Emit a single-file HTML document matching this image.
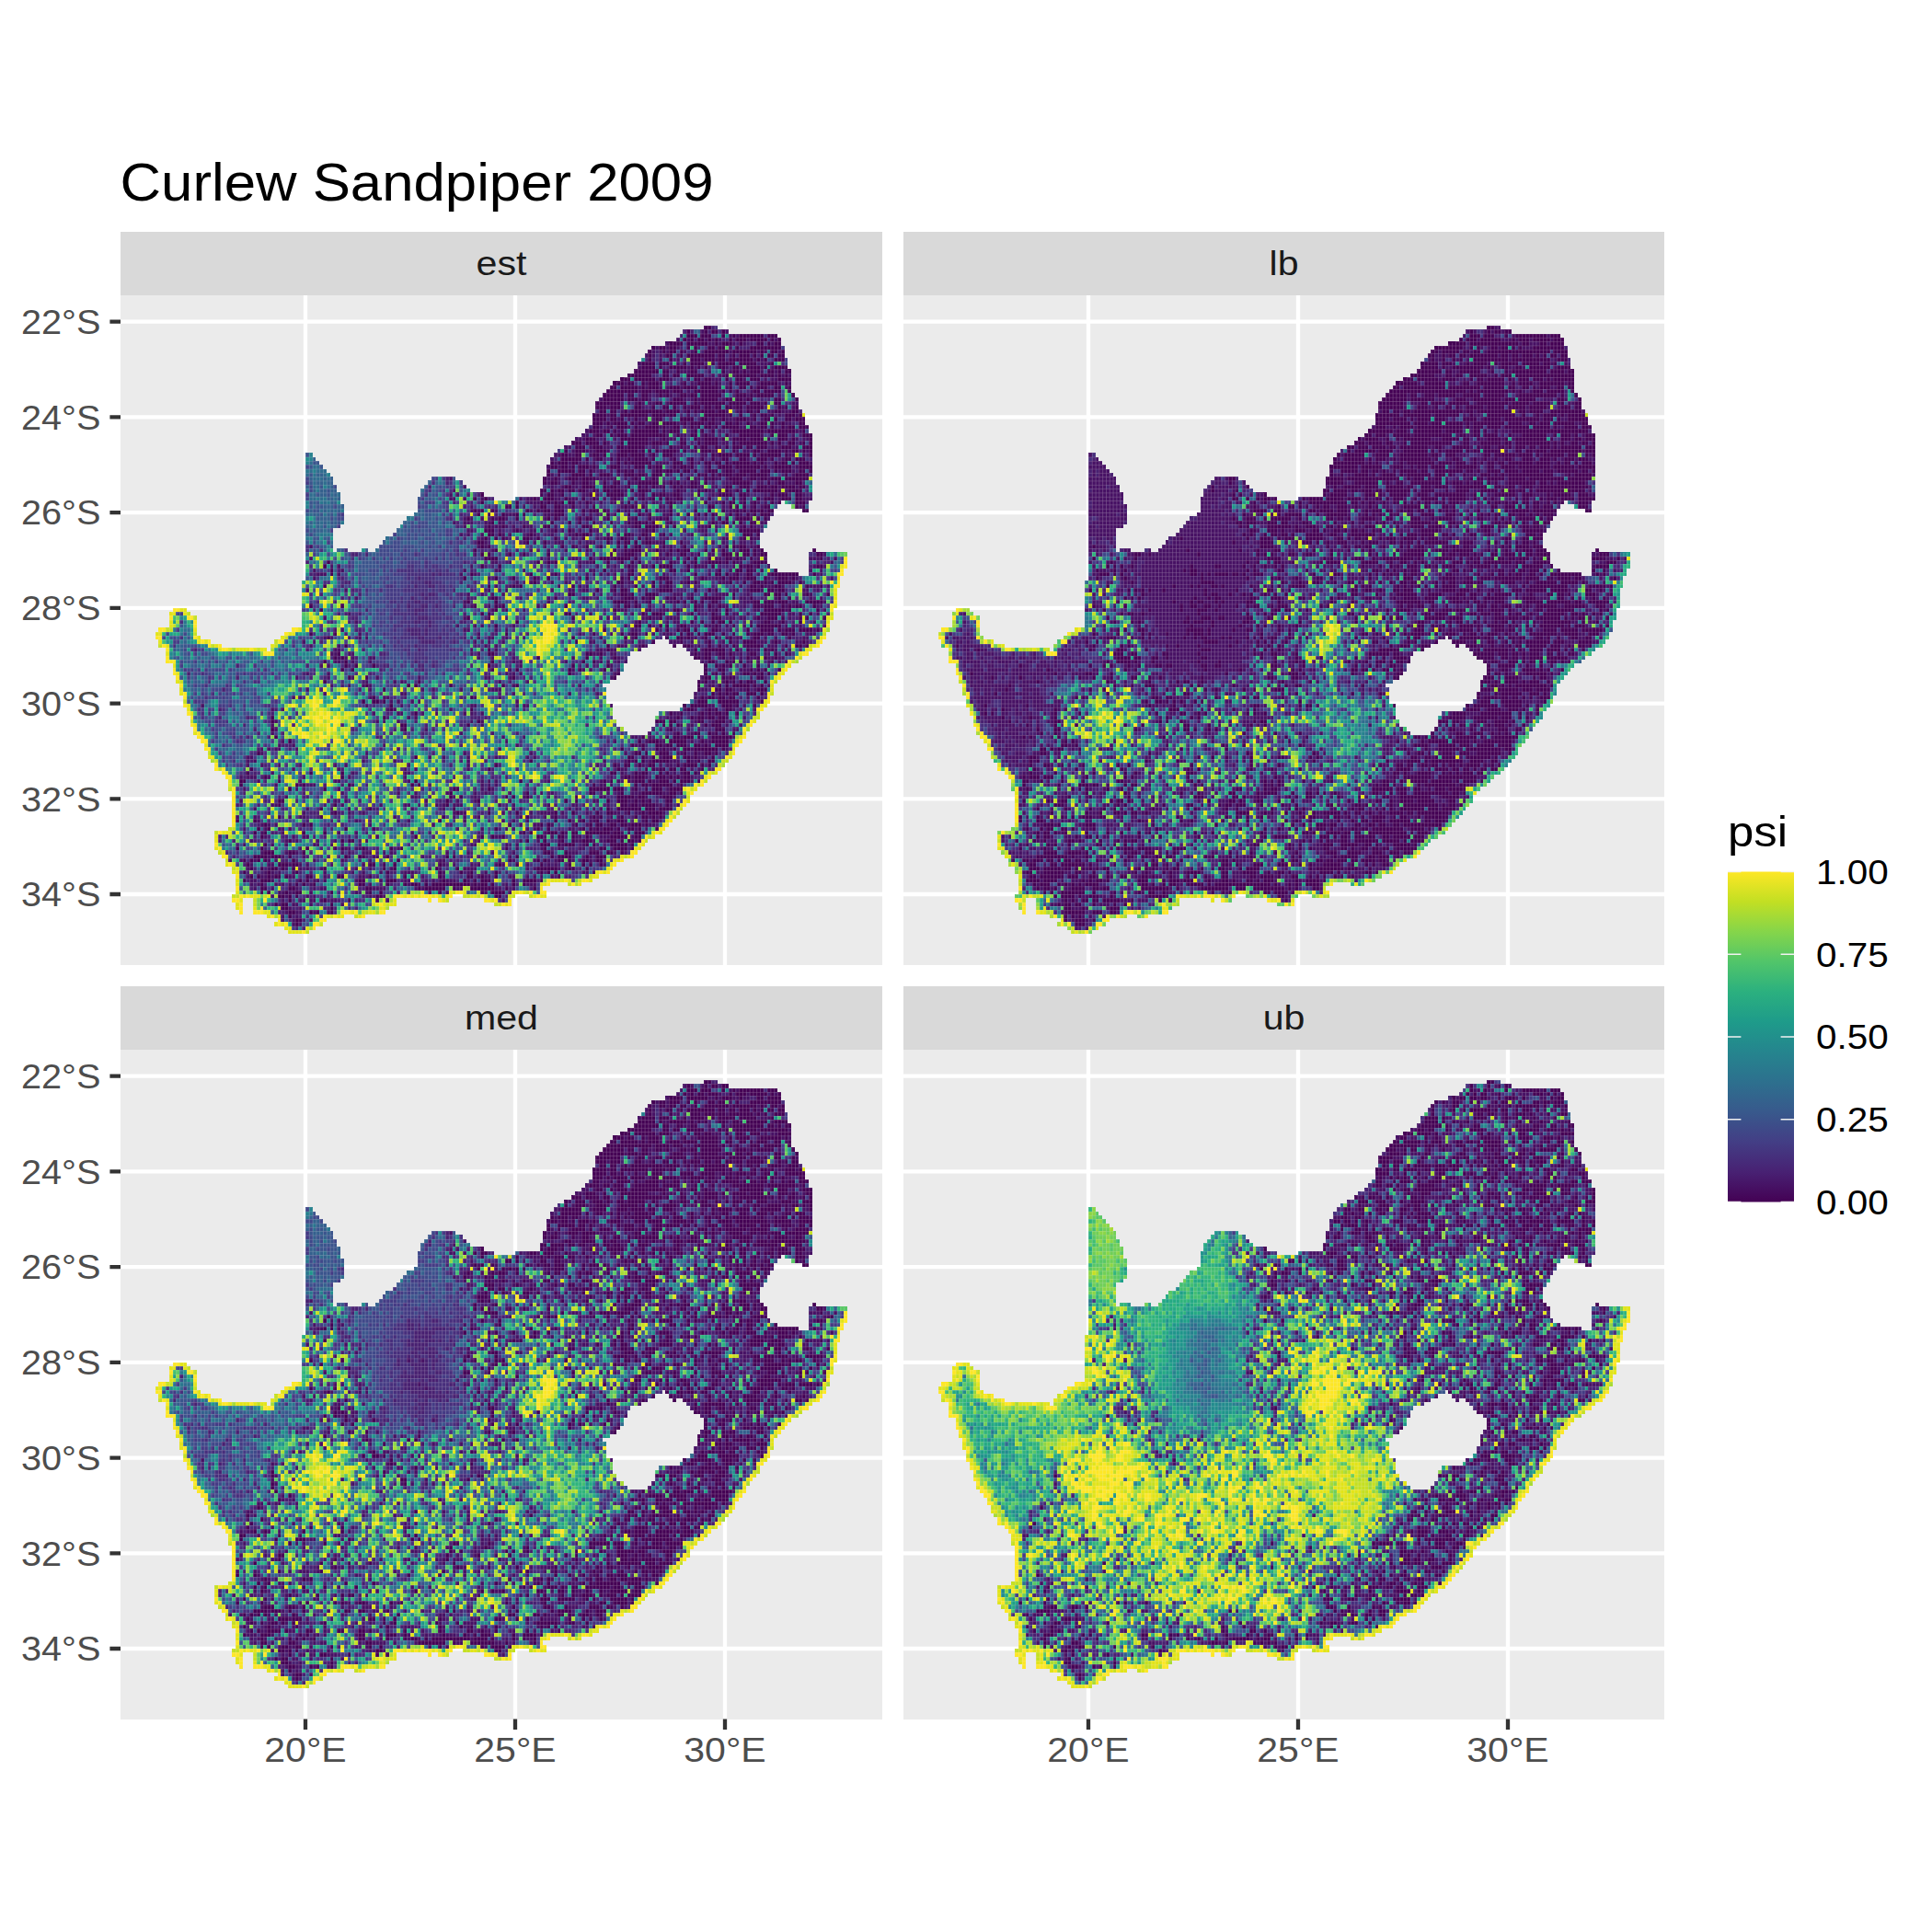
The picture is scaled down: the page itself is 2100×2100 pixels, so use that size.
<!DOCTYPE html>
<html><head><meta charset="utf-8"><style>
html,body{margin:0;padding:0;background:#fff;}
svg{display:block;}
text{font-family:"Liberation Sans", sans-serif;}
</style></head><body>
<svg width="2100" height="2100" viewBox="0 0 2100 2100">
<rect width="2100" height="2100" fill="#fff"/>

<text x="130.5" y="218.3" font-size="57" fill="#000" textLength="645" lengthAdjust="spacingAndGlyphs">Curlew Sandpiper 2009</text>
<rect x="131" y="252" width="828" height="69" fill="#D9D9D9"/>
<text x="545.0" y="298.7" font-size="37" fill="#1A1A1A" text-anchor="middle" textLength="55" lengthAdjust="spacingAndGlyphs">est</text>
<rect x="131" y="321" width="828" height="728" fill="#EBEBEB"/>
<path d="M131 349.6H959M131 453.3H959M131 557.1H959M131 660.8H959M131 764.6H959M131 868.3H959M131 972.0H959M332.0 321V1049M560.0 321V1049M788.0 321V1049" stroke="#fff" stroke-width="4.3" fill="none"/>
<g transform="translate(149.60,351.761) scale(3.8000,4.3225)" fill="none" stroke-width="1" shape-rendering="crispEdges">
<path stroke="#440154" d="M162 1h2M157 2h1m4 0h1m1 0h2m1 0h1M157 3h3m1 0h3m3 0h1m2 0h1m1 0h7m1 0h3M156 4h1m1 0h1m1 0h2m1 0h1m1 0h1m3 0h1m1 0h3m1 0h5m1 0h1m1 0h1M152 5h4m1 0h6m2 0h1m1 0h3m2 0h1m4 0h2m1 0h1m1 0h2M147 6h1m1 0h2m1 0h2m3 0h1m1 0h1m3 0h2m1 0h2m3 0h1m3 0h9M146 7h1m3 0h1m1 0h2m1 0h1m3 0h1m2 0h7m1 0h7m1 0h1m2 0h2m1 0h1M146 8h1m4 0h2m2 0h1m1 0h8m1 0h2m2 0h1m1 0h3m1 0h1m1 0h1m1 0h2m1 0h2M146 9h1m5 0h1m5 0h3m1 0h3m1 0h2m1 0h7m1 0h1m1 0h1m2 0h3M144 10h4m1 0h3m4 0h1m1 0h4m2 0h1m1 0h5m1 0h5m4 0h1M144 11h4m1 0h1m2 0h5m1 0h1m1 0h1m1 0h1m3 0h2m2 0h2m2 0h4m1 0h1m2 0h4M142 12h7m1 0h2m2 0h1m3 0h2m7 0h1m2 0h2m1 0h1m1 0h3m2 0h2m1 0h1m1 0h2M140 13h7m3 0h2m1 0h2m2 0h5m6 0h1m2 0h6m1 0h4m1 0h1m1 0h1M138 14h3m1 0h6m1 0h3m7 0h2m1 0h2m4 0h1m2 0h2m2 0h3m5 0h4M136 15h3m1 0h2m2 0h1m1 0h3m7 0h1m3 0h4m1 0h1m3 0h1m1 0h4m3 0h5m2 0h1M135 16h2m1 0h5m1 0h1m1 0h3m3 0h3m1 0h4m1 0h5m3 0h1m2 0h2m1 0h1m1 0h3m2 0h2m2 0h1M134 17h9m1 0h3m1 0h4m1 0h3m3 0h7m1 0h1m1 0h1m1 0h1m4 0h2m1 0h5m2 0h1M133 18h6m1 0h2m2 0h2m3 0h1m1 0h1m3 0h2m1 0h2m1 0h6m4 0h3m1 0h1m1 0h5m5 0h1M133 19h6m1 0h3m1 0h2m7 0h3m3 0h1m1 0h5m2 0h2m1 0h2m1 0h2m6 0h2m4 0h1M131 20h7m5 0h1m4 0h2m2 0h5m2 0h1m1 0h7m1 0h5m1 0h3m1 0h1m2 0h2M131 21h3m1 0h3m4 0h2m3 0h1m2 0h2m1 0h1m2 0h1m1 0h3m1 0h2m1 0h2m1 0h2m1 0h2m1 0h5m4 0h1m1 0h1m2 0h1M132 22h2m1 0h2m2 0h1m1 0h9m1 0h4m2 0h1m1 0h1m1 0h4m1 0h2m4 0h1m1 0h2m1 0h1m4 0h2m3 0h2M130 23h4m1 0h2m1 0h8m1 0h4m1 0h2m8 0h6m1 0h1m2 0h1m3 0h1m1 0h2m1 0h1m3 0h3m1 0h1M130 24h4m1 0h2m1 0h1m3 0h1m2 0h1m2 0h2m5 0h4m2 0h2m1 0h1m2 0h1m3 0h3m2 0h1m2 0h2m1 0h1m2 0h2m1 0h3M130 25h3m1 0h1m1 0h4m1 0h1m1 0h2m2 0h2m1 0h4m2 0h1m1 0h4m1 0h2m3 0h2m1 0h1m2 0h1m3 0h2m1 0h1m2 0h1m4 0h2M130 26h2m3 0h1m1 0h3m2 0h1m2 0h4m1 0h1m2 0h2m3 0h1m1 0h1m1 0h2m1 0h1m1 0h5m3 0h2m1 0h2m1 0h1m2 0h1m1 0h2m1 0h3M129 27h3m1 0h2m1 0h1m1 0h1m3 0h7m1 0h1m1 0h3m4 0h1m1 0h1m2 0h1m5 0h9m1 0h8m2 0h1M131 28h2m2 0h1m1 0h3m1 0h10m3 0h1m3 0h2m2 0h1m5 0h1m3 0h6m3 0h1m1 0h3m4 0h3M128 29h3m7 0h8m4 0h1m4 0h1m3 0h1m2 0h4m1 0h1m2 0h4m1 0h4m1 0h1m2 0h3m1 0h1m4 0h1M124 30h3m1 0h4m1 0h1m4 0h1m1 0h6m1 0h3m1 0h1m3 0h2m3 0h1m1 0h4m4 0h1m1 0h8m1 0h1m1 0h1m2 0h2m2 0h1m1 0h1M125 31h3m2 0h3m4 0h2m1 0h5m7 0h1m2 0h1m3 0h1m1 0h2m2 0h1m2 0h1m1 0h3m1 0h2m1 0h3m4 0h3m3 0h3M122 32h1m2 0h3m3 0h3m4 0h5m1 0h1m1 0h1m1 0h1m1 0h4m2 0h1m4 0h3m6 0h1m5 0h2m2 0h4m1 0h1m1 0h2m1 0h1m1 0h1M121 33h2m2 0h2m3 0h2m1 0h1m3 0h3m1 0h4m2 0h1m2 0h3m11 0h1m1 0h4m1 0h4m1 0h1m1 0h6m1 0h1m6 0h1M121 34h6m1 0h1m2 0h2m2 0h1m1 0h1m2 0h1m1 0h4m1 0h1m5 0h1m4 0h1m2 0h1m2 0h1m2 0h2m3 0h2m3 0h3m1 0h1m3 0h2m1 0h3M118 35h1m1 0h3m1 0h2m11 0h1m1 0h1m1 0h6m6 0h3m2 0h1m3 0h2m1 0h2m1 0h1m1 0h5m1 0h1m1 0h1m3 0h1m1 0h2m1 0h1m1 0h3M118 36h2m1 0h2m1 0h1m1 0h3m1 0h1m4 0h3m4 0h3m1 0h1m1 0h2m3 0h1m1 0h2m1 0h1m4 0h1m2 0h4m1 0h7m1 0h1m2 0h5m2 0h4M117 37h1m2 0h5m1 0h2m1 0h1m7 0h1m1 0h1m1 0h1m6 0h2m1 0h2m1 0h1m1 0h2m1 0h1m3 0h3m2 0h2m2 0h5m1 0h3m1 0h1m1 0h3m2 0h2m1 0h1M117 38h1m2 0h1m3 0h4m1 0h1m2 0h3m4 0h3m1 0h2m2 0h3m5 0h1m4 0h1m1 0h1m1 0h1m1 0h1m1 0h2m1 0h3m1 0h5m5 0h1m2 0h4M116 39h1m2 0h1m3 0h3m1 0h4m11 0h1m4 0h1m9 0h1m4 0h1m1 0h1m4 0h4m2 0h2m1 0h2m1 0h3m1 0h7M116 40h1m1 0h2m4 0h1m2 0h2m4 0h1m2 0h2m2 0h1m2 0h6m3 0h1m1 0h1m3 0h2m2 0h1m7 0h5m5 0h1m2 0h2m3 0h2M122 41h2m3 0h4m2 0h1m1 0h2m3 0h1m2 0h1m1 0h1m1 0h1m2 0h1m2 0h1m1 0h1m2 0h2m8 0h2m2 0h3m2 0h3m1 0h2m1 0h4m1 0h2M115 42h2m1 0h1m1 0h2m1 0h2m1 0h2m2 0h1m2 0h2m1 0h2m3 0h1m1 0h3m8 0h1m5 0h1m1 0h1m3 0h1m1 0h1m2 0h1m2 0h1m1 0h7m3 0h4M98 43h1m16 0h1m1 0h2m2 0h1m7 0h1m4 0h5m5 0h1m2 0h1m1 0h2m2 0h2m5 0h1m5 0h4m2 0h2m7 0h1m1 0h3m2 0h2M96 44h1m2 0h1m13 0h1m2 0h3m3 0h1m4 0h1m2 0h1m5 0h1m4 0h1m2 0h1m2 0h1m1 0h1m1 0h1m2 0h2m7 0h1m6 0h1m2 0h1m3 0h1m1 0h3m2 0h3m1 0h2M98 45h1m9 0h1m6 0h1m1 0h1m1 0h1m1 0h1m1 0h2m3 0h1m11 0h1m11 0h1m9 0h1m4 0h1m1 0h2m2 0h1m2 0h1m4 0h1m1 0h1m4 0h3M105 46h2m1 0h1m6 0h2m2 0h2m3 0h1m5 0h1m8 0h1m1 0h1m2 0h1m7 0h1m10 0h2m4 0h1m1 0h1m1 0h1m2 0h1m2 0h2m7 0h1m1 0h1M96 47h1m1 0h1m2 0h1m9 0h1m2 0h1m1 0h2m1 0h3m5 0h1m1 0h3m1 0h1m3 0h1m7 0h1m6 0h1m6 0h1m3 0h1m3 0h1m3 0h1m1 0h1m1 0h2m1 0h1m1 0h2m8 0h2M97 48h1m6 0h1m3 0h1m1 0h1m8 0h3m12 0h1m5 0h1m2 0h1m2 0h1m5 0h1m4 0h1m2 0h1m1 0h1m1 0h1m4 0h1m1 0h1m2 0h1m1 0h1m1 0h3M94 49h1m6 0h1m1 0h2m3 0h1m8 0h1m1 0h1m6 0h1m1 0h2m4 0h1m7 0h1m3 0h1m2 0h1m1 0h1m14 0h1m1 0h1m2 0h4m2 0h1m1 0h1M101 50h1m16 0h1m4 0h1m2 0h1m3 0h1m4 0h1m4 0h1m1 0h2m1 0h1m1 0h1m4 0h1m11 0h1m2 0h2m1 0h1m1 0h1m2 0h2M100 51h1m3 0h1m5 0h1m5 0h2m9 0h2m13 0h2m1 0h4m4 0h1m9 0h1m9 0h1m1 0h1M99 52h3m6 0h1m10 0h1m3 0h1m5 0h1m15 0h1m1 0h1m24 0h6M100 53h2m1 0h1m8 0h1m12 0h1m1 0h2m10 0h2m3 0h2m4 0h1m22 0h3m1 0h1M99 54h1m2 0h1m1 0h1m5 0h2m2 0h1m4 0h1m7 0h1m6 0h2m2 0h2m3 0h1m1 0h1m27 0h1m1 0h1M97 55h2m12 0h1m4 0h1m17 0h1m2 0h1m1 0h2m1 0h1m2 0h2m3 0h1m4 0h1M98 56h1m1 0h1m20 0h1m2 0h1m3 0h1m3 0h1m6 0h1m2 0h2m6 0h1m5 0h1m11 0h1m1 0h1m1 0h2m3 0h1M96 57h1m5 0h1m33 0h1m2 0h1m1 0h3m4 0h1m3 0h1m1 0h1m1 0h2m4 0h1m1 0h1m2 0h1m4 0h3m1 0h1m1 0h1m14 0h1M98 58h1m1 0h1m5 0h1m3 0h1m6 0h1m17 0h1m3 0h3m9 0h1m3 0h2m3 0h1m6 0h3m1 0h1m1 0h2m1 0h1m1 0h2m14 0h2M99 59h4m26 0h1m2 0h3m1 0h5m1 0h1m14 0h1m1 0h1m3 0h1m4 0h2m1 0h1m3 0h1m19 0h1M54 60h1m59 0h1m2 0h1m1 0h1m10 0h1m3 0h1m3 0h1m2 0h1m1 0h1m8 0h1m3 0h1m2 0h1m3 0h4m1 0h1m1 0h1m5 0h4M53 61h1m44 0h1m4 0h1m36 0h1m6 0h1m1 0h4m4 0h1m1 0h1m4 0h1m7 0h1m1 0h2m1 0h1m16 0h2M55 62h1m77 0h1m7 0h1m10 0h2m3 0h1m8 0h1m4 0h2m1 0h2m6 0h1M55 63h1m39 0h1m16 0h1m6 0h1m20 0h2m17 0h1m5 0h2m1 0h1m2 0h1m2 0h2m5 0h8m4 0h1M93 64h1m8 0h1m4 0h1m5 0h1m3 0h1m10 0h1m9 0h1m1 0h1m8 0h3m9 0h1m5 0h1m1 0h3m2 0h3m2 0h1m3 0h3m1 0h1M113 65h1m23 0h2m8 0h1m3 0h2m4 0h1m1 0h1m9 0h1m3 0h1m2 0h2m1 0h1m1 0h1m1 0h4m2 0h1M53 66h1m46 0h1m6 0h1m1 0h1m14 0h1m11 0h1m5 0h1m4 0h1m3 0h1m23 0h2m1 0h1m3 0h2m7 0h1m3 0h1M131 67h1m4 0h1m1 0h2m9 0h4m6 0h1m3 0h1m1 0h1m9 0h3m2 0h2m1 0h2M123 68h2m13 0h2m1 0h1m3 0h3m22 0h1m8 0h2m1 0h2m1 0h1m5 0h1m5 0h1M101 69h2m16 0h1m19 0h3m2 0h1m1 0h2m3 0h1m1 0h1m4 0h1m3 0h5m3 0h1m4 0h1m7 0h1m2 0h1M94 70h1m7 0h1m33 0h4m2 0h1m3 0h1m7 0h1m1 0h1m2 0h1m1 0h1m2 0h2m10 0h2m1 0h3m1 0h3m5 0h5M49 71h1m8 0h1m37 0h1m5 0h1m1 0h1m17 0h1m16 0h2m1 0h1m16 0h1m3 0h1m2 0h1m9 0h2m1 0h3m2 0h1m1 0h1m1 0h2m3 0h1M52 72h1m49 0h1m33 0h1m9 0h1m6 0h2m4 0h1m5 0h1m2 0h1m10 0h6m1 0h1m7 0h1M98 73h1m1 0h1m21 0h2m20 0h1m2 0h3m8 0h1m5 0h1m3 0h1m9 0h6m5 0h1m2 0h1M94 74h1m5 0h1m23 0h1m21 0h1m2 0h1m14 0h3m10 0h1m2 0h3m1 0h1m4 0h1m1 0h1m4 0h1M108 75h1m34 0h1m14 0h1m2 0h1m2 0h1m1 0h2m1 0h1m9 0h2m3 0h1m4 0h1M102 76h1m39 0h2m2 0h1m2 0h1m1 0h1m3 0h2m8 0h1m4 0h1m4 0h1m1 0h7M133 77h1m14 0h1m2 0h1m2 0h1m1 0h2m1 0h1m4 0h2m8 0h1m3 0h4m1 0h1m1 0h3m1 0h4m1 0h1M49 78h1m6 0h1m48 0h1m24 0h1m7 0h1m2 0h2m2 0h1m9 0h1m1 0h1m2 0h1m1 0h3m2 0h1m2 0h1m3 0h1m1 0h3m1 0h2m2 0h2m1 0h1M54 79h1m69 0h1m14 0h1m2 0h1m8 0h1m2 0h2m1 0h1m4 0h1m2 0h1m3 0h1m6 0h2m8 0h1M125 80h1m21 0h1m7 0h1m7 0h1m5 0h1m3 0h4m5 0h1m7 0h1M59 81h1m74 0h1m9 0h1m8 0h1m2 0h2m5 0h1m2 0h1m3 0h1m3 0h4m7 0h1m2 0h2m1 0h1M100 82h1m33 0h1m24 0h1m2 0h6m3 0h1m2 0h1m4 0h1m1 0h1M57 83h1m42 0h2m26 0h2m2 0h1m26 0h1m2 0h2m2 0h2m1 0h1m5 0h2m5 0h1m2 0h1M56 84h1m1 0h1m55 0h1m13 0h1m7 0h1m22 0h2m1 0h2m3 0h1m2 0h1m3 0h1m2 0h1m1 0h1m2 0h1M53 85h1m5 0h1m41 0h1m25 0h1m2 0h1m32 0h2m3 0h1m1 0h1m1 0h1m8 0h1M59 86h1m2 0h1m4 0h1m32 0h1m23 0h1m9 0h1m27 0h1m2 0h1m1 0h1m1 0h1m3 0h1m3 0h1M58 87h1m2 0h1m39 0h1m6 0h1m14 0h1m2 0h1m6 0h1m28 0h1m3 0h2m7 0h1m1 0h1m1 0h1m3 0h1M123 88h1m13 0h1m24 0h1m2 0h1m1 0h1m5 0h2m1 0h1m1 0h1m1 0h1M60 89h1m4 0h1m41 0h1m28 0h1m25 0h2m3 0h1m1 0h2m6 0h2M53 90h1m26 0h1m79 0h1m1 0h1m5 0h1m1 0h1m1 0h1m1 0h2m3 0h1M65 91h1m11 0h1m1 0h1m9 0h1m14 0h1m3 0h1m51 0h1m5 0h1m1 0h1m1 0h5m1 0h1m1 0h1M70 92h1m89 0h1m4 0h2m1 0h2m4 0h1m2 0h3M164 93h1m1 0h1m1 0h1m1 0h2m2 0h3m1 0h1M67 94h1m27 0h1m65 0h1m1 0h2m1 0h2m1 0h2m6 0h1M64 95h1m2 0h2m1 0h1m89 0h3m3 0h6m6 0h1M72 96h1m83 0h1m1 0h5m4 0h3m1 0h1m4 0h1M72 97h1m22 0h1m61 0h2m4 0h1m1 0h1m2 0h2M79 98h1m72 0h1m2 0h1m5 0h1m1 0h1m1 0h2m1 0h1m2 0h1M38 99h1m31 0h1m83 0h1m3 0h1m1 0h2m1 0h2m1 0h2M38 100h1m58 0h1m50 0h3m1 0h2m6 0h2m3 0h3M75 101h2m17 0h1m55 0h1m1 0h1m1 0h1m7 0h1m1 0h3M38 102h1m37 0h1m75 0h1m12 0h3M154 103h1m4 0h2m2 0h1m1 0h1m1 0h1m2 0h1M39 104h1m104 0h1m6 0h1m1 0h2m1 0h3m1 0h1m3 0h6M43 105h1m99 0h1m2 0h3m3 0h5m4 0h1m2 0h5M141 106h1m2 0h1m3 0h2m1 0h2m1 0h3m2 0h2m1 0h1m2 0h4M138 107h1m5 0h1m3 0h1m1 0h1m2 0h1m2 0h2m1 0h7m1 0h1M34 108h1m107 0h2m1 0h1m3 0h3m4 0h1m2 0h1m2 0h2m1 0h1M79 109h1m60 0h2m2 0h1m2 0h1m2 0h3m3 0h2m1 0h1m4 0h1M112 110h1m27 0h1m1 0h1m1 0h1m2 0h5m5 0h1m2 0h1m2 0h2M102 111h1m33 0h1m2 0h2m2 0h1m2 0h2m6 0h1m1 0h4m1 0h1m1 0h1M32 112h1m67 0h1m36 0h1m7 0h1m1 0h1m1 0h2m1 0h2m1 0h2m4 0h1M31 113h1m17 0h1m8 0h1m76 0h2m5 0h1m1 0h2m3 0h1m1 0h1m4 0h2m1 0h1M36 114h1m21 0h1m80 0h2m1 0h3m3 0h3m1 0h1m1 0h1m1 0h2M29 115h2m9 0h1m38 0h1m29 0h1m23 0h1m1 0h1m6 0h3m1 0h1m2 0h3m1 0h1m1 0h3m2 0h1M29 116h1m15 0h1m1 0h1m12 0h1m17 0h1m1 0h1m49 0h1m11 0h1m1 0h2m1 0h6m2 0h1M43 117h1m9 0h1m36 0h2m8 0h1m28 0h6m1 0h3m3 0h1m2 0h1m1 0h3m2 0h4M89 118h1m21 0h1m17 0h2m7 0h1m5 0h6m2 0h2m1 0h1M89 119h1m2 0h1m12 0h1m1 0h1m3 0h1m13 0h1m11 0h5m1 0h2m5 0h3M40 120h2m46 0h1m8 0h1m24 0h1m2 0h1m8 0h1m2 0h3m2 0h1m1 0h1m1 0h1m4 0h2M40 121h1m15 0h1m31 0h1m49 0h2m1 0h2m1 0h4m3 0h1M52 122h1m7 0h1m5 0h1m23 0h1m43 0h1m2 0h7m1 0h3m1 0h4M56 123h1m34 0h1m8 0h1m7 0h1m10 0h1m4 0h1m6 0h1m2 0h2m4 0h1m3 0h1m1 0h4M40 124h1m11 0h1m34 0h1m23 0h1m7 0h1m10 0h1m1 0h1m5 0h1m3 0h1m1 0h2m1 0h1m1 0h1M28 125h1m4 0h1m52 0h1m32 0h1m3 0h1m3 0h1m3 0h1m2 0h1m2 0h2m6 0h1m1 0h2M36 126h1m10 0h1m1 0h1m56 0h1m8 0h1m1 0h1m7 0h1m3 0h1m1 0h2m2 0h2m1 0h2m1 0h3m1 0h1M34 127h1m2 0h1m21 0h1m7 0h1m34 0h1m11 0h1m2 0h1m9 0h1m1 0h1m1 0h1m1 0h3m1 0h1m2 0h2m1 0h1m4 0h1M33 128h1m2 0h1m10 0h1m5 0h1m56 0h1m1 0h1m4 0h3m1 0h1m2 0h2m2 0h7m1 0h2m4 0h3M35 129h1m43 0h1m18 0h1m2 0h1m2 0h1m9 0h2m4 0h2m2 0h1m3 0h1m6 0h5m2 0h2M43 130h1m14 0h1m1 0h2m49 0h1m4 0h1m4 0h1m2 0h1m2 0h3m4 0h3m1 0h1m1 0h2m1 0h1M36 131h1m78 0h3m2 0h1m1 0h3m3 0h1m1 0h1m4 0h5m1 0h1M28 132h1m6 0h1m12 0h1m7 0h1m1 0h1m5 0h1m7 0h1m2 0h1m29 0h1m10 0h1m15 0h2m2 0h4m1 0h1M36 133h3m4 0h2m2 0h1m68 0h2m4 0h1m6 0h3m2 0h2m2 0h1M33 134h4m1 0h3m2 0h1m15 0h1m3 0h2m6 0h1m16 0h1m1 0h1m17 0h1m9 0h1m1 0h4m4 0h1m2 0h3M30 135h1m1 0h1m1 0h1m1 0h1m7 0h1m29 0h1m31 0h1m7 0h1m1 0h1m3 0h2m1 0h1m3 0h2m2 0h2M31 136h1m8 0h3m1 0h2m20 0h2m2 0h1m2 0h1m12 0h1m16 0h1m4 0h1m6 0h1m7 0h1m3 0h1m1 0h1m2 0h1M32 137h1m2 0h1m2 0h2m1 0h1m2 0h1m8 0h1m16 0h1m2 0h1m11 0h1m5 0h1m22 0h6m3 0h2m3 0h1M30 138h1m6 0h1m7 0h1m25 0h1m14 0h1m5 0h1m2 0h1m6 0h1m12 0h1m1 0h1m1 0h1m10 0h1M32 139h1m1 0h1m2 0h1m1 0h2m1 0h1m5 0h2m7 0h2m7 0h1m9 0h1m9 0h1m7 0h2m2 0h1m3 0h1m17 0h1M30 140h1m4 0h3m8 0h1m1 0h1m14 0h2m6 0h3m13 0h1m5 0h1m2 0h1m1 0h3m6 0h1m2 0h4m1 0h1M35 141h1m9 0h1m1 0h1m2 0h1m12 0h2m6 0h1m4 0h1m1 0h2m2 0h1m1 0h11m1 0h1m1 0h2m1 0h1m5 0h1m2 0h1M35 142h2m6 0h2m20 0h2m13 0h1m1 0h6m2 0h1m4 0h7m3 0h1m7 0h1M35 143h1m1 0h1m4 0h1m2 0h2m8 0h1m10 0h1m2 0h1m16 0h1m11 0h1m2 0h4M40 144h2m1 0h1m1 0h1m22 0h2m32 0h2M43 145h1m9 0h1m6 0h1m7 0h1M39 146h1m1 0h2m12 0h1M41 147h2m12 0h1M43 148h2m4 0h1m1 0h1m3 0h1M43 149h1M45 150h2M45 151h1"/>
<path stroke="#471164" d="M161 2h1m6 0h1M169 3h1m1 0h1M154 4h1m2 0h1m4 0h1m1 0h1m1 0h1m7 0h1m7 0h1M151 5h1m11 0h2m1 0h1m3 0h1m2 0h1m7 0h1M148 6h1m2 0h1m2 0h1m14 0h1M147 7h1m1 0h1m1 0h1m4 0h1m1 0h1m10 0h1m7 0h1m1 0h1m3 0h1M145 8h1m1 0h1m1 0h1m4 0h1m14 0h1M149 9h1m4 0h1m6 0h1m3 0h1m10 0h1m1 0h1M143 10h1m10 0h1m23 0h3M143 11h1m13 0h1m1 0h1m8 0h1m3 0h1m5 0h1m2 0h1M155 12h3m5 0h1m5 0h1m2 0h1m1 0h1m3 0h1m3 0h1M164 13h1m1 0h2m2 0h1m6 0h1m4 0h1m1 0h1m1 0h1M152 14h1m4 0h1m6 0h3m6 0h1m5 0h1m1 0h2M139 15h1m5 0h1m3 0h1m5 0h1m2 0h2m4 0h1m1 0h1m10 0h1m5 0h1m2 0h1M143 16h1m1 0h1m3 0h1m1 0h1m3 0h1m10 0h1m1 0h1m16 0h1M143 17h1m3 0h1m4 0h1m4 0h1m8 0h1m8 0h1M146 18h1m1 0h1m1 0h1m1 0h1m1 0h1m2 0h1m16 0h1m1 0h1m6 0h1M132 19h1m10 0h1m2 0h1m9 0h1m1 0h1m1 0h1m6 0h1m5 0h1M142 20h1m1 0h1m1 0h2m3 0h1m8 0h1m17 0h1m8 0h2M134 21h1m9 0h1m12 0h1m6 0h1m5 0h1m13 0h1m2 0h1M138 22h1m11 0h1m5 0h1m3 0h1m4 0h1m2 0h1m2 0h1m4 0h1m3 0h2m2 0h3M134 23h1m16 0h1m5 0h1m10 0h1m6 0h1m4 0h1m2 0h1m4 0h1M137 24h1m2 0h1m2 0h2m2 0h1m15 0h1m1 0h2m1 0h3m3 0h2m2 0h1m8 0h1M133 25h1m1 0h1m6 0h1m3 0h1m7 0h2m6 0h1m2 0h2m3 0h1m1 0h1m2 0h1m1 0h1m4 0h2m1 0h2M132 26h1m1 0h1m5 0h1m2 0h2m4 0h1m1 0h2m3 0h1m2 0h1m4 0h1m7 0h2m3 0h1m7 0h1M128 27h1m3 0h1m4 0h1m3 0h1m9 0h1m6 0h1m7 0h1m2 0h1m9 0h1m8 0h2M127 28h2m1 0h1m5 0h1m14 0h1m3 0h2m4 0h1m1 0h2m13 0h1m8 0h1M125 29h3m3 0h1m1 0h1m2 0h1m9 0h2m1 0h1m1 0h3m2 0h1m3 0h2m12 0h1m13 0h1m1 0h2M134 30h1m11 0h1m3 0h1m10 0h1m5 0h2m2 0h1m17 0h1M122 31h2m5 0h1m3 0h3m3 0h1m7 0h2m4 0h2m1 0h2m8 0h1m14 0h1m1 0h1m3 0h2M124 32h1m3 0h3m3 0h1m2 0h1m5 0h1m10 0h1m3 0h2m4 0h2m5 0h1m1 0h2m3 0h1m5 0h1m1 0h1m4 0h1M119 33h2m2 0h2m4 0h1m2 0h1m7 0h1m5 0h1m6 0h1m7 0h2m2 0h1m20 0h2m2 0h1M118 34h1m11 0h1m7 0h2m1 0h1m10 0h1m4 0h1m16 0h1m9 0h1M119 35h1m3 0h1m2 0h1m1 0h1m1 0h1m9 0h1m7 0h4m8 0h1m8 0h1m5 0h1m1 0h1m1 0h1m3 0h1m8 0h1M117 36h1m2 0h1m2 0h1m5 0h1m1 0h1m8 0h1m6 0h1m6 0h1m2 0h1m4 0h1m15 0h1m2 0h1m6 0h1M130 37h1m1 0h1m2 0h1m2 0h1m1 0h1m2 0h2m2 0h1m2 0h1m2 0h1m8 0h1m4 0h1m2 0h1m12 0h1m3 0h1M118 38h1m16 0h1m1 0h1m4 0h1m2 0h1m5 0h1m9 0h1m5 0h1m2 0h1m3 0h1m5 0h1m6 0h1M89 39h1m27 0h2m1 0h1m1 0h1m3 0h1m4 0h6m2 0h1m1 0h1m1 0h1m1 0h1m2 0h1m10 0h2m2 0h1m1 0h2m1 0h1m5 0h1m2 0h1m2 0h1M117 40h1m2 0h1m4 0h2m2 0h2m10 0h2m7 0h1m2 0h1m2 0h1m3 0h1m3 0h1m3 0h2m5 0h1m1 0h2m3 0h1m2 0h3M93 41h1m24 0h1m2 0h1m2 0h2m8 0h1m2 0h1m1 0h1m4 0h1m3 0h2m4 0h1m1 0h2m2 0h2m2 0h2m14 0h1m2 0h1m4 0h1M90 42h1m28 0h1m8 0h1m2 0h1m3 0h1m2 0h2m6 0h1m3 0h1m2 0h1m1 0h2m4 0h1m1 0h2m4 0h1m2 0h1m10 0h1m1 0h1M89 43h1m1 0h1m27 0h2m6 0h2m2 0h1m10 0h2m4 0h1m2 0h2m2 0h1m8 0h1m9 0h1m4 0h1m2 0h1m7 0h1M89 44h2m2 0h1m4 0h1m10 0h1m1 0h2m1 0h1m4 0h2m2 0h3m5 0h1m1 0h1m1 0h1m1 0h1m5 0h1m2 0h1m5 0h2m18 0h1m10 0h1m6 0h3M111 45h4m1 0h1m1 0h1m1 0h1m5 0h1m2 0h1m2 0h1m2 0h2m1 0h1m3 0h1m2 0h1m1 0h1m3 0h1m1 0h1m1 0h1m9 0h1m6 0h1m2 0h1m1 0h1m1 0h1M95 46h1m14 0h1m2 0h1m7 0h1m6 0h1m9 0h1m1 0h1m1 0h1m6 0h2m16 0h1m7 0h1m2 0h1m10 0h1M95 47h1m1 0h1m4 0h1m9 0h1m2 0h1m18 0h1m4 0h2m1 0h2m4 0h1m1 0h1m18 0h2m1 0h1m4 0h1m1 0h1M100 48h1m4 0h3m8 0h3m8 0h1m1 0h1m1 0h1m4 0h1m7 0h1m5 0h2m2 0h1m10 0h1m6 0h1M93 49h1m1 0h1m2 0h1m3 0h1m2 0h1m10 0h1m3 0h1m12 0h1m6 0h2m6 0h1m1 0h1m8 0h1m4 0h1m10 0h1m4 0h1M90 50h1m2 0h3m3 0h2m2 0h2m36 0h1m2 0h1m6 0h1m13 0h1m12 0h2M93 51h1m5 0h1m1 0h3m1 0h1m1 0h1m3 0h2m6 0h1m9 0h1m11 0h1m9 0h1m8 0h3m2 0h1m6 0h1m3 0h1M94 52h2m7 0h1m3 0h1m1 0h1m2 0h2m1 0h1m2 0h1m2 0h1m2 0h1m1 0h1m4 0h1m12 0h1m1 0h1m9 0h1m4 0h2m2 0h1M92 53h1m1 0h1m3 0h1m5 0h1m1 0h1m4 0h1m1 0h1m4 0h1m4 0h2m1 0h1m2 0h1m4 0h1m2 0h1m3 0h1m7 0h1m2 0h1m5 0h1m3 0h1M98 54h1m6 0h1m6 0h1m9 0h1m1 0h1m6 0h1m1 0h1m6 0h1m5 0h1m4 0h1m15 0h2m3 0h1m3 0h2M99 55h1m10 0h1m2 0h1m5 0h3m4 0h1m1 0h3m13 0h1m2 0h3m12 0h1m1 0h1m2 0h1m2 0h1m1 0h2m1 0h1M49 56h1m47 0h1m1 0h1m16 0h1m8 0h1m11 0h1m14 0h1m13 0h1m4 0h1m3 0h2M101 57h1m10 0h1m4 0h1m4 0h1m3 0h1m1 0h1m11 0h1m8 0h2m4 0h1m14 0h1m6 0h1M96 58h1m33 0h1m7 0h1m3 0h1m6 0h1m2 0h1m5 0h1m4 0h2m12 0h1m18 0h1M49 59h1m65 0h1m1 0h1m3 0h1m2 0h2m9 0h1m12 0h3m3 0h1m10 0h2m5 0h2m3 0h1m1 0h1m12 0h3m4 0h1M101 60h2m3 0h1m11 0h1m7 0h1m1 0h2m23 0h1m4 0h1m3 0h1m4 0h1m3 0h2m2 0h1m22 0h1M55 61h1m1 0h1m37 0h1m30 0h1m4 0h1m2 0h1m1 0h1m4 0h1m2 0h2m14 0h3m7 0h1m2 0h1m2 0h1m3 0h1m12 0h1m2 0h1M50 62h1m7 0h1m34 0h1m8 0h2m6 0h1m18 0h2m7 0h1m1 0h1m28 0h1m6 0h1m1 0h1m13 0h1m2 0h1M51 63h3m3 0h1m34 0h1m3 0h1m21 0h1m9 0h1m1 0h1m1 0h1m1 0h1m1 0h1m13 0h1m12 0h1m6 0h1m6 0h1m2 0h1m14 0h1M50 64h1m49 0h1m13 0h1m11 0h1m30 0h1m4 0h1m2 0h2m6 0h1m6 0h1m1 0h1m3 0h1m1 0h1m9 0h1M108 65h1m3 0h1m5 0h1m3 0h1m17 0h2m7 0h1m5 0h2m9 0h3m9 0h1m1 0h1m6 0h1M102 66h1m3 0h1m1 0h1m11 0h1m5 0h1m1 0h1m9 0h1m5 0h1m4 0h2m1 0h1m19 0h1m4 0h1m1 0h3m2 0h1m7 0h3m2 0h1M48 67h1m10 0h1m40 0h1m4 0h1m12 0h1m4 0h2m2 0h2m6 0h1m9 0h1m24 0h2m2 0h1m3 0h1m3 0h1m7 0h2m2 0h1M94 68h1m3 0h1m2 0h1m2 0h1m25 0h1m5 0h1m3 0h1m7 0h1m4 0h3m2 0h1m3 0h1m2 0h4m5 0h1m15 0h1m1 0h1M62 69h1m31 0h1m14 0h1m7 0h1m9 0h2m2 0h1m3 0h1m2 0h1m6 0h1m6 0h1m2 0h1m1 0h1m3 0h1m10 0h2m8 0h1m9 0h1m2 0h1M93 70h1m23 0h1m22 0h1m4 0h1m6 0h2m4 0h1m14 0h3m6 0h1m4 0h2m7 0h1M93 71h1m1 0h1m4 0h1m2 0h1m10 0h1m1 0h1m20 0h1m5 0h1m2 0h1m3 0h1m9 0h2m2 0h1m2 0h2m1 0h1m2 0h1m4 0h1m6 0h1m1 0h1m6 0h2M101 72h1m3 0h1m4 0h1m26 0h3m5 0h1m3 0h3m3 0h1m7 0h2m11 0h2m7 0h1m10 0h1M60 73h1m68 0h1m11 0h1m3 0h1m4 0h1m3 0h1m5 0h1m4 0h1m4 0h2m2 0h1m11 0h2m6 0h1M53 74h1m39 0h1m40 0h1m9 0h2m1 0h2m2 0h4m4 0h1m9 0h2m1 0h2m2 0h1m1 0h2m6 0h1M62 75h1m79 0h1m8 0h1m1 0h2m20 0h1m2 0h1m2 0h1m1 0h1m9 0h1M91 76h1m4 0h1m1 0h1m8 0h1m31 0h1m14 0h1m7 0h3m1 0h1m1 0h1m4 0h1m11 0h1m1 0h1m1 0h1m6 0h1M56 77h1m1 0h1m34 0h2m7 0h1m2 0h1m35 0h2m23 0h1m2 0h1m14 0h1m8 0h1M63 78h1m33 0h1m28 0h1m8 0h1m4 0h1m6 0h1m2 0h3m5 0h1m16 0h1m3 0h1m6 0h1m4 0h3M53 79h1m1 0h1m4 0h1m2 0h1m1 0h1m31 0h1m2 0h2m3 0h1m4 0h1m21 0h1m8 0h1m14 0h1m1 0h2m1 0h1m6 0h1m2 0h2m6 0h1m2 0h1m7 0h2M47 80h1m2 0h1m45 0h1m3 0h1m3 0h1m24 0h2m2 0h1m5 0h1m1 0h1m10 0h3m3 0h1m3 0h1m4 0h1m3 0h1m5 0h3m1 0h1m1 0h1m4 0h2m1 0h1M49 81h1m7 0h1m41 0h1m2 0h1m34 0h3m3 0h1m1 0h1m12 0h1m1 0h1m7 0h1m2 0h1m1 0h1m4 0h1m1 0h3M56 82h2m37 0h1m6 0h1m28 0h2m2 0h2m6 0h1m17 0h1m7 0h1m5 0h3m2 0h1m1 0h1m1 0h1m1 0h1M55 83h2m3 0h2m33 0h1m1 0h1m32 0h2m3 0h2m21 0h1m1 0h2m3 0h1m4 0h1m1 0h1m1 0h1m4 0h2m5 0h1M57 84h1m1 0h1m1 0h1m4 0h2m29 0h1m3 0h1m5 0h1m16 0h1m7 0h1m4 0h1m23 0h1m4 0h1m2 0h1m2 0h1m2 0h2m3 0h2m1 0h2M56 85h2m3 0h1m4 0h1m40 0h1m1 0h1m12 0h1m9 0h1m1 0h1m2 0h1m1 0h1m21 0h1m7 0h1m4 0h2m1 0h1m2 0h1m2 0h1m1 0h1M52 86h1m1 0h1m54 0h1m18 0h1m6 0h1m30 0h1m1 0h1m11 0h1M106 87h1m17 0h1m2 0h1m1 0h1m5 0h1m1 0h1m34 0h3M48 88h1m5 0h1m50 0h1m1 0h1m1 0h1m26 0h1m27 0h1m10 0h1m1 0h1M45 89h1m8 0h1m6 0h1m6 0h1m11 0h1m18 0h2m5 0h1m28 0h1m25 0h1m6 0h1m6 0h1M65 90h1m7 0h1m1 0h1m27 0h1m7 0h1m49 0h1m2 0h1m2 0h1m1 0h1m6 0h1M55 91h1m4 0h1m3 0h1m1 0h1m40 0h1m18 0h1m36 0h2m15 0h1M48 92h1m17 0h1m14 0h1m2 0h1m7 0h1m2 0h1m5 0h3m57 0h2m7 0h1m1 0h2m2 0h1M53 93h1m21 0h2m30 0h1m15 0h1m7 0h1m27 0h1m7 0h1m1 0h1M44 94h1m1 0h1m19 0h1m3 0h2m24 0h1m6 0h1m55 0h1m2 0h1m11 0h1M72 95h1m1 0h1m3 0h1m1 0h1m27 0h1M18 96h1m46 0h1m9 0h1m19 0h2m11 0h1m1 0h2m23 0h1m27 0h2m5 0h1m2 0h1M38 97h1m2 0h1m29 0h1m1 0h1m15 0h1m66 0h1m2 0h1m2 0h1m1 0h1m5 0h1m1 0h1m3 0h1M67 98h1m6 0h2m5 0h1m3 0h1m7 0h1m1 0h1m2 0h1m54 0h2m5 0h1m1 0h1m1 0h1m2 0h1M77 99h1m1 0h1m71 0h3m1 0h1m3 0h1m2 0h1m5 0h1m4 0h1M39 100h1m28 0h1m1 0h1m3 0h1m20 0h1m2 0h1m60 0h1m4 0h1m4 0h1M38 101h1m59 0h1m56 0h1m2 0h1m9 0h1m3 0h1M39 102h1m35 0h1m6 0h1m68 0h1m5 0h1m2 0h1m9 0h2M38 103h1m53 0h1m8 0h1m44 0h1m6 0h1m4 0h1m5 0h1M104 104h1m5 0h1m30 0h2m3 0h1m8 0h1m14 0h1M41 105h1m63 0h1m30 0h1m8 0h1m3 0h2m7 0h1m3 0h2M40 106h1m3 0h1m25 0h1m37 0h1m33 0h2m6 0h1m10 0h1m1 0h1M35 107h1m1 0h1m1 0h2m4 0h1m28 0h1m12 0h1m15 0h1m45 0h1m1 0h2m5 0h1m9 0h1M35 108h1m29 0h1m27 0h1m18 0h1m26 0h1m14 0h2m4 0h2m2 0h1M31 109h2m50 0h1m3 0h1m6 0h1m7 0h1m8 0h1m1 0h1m31 0h1m3 0h1m8 0h1m1 0h3M31 110h1m1 0h1m30 0h1m8 0h1m20 0h1m38 0h1m5 0h1m1 0h1m4 0h1m5 0h3m3 0h2M31 111h1m3 0h1m4 0h1m5 0h1m9 0h1m2 0h1m17 0h1m16 0h1m36 0h1m5 0h1m6 0h1m4 0h1m1 0h2M44 112h1m12 0h1m18 0h1m2 0h1m14 0h1m43 0h2m8 0h1m9 0h1m1 0h1M38 113h1m22 0h1m14 0h2m60 0h1m4 0h1m9 0h1m1 0h1m4 0h1M29 114h1m1 0h3m3 0h1m2 0h1m6 0h1m12 0h1m15 0h1m58 0h1m2 0h1m2 0h1m3 0h1m5 0h1m1 0h1m1 0h1m2 0h1M34 115h1m11 0h1m9 0h2m19 0h1m20 0h1m1 0h1m1 0h1m9 0h1m4 0h1m14 0h1m4 0h1m2 0h2m5 0h2m9 0h1M39 116h1m6 0h1m2 0h2m10 0h1m36 0h1m1 0h1m1 0h1m29 0h2m1 0h1m10 0h1m7 0h1M30 117h1m14 0h1m11 0h1m40 0h1m2 0h1m39 0h1m9 0h1M58 118h1m15 0h1m4 0h1m8 0h1m7 0h1m2 0h1m6 0h1m8 0h1m2 0h1m15 0h1m2 0h1m3 0h3m6 0h2M42 119h1m35 0h2m10 0h1m5 0h1m13 0h1m21 0h2m8 0h1m2 0h1m3 0h1m3 0h1M29 120h1m26 0h1m2 0h1m22 0h1m8 0h1m4 0h1m9 0h1m23 0h2m8 0h2m1 0h1m1 0h1M38 121h2m18 0h1m10 0h1m6 0h2m7 0h1m1 0h1m2 0h3m10 0h1m3 0h1m9 0h1m6 0h2m8 0h1m5 0h1m2 0h1m4 0h2m2 0h1m1 0h1M33 122h1m14 0h1m6 0h1m22 0h1m8 0h1m12 0h1m4 0h1m1 0h1m1 0h1m13 0h1m1 0h1m4 0h1m1 0h1M47 123h1m7 0h1m4 0h1m3 0h1m25 0h1m1 0h2m10 0h1m7 0h1m2 0h4m2 0h1m6 0h1m7 0h2m1 0h1m2 0h2m1 0h1m4 0h1M28 124h1m4 0h1m9 0h1m2 0h2m25 0h1m16 0h1m2 0h1m3 0h1m11 0h1m6 0h1m1 0h1m7 0h1m2 0h1m1 0h1m3 0h1m1 0h1m8 0h1m1 0h1m1 0h1M34 125h1m27 0h1m11 0h1m2 0h1m15 0h1m10 0h1m2 0h1m3 0h1m14 0h1m2 0h2m4 0h2m2 0h1m4 0h1M35 126h1m1 0h1m1 0h1m26 0h1m17 0h1m24 0h1m3 0h2m3 0h1m5 0h1m3 0h1m5 0h1m5 0h1m3 0h1m1 0h2M30 127h1m5 0h1m3 0h2m1 0h1m47 0h1m6 0h1m6 0h1m1 0h1m3 0h1m1 0h1m9 0h2m1 0h1m3 0h1m1 0h1m3 0h1m5 0h1m2 0h1M35 128h1m5 0h1m15 0h1m4 0h1m15 0h1m30 0h1m6 0h1m5 0h1m12 0h1m2 0h1m1 0h1M36 129h1m7 0h1m2 0h2m19 0h1m33 0h2m12 0h1m1 0h1m6 0h2m2 0h1m2 0h3m6 0h1M32 130h1m9 0h1m2 0h1m5 0h1m4 0h1m8 0h1m31 0h1m11 0h1m4 0h1m5 0h1m4 0h2m3 0h1m1 0h2m8 0h1M30 131h1m7 0h1m3 0h1m7 0h2m3 0h1m39 0h2m8 0h1m2 0h1m12 0h1m5 0h1M46 132h1m12 0h2m1 0h2m1 0h1m8 0h1m33 0h1m6 0h1m4 0h2m4 0h2m1 0h2M35 133h1m6 0h1m2 0h1m12 0h1m1 0h1m3 0h3m3 0h1m1 0h1m15 0h1m5 0h1m6 0h1m5 0h1m10 0h1m4 0h3m10 0h1m2 0h1M37 134h1m3 0h1m5 0h1m12 0h1m6 0h2m12 0h1m24 0h1m22 0h1M26 135h1m2 0h1m3 0h1m3 0h1m1 0h1m10 0h1m7 0h1m7 0h1m19 0h2m19 0h1m5 0h1m3 0h1m1 0h1m4 0h1m4 0h1M32 136h1m4 0h2m4 0h1m2 0h1m1 0h1m6 0h1m8 0h1m22 0h1m2 0h1m4 0h1m1 0h1m4 0h1m1 0h1m6 0h1m5 0h1m1 0h1m13 0h1M31 137h1m5 0h1m4 0h1m3 0h1m1 0h1m3 0h1m9 0h1m3 0h1m5 0h1m13 0h1m6 0h4m14 0h1m1 0h1m6 0h1m1 0h1M36 138h1m1 0h1m1 0h1m3 0h1m8 0h1m7 0h1m2 0h1m4 0h1m6 0h3m8 0h1m6 0h1m4 0h1m14 0h1m12 0h2M31 139h1m3 0h2m1 0h1m4 0h2m8 0h1m9 0h2m6 0h1m6 0h1m2 0h1m5 0h1m9 0h1m1 0h2m5 0h2m3 0h1m1 0h1m1 0h1m2 0h1M32 140h2m4 0h1m11 0h2m1 0h1m8 0h1m6 0h1m6 0h2m4 0h1m1 0h1m1 0h1m1 0h3m3 0h1M32 141h1m1 0h1m4 0h1m1 0h1m1 0h1m5 0h1m16 0h1m10 0h1m2 0h1m14 0h1m1 0h1m7 0h1m5 0h3M33 142h1m4 0h1m6 0h1m4 0h1m1 0h2m13 0h4m8 0h1m1 0h1m9 0h2m9 0h2m3 0h1M40 143h2m1 0h2m4 0h1m12 0h1m2 0h1m17 0h1m4 0h1m10 0h1m6 0h1M38 144h1m3 0h1m5 0h1m1 0h1m15 0h1m3 0h1M41 145h1m4 0h2m1 0h2m1 0h1m2 0h2m14 0h1m32 0h1M44 146h2m3 0h1m8 0h1M43 147h1m2 0h1M42 148h1m2 0h2m3 0h1m3 0h1M41 149h1m3 0h1M41 150h1m2 0h1m4 0h1M44 151h1m1 0h1"/>
<path stroke="#482071" d="M164 1h1M156 2h1m1 0h1m4 0h1M155 3h1M159 4h1m7 0h1m2 0h1M171 5h1m2 0h2M155 6h1m4 0h1m4 0h1m6 0h3M148 7h1m12 0h1M150 8h1m14 0h1m5 0h1m3 0h1m1 0h1M145 9h1m1 0h1m5 0h1m2 0h1m11 0h1M152 10h1m9 0h1m14 0h1M150 11h2m9 0h1m1 0h1m5 0h1M152 12h2m14 0h1M147 13h1m15 0h1M148 14h1m6 0h1m5 0h1M152 15h1m15 0h1m15 0h1M176 16h1m3 0h1M158 17h1m11 0h1m1 0h1m1 0h1M143 18h1m3 0h1m5 0h1m16 0h1M139 19h1m12 0h1m4 0h1m8 0h1m11 0h1m1 0h1M140 20h1m17 0h1M138 21h1m6 0h2m7 0h1m6 0h1m11 0h1m5 0h1M140 22h1m17 0h1m14 0h1m15 0h1M146 23h1m8 0h1m3 0h1m22 0h1m1 0h1M134 24h1m6 0h1m10 0h1m7 0h1M145 25h1m11 0h1m15 0h1m2 0h1m10 0h1M133 26h1m23 0h1m24 0h2M149 27h1m13 0h1m3 0h1M133 28h1m19 0h1m12 0h1m2 0h2m18 0h1M132 29h1m15 0h1m17 0h1m2 0h1m16 0h1M127 30h1m9 0h1m20 0h1m7 0h1m13 0h1m1 0h1m1 0h1m3 0h1M145 31h1m17 0h2m15 0h1m1 0h1M149 32h1m17 0h1m7 0h1m3 0h1m9 0h1M135 33h2m17 0h2m21 0h1m13 0h1M119 34h1m13 0h1m2 0h1m9 0h1m15 0h1m2 0h2m13 0h1m2 0h1m8 0h1M127 35h1m5 0h1m1 0h2m1 0h1m18 0h1m1 0h1m4 0h1m15 0h2M134 36h1m3 0h2m12 0h1m17 0h1m9 0h1m6 0h1M131 37h1m1 0h1m37 0h1m16 0h1M123 38h1m4 0h1m23 0h1m5 0h1m6 0h1m18 0h1M88 39h1m57 0h1m6 0h1m19 0h1M88 40h1m34 0h1m10 0h1m16 0h1m3 0h1m1 0h1m9 0h1m13 0h1m8 0h1M83 41h1m33 0h1m1 0h1m6 0h1m11 0h1m7 0h1m5 0h1m14 0h1m7 0h1m15 0h1M122 42h1m6 0h1m28 0h1m11 0h1m20 0h1M94 43h1m2 0h1m18 0h1m22 0h1m18 0h1m4 0h1m1 0h1m4 0h1m5 0h1m1 0h1m1 0h1m5 0h1m4 0h2M100 44h2m27 0h1m8 0h1m6 0h1m12 0h1m2 0h1m6 0h1m9 0h1m3 0h1M90 45h1m4 0h1m31 0h1m2 0h1m13 0h1m3 0h2m14 0h1m1 0h1m15 0h1m8 0h1M93 46h1m6 0h1m1 0h1m11 0h1m7 0h2m2 0h1m18 0h1m13 0h1m8 0h1M113 47h1m4 0h1m5 0h1m3 0h1m20 0h1m1 0h1m16 0h1m5 0h1M92 48h1m9 0h1m10 0h1m18 0h1m12 0h1m13 0h1m8 0h1m6 0h1m5 0h1M89 49h1m10 0h1m21 0h1m2 0h1m1 0h1m19 0h1m8 0h1m3 0h1m1 0h1M91 50h1m14 0h1m2 0h3m16 0h1m3 0h1m6 0h1m6 0h1m6 0h1m9 0h1m9 0h1M91 51h1m44 0h1m2 0h2m8 0h1m27 0h2M104 52h1m5 0h1m6 0h1m12 0h1m8 0h1m3 0h1m16 0h1M110 53h1m3 0h1m1 0h2m13 0h1m11 0h1m2 0h1m10 0h1m10 0h1M93 54h1m3 0h1m2 0h1m5 0h1m6 0h1m6 0h1m4 0h1m6 0h1m4 0h1m3 0h1m5 0h1m1 0h2m5 0h1M96 55h1m3 0h1m8 0h1m7 0h1m17 0h1m20 0h2m10 0h1m7 0h1M127 56h1m3 0h1m14 0h1m2 0h1m1 0h1m3 0h1m2 0h1m3 0h1m11 0h1M98 57h1m6 0h1m2 0h1m5 0h1m14 0h1m8 0h1m7 0h2m3 0h1m1 0h1m14 0h1M61 58h2m2 0h1m39 0h1m3 0h1m1 0h1m16 0h1m8 0h1m5 0h1m1 0h1m8 0h1m4 0h1M123 59h1m2 0h1m3 0h1m16 0h1m3 0h2m3 0h1m10 0h1m2 0h1m5 0h1m20 0h1M48 60h1m44 0h1m2 0h1m8 0h1m7 0h1m2 0h1m10 0h1m9 0h1m10 0h1m5 0h1m6 0h1m32 0h1m1 0h2M99 61h1m1 0h1m13 0h1m1 0h1m21 0h1m2 0h1m23 0h1m1 0h1m23 0h1M57 62h1m37 0h1m39 0h2m18 0h2m6 0h1m1 0h1M49 63h2m33 0h1m1 0h1m10 0h1m13 0h1m8 0h1m17 0h1m4 0h1m7 0h1m1 0h1m15 0h1m2 0h2m20 0h1M58 64h1m21 0h1m20 0h1m4 0h1m15 0h1m13 0h1m2 0h1m2 0h1m5 0h1m3 0h1m3 0h1m2 0h2m2 0h2m3 0h1m3 0h1m8 0h1m7 0h1M59 65h2m21 0h2m8 0h1m3 0h1m6 0h1m6 0h1m3 0h1m8 0h1m7 0h1m2 0h1m4 0h1m18 0h1m1 0h1m10 0h1m3 0h1m14 0h1M58 66h1m20 0h1m3 0h2m9 0h1m10 0h1m34 0h1m18 0h2m3 0h1m5 0h1m3 0h1M61 67h1m28 0h1m4 0h1m3 0h1m3 0h1m22 0h1m13 0h1m2 0h1m4 0h1m5 0h3m7 0h1m4 0h1m3 0h1m11 0h1m1 0h1m5 0h1M52 68h1m10 0h1m17 0h1m1 0h2m7 0h1m18 0h1m20 0h1m4 0h1m19 0h1m6 0h1m8 0h1m1 0h1M58 69h1m1 0h1m17 0h1m3 0h1m12 0h2m3 0h1m7 0h1m20 0h1m4 0h1m7 0h1m24 0h1m6 0h1m1 0h1m1 0h2m13 0h1M51 70h1m4 0h1m22 0h2m42 0h2m16 0h1m2 0h1m6 0h1m11 0h1m2 0h1m5 0h1m13 0h1M77 71h1m3 0h2m2 0h1m4 0h1m8 0h1m53 0h1m2 0h1m8 0h1m5 0h2m10 0h1m6 0h1M50 72h1m14 0h1m13 0h3m22 0h1m23 0h1m4 0h1m26 0h2m4 0h1m2 0h1m2 0h1m17 0h1M57 73h1m1 0h1m3 0h1m15 0h1m13 0h1m7 0h1m16 0h1m6 0h1m10 0h1m2 0h1m17 0h1m3 0h2m3 0h1m17 0h1m12 0h1M61 74h2m17 0h3m16 0h1m5 0h1m4 0h1m21 0h1m3 0h2m30 0h1m18 0h2M55 75h1m4 0h1m18 0h2m2 0h1m8 0h2m30 0h1m20 0h1m27 0h1m3 0h1m4 0h1m2 0h1m1 0h1M83 76h1m63 0h1m9 0h1m1 0h2m27 0h1M52 77h1m9 0h2m13 0h4m1 0h1m40 0h1m5 0h1m13 0h1m5 0h1m5 0h1m12 0h1m8 0h1m17 0h1M59 78h1m5 0h1m12 0h3m1 0h1m18 0h2m8 0h1m15 0h1m15 0h1m9 0h1M62 79h1m17 0h2m4 0h1m6 0h1m1 0h1m8 0h1m24 0h1m36 0h1m3 0h1m4 0h1m11 0h3M52 80h1m28 0h4m5 0h1m7 0h1m44 0h2m11 0h1m9 0h1m3 0h1m21 0h1M70 81h1m8 0h1m16 0h1m3 0h1m30 0h1m27 0h1m4 0h1m2 0h1m16 0h1m5 0h1M16 82h1m31 0h1m15 0h1m15 0h1m17 0h1m34 0h1m23 0h2m13 0h1m16 0h1M69 83h2m31 0h1m3 0h2m25 0h1m30 0h1m3 0h1m2 0h1m5 0h1m5 0h1M62 84h1m72 0h1m2 0h1m29 0h1M58 85h1m20 0h1m28 0h1m22 0h1m4 0h1m25 0h1m2 0h1M28 86h1m19 0h1m11 0h1m7 0h1m1 0h2m8 0h2m2 0h1m10 0h1m5 0h2m5 0h1m17 0h1m3 0h2m42 0h2M69 87h1m11 0h1m50 0h1m43 0h1m1 0h1M14 88h1m32 0h1m18 0h1m27 0h1m4 0h1m6 0h1m17 0h1m44 0h1m2 0h1M28 89h1m20 0h1m3 0h1m56 0h1m1 0h1m66 0h1M64 90h1m11 0h1m29 0h1m25 0h1m30 0h1m9 0h1M58 91h1m40 0h1m31 0h1m30 0h1m12 0h1m1 0h1M24 92h1m27 0h1m10 0h1m36 0h1m29 0h1m32 0h1m3 0h1m3 0h1m3 0h1M103 93h1m6 0h1m50 0h2m2 0h1m13 0h1M76 94h1m7 0h1m7 0h1m67 0h1m4 0h1m2 0h1m3 0h1m5 0h2M69 95h1m89 0h1m14 0h1m1 0h2M23 97h1m15 0h1m45 0h1m24 0h1m50 0h1m5 0h1M38 98h1m6 0h1m25 0h1m6 0h1m17 0h1m60 0h1m1 0h1m16 0h1M23 99h1m7 0h1m39 0h1m23 0h3m1 0h1m49 0h1m7 0h1m7 0h1m5 0h1M79 100h1m8 0h1m69 0h1m4 0h1m4 0h1M30 101h1m13 0h1m13 0h1m4 0h1m18 0h1m2 0h1m6 0h1m35 0h1m28 0h1m3 0h1m1 0h1M33 102h1m27 0h1m11 0h1m4 0h1m5 0h1m62 0h1m5 0h1m7 0h1m1 0h1M34 103h1m6 0h1m30 0h1m3 0h1m4 0h1m26 0h1m46 0h1m1 0h1m10 0h1M31 104h1m5 0h1m30 0h2m62 0h1m10 0h1m3 0h1m15 0h1M134 105h1m22 0h1m2 0h1M41 106h3m37 0h1m4 0h1m5 0h1m52 0h1m11 0h1M34 107h1m8 0h1m25 0h1m62 0h1m3 0h1m32 0h1M84 108h1m48 0h1m7 0h1m6 0h1m8 0h2m9 0h1M65 109h1m32 0h1m4 0h1m20 0h1m7 0h1m21 0h1M32 110h1m42 0h1m11 0h1m4 0h1m6 0h1m45 0h1M36 111h1m52 0h1m13 0h1m29 0h1m8 0h1m2 0h1m7 0h1m1 0h1m6 0h1m2 0h1M37 112h1m20 0h1m42 0h1m6 0h1m25 0h1m1 0h1m26 0h2M33 113h1m28 0h1m22 0h1m53 0h1m1 0h1m10 0h1M30 114h1m4 0h1m54 0h1m7 0h1m2 0h1m3 0h1m10 0h1m11 0h1m5 0h1m11 0h1m12 0h2M36 115h1m39 0h1m12 0h1m26 0h1m7 0h1m4 0h1m4 0h1m3 0h1M48 116h1m4 0h1m4 0h1m6 0h1m4 0h1m12 0h1m27 0h1M47 117h1m12 0h1m13 0h1m6 0h1m7 0h1m6 0h1m7 0h1m8 0h1m29 0h1M30 118h1m16 0h1m50 0h1m1 0h2m8 0h1m2 0h1m3 0h1m14 0h1m3 0h1m17 0h1M36 119h1m3 0h1m6 0h2m10 0h1m20 0h1m2 0h1m11 0h1m1 0h1m14 0h1m4 0h1m1 0h1m28 0h1M36 120h1m8 0h1m8 0h1m2 0h1m5 0h1m22 0h1m2 0h1m12 0h1m6 0h1m38 0h1M28 121h2m4 0h1m18 0h1m26 0h1m1 0h1m3 0h1m10 0h1m7 0h1m10 0h1m2 0h1m7 0h1m5 0h1M41 122h1m23 0h1m1 0h2m17 0h1m30 0h2m7 0h1m1 0h1m6 0h1m12 0h1M37 123h1m11 0h3m5 0h2m2 0h1m1 0h1m34 0h1m7 0h1m7 0h1m10 0h1m3 0h1m2 0h1M34 124h1m13 0h1m2 0h1m8 0h1m17 0h1m17 0h1m11 0h1m3 0h1m8 0h2m11 0h1m6 0h1M48 125h1m6 0h1m7 0h1m2 0h1m33 0h1m23 0h1m16 0h1m7 0h1M34 126h1m13 0h1m5 0h1m3 0h1m30 0h1m43 0h1m3 0h1m10 0h1M46 127h1m2 0h1m3 0h1m1 0h1m8 0h1m3 0h1m34 0h1m11 0h1m4 0h1m18 0h1M30 128h1m7 0h2m25 0h1m17 0h1m13 0h2M23 129h1m1 0h1m7 0h1m3 0h1m3 0h2m7 0h1m2 0h1m6 0h1m1 0h1m21 0h1m12 0h1m24 0h1M23 130h1m3 0h1m5 0h1m1 0h1m8 0h1m18 0h1m29 0h1m2 0h1M28 131h1m29 0h1m4 0h1m42 0h1m19 0h1m4 0h1m1 0h1m6 0h1M36 132h1m15 0h1m15 0h1m4 0h1m37 0h3m4 0h1m4 0h2m10 0h1m4 0h1M25 133h1m23 0h1m11 0h1m6 0h1m4 0h1m16 0h1m4 0h1m36 0h1M27 134h1m20 0h1m5 0h1m10 0h1m4 0h1m5 0h1m6 0h1m8 0h1m1 0h2m1 0h1m16 0h1m9 0h1m2 0h1m8 0h1M41 135h2m2 0h1m13 0h1m29 0h1m1 0h1m11 0h1m22 0h1m3 0h1M30 136h1m57 0h1m7 0h1m19 0h1m1 0h1m1 0h1m1 0h1M33 137h1m2 0h1m10 0h1m1 0h2m8 0h1m4 0h1m15 0h1m2 0h1m42 0h1M31 138h1m3 0h1m3 0h1m6 0h1m2 0h1m22 0h2m1 0h1m3 0h1m13 0h1m9 0h1m1 0h1m10 0h1m4 0h1m3 0h1M54 139h1m10 0h1m2 0h1m50 0h1m2 0h2M31 140h1m13 0h1m29 0h1m5 0h1m9 0h1m22 0h1M33 141h1m2 0h1m3 0h1m7 0h1m20 0h1m2 0h1m31 0h1m3 0h1M32 142h1m13 0h1m2 0h1m13 0h2m8 0h1m32 0h1m5 0h1M63 143h1m10 0h1M49 144h1m4 0h1m9 0h2m1 0h1m37 0h1M54 145h1m2 0h1m4 0h1M40 146h1M44 147h2m7 0h2m1 0h1m3 0h1m1 0h1M40 148h2M44 149h1m1 0h1M47 150h1M45 152h1m1 0h1"/>
<path stroke="#472E7C" d="M165 1h1M166 2h1M179 3h1M168 4h1m11 0h1M176 5h1m2 0h1M162 6h1M157 7h1M148 8h1m19 0h1M148 9h1m32 0h1M155 10h1m28 0h1M165 11h1M162 12h1m21 0h1M148 13h1m3 0h1m9 0h1M153 14h1m15 0h1m8 0h1M142 15h1m8 0h1m2 0h1m21 0h1M181 16h1M156 17h1m11 0h1M139 18h1m27 0h1M148 19h1m30 0h1m4 0h1M138 20h1m2 0h1m26 0h1m5 0h1m10 0h2M182 21h1M131 22h1m5 0h1m17 0h1M177 23h1M150 24h1m32 0h2M188 25h1M129 26h1m6 0h1m4 0h1M135 27h1m3 0h1m17 0h1m10 0h1M140 28h1m16 0h1m13 0h1m14 0h1M137 29h1m51 0h1M132 30h1m3 0h1m17 0h1m4 0h1m25 0h1M146 31h1m2 0h1m10 0h1m6 0h1M136 32h1m20 0h1M148 33h1m21 0h1M134 34h1m15 0h1m3 0h1m4 0h2m2 0h1m5 0h1m5 0h1m15 0h1M129 35h1m1 0h1m20 0h1M141 36h1m17 0h1M128 37h1m13 0h1m15 0h1m18 0h1m3 0h1M119 38h1m2 0h1m8 0h1m6 0h1m18 0h1m5 0h1m22 0h1m5 0h1M121 39h1m18 0h1m9 0h1m4 0h2M84 40h1m4 0h1m31 0h1m10 0h1m30 0h1m15 0h1M116 41h1m3 0h1m50 0h1m4 0h1M83 42h1m5 0h1m35 0h1M82 43h1m5 0h1m34 0h1m8 0h1m12 0h1m10 0h2m17 0h1m1 0h1M110 44h1m10 0h1m6 0h1m27 0h1m18 0h1M88 45h1m5 0h1m2 0h1m35 0h1m20 0h1m8 0h1m4 0h1m9 0h1M99 46h1m17 0h2m6 0h1m1 0h1m4 0h1m4 0h1m19 0h1m19 0h1M88 47h1m5 0h1m10 0h1m32 0h1M89 48h1m3 0h2m1 0h1m28 0h1m4 0h1m4 0h1m34 0h1m2 0h1M88 49h1m3 0h1m17 0h1m7 0h1m11 0h1m14 0h1m6 0h1m8 0h1M97 50h1m9 0h2m12 0h1m3 0h1m5 0h1m5 0h1m19 0h1m2 0h1m5 0h1M92 51h1m2 0h1m10 0h1m2 0h1m13 0h1m1 0h1m12 0h1m27 0h1m2 0h1m1 0h1m2 0h1M96 52h1m5 0h1m3 0h1m4 0h1m8 0h1m6 0h1m8 0h1m41 0h1M93 53h1m8 0h1m16 0h1m12 0h1m9 0h1m12 0h1m5 0h1m14 0h1M91 54h1m16 0h1m17 0h1m17 0h1M89 55h1m2 0h1m25 0h1m4 0h2m2 0h1m4 0h1m5 0h1m35 0h1M48 56h1m63 0h1m5 0h1m7 0h1m14 0h1m3 0h1m7 0h1m13 0h1M48 57h1m3 0h1m6 0h1m31 0h1m7 0h2m36 0h1m6 0h1m21 0h1M79 58h1m11 0h1m1 0h1m7 0h1m5 0h1m42 0h1m2 0h1m3 0h1m34 0h2M61 59h1m23 0h1m30 0h1m26 0h1m52 0h1M82 60h1m11 0h1m4 0h1m3 0h2m7 0h1m20 0h1m8 0h1m3 0h1m2 0h1m19 0h1M49 61h1m10 0h1m16 0h2m3 0h1m1 0h2m3 0h1m2 0h1m20 0h1m21 0h1m1 0h1m8 0h1m9 0h1m1 0h1m8 0h1m1 0h1M74 62h5m1 0h1m2 0h1m1 0h2m1 0h1m7 0h1m18 0h1m21 0h1m21 0h1M77 63h7m1 0h1m1 0h4m13 0h1m17 0h2m1 0h1m13 0h1m8 0h1m9 0h1m33 0h1M51 64h1m5 0h1m19 0h1m1 0h1m1 0h4m7 0h1m2 0h1m16 0h1m7 0h1m2 0h2m28 0h1m40 0h1M53 65h2m3 0h1m19 0h4m2 0h3m13 0h1m3 0h1m2 0h1m8 0h1m8 0h1m2 0h2m5 0h1m28 0h1m30 0h1M71 66h2m4 0h1m2 0h3m3 0h2m1 0h1m8 0h1m28 0h1m7 0h1m1 0h1m1 0h1m1 0h1m11 0h1m3 0h1M56 67h1m5 0h2m1 0h1m3 0h1m6 0h7m1 0h1m1 0h2m8 0h1m17 0h1m17 0h1m14 0h1m5 0h1m41 0h1m1 0h1M49 68h1m11 0h1m17 0h2m1 0h1m2 0h1m2 0h1m2 0h1m1 0h1m5 0h1m12 0h1m6 0h2m31 0h1m19 0h1m11 0h1M75 69h1m3 0h1m1 0h1m1 0h3m3 0h1m2 0h1m10 0h1m17 0h1m1 0h1m2 0h1m3 0h1m5 0h2m16 0h1m22 0h1m10 0h1m1 0h1M72 70h2m1 0h1m1 0h2m2 0h4m1 0h1m3 0h1m4 0h1m22 0h1m30 0h1m5 0h1M63 71h1m10 0h1m3 0h3m3 0h1m1 0h1m7 0h1m31 0h1m9 0h1m4 0h1m5 0h1m9 0h1m16 0h1m7 0h1m14 0h1M73 72h2m2 0h2m3 0h1m1 0h1m1 0h1m21 0h1m38 0h2m24 0h1M61 73h2m10 0h6m1 0h3m1 0h2m1 0h1m8 0h1m36 0h1m9 0h1m19 0h1m12 0h1M60 74h1m11 0h1m3 0h1m1 0h2m3 0h4m1 0h2m18 0h1m54 0h1m3 0h1M12 75h1m41 0h1m8 0h1m11 0h4m2 0h2m1 0h1m5 0h1m4 0h1m5 0h1m42 0h1m2 0h1m11 0h1m5 0h1m5 0h1m20 0h1M52 76h1m9 0h1m10 0h3m1 0h1m1 0h1m1 0h2m1 0h2m2 0h1m5 0h1m5 0h1m5 0h1m3 0h1m22 0h1m24 0h1m10 0h1m14 0h1m5 0h1M49 77h1m4 0h1m9 0h1m1 0h1m6 0h1m2 0h1m4 0h1m1 0h3m1 0h1m1 0h2m16 0h1m18 0h1m26 0h1m9 0h1m3 0h1m3 0h1m1 0h1m2 0h1M50 78h1m19 0h1m5 0h2m3 0h1m1 0h6m2 0h1m1 0h1m35 0h1m1 0h1m17 0h1m18 0h1m13 0h2m4 0h2M12 79h1m38 0h2m20 0h1m1 0h5m2 0h4m2 0h1m1 0h1m1 0h1m15 0h1m39 0h2m13 0h1m21 0h1M63 80h1m1 0h1m8 0h1m5 0h1m4 0h3m1 0h1m1 0h1m2 0h1m8 0h1m4 0h1m12 0h1m18 0h1m16 0h1m2 0h1m3 0h1m20 0h1M10 81h1m33 0h1m3 0h1m17 0h1m6 0h1m1 0h1m1 0h1m2 0h3m1 0h3m1 0h1m8 0h1m31 0h1m12 0h1m18 0h2M58 82h1m17 0h2m3 0h2m6 0h2m1 0h1m12 0h1m1 0h1m14 0h1m6 0h1m38 0h1M71 83h1m5 0h1m1 0h3m11 0h1m2 0h1m42 0h1m47 0h1M55 84h1m14 0h1m8 0h4m7 0h1m17 0h1m30 0h1m33 0h1M62 85h1m17 0h1m1 0h1m1 0h2m19 0h2m5 0h1m8 0h1m2 0h2m53 0h1M33 86h1m24 0h1m2 0h1m4 0h1m2 0h1m5 0h1m2 0h1m6 0h1m20 0h1m30 0h1m33 0h1M36 87h1m13 0h1m19 0h1m1 0h1m6 0h2m10 0h1m2 0h1m2 0h1m2 0h1m10 0h1m51 0h1m4 0h1M18 88h1m11 0h1m7 0h1m10 0h2m11 0h1m4 0h1m9 0h1m4 0h1m2 0h1m1 0h1m12 0h1m2 0h1m67 0h1m7 0h1m2 0h1M20 89h1m26 0h1m33 0h1m26 0h1m19 0h1m36 0h1m5 0h1M20 90h1m9 0h1m2 0h2m23 0h1m20 0h1m20 0h1m1 0h1m10 0h1m8 0h1m42 0h1m5 0h1M19 91h1m5 0h1m47 0h1m6 0h1m43 0h1m40 0h1m3 0h1M46 92h1m38 0h1m42 0h1M21 93h1m40 0h1m3 0h1m2 0h1m14 0h1m2 0h1m17 0h1m7 0h1m6 0h1m11 0h1m27 0h1M19 94h1m27 0h1m24 0h2m1 0h1m5 0h1m11 0h1m7 0h1m29 0h1m44 0h1M16 95h1m22 0h1m47 0h1m85 0h1M26 96h1m3 0h1m5 0h2m29 0h1m9 0h1m4 0h1m15 0h1m4 0h1M17 97h1m6 0h1m41 0h1m104 0h1M18 98h1m1 0h1m14 0h1m1 0h1m27 0h1m6 0h1m78 0h1m4 0h1m1 0h1M18 99h1m13 0h2m9 0h1m54 0h1m1 0h1m29 0h1m19 0h1M22 100h1m2 0h1m10 0h2m29 0h1m24 0h2m60 0h2M88 101h1m4 0h1m12 0h1m41 0h1m18 0h1M62 102h1m24 0h1m5 0h1m43 0h1m11 0h1m4 0h2m2 0h1m3 0h1m1 0h1M70 103h1m11 0h1m52 0h1m2 0h1m12 0h2m13 0h1M27 104h1m1 0h1m51 0h1m1 0h1m77 0h1M28 105h2m14 0h1m64 0h1m34 0h1m14 0h1m9 0h1M24 106h1m11 0h1m17 0h1m54 0h1m23 0h2m3 0h1M38 107h1m43 0h1m28 0h1m21 0h1m6 0h1m4 0h1m8 0h1m11 0h1M32 108h2m2 0h1m8 0h1m44 0h1m3 0h1m18 0h1m38 0h1m13 0h1M36 109h1m27 0h1m27 0h1m7 0h1m3 0h1m37 0h1m3 0h1m16 0h1M27 110h1m10 0h1m26 0h1m8 0h1m35 0h1m6 0h1m18 0h1m1 0h1m22 0h1M29 111h1m7 0h1m4 0h1m2 0h1m52 0h1m15 0h1m14 0h1m2 0h1M49 112h1m25 0h1m22 0h2m30 0h1m1 0h1m10 0h1M29 113h2m1 0h1m1 0h1m30 0h2m11 0h1m22 0h1m2 0h1m13 0h1m27 0h1m3 0h1M61 114h1m31 0h1m8 0h2m13 0h1m18 0h1M33 115h1m25 0h1m28 0h1m8 0h1m17 0h1m15 0h1m20 0h1M99 116h1m14 0h1m13 0h1m2 0h1m11 0h1m9 0h1m2 0h1M39 117h1m19 0h1m3 0h1m14 0h1m4 0h1m15 0h1m11 0h1m13 0h1m18 0h1m5 0h1M38 118h1m2 0h1m7 0h1m27 0h1m6 0h1m12 0h1m21 0h1M51 119h1m3 0h1m10 0h1m1 0h1m5 0h1m27 0h1m1 0h1m9 0h1m12 0h1m6 0h3M37 120h1m1 0h1m20 0h1m11 0h1m6 0h1m5 0h1m1 0h1m7 0h1m14 0h2m16 0h1m6 0h1m14 0h1M41 121h1m13 0h1m11 0h1m36 0h1m7 0h1m18 0h1m3 0h2m13 0h1m2 0h1M37 122h1m4 0h1m8 0h1m10 0h1m7 0h1m5 0h1m19 0h1m23 0h1m1 0h1M48 123h1m16 0h1m2 0h1m8 0h1m7 0h1m11 0h1m11 0h1m12 0h1m15 0h1M30 124h1m10 0h1m7 0h2m5 0h2m8 0h1m7 0h1m38 0h2m5 0h1m3 0h1m3 0h1m10 0h2M37 125h1m19 0h1m2 0h1m29 0h1m41 0h1m13 0h1M30 126h1m2 0h1m11 0h2m6 0h1m2 0h1m7 0h1m5 0h1m4 0h2m11 0h1M72 127h1m48 0h1m3 0h1M70 128h1m9 0h1m30 0h1M45 129h1m12 0h1m7 0h1m11 0h1m32 0h1m15 0h1M34 130h1m2 0h2m2 0h1m13 0h1m22 0h1m3 0h1m25 0h1m9 0h2M77 131h1m16 0h1m18 0h2M39 132h1m27 0h1m10 0h1m7 0h1m17 0h1m1 0h1m7 0h1m4 0h1m5 0h1m5 0h1M28 133h1m17 0h1m59 0h1m19 0h1m13 0h1M31 134h1m13 0h1m5 0h2m4 0h1m8 0h1m5 0h1m9 0h1m2 0h1m1 0h1m31 0h1m10 0h1m6 0h1M31 135h1m19 0h1m1 0h1m9 0h1m8 0h1m12 0h1m4 0h1m1 0h1m25 0h1m14 0h1m1 0h1M58 136h1m10 0h1m42 0h1m18 0h1M40 137h1m20 0h1m5 0h1m9 0h1m10 0h1m15 0h1m20 0h1m4 0h1M29 138h1m3 0h1m25 0h2m2 0h1m16 0h1m10 0h1m6 0h1m13 0h1m11 0h1M46 139h1m20 0h1m4 0h1m9 0h1m7 0h3m3 0h1m27 0h1m3 0h1M34 140h1m5 0h1m2 0h1m3 0h1m1 0h1m24 0h1m8 0h1m1 0h1m9 0h1m5 0h1m6 0h1M44 141h1m1 0h1m15 0h1m10 0h2m8 0h1M41 142h2m8 0h1m7 0h1m44 0h1M54 143h1m2 0h1m3 0h1M47 144h1m4 0h1M40 145h1m1 0h1m1 0h1m13 0h1m4 0h2m38 0h1M38 146h1m12 0h1M47 147h1M56 148h1M48 149h1M43 150h1"/>
<path stroke="#443B84" d="M184 6h1M156 8h1M185 9h1M157 10h1m7 0h1M160 12h1M154 14h1m25 0h1M157 15h1m9 0h1m7 0h1M173 17h1m4 0h1M147 19h1m29 0h1M149 21h1M158 23h1m1 0h1M139 24h1m19 0h1m17 0h1M166 26h1M162 27h1M179 28h2M157 29h1M135 30h1M136 31h1m32 0h1m3 0h1M120 32h1m2 0h1M145 33h1m13 0h1M129 34h1m21 0h1m30 0h1m4 0h1M161 35h1M151 36h1m9 0h1m3 0h1M136 37h1m18 0h1m5 0h1M121 38h1m34 0h1m26 0h1M85 39h1m1 0h1m50 0h1m13 0h1M48 40h1m43 0h1m42 0h1m2 0h1m26 0h1m10 0h1M88 41h3m75 0h1M82 42h1m4 0h1m60 0h2m2 0h1m6 0h1M48 43h1m47 0h1m29 0h1m35 0h1M81 44h1m58 0h1m23 0h1M82 45h3m2 0h1m3 0h1m33 0h1m5 0h1m27 0h1M80 46h1m7 0h1m5 0h1m1 0h1m4 0h1m10 0h1m16 0h1m3 0h1m17 0h1m22 0h1M106 47h1m15 0h1m3 0h1m9 0h1m9 0h1M58 48h1m28 0h1m34 0h1m3 0h1m1 0h1m10 0h1m21 0h1m15 0h1M79 49h1m27 0h1m13 0h1m9 0h1m5 0h1m6 0h1m25 0h1M96 50h1m1 0h1m16 0h1m11 0h1m8 0h1M57 51h1m22 0h1m27 0h1m4 0h1m18 0h1m1 0h1M55 52h1m32 0h2m15 0h1m10 0h1m20 0h1m3 0h2m5 0h1m10 0h1M73 53h1m14 0h2m5 0h1m26 0h1m40 0h1M74 54h1m20 0h1m19 0h1m2 0h1m34 0h1m4 0h1m7 0h1M54 55h1m36 0h1m3 0h1m19 0h1m38 0h1M51 56h1m34 0h1m4 0h1m9 0h1m20 0h1m34 0h1m6 0h1M76 57h1m4 0h1m6 0h1m1 0h1m6 0h1m21 0h2m40 0h1m9 0h1M50 58h1m12 0h1m11 0h1m4 0h1m6 0h1m1 0h1m2 0h1m10 0h1m17 0h1m44 0h1m8 0h1M63 59h1m3 0h1m2 0h1m1 0h1m3 0h1m5 0h1m4 0h1m1 0h1m2 0h1m3 0h1m1 0h1m20 0h1m11 0h1m9 0h1m20 0h1m38 0h1M55 60h1m4 0h1m14 0h1m1 0h4m2 0h1m6 0h3m64 0h1m16 0h1m17 0h1m2 0h1m5 0h1M61 61h1m8 0h1m8 0h2m2 0h1m2 0h2m2 0h2m5 0h1m2 0h1m18 0h1m7 0h2M51 62h2m1 0h1m5 0h1m9 0h1m1 0h1m6 0h1m1 0h2m1 0h1m2 0h1m4 0h1m21 0h1m2 0h1m8 0h2m14 0h1m25 0h1m4 0h1m25 0h1M59 63h1m13 0h4m17 0h1m38 0h1m1 0h1m16 0h1m2 0h1m6 0h1m13 0h1M59 64h1m1 0h1m9 0h1m4 0h1m1 0h1m6 0h7m11 0h1m4 0h1m21 0h1m2 0h1m20 0h1m42 0h1M63 65h1m6 0h1m2 0h1m1 0h3m9 0h1m1 0h2m26 0h1m25 0h1m9 0h1m18 0h1m15 0h1M60 66h1m3 0h1m8 0h1m1 0h2m1 0h1m6 0h1m2 0h1m1 0h1m4 0h2m59 0h1m8 0h1m2 0h1m17 0h1m9 0h1M57 67h1m13 0h5m7 0h1m1 0h1m2 0h2m70 0h1m1 0h1m23 0h1M56 68h1m2 0h1m5 0h1m5 0h4m1 0h3m8 0h1m1 0h1m7 0h1m28 0h1m7 0h1m8 0h1m5 0h1m9 0h2m35 0h1M63 69h1m7 0h4m1 0h2m2 0h1m5 0h1m4 0h1m19 0h1m6 0h1m1 0h1m29 0h1m5 0h1m27 0h1m6 0h1m4 0h1M49 70h1m12 0h1m5 0h1m1 0h1m3 0h1m1 0h1m8 0h1m1 0h1m3 0h1m11 0h1m24 0h1m14 0h1m18 0h1m35 0h1M50 71h2m3 0h1m5 0h2m3 0h1m4 0h2m2 0h2m6 0h1m3 0h2m42 0h1M47 72h1m7 0h1m12 0h1m1 0h1m1 0h1m2 0h2m6 0h1m1 0h1m1 0h1m4 0h1m4 0h1m2 0h1m29 0h1m9 0h1m11 0h1m9 0h1m12 0h1m15 0h1m3 0h1M12 73h1m53 0h1m2 0h2m1 0h1m10 0h1m2 0h1m4 0h1m64 0h1m12 0h1m5 0h1m12 0h1m4 0h1M65 74h1m7 0h3m1 0h1m9 0h1m39 0h1m33 0h1m9 0h1m21 0h1M61 75h1m7 0h2m1 0h1m1 0h1m10 0h2m2 0h1m4 0h1m16 0h1m7 0h1m14 0h1m6 0h1m8 0h1m12 0h1m12 0h1m9 0h1m9 0h1M67 76h1m1 0h1m1 0h1m4 0h1m1 0h1m1 0h1m5 0h2m1 0h1m15 0h1m2 0h1m31 0h1m7 0h1m45 0h1M11 77h1m60 0h1m1 0h2m10 0h1m1 0h1m7 0h2m5 0h1m32 0h1m1 0h1m7 0h1m5 0h1M71 78h5m13 0h2m5 0h1m12 0h1m34 0h1m11 0h1m8 0h1M46 79h1m2 0h1m22 0h1m1 0h1m12 0h1m1 0h1m1 0h1m7 0h1m6 0h1m53 0h1m17 0h1m15 0h1M10 80h2m32 0h1m14 0h1m9 0h1m2 0h2m1 0h5m8 0h1m4 0h1m29 0h1m21 0h1m38 0h1m1 0h1m6 0h1M47 81h1m12 0h1m13 0h1m1 0h1m1 0h1m4 0h1m3 0h1m15 0h1m32 0h1m28 0h1m20 0h1M15 82h1m2 0h1m23 0h1m2 0h1m7 0h1m19 0h3m3 0h1m3 0h6m2 0h1M16 83h1m42 0h1m15 0h1m2 0h1m3 0h7m2 0h1m45 0h1m35 0h1M69 84h1m1 0h1m3 0h1m1 0h2m4 0h2m1 0h3m4 0h1m11 0h1m24 0h1m33 0h1M16 85h1m5 0h1m12 0h1m16 0h1m14 0h4m2 0h1m2 0h1m1 0h1m2 0h1m5 0h1m15 0h1m22 0h1m11 0h1m45 0h1M12 86h1m52 0h1m7 0h1m2 0h1m6 0h1m2 0h1m3 0h2m13 0h1m8 0h1m21 0h1M13 87h1m1 0h1m1 0h1m1 0h1m6 0h1m7 0h1m14 0h1m9 0h1m22 0h1m2 0h1m2 0h3m21 0h1m8 0h1m14 0h1m28 0h1M16 88h1m2 0h1m8 0h1m3 0h2m1 0h1m4 0h1m2 0h1m25 0h1m6 0h1m18 0h1m29 0h1m7 0h1m1 0h1m30 0h1m1 0h1M14 89h1m6 0h1m1 0h1m8 0h1m1 0h1m4 0h1m6 0h1m5 0h1m13 0h1m2 0h1m2 0h1m4 0h2m3 0h1m6 0h1m19 0h1m5 0h1m17 0h1m46 0h1M54 90h2m15 0h1m9 0h1m12 0h1m32 0h1M16 91h1m9 0h1m1 0h1m42 0h2m1 0h1m11 0h1m3 0h1m2 0h1m8 0h1m2 0h1m61 0h1m11 0h1M25 92h2m28 0h1m20 0h1m6 0h1m42 0h1M16 93h1m1 0h1m4 0h1m1 0h1m1 0h1m1 0h1m3 0h1m3 0h1m26 0h1m23 0h1m37 0h1M21 94h1m2 0h1m9 0h1m33 0h1m16 0h1m16 0h1m1 0h1M17 95h2m7 0h1m7 0h1m3 0h1m36 0h1m96 0h1M23 96h2m13 0h1m25 0h1m1 0h1m2 0h1m1 0h1m7 0h1m7 0h1m4 0h1m1 0h1m18 0h1m18 0h1m33 0h1M18 97h1m1 0h1m6 0h1m2 0h1m49 0h1m1 0h1m10 0h1m2 0h1m11 0h1m21 0h1m35 0h1M24 98h1m72 0h1m6 0h2m67 0h2M22 99h1m14 0h1m30 0h1m66 0h1M20 100h1m2 0h2m8 0h1m41 0h2m8 0h1m8 0h1m67 0h1m10 0h1M20 101h1m2 0h2m71 0h1m62 0h1M21 102h1m5 0h1m53 0h1m86 0h1M22 103h1m3 0h2m2 0h1m8 0h1m28 0h1m8 0h1m36 0h1m33 0h1M22 104h1m9 0h1m44 0h1m15 0h1m2 0h1m36 0h2m14 0h1M21 105h1m8 0h1m7 0h1m1 0h1m14 0h1m14 0h1m12 0h1m8 0h1m6 0h1M34 106h1m25 0h1m26 0h1m17 0h1M22 107h1m28 0h1m2 0h1m21 0h1m4 0h1m32 0h1m31 0h2M23 108h1m3 0h1m10 0h2m27 0h2m46 0h1M24 109h1m1 0h1m3 0h1m2 0h1m5 0h1m38 0h1m33 0h1m1 0h1m51 0h2M24 110h1m26 0h1m26 0h1m11 0h1m20 0h1m23 0h1m1 0h1M25 111h1m2 0h1m10 0h1M30 112h1m2 0h1m2 0h1m17 0h1m22 0h1m7 0h1m7 0h1m22 0h1m42 0h1M46 113h1m45 0h1m4 0h1m19 0h1m14 0h2m20 0h1M28 114h1m17 0h1m21 0h1m25 0h1m38 0h1m27 0h1M58 115h1m26 0h1m17 0h1M36 116h1m66 0h1m25 0h1m7 0h1M28 117h2m1 0h1m20 0h1m3 0h1m18 0h1m9 0h1m16 0h1m21 0h1M29 118h1m22 0h1m6 0h1m2 0h1m9 0h2m6 0h1M41 119h1m20 0h1m35 0h1m21 0h1m34 0h1M47 120h1m18 0h1m25 0h1m43 0h1m10 0h1m7 0h1M63 121h1m62 0h1m2 0h1M79 122h1m14 0h1m29 0h1m11 0h1M29 123h1m4 0h1m1 0h1m49 0h2m11 0h1m27 0h1m5 0h1m7 0h1m9 0h1M36 124h1m8 0h1m15 0h1m26 0h1m2 0h1m7 0h1m6 0h1m8 0h1m27 0h1M35 125h1m4 0h1m1 0h1m4 0h1m16 0h1m6 0h1m4 0h1m20 0h1m8 0h1m1 0h1m34 0h1M32 126h1m5 0h1m20 0h1m17 0h1m15 0h1m9 0h1m12 0h1m3 0h1m6 0h1M47 127h2m16 0h1m34 0h1m18 0h1m2 0h1m15 0h1M32 128h1m7 0h1m40 0h1m18 0h1m19 0h1m24 0h1M31 129h1m20 0h1m4 0h1m1 0h1m45 0h1m4 0h1M46 130h1m12 0h1m20 0h1m41 0h1m14 0h1M71 131h1m19 0h1m33 0h1m8 0h1M31 132h1m5 0h1m16 0h1m2 0h1m8 0h1m27 0h2M26 133h1m32 0h1m2 0h1m20 0h2m28 0h1m1 0h1m11 0h2M28 134h1m1 0h1m11 0h1m1 0h1m48 0h1m21 0h1m1 0h1M47 135h1m21 0h1m24 0h1m20 0h1M28 136h1m62 0h1m14 0h1m7 0h1M69 137h1m42 0h1m8 0h1m9 0h2M34 138h1m6 0h2m46 0h2m5 0h1m4 0h1m9 0h1m10 0h1m3 0h1M50 139h1m11 0h1m38 0h1m2 0h1m20 0h1M104 140h2m18 0h1M42 141h1m59 0h1m3 0h1m7 0h1M37 142h1m33 0h1m42 0h1M70 143h1M46 144h1m4 0h1m3 0h1m48 0h1M37 146h1m14 0h1M52 149h1M44 152h1"/>
<path stroke="#3F4889" d="M164 3h2M156 5h1M156 6h1M154 7h1M182 8h1M180 9h1M148 10h1m36 0h1M179 12h1M149 13h1M170 15h1M137 16h1m32 0h2M182 18h1m1 0h1M151 19h1M141 21h1m13 0h1M170 22h1M137 23h1m18 0h1m14 0h1M155 26h1M191 27h1M129 28h1M169 30h1m21 0h1M124 31h1m51 0h1M169 32h1M156 33h1m3 0h1m2 0h1m20 0h1M127 34h1m43 0h1M147 35h1m19 0h1M48 36h1m76 0h1m38 0h1M125 37h1m8 0h1m25 0h1M48 39h1m35 0h1m76 0h1m5 0h1M122 40h1M49 41h1m6 0h1m29 0h1M49 42h1m36 0h1m64 0h1m23 0h1M85 43h1m1 0h1m34 0h1m18 0h1M48 44h1m37 0h1m10 0h1m28 0h1m30 0h1m4 0h1m11 0h1M80 45h1m28 0h2m23 0h1m8 0h1m2 0h1m40 0h1M56 46h1m24 0h2m4 0h1m94 0h1M48 47h1m33 0h5m20 0h1m33 0h1m14 0h1M57 48h1m45 0h1m10 0h2m37 0h1m9 0h1M55 49h1m1 0h2m21 0h1m4 0h1m20 0h1m48 0h1m1 0h1m5 0h1m14 0h1M78 50h1m1 0h3m4 0h1m4 0h1m20 0h1m5 0h2m33 0h1M76 51h1m1 0h2m1 0h2m14 0h2m21 0h1M48 52h1m29 0h1m1 0h1m2 0h1m41 0h1m24 0h1M49 53h1m27 0h1m1 0h1m1 0h1m2 0h1m1 0h1m33 0h1m35 0h1m7 0h1M75 54h1m1 0h1m1 0h1m2 0h2m19 0h1m51 0h1m1 0h1M50 55h1m22 0h2m6 0h1m2 0h1m3 0h1m1 0h1m2 0h1m10 0h1m2 0h1m23 0h1M69 56h6m1 0h3m4 0h1m4 0h3m3 0h1m70 0h1M50 57h1m18 0h3m1 0h2m2 0h1m1 0h1m4 0h1m2 0h1m5 0h1m1 0h1m10 0h1m3 0h1m10 0h1m53 0h1M54 58h1m5 0h1m8 0h4m3 0h3m2 0h1m1 0h4m3 0h1m6 0h1m14 0h1m6 0h1m2 0h1m9 0h1M56 59h1m1 0h1m5 0h1m9 0h1m2 0h2m1 0h2m1 0h2m5 0h2m1 0h3m1 0h1m5 0h1m5 0h1m48 0h1m2 0h1M53 60h1m7 0h1m6 0h1m2 0h2m3 0h1m7 0h5m6 0h1m43 0h1m4 0h1M59 61h1m9 0h1m1 0h2m1 0h3m4 0h1m6 0h1m13 0h1m26 0h1m23 0h1M49 62h1m11 0h1m4 0h3m4 0h1m15 0h3m26 0h1m12 0h1m7 0h1m11 0h1m8 0h1m1 0h1m1 0h1m33 0h1M58 63h1m3 0h3m2 0h1m2 0h3m18 0h1m37 0h1m12 0h1m18 0h1m34 0h1M63 64h1m5 0h2m1 0h4m53 0h1m25 0h1m43 0h1M67 65h2m3 0h1m1 0h1m13 0h1m8 0h1m8 0h1m2 0h1m16 0h1m18 0h2m3 0h1m3 0h1m19 0h1M57 66h1m1 0h1m6 0h1m3 0h1m3 0h1m16 0h1m11 0h1m65 0h1m3 0h1m13 0h1M50 67h1m15 0h3m1 0h1m58 0h2m6 0h1m19 0h1M68 68h1m1 0h1m4 0h1m10 0h1m34 0h1m3 0h1m5 0h1m19 0h1m11 0h1m29 0h1M49 69h1m3 0h1m12 0h1m2 0h2m16 0h2m1 0h1m2 0h1m49 0h1m27 0h1m26 0h1M50 70h1m18 0h1m1 0h1m20 0h1m12 0h2m8 0h1m16 0h1m56 0h1M64 71h1m8 0h1m15 0h1m25 0h1m33 0h1m5 0h1m19 0h1m16 0h1M48 72h1m9 0h1m4 0h1m5 0h1m1 0h1m16 0h2m6 0h1m14 0h1m19 0h1m2 0h1m43 0h1M11 73h1m52 0h1m3 0h1m19 0h3m18 0h3m61 0h1m16 0h1M63 74h1m4 0h4m26 0h1m10 0h1m30 0h1m33 0h1M56 75h1m10 0h1m5 0h1m13 0h2m44 0h1m22 0h1m5 0h1m28 0h1M68 76h1m1 0h1m1 0h1m30 0h1m67 0h1M68 77h4m20 0h1M8 78h1m4 0h1m39 0h2m13 0h2m52 0h1m2 0h1m13 0h1m21 0h1m4 0h1M7 79h1m2 0h1m36 0h1m8 0h1m10 0h1m2 0h2m54 0h1m1 0h1m2 0h1M42 80h1m10 0h1m10 0h1m1 0h3m69 0h1m22 0h1m10 0h1M16 81h1m33 0h1m7 0h1m2 0h1m6 0h1m2 0h2m16 0h1m2 0h1m5 0h1m8 0h1m33 0h1m27 0h1M13 82h1m3 0h1m31 0h1m21 0h2m5 0h1m22 0h1m1 0h1m37 0h1M14 83h1m3 0h2m25 0h1m6 0h1m14 0h1m5 0h2m1 0h1m12 0h2m8 0h1m3 0h2m22 0h1m6 0h1m3 0h1m1 0h1M21 84h1m4 0h1m1 0h1m11 0h1m23 0h1m7 0h2m2 0h1m8 0h1m3 0h1m2 0h1m5 0h1m1 0h1m5 0h1m6 0h1m20 0h1m36 0h1M12 85h1m5 0h1m1 0h1m4 0h1m12 0h1m5 0h4m1 0h1m1 0h1m2 0h1m5 0h1m4 0h1m17 0h1m2 0h1M20 86h1m3 0h1m4 0h2m7 0h1m25 0h1m17 0h1m4 0h1m5 0h1m9 0h1m11 0h1M14 87h1m7 0h3m20 0h1m7 0h1m6 0h1m22 0h1m8 0h1m14 0h1m56 0h1m17 0h1M17 88h1m2 0h1m8 0h1m1 0h1m2 0h1m1 0h1m7 0h1m1 0h1m12 0h1m11 0h4m5 0h1m10 0h1m16 0h1M16 89h1m9 0h1m9 0h1m3 0h1m2 0h1m12 0h1m22 0h1m21 0h1m18 0h1m55 0h1M26 90h1m36 0h1m19 0h1m20 0h1m14 0h1m1 0h1m3 0h1M18 91h1m10 0h1m26 0h1m25 0h1m9 0h1m26 0h1M18 92h1m2 0h3m5 0h3m1 0h1m26 0h1m11 0h1m5 0h1m26 0h1m13 0h1M19 93h1m6 0h1m40 0h1m4 0h1m8 0h1m7 0h1M15 94h1m1 0h1m2 0h1m1 0h2m1 0h2m3 0h1m2 0h1m45 0h1m20 0h1m25 0h1M19 95h1m4 0h1m5 0h1m1 0h2m29 0h1m18 0h1m5 0h1m22 0h1M25 96h1m6 0h1m2 0h1m3 0h1m22 0h2m4 0h1m5 0h1m13 0h1m13 0h1M21 97h1m3 0h1m18 0h1m45 0h1m11 0h1m4 0h1m3 0h1m61 0h1M17 98h1m5 0h1m6 0h2m48 0h1m6 0h2m3 0h1M19 99h1m58 0h1m13 0h2m34 0h1m27 0h1M19 100h1m154 0h1M22 101h1m2 0h1m2 0h1m39 0h1m21 0h1m6 0h1m17 0h1m20 0h1m32 0h1M22 102h1m2 0h2m3 0h1m37 0h2m2 0h1m58 0h1m37 0h1M24 103h2m35 0h1m21 0h1m23 0h1m23 0h1M41 104h1m49 0h1m43 0h1M25 105h1m1 0h1m4 0h1m57 0h1m12 0h1m34 0h1m1 0h1m1 0h1M25 106h2m2 0h1m2 0h1m4 0h1m73 0h1m15 0h1m7 0h1m4 0h1M42 107h1m1 0h1m8 0h1m13 0h1m2 0h1m63 0h1m2 0h1m1 0h1m3 0h1M29 108h1m43 0h1m9 0h1m18 0h1m29 0h1m7 0h1M27 109h1m13 0h1m12 0h1m12 0h1m20 0h1m12 0h1m3 0h1m32 0h1M26 110h1m98 0h1m29 0h2m5 0h1M27 111h1m25 0h1m10 0h1m8 0h1m22 0h1m38 0h1m2 0h1m11 0h1M41 112h1m11 0h1m41 0h1m55 0h1m5 0h1M100 113h1m33 0h1m5 0h1m6 0h1M62 114h1M32 115h1m28 0h1m7 0h1m29 0h1m27 0h1m2 0h1m14 0h1M35 116h1m2 0h1m40 0h1m21 0h1M48 117h1m16 0h1m5 0h1m1 0h1m2 0h1m17 0h1m44 0h1m6 0h1M34 118h1m4 0h1m6 0h1m4 0h1m41 0h1m26 0h1m5 0h1m1 0h1m2 0h1M28 119h1m1 0h1m27 0h1m35 0h1m52 0h1m6 0h1m1 0h1M68 120h1m47 0h1m2 0h1m29 0h1M36 121h1m15 0h1m4 0h1m6 0h1m31 0h1m26 0h1M49 122h1m7 0h1m31 0h1m3 0h1m7 0h1m8 0h1M41 123h1m25 0h1m33 0h1m5 0h1m5 0h1m12 0h1m3 0h1M100 124h1m32 0h1M30 125h1m10 0h1m1 0h1m9 0h1m7 0h1m39 0h1m13 0h3m10 0h1m4 0h1m16 0h1M52 126h1m2 0h1m18 0h1m21 0h1m11 0h1m21 0h1M29 127h1m14 0h1m24 0h1m10 0h1m47 0h1M64 128h1m20 0h1m10 0h1m5 0h1M76 129h1m10 0h1m7 0h1m35 0h1M36 130h1m57 0h1m12 0h1m5 0h1m3 0h1M37 131h1m22 0h1m32 0h1m10 0h1M32 132h1m1 0h1m7 0h1m48 0h1m30 0h1m5 0h1M30 133h1m10 0h1m66 0h1m10 0h1M32 134h1m13 0h1m3 0h1m35 0h1m4 0h1m15 0h1m27 0h1M61 135h1m26 0h1m19 0h1M35 136h1m14 0h1m32 0h2m28 0h1m14 0h1M51 137h1m13 0h1m13 0h1m7 0h1m15 0h1m25 0h1M47 138h1m10 0h1m6 0h1m41 0h1M47 139h1m13 0h1m27 0h1m3 0h1M44 140h1m7 0h1m44 0h1m8 0h1M52 141h1m7 0h1m4 0h1m34 0h1M34 142h1m73 0h1M59 143h1m11 0h2m4 0h1m9 0h1M44 144h1M59 145h1m45 0h1M53 146h1m6 0h1m4 0h2M47 148h1M48 151h1"/>
<path stroke="#3A548C" d="M161 6h1m8 0h1M148 11h1M161 12h1M156 14h1M143 15h1M160 16h1M184 17h1M142 18h1m26 0h1M149 19h1m37 0h1M180 20h1M148 21h1M178 22h2M173 23h1M180 26h1M165 27h1M182 29h1M153 30h1m3 0h1M128 31h1m21 0h2M172 32h1M48 33h1m109 0h1M120 34h1M50 35h2m104 0h1m31 0h1M49 36h1m2 0h1M118 37h2m26 0h1m44 0h1M49 38h1m109 0h1m21 0h1M90 39h1m60 0h1M49 40h1M52 41h1m32 0h1m1 0h1m4 0h1m58 0h1M54 42h1m30 0h1m6 0h1m64 0h1M51 43h1m2 0h1m26 0h1m2 0h1m86 0h1M80 44h1m2 0h1m3 0h1m46 0h1m24 0h1m5 0h1m1 0h1M49 45h1m1 0h1m89 0h1m18 0h1m19 0h1M49 46h1m1 0h2m31 0h1m1 0h1m22 0h1m24 0h1m1 0h1m24 0h1m4 0h1M50 47h2m28 0h1m22 0h1m4 0h1m44 0h1m4 0h1M52 48h1m2 0h1m26 0h2M51 49h1m30 0h2m3 0h1m2 0h1m52 0h1M55 50h1m1 0h1m26 0h2m19 0h1m10 0h1m5 0h1m10 0h1M53 51h1m29 0h3m1 0h1m26 0h1m3 0h1m5 0h1m1 0h1M50 52h1m25 0h2m1 0h1m1 0h2m2 0h3m3 0h1m1 0h1m34 0h1m22 0h1M78 53h1m1 0h1m1 0h2m3 0h1m27 0h1m35 0h1M50 54h2m2 0h1m17 0h1m3 0h1m1 0h1m5 0h1m1 0h1m1 0h2m26 0h1m13 0h1m5 0h1m15 0h1m18 0h1M48 55h1m21 0h1m1 0h1m2 0h1m1 0h1m2 0h1m2 0h1m3 0h1m37 0h1m10 0h1m34 0h1M50 56h1m1 0h1m2 0h1m19 0h1m3 0h4m1 0h2m10 0h1m5 0h1m8 0h1m8 0h1m12 0h1m4 0h1m5 0h1M58 57h1m6 0h1m6 0h1m2 0h1m2 0h1m3 0h2m1 0h2m2 0h1m37 0h1m4 0h1m27 0h1M59 58h1m4 0h1m1 0h1m1 0h1m4 0h2m7 0h1m5 0h1m40 0h1M65 59h1m2 0h1m4 0h1m1 0h1m3 0h1m6 0h1m1 0h1m15 0h1m2 0h1M64 60h4m1 0h2m3 0h1m6 0h1m7 0h1m45 0h2m10 0h1M58 61h1m4 0h6m4 0h1m20 0h1m21 0h1m13 0h1m24 0h1m7 0h1m14 0h2m19 0h1M53 62h1m9 0h2m6 0h1m62 0h1m14 0h1m50 0h1M61 63h1m3 0h2m1 0h1m31 0h1m1 0h1m13 0h1m9 0h2m26 0h1M48 64h1m17 0h2m57 0h1m8 0h1m9 0h1m32 0h1M57 65h1m3 0h1m2 0h3m2 0h1m1 0h1m19 0h1m3 0h1m69 0h1M48 66h1m12 0h1m7 0h1m115 0h1m4 0h1M52 67h1m69 0h1m21 0h1m16 0h1M57 68h1m8 0h1m39 0h1m37 0h1m5 0h1m20 0h1m4 0h3M59 69h1m5 0h1m1 0h2m35 0h1m17 0h1M60 70h1m4 0h3m20 0h1m38 0h1m7 0h1m24 0h1m6 0h1M65 71h1m2 0h3m30 0h1m60 0h1m33 0h1M61 72h1m4 0h1m62 0h1m2 0h1m8 0h1m1 0h1m26 0h1M56 73h1m1 0h1m12 0h1m55 0h1m31 0h1M67 74h1m22 0h3m69 0h1m22 0h1m8 0h1M68 75h1m2 0h1m25 0h1m28 0h1m25 0h1m17 0h1M12 76h1m51 0h1m27 0h1m8 0h1m7 0h1m43 0h1m13 0h1M55 77h1m35 0h1m8 0h1m5 0h1m33 0h1m41 0h1m5 0h1M64 78h1m1 0h1m25 0h1m6 0h1m37 0h1m31 0h1M9 79h1m4 0h1m33 0h1m12 0h1m68 0h1m52 0h1M45 80h1m55 0h1m44 0h1M13 81h3m25 0h1m22 0h1m25 0h1m2 0h2m33 0h1m6 0h1m47 0h1M10 82h1m29 0h1m29 0h1m22 0h1M13 83h1m18 0h1m32 0h1m6 0h1m21 0h1m3 0h1M11 84h1m5 0h1m7 0h1m48 0h1m16 0h1m35 0h1m57 0h3M14 85h1m15 0h2m9 0h1m8 0h1m13 0h1m6 0h1m2 0h1m2 0h1m10 0h2m1 0h1m4 0h1m69 0h2m5 0h1m8 0h1M16 86h1m19 0h1m18 0h1m16 0h1m6 0h1m43 0h1m48 0h1M16 87h1m3 0h2m5 0h1m9 0h1m4 0h1m9 0h1m20 0h3m10 0h2m21 0h1m20 0h1M21 88h1m2 0h1m1 0h1m10 0h1m7 0h1m7 0h1m14 0h1m15 0h1m8 0h1m10 0h1m7 0h1m13 0h1m54 0h1M12 89h1m6 0h1m28 0h1m18 0h1m5 0h1m1 0h1m7 0h2m10 0h1M14 90h1m1 0h1m2 0h1m11 0h1m5 0h1m31 0h1m4 0h1m11 0h2m19 0h1m12 0h1m3 0h1m55 0h1M17 91h1m2 0h1m9 0h1m4 0h1m23 0h1m7 0h1m1 0h1m18 0h1M16 92h1m2 0h1m12 0h1m29 0h1m25 0h1m17 0h1m3 0h1m14 0h1m5 0h1M24 93h1m7 0h1m15 0h1m45 0h1m35 0h1m46 0h1M18 94h1m10 0h1m1 0h1m6 0h1m4 0h1m30 0h1m40 0h1m6 0h1m48 0h1m1 0h1M14 95h1m8 0h1m1 0h1m1 0h3m10 0h1m2 0h1m60 0h1m27 0h1M17 96h1m9 0h1m5 0h2m26 0h1m14 0h1m20 0h1m7 0h1m51 0h1m14 0h1m4 0h1M29 97h1m3 0h1m3 0h1m38 0h2m6 0h1m2 0h1m72 0h1M28 98h1m41 0h1m19 0h1m10 0h1m5 0h1M16 99h1m12 0h2m42 0h1m20 0h1m39 0h1m39 0h1M27 100h1m1 0h1m1 0h1m8 0h1m25 0h1m29 0h1M26 101h1m4 0h1m1 0h2m2 0h1m2 0h1m37 0h1M23 102h1m5 0h1m1 0h1m53 0h1M33 103h1m50 0h1m26 0h1m27 0h1m22 0h1m9 0h1M26 104h1m1 0h1m5 0h1m36 0h1m27 0h1m2 0h1m6 0h1m21 0h1M22 105h1m24 0h1m21 0h1m26 0h1M28 106h1m83 0h1m19 0h1M52 107h1m15 0h1m3 0h1m26 0h2m9 0h1m20 0h1M24 108h1m53 0h1m55 0h1M25 109h1m2 0h1m26 0h1m16 0h1m1 0h1m41 0h2m7 0h1m17 0h1M29 110h2m12 0h2m21 0h1m16 0h1m32 0h1M30 111h1m26 0h1m7 0h1m3 0h1m17 0h2M40 112h1m5 0h1m16 0h1m26 0h1m49 0h1M28 113h1m14 0h1m11 0h1m28 0h1m42 0h1M49 114h1m2 0h1m2 0h1m9 0h1m6 0h1m24 0h1m8 0h1M31 115h1m33 0h1m29 0h1M42 116h1m21 0h1m30 0h1M49 117h2m13 0h1m28 0h1m18 0h1M40 118h1m2 0h1m25 0h1m11 0h1m43 0h1M37 119h1m1 0h1m5 0h1m4 0h1m36 0h1m5 0h1m52 0h1M114 120h1m8 0h1m5 0h1m23 0h1M33 121h1m31 0h1m55 0h1M32 122h1m17 0h1m8 0h1m4 0h1m39 0h1m3 0h1m22 0h1m21 0h1M35 123h1m4 0h1m2 0h1m18 0h1m3 0h1M38 124h1m44 0h1M44 125h1m30 0h1m2 0h1m43 0h1M60 126h1m8 0h1m41 0h1m11 0h1m2 0h1M31 127h1m39 0h1m9 0h1m12 0h1m23 0h1m25 0h1M27 128h1m3 0h1m23 0h1m11 0h1m27 0h1m8 0h1M34 129h1m65 0h1m8 0h1M49 130h1M24 131h1m4 0h1m10 0h1m12 0h1m8 0h1m11 0h1m37 0h1M89 132h1M27 133h1m25 0h1m51 0h1m8 0h1m22 0h1M26 134h1m2 0h1m31 0h1m13 0h1m22 0h1m17 0h1M43 135h1m16 0h1m6 0h1m14 0h2m9 0h1m6 0h1M47 136h1m1 0h1m4 0h1m39 0h1m4 0h1m7 0h1m22 0h1M71 137h1m4 0h1M66 138h1m39 0h1M30 139h1m2 0h1m39 0h1m9 0h1m21 0h1m4 0h1m1 0h1m13 0h1M59 140h1m49 0h1M30 141h1m37 0h1m12 0h1M29 142h1m47 0h1M67 143h1m26 0h1m19 0h1M43 146h1m2 0h1M61 147h1M48 148h1M42 150h1M47 151h1"/>
<path stroke="#34608D" d="M159 2h2M150 9h2M164 11h1M165 13h1M153 15h1M174 16h1M176 19h1m4 0h1M157 20h1M181 21h1M170 23h1M151 24h1M140 25h1M155 27h1M165 28h1m22 0h1M181 29h1M135 32h1M50 34h1m119 0h1m5 0h1M132 35h1M51 38h2m77 0h1m5 0h1m16 0h1M49 39h1m3 0h1m1 0h1M51 40h2m1 0h2m27 0h1m1 0h1m1 0h1m2 0h1m48 0h1m26 0h1m25 0h1M48 41h1m6 0h1m26 0h1m58 0h1M50 42h1m1 0h2m1 0h2m27 0h1m47 0h1m9 0h1m22 0h1m24 0h1M52 43h2m2 0h1m26 0h1M54 44h2m1 0h1m24 0h1m1 0h1m57 0h1m7 0h1m20 0h1m15 0h1M50 45h1m4 0h2m24 0h1m17 0h1m7 0h1m31 0h1M53 46h3m1 0h2m101 0h1m30 0h1M49 47h1m3 0h1m1 0h1m1 0h1m23 0h1m8 0h1m1 0h1m17 0h1M48 48h1m1 0h2m2 0h1m25 0h2m2 0h2M52 49h3m1 0h1m27 0h1m1 0h1m37 0h1m42 0h1M49 50h1m1 0h1m1 0h1m2 0h1m19 0h2m5 0h1m4 0h2m24 0h1m14 0h1M48 51h1m2 0h1m3 0h2m20 0h1m8 0h1m3 0h1m61 0h1m14 0h1M49 52h1m1 0h2m1 0h1m19 0h2m14 0h1m31 0h1m15 0h1m24 0h1M48 53h1m1 0h1m23 0h3m8 0h1m5 0h1m5 0h1m32 0h1M53 54h1m26 0h2m3 0h1m4 0h1m1 0h1m1 0h1m28 0h1m5 0h1m12 0h1m11 0h1M76 55h1m1 0h2m2 0h1m2 0h2m19 0h1m15 0h1m10 0h1m24 0h1m6 0h1M53 56h1m41 0h1m9 0h1m1 0h1m6 0h1m2 0h1m36 0h1M49 57h1m1 0h1m1 0h1m3 0h1m22 0h1m11 0h1m25 0h1m44 0h1M48 58h1m2 0h1m15 0h1m26 0h1M59 59h2m8 0h1m1 0h1m42 0h1m59 0h1m23 0h1M50 60h1m22 0h1m37 0h1m39 0h1m21 0h1m25 0h1M93 61h1m2 0h1m7 0h1m2 0h1m1 0h1m12 0h1m2 0h1m6 0h1m21 0h1M56 62h1m2 0h1m5 0h1m3 0h1m28 0h1m2 0h1m30 0h1m13 0h2m19 0h1m28 0h1M69 63h1m38 0h1m38 0h1m8 0h1m10 0h1M64 64h2m2 0h1m36 0h1m9 0h1m2 0h1m13 0h1M93 65h2m26 0h1m48 0h1M63 66h1m1 0h1m1 0h1m93 0h1M93 67h1m15 0h2m1 0h1m33 0h1m11 0h1m7 0h1m5 0h1m19 0h1M55 68h1m8 0h1m2 0h1m1 0h1m39 0h1m5 0h1m19 0h1M51 69h1M64 70h1m24 0h1m10 0h1m3 0h1m11 0h1M67 71h1m23 0h1m46 0h1m15 0h1M57 72h1m9 0h1m23 0h1m1 0h1m15 0h1m13 0h1m18 0h1m14 0h1M65 73h1m1 0h1m85 0h1m1 0h1M103 74h1m19 0h1m26 0h1m24 0h1M98 75h1m5 0h1m5 0h1m3 0h1m8 0h1m7 0h1m63 0h1M61 76h1m28 0h1m2 0h1m10 0h1m71 0h1M101 77h1m23 0h1m24 0h1m9 0h1M61 78h1m5 0h1m38 0h1m27 0h1m59 0h1M11 79h1m45 0h1m116 0h1m6 0h1M13 80h1m32 0h1m23 0h2m20 0h1m38 0h2m54 0h1M12 81h1m50 0h1m1 0h1m25 0h1m35 0h1m4 0h1M12 82h1m28 0h1m4 0h1m21 0h1m35 0h1m23 0h1m1 0h1M20 83h1m20 0h1m142 0h1M10 84h1m2 0h2m7 0h1m6 0h1m2 0h1m9 0h1m2 0h2m4 0h1m16 0h1m52 0h1M13 85h1m1 0h1m7 0h2m2 0h1m6 0h1m8 0h1m28 0h1m17 0h1m9 0h1M15 86h1m3 0h1m14 0h2m6 0h1m31 0h1m14 0h1m2 0h1m40 0h1M28 87h3m2 0h1m5 0h1m6 0h1m17 0h1m11 0h1m7 0h1m34 0h1M15 88h1m11 0h1m13 0h1m19 0h1m16 0h1m4 0h1m2 0h1m3 0h1m20 0h1m22 0h1M15 89h1m2 0h1m10 0h1m29 0h1m11 0h1m15 0h1m10 0h1m22 0h1m7 0h1m42 0h1M17 90h1m7 0h1m3 0h1m2 0h1m33 0h1m21 0h1m2 0h2m3 0h1m8 0h1m4 0h1m15 0h1m3 0h1m46 0h1M14 91h2m5 0h4m36 0h2m43 0h1m3 0h1m5 0h1m5 0h1m9 0h1M15 92h1m51 0h1m23 0h1m1 0h1m4 0h1M28 93h1m1 0h1m46 0h1m18 0h1m1 0h2m6 0h1m65 0h2M16 94h1m15 0h1m2 0h1M71 95h1m1 0h1m3 0h1m5 0h1m9 0h1m81 0h1M29 96h1m40 0h1m2 0h1m33 0h1M16 97h1m17 0h1m62 0h1m22 0h1M25 98h1m1 0h1m5 0h1m13 0h1m29 0h1M17 99h1m2 0h2m3 0h1m18 0h1m68 0h1m61 0h1M18 100h1m2 0h1m8 0h1m52 0h1m7 0h1m8 0h1m29 0h1M73 101h1m7 0h1m23 0h1M19 102h1m8 0h1m65 0h1m2 0h1m12 0h2m44 0h1M21 103h1m10 0h1m3 0h1m41 0h1m1 0h1m28 0h1m2 0h1m17 0h1m6 0h1M24 104h1m5 0h1m43 0h1m61 0h1M23 105h1m7 0h1m13 0h1m27 0h1m26 0h1m1 0h1m7 0h1m21 0h2m1 0h1M31 106h1m40 0h1m64 0h1m8 0h1m6 0h1M24 107h2m2 0h2m32 0h1m20 0h1M28 108h1m1 0h1m30 0h1m14 0h1m10 0h1m1 0h1m54 0h1m22 0h1M53 109h1m9 0h1m29 0h1m37 0h1M25 110h1m10 0h1m23 0h1m27 0h1m12 0h1m11 0h1M26 111h1m45 0h1m38 0h1m36 0h1m11 0h1m3 0h1M34 112h1m7 0h1m19 0h1m19 0h1m4 0h1m1 0h1m23 0h2m27 0h1m1 0h1M48 113h1m14 0h1m5 0h1m19 0h1m3 0h1m43 0h1M63 114h1m23 0h1m11 0h1m10 0h1m19 0h1M66 115h1m19 0h1m6 0h1m7 0h1M88 116h1m8 0h1m24 0h1m13 0h1m4 0h1m15 0h1M51 117h1m18 0h1m39 0h1M33 118h1m61 0h1m16 0h1m8 0h1M29 119h1m2 0h1m2 0h1m45 0h1m19 0h1m19 0h1m8 0h1M51 120h1m26 0h1m11 0h1m10 0h1M44 121h1m5 0h1m17 0h1m20 0h1m9 0h1M47 122h1m6 0h1m30 0h1m2 0h1m9 0h1m12 0h1M96 123h1M83 125h1m34 0h1m2 0h1M44 126h1m53 0h1m23 0h1M35 127h1m22 0h1m14 0h1m27 0h1m2 0h1m7 0h1m3 0h1M34 128h1m15 0h1m25 0h1m26 0h1M43 129h1m17 0h1m10 0h2m7 0h1m1 0h1m22 0h1M30 130h1m31 0h1m7 0h1m32 0h1m2 0h1m3 0h1M26 131h1m22 0h1m82 0h1M44 132h1m47 0h1m16 0h1m7 0h1M29 133h1m3 0h1m52 0h1m46 0h1M100 134h2m2 0h1M52 135h1m31 0h1M62 136h1m16 0h1M34 137h1m33 0h1m58 0h1M56 138h2m12 0h1m33 0h1m3 0h1m4 0h1m15 0h1M29 139h1m30 0h1m9 0h1M51 141h1m3 0h1M48 142h1m8 0h1m16 0h2m2 0h1m9 0h1m22 0h1M30 143h1m8 0h1m28 0h1M36 147h1m22 0h1M48 150h1"/>
<path stroke="#2F6C8E" d="M155 4h1M180 7h1M153 8h1M165 12h1M155 13h1M158 14h1m8 0h1m6 0h1M152 21h1m33 0h1M134 22h1M174 23h1M153 24h1M167 25h1M188 26h1M167 28h1M134 29h1M147 32h1m20 0h1M175 33h1M156 34h1M49 35h1M50 36h2m93 0h1M49 37h1m1 0h3m91 0h1m20 0h1M48 38h1m4 0h1m92 0h1m7 0h1M50 39h3m1 0h1M50 40h1m2 0h1M50 41h2m2 0h1m115 0h1M81 42h1m65 0h1M49 43h2m4 0h1m1 0h1m34 0h1m53 0h1m40 0h1M49 44h2m1 0h1m3 0h1m51 0h1M53 45h1m42 0h1m60 0h1m16 0h1M50 46h1m46 0h1m56 0h1m7 0h1M52 47h1m1 0h1m1 0h1m30 0h1M49 48h1m29 0h1m8 0h1m1 0h1M81 49h1m83 0h1M52 50h1m1 0h1m24 0h1m44 0h1M49 51h1m2 0h1m36 0h1M53 52h1m30 0h1m7 0h1m40 0h1m15 0h1M51 53h1m38 0h1M71 54h1m1 0h1m13 0h1m60 0h1m15 0h1m5 0h1M51 55h2m2 0h1m38 0h1m17 0h1m30 0h1m15 0h1M87 56h1m5 0h1m29 0h1m36 0h1M68 57h1m25 0h1m21 0h1m14 0h1M102 58h1m10 0h1m2 0h1m6 0h1m75 0h1M66 59h1m39 0h1m11 0h1m9 0h1M56 60h1m5 0h2m136 0h1M62 61h1M94 62h1M93 63h1m4 0h1m4 0h1m20 0h1m35 0h1m17 0h1M49 64h1m2 0h2m6 0h1m33 0h1m9 0h1m14 0h1m70 0h1M51 65h1m68 0h1m27 0h1m33 0h1M51 66h1m16 0h1m23 0h1m6 0h1M58 67h1m5 0h1m27 0h1m15 0h1m2 0h1M90 68h1m95 0h1M110 69h1m74 0h1M101 70h1m7 0h1m47 0h1M129 71h1m2 0h1m2 0h1m9 0h1m6 0h1M54 72h1m5 0h1m1 0h1m1 0h1m25 0h1m4 0h1m22 0h2m54 0h1M97 73h1m26 0h1m1 0h1m13 0h1m50 0h1M55 74h1m8 0h1M91 75h1m46 0h1m1 0h1M191 76h1M13 77h2m52 0h1m56 0h1m9 0h1m10 0h1M52 78h1m71 0h1m34 0h1M43 79h2m23 0h1m29 0h1m34 0h1m58 0h1M55 80h1m41 0h1m7 0h1m74 0h1M9 81h1m1 0h1m5 0h1m27 0h1m23 0h1m36 0h1m1 0h1m21 0h1m48 0h1M11 82h1m43 0h1m9 0h1m117 0h1m1 0h1M12 83h1m8 0h1m4 0h1m17 0h1M16 84h1m1 0h3m9 0h1m2 0h1m2 0h1m1 0h1m2 0h1m1 0h1m55 0h1M17 85h1m1 0h1m1 0h1m7 0h1m2 0h1m4 0h1m1 0h1m2 0h1m32 0h1m18 0h1m3 0h2m14 0h1m1 0h1M17 86h1m32 0h1m6 0h1m19 0h1m10 0h1m23 0h1m9 0h1m4 0h1m36 0h1m13 0h2M12 87h1m27 0h1m2 0h1m4 0h1m5 0h1m16 0h1m5 0h1m32 0h1m11 0h1m8 0h1m37 0h1m11 0h1M13 88h1m8 0h2m36 0h1M25 89h1m1 0h1m2 0h2m1 0h1m51 0h1m7 0h1m2 0h1m25 0h1m50 0h2M24 90h1m3 0h1m9 0h1m9 0h1m8 0h1m14 0h1m4 0h1m15 0h1m1 0h1M31 91h1m4 0h1m31 0h1m22 0h1M17 92h1m53 0h1m2 0h1m15 0h1m3 0h1m18 0h1m13 0h1m1 0h1M20 93h1m10 0h1m12 0h1m16 0h1m31 0h1m34 0h1M40 94h1m24 0h1m39 0h1m2 0h1m4 0h2m60 0h1M20 95h1m44 0h1m46 0h1M16 96h1m2 0h2m10 0h1m61 0h1m80 0h1M35 97h2m31 0h1m22 0h1m13 0h1m15 0h1m10 0h1M29 98h1m2 0h1m89 0h1M24 99h1m9 0h1m27 0h1m4 0h1M17 100h1m47 0h1m12 0h1m54 0h1M80 101h1m14 0h1m14 0h1m59 0h1m2 0h1M20 102h1m3 0h1m9 0h1m48 0h1m15 0h1m6 0h1M20 103h1m7 0h1m2 0h1m30 0h1m30 0h1m4 0h2m10 0h1m21 0h1m17 0h1m10 0h1M35 104h1m39 0h1m3 0h1m2 0h1m11 0h1m57 0h1M24 105h1m11 0h1m34 0h1m17 0h1m7 0h1m17 0h1M20 106h1m6 0h1m2 0h1m30 0h1m14 0h1m33 0h1m36 0h1M23 107h1m39 0h1m38 0h1m23 0h1M26 108h1m39 0h1m21 0h1M29 109h1m106 0h1M23 110h1m91 0h1m13 0h1m4 0h1M32 111h1m33 0h1m61 0h1M61 112h1m4 0h1m44 0h2m6 0h1m34 0h1M40 113h1m12 0h1m6 0h1m58 0h1M34 114h1M41 115h1m39 0h1m23 0h1M30 116h1m6 0h1m13 0h1m17 0h1m43 0h1m1 0h1m42 0h1M69 117h1m27 0h1m9 0h1M44 118h1m5 0h1m24 0h1m6 0h1m56 0h2M70 119h1m4 0h1m30 0h1M80 120h1M30 121h1m91 0h1M103 122h1M78 123h1m41 0h1M55 124h1m7 0h2m2 0h1m1 0h1m31 0h1m1 0h1m3 0h1M38 125h2m14 0h1m55 0h1M29 126h1m20 0h1m10 0h1m1 0h1m9 0h1m7 0h1m19 0h2m46 0h1M54 127h1m28 0h1M49 128h1m4 0h1m18 0h1m67 0h1M30 129h1m24 0h1m21 0h1M24 130h1m28 0h1m3 0h1m25 0h1M76 131h1m34 0h1M26 132h2m33 0h1m45 0h1M46 135h1m52 0h1M33 136h1m37 0h1m53 0h2m7 0h1M90 137h1m9 0h1m32 0h1M43 138h1m79 0h1M75 139h1M39 140h1m52 0h1M103 141h1M58 142h1m1 0h1M96 143h1m8 0h1M39 145h1M50 146h1m3 0h1m1 0h1m5 0h1M63 147h1M38 148h1M42 149h1"/>
<path stroke="#2A768E" d="M160 3h1M155 9h1M171 10h1M160 18h1M150 20h1M167 21h1M154 23h1M161 26h1M128 33h1m28 0h1M149 34h1M160 36h1M48 37h1M50 38h1m131 0h1M86 40h1M84 41h1M48 42h1m2 0h1m41 0h1m23 0h1M133 43h1M51 44h1m1 0h1m31 0h1m83 0h1M52 45h1m1 0h1m30 0h1m15 0h1m3 0h1m80 0h1M83 46h1m1 0h1m25 0h1m43 0h2m1 0h1M58 47h1m45 0h1m30 0h1m19 0h1m5 0h1M53 48h1m2 0h1m54 0h1m30 0h1m6 0h1M77 49h2M48 50h1m1 0h1m7 0h1m27 0h1m82 0h1m4 0h1M54 51h1m33 0h1m66 0h1M157 52h1m13 0h1M52 53h4m49 0h1m30 0h1m23 0h1m11 0h1M48 54h1m111 0h1m4 0h1M71 55h1m69 0h1m35 0h1M92 56h1m20 0h1m47 0h1m1 0h1M104 57h1m2 0h1m3 0h1M104 58h1M146 59h1m53 0h1M49 60h1m90 0h1M56 61h1m54 0h1m6 0h1m79 0h1M181 62h1M54 63h1M54 64h1m42 0h1m11 0h1m36 0h1M132 65h1M93 66h1m16 0h1m8 0h1m28 0h1M91 67h1m5 0h1m3 0h1m2 0h1m8 0h1m2 0h1M54 68h1m55 0h1m45 0h1m37 0h1M61 69h1m2 0h1m94 0h2M110 70h1m20 0h1m2 0h1M92 71h1m12 0h1M51 72h1m74 0h1m40 0h1m24 0h1M99 73h1m30 0h1m4 0h1m49 0h1M121 74h2m18 0h1m41 0h1M13 75h1m52 0h1m35 0h1m33 0h2m34 0h1M13 76h1m37 0h1m14 0h1m30 0h1m13 0h1M10 77h1m50 0h1m96 0h1M12 78h1m1 0h1m33 0h1m46 0h1m19 0h1m12 0h1m61 0h1M13 79h1m44 0h1m5 0h1m1 0h1m29 0h1m37 0h1m8 0h1m36 0h1M12 80h1m82 0h1m41 0h1M19 81h1m23 0h1m8 0h1m14 0h1m53 0h1M20 82h1m38 0h1m34 0h1m13 0h1m17 0h1m61 0h1M10 83h1m6 0h1m13 0h1m8 0h1M31 84h1m2 0h1m13 0h3m12 0h1m1 0h1m99 0h1M36 85h1m26 0h1m29 0h1m29 0h1m4 0h1m4 0h1M14 86h1m3 0h1m3 0h2m3 0h1m3 0h1m5 0h1m1 0h1m4 0h1m118 0h1M41 87h1m36 0h1m34 0h1m11 0h1m12 0h1m32 0h1M25 88h1m13 0h1m15 0h1m14 0h1m8 0h1m1 0h1m33 0h1m47 0h1M86 89h1m26 0h1m5 0h1m5 0h2M15 90h1m2 0h1m3 0h2m17 0h1m1 0h1m2 0h2m11 0h2m7 0h1m60 0h1M32 91h1m4 0h2m11 0h2m1 0h1M13 92h1m6 0h1m13 0h1m26 0h1m47 0h1m12 0h1m9 0h1m47 0h1M15 93h1m19 0h1m32 0h1m14 0h1m28 0h1m4 0h1m45 0h1M14 94h1m21 0h1m96 0h1M35 95h1m89 0h1m32 0h1m5 0h1M15 96h1m12 0h1m12 0h1m4 0h1m36 0h1m7 0h1m14 0h1M26 97h1m1 0h1m11 0h1m28 0h1m29 0h1M26 98h1m9 0h1m7 0h1m21 0h1m67 0h1m14 0h1M27 99h2m12 0h1m4 0h1m55 0h1m66 0h1M34 100h1m27 0h1m23 0h1M17 101h1m59 0h1m21 0h1m3 0h1m3 0h2m44 0h1M17 102h1m71 0h1m60 0h1M19 103h1m9 0h1m33 0h1m1 0h1m3 0h1m17 0h1m14 0h2M21 104h1m1 0h1m1 0h1m10 0h1m8 0h1m16 0h1m10 0h1m4 0h1m8 0h1M20 105h1m12 0h1m3 0h1m23 0h1m14 0h1m7 0h1M68 106h2m27 0h1m8 0h1m11 0h1m10 0h1M27 107h1m2 0h1m47 0h1m10 0h1m25 0h1M42 108h1m31 0h1m7 0h1m17 0h1M34 109h1m74 0h1m29 0h1M28 110h1m6 0h1m49 0h1m3 0h1m36 0h1m38 0h1M23 111h1m66 0h1m10 0h1m19 0h1m2 0h1M25 112h2m1 0h2m30 0h1m20 0h1m20 0h2m21 0h1m9 0h1M36 113h1m42 0h1m8 0h1m14 0h1m20 0h1m23 0h1m9 0h1M44 114h1m6 0h1m7 0h1m21 0h1m6 0h1m11 0h1m22 0h1m23 0h1M51 115h1m8 0h1m19 0h1m29 0h2M77 116h1m15 0h1M82 117h1m20 0h1M63 118h1m38 0h1m19 0h1M49 119h1m2 0h1m23 0h1m26 0h1M34 120h1m15 0h1m4 0h1m13 0h1m37 0h1m13 0h1m4 0h1M70 121h1m43 0h1M28 122h1m11 0h1m2 0h1m38 0h1m8 0h2m36 0h1M53 123h1m19 0h1m10 0h1m17 0h1m20 0h1M82 124h1m40 0h1M52 125h1M90 126h1m16 0h1m11 0h1M70 127h1m11 0h1m6 0h1m56 0h1M59 128h1m14 0h1m18 0h1M24 129h1m38 0h1m18 0h1m36 0h1m10 0h1m13 0h1M101 130h1M25 131h1m5 0h1m2 0h1m13 0h1m32 0h1m25 0h1m11 0h1M24 132h1m16 0h1m3 0h1m35 0h1M31 133h1m31 0h1m7 0h1m10 0h1m6 0h1m19 0h1M77 134h1m47 0h1M65 135h1m39 0h1M59 136h1m3 0h1m28 0h1M43 137h1m31 0h1M54 138h1m45 0h1m9 0h1m7 0h1M52 139h1m50 0h1m10 0h1M56 140h1m9 0h1m3 0h1M31 141h1m5 0h1M47 142h1m62 0h1M82 143h1M53 144h1m3 0h1m1 0h1m3 0h1m36 0h1M66 145h1M49 149h1M46 152h1"/>
<path stroke="#26818E" d="M166 3h1M179 8h1M164 12h1M170 14h1M140 21h1M134 28h1M49 33h1m99 0h1m39 0h1M49 34h1M48 35h1m137 0h1M50 37h1M54 38h1M191 40h1M53 41h1M88 42h1m5 0h1m78 0h1M86 43h1m38 0h1M48 45h1m55 0h1m45 0h1M48 46h1m54 0h1m3 0h1m27 0h1m29 0h1M144 47h1m12 0h1M86 48h1m54 0h1M48 49h1m1 0h1m45 0h1m12 0h1m25 0h1m17 0h1m4 0h1M134 50h1M137 51h1m18 0h1m22 0h1M153 52h2M107 53h1m57 0h1M49 54h1m67 0h1m44 0h1M49 55h1M54 56h1m51 0h1m8 0h1M124 57h1M55 58h1M54 59h1m7 0h1m81 0h2m9 0h1M58 60h1m134 0h1M51 61h1M62 62h1m41 0h1m4 0h1m1 0h1m42 0h1m6 0h1M56 63h1m42 0h1m15 0h1m15 0h1M96 64h1m44 0h1m53 0h1M62 65h1m81 0h1m47 0h1M56 66h1m65 0h1m2 0h1m45 0h1m16 0h1M47 67h1M62 68h1M56 69h1m57 0h1m34 0h1m47 0h1M63 70h1m50 0h1M47 71h1m72 0h2m2 0h1m19 0h1m3 0h1m2 0h1m39 0h1M114 72h1m56 0h1m16 0h1M51 73h1m42 0h1m51 0h1M12 74h1m53 0h1M49 75h1m15 0h1m37 0h1m25 0h1m30 0h1M50 76h1m14 0h1m72 0h1m22 0h1m24 0h1M12 77h1m91 0h1m4 0h1m65 0h1M45 78h1m16 0h1m37 0h1m53 0h1m16 0h1M15 79h1m34 0h1m18 0h1m24 0h1m32 0h1m56 0h1M14 80h1m33 0h1M109 81h1m15 0h1m7 0h1M43 82h2m16 0h1m5 0h1m31 0h1m73 0h1m4 0h1M22 83h1m6 0h1m9 0h1m3 0h1m3 0h1m18 0h1m25 0h1m18 0h1m12 0h1m56 0h1M9 84h1m2 0h1m10 0h2m14 0h1m54 0h1m9 0h1m14 0h2m12 0h1M26 85h1m65 0h1m9 0h1M21 86h1m3 0h2m13 0h2m7 0h1m69 0h1M11 87h1m20 0h1m5 0h1m8 0h1m45 0h1m9 0h1m10 0h1M42 88h1m9 0h1m22 0h1m12 0h1m7 0h1m17 0h1M17 89h1m19 0h1m38 0h1m13 0h1m1 0h1M13 90h1m13 0h1m7 0h1m3 0h2m41 0h1m7 0h1m17 0h1M34 91h1m22 0h1m25 0h1m11 0h1m13 0h1m11 0h1m8 0h1M14 92h1m20 0h1m11 0h1m34 0h1m24 0h1m15 0h1m9 0h1M34 93h1m21 0h2m5 0h1m21 0h1m15 0h1m9 0h1m2 0h1m7 0h1m6 0h1M62 94h1m14 0h1m13 0h1m31 0h1M31 95h1m10 0h1m48 0h1m4 0h1m4 0h1m24 0h1M118 96h1M31 97h2m53 0h1m1 0h1m9 0h1m15 0h1m11 0h2m27 0h1M21 98h1m20 0h1m30 0h1m28 0h2m71 0h1M28 100h1m94 0h1M69 101h1m9 0h1m3 0h1m30 0h1M32 102h1m9 0h1m20 0h1m15 0h1m52 0h1m2 0h1m23 0h1m12 0h1M23 103h1m99 0h1m47 0h1M61 104h1m30 0h1m15 0h1m8 0h2m10 0h1m9 0h1M26 105h1m8 0h1m6 0h1m50 0h1m24 0h1m18 0h1m32 0h1M22 106h2m21 0h1m93 0h1m24 0h1M26 107h1m4 0h1m33 0h1m28 0h1m12 0h1m33 0h1M31 108h1m23 0h1m2 0h1m4 0h1m46 0h1m27 0h1m14 0h1M38 109h1m6 0h2m22 0h1m20 0h1m19 0h1m8 0h1m1 0h1m33 0h1m9 0h1M118 110h1M33 111h1m24 0h1m1 0h1m32 0h1m10 0h1m4 0h1m7 0h1M88 112h1m29 0h1m4 0h2M26 113h1m10 0h1m6 0h1m80 0h1M27 114h1m13 0h1m90 0h1M39 115h1m78 0h1m35 0h1M31 116h1m94 0h1M41 117h1m2 0h1m32 0h1m6 0h1m35 0h1M42 118h1m18 0h1m6 0h1m22 0h1m24 0h1M28 120h1m65 0h1m38 0h1M35 121h1m10 0h1m1 0h1m12 0h1m21 0h1m22 0h1m4 0h1M69 122h1m27 0h1m29 0h1M54 123h1m4 0h1M84 124h2m8 0h1m30 0h1m1 0h1M62 126h1M50 127h1m5 0h1m6 0h1m2 0h1m21 0h1M107 128h1M38 129h1m7 0h1m47 0h1m17 0h1M102 130h1m9 0h1m10 0h1M47 131h1m31 0h1M33 132h1m17 0h1m32 0h1m11 0h1m37 0h1M34 133h1m22 0h1m33 0h1M58 134h1M96 135h1m13 0h1M36 136h1m37 0h1m18 0h1m16 0h1M102 137h1M50 138h1m11 0h1m11 0h1M41 139h1m27 0h1m47 0h1M61 140h1m17 0h1M39 142h1m36 0h1M52 143h1m42 0h1m4 0h1M61 144h1M45 145h1M35 146h1m12 0h1m8 0h1M52 148h2"/>
<path stroke="#228B8D" d="M156 3h1m11 0h1M144 9h1M180 11h1M149 12h1M141 14h1M154 24h1M154 29h1m3 0h1M139 30h1M158 31h1m30 0h1M155 32h1M48 34h1M134 35h1M132 36h1M131 41h1M90 43h1m2 0h1M132 44h1M57 45h1m28 0h1m13 0h1M98 46h1M112 48h1m43 0h1M102 50h1M50 51h1m24 0h1M170 52h1M109 53h1m43 0h1m17 0h1M52 54h1m68 0h1M151 55h1m9 0h1M130 56h1m4 0h1M54 57h1m54 0h1m49 0h1m9 0h1M133 58h1m63 0h1M48 59h1m104 0h1M51 60h1m108 0h1M54 61h1m50 0h2m16 0h1M107 62h1m8 0h1m60 0h1M48 63h1m97 0h1m2 0h1m14 0h1M56 64h1m5 0h1m84 0h1m43 0h1M52 65h1m66 0h1m71 0h1M113 66h1m18 0h2M107 67h1m7 0h1m25 0h1m26 0h1M102 68h1m11 0h1m1 0h1m10 0h1m14 0h1m45 0h1M52 69h1m62 0h1m9 0h1m6 0h2m34 0h2M122 70h1M52 71h1m74 0h2m40 0h1M121 72h1m71 0h1m3 0h1M103 73h1m73 0h1m17 0h1M116 74h1m22 0h1m52 0h1M15 75h1m96 0h1m33 0h1m1 0h1M99 76h1m44 0h1M99 77h1m10 0h1m9 0h1m10 0h1M103 78h1m69 0h1M102 79h1m19 0h1m24 0h1m4 0h1m11 0h1M99 80h1m10 0h1m54 0h1m2 0h1M18 81h1m27 0h1m58 0h1M19 82h1m2 0h1m73 0h1m93 0h1M9 83h1m17 0h2m4 0h1m8 0h1m5 0h3m2 0h1m14 0h1m109 0h1M27 84h1m19 0h1m4 0h1m73 0h1M33 85h1m6 0h1m63 0h1m13 0h1m10 0h1M13 86h1m33 0h1m50 0h1m8 0h1M18 87h1m12 0h1m3 0h1m21 0h1M89 88h1m2 0h1M13 89h1m8 0h1m1 0h1m10 0h1m6 0h1m20 0h1m6 0h1m3 0h1M21 90h1m14 0h1m41 0h1m22 0h1m76 0h1M27 91h1m17 0h1m65 0h1m8 0h1m6 0h1M38 92h1m30 0h1m16 0h1m2 0h1m25 0h1M17 93h1m4 0h1m13 0h1m9 0h1m33 0h1m38 0h1m1 0h1m5 0h1M27 94h2m8 0h1m15 0h1m2 0h1m55 0h1m16 0h2M21 95h1m24 0h1M21 96h2m37 0h1m17 0h1m25 0h1m21 0h1m38 0h1M55 97h1m3 0h3m13 0h1m2 0h1m13 0h1m11 0h1m12 0h1m1 0h1m9 0h1M19 98h1m19 0h1m59 0h1m6 0h1m5 0h1m6 0h1m10 0h1m38 0h2M26 99h1m49 0h1m3 0h1m1 0h1m25 0h1M35 100h1m65 0h1M18 101h1m10 0h1m2 0h1m2 0h1m113 0h1M35 102h1m67 0h1m3 0h1m1 0h1m2 0h2m4 0h1m11 0h1M37 103h1m2 0h1m2 0h1m22 0h1m37 0h1m12 0h1m18 0h1m10 0h1m8 0h1M98 104h1m1 0h1m2 0h1m26 0h1m6 0h1M59 105h1m12 0h1m12 0h1m1 0h1m53 0h1M80 106h1m13 0h1m5 0h3m22 0h1M21 107h1m58 0h1M25 108h1m55 0h1m3 0h1m15 0h1m23 0h1m3 0h1m5 0h1M51 109h2m9 0h1m23 0h1m35 0h1m7 0h1M34 110h1m5 0h1m67 0h1m5 0h1m7 0h1m1 0h1M52 111h1m30 0h2m14 0h1M43 112h1m1 0h1m6 0h1m62 0h1m1 0h1m23 0h1M68 113h1m4 0h1m24 0h1m6 0h1m56 0h1M71 114h1m35 0h2M53 115h1m9 0h1m19 0h1m10 0h1m13 0h1m50 0h1M40 116h1m21 0h1m22 0h1M86 117h1m18 0h1m17 0h1M65 118h1m26 0h1M64 119h1m34 0h1M46 120h1m52 0h1m27 0h1M59 121h1m15 0h1m2 0h1m30 0h1m10 0h1M72 122h1m8 0h1m2 0h1m48 0h1M30 123h1m79 0h1M70 124h1m65 0h1M31 125h1m47 0h1m9 0h1m22 0h1m7 0h1M51 126h1m26 0h1m12 0h1m7 0h1M33 127h1m8 0h1m14 0h1m4 0h1m12 0h1M37 128h1m34 0h1m9 0h1m31 0h1m24 0h1m6 0h1M86 129h1m3 0h1M40 130h1m11 0h1m36 0h1m2 0h1m22 0h1M41 131h1m1 0h1m21 0h1m63 0h1m12 0h1M29 132h1m39 0h1M79 133h1m23 0h1m8 0h1M74 134h1m30 0h1M38 135h1m17 0h1m21 0h1M39 136h1m11 0h1m9 0h1m18 0h1M89 137h1m7 0h2m6 0h1m3 0h1M48 138h1m19 0h1m40 0h1m10 0h1M116 139h1M53 141h1m13 0h1M109 142h1M34 143h1m18 0h1M60 144h1m40 0h1M38 145h1m22 0h1"/>
<path stroke="#1F958B" d="M182 10h1M166 12h1M186 19h1M139 20h1m5 0h1m38 0h1M140 27h1m19 0h1M135 29h1M152 30h1M145 32h1M148 34h1M133 36h1M86 39h1M91 40h1M132 41h1m9 0h1m49 0h1M140 42h1m51 0h1M124 43h1m36 0h1M88 44h1m59 0h1M89 45h1M181 46h1M99 47h1M91 48h1m32 0h1M114 49h1m8 0h1M138 50h1M96 51h1m25 0h1M140 52h1m11 0h1m5 0h1M96 53h1m57 0h1M55 54h1m45 0h1M53 55h1m106 0h1m8 0h1M140 56h1m6 0h1M64 57h1m50 0h1m14 0h1M52 58h1M57 60h1m74 0h1M200 61h1M97 62h1m2 0h1m21 0h1M145 63h1M98 64h1m28 0h1m50 0h1M194 65h1M50 66h1m50 0h1m2 0h1m10 0h1m2 0h1m26 0h1M94 67h1m30 0h1M96 68h1m31 0h1m32 0h1M134 71h1M53 72h1m2 0h1m101 0h1M105 73h1m7 0h1m20 0h1M160 74h1M109 75h1m12 0h1m12 0h1m3 0h1m28 0h1M59 76h1M15 77h1m49 0h1m32 0h1m63 0h1M51 78h1m46 0h1m22 0h1M45 79h1m65 0h1m55 0h1m5 0h1M8 80h2m5 0h1M42 81h1m8 0h1M14 82h1m24 0h1m10 0h2m88 0h1m19 0h1M24 83h1m9 0h1m11 0h1m71 0h1m3 0h1m65 0h1M44 84h1m86 0h1M11 85h1m16 0h1M11 86h1m39 0h1m4 0h1m54 0h1m17 0h1m8 0h1m42 0h1M25 87h1m37 0h1m31 0h2M41 89h1m13 0h1m78 0h1M42 90h1m2 0h1m5 0h1m71 0h1m9 0h1M39 91h1m2 0h1m6 0h1m20 0h1m10 0h1m15 0h1m17 0h1m9 0h1m2 0h2M50 92h1m13 0h1m59 0h1M43 93h1m38 0h1m17 0h1m15 0h1M64 94h1m59 0h2m1 0h1M15 95h1m37 0h1m40 0h2m1 0h1m30 0h2m35 0h1M89 96h1m35 0h1M19 97h1m89 0h1m5 0h1m59 0h1M113 98h1m19 0h1M91 99h1m9 0h1M26 100h1m42 0h1m7 0h1m50 0h1m42 0h1M19 101h1m1 0h1m5 0h1m81 0h1m23 0h1M36 102h1m11 0h1m15 0h3m24 0h1m16 0h1m8 0h1M75 103h1m18 0h1m18 0h1m14 0h1m20 0h1M67 104h1m91 0h1M82 105h1m28 0h1m19 0h1M33 106h1m4 0h1m8 0h1m15 0h1m39 0h1m12 0h2m10 0h1m7 0h1m21 0h1m10 0h1M41 107h1m42 0h1m8 0h1m18 0h1m17 0h1M43 108h1m20 0h1m14 0h1m12 0h1m3 0h1m1 0h1m12 0h1m34 0h1M22 109h1m12 0h1m8 0h1m30 0h1m59 0h1M41 110h1m40 0h1m17 0h1m42 0h1M34 111h1m36 0h1m51 0h1m17 0h1M78 112h1m27 0h1m2 0h1m16 0h1m6 0h1M42 113h1m52 0h1m16 0h1m2 0h1M45 114h1m4 0h1m27 0h1m52 0h1m5 0h1M35 115h1m16 0h1m15 0h1m9 0h1M67 116h2m6 0h1m33 0h1M46 117h1m8 0h1m59 0h1m12 0h1m6 0h1M55 118h1m8 0h1m11 0h1m30 0h1m19 0h1M69 119h1m38 0h1m4 0h1m2 0h1m6 0h1M32 121h1m9 0h1m50 0h1m14 0h1M30 122h1m49 0h1m14 0h1m48 0h1M32 124h1m29 0h1m2 0h1M70 125h1m28 0h1M28 126h1m42 0h1m20 0h1m28 0h1M87 127h1m11 0h1M48 128h1m30 0h1m19 0h1M47 130h1m39 0h1M45 131h2m39 0h1m12 0h1m9 0h1m8 0h1M40 132h1m42 0h1M32 133h1m41 0h1m10 0h1M89 134h1m9 0h1m12 0h1m13 0h1M62 135h1m35 0h1m3 0h1m22 0h1M34 136h1m17 0h1m19 0h1m28 0h1m19 0h1M99 137h1m10 0h1M81 138h1M80 139h1m7 0h1M54 140h2M38 141h1m20 0h1M84 143h1M64 147h1"/>
<path stroke="#1FA088" d="M160 7h1M168 18h1m17 0h1M150 19h1M155 34h1M154 39h1m29 0h1M91 44h1M122 45h1m48 0h1M125 47h1m34 0h1M109 48h1m13 0h1m13 0h1m10 0h1M49 49h1m104 0h1M159 50h1m2 0h1M144 51h1m14 0h1M114 52h1m49 0h1m1 0h1M148 53h1m18 0h1M96 54h1m62 0h1M136 56h1M56 58h1m51 0h1m52 0h1M113 59h1m46 0h1M59 60h1m61 0h1M108 61h1M99 62h1m19 0h1m59 0h1m13 0h1M109 63h1m3 0h1m43 0h1m40 0h1M110 64h1m81 0h1M56 65h1m48 0h1M52 66h1m9 0h1m66 0h1m32 0h2m3 0h1M50 68h1m2 0h1m49 0h1m14 0h1M57 69h1m40 0h1m25 0h1M98 70h2m47 0h1m42 0h1M107 71h1m11 0h1m5 0h1m7 0h1m24 0h1M49 72h1m56 0h1M104 73h1M13 74h1m82 0h2m13 0h1m7 0h1M10 75h1m144 0h1m1 0h1M14 76h1m130 0h1m6 0h1m21 0h1M51 77h1m7 0h1m54 0h1m46 0h1M9 78h1m36 0h2m10 0h1m35 0h1m13 0h1m4 0h1m81 0h1M8 79h1m94 0h1m33 0h1m15 0h1M16 80h1m95 0h1m9 0h1m1 0h1M21 82h1m41 0h1m2 0h1m2 0h1m36 0h1m63 0h1M15 83h1m9 0h1m37 0h2m56 0h1M15 84h1M45 86h1m79 0h1M44 87h1m10 0h1m6 0h1m3 0h1m37 0h1M12 88h1m84 0h1m12 0h1m11 0h1M38 89h1m49 0h1m16 0h1m18 0h1m5 0h1m33 0h1m16 0h1M67 90h1m17 0h1m28 0h1m1 0h1m17 0h1M13 91h1m19 0h1m78 0h1M28 92h1m7 0h1m3 0h2m45 0h1m23 0h1m9 0h1M14 93h1m109 0h1M42 94h1m26 0h1m10 0h1M22 95h1m22 0h1m8 0h1m6 0h1m14 0h1m28 0h2M40 96h1m49 0h1m31 0h1m52 0h1M22 97h1m34 0h1m7 0h1m65 0h1m2 0h1M76 98h1m5 0h2m5 0h1m24 0h1m16 0h1m40 0h1M63 99h2m7 0h1m11 0h1m33 0h1m2 0h1m7 0h1m40 0h1M16 100h1m15 0h1m39 0h1m40 0h2m3 0h1m8 0h1m3 0h1m24 0h2m12 0h1M36 101h1m22 0h1m6 0h1m34 0h1m2 0h1m16 0h1m3 0h1m45 0h1M37 102h1m62 0h1m27 0h1m19 0h1M79 103h1M40 104h1m39 0h1m24 0h1m5 0h1m36 0h1m13 0h1M74 105h1m11 0h1m21 0h1m4 0h1M35 106h1m41 0h1m41 0h1M71 107h1m7 0h1m36 0h2m11 0h1M21 108h2m91 0h1m2 0h1M76 109h1m5 0h1m6 0h1m25 0h1m17 0h1m3 0h1M42 110h1m13 0h1m22 0h2m28 0h1m9 0h1M24 111h1m19 0h1m33 0h1m2 0h1m10 0h1m12 0h1m7 0h1M55 112h1m17 0h1m22 0h1m8 0h1m40 0h1M50 113h1m6 0h1m1 0h1m21 0h1m9 0h1m24 0h1m4 0h1m7 0h1M75 114h1m6 0h1m21 0h1m19 0h1M47 115h1m1 0h1m34 0h1m19 0h1m2 0h1M57 116h1m52 0h1M54 117h1m64 0h1m1 0h1m18 0h1M28 118h1m16 0h1m63 0h1M61 119h1m1 0h1m22 0h1m41 0h1m2 0h1M65 120h1m9 0h1m32 0h1m4 0h1m18 0h1M51 121h1m2 0h1M34 122h1m23 0h1M38 123h1m31 0h1M35 124h1m32 0h1M29 125h1m6 0h1m13 0h1m8 0h1m8 0h1m26 0h1m9 0h1M97 126h1M28 127h1m3 0h1m19 0h1m21 0h1m22 0h1m11 0h1M43 128h2m18 0h1m37 0h1m13 0h1m10 0h1M39 129h1m11 0h1m4 0h1m7 0h2M26 130h1m2 0h1M25 132h1m64 0h1M40 133h1m15 0h1m12 0h1m6 0h1m1 0h1m14 0h1m4 0h1m21 0h2M53 134h1M28 135h1m6 0h1m21 0h1m15 0h1M68 136h1m31 0h1M55 137h1m25 0h1M51 138h1m30 0h1M45 139h1m10 0h1m20 0h1M41 140h1M54 141h1M50 143h1m34 0h1M62 144h1M51 145h1M39 147h1m25 0h1M43 151h1m5 0h1"/>
<path stroke="#24AA83" d="M156 13h1M167 16h1m16 0h1M181 24h1M160 28h1M121 32h1M134 33h1M144 39h1M140 43h1M94 44h1m20 0h1m23 0h1m36 0h1M147 46h1m24 0h1M89 47h1m1 0h1m1 0h1m53 0h1m14 0h1m3 0h1M97 49h1M150 50h1M97 52h1M108 53h1M119 56h1M53 58h1m41 0h1m30 0h1m71 0h1M110 59h1m1 0h1m7 0h1m1 0h1m4 0h1M125 60h1m5 0h1m23 0h1M148 61h1m16 0h1M120 62h1M60 63h1m45 0h1m14 0h1m57 0h1M135 64h1M47 65h1m7 0h1m107 0h1M130 66h1m3 0h1m63 0h1M55 67h1m64 0h1m58 0h1M58 68h1m128 0h1M48 69h1m145 0h1M61 70h1m106 0h1M54 71h1m5 0h1m49 0h1m7 0h1M94 72h1m3 0h1m14 0h1m1 0h1m9 0h1m61 0h1M53 73h3m95 0h1m15 0h1m4 0h1M52 74h1m1 0h1m3 0h1m96 0h1m1 0h2M48 75h1m4 0h1m59 0h1m6 0h1m73 0h1M125 76h1m24 0h1m42 0h1M95 77h1m43 0h1m4 0h1M10 78h2m3 0h1m132 0h1M125 79h1m18 0h1M43 80h1m13 0h1m4 0h1m39 0h1m17 0h1m21 0h1M40 81h1m85 0h1M47 82h1m73 0h1m17 0h1M11 83h1m11 0h1m99 0h1M35 84h1m1 0h1m15 0h1m41 0h1M55 85h1M32 86h1m13 0h1m85 0h1M51 87h1m13 0h1m1 0h2M120 88h1M97 89h1m13 0h1m15 0h1M62 90h1m21 0h1m14 0h1m15 0h1M43 91h1m32 0h1m26 0h1m19 0h1M37 92h1m7 0h1m3 0h1M38 93h1m6 0h1m13 0h2m4 0h1m52 0h1M49 94h1m11 0h1m16 0h1m3 0h1M79 95h1m30 0h1m9 0h1m42 0h1M117 96h1M15 97h1m27 0h1m74 0h1m9 0h1M108 98h1m17 0h1M74 99h1m29 0h1m12 0h1m8 0h1m4 0h1M105 100h1m9 0h1m10 0h1m24 0h1M62 101h1m28 0h1m19 0h1M18 102h1m21 0h1m49 0h1m31 0h1M18 103h1m16 0h1M85 104h2m3 0h1m31 0h1M75 105h1m15 0h1m27 0h1M21 106h1m24 0h1m57 0h1m2 0h1m12 0h1M36 107h1m54 0h2m13 0h1M48 108h1m20 0h1m56 0h1M23 109h1m23 0h1m72 0h1m8 0h1M61 110h1m31 0h1m10 0h1m25 0h1m35 0h1M38 111h1m73 0h1m13 0h1M59 112h1m11 0h1m25 0h1m23 0h1m6 0h1m33 0h1M39 113h1m40 0h1m29 0h1m9 0h1m10 0h1M53 114h1m15 0h1m25 0h1m19 0h1M55 115h1m36 0h1M33 116h1m7 0h1m17 0h1m21 0h1m8 0h1m5 0h1m15 0h1m4 0h1m9 0h1M40 117h1m17 0h1m59 0h1M35 118h1m20 0h1m3 0h1m17 0h1m7 0h1m16 0h1m31 0h1M60 119h1m21 0h1M48 120h1m9 0h1m12 0h1m5 0h1m39 0h2M79 121h1m30 0h1M29 122h1m6 0h1m2 0h1m13 0h1m19 0h1m1 0h1m39 0h2m4 0h1M33 123h1m45 0h1M29 124h1m49 0h1m25 0h1m45 0h1M45 125h1m5 0h1m28 0h1M67 126h1m18 0h1M39 127h1m50 0h1M28 129h1m20 0h1m58 0h1M67 130h1m6 0h1m10 0h1M39 131h1m14 0h1m2 0h1m10 0h1m3 0h1M77 132h1M39 133h1M109 134h1M64 135h1m11 0h1M57 136h1m19 0h1M58 137h1m15 0h1M52 138h1M80 140h1M29 141h1m45 0h1M54 142h2m16 0h1M56 143h1m16 0h1M87 144h1M35 145h1m29 0h1M47 146h1m15 0h1M47 149h1m2 0h1"/>
<path stroke="#2FB47C" d="M158 6h1M153 10h1M150 16h1M161 23h1M174 26h1M91 41h1m71 0h1M156 45h1m28 0h1M91 46h1m39 0h1m16 0h1M112 49h1m56 0h1M135 51h1m34 0h1M98 52h1m70 0h1M99 53h1m33 0h1m4 0h1M109 54h1M104 56h1M55 57h1m67 0h1m34 0h1M58 58h1m56 0h1m30 0h1M50 59h1m1 0h1M100 60h1M48 62h1m57 0h1m5 0h1m15 0h1m29 0h1m11 0h1m23 0h1M105 63h1m1 0h1M193 64h1M161 65h2m36 0h1M143 66h1m10 0h1M60 67h1m58 0h1m14 0h1m61 0h1M95 68h1m4 0h1m32 0h1m35 0h1m25 0h1M48 70h1m63 0h1m20 0h1m44 0h1M189 72h1M92 73h1m35 0h1m9 0h1m3 0h1m53 0h1M133 74h1m8 0h1M14 75h1m32 0h1m9 0h1m6 0h1m41 0h1m81 0h1M15 76h1m31 0h1m8 0h1m3 0h1m34 0h1m17 0h1m7 0h1m9 0h1m5 0h1M47 77h1m122 0h1M7 78h1m52 0h1m71 0h1M120 79h1m17 0h1M49 80h1m57 0h1m20 0h1M113 81h1m5 0h1M9 82h1m42 0h1m65 0h1m8 0h1m10 0h1M30 83h1m77 0h1M117 84h1m11 0h1M48 85h1m48 0h1M43 86h1m66 0h1m10 0h1m61 0h1M118 87h1m1 0h1m59 0h1M57 88h1m6 0h1m53 0h1m2 0h1m9 0h1M44 89h1m69 0h1m1 0h1m6 0h1m8 0h1M97 90h1m11 0h1m8 0h1m9 0h1m2 0h1M63 91h1m20 0h1m28 0h1m4 0h1M27 92h1m40 0h1m51 0h1M78 93h1m12 0h1m10 0h1m12 0h1M89 94h1m17 0h1m1 0h1m9 0h2M36 95h1m18 0h1m10 0h1m50 0h1m3 0h1M53 96h1m27 0h1m4 0h1m22 0h1m2 0h1m11 0h1m2 0h1m5 0h1M56 97h1m7 0h1m2 0h1m26 0h1m38 0h1M22 98h1m45 0h1m54 0h1M36 99h1m2 0h1m26 0h1m2 0h1m16 0h1m38 0h1m6 0h1m39 0h1M45 100h1m2 0h1m22 0h1m8 0h1m48 0h1m4 0h1M71 101h1m58 0h1m20 0h1M41 102h1m38 0h1m48 0h1M74 103h1m40 0h1m11 0h1m1 0h1m39 0h1M19 104h2m37 0h1m6 0h1m6 0h1M46 105h1m30 0h2m25 0h1m1 0h1m17 0h1m1 0h2m2 0h1M32 107h2m14 0h1m9 0h1m29 0h1m1 0h1m13 0h1m14 0h1m7 0h1m27 0h1M54 108h1m25 0h1m35 0h1M57 109h1m10 0h1m8 0h1m45 0h1m2 0h3M46 110h1m1 0h1m13 0h1m39 0h1m25 0h1M47 111h1m22 0h1m15 0h1m33 0h1M35 112h1m12 0h1m31 0h1M54 113h1m39 0h1m27 0h1M38 114h1m9 0h1m15 0h1m12 0h1m11 0h1m35 0h1M38 115h1m11 0h1m11 0h1m56 0h1m5 0h1m10 0h1M124 116h1M32 117h1m34 0h1m41 0h1m4 0h1M66 118h1m23 0h1m3 0h1m19 0h1M31 119h1m11 0h2m1 0h1m9 0h1m65 0h1M64 120h1m19 0h1m15 0h1m3 0h1M71 121h2m57 0h1M61 122h1M32 123h1m12 0h1m29 0h2m12 0h1m15 0h1M59 124h1m16 0h2M56 125h1m30 0h1m52 0h1M79 126h2m4 0h1M51 127h1m9 0h1m15 0h1M29 128h1m22 0h1m7 0h2m4 0h1m27 0h1m28 0h1M69 129h1m21 0h1m31 0h1M54 130h1m11 0h1m1 0h2m7 0h1m20 0h1M52 131h1m6 0h1m4 0h1m4 0h1m22 0h1M53 132h1m28 0h1m27 0h1M111 133h1M111 134h1m1 0h1M109 135h1M75 136h1M54 137h1m1 0h1m35 0h1M55 138h1m29 0h1M42 140h1m15 0h1m1 0h1M56 141h1M32 143h1m3 0h1m23 0h1M37 145h1M64 146h1M37 147h1m12 0h1m6 0h1M39 148h1"/>
<path stroke="#42BE71" d="M150 15h1M180 25h1M152 28h1m29 0h1M150 36h1M150 38h1M137 39h1M161 40h1M95 44h1m64 0h1M90 46h1m62 0h1M154 47h1m9 0h1M98 48h1M91 49h1M117 50h1m53 0h1M134 52h1m32 0h1M121 53h1M163 54h1M101 55h1m12 0h1m51 0h1M133 57h2M120 58h1m79 0h1M53 59h1m57 0h1M97 60h1m24 0h1M133 61h1m4 0h1m32 0h1M105 62h1m91 0h1M137 63h1m59 0h1M116 64h1M101 65h1m34 0h1M111 66h1m5 0h1M167 67h1M117 68h1M47 69h1m2 0h1m3 0h1m126 0h1m5 0h1M108 70h1m16 0h2M108 71h1M59 72h1m43 0h1M107 73h1m24 0h1M10 74h1m36 0h1m59 0h1M115 75h1m16 0h1M55 76h1m7 0h1m64 0h1m66 0h1M111 77h1m60 0h1M55 78h1m56 0h1M121 79h1M7 80h1m43 0h1M55 81h1m39 0h1m5 0h1m20 0h1m49 0h1M109 82h2m8 0h1m4 0h1M58 83h1m3 0h1m42 0h1M123 84h1M135 85h1M94 86h1m18 0h1m2 0h1m53 0h1m5 0h1M98 87h1M113 88h1m5 0h1M51 89h1m50 0h2m14 0h1m47 0h1M50 90h1m19 0h1M41 91h1m33 0h1m9 0h1m1 0h1m12 0h1m60 0h1M39 92h1m2 0h1M39 93h3m8 0h1m4 0h1m15 0h1m53 0h1M54 94h1m8 0h1m24 0h1m9 0h1m18 0h1m10 0h1M37 95h1m9 0h1m10 0h2m42 0h1m11 0h1m3 0h1m5 0h1m2 0h1m3 0h1M59 96h1m20 0h1m4 0h1m33 0h1m3 0h1m4 0h1M45 97h1m1 0h1m31 0h1m42 0h1M16 98h1m17 0h1m28 0h1m46 0h1m10 0h1M119 99h1m2 0h1m4 0h1m5 0h1M117 100h1m7 0h1M46 101h1m8 0h1m70 0h2m1 0h1M47 102h1m23 0h1m5 0h1m8 0h1m14 0h1m12 0h1m9 0h4m6 0h1M116 103h1m8 0h2M33 104h1m26 0h1m23 0h1m10 0h1m30 0h2M39 105h1m8 0h1m49 0h1m8 0h1m8 0h2m10 0h1m22 0h1M39 106h1m10 0h1m22 0h1m4 0h1m47 0h1M85 107h1m37 0h1m11 0h1M37 108h1m6 0h1m1 0h2m8 0h1m14 0h1m19 0h1m13 0h1m22 0h1m1 0h1M66 109h1m30 0h1M55 110h1m13 0h1m6 0h2m25 0h1m19 0h1m8 0h1M85 111h1m11 0h1m24 0h1M27 112h1m58 0h1m33 0h1m1 0h1M27 113h1m68 0h1m12 0h1M70 114h1m58 0h1M27 115h1m9 0h1m82 0h1m2 0h1M32 116h1m40 0h1m47 0h1m1 0h1m10 0h1m3 0h1M61 117h1m65 0h1M37 118h1M100 119h1M62 120h1m35 0h1M73 121h1m58 0h1M31 122h1m3 0h1m9 0h2m30 0h1m24 0h1m10 0h1M71 123h1M92 124h1M58 125h1m37 0h1m12 0h1M31 126h1m62 0h1m5 0h1M45 127h1m38 0h1m11 0h1m11 0h1M69 128h1M32 129h1m37 0h1m46 0h1M25 130h1m47 0h1m7 0h1m18 0h1m30 0h1m7 0h1M27 131h1m33 0h1m4 0h1m35 0h1m7 0h1M43 132h1m6 0h1m20 0h1M48 133h1m1 0h1m26 0h1m2 0h1M48 135h1m32 0h1M29 136h1m48 0h1M29 137h1m27 0h1m20 0h1m3 0h1m24 0h2M121 139h1M29 140h1M48 143h1m2 0h1m23 0h1m37 0h1M56 144h1m15 0h1M38 147h1m10 0h1m1 0h1m15 0h1M50 150h1"/>
<path stroke="#58C765" d="M168 6h1M183 10h1M173 11h1M185 17h1M170 19h1M139 21h1M146 24h1M179 29h1M149 39h1m8 0h1M149 40h1M95 43h1M103 45h1m54 0h1M104 46h1m41 0h1M109 47h1M147 48h1m19 0h1M113 49h1M94 51h1m59 0h1M159 53h1M103 56h1m65 0h1M131 58h1m30 0h1m9 0h1m28 0h1M55 59h1m1 0h1M98 60h1m9 0h1m15 0h1M48 61h1m94 0h1M114 63h1m84 0h1M121 64h1m9 0h1m26 0h1M49 65h1m65 0h1m81 0h1M49 66h1m64 0h1M133 67h1M60 68h1m120 0h1M97 69h1m1 0h1m13 0h1M119 70h1m77 0h1M56 71h1m55 0h1M117 72h1M47 73h1m47 0h1m6 0h1m9 0h1m6 0h1M48 74h1m10 0h1m60 0h1m74 0h1M125 75h1m2 0h1M11 76h1m36 0h1m71 0h1M53 77h1m54 0h1M104 78h1m67 0h1M135 79h1M109 80h1m24 0h2M54 82h1m42 0h1M112 83h2M95 85h1m82 0h1M96 86h1m7 0h1m79 0h1M128 87h1m5 0h1m35 0h1M130 88h1M50 89h1m6 0h1m33 0h1m39 0h1M49 90h1M40 91h1m6 0h1m4 0h1m25 0h1m35 0h1M54 92h1m1 0h1m57 0h1m1 0h1M42 93h1m9 0h1m26 0h1m6 0h1m8 0h1M60 94h1m33 0h1m16 0h1m4 0h1m4 0h1M41 95h1m42 0h2m29 0h1M116 96h1m13 0h1M62 97h1m7 0h1m3 0h1m6 0h1m30 0h1m11 0h1M43 98h1m25 0h1m41 0h1m3 0h1m2 0h1m1 0h1m11 0h1M75 99h1m29 0h1m5 0h1m8 0h1m27 0h1M107 100h1m14 0h1M65 101h1m56 0h3m6 0h1m24 0h1M57 102h1m16 0h1m17 0h1m11 0h1m10 0h2m19 0h1M64 103h1m20 0h1m3 0h1m16 0h1m27 0h1M44 104h1m19 0h1m47 0h1m15 0h1m21 0h1M34 105h1m31 0h3m60 0h1m9 0h1M51 106h1m5 0h1m8 0h1m15 0h2m30 0h1M46 107h1m2 0h1m10 0h1m48 0h1m3 0h1m10 0h1m3 0h1M52 108h1m24 0h1m31 0h1m11 0h1m2 0h1M60 109h1m23 0h1m23 0h1M91 110h1m39 0h1M41 111h1m1 0h1m17 0h1m29 0h1m8 0h1m26 0h1m6 0h1M47 112h1m24 0h1m19 0h1m14 0h1m19 0h1M35 113h1m34 0h1m11 0h1m19 0h1m4 0h1m6 0h1M39 114h1m27 0h1m6 0h1m21 0h1m30 0h1M122 115h1M28 116h1m14 0h1m12 0h1m14 0h2m14 0h1m28 0h1M34 117h1m1 0h1m29 0h1m25 0h1M32 118h1m20 0h1m16 0h1m34 0h1m2 0h1m47 0h1M38 119h1m15 0h1m16 0h1m16 0h1m26 0h1m2 0h1M42 120h1m72 0h1M62 121h1m39 0h1M80 123h1m1 0h1m12 0h1M44 124h1m44 0h1m14 0h1M32 125h1m13 0h1m2 0h1m17 0h1m26 0h1m3 0h1m14 0h1m11 0h1M68 126h1M60 127h1m15 0h1m16 0h1m53 0h1M77 128h1M40 129h1m48 0h1m3 0h1M48 130h1m30 0h1m11 0h1M23 131h1m54 0h1m4 0h1m3 0h1m2 0h1M30 132h1m7 0h1m37 0h1m3 0h1m7 0h1M96 133h1m3 0h1m3 0h1M49 134h1m60 0h1m23 0h1M27 135h1m42 0h1m6 0h1m1 0h1m21 0h1m10 0h1M30 137h1m53 0h1M88 138h1M127 139h1M67 140h1M70 141h1M29 143h1M48 145h1M36 146h1m24 0h1M63 148h1M51 150h1"/>
<path stroke="#70CF57" d="M169 13h1M185 18h1M185 19h1M181 20h1M149 25h1M168 29h1M160 32h1M127 33h1M131 40h1M91 42h1M89 46h1m80 0h1m16 0h1M132 47h1M133 48h1m32 0h1M132 49h1m3 0h1M158 50h1M115 51h1m48 0h1M135 53h1M103 55h1m48 0h1M129 56h1m29 0h1M103 57h1m21 0h1M57 58h1m89 0h1m17 0h1m4 0h1m31 0h1M109 60h2m34 0h1M50 61h1m63 0h1M124 62h1M130 65h1m2 0h1M166 66h1M49 67h1m4 0h1m51 0h1M198 68h1M116 69h1m31 0h1m31 0h1m8 0h1M47 70h1m73 0h1M97 71h2m31 0h1M48 73h1m1 0h1m86 0h1M11 74h1m83 0h1m10 0h1m31 0h1m17 0h1M51 75h1M54 76h1m2 0h1m68 0h2m1 0h2m3 0h1m37 0h1M50 77h1m79 0h1M123 78h1M109 79h1m13 0h1m12 0h1M60 80h1m45 0h1M62 81h1m41 0h1m35 0h1M120 82h1m66 0h1M119 83h1M109 84h1m6 0h1M110 85h1m4 0h1m3 0h1m51 0h1m4 0h1M97 86h1M116 87h2M51 88h1m6 0h1m6 0h1m35 0h1M58 89h1m35 0h1M44 90h1m11 0h1M94 91h1M44 92h1m20 0h1m11 0h1m26 0h1m12 0h1M49 93h1m20 0h1m3 0h1m29 0h1m3 0h1M52 94h1m33 0h1m45 0h1M44 95h1m15 0h1m28 0h2m22 0h1m8 0h1m10 0h1M48 96h1m3 0h1m62 0h1m4 0h1M48 97h1m52 0h1m4 0h1m6 0h1m21 0h1M41 98h1m16 0h1m27 0h1m29 0h1m10 0h2m21 0h1M55 99h1m25 0h1m5 0h1m15 0h1m6 0h1m3 0h2M42 100h1m16 0h1m13 0h1m10 0h1m18 0h1m8 0h1m7 0h2m50 0h1M39 101h1m2 0h1m6 0h1m17 0h1m4 0h1m16 0h1m12 0h1m57 0h1M67 102h1m51 0h1m1 0h1M71 103h1m1 0h1m26 0h1m4 0h1m12 0h2m1 0h1m2 0h1M63 104h1m2 0h1m39 0h1m6 0h3m4 0h1m19 0h1m4 0h1M112 105h1M55 106h1m3 0h1m2 0h1m28 0h1m21 0h1m1 0h1m5 0h1m2 0h1M57 107h1m1 0h1m1 0h1m2 0h1m10 0h1m21 0h1m10 0h1m9 0h1m2 0h1m3 0h1m16 0h1M40 108h2m30 0h1m2 0h1m42 0h1m4 0h1M81 109h1m9 0h1m7 0h1m18 0h1m29 0h1M59 110h1m3 0h1m22 0h1m33 0h1M50 111h1m4 0h1m11 0h1m57 0h1M65 112h1m17 0h1m20 0h1m26 0h1M72 113h1m50 0h1M85 114h1m32 0h1M28 115h1m16 0h1m21 0h1m2 0h1m25 0h1m17 0h1M27 116h1m38 0h1m40 0h1M68 117h1m18 0h2m6 0h1m10 0h1m1 0h1m7 0h1m5 0h1M31 118h1m39 0h1m32 0h1m19 0h1m8 0h1M53 119h1M49 120h1m11 0h1m11 0h1m2 0h1m16 0h1m18 0h1m11 0h1M37 121h1m11 0h1m10 0h1m13 0h1m6 0h1m12 0h1M71 122h1m27 0h1M42 123h1m40 0h1m4 0h1M42 124h1m15 0h1m12 0h1m45 0h1M73 125h1m7 0h1m2 0h1m29 0h1M41 126h1m30 0h1M85 127h1m20 0h1M45 128h1m12 0h1m9 0h1m2 0h1m12 0h1m3 0h1m1 0h1M29 129h1m24 0h1m44 0h1m13 0h1M28 130h1m47 0h1M67 131h1m5 0h1m29 0h1M55 132h1m23 0h1M54 133h1M62 134h1m10 0h1m5 0h1M49 135h1m25 0h1m4 0h1m41 0h1M56 136h1m32 0h1m8 0h1M67 138h1m29 0h1M84 139h2m23 0h1M65 140h1m59 0h1M109 141h1M30 142h2m24 0h1M31 143h1m6 0h1m8 0h1m16 0h1M35 144h1M34 145h1M34 146h1M34 147h1m33 0h1M57 148h1"/>
<path stroke="#8BD646" d="M157 9h1M162 41h1M159 43h1M92 45h1m44 0h1m23 0h1M111 49h1m3 0h1m60 0h1M112 50h1m36 0h1m6 0h1M130 51h1m2 0h1M132 52h1M170 53h1M161 54h1m12 0h1M99 58h1m14 0h1m3 0h1M52 60h1m62 0h1m7 0h1m26 0h1M110 61h1m9 0h1m3 0h1M113 62h1m36 0h1M101 63h1M98 65h1m25 0h1m68 0h1M54 66h1m57 0h1m18 0h1m23 0h1M121 67h1m66 0h1m9 0h1M122 68h1m6 0h1m59 0h1M107 69h1M57 70h1m38 0h2m13 0h1m18 0h1m17 0h1m1 0h1M59 71h1m53 0h1M99 72h1m16 0h1m7 0h1M117 73h1m3 0h1M102 74h1m22 0h1M105 75h1m1 0h1m66 0h1M114 76h1M127 77h1M107 78h1m6 0h1m5 0h1M112 79h1m27 0h1m4 0h1m47 0h1M58 80h1M56 81h1m54 0h1M112 82h1M35 83h1m15 0h1m64 0h2m2 0h1m5 0h1M60 84h1M63 86h1m53 0h2m63 0h1M56 88h1m59 0h1m10 0h1m1 0h1m2 0h1M98 90h1m13 0h1m53 0h1M44 91h1m51 0h1m1 0h1m18 0h1M108 92h1M47 93h1m44 0h1m4 0h1M83 94h1m26 0h1M62 95h1m23 0h1m20 0h1M42 96h1m15 0h1m25 0h1m36 0h1m12 0h1M46 97h1m7 0h1m68 0h1m1 0h1M46 98h1m1 0h1m7 0h1m7 0h1m29 0h1m22 0h1m6 0h1m4 0h1m5 0h1M45 99h1m15 0h1m26 0h1M43 100h1m3 0h1m13 0h1m25 0h1m11 0h1m24 0h1M60 101h1m23 0h1m27 0h2m2 0h1M45 102h1m4 0h1m44 0h1m6 0h1m2 0h1m14 0h1m2 0h1M42 103h1m10 0h1m3 0h1m2 0h1m25 0h1m8 0h1m26 0h1M38 104h1m4 0h1m11 0h1m14 0h1m45 0h1m2 0h1m1 0h1M53 105h1m40 0h1m26 0h2m2 0h1M67 106h1m3 0h1m16 0h1m42 0h1M66 107h1m10 0h1m18 0h1M53 108h1m6 0h1m36 0h1m1 0h1m8 0h1m11 0h1m1 0h1m4 0h1m3 0h1m5 0h1M37 109h1m5 0h1m4 0h1m1 0h1m10 0h1m8 0h1m63 0h1M47 110h1m5 0h2m2 0h1m14 0h1m23 0h1m24 0h1M48 111h1m2 0h1m28 0h1m27 0h1m6 0h2m2 0h1m10 0h1M31 112h1m7 0h1m16 0h1m12 0h2m20 0h1M86 113h1m3 0h1m8 0h1m28 0h1m1 0h1M111 114h1m10 0h1m3 0h1M72 115h1m2 0h1M86 116h1m4 0h1m14 0h1m12 0h2M126 117h1M85 118h1m1 0h1m35 0h1M73 119h1m17 0h1m17 0h1m14 0h1m4 0h1M44 120h1m7 0h1m30 0h1m21 0h1m14 0h1M45 121h1m54 0h1m12 0h1m1 0h1M56 122h1m6 0h1m42 0h1m5 0h1m1 0h1m4 0h1M28 123h1m123 0h1M31 124h1m66 0h1M92 125h1M40 126h1m2 0h1m38 0h1m4 0h1m16 0h1m7 0h1M38 127h1m47 0h1m5 0h1M51 128h1m56 0h1M27 129h1m60 0h1M84 130h1m19 0h1M32 131h1m2 0h1m44 0h1m1 0h1m1 0h1M47 132h1m1 0h1m47 0h1M55 133h1m25 0h1m5 0h1m9 0h1m12 0h1M84 134h1m18 0h1M40 135h1m56 0h1m6 0h1M53 136h1m28 0h1m2 0h1M106 137h1M32 138h1m50 0h1M108 139h1M116 140h1M57 141h1m3 0h1M61 142h1m27 0h1M76 143h1m2 0h2M71 144h1M69 145h1M58 147h1m7 0h1"/>
<path stroke="#A8DB34" d="M163 10h1M156 27h1M92 44h1M93 45h1M143 46h1M100 47h1m22 0h1M155 48h1m2 0h1M138 49h1M161 50h1m15 0h1M150 51h1m6 0h1M155 52h1m12 0h1M166 53h1M134 56h1M113 57h1m31 0h1m19 0h1M49 58h1m84 0h1m1 0h1m7 0h1M52 61h1m144 0h1M108 62h1m34 0h1M110 63h1M99 64h1m37 0h1m7 0h1m50 0h1M48 65h1m53 0h1m93 0h1M47 66h1m7 0h1m41 0h1m18 0h1m4 0h1m24 0h1M142 67h1M105 68h1m2 0h1M52 70h1m1 0h1m74 0h1M111 71h1M135 72h1m20 0h1M108 73h1m7 0h1m3 0h1M51 74h1m4 0h1m57 0h1m28 0h1M11 75h1m46 0h1m37 0h1m3 0h1m16 0h1m3 0h1m27 0h1M53 76h1m68 0h1M57 77h1m2 0h1m51 0h1m22 0h1m61 0h1M110 78h1m25 0h1m9 0h1M107 79h1m6 0h1m4 0h1M56 80h1m54 0h1m7 0h1m16 0h1m22 0h1M54 81h1m55 0h1m6 0h1m2 0h1M27 82h1m10 0h1m21 0h1m50 0h1m1 0h1m23 0h1m4 0h1M109 83h1m15 0h1M54 84h1m41 0h1m25 0h1m2 0h1m52 0h1M188 85h1M53 86h1M63 88h1M62 89h1m1 0h1m39 0h1m12 0h1M52 90h1m8 0h1M46 91h1m1 0h1m5 0h1m46 0h1M43 92h1m13 0h1m15 0h1m6 0h1m16 0h1m14 0h1M58 93h1m14 0h1m16 0h1m18 0h1M41 94h1m55 0h1M81 95h1m21 0h1m5 0h1m6 0h1m6 0h1m6 0h1M99 96h1m14 0h1m16 0h1M49 97h1m124 0h1M40 98h1m68 0h1m15 0h1M35 99h1m47 0h1m23 0h1m4 0h1m11 0h1M49 100h1m3 0h1m4 0h1m22 0h1m27 0h1m1 0h1m7 0h1m16 0h1M64 101h1m5 0h1m3 0h1m42 0h1m14 0h1M51 102h1m36 0h1m44 0h1m4 0h1m35 0h1M49 103h1m8 0h1m37 0h1m23 0h1m12 0h1M42 104h1m8 0h1m5 0h1m18 0h1m46 0h2m46 0h1M63 105h2m16 0h1m19 0h1m12 0h1m5 0h1m2 0h1M75 106h1m3 0h1m10 0h1m5 0h1m1 0h1m23 0h2m6 0h1M86 107h1m35 0h1M57 108h1m28 0h1m32 0h1m16 0h1M40 109h1m44 0h1M21 110h1m15 0h1m7 0h1m21 0h1m3 0h1m9 0h1m2 0h1m10 0h1m9 0h1m21 0h1M82 111h1m12 0h1m14 0h1m7 0h1m48 0h1M74 112h1M41 113h1m10 0h1m11 0h1m46 0h1m14 0h1M42 114h1m23 0h1m12 0h1m6 0h1m5 0h1M48 115h1m5 0h1m27 0h1m4 0h1m25 0h1m12 0h1m1 0h1M63 116h1m12 0h1m7 0h1m4 0h1m4 0h1m13 0h1M37 117h1m34 0h1M36 118h1m11 0h1m5 0h1m28 0h1M33 119h1m33 0h1m9 0h1m7 0h1M30 120h1m2 0h1m36 0h1m3 0h1m28 0h1M31 121h1m66 0h1m38 0h1M83 122h1M31 123h1m14 0h1m5 0h1M72 124h1m2 0h1m4 0h2m4 0h1m15 0h1M69 125h1m2 0h1m18 0h1m10 0h1m39 0h1M65 126h1m17 0h1m21 0h1m4 0h1M78 127h2M56 128h1m32 0h1m2 0h1m12 0h1m21 0h1M71 129h1m2 0h1m10 0h1m54 0h1M39 130h1m10 0h1m21 0h1m2 0h1M97 131h1M70 132h1m22 0h1m5 0h1m2 0h2M56 134h1m12 0h1m10 0h1m15 0h1M111 135h1M60 136h1m4 0h1m58 0h1M55 139h1m18 0h1m4 0h1M57 140h1m45 0h1M125 141h1M94 142h1M33 143h1m44 0h1M39 144h1m59 0h1M72 145h1M71 147h1M68 148h1M39 149h1M49 152h1"/>
<path stroke="#C5E021" d="M188 33h1M192 39h1M167 42h1m16 0h1M166 44h1M106 45h1M92 46h1M138 48h1M99 49h1m39 0h1M131 51h1m26 0h1M107 54h1m61 0h1M105 55h1m57 0h1M109 56h1m38 0h1M135 57h1M124 58h2m1 0h1m20 0h1M51 59h1m56 0h1m55 0h1m13 0h1M112 61h1M123 62h1m20 0h1m3 0h1m31 0h1M111 64h1M127 65h1m14 0h1M189 66h1M102 67h1m14 0h1m71 0h1M107 68h1m5 0h1M55 69h1M55 70h1m2 0h2m47 0h1m63 0h1M57 71h1m48 0h1M107 72h1M14 73h1m99 0h2m15 0h1m20 0h1m45 0h1M16 74h1m32 0h1m7 0h1m70 0h3m59 0h1M59 75h1m67 0h1M10 76h1m101 0h1m11 0h1m7 0h1m2 0h1M8 77h2m103 0h1m8 0h1m14 0h1M16 78h1m40 0h1m138 0h1M42 79h1m72 0h1m30 0h1M39 80h1m14 0h1m71 0h1M6 81h1m14 0h1m17 0h1m13 0h1m64 0h1m4 0h2m67 0h1M34 82h1m27 0h1M102 84h2m85 0h1M113 85h1m73 0h1M56 87h1m42 0h1m2 0h1M98 88h1m3 0h1m67 0h1M12 90h1m76 0h1m27 0h1m64 0h1M51 92h1m44 0h1m2 0h1m18 0h1M51 93h1m129 0h1M39 94h1m5 0h1m2 0h1m2 0h1m3 0h1m43 0h1m6 0h1m11 0h1M13 95h1m78 0h1m5 0h2m19 0h1M45 96h1m1 0h1m6 0h2m1 0h1m71 0h1M42 97h1m8 0h1m1 0h1m4 0h1m24 0h1m32 0h1M50 98h1m4 0h1m6 0h1m21 0h1m6 0h1m8 0h1m76 0h1M40 99h1m1 0h1m15 0h1m1 0h1m4 0h1m24 0h1m25 0h1m6 0h1m52 0h2M15 100h1m44 0h1m21 0h1m21 0h1m3 0h1m26 0h1M50 101h1m35 0h2m30 0h2m14 0h1M43 102h1m5 0h1m2 0h2m4 0h3M55 103h2m33 0h1M49 104h1m47 0h1m3 0h1m5 0h1m17 0h1M49 105h1m4 0h1m3 0h1m21 0h1M48 106h1m16 0h1m8 0h1m10 0h1m9 0h1m3 0h1M55 107h2m16 0h1m27 0h1m3 0h1m14 0h1M20 108h1m28 0h1m12 0h1m7 0h1m32 0h1m2 0h2m39 0h1m21 0h1M73 109h1M22 110h1m16 0h1m10 0h1m17 0h1m28 0h1m8 0h1m60 0h2M49 111h1m13 0h1m4 0h1m5 0h3m29 0h1m59 0h1M23 112h1m26 0h2m12 0h1m45 0h1m18 0h1M47 113h1m19 0h1m15 0h1m3 0h1m73 0h1m2 0h1M43 114h1m10 0h1m1 0h2m26 0h1m6 0h1m20 0h1M44 115h1m19 0h1m6 0h1m2 0h1m16 0h1m14 0h1m55 0h1M44 116h1m7 0h1m2 0h1m26 0h1m21 0h2m34 0h1m19 0h1M26 117h1m6 0h1m1 0h1m2 0h1m3 0h1m19 0h1m16 0h1m78 0h1M34 119h1m22 0h1m7 0h1m6 0h1m11 0h1m72 0h1M32 120h1m34 0h1M66 121h1m17 0h1m10 0h1m22 0h1m9 0h1M38 122h1m116 0h1M39 123h1m4 0h1m24 0h1m4 0h1m79 0h1M39 124h1m13 0h1m99 0h1M88 125h1m14 0h1M42 126h1m14 0h1m37 0h1M26 127h2m67 0h1M22 128h1m52 0h1m11 0h1m18 0h1M26 129h1m40 0h1m7 0h1m4 0h1m15 0h1m49 0h1M31 130h1m32 0h1m6 0h1m33 0h1m39 0h1M33 131h1m10 0h1m11 0h1m32 0h1m8 0h1M85 132h1m12 0h1M23 133h1m27 0h2m22 0h1m23 0h1M139 134h1M25 135h1m28 0h1m79 0h1M81 136h1M27 137h1m35 0h1M51 139h1m7 0h1m69 0h1M68 140h1m57 0h1M123 141h1M40 142h1m21 0h1m30 0h1M90 143h1m6 0h1m13 0h1M27 144h2m7 0h1m49 0h1m6 0h2m2 0h1m8 0h2m4 0h1M33 145h1m54 0h1M33 146h1m33 0h1m3 0h1m30 0h2M40 147h1m7 0h1m3 0h1M64 148h2M51 149h1m3 0h1m6 0h1M52 151h1M48 153h1"/>
<path stroke="#E2E418" d="M180 21h1M190 23h1M130 43h1M165 47h1M95 48h1M148 50h1m6 0h1M121 51h1m46 0h1M135 52h1M147 53h1m21 0h1M128 54h1M102 55h1m50 0h1M105 59h1M107 60h1m12 0h1M121 61h1m79 0h1M121 62h1m3 0h1m19 0h1M117 63h1m26 0h1M55 64h1m87 0h1m56 0h1M50 65h1m48 0h1m11 0h1M123 66h1m34 0h1M51 67h1m1 0h1m44 0h1m100 0h1M47 68h2m150 0h1M105 69h2m5 0h1m86 0h1M113 70h1m6 0h1m48 0h2M48 71h1m4 0h1m55 0h1m7 0h1m5 0h1m75 0h1M12 72h2m98 0h1m9 0h1m4 0h1m16 0h1M9 73h2m2 0h1m35 0h1m2 0h1m53 0h1M50 74h1m50 0h1m10 0h2m1 0h1m2 0h1m7 0h1m4 0h1m3 0h1m61 0h2M9 75h1m40 0h1m1 0h1m65 0h1m11 0h1m59 0h1m6 0h1M9 76h1m39 0h1m65 0h1m7 0h1m12 0h1m4 0h1m50 0h1M16 77h1m29 0h1m1 0h1m67 0h1m2 0h1m1 0h1m6 0h1m3 0h1m63 0h1M5 78h2m36 0h2m73 0h1M17 79h1m23 0h1m17 0h1m53 0h1m81 0h1M6 80h1m10 0h1m1 0h1m41 0h1m51 0h1m1 0h1m2 0h1m8 0h1m66 0h1M8 81h1m13 0h1m15 0h1m73 0h1m2 0h2m70 0h1m5 0h1M23 82h1m2 0h1m1 0h4m1 0h1m1 0h2m78 0h3m5 0h1m67 0h2M8 83h1m101 0h1m4 0h1m73 0h1M111 84h2m2 0h1m2 0h1M120 85h1M10 86h1m88 0h1m20 0h1m65 0h1M105 87h1m9 0h1m68 0h1M11 88h1m171 0h2M182 89h1M11 90h1M181 91h1M12 92h1m45 0h1m16 0h1m3 0h1m84 0h1m16 0h1M12 93h1m41 0h1M57 94h1m1 0h1m30 0h1M48 95h2m1 0h1m48 0h1m78 0h1M14 96h1m28 0h1m5 0h1m50 0h2m76 0h2M14 97h1m37 0h1m47 0h1M15 98h1m33 0h1m1 0h1m1 0h1m3 0h1m1 0h3M47 99h1m1 0h1m2 0h1m4 0h1m1 0h1m25 0h1m3 0h1m19 0h1M41 100h1m2 0h1m1 0h1m3 0h1m3 0h1m8 0h1m26 0h1m11 0h1m3 0h1m3 0h1m5 0h1m15 0h1m43 0h1M16 101h1m26 0h1m1 0h1m1 0h2m3 0h2m3 0h1m42 0h1m19 0h1m14 0h1m38 0h1M44 102h1m10 0h1m14 0h1m25 0h1m1 0h1M16 103h1m28 0h2m1 0h1m1 0h2m15 0h1m20 0h1m2 0h1m5 0h1m75 0h1M46 104h1m3 0h1m3 0h1m1 0h1m2 0h1m28 0h1m49 0h1m33 0h1M50 105h3m7 0h1m1 0h1m2 0h1m13 0h1m8 0h1m82 0h1M19 106h1m29 0h1m2 0h1m3 0h1m1 0h1m5 0h1m19 0h1m4 0h1m3 0h1m76 0h1M47 107h1m2 0h1m44 0h1m2 0h1m71 0h1M50 108h2m7 0h1m35 0h1m8 0h1M20 109h2m20 0h1m13 0h1m1 0h1m21 0h1m14 0h2m9 0h2m45 0h1m15 0h1M49 110h1m2 0h1m17 0h1m27 0h1m8 0h1M62 111h1M38 112h1m28 0h1m16 0h1M25 113h1m19 0h1m25 0h1m2 0h2m30 0h1m1 0h1m4 0h1m49 0h1m1 0h1M80 114h1m2 0h1m25 0h1m4 0h1m4 0h2m41 0h1M26 115h1m15 0h2m29 0h1m16 0h1m48 0h1M26 116h1m7 0h1m19 0h1m37 0h1m25 0h1m6 0h1m13 0h1M80 117h1m36 0h1m38 0h1m2 0h1M57 118h1m9 0h1m89 0h1M31 120h1m6 0h1m4 0h1m9 0h1m27 0h1m72 0h1m2 0h1M43 121h1m3 0h1m53 0h1m53 0h1M44 122h1M72 123h1m21 0h1m8 0h1m7 0h1M37 124h1m16 0h1m40 0h1m14 0h1M82 125h1m2 0h1m65 0h1M150 126h1M110 127h1M24 128h3m1 0h1m13 0h1m3 0h1m39 0h1m26 0h1m33 0h1m1 0h1M22 129h1m69 0h1m14 0h1m39 0h1M22 130h1m63 0h1m1 0h1m6 0h1m3 0h1M70 131h1m4 0h1m9 0h1m2 0h1m11 0h2m42 0h1M22 132h1m78 0h1m40 0h2M24 133h1m42 0h1m24 0h1m9 0h1M55 134h1m46 0h1m35 0h1m1 0h1M55 135h1m12 0h1m2 0h1m23 0h1m40 0h2M25 136h1m1 0h1m48 0h1m28 0h1m3 0h1m25 0h1M28 137h1m16 0h1m55 0h1m32 0h1M27 138h2m55 0h1m46 0h1m1 0h1M130 139h2M28 140h1m73 0h1m15 0h4m1 0h1m5 0h1M28 141h1m29 0h1m56 0h2m9 0h1M28 143h1m29 0h1m22 0h1m7 0h1m3 0h1m13 0h2m1 0h1M30 144h1m1 0h3m2 0h1m38 0h1m1 0h1m1 0h1m3 0h1m3 0h1m6 0h2m16 0h1m1 0h2M29 145h1m37 0h1m2 0h1m2 0h1m13 0h1m13 0h1M28 146h1m39 0h1m1 0h1m1 0h2m31 0h1M28 147h1m4 0h1m35 0h2M36 148h2m23 0h1m4 0h2M37 149h1m2 0h1m13 0h1m2 0h2m4 0h1M39 151h1m1 0h1M42 152h2m4 0h1M43 153h4"/>
<path stroke="#FDE725" d="M169 22h1M166 32h1M102 45h1M99 48h1m1 0h1M108 55h1M108 56h1m1 0h1M202 59h1M202 60h1M202 61h1M201 62h1M200 63h2M198 65h1m1 0h1M199 66h2M51 68h1M53 70h1m145 0h1M198 71h1M10 72h2m108 0h1m77 0h1M9 74h1m4 0h2m88 0h1m12 0h1M16 75h1m82 0h1m16 0h1M16 76h1m41 0h1m57 0h4m77 0h1M6 77h2m36 0h2m69 0h1m1 0h2m28 0h1M42 78h1m73 0h2m1 0h1m13 0h1M5 79h2m9 0h1m99 0h3m77 0h1M18 80h1m1 0h1m19 0h2m72 0h1m1 0h2m77 0h1M7 81h1m12 0h1m2 0h1m90 0h1m79 0h1M8 82h1m15 0h2m6 0h1m81 0h1m10 0h1M36 83h3m15 0h1m59 0h1m75 0h2M8 84h1m101 0h1m77 0h1M8 85h3m100 0h1m5 0h1m68 0h1M185 86h1M10 87h1m174 0h1M10 88h1m106 0h1m10 0h1M11 89h1m171 0h1M181 90h1M12 91h1M53 92h1m5 0h1M13 93h1m119 0h1m46 0h1M13 94h1m36 0h1m7 0h1m28 0h1m92 0h1M50 95h1m1 0h1m3 0h2m122 0h1M13 96h1m30 0h1m5 0h2m4 0h1M50 97h1m12 0h1m39 0h1m73 0h2M14 98h1m37 0h1m1 0h1M15 99h1m32 0h1m1 0h2m1 0h2m1 0h1m49 0h1M51 100h2m2 0h3m6 0h1m24 0h1m85 0h1M15 101h1m25 0h1m9 0h1m2 0h1m1 0h1m4 0h1m113 0h1M16 102h1m29 0h1m7 0h1m1 0h1m116 0h1M17 103h1m26 0h1m2 0h1m4 0h1m1 0h1m4 0h1M17 104h2m28 0h2m3 0h2m35 0h1m83 0h1M18 105h2m36 0h2m37 0h1m76 0h1M53 106h1m117 0h1M19 107h2M170 108h1M49 109h1m9 0h1m11 0h1m96 0h1M58 110h1M22 111h1m31 0h1m24 0h1m27 0h1M22 112h1m1 0h1m43 0h1m96 0h2M24 113h1m26 0h1m4 0h1M25 114h2m46 0h1m39 0h1m7 0h1m41 0h1M121 115h1m39 0h1M74 116h1m84 0h1m1 0h1M27 117h1m129 0h1M27 118h1m130 0h1M27 119h1m98 0h1M27 120h1m7 0h1m120 0h1M27 121h1m128 0h1M27 122h1m46 0h1m79 0h1M27 123h1m53 0h1m71 0h1M27 124h1m124 0h1M27 125h1m37 0h1m86 0h1M27 126h1m123 0h1M149 127h2M23 128h1m67 0h1m56 0h1M145 129h1M90 130h1m53 0h1M22 131h1m120 0h1M23 132h1m63 0h1m12 0h1M141 133h2M24 134h2m52 0h1m62 0h1M138 135h1M26 136h1m109 0h1M60 137h1m74 0h1M132 138h1m1 0h1M28 139h1M78 140h1m38 0h1m4 0h1m4 0h2M117 141h1m6 0h1M28 142h1m86 0h1M91 143h2m16 0h1m2 0h1m2 0h2M29 144h1m1 0h1m26 0h1m14 0h3m1 0h1m1 0h1m1 0h3m1 0h1m3 0h1m8 0h1m15 0h1M27 145h2m7 0h1m46 0h1m2 0h1m12 0h2m1 0h1m3 0h1M29 146h1m29 0h1m9 0h1m34 0h1m1 0h1M29 147h1m5 0h1M29 148h1m3 0h3m22 0h3m1 0h1m6 0h2M38 149h1m14 0h1m2 0h1m7 0h1M40 150h1m11 0h2M40 151h1m1 0h1m7 0h2M50 152h1M47 153h1"/>
</g>
<rect x="149.60" y="349.60" width="775.2" height="674.3" fill="url(#cg00)" clip-path="url(#mclip00)"/>
<rect x="982" y="252" width="827" height="69" fill="#D9D9D9"/>
<text x="1395.5" y="298.7" font-size="37" fill="#1A1A1A" text-anchor="middle" textLength="32" lengthAdjust="spacingAndGlyphs">lb</text>
<rect x="982" y="321" width="827" height="728" fill="#EBEBEB"/>
<path d="M982 349.6H1809M982 453.3H1809M982 557.1H1809M982 660.8H1809M982 764.6H1809M982 868.3H1809M982 972.0H1809M1183.0 321V1049M1411.0 321V1049M1639.0 321V1049" stroke="#fff" stroke-width="4.3" fill="none"/>
<g transform="translate(1000.60,351.761) scale(3.8000,4.3225)" fill="none" stroke-width="1" shape-rendering="crispEdges">
<path stroke="#440154" d="M162 1h2M157 2h1m4 0h1m1 0h2m1 0h2M157 3h3m1 0h3m3 0h1m2 0h9m1 0h3M154 4h1m1 0h3m1 0h6m3 0h1m1 0h3m1 0h5m1 0h3M151 5h5m1 0h14m1 0h2m3 0h2m1 0h4M147 6h8m2 0h1m1 0h1m3 0h2m1 0h2m1 0h1m1 0h1m3 0h9M146 7h2m1 0h5m1 0h2m1 0h2m2 0h18m1 0h4M145 8h2m2 0h1m1 0h2m1 0h2m1 0h8m1 0h2m1 0h2m1 0h3m1 0h1m1 0h1m1 0h2m1 0h2M146 9h1m2 0h1m2 0h1m1 0h1m3 0h10m1 0h11m2 0h3M143 10h5m1 0h3m4 0h1m1 0h4m2 0h1m1 0h5m1 0h5m1 0h2m1 0h1M143 11h5m1 0h1m2 0h9m1 0h1m3 0h2m2 0h2m2 0h6m2 0h4M142 12h7m1 0h2m2 0h6m3 0h1m3 0h1m1 0h10m1 0h4m1 0h2M140 13h7m3 0h2m1 0h2m2 0h5m2 0h1m1 0h3m1 0h17M138 14h3m1 0h6m1 0h4m4 0h1m1 0h2m1 0h5m1 0h1m2 0h3m1 0h3m1 0h1m1 0h6M136 15h6m2 0h6m5 0h2m2 0h8m2 0h1m1 0h4m2 0h7m1 0h2M135 16h2m1 0h12m1 0h9m1 0h6m1 0h2m2 0h2m1 0h1m1 0h3m2 0h2m1 0h2M134 17h22m1 0h1m1 0h9m1 0h1m1 0h1m3 0h3m1 0h5m2 0h1M133 18h6m1 0h2m2 0h3m1 0h5m2 0h5m1 0h6m4 0h11m1 0h1m3 0h1M132 19h7m1 0h7m6 0h3m2 0h8m1 0h3m1 0h5m6 0h2m4 0h1M131 20h7m5 0h2m1 0h4m1 0h6m2 0h9m1 0h5m1 0h5m2 0h2m3 0h2M131 21h7m4 0h3m2 0h1m2 0h2m1 0h1m2 0h5m1 0h5m1 0h5m1 0h5m4 0h3m1 0h2M132 22h2m1 0h2m1 0h2m1 0h14m1 0h2m1 0h10m2 0h2m1 0h4m2 0h9M130 23h7m1 0h8m1 0h7m3 0h1m4 0h8m2 0h1m3 0h1m1 0h4m1 0h1m1 0h5M130 24h4m1 0h4m1 0h1m1 0h4m1 0h3m5 0h4m2 0h5m1 0h10m1 0h3m1 0h1m2 0h6M130 25h10m1 0h4m1 0h3m1 0h5m1 0h1m1 0h9m1 0h4m2 0h2m1 0h3m1 0h6m2 0h2M130 26h3m2 0h1m1 0h4m1 0h13m1 0h1m1 0h3m1 0h4m1 0h7m1 0h5m1 0h1m2 0h4m1 0h3M128 27h7m1 0h3m2 0h8m1 0h5m3 0h2m1 0h1m2 0h1m4 0h22M127 28h2m1 0h3m2 0h5m1 0h11m2 0h2m2 0h2m1 0h4m3 0h1m3 0h7m2 0h1m1 0h3m1 0h1m2 0h3M125 29h1m1 0h4m2 0h1m2 0h1m1 0h8m3 0h5m1 0h2m2 0h1m2 0h4m1 0h1m2 0h9m1 0h1m2 0h3m1 0h2m1 0h3M124 30h3m1 0h4m1 0h2m3 0h1m1 0h12m3 0h2m3 0h6m1 0h2m1 0h10m1 0h1m1 0h1m2 0h2m1 0h2m1 0h1M122 31h2m1 0h3m1 0h4m1 0h2m1 0h8m2 0h2m3 0h5m2 0h1m1 0h2m2 0h2m1 0h1m1 0h3m1 0h2m1 0h3m1 0h1m1 0h6m1 0h3M122 32h1m1 0h6m1 0h4m3 0h7m1 0h1m1 0h1m1 0h5m1 0h1m1 0h2m1 0h5m4 0h2m1 0h2m1 0h3m1 0h9m1 0h3M119 33h1m1 0h6m3 0h4m3 0h8m1 0h2m2 0h3m8 0h2m1 0h6m1 0h4m1 0h1m1 0h6m1 0h3m2 0h1m1 0h1M118 34h1m2 0h6m1 0h1m1 0h3m2 0h1m1 0h9m1 0h1m4 0h2m4 0h1m2 0h1m2 0h1m2 0h2m3 0h3m2 0h3m1 0h1m2 0h3m1 0h3M118 35h9m1 0h1m1 0h1m6 0h1m1 0h8m1 0h4m1 0h3m2 0h1m1 0h1m1 0h2m1 0h2m1 0h7m1 0h4m2 0h1m1 0h2m1 0h1m1 0h3M117 36h8m1 0h6m3 0h3m2 0h1m1 0h3m1 0h4m3 0h6m3 0h2m2 0h4m1 0h9m1 0h6m1 0h5M117 37h1m2 0h5m1 0h2m1 0h2m1 0h1m2 0h1m1 0h5m1 0h2m2 0h8m1 0h2m1 0h1m2 0h4m1 0h4m1 0h5m1 0h3m1 0h6m1 0h2m1 0h1M117 38h1m2 0h1m3 0h4m1 0h1m2 0h4m1 0h1m1 0h7m1 0h3m1 0h1m3 0h1m4 0h3m1 0h1m1 0h1m1 0h13m4 0h1m1 0h5M88 39h2m26 0h5m1 0h15m2 0h1m1 0h3m1 0h1m1 0h2m8 0h1m1 0h2m1 0h5m1 0h5m1 0h10m1 0h7M88 40h1m27 0h5m3 0h7m2 0h1m2 0h2m2 0h9m1 0h1m1 0h3m1 0h1m1 0h3m1 0h1m1 0h1m3 0h8m1 0h2m1 0h1m1 0h8M83 41h1m9 0h1m24 0h1m2 0h5m1 0h4m2 0h5m1 0h2m2 0h3m1 0h4m2 0h9m2 0h2m2 0h2m2 0h3m2 0h14M83 42h1m6 0h1m24 0h2m1 0h4m1 0h2m1 0h3m1 0h2m1 0h7m1 0h1m1 0h4m3 0h1m2 0h4m3 0h5m1 0h1m1 0h2m1 0h2m1 0h1m1 0h8m1 0h5M89 43h1m1 0h1m6 0h1m16 0h1m1 0h5m5 0h3m1 0h1m2 0h5m3 0h3m2 0h9m2 0h1m1 0h1m3 0h6m2 0h3m4 0h1m1 0h5m2 0h3M89 44h2m2 0h1m2 0h1m1 0h2m1 0h1m7 0h1m1 0h4m1 0h5m1 0h4m1 0h1m2 0h2m1 0h1m1 0h3m3 0h1m1 0h5m1 0h1m1 0h5m2 0h1m2 0h1m1 0h1m6 0h1m1 0h2m3 0h1m1 0h3m1 0h4m1 0h5M95 45h1m2 0h1m9 0h1m2 0h11m1 0h2m1 0h1m1 0h2m2 0h1m2 0h2m1 0h1m1 0h1m1 0h1m1 0h2m1 0h1m1 0h1m1 0h3m1 0h1m6 0h1m1 0h2m1 0h1m1 0h2m1 0h2m1 0h2m2 0h1m1 0h1m1 0h1m4 0h3M95 46h1m6 0h1m2 0h2m1 0h1m1 0h1m2 0h1m1 0h2m2 0h3m2 0h1m3 0h1m1 0h1m7 0h5m1 0h1m4 0h2m1 0h1m10 0h2m2 0h3m1 0h1m1 0h1m1 0h2m1 0h3m7 0h3M95 47h4m2 0h2m8 0h2m1 0h4m1 0h3m5 0h1m1 0h3m1 0h2m2 0h1m1 0h2m1 0h2m1 0h1m2 0h1m1 0h1m1 0h1m6 0h1m3 0h1m3 0h1m1 0h5m1 0h7m8 0h2M92 48h1m4 0h1m2 0h1m1 0h1m1 0h5m1 0h1m2 0h1m2 0h6m5 0h1m1 0h1m1 0h1m2 0h1m1 0h1m3 0h1m2 0h4m3 0h3m1 0h1m2 0h1m2 0h1m1 0h1m1 0h2m2 0h2m1 0h2m1 0h1m1 0h1m1 0h3M89 49h1m3 0h3m2 0h1m1 0h6m2 0h1m7 0h2m1 0h2m1 0h1m3 0h4m3 0h2m5 0h3m3 0h1m1 0h4m4 0h1m2 0h2m3 0h1m1 0h1m1 0h1m2 0h5m1 0h1m1 0h2M90 50h2m1 0h3m3 0h3m1 0h2m4 0h2m7 0h1m4 0h1m2 0h1m3 0h1m1 0h1m2 0h1m4 0h6m1 0h1m3 0h2m11 0h2m1 0h2m1 0h1m1 0h1m2 0h2m1 0h2M91 51h1m1 0h1m5 0h7m1 0h1m2 0h3m3 0h2m1 0h1m7 0h3m6 0h1m3 0h4m1 0h4m2 0h1m1 0h1m6 0h4m1 0h1m6 0h2m1 0h2M94 52h2m3 0h3m1 0h1m3 0h3m2 0h2m1 0h1m2 0h2m1 0h1m1 0h2m1 0h1m2 0h1m1 0h1m11 0h5m8 0h1m4 0h2m2 0h1m6 0h6M92 53h1m1 0h1m3 0h1m1 0h2m1 0h2m1 0h1m3 0h5m2 0h2m4 0h7m4 0h1m2 0h1m1 0h3m1 0h4m2 0h2m1 0h1m4 0h2m3 0h1m10 0h3m1 0h1M74 54h1m18 0h1m3 0h3m2 0h1m1 0h3m3 0h5m4 0h2m1 0h1m1 0h2m1 0h1m3 0h1m1 0h3m2 0h4m1 0h1m1 0h3m3 0h1m15 0h2m3 0h2m1 0h3M89 55h1m7 0h4m8 0h3m1 0h1m2 0h1m2 0h3m4 0h1m1 0h3m3 0h2m1 0h1m1 0h2m1 0h1m1 0h7m4 0h3m4 0h1m1 0h1m2 0h1m2 0h1m1 0h2m1 0h1M49 56h1m47 0h4m15 0h1m4 0h1m2 0h2m1 0h2m3 0h1m4 0h1m1 0h1m2 0h2m6 0h1m1 0h1m2 0h2m9 0h1m1 0h1m1 0h4m1 0h3M76 57h1m14 0h1m4 0h1m4 0h2m9 0h1m4 0h1m4 0h1m3 0h1m1 0h1m7 0h1m2 0h5m3 0h4m1 0h6m4 0h1m1 0h1m2 0h1m2 0h1m1 0h3m1 0h3m14 0h1M61 58h2m2 0h1m13 0h1m16 0h1m1 0h1m1 0h1m4 0h2m3 0h2m5 0h1m10 0h1m1 0h1m4 0h1m2 0h6m5 0h1m1 0h2m1 0h3m1 0h1m1 0h1m2 0h2m2 0h3m1 0h1m1 0h2m1 0h4m14 0h3M49 59h1m11 0h1m37 0h4m12 0h1m1 0h1m3 0h1m2 0h3m2 0h1m2 0h9m1 0h1m4 0h5m2 0h1m2 0h1m1 0h1m3 0h1m1 0h2m1 0h2m1 0h3m1 0h1m1 0h1m1 0h1m12 0h4m3 0h1M54 60h1m38 0h1m2 0h1m4 0h2m3 0h1m7 0h1m1 0h4m6 0h5m3 0h1m2 0h2m2 0h1m1 0h1m8 0h3m1 0h1m1 0h2m1 0h8m1 0h3m2 0h5m16 0h3M53 61h1m1 0h1m1 0h1m2 0h1m16 0h1m6 0h2m6 0h1m2 0h1m2 0h1m2 0h1m1 0h1m22 0h1m4 0h1m2 0h1m1 0h1m2 0h3m2 0h2m1 0h1m1 0h4m4 0h1m1 0h4m1 0h1m5 0h1m1 0h6m2 0h1m12 0h4M50 62h1m4 0h1m2 0h1m16 0h1m1 0h2m14 0h1m1 0h1m6 0h2m6 0h1m18 0h2m2 0h1m1 0h1m2 0h1m1 0h2m10 0h2m1 0h1m1 0h1m7 0h2m2 0h1m1 0h2m1 0h3m1 0h1m3 0h1m9 0h1m2 0h1M51 63h3m1 0h1m1 0h1m19 0h2m1 0h1m1 0h1m1 0h4m1 0h2m1 0h1m2 0h3m14 0h1m5 0h2m8 0h1m1 0h1m1 0h1m1 0h1m1 0h1m1 0h1m1 0h2m8 0h2m7 0h1m3 0h1m1 0h2m1 0h1m1 0h2m2 0h2m1 0h1m2 0h9m4 0h1m1 0h1M50 64h1m7 0h1m21 0h1m12 0h1m6 0h1m1 0h1m4 0h1m5 0h2m2 0h1m8 0h1m1 0h1m9 0h3m8 0h4m3 0h2m2 0h3m1 0h8m1 0h4m2 0h2m1 0h4m1 0h2m9 0h1M60 65h1m19 0h4m19 0h1m4 0h1m3 0h2m4 0h1m3 0h2m7 0h1m2 0h1m2 0h2m1 0h2m5 0h1m1 0h1m1 0h2m2 0h3m1 0h2m5 0h4m3 0h1m2 0h6m1 0h5m1 0h1M53 66h1m18 0h1m4 0h1m1 0h1m3 0h2m1 0h1m7 0h1m5 0h1m1 0h1m3 0h4m10 0h1m3 0h1m1 0h1m1 0h1m7 0h1m1 0h1m1 0h1m1 0h1m1 0h1m2 0h1m1 0h4m19 0h1m1 0h11m6 0h5m1 0h1M48 67h1m10 0h1m1 0h1m1 0h1m1 0h1m3 0h1m11 0h1m8 0h1m4 0h1m3 0h2m4 0h1m12 0h1m4 0h2m2 0h2m2 0h1m3 0h2m1 0h3m4 0h1m3 0h4m1 0h3m2 0h1m3 0h1m1 0h1m3 0h3m1 0h6m1 0h5m5 0h2m2 0h1M63 68h1m17 0h1m1 0h2m3 0h1m3 0h1m1 0h1m3 0h1m2 0h1m2 0h1m18 0h2m5 0h1m5 0h6m3 0h4m4 0h3m1 0h2m3 0h1m1 0h5m1 0h1m3 0h1m4 0h2m1 0h2m1 0h1m4 0h3m4 0h1M58 69h1m1 0h1m1 0h1m15 0h1m3 0h1m1 0h2m8 0h2m4 0h3m5 0h2m7 0h1m1 0h1m7 0h2m2 0h1m3 0h1m2 0h4m2 0h4m3 0h3m1 0h1m1 0h2m2 0h6m3 0h1m1 0h4m6 0h2m2 0h1m5 0h1m2 0h1M56 70h1m15 0h1m4 0h1m1 0h2m3 0h1m1 0h1m6 0h2m7 0h1m14 0h1m5 0h1m12 0h7m2 0h2m5 0h3m1 0h1m1 0h2m1 0h1m2 0h3m6 0h5m1 0h7m1 0h2m2 0h6M49 71h1m8 0h1m15 0h1m2 0h2m2 0h2m2 0h1m4 0h1m2 0h1m1 0h2m3 0h1m1 0h3m9 0h1m1 0h1m5 0h1m14 0h1m1 0h2m1 0h2m2 0h1m3 0h1m8 0h3m1 0h2m1 0h3m1 0h2m1 0h1m2 0h6m2 0h6m3 0h3M52 72h1m12 0h1m8 0h1m4 0h3m2 0h1m16 0h2m1 0h2m4 0h1m22 0h1m2 0h4m5 0h2m2 0h3m1 0h3m3 0h2m2 0h4m1 0h1m3 0h1m3 0h2m1 0h8m7 0h1m1 0h1M57 73h1m1 0h2m2 0h1m15 0h1m13 0h1m4 0h1m1 0h1m17 0h1m3 0h2m5 0h1m11 0h1m2 0h2m1 0h4m3 0h1m2 0h2m1 0h3m1 0h2m2 0h1m1 0h2m2 0h1m3 0h6m2 0h2m1 0h1m2 0h1m1 0h1M53 74h1m22 0h1m3 0h3m2 0h2m6 0h2m4 0h2m4 0h1m18 0h1m7 0h1m1 0h1m1 0h2m6 0h6m1 0h4m4 0h1m4 0h3m1 0h3m1 0h2m2 0h7m1 0h1m1 0h1m1 0h2m1 0h1m4 0h1M55 75h1m4 0h1m1 0h1m12 0h2m1 0h3m2 0h1m8 0h2m14 0h1m15 0h1m17 0h2m7 0h1m1 0h2m3 0h1m2 0h1m2 0h1m1 0h2m1 0h1m5 0h1m2 0h8m3 0h1m3 0h1M77 76h1m5 0h1m7 0h1m4 0h1m1 0h1m3 0h1m4 0h1m31 0h1m2 0h2m2 0h1m2 0h1m1 0h1m2 0h4m1 0h1m2 0h5m1 0h1m1 0h1m2 0h1m1 0h1m1 0h7m1 0h1m1 0h3m6 0h1M56 77h1m1 0h1m3 0h2m12 0h5m1 0h1m6 0h1m3 0h2m7 0h1m2 0h1m23 0h1m3 0h1m7 0h3m4 0h1m2 0h1m2 0h4m1 0h1m4 0h3m1 0h2m4 0h1m3 0h4m1 0h5m1 0h6M49 78h1m6 0h1m6 0h1m1 0h1m4 0h1m5 0h1m1 0h3m1 0h1m14 0h1m7 0h1m20 0h2m2 0h1m4 0h1m2 0h1m1 0h4m1 0h1m1 0h1m2 0h3m2 0h1m1 0h2m1 0h1m1 0h3m2 0h1m2 0h1m3 0h8m2 0h4m3 0h3M53 79h3m4 0h1m2 0h1m1 0h1m9 0h1m2 0h1m1 0h2m4 0h1m1 0h1m4 0h1m1 0h1m1 0h1m2 0h2m3 0h1m4 0h1m13 0h1m7 0h1m6 0h1m1 0h2m8 0h1m2 0h6m1 0h2m2 0h1m2 0h2m1 0h2m3 0h2m1 0h1m2 0h1m3 0h2m2 0h2M47 80h1m2 0h1m30 0h4m5 0h1m5 0h1m1 0h1m1 0h1m3 0h1m20 0h1m3 0h2m2 0h1m5 0h1m1 0h1m5 0h1m4 0h4m2 0h1m3 0h2m3 0h1m1 0h1m1 0h1m1 0h7m1 0h3m4 0h4M10 81h1m38 0h1m7 0h1m1 0h1m10 0h1m2 0h1m5 0h1m8 0h1m7 0h1m2 0h1m2 0h1m31 0h1m2 0h3m3 0h3m7 0h1m2 0h3m1 0h1m2 0h1m2 0h1m1 0h1m1 0h2m1 0h6m1 0h3m2 0h1m2 0h2m1 0h1M16 82h1m31 0h1m7 0h2m6 0h1m15 0h3m12 0h1m2 0h1m1 0h1m1 0h1m28 0h6m6 0h1m15 0h1m1 0h7m1 0h1m1 0h1m2 0h4m1 0h4m1 0h1m1 0h1m2 0h1M55 83h3m2 0h2m7 0h2m8 0h1m15 0h1m1 0h1m2 0h2m5 0h1m20 0h6m1 0h2m21 0h6m1 0h3m1 0h2m1 0h1m1 0h3m2 0h2m1 0h1m2 0h2M56 84h4m1 0h2m3 0h2m2 0h1m9 0h2m15 0h1m3 0h1m5 0h1m6 0h1m9 0h1m3 0h1m3 0h1m2 0h4m20 0h5m2 0h2m1 0h2m1 0h1m1 0h4m1 0h6M53 85h1m2 0h4m1 0h1m4 0h1m12 0h1m5 0h1m15 0h1m5 0h1m1 0h1m12 0h1m4 0h1m2 0h3m1 0h1m1 0h2m1 0h1m21 0h1m1 0h2m3 0h3m1 0h1m1 0h2m1 0h1m2 0h2m1 0h1m1 0h1M28 86h1m19 0h1m3 0h1m1 0h1m4 0h1m2 0h1m4 0h2m1 0h2m8 0h2m2 0h2m14 0h2m7 0h1m14 0h1m3 0h1m1 0h1m3 0h2m26 0h1m2 0h5m3 0h1m3 0h1m2 0h1M36 87h1m21 0h1m2 0h1m19 0h1m9 0h1m9 0h1m4 0h1m1 0h1m14 0h2m1 0h2m1 0h1m2 0h2m1 0h1m1 0h1m24 0h1m3 0h2m4 0h4m1 0h1m1 0h1m3 0h1M14 88h1m23 0h1m8 0h2m5 0h1m32 0h1m17 0h3m1 0h1m13 0h1m12 0h2m24 0h1m1 0h2m1 0h1m5 0h6m1 0h1M20 89h1m7 0h1m16 0h1m3 0h1m4 0h1m5 0h2m3 0h1m2 0h1m11 0h1m18 0h2m5 0h2m27 0h2m24 0h3m3 0h4m4 0h1m1 0h2M33 90h1m19 0h1m11 0h1m7 0h1m1 0h2m3 0h1m22 0h1m7 0h1m48 0h3m1 0h1m2 0h4m1 0h1m1 0h3m2 0h1M25 91h1m29 0h1m4 0h1m3 0h3m10 0h1m1 0h1m9 0h1m14 0h1m2 0h2m17 0h1m33 0h1m2 0h2m1 0h1m1 0h1m1 0h9m1 0h1M24 92h1m23 0h1m3 0h1m13 0h1m3 0h1m10 0h1m2 0h1m7 0h1m2 0h1m5 0h3m56 0h3m2 0h6m1 0h3m1 0h4M21 93h1m31 0h1m21 0h2m30 0h1m15 0h1m7 0h1m27 0h1m4 0h1m1 0h6m2 0h3m1 0h1M44 94h1m1 0h1m19 0h2m2 0h2m12 0h1m7 0h1m2 0h2m6 0h1m55 0h1m1 0h4m1 0h2m1 0h2m1 0h1m1 0h1m2 0h3M64 95h1m2 0h2m1 0h1m1 0h1m1 0h1m3 0h1m1 0h1m27 0h1m51 0h3m3 0h6m6 0h1M18 96h1m11 0h1m34 0h1m6 0h1m2 0h1m19 0h2m11 0h1m1 0h2m23 0h1m20 0h1m1 0h7m2 0h5m1 0h1m2 0h1M23 97h1m14 0h1m2 0h1m29 0h3m15 0h1m5 0h1m60 0h4m2 0h4m2 0h3m1 0h1m3 0h1M18 98h1m1 0h1m17 0h1m6 0h1m21 0h1m6 0h2m3 0h1m1 0h1m3 0h1m7 0h1m1 0h1m2 0h1m53 0h4m4 0h9m2 0h1m4 0h1M23 99h1m7 0h1m6 0h1m31 0h1m6 0h1m1 0h1m71 0h5m2 0h7m1 0h3m2 0h1m1 0h1M25 100h1m12 0h2m28 0h1m1 0h1m3 0h1m20 0h1m1 0h2m49 0h3m1 0h2m5 0h3m2 0h4m1 0h1M30 101h1m7 0h1m5 0h1m13 0h1m4 0h1m11 0h2m5 0h1m11 0h1m3 0h1m51 0h1m1 0h1m1 0h2m2 0h1m3 0h1m1 0h3m1 0h1m3 0h1M33 102h1m4 0h2m21 0h1m13 0h2m1 0h1m3 0h1m1 0h1m62 0h1m3 0h2m4 0h1m2 0h1m4 0h3m2 0h2M34 103h1m3 0h1m53 0h1m8 0h1m6 0h1m37 0h1m6 0h2m3 0h3m2 0h1m1 0h1m1 0h1m2 0h1M29 104h1m1 0h1m7 0h1m29 0h1m34 0h1m5 0h1m30 0h2m1 0h1m1 0h1m4 0h1m1 0h6m1 0h1m3 0h7M41 105h1m1 0h1m61 0h1m30 0h1m6 0h1m1 0h6m1 0h5m1 0h1m2 0h8M40 106h2m2 0h1m25 0h1m15 0h1m5 0h1m15 0h1m32 0h4m3 0h5m1 0h3m2 0h5m1 0h4M34 107h2m1 0h1m1 0h2m4 0h1m28 0h1m12 0h1m15 0h1m32 0h1m1 0h1m5 0h1m3 0h6m2 0h10m1 0h2M34 108h2m29 0h1m27 0h1m18 0h1m26 0h1m2 0h2m1 0h1m3 0h3m2 0h3m2 0h7m2 0h1M31 109h2m46 0h1m3 0h1m3 0h1m6 0h1m7 0h2m7 0h1m1 0h1m18 0h1m7 0h2m2 0h2m1 0h1m1 0h4m3 0h7m1 0h1M31 110h1m1 0h1m30 0h1m8 0h1m20 0h1m17 0h1m20 0h1m5 0h4m1 0h1m1 0h9m2 0h4m2 0h2M31 111h1m3 0h2m3 0h1m5 0h1m9 0h1m2 0h1m17 0h1m16 0h1m7 0h1m28 0h1m4 0h2m1 0h2m2 0h2m1 0h2m1 0h1m1 0h2m1 0h1m1 0h4m1 0h1m1 0h1m1 0h1M32 112h1m11 0h1m12 0h1m18 0h1m2 0h1m14 0h1m5 0h1m7 0h1m27 0h4m5 0h1m1 0h4m1 0h2m1 0h2m1 0h1m1 0h2m1 0h2M31 113h1m6 0h1m10 0h1m8 0h1m2 0h1m14 0h2m7 0h1m49 0h2m1 0h1m3 0h4m3 0h1m1 0h1m1 0h1m1 0h3m1 0h2M29 114h1m1 0h3m1 0h3m2 0h1m6 0h1m10 0h1m1 0h1m15 0h1m24 0h1m33 0h1m2 0h8m2 0h11M29 115h2m3 0h1m5 0h1m5 0h1m9 0h2m19 0h1m1 0h1m18 0h1m1 0h1m1 0h1m6 0h1m2 0h1m4 0h1m14 0h2m1 0h1m1 0h1m2 0h5m1 0h6m1 0h1m1 0h4m1 0h1M29 116h1m9 0h1m5 0h3m1 0h2m7 0h1m1 0h2m8 0h1m7 0h1m1 0h1m17 0h1m1 0h1m1 0h1m27 0h1m1 0h2m1 0h1m6 0h1m1 0h9m1 0h2M30 117h1m12 0h1m1 0h1m1 0h1m5 0h1m3 0h1m32 0h2m6 0h1m1 0h2m27 0h6m1 0h3m2 0h2m2 0h1m1 0h3m1 0h5M47 118h1m10 0h1m15 0h1m4 0h1m8 0h2m6 0h1m1 0h4m4 0h1m3 0h2m1 0h1m1 0h1m2 0h1m10 0h2m3 0h1m2 0h2m2 0h10m1 0h2m1 0h1M42 119h1m5 0h1m10 0h1m18 0h3m8 0h2m1 0h1m3 0h1m8 0h1m1 0h1m2 0h2m7 0h1m5 0h1m6 0h2m3 0h9m3 0h5M29 120h1m6 0h1m3 0h2m12 0h1m1 0h2m1 0h1m22 0h1m5 0h2m1 0h1m4 0h2m4 0h1m3 0h1m15 0h1m2 0h1m4 0h2m2 0h1m2 0h4m1 0h5m4 0h2M38 121h3m15 0h1m1 0h1m10 0h1m6 0h2m7 0h1m1 0h2m1 0h3m4 0h1m5 0h1m3 0h1m8 0h2m6 0h2m1 0h1m6 0h1m3 0h10m1 0h1m1 0h2m1 0h1M33 122h1m7 0h1m6 0h1m3 0h1m2 0h1m4 0h1m5 0h1m11 0h1m8 0h1m2 0h1m9 0h1m4 0h1m1 0h1m1 0h1m13 0h1m1 0h2m3 0h1m1 0h1m1 0h1m2 0h7m1 0h3m1 0h4M37 123h1m9 0h1m3 0h1m3 0h2m1 0h1m1 0h2m2 0h1m25 0h4m4 0h1m1 0h1m3 0h1m3 0h1m3 0h1m2 0h5m1 0h1m2 0h2m2 0h1m2 0h1m2 0h4m1 0h2m1 0h9M28 124h1m4 0h1m6 0h1m2 0h1m2 0h3m2 0h2m20 0h1m13 0h1m2 0h1m2 0h1m3 0h1m11 0h1m1 0h2m3 0h1m1 0h2m2 0h1m3 0h1m2 0h4m2 0h1m1 0h2m3 0h1m1 0h7M28 125h1m4 0h2m27 0h1m11 0h1m2 0h1m8 0h1m6 0h1m10 0h1m2 0h1m3 0h1m7 0h1m3 0h1m2 0h2m1 0h3m2 0h6m4 0h2m1 0h3M35 126h3m1 0h1m7 0h3m16 0h1m17 0h1m21 0h1m2 0h1m3 0h3m1 0h2m5 0h2m2 0h2m1 0h2m2 0h2m1 0h11M30 127h1m3 0h1m1 0h2m2 0h2m1 0h1m5 0h1m9 0h1m7 0h1m23 0h1m6 0h1m3 0h1m2 0h1m1 0h1m3 0h1m1 0h3m1 0h1m2 0h1m2 0h2m1 0h2m1 0h9m2 0h4m1 0h1m2 0h1M33 128h1m1 0h2m1 0h1m2 0h1m5 0h1m5 0h1m3 0h1m4 0h1m2 0h1m12 0h1m4 0h1m13 0h1m11 0h2m1 0h1m3 0h4m1 0h2m1 0h2m2 0h11m1 0h1m1 0h3M33 129h1m1 0h2m7 0h1m2 0h2m1 0h1m11 0h1m5 0h1m10 0h1m18 0h1m2 0h4m9 0h3m1 0h1m1 0h2m2 0h3m1 0h2m2 0h2m1 0h5m1 0h3M27 130h1m4 0h1m2 0h1m6 0h2m1 0h1m5 0h1m4 0h1m1 0h1m1 0h2m3 0h1m31 0h1m11 0h1m1 0h1m2 0h1m1 0h1m3 0h2m2 0h7m1 0h5m1 0h1m1 0h4M30 131h1m5 0h1m1 0h1m3 0h1m7 0h2m3 0h1m2 0h1m36 0h2m8 0h1m2 0h1m6 0h3m2 0h5m2 0h2m1 0h1m4 0h5m1 0h1M28 132h1m6 0h1m10 0h1m1 0h1m7 0h1m1 0h3m1 0h4m6 0h4m29 0h1m2 0h1m2 0h1m3 0h2m3 0h2m1 0h1m2 0h2m1 0h2m1 0h2m2 0h6M35 133h4m3 0h4m1 0h1m10 0h1m1 0h2m2 0h3m3 0h1m1 0h1m15 0h1m5 0h1m6 0h1m5 0h1m8 0h3m3 0h4m3 0h3m2 0h3m1 0h2M33 134h9m1 0h1m3 0h1m6 0h1m4 0h2m2 0h2m2 0h2m1 0h2m4 0h1m4 0h1m1 0h1m4 0h1m1 0h1m3 0h1m11 0h1m1 0h1m9 0h1m1 0h5m3 0h2m1 0h3m2 0h1M26 135h1m2 0h2m1 0h3m1 0h2m1 0h1m1 0h2m1 0h2m4 0h1m7 0h1m7 0h1m7 0h1m11 0h2m1 0h1m13 0h1m2 0h2m5 0h2m1 0h2m1 0h3m1 0h2m1 0h4m1 0h2M31 136h2m4 0h2m1 0h7m1 0h1m6 0h1m8 0h1m1 0h2m2 0h1m2 0h1m12 0h2m2 0h1m4 0h3m4 0h3m3 0h1m2 0h1m3 0h5m3 0h1m3 0h1m1 0h1m2 0h2M31 137h3m1 0h5m1 0h2m1 0h1m1 0h1m1 0h1m1 0h1m1 0h2m8 0h1m1 0h1m1 0h1m3 0h1m1 0h2m6 0h1m4 0h2m4 0h1m1 0h4m14 0h1m1 0h8m1 0h3m3 0h1M30 138h2m3 0h6m3 0h2m3 0h1m3 0h1m7 0h1m2 0h1m4 0h1m1 0h1m4 0h4m6 0h2m4 0h4m3 0h1m2 0h2m1 0h1m8 0h4m1 0h1m7 0h2m1 0h1M31 139h2m1 0h7m1 0h3m3 0h2m3 0h1m3 0h2m4 0h2m1 0h1m4 0h1m4 0h1m1 0h1m2 0h1m4 0h2m6 0h2m1 0h4m1 0h1m3 0h2m3 0h1m1 0h1m1 0h1m2 0h1m1 0h1m2 0h1M30 140h4m1 0h4m7 0h1m1 0h1m1 0h2m1 0h1m8 0h3m4 0h1m1 0h3m1 0h3m4 0h1m3 0h2m1 0h1m3 0h2m1 0h1m1 0h3m6 0h1m2 0h4m1 0h1M32 141h1m1 0h3m2 0h1m1 0h1m1 0h1m1 0h1m1 0h4m12 0h2m1 0h1m2 0h1m1 0h2m3 0h5m1 0h1m1 0h16m1 0h1m3 0h1m1 0h1m2 0h4M33 142h1m1 0h2m1 0h1m4 0h4m2 0h2m1 0h2m9 0h8m2 0h1m6 0h8m2 0h3m2 0h9m1 0h1m1 0h1m4 0h2M35 143h1m1 0h1m2 0h7m2 0h1m5 0h1m6 0h1m2 0h2m2 0h1m13 0h1m2 0h1m1 0h1m9 0h2m1 0h4m1 0h1M38 144h1m1 0h4m1 0h1m2 0h3m3 0h1m10 0h6m31 0h2M41 145h1m1 0h1m2 0h2m1 0h2m1 0h5m3 0h1m7 0h1m2 0h1m32 0h1M39 146h1m1 0h2m1 0h2m3 0h1m5 0h1m2 0h1M41 147h2m3 0h1m7 0h3M41 148h6m2 0h3m2 0h2M41 149h1m1 0h1m1 0h1M41 150h1m2 0h3m2 0h1M44 151h3"/>
<path stroke="#471164" d="M164 1h2M156 2h1m1 0h1m2 0h1m1 0h1m2 0h1M155 3h1m13 0h1m9 0h1M159 4h1m6 0h3m1 0h1m3 0h1m5 0h1M171 5h1m2 0h3m2 0h1M155 6h1m4 0h1m1 0h1m2 0h1m6 0h3M148 7h1m8 0h1m3 0h1M147 8h2m1 0h1m5 0h1m8 0h1m2 0h1m2 0h1m3 0h1m1 0h1M145 9h1m1 0h2m4 0h1m2 0h1m11 0h1m12 0h1M152 10h1m1 0h2m1 0h1m4 0h1m2 0h1m11 0h1m2 0h1m3 0h1M150 11h2m9 0h1m1 0h1m1 0h1m2 0h2m2 0h1m8 0h1M152 12h2m8 0h1m5 0h1m15 0h1M147 13h2m3 0h1m9 0h2M148 14h1m4 0h1m1 0h1m5 0h1m7 0h1m8 0h1m1 0h1M142 15h1m8 0h2m1 0h1m3 0h1m9 0h1m6 0h2m7 0h1M176 16h1m3 0h2M156 17h1m1 0h1m9 0h1m1 0h1m1 0h1m1 0h1M139 18h1m3 0h1m3 0h1m5 0h2m12 0h1m2 0h1M139 19h1m8 0h1m3 0h1m3 0h2m8 0h1m11 0h3m3 0h1M138 20h1m1 0h3m15 0h1m9 0h1m5 0h1m10 0h2M138 21h1m6 0h2m7 0h1m6 0h1m11 0h1m5 0h1m2 0h1M131 22h1m5 0h1m2 0h1m14 0h1m2 0h1m14 0h1m15 0h1M146 23h1m8 0h1m2 0h2m15 0h1m1 0h1m4 0h1m1 0h1M134 24h1m6 0h1m8 0h1m1 0h1m7 0h1m5 0h1m10 0h1m5 0h2M145 25h1m9 0h1m1 0h1m14 0h2m2 0h1m10 0h2M129 26h1m3 0h2m1 0h1m4 0h1m15 0h1m24 0h2M135 27h1m3 0h1m9 0h1m7 0h1m5 0h1m2 0h3M133 28h1m6 0h1m12 0h1m2 0h2m8 0h1m2 0h3m14 0h1m2 0h1M126 29h1m4 0h2m4 0h1m8 0h3m11 0h2m4 0h1m2 0h1m16 0h1m2 0h1M127 30h1m4 0h1m3 0h2m16 0h1m3 0h2m6 0h1m13 0h1m1 0h1m1 0h2m2 0h1M133 31h1m11 0h2m2 0h1m7 0h1m2 0h1m2 0h2m2 0h1m12 0h1m1 0h1M130 32h1m5 0h2m11 0h1m7 0h1m9 0h1m7 0h1m3 0h1m9 0h1M48 33h1m71 0h1m8 0h1m5 0h2m8 0h1m2 0h1m4 0h3m14 0h1m6 0h1m13 0h1M50 34h1m68 0h1m13 0h2m1 0h1m9 0h1m3 0h2m2 0h1m2 0h1m1 0h2m1 0h2m1 0h2m2 0h1m5 0h1m4 0h1m2 0h1m3 0h1m3 0h2M49 35h3m75 0h1m1 0h1m1 0h1m1 0h1m1 0h2m1 0h1m13 0h1m4 0h1m1 0h1m4 0h1m10 0h1m4 0h2m1 0h1m8 0h1M48 36h5m81 0h1m3 0h2m1 0h1m9 0h2m6 0h1m10 0h1m9 0h1m6 0h1M49 37h1m1 0h3m74 0h1m2 0h1m1 0h1m8 0h1m15 0h1m12 0h1m5 0h1m3 0h1m6 0h1M49 38h1m1 0h3m64 0h2m2 0h2m4 0h1m2 0h1m6 0h1m13 0h1m3 0h3m4 0h1m1 0h1m1 0h1m16 0h1m1 0h1m5 0h1M48 39h8m28 0h2m1 0h1m33 0h1m18 0h1m5 0h1m3 0h1m2 0h1m1 0h2m16 0h1M48 40h8m28 0h2m3 0h1m2 0h1m28 0h1m1 0h1m8 0h1m1 0h1m16 0h1m3 0h1m1 0h1m5 0h1m3 0h1m11 0h1m1 0h1m8 0h1M48 41h5m1 0h3m28 0h6m25 0h2m1 0h2m5 0h1m11 0h1m7 0h1m5 0h1m13 0h2m3 0h1m3 0h2m14 0h1M49 42h8m25 0h1m1 0h4m1 0h1m32 0h1m2 0h1m3 0h1m28 0h2m10 0h1m20 0h1M48 43h10m23 0h5m1 0h2m5 0h1m1 0h2m18 0h1m6 0h1m8 0h1m6 0h1m5 0h1m10 0h2m4 0h2m6 0h1m4 0h4m1 0h1m5 0h1m4 0h2M48 44h10m22 0h5m1 0h2m9 0h1m2 0h1m9 0h1m10 0h1m6 0h2m8 0h1m17 0h1m7 0h1m3 0h1m6 0h1m2 0h1m3 0h1M49 45h8m23 0h5m2 0h2m1 0h2m2 0h1m2 0h1m29 0h1m2 0h2m1 0h1m14 0h1m5 0h1m4 0h1m3 0h1m2 0h1m1 0h1m8 0h2m3 0h1m8 0h1M49 46h10m21 0h3m1 0h1m1 0h3m4 0h2m1 0h1m2 0h3m10 0h1m1 0h1m2 0h2m3 0h2m1 0h3m1 0h1m2 0h2m3 0h1m7 0h1m5 0h1m5 0h1m1 0h1m17 0h1M48 47h10m22 0h7m1 0h1m5 0h1m10 0h2m6 0h1m4 0h1m3 0h1m1 0h1m1 0h1m1 0h1m7 0h1m1 0h1m7 0h1m2 0h1m1 0h1m4 0h1m11 0h1m5 0h1M48 48h8m1 0h2m20 0h7m1 0h1m1 0h1m3 0h2m1 0h1m18 0h1m6 0h1m2 0h2m3 0h1m1 0h1m2 0h1m3 0h1m19 0h1m1 0h1m8 0h1m2 0h1m1 0h1m1 0h1m3 0h1M51 49h8m20 0h10m1 0h1m1 0h1m14 0h1m2 0h1m7 0h1m2 0h1m3 0h1m4 0h2m5 0h1m6 0h2m1 0h1m4 0h1m8 0h2m7 0h1M49 50h9m18 0h10m1 0h3m2 0h1m3 0h3m7 0h3m2 0h1m3 0h1m4 0h2m3 0h1m2 0h1m2 0h1m4 0h2m1 0h1m6 0h1m6 0h2m2 0h1m2 0h1m2 0h1m2 0h1m6 0h1M48 51h2m1 0h7m18 0h12m4 0h1m2 0h1m10 0h1m1 0h2m3 0h1m6 0h1m2 0h1m1 0h1m6 0h1m1 0h1m3 0h2m9 0h1m16 0h1m2 0h1m1 0h1m2 0h1m2 0h2M48 52h8m18 0h17m2 0h1m2 0h1m5 0h1m1 0h3m3 0h2m4 0h2m2 0h1m4 0h1m1 0h1m2 0h1m5 0h2m1 0h1m1 0h2m5 0h1m10 0h2m17 0h1M48 53h8m17 0h17m3 0h1m1 0h1m6 0h1m13 0h1m2 0h2m1 0h1m8 0h2m9 0h1m12 0h1m5 0h1m1 0h1m4 0h1m7 0h1M50 54h2m1 0h2m17 0h2m1 0h17m3 0h1m4 0h1m2 0h1m4 0h1m6 0h1m2 0h1m7 0h1m5 0h1m4 0h1m6 0h1m4 0h2m2 0h1m1 0h2m1 0h1m7 0h1M48 55h1m1 0h1m3 0h1m15 0h1m1 0h17m1 0h4m1 0h2m7 0h1m2 0h1m7 0h1m1 0h2m4 0h2m2 0h1m4 0h1m5 0h1m15 0h1m13 0h1m5 0h1m1 0h1M48 56h1m1 0h3m2 0h1m13 0h23m2 0h1m6 0h1m10 0h1m5 0h1m3 0h1m3 0h1m4 0h1m9 0h1m3 0h2m2 0h1m1 0h1m1 0h1m3 0h2m3 0h1m1 0h1m2 0h1m6 0h1M48 57h1m1 0h1m1 0h1m5 0h2m5 0h1m2 0h8m1 0h14m2 0h1m1 0h1m1 0h4m4 0h2m1 0h1m1 0h1m3 0h1m4 0h2m8 0h1m7 0h2m5 0h1m1 0h1m4 0h1m9 0h1m4 0h1m1 0h1m2 0h1M50 58h1m3 0h1m4 0h2m2 0h2m1 0h13m1 0h14m3 0h1m3 0h1m1 0h1m3 0h1m1 0h1m2 0h1m6 0h1m1 0h1m10 0h1m4 0h1m7 0h1m4 0h1m2 0h1m3 0h1m1 0h1m6 0h1m8 0h1m16 0h2M56 59h1m1 0h1m4 0h34m1 0h1m17 0h1m2 0h1m3 0h1m6 0h2m9 0h1m1 0h1m8 0h1m3 0h1m1 0h1m2 0h2m4 0h1m2 0h1m5 0h1m19 0h2m3 0h1M48 60h1m4 0h1m1 0h1m4 0h2m2 0h29m1 0h2m3 0h1m3 0h3m6 0h2m19 0h1m5 0h1m2 0h1m1 0h1m1 0h1m1 0h2m7 0h1m11 0h1m24 0h2M49 61h1m9 0h1m1 0h1m1 0h14m1 0h6m2 0h6m2 0h1m2 0h1m1 0h2m12 0h1m1 0h1m1 0h1m1 0h1m7 0h3m5 0h1m1 0h1m4 0h1m3 0h1m9 0h1m1 0h1m7 0h4m22 0h1M51 62h2m1 0h1m2 0h1m2 0h2m1 0h12m1 0h1m2 0h14m3 0h1m17 0h2m1 0h2m7 0h2m3 0h1m4 0h2m1 0h1m2 0h1m13 0h1m2 0h2m1 0h3m3 0h1m4 0h1m24 0h1M49 63h2m8 0h1m1 0h16m2 0h1m1 0h1m1 0h1m4 0h1m2 0h1m2 0h1m9 0h1m6 0h1m8 0h1m1 0h2m1 0h1m7 0h1m1 0h1m3 0h1m2 0h2m4 0h1m3 0h2m1 0h1m2 0h1m2 0h2m6 0h1m2 0h2m18 0h1m1 0h1M51 64h1m5 0h1m1 0h1m1 0h1m1 0h17m1 0h12m2 0h1m5 0h1m1 0h1m2 0h1m1 0h1m3 0h1m7 0h1m1 0h3m5 0h1m2 0h1m2 0h1m5 0h1m5 0h1m4 0h3m3 0h1m3 0h1m8 0h1m8 0h1m4 0h1m2 0h1m4 0h1m2 0h1M53 65h2m3 0h2m1 0h1m1 0h17m4 0h9m3 0h1m3 0h1m3 0h1m1 0h2m1 0h2m3 0h1m1 0h2m7 0h1m2 0h2m5 0h1m3 0h1m3 0h1m2 0h1m6 0h2m3 0h1m5 0h1m6 0h2m2 0h1m14 0h1m4 0h1M58 66h1m1 0h1m2 0h9m1 0h4m1 0h1m1 0h3m2 0h1m1 0h5m3 0h2m1 0h1m6 0h1m21 0h1m7 0h1m1 0h1m1 0h1m1 0h1m11 0h1m2 0h2m1 0h2m3 0h2m2 0h3m15 0h1m9 0h1M56 67h2m4 0h1m3 0h3m1 0h11m1 0h8m6 0h1m6 0h1m10 0h1m11 0h1m3 0h1m1 0h1m4 0h1m5 0h1m3 0h2m4 0h1m3 0h1m2 0h1m1 0h1m1 0h1m20 0h1m1 0h1m5 0h1m1 0h1m1 0h1M49 68h1m2 0h1m3 0h1m2 0h1m1 0h1m2 0h17m1 0h1m2 0h3m1 0h1m1 0h1m1 0h1m3 0h1m1 0h1m11 0h2m6 0h2m5 0h1m5 0h1m1 0h1m8 0h1m5 0h1m1 0h2m6 0h2m11 0h2m1 0h1m8 0h1m8 0h1m2 0h1M63 69h1m1 0h13m1 0h3m1 0h1m2 0h8m2 0h1m6 0h1m7 0h1m8 0h2m1 0h1m2 0h1m2 0h2m3 0h1m1 0h2m4 0h1m7 0h1m3 0h1m1 0h1m10 0h1m8 0h4m8 0h1m1 0h2m1 0h1m2 0h1M49 70h1m1 0h1m10 0h1m2 0h7m1 0h4m1 0h1m2 0h3m1 0h1m1 0h6m2 0h1m7 0h1m14 0h1m5 0h1m3 0h1m14 0h2m4 0h1m1 0h1m3 0h1m6 0h2m8 0h1m13 0h1M50 71h2m3 0h1m5 0h13m1 0h2m2 0h2m2 0h2m1 0h4m4 0h1m4 0h1m26 0h1m4 0h1m4 0h1m4 0h1m5 0h1m5 0h1m2 0h2m7 0h1m6 0h1m1 0h1m7 0h2m6 0h1m6 0h1M47 72h1m2 0h1m4 0h1m7 0h1m2 0h8m1 0h4m3 0h2m1 0h5m2 0h1m4 0h1m2 0h1m7 0h1m19 0h1m1 0h1m9 0h1m6 0h2m3 0h1m8 0h2m6 0h1m3 0h1m1 0h1m14 0h2m3 0h1M12 73h1m48 0h2m1 0h15m1 0h12m4 0h1m4 0h1m23 0h1m7 0h1m2 0h1m2 0h1m3 0h1m12 0h1m6 0h1m2 0h1m2 0h1m3 0h1m1 0h2m7 0h1m3 0h1m1 0h1m2 0h1m3 0h1M60 74h4m1 0h1m1 0h9m1 0h3m3 0h2m2 0h6m15 0h1m1 0h1m16 0h1m33 0h1m1 0h1m3 0h1m3 0h1m2 0h1m12 0h1m5 0h1M12 75h1m41 0h1m6 0h1m1 0h1m3 0h8m2 0h1m3 0h2m1 0h7m3 0h2m5 0h1m9 0h1m7 0h1m14 0h1m6 0h1m2 0h2m1 0h1m2 0h1m5 0h1m2 0h1m3 0h1m1 0h1m5 0h1m1 0h1m2 0h2m8 0h2m3 0h2M52 76h1m9 0h1m1 0h1m2 0h10m1 0h5m1 0h7m1 0h1m1 0h1m5 0h1m2 0h1m1 0h2m1 0h1m1 0h1m22 0h1m6 0h1m6 0h2m9 0h1m1 0h1m8 0h1m14 0h1m5 0h1m3 0h1M11 77h1m37 0h1m2 0h1m1 0h1m9 0h1m1 0h1m1 0h8m5 0h1m1 0h6m1 0h3m3 0h2m5 0h1m3 0h1m15 0h1m2 0h1m9 0h1m1 0h1m7 0h1m2 0h1m2 0h2m9 0h1m3 0h1m3 0h1m1 0h1m2 0h2m17 0h1M8 78h1m4 0h1m36 0h1m8 0h1m6 0h1m1 0h2m1 0h5m1 0h1m3 0h1m1 0h11m2 0h1m4 0h2m6 0h1m1 0h1m17 0h1m1 0h1m7 0h1m4 0h1m4 0h1m3 0h1m2 0h1m8 0h1m2 0h1m13 0h2m4 0h2M7 79h1m1 0h2m1 0h1m1 0h1m31 0h2m1 0h1m1 0h2m9 0h1m4 0h1m2 0h5m1 0h2m1 0h1m2 0h4m1 0h1m1 0h4m6 0h1m4 0h1m1 0h1m1 0h1m20 0h1m18 0h2m10 0h1m2 0h1m2 0h1m3 0h1m4 0h1m2 0h1m6 0h1m2 0h2m4 0h1M10 80h2m1 0h1m28 0h1m1 0h2m6 0h1m6 0h1m3 0h18m4 0h5m1 0h1m1 0h2m8 0h1m4 0h1m12 0h1m1 0h1m14 0h1m1 0h1m2 0h3m10 0h2m2 0h1m3 0h1m1 0h1m3 0h1m13 0h3m5 0h2M12 81h5m24 0h1m2 0h1m2 0h2m11 0h1m5 0h1m1 0h1m2 0h2m1 0h5m1 0h8m1 0h2m1 0h2m3 0h1m2 0h1m2 0h1m3 0h1m21 0h1m1 0h1m4 0h1m5 0h1m16 0h1m1 0h2m1 0h2m1 0h1m16 0h1m1 0h1m3 0h1M10 82h1m1 0h2m1 0h1m1 0h2m21 0h1m1 0h1m2 0h1m3 0h1m3 0h1m4 0h1m11 0h10m3 0h11m9 0h1m1 0h1m1 0h1m14 0h1m6 0h1m27 0h2m9 0h1m3 0h1M13 83h2m1 0h1m1 0h3m5 0h1m5 0h1m8 0h1m3 0h1m6 0h1m6 0h1m7 0h1m3 0h8m1 0h12m1 0h1m2 0h1m5 0h2m2 0h1m30 0h1m1 0h2m23 0h1m3 0h1m2 0h1m1 0h1m3 0h1m5 0h1m3 0h1M10 84h2m1 0h2m2 0h1m3 0h2m2 0h2m1 0h2m2 0h1m5 0h1m1 0h1m1 0h1m12 0h1m13 0h1m1 0h9m2 0h12m11 0h1m2 0h1m21 0h1m8 0h1m28 0h1m4 0h1M12 85h5m1 0h1m1 0h1m1 0h4m1 0h1m2 0h2m2 0h2m2 0h1m2 0h1m1 0h5m4 0h1m7 0h1m1 0h1m4 0h8m1 0h3m1 0h5m1 0h6m11 0h1m1 0h2m1 0h1m3 0h1m8 0h1m2 0h3m11 0h1m23 0h1m2 0h1m13 0h1m4 0h1M12 86h1m2 0h2m2 0h2m3 0h1m4 0h2m2 0h4m1 0h1m3 0h1m15 0h1m1 0h2m2 0h3m2 0h1m2 0h5m1 0h2m2 0h2m2 0h2m1 0h5m1 0h1m6 0h1m2 0h2m1 0h1m5 0h1m11 0h1m4 0h1m4 0h2m33 0h1m2 0h2M13 87h5m1 0h6m1 0h5m2 0h2m2 0h1m1 0h1m2 0h1m2 0h1m3 0h2m8 0h1m9 0h2m1 0h5m2 0h2m1 0h9m1 0h1m1 0h1m2 0h1m2 0h1m10 0h2m8 0h1m14 0h1m26 0h1m1 0h1m2 0h1m7 0h1m1 0h1M15 88h7m2 0h1m1 0h12m2 0h2m1 0h4m2 0h2m11 0h1m3 0h2m1 0h1m1 0h4m1 0h2m2 0h1m1 0h4m5 0h1m2 0h2m3 0h2m2 0h1m20 0h1m8 0h1m1 0h1m32 0h2m1 0h2m6 0h1m2 0h1M12 89h1m1 0h3m1 0h2m1 0h1m1 0h1m2 0h1m2 0h1m2 0h1m1 0h1m1 0h1m2 0h2m2 0h1m2 0h2m4 0h2m12 0h1m2 0h1m2 0h1m2 0h1m1 0h3m1 0h3m5 0h1m11 0h1m6 0h1m1 0h1m1 0h1m2 0h1m12 0h1m4 0h1m31 0h1m5 0h1m7 0h2M14 90h1m1 0h2m1 0h2m4 0h2m2 0h4m1 0h1m2 0h1m16 0h2m2 0h1m5 0h1m6 0h1m7 0h1m1 0h1m1 0h1m10 0h1m5 0h1m1 0h1m3 0h1m6 0h1m8 0h1m4 0h1m4 0h1m30 0h1m1 0h1m5 0h1m1 0h1M14 91h11m1 0h1m1 0h3m4 0h1m22 0h1m12 0h4m5 0h1m5 0h1m3 0h1m2 0h1m5 0h1m2 0h1m21 0h1m6 0h1m30 0h1m2 0h1m1 0h1m1 0h1m9 0h1M15 92h2m1 0h2m1 0h3m1 0h2m2 0h5m12 0h1m8 0h1m7 0h1m8 0h1m3 0h1m1 0h1m4 0h1m1 0h1m14 0h1m25 0h1m1 0h1m1 0h1m32 0h1m7 0h1m3 0h1M16 93h1m1 0h2m3 0h8m1 0h2m3 0h1m24 0h1m1 0h1m1 0h1m2 0h1m2 0h1m11 0h1m2 0h3m13 0h1m1 0h1m4 0h1m2 0h1m6 0h1m5 0h1m5 0h1m27 0h3m2 0h1m13 0h1M15 94h12m2 0h6m12 0h1m20 0h1m3 0h2m1 0h2m2 0h1m1 0h1m3 0h1m7 0h1m7 0h2m28 0h1m28 0h1m4 0h1m2 0h1m7 0h1M14 95h1m1 0h4m3 0h8m1 0h3m3 0h2m23 0h1m5 0h1m5 0h1m11 0h2m70 0h1m12 0h3m1 0h2M17 96h1m5 0h5m1 0h1m2 0h8m24 0h1m1 0h2m1 0h1m1 0h1m5 0h1m1 0h1m2 0h1m11 0h1m3 0h1m4 0h1m9 0h1m18 0h1m33 0h1M16 97h3m1 0h2m2 0h2m1 0h1m1 0h2m2 0h2m4 0h1m4 0h1m21 0h1m13 0h1m1 0h1m2 0h1m7 0h1m14 0h1m1 0h1m19 0h1m30 0h1m4 0h2m3 0h1M17 98h1m5 0h2m2 0h2m1 0h2m3 0h1m1 0h1m27 0h1m5 0h2m5 0h1m17 0h2m6 0h2m45 0h1m4 0h4m13 0h2M16 99h1m1 0h5m2 0h1m3 0h2m1 0h2m3 0h1m5 0h1m24 0h1m2 0h1m23 0h6m29 0h1m4 0h1m13 0h2m6 0h1m7 0h1M19 100h6m2 0h1m1 0h1m1 0h1m1 0h1m2 0h2m29 0h1m7 0h1m3 0h1m5 0h1m2 0h1m3 0h2m60 0h2m2 0h1m4 0h1m4 0h1m4 0h1M20 101h1m1 0h5m1 0h1m2 0h1m1 0h1m51 0h1m2 0h1m3 0h2m2 0h1m9 0h1m21 0h1m19 0h1m8 0h1m3 0h1m1 0h1m3 0h1M21 102h3m1 0h7m30 0h1m10 0h1m7 0h1m5 0h1m5 0h1m43 0h1m11 0h1m3 0h3m2 0h1m2 0h4M22 103h1m1 0h4m2 0h1m2 0h1m5 0h1m1 0h1m28 0h1m1 0h1m3 0h1m4 0h2m31 0h1m20 0h1m2 0h1m12 0h2m2 0h1m1 0h1m6 0h1m1 0h1m1 0h1M22 104h1m1 0h1m1 0h3m3 0h1m4 0h1m30 0h1m8 0h1m3 0h1m1 0h1m9 0h1m2 0h1m35 0h3m8 0h1m3 0h1m1 0h1m11 0h1m1 0h1M21 105h3m1 0h1m1 0h4m1 0h1m5 0h1m1 0h1m3 0h1m10 0h1m14 0h1m12 0h1m8 0h1m6 0h1m9 0h1m24 0h1m9 0h1m12 0h1m1 0h2m8 0h1M24 106h3m1 0h2m2 0h1m1 0h1m1 0h1m5 0h2m10 0h1m5 0h1m20 0h1m5 0h1m21 0h1m23 0h2m3 0h1m6 0h1m11 0h1M22 107h1m1 0h2m12 0h1m4 0h1m7 0h1m1 0h2m14 0h1m11 0h2m28 0h1m2 0h1m17 0h2m3 0h1m1 0h2m4 0h1m1 0h1m6 0h1m11 0h1m2 0h1M23 108h2m2 0h3m2 0h2m2 0h1m1 0h2m5 0h1m21 0h1m16 0h1m5 0h1m3 0h1m18 0h1m1 0h1m17 0h1m7 0h1m6 0h1m3 0h1m4 0h2m7 0h1M24 109h5m1 0h1m2 0h1m2 0h1m2 0h1m14 0h1m9 0h2m26 0h1m5 0h1m1 0h1m3 0h1m9 0h1m9 0h1m17 0h1m3 0h1m7 0h1m8 0h1m2 0h2M24 110h1m1 0h2m1 0h1m2 0h1m5 0h1m12 0h1m13 0h1m8 0h2m11 0h1m2 0h1m1 0h1m6 0h1m10 0h1m6 0h1m17 0h4m6 0h1m15 0h1M25 111h1m1 0h4m6 0h1m1 0h1m2 0h1m2 0h1m43 0h1m8 0h1m4 0h1m10 0h1m14 0h1m2 0h2m8 0h1m2 0h1m7 0h1m1 0h1m6 0h1M30 112h1m2 0h1m2 0h2m11 0h1m4 0h1m3 0h1m16 0h1m1 0h1m15 0h1m4 0h2m1 0h1m28 0h1m1 0h1m1 0h1m8 0h1M29 113h2m1 0h3m11 0h1m15 0h1m2 0h2m11 0h1m13 0h1m4 0h1m3 0h1m2 0h1m13 0h1m13 0h2m5 0h1m1 0h1m4 0h1m3 0h1m1 0h1m1 0h1M28 114h1m1 0h1m15 0h1m14 0h1m6 0h1m21 0h1m2 0h2m3 0h1m3 0h2m1 0h1m10 0h2m10 0h1m4 0h2m1 0h1m9 0h1m12 0h3M32 115h2m2 0h1m21 0h2m16 0h1m8 0h1m2 0h2m7 0h1m5 0h1m11 0h2m7 0h1m4 0h1m1 0h1m2 0h1m3 0h1m13 0h1M36 116h1m11 0h1m4 0h1m11 0h1m17 0h1m15 0h1m3 0h1m7 0h1m2 0h1m13 0h2m1 0h1m5 0h1m5 0h1m9 0h1m2 0h1M28 117h2m1 0h1m7 0h1m8 0h1m3 0h1m3 0h1m2 0h2m2 0h1m10 0h2m2 0h1m2 0h1m1 0h1m1 0h1m3 0h1m6 0h1m2 0h1m2 0h1m1 0h1m6 0h1m1 0h1m10 0h2m17 0h2m5 0h1M29 118h2m7 0h1m2 0h1m7 0h1m1 0h2m6 0h1m2 0h1m9 0h1m4 0h1m2 0h1m3 0h1m12 0h1m19 0h1m1 0h1m6 0h1m4 0h2m3 0h1m14 0h1m2 0h1M36 119h1m3 0h2m5 0h1m3 0h1m3 0h1m6 0h1m3 0h1m1 0h1m5 0h1m8 0h1m10 0h2m1 0h2m3 0h1m1 0h1m7 0h1m1 0h1m2 0h1m2 0h1m6 0h1m6 0h3m11 0h1m6 0h2M37 120h1m1 0h1m5 0h1m1 0h1m12 0h1m2 0h1m2 0h1m5 0h1m6 0h1m5 0h3m4 0h1m2 0h1m13 0h3m4 0h1m11 0h1m6 0h2m4 0h1m6 0h1m1 0h1m4 0h1M28 121h2m4 0h1m6 0h1m10 0h2m1 0h1m7 0h1m3 0h1m12 0h1m1 0h1m3 0h1m17 0h2m6 0h1m6 0h1m3 0h1m2 0h1m2 0h1m1 0h1m1 0h1m1 0h2m11 0h1m1 0h1m2 0h1M37 122h1m4 0h1m8 0h1m5 0h1m4 0h1m2 0h1m1 0h2m1 0h1m5 0h1m2 0h1m6 0h1m6 0h2m1 0h1m20 0h2m1 0h1m1 0h1m1 0h1m3 0h1m6 0h1m12 0h1M29 123h1m4 0h1m1 0h1m11 0h3m6 0h1m5 0h1m1 0h1m2 0h1m8 0h1m7 0h3m9 0h1m1 0h1m6 0h2m1 0h1m3 0h2m7 0h1m4 0h1m1 0h1m2 0h2m4 0h1m12 0h1M30 124h1m3 0h1m1 0h1m4 0h1m3 0h1m3 0h2m5 0h2m2 0h2m4 0h1m7 0h1m3 0h1m12 0h1m4 0h1m2 0h1m6 0h1m1 0h1m4 0h3m4 0h2m2 0h1m3 0h1m5 0h1m4 0h3M35 125h1m1 0h1m2 0h1m1 0h1m4 0h2m6 0h1m1 0h1m2 0h1m2 0h2m1 0h1m9 0h1m13 0h1m6 0h1m2 0h1m5 0h1m1 0h1m6 0h1m1 0h1m6 0h1m7 0h1m8 0h1m4 0h1m3 0h1M30 126h1m1 0h3m3 0h1m6 0h2m6 0h2m1 0h1m1 0h2m4 0h1m5 0h1m4 0h2m11 0h2m3 0h1m9 0h1m12 0h1m3 0h1m6 0h1m5 0h2m2 0h1M29 127h1m16 0h3m4 0h1m1 0h1m8 0h2m2 0h1m3 0h1m30 0h1m15 0h1m1 0h2m2 0h1m13 0h1M30 128h1m1 0h1m6 0h2m23 0h1m5 0h1m9 0h2m16 0h1m12 0h1m8 0h1m24 0h1M23 129h1m1 0h1m5 0h1m5 0h1m3 0h2m2 0h1m6 0h2m3 0h4m5 0h1m11 0h1m5 0h1m12 0h1m12 0h2m10 0h1m4 0h1m6 0h1M23 130h1m9 0h2m2 0h2m2 0h1m2 0h1m1 0h1m8 0h1m3 0h1m3 0h1m14 0h1m3 0h1m10 0h1m2 0h1m11 0h1m8 0h3m2 0h1M28 131h1m8 0h1m25 0h1m7 0h1m5 0h1m13 0h1m2 0h1m11 0h1m6 0h2m10 0h2m4 0h1m1 0h1m6 0h1M31 132h2m1 0h1m1 0h2m1 0h1m2 0h1m9 0h1m1 0h1m2 0h1m8 0h3m9 0h1m7 0h1m7 0h2m8 0h1m1 0h1m5 0h3m3 0h2m4 0h2m5 0h1m3 0h1M25 133h2m1 0h1m1 0h1m10 0h1m4 0h1m2 0h1m9 0h1m2 0h1m5 0h1m4 0h1m9 0h2m5 0h1m4 0h1m10 0h1m6 0h1m1 0h1m10 0h2m4 0h1m7 0h1M27 134h2m1 0h2m10 0h1m1 0h3m1 0h1m2 0h2m4 0h1m7 0h2m5 0h1m9 0h1m2 0h3m4 0h2m1 0h1m1 0h1m16 0h2m1 0h1m1 0h1m7 0h1m2 0h1m4 0h1m1 0h1M31 135h1m15 0h1m3 0h1m1 0h1m5 0h1m3 0h1m5 0h1m2 0h1m12 0h1m4 0h3m1 0h1m20 0h1m2 0h1m11 0h1m2 0h1m1 0h1M28 136h1m1 0h1m4 0h1m14 0h1m7 0h1m10 0h1m18 0h1m2 0h1m14 0h1m5 0h3m5 0h1m1 0h1m8 0h1M40 137h1m6 0h1m1 0h1m9 0h1m1 0h1m3 0h1m1 0h1m1 0h1m7 0h1m5 0h1m3 0h2m15 0h1m7 0h1m8 0h1m3 0h2m3 0h3M29 138h1m3 0h2m6 0h2m3 0h1m12 0h2m2 0h1m1 0h1m6 0h2m1 0h1m4 0h1m8 0h3m4 0h1m1 0h1m2 0h1m9 0h2m8 0h2m1 0h3M46 139h1m3 0h1m3 0h1m6 0h2m2 0h1m1 0h2m3 0h1m9 0h1m6 0h5m2 0h1m4 0h1m2 0h1m14 0h1m2 0h1m1 0h2m2 0h1M34 140h1m5 0h1m2 0h3m1 0h1m1 0h1m2 0h1m21 0h1m6 0h1m1 0h3m2 0h1m1 0h2m3 0h1m5 0h1m2 0h3m1 0h1m5 0h1m9 0h1M33 141h1m6 0h1m1 0h1m1 0h1m1 0h1m15 0h1m10 0h2m27 0h1m1 0h1m1 0h1m1 0h1m5 0h1M32 142h1m1 0h1m2 0h1m3 0h2m8 0h1m7 0h1m11 0h1m7 0h1m24 0h1m1 0h1m7 0h1M54 143h1m2 0h1m3 0h1m1 0h1m6 0h2m2 0h1m12 0h1M46 144h2m3 0h2m2 0h1m8 0h1m39 0h2M40 145h1m1 0h1m1 0h1m12 0h3m2 0h3m38 0h1M37 146h2m1 0h1m10 0h3M43 147h3m1 0h1m5 0h1m6 0h1m1 0h1M40 148h1m15 0h1M44 149h1m1 0h1m1 0h1m3 0h1M43 150h1m3 0h1M44 152h2m1 0h1"/>
<path stroke="#482071" d="M164 3h2M156 5h1M156 6h1m27 0h1M154 7h1M182 8h1M180 9h1m4 0h1M148 10h1m36 0h1M148 11h1M160 12h1m18 0h1M149 13h1M154 14h1m1 0h1M157 15h1m9 0h1m2 0h1M137 16h1m32 0h2M173 17h1m4 0h1m5 0h1M182 18h1m1 0h1M147 19h1m1 0h1m1 0h1m25 0h1M141 21h1m7 0h1m5 0h1M170 22h1m7 0h2M137 23h1m18 0h1m3 0h1m10 0h1M139 24h1m19 0h1M155 26h1m10 0h1M162 27h1m2 0h1m25 0h1M129 28h1m49 0h2M157 29h1M135 30h1m21 0h1m11 0h1m21 0h1M124 31h1m11 0h1m32 0h1m3 0h1m2 0h1M120 32h1m2 0h1m45 0h1M156 33h1m2 0h2m2 0h1m20 0h1M49 34h1m77 0h1m1 0h1m41 0h1m10 0h1M48 35h1m98 0h1m13 0h1m5 0h1M125 36h1m35 0h1m2 0h2M48 37h1m1 0h1m74 0h1m8 0h1m1 0h1m18 0h1m4 0h2m29 0h1M48 38h1m1 0h1m3 0h1m66 0h1m37 0h1m23 0h1M90 39h1m47 0h1m13 0h1m8 0h1m5 0h1M83 40h1m2 0h2m2 0h1m31 0h1m12 0h1m2 0h1m26 0h1m10 0h1M53 41h1m28 0h1m1 0h1m7 0h1M48 42h1m32 0h1m10 0h1m55 0h2m1 0h2m4 0h1m17 0h1M86 43h1m35 0h1m3 0h1m14 0h1M85 44h1m40 0h1m7 0h1m5 0h1m16 0h1m1 0h1m2 0h1m2 0h1m1 0h1m6 0h1M48 45h1m8 0h1m27 0h1m13 0h1m9 0h2m14 0h1m8 0h1m6 0h1m1 0h1m2 0h1m13 0h1m26 0h1M48 46h1m34 0h1m1 0h1m23 0h1m24 0h1m1 0h1m23 0h2m4 0h1m7 0h1m7 0h1M58 47h1m28 0h1m2 0h1m1 0h1m10 0h1m3 0h2m32 0h1m11 0h1m4 0h1M56 48h1m29 0h1m1 0h1m14 0h1m10 0h1m13 0h1m24 0h1m9 0h1M48 49h1m1 0h1m26 0h2m27 0h1m36 0h1m11 0h1m1 0h1m5 0h1m3 0h1m10 0h1M48 50h1m9 0h1m27 0h1m18 0h1m7 0h1m2 0h1m2 0h1m2 0h1m4 0h1m5 0h1M50 51h1m24 0h1m12 0h3m6 0h2m15 0h1m3 0h1m5 0h1m1 0h1m25 0h1m14 0h1M91 52h2m29 0h1m5 0h1m9 0h1m11 0h2m11 0h1M90 53h2m5 0h1m17 0h1m35 0h1m4 0h1m7 0h1M48 54h2m2 0h1m18 0h1m20 0h1m1 0h1m21 0h1m6 0h1m5 0h2m5 0h1m5 0h1m9 0h1m4 0h1m13 0h1M51 55h2m2 0h1m15 0h1m22 0h1m11 0h1m15 0h1m2 0h1m5 0h1m1 0h1m2 0h1m21 0h1m6 0h1m5 0h1M53 56h1m38 0h2m1 0h2m5 0h1m2 0h1m1 0h1m3 0h1m2 0h1m2 0h1m2 0h1m12 0h1m4 0h1m5 0h1m9 0h1m10 0h1M49 57h1m1 0h1m1 0h1m3 0h1m34 0h1m1 0h1m23 0h1m2 0h1m5 0h1m4 0h1m27 0h1m2 0h1m11 0h1M48 58h1m2 0h1m42 0h1m27 0h1m6 0h1M59 59h2m1 0h1m34 0h1m5 0h2m2 0h1m1 0h1m4 0h1m83 0h1M62 60h2m47 0h1m23 0h2m10 0h1m26 0h1m17 0h1m6 0h1m1 0h1M58 61h1m3 0h1m30 0h1m2 0h1m5 0h1m1 0h1m2 0h1m1 0h1m6 0h1m5 0h1m2 0h1m4 0h1m1 0h1m20 0h3m7 0h1m15 0h1m19 0h1M49 62h1m3 0h1m5 0h1m2 0h1m31 0h1m3 0h1m2 0h1m30 0h1m1 0h1m11 0h2m1 0h1m1 0h1m15 0h1m28 0h1m2 0h2M58 63h1m34 0h1m6 0h1m1 0h1m5 0h1m7 0h1m9 0h2m1 0h1m17 0h1m6 0h1m1 0h1m10 0h1m8 0h1m19 0h1M48 64h1m11 0h1m33 0h1m10 0h1m12 0h1m6 0h1m3 0h1m2 0h1m1 0h1m9 0h1m54 0h1M57 65h1m35 0h3m1 0h1m23 0h1m4 0h1m18 0h1m4 0h1m14 0h1m4 0h1m3 0h1m13 0h1M57 66h1m1 0h1m1 0h1m30 0h1m10 0h1m57 0h1m11 0h1m13 0h1m2 0h1M50 67h1m1 0h1m11 0h1m26 0h3m16 0h1m11 0h1m6 0h1m14 0h1m1 0h1m11 0h1m2 0h1m4 0h1m5 0h1m13 0h1m5 0h1M55 68h1m1 0h1m32 0h1m15 0h1m2 0h1m11 0h1m3 0h1m5 0h1m3 0h1m8 0h1m5 0h1m12 0h1m7 0h1m4 0h3M49 69h1m3 0h1m5 0h1m4 0h1m39 0h1m13 0h1m3 0h1m20 0h1m27 0h1m12 0h1m13 0h1M50 70h1m9 0h1m3 0h1m35 0h1m3 0h3m8 0h2m10 0h1m4 0h1m2 0h1m24 0h1m6 0h1m21 0h1m8 0h1M91 71h1m9 0h1m13 0h1m22 0h1m10 0h1m4 0h2m6 0h1m12 0h1m16 0h1m3 0h1M48 72h1m9 0h1m2 0h1m2 0h1m25 0h2m1 0h1m2 0h1m14 0h1m17 0h1m1 0h2m1 0h1m6 0h3m13 0h1m12 0h1m7 0h1M11 73h1m44 0h1m1 0h1m50 0h3m15 0h1m25 0h1m1 0h1m3 0h1M64 74h1m1 0h1m31 0h1m4 0h1m5 0h1m30 0h1m9 0h1m11 0h1m22 0h1m8 0h1M56 75h1m9 0h1m24 0h1m5 0h2m15 0h1m11 0h1m6 0h1m6 0h1m11 0h1m9 0h1m7 0h1m24 0h2M12 76h1m48 0h1m4 0h1m26 0h1m7 0h1m2 0h1m4 0h1m43 0h1m13 0h1m3 0h1M13 77h2m40 0h1m11 0h1m32 0h1m5 0h1m33 0h1m9 0h1m9 0h1m27 0h1M12 78h1m1 0h1m38 0h2m6 0h1m2 0h1m2 0h1m31 0h1m6 0h1m8 0h1m6 0h1m2 0h1m8 0h1m2 0h1m23 0h1m4 0h1m2 0h1M11 79h1m1 0h1m1 0h1m27 0h2m3 0h1m7 0h1m4 0h1m6 0h2m56 0h1m1 0h1m1 0h2m51 0h1M12 80h1m1 0h1m31 0h1m6 0h1m38 0h1m4 0h1m3 0h1m30 0h1m13 0h1m14 0h1m10 0h1m14 0h1M9 81h1m1 0h1m5 0h1m1 0h1m23 0h1m1 0h1m4 0h1m7 0h1m2 0h1m1 0h3m1 0h1m1 0h1m21 0h1m2 0h1m3 0h1m29 0h1m6 0h1m5 0h1m27 0h1m13 0h1M11 82h1m8 0h1m20 0h1m1 0h1m2 0h1m21 0h1m32 0h1m2 0h1m36 0h1M10 83h1m1 0h1m4 0h1m3 0h2m6 0h1m1 0h1m7 0h2m2 0h2m20 0h1m28 0h1m3 0h2m4 0h1m22 0h1m6 0h1m3 0h1M12 84h1m3 0h1m1 0h3m2 0h2m5 0h2m1 0h2m1 0h1m2 0h1m1 0h1m1 0h1m1 0h2m4 0h1m12 0h1m3 0h1m29 0h1m1 0h1m5 0h1m6 0h1m13 0h1m6 0h1m29 0h1m6 0h1m13 0h3M17 85h1m1 0h1m1 0h1m4 0h1m2 0h1m2 0h1m3 0h2m1 0h2m1 0h1m6 0h3m2 0h1m9 0h2m9 0h1m20 0h1m3 0h1m65 0h1m6 0h1m8 0h1M14 86h1m2 0h2m2 0h3m1 0h3m3 0h1m5 0h1m1 0h2m3 0h1m10 0h1m21 0h1m10 0h1m14 0h1m11 0h1m7 0h1m9 0h1M12 87h1m18 0h2m5 0h1m1 0h2m1 0h1m2 0h1m5 0h2m6 0h1m3 0h1m6 0h1m5 0h2m28 0h1m1 0h1m20 0h1m33 0h1m17 0h1M13 88h1m8 0h2m1 0h1m13 0h1m13 0h1m5 0h1m1 0h1m6 0h1m9 0h2m1 0h1m4 0h1m3 0h1m2 0h1m10 0h1m3 0h1m3 0h1m12 0h2m7 0h1m31 0h1m14 0h1M17 89h1m7 0h1m1 0h1m2 0h2m1 0h1m3 0h1m10 0h1m7 0h1m10 0h1m3 0h1m1 0h1m10 0h2m1 0h1m7 0h1m2 0h1m10 0h1m10 0h1m55 0h1M13 90h1m1 0h1m2 0h1m3 0h3m2 0h2m6 0h1m2 0h1m24 0h1m5 0h1m4 0h1m11 0h3m2 0h2m3 0h1m7 0h1m2 0h1m11 0h1m1 0h1m2 0h2m51 0h1m2 0h1M31 91h2m1 0h1m1 0h3m17 0h1m5 0h1m4 0h1m1 0h1m12 0h1m5 0h1m3 0h1m12 0h2m12 0h1M13 92h1m3 0h1m2 0h1m13 0h2m24 0h1m1 0h1m4 0h1m20 0h1m4 0h1m4 0h1m6 0h1m4 0h1m8 0h1m5 0h1m5 0h1M15 93h1m4 0h1m10 0h1m2 0h2m12 0h1m18 0h1m9 0h1m3 0h1m12 0h1m1 0h1m75 0h2m3 0h1M14 94h1m20 0h2m1 0h1m4 0h1m30 0h1m25 0h1m3 0h1m17 0h1m3 0h1m44 0h1m1 0h1M20 95h1m10 0h1m3 0h1m4 0h1m2 0h1m29 0h1m3 0h1m4 0h1m21 0h1m6 0h1m20 0h1m42 0h1M15 96h2m2 0h2m7 0h1m2 0h1m14 0h1m14 0h3m4 0h1m1 0h1m3 0h1m1 0h1m10 0h2m3 0h1m4 0h1m4 0h1m2 0h1m51 0h1m14 0h1m4 0h1M26 97h1m1 0h1m3 0h1m2 0h3m38 0h2m6 0h1m2 0h1m2 0h1m5 0h1m5 0h1m4 0h1m3 0h1m61 0h1M21 98h1m3 0h2m2 0h1m2 0h2m13 0h1m22 0h1m9 0h1m6 0h2m1 0h1m1 0h1m14 0h1M17 99h1m6 0h1m2 0h2m5 0h1m9 0h1m1 0h1m26 0h1m4 0h1m13 0h3m33 0h1m5 0h1m21 0h1m17 0h1M17 100h2m11 0h1m9 0h1m25 0h1m9 0h1m17 0h1m1 0h1m65 0h1m11 0h1M34 101h1m2 0h1m2 0h1m27 0h1m9 0h1m11 0h1m6 0h1m17 0h1m20 0h1m22 0h1m9 0h1M19 102h2m3 0h1m9 0h1m33 0h2m2 0h1m12 0h1m45 0h1m36 0h2M19 103h3m1 0h1m4 0h2m1 0h2m3 0h1m24 0h1m6 0h1m8 0h1m5 0h2m22 0h1m3 0h1m19 0h1m7 0h1m8 0h1m13 0h1m9 0h1M21 104h1m1 0h1m1 0h1m4 0h1m3 0h1m6 0h1m29 0h1m19 0h1m7 0h1m2 0h1m6 0h1m21 0h1m3 0h2M20 105h1m3 0h1m1 0h1m4 0h1m15 0h1m21 0h1m20 0h1m5 0h1m3 0h1m2 0h1m31 0h1m2 0h1m1 0h1m1 0h1M20 106h1m1 0h1m4 0h1m2 0h2m5 0h1m67 0h1m5 0h2m14 0h1m4 0h1m2 0h1m1 0h1m2 0h1M23 107h1m2 0h4m12 0h1m1 0h1m7 0h1m14 0h2m1 0h1m5 0h1m22 0h2m9 0h1m23 0h1m8 0h1m2 0h1M26 108h1m3 0h1m37 0h1m4 0h1m9 0h1m3 0h1m14 0h1m29 0h1m1 0h1m5 0h1m26 0h1M29 109h1m11 0h1m11 0h1m1 0h1m11 0h1m6 0h1m3 0h1m9 0h1m12 0h1m3 0h1m6 0h1m25 0h1m4 0h1M23 110h1m1 0h1m4 0h1m5 0h1m6 0h2m33 0h1m4 0h1m27 0h1m4 0h1m8 0h1m29 0h2m5 0h1M26 111h1m5 0h1m20 0h1m10 0h1m4 0h1m3 0h1m13 0h2m7 0h1m38 0h1m2 0h1m11 0h1m13 0h1M40 112h2m4 0h1m6 0h1m9 0h1m21 0h1m4 0h1m4 0h1m18 0h1m1 0h1m23 0h1m10 0h1m5 0h1m1 0h1M28 113h1m14 0h1m40 0h1m15 0h1m16 0h1m9 0h1m6 0h1m2 0h1m2 0h1m6 0h1M49 114h1m5 0h1m6 0h1m2 0h1m6 0h1m24 0h1m8 0h1M31 115h1m29 0h1m3 0h1m3 0h1m25 0h1m3 0h1m27 0h1m2 0h1m14 0h1M35 116h1m2 0h1m3 0h1m21 0h1m14 0h1m15 0h1m5 0h1m20 0h1m13 0h1m20 0h1M49 117h2m13 0h2m5 0h1m1 0h1m2 0h1m16 0h2m15 0h1m1 0h1m26 0h1m6 0h1M34 118h1m4 0h2m2 0h1m2 0h1m22 0h1m3 0h1m7 0h1m11 0h1m18 0h1m7 0h1m4 0h1m2 0h1M28 119h1m1 0h1m4 0h1m1 0h1m1 0h1m5 0h1m4 0h1m7 0h1m22 0h1m5 0h1m5 0h1m36 0h1m16 0h1m6 0h1M51 120h1m16 0h1m45 0h1m4 0h1m3 0h1m5 0h1m17 0h1m1 0h1M33 121h1m2 0h1m7 0h1m12 0h1m6 0h2m23 0h1m6 0h1m24 0h1M32 122h1m16 0h2m3 0h1m4 0h1m4 0h1m24 0h1m11 0h1m2 0h1m3 0h1m1 0h2m19 0h1m4 0h1m16 0h1M35 123h1m4 0h2m1 0h1m18 0h1m3 0h2m28 0h1m4 0h1m24 0h1m3 0h1m10 0h1M38 124h1m44 0h1m4 0h1m11 0h1m32 0h1m9 0h1M30 125h1m10 0h1m1 0h2m8 0h1m7 0h1m9 0h1m3 0h1m2 0h1m22 0h1m14 0h1m1 0h1m2 0h2m5 0h1m4 0h1m9 0h1M44 126h1m7 0h1m2 0h1m4 0h1m8 0h1m4 0h1m2 0h1m18 0h1m11 0h1m2 0h1m10 0h2m2 0h1m3 0h1M31 127h1m3 0h1m8 0h1m24 0h1m1 0h1m8 0h2m12 0h1m5 0h1m15 0h1m1 0h1m9 0h1m9 0h1m5 0h1M27 128h1m3 0h1m2 0h1m20 0h1m11 0h1m17 0h1m9 0h2m3 0h1m1 0h1m1 0h1M34 129h1m8 0h1m17 0h1m14 0h1m10 0h1m7 0h1m4 0h1m4 0h1m3 0h1m21 0h1M30 130h1m5 0h1m12 0h1m30 0h1m13 0h1m12 0h1m5 0h1m23 0h1M24 131h1m1 0h1m2 0h1m10 0h1m12 0h1m6 0h1m1 0h1m11 0h1m18 0h1m10 0h1m7 0h1m21 0h1M89 132h1m1 0h1m25 0h1m4 0h1m5 0h1M27 133h1m1 0h1m3 0h1m19 0h1m51 0h1m2 0h1m5 0h1m4 0h1m8 0h1m8 0h1M26 134h1m2 0h1m2 0h1m17 0h1m10 0h1m13 0h1m15 0h1m6 0h1m8 0h1m8 0h1M43 135h1m8 0h1m7 0h2m5 0h1m14 0h3m3 0h1m4 0h1m6 0h1m7 0h1M47 136h1m1 0h1m4 0h1m24 0h1m3 0h2m9 0h1m4 0h1m7 0h1m20 0h1m1 0h1M34 137h1m16 0h1m16 0h1m2 0h1m4 0h1m2 0h1m23 0h1m25 0h1M47 138h1m8 0h1m1 0h1m7 0h1m3 0h1m33 0h1m1 0h3m4 0h1m15 0h1M30 139h1m2 0h1m13 0h1m12 0h1m9 0h1m2 0h1m9 0h1m21 0h1m4 0h1m1 0h1m13 0h1M59 140h1m37 0h1m11 0h1M30 141h1m20 0h2m7 0h1m4 0h1m2 0h1m14 0h1m16 0h1M29 142h1m18 0h1m25 0h1m2 0h1m10 0h1m19 0h1M30 143h1m8 0h1m19 0h1m7 0h2m3 0h1m4 0h1m16 0h1m19 0h1M44 144h1M105 145h1M43 146h1m6 0h1m9 0h1m4 0h2M36 147h1M47 148h2M42 150h1m5 0h1M47 151h2"/>
<path stroke="#472E7C" d="M159 2h2M161 6h1m8 0h1M150 9h2M164 11h1M161 12h1M165 13h1M143 15h1m9 0h1M160 16h1m13 0h1M142 18h1m26 0h1M176 19h1m4 0h1m5 0h1M157 20h1m22 0h1M148 21h1m32 0h1m4 0h1M170 23h1m2 0h1M151 24h1M140 25h1M180 26h1m7 0h1M155 27h1M165 28h1m22 0h1M181 29h2M153 30h1M128 31h1m21 0h2M135 32h1m11 0h1m24 0h1M49 33h1m108 0h1M48 34h1m71 0h1m49 0h1m5 0h1M132 35h1m23 0h1m31 0h1M145 36h1M118 37h2m26 0h1M130 38h1m5 0h1m16 0h2m26 0h1M151 39h1M139 40h1m26 0h1m25 0h1M141 41h1m9 0h1M88 42h1m4 0h1m38 0h1m9 0h1m4 0h1m17 0h1m24 0h1M92 43h1m53 0h1m24 0h1M108 44h1m33 0h1m7 0h1m20 0h1m15 0h1M86 45h1m9 0h1m10 0h1m31 0h1m17 0h1m16 0h1m5 0h1M97 46h1m56 0h1m1 0h1m1 0h1m3 0h1m2 0h1m25 0h1M110 47h1m44 0h1m5 0h1M90 48h1m20 0h1m30 0h1m6 0h1M49 49h1m74 0h1m28 0h1m4 0h1m6 0h1M114 50h1m9 0h1m4 0h1m39 0h1M155 51h1M133 52h1m15 0h1m7 0h1m13 0h1M105 53h1m24 0h1m29 0h1m4 0h1M55 54h1m92 0h1m5 0h1m5 0h1m3 0h2m4 0h1M49 55h1m3 0h1m58 0h1m28 0h1m1 0h1m15 0h1M54 56h1m58 0h1m9 0h1m36 0h2m1 0h1M64 57h1m39 0h1m2 0h1m8 0h1m7 0h1m6 0h1M55 58h1m46 0h1m1 0h1m8 0h1m2 0h1m6 0h1m75 0h1M106 59h1m11 0h1m9 0h1m17 0h1m27 0h1m25 0h1M50 60h1m5 0h1m1 0h1m81 0h1m10 0h1m21 0h1m26 0h1M111 61h1m66 0h1m19 0h1M56 62h1m104 0h1M98 63h1m4 0h1m20 0h1m35 0h1M49 64h1m2 0h2m8 0h1m34 0h1m6 0h1m4 0h1m5 0h1m3 0h1m26 0h1m30 0h1m17 0h1M51 65h1m10 0h1m57 0h1m11 0h1m15 0h1M48 66h1m2 0h1m41 0h1m5 0h1m10 0h1m8 0h1m28 0h1m36 0h1M58 67h1m38 0h1m3 0h1m2 0h1m3 0h2m1 0h2M62 68h1m52 0h1m40 0h1m29 0h1m7 0h1M51 69h1m9 0h1m48 0h1m48 0h2M63 70h1m37 0h1m7 0h1m21 0h1m2 0h1m22 0h1M92 71h1m12 0h1m23 0h1m2 0h1m2 0h1m9 0h1m6 0h1M54 72h1m2 0h1m2 0h1m1 0h1m32 0h1m13 0h1m8 0h2m3 0h1m2 0h1m47 0h1m17 0h1M97 73h1m1 0h1m26 0h1m8 0h1m4 0h1m50 0h1M55 74h1m60 0h1m4 0h3m17 0h1m33 0h1M13 75h1m51 0h1m36 0h1m1 0h1m5 0h1m12 0h1m7 0h1m4 0h3M13 76h1m51 0h1m31 0h1m78 0h1m14 0h1M10 77h1m1 0h1m48 0h1m39 0h1m18 0h1m4 0h1m8 0h1m10 0h1m12 0h1m23 0h1M48 78h1m3 0h1m42 0h1m28 0h1m34 0h1m30 0h1m3 0h1M57 79h1m6 0h1m1 0h1m29 0h1m1 0h1m34 0h2m39 0h1m6 0h1m10 0h1M8 80h2m5 0h1m32 0h1m6 0h1m39 0h1m9 0h1m25 0h1m5 0h1M18 81h1m23 0h1m9 0h1m53 0h1m1 0h1m12 0h1m5 0h1m2 0h1m1 0h1m46 0h1M14 82h1m4 0h1m2 0h1m16 0h1m4 0h1m10 0h1m9 0h1m1 0h1m26 0h1m33 0h1m1 0h1m52 0h1m1 0h1m2 0h1M9 83h1m14 0h2m1 0h2m4 0h2m7 0h1m4 0h1m18 0h1m1 0h1m23 0h1m91 0h1M9 84h1m17 0h1m16 0h1m2 0h4m12 0h1m1 0h1m28 0h1m4 0h1m21 0h1M11 85h1m16 0h1m4 0h1m58 0h3m3 0h2m14 0h1m1 0h1m11 0h1m4 0h1m33 0h1M11 86h1m1 0h1m27 0h1m8 0h1m6 0h1m54 0h1m14 0h1m44 0h1m5 0h2M11 87h1m6 0h1m6 0h1m9 0h1m11 0h2m5 0h1m38 0h1m16 0h1m8 0h1m11 0h1m6 0h1m42 0h1M42 88h1m17 0h1m9 0h1m4 0h1m12 0h2m21 0h1M13 89h1m8 0h1m1 0h1m10 0h1m23 0h1m16 0h1m9 0h1m3 0h1m1 0h2m2 0h1m24 0h2m6 0h1m42 0h3M21 90h1m14 0h1m2 0h3m1 0h1m2 0h1m1 0h1m11 0h1m5 0h1m1 0h1m3 0h1m4 0h1m4 0h1m10 0h1m1 0h1m9 0h1m4 0h1m9 0h1m5 0h1m3 0h1M27 91h1m22 0h2m7 0h1m1 0h1m6 0h1m22 0h1m18 0h1m5 0h1m5 0h1m9 0h1M14 92h1m13 0h1m42 0h1m2 0h1m15 0h2m2 0h1m11 0h1m6 0h1m15 0h1M17 93h1m4 0h1m21 0h1m11 0h1m4 0h1m6 0h1m24 0h1m4 0h2m6 0h1m21 0h1m1 0h1M27 94h2m11 0h1m12 0h1m11 0h1m42 0h1m6 0h1m59 0h1M15 95h1m5 0h2m23 0h1m18 0h1m5 0h1m11 0h1m9 0h1M21 96h2m50 0h1m19 0h1m13 0h1m66 0h1M19 97h1m11 0h1m23 0h1m12 0h1m22 0h1m5 0h1m7 0h1m14 0h2m38 0h1M19 98h1m16 0h1m7 0h1m32 0h1m23 0h1M26 99h1m35 0h1m4 0h1m45 0h1m61 0h1M26 100h1m1 0h1m5 0h1m48 0h1m7 0h1m8 0h1m29 0h1M17 101h3m1 0h1m5 0h1m1 0h1m43 0h1m6 0h2m23 0h1m4 0h1m59 0h1m2 0h1M17 102h1m14 0h1m50 0h1m10 0h1m2 0h1m1 0h1m6 0h1m3 0h2m44 0h1M62 103h1m15 0h1m1 0h1m12 0h1m4 0h2m9 0h2m1 0h1m17 0h1m6 0h1M35 104h2m8 0h1m28 0h2m6 0h1m11 0h1m57 0h1M33 105h1m2 0h2m7 0h1m15 0h1m9 0h1m1 0h1m15 0h1m7 0h1m4 0h1m7 0h1m4 0h1m16 0h2M23 106h1m37 0h1m10 0h1m3 0h1m33 0h1m35 0h2m5 0h1M21 107h1m8 0h2m30 0h2m8 0h1m10 0h1m18 0h1m28 0h1M25 108h1m5 0h1m29 0h1m4 0h1m9 0h1m1 0h1m9 0h2m54 0h1M34 109h1m28 0h1m8 0h1m20 0h1m22 0h2m7 0h1m5 0h1m4 0h1m2 0h1M28 110h1m6 0h1m24 0h1m5 0h1m21 0h1m12 0h1m11 0h1m20 0h1m30 0h1M23 111h1m33 0h1m7 0h2m5 0h1m38 0h1m36 0h1m11 0h1M25 112h2m1 0h2m4 0h1m7 0h1m19 0h1m19 0h1m4 0h1m1 0h1m21 0h3m21 0h1m6 0h1m1 0h1m9 0h1M26 113h1m9 0h1m3 0h1m7 0h1m4 0h1m1 0h1m4 0h1m2 0h1m5 0h1m19 0h1m3 0h1m25 0h1M34 114h1m9 0h1m7 0h1m10 0h1m23 0h1m11 0h1m10 0h1m19 0h1M41 115h1m24 0h1m14 0h1m4 0h1m6 0h1m7 0h1m3 0h1M30 116h1m6 0h1m13 0h1m17 0h1m18 0h1m8 0h1m15 0h1m1 0h1m25 0h1m16 0h1M51 117h1m17 0h2m26 0h1m9 0h1M33 118h1m10 0h1m5 0h1m24 0h1m6 0h1m12 0h1m6 0h1m18 0h2M29 119h1m2 0h1m42 0h1m25 0h1m4 0h1m14 0h1m24 0h1M55 120h1m22 0h1m1 0h1m9 0h1m10 0h1m24 0h1m26 0h1M30 121h1m19 0h1m17 0h1m30 0h1m22 0h1M47 122h1m37 0h1m2 0h1m2 0h1m6 0h1m4 0h1m25 0h1M78 123h1m41 0h1m2 0h1M55 124h1m7 0h2m2 0h1m1 0h1m31 0h1m1 0h1m3 0h1m15 0h1M38 125h2m12 0h1m1 0h1m28 0h1m26 0h1M29 126h1m20 0h1m10 0h1m1 0h1m34 0h1m20 0h1m29 0h1M54 127h1m3 0h1m14 0h1m9 0h1m17 0h1m2 0h1m7 0h1m33 0h1M49 128h2m3 0h1m21 0h1m26 0h1M30 129h1m24 0h1m16 0h2m3 0h1m3 0h1m1 0h1m22 0h1m12 0h1m24 0h1M24 130h1m28 0h1m3 0h1m4 0h1m7 0h1m12 0h1m19 0h1m2 0h1m3 0h1M31 131h1m2 0h1m14 0h1m26 0h1m34 0h1m7 0h1m12 0h1M26 132h2m5 0h1m7 0h1m2 0h2m15 0h1m30 0h1m14 0h1m1 0h1M31 133h1m54 0h1m46 0h1M77 134h1m22 0h2m2 0h1M46 135h1m52 0h1m5 0h1M33 136h1m28 0h1m8 0h1m53 0h2m7 0h1M43 137h1m46 0h1m9 0h1m26 0h1m5 0h1M43 138h1m10 0h1m2 0h1m42 0h1m9 0h1m7 0h1m4 0h1M29 139h1m45 0h1m27 0h1m10 0h1M39 140h1m16 0h1m9 0h1m3 0h1M31 141h1m23 0h1m25 0h1M47 142h1m9 0h2m1 0h1m14 0h1m2 0h1m31 0h2M82 143h1m13 0h1m8 0h1M53 144h1m9 0h1m36 0h1M39 145h1M46 146h1m7 0h1m1 0h1m5 0h1M59 147h1m1 0h1M38 148h1M42 149h1m6 0h1"/>
<path stroke="#443B84" d="M160 3h1M155 4h1M180 7h1M153 8h1M155 9h1M171 10h1M165 12h1M155 13h1M158 14h1m8 0h1m6 0h1M152 21h1m14 0h1M134 22h1M174 23h1M153 24h1M167 25h1M161 26h1M167 28h1M134 29h1M168 32h1M128 33h1m28 0h1m17 0h1M149 34h1m6 0h1M145 37h1m20 0h1M146 38h1m35 0h1M86 39h1M170 41h1M94 42h1m22 0h1M90 43h1m2 0h1m39 0h1m53 0h1M88 44h1m80 0h1M101 45h1m2 0h2m44 0h1m35 0h1M103 46h1m7 0h1m23 0h1m19 0h1M104 47h1m30 0h1m8 0h1m12 0h1M112 48h1m28 0h1m14 0h1M96 49h1m12 0h1m25 0h1M134 50h1m39 0h1M137 51h1m18 0h1M153 52h2m15 0h1M107 53h1m1 0h1m26 0h1m35 0h1M117 54h1m3 0h1m40 0h1M161 55h1m15 0h1M106 56h1m8 0h1M54 57h1m56 0h1m47 0h1M133 58h1m63 0h1M54 59h1m89 0h2m7 0h1m1 0h1M49 60h1m110 0h1m32 0h1M51 61h1m4 0h1m49 0h1m11 0h1M104 62h1m2 0h1m1 0h1m1 0h1m42 0h1m26 0h1M54 63h1m1 0h1m42 0h1m15 0h1m15 0h1m14 0h1m2 0h1m28 0h1M54 64h1m1 0h1m39 0h1m44 0h1m48 0h1M144 65h1m37 0h1m9 0h1M56 66h1m5 0h1m59 0h1m2 0h1m6 0h2m37 0h1M47 67h1m65 0h1m2 0h1m24 0h1m26 0h1M54 68h1m55 0h1m31 0h1M56 69h1m92 0h1m18 0h2m15 0h1m11 0h1M110 70h1M121 71h1m2 0h1m19 0h1m3 0h1m2 0h1m17 0h1m21 0h1M51 72h1m62 0h1m52 0h1m3 0h1m16 0h1m4 0h1M94 73h1m8 0h1m20 0h1m5 0h1m15 0h1m38 0h1M12 74h1m126 0h1m43 0h1M15 75h1m33 0h1m53 0h1m25 0h1m18 0h1m11 0h1m11 0h1M50 76h2m59 0h1m26 0h1m22 0h1m24 0h1M15 77h1m49 0h1m38 0h1m9 0h1m9 0h1m50 0h1M9 78h1m35 0h1m16 0h1m37 0h1m20 0h1m6 0h1m25 0h1m16 0h1M50 79h1m7 0h1m35 0h1m7 0h1m19 0h1m20 0h1m36 0h1m3 0h1M16 80h1m82 0h1m80 0h1M46 81h1m86 0h1M21 82h1m37 0h1m1 0h1m7 0h1m26 0h1m2 0h1m8 0h1m17 0h1m51 0h1M11 83h1m3 0h1m7 0h1m22 0h1m1 0h1m1 0h1m67 0h1m62 0h1M15 84h1m19 0h1m68 0h1m14 0h2m12 0h1m31 0h1M63 85h1m38 0h1m20 0h1M32 86h1m14 0h1m1 0h1m72 0h1m40 0h2M44 87h1m58 0h1m9 0h1m8 0h1m2 0h1m43 0h1m1 0h1M12 88h1m39 0h1m2 0h1m36 0h1m3 0h1m18 0h1m47 0h1M38 89h1m2 0h2m27 0h1m3 0h1m38 0h1m5 0h1m5 0h2M47 90h1m9 0h1m1 0h1m18 0h1m11 0h1m38 0h1m48 0h1M13 91h1m19 0h1m5 0h1m13 0h1m3 0h1m25 0h1m11 0h1m13 0h1M36 92h1m1 0h1m8 0h1m2 0h1m10 0h1m7 0h1m12 0h1m26 0h1m12 0h1m4 0h1m4 0h2m46 0h1M14 93h1m21 0h1m20 0h1m5 0h1m19 0h1m1 0h1m15 0h1m10 0h1m4 0h1m45 0h1M37 94h1m18 0h1m5 0h1m14 0h1m27 0h1m7 0h2m18 0h1M42 95h1m10 0h1m58 0h1m45 0h1m5 0h1M41 96h1m41 0h1m7 0h1m14 0h1M22 97h1m17 0h1m16 0h1m11 0h1m29 0h1m32 0h1M66 98h1m6 0h1m48 0h1m11 0h1m14 0h1m25 0h1M41 99h1m60 0h1m66 0h1M32 100h1m2 0h1m26 0h1m2 0h1m12 0h1m7 0h1m36 0h1m9 0h1M32 101h1m2 0h1m41 0h1m17 0h1m3 0h1m3 0h1m3 0h2m44 0h1M35 102h1m12 0h1m14 0h1m25 0h1m45 0h1m14 0h1m21 0h1M63 103h1m1 0h1m3 0h1m17 0h1m14 0h2m19 0h1m8 0h1m17 0h1m10 0h1m9 0h1M62 104h1m10 0h1m4 0h2m7 0h1m20 0h1m8 0h2m20 0h1M35 105h1m40 0h1m7 0h1m8 0h1m24 0h1m18 0h1m3 0h1m28 0h1M68 106h2m27 0h1m8 0h1m11 0h1m10 0h1m9 0h1M78 107h1m10 0h1m4 0h1m20 0h1m10 0h1m14 0h1M22 108h1m19 0h1m12 0h1m2 0h1m15 0h1m7 0h1m17 0h1m37 0h1M22 109h1m15 0h1m12 0h1m38 0h1m18 0h1M34 110h1m50 0h1m3 0h1m25 0h1m10 0h1m2 0h1M33 111h1m56 0h1m2 0h1m7 0h1m19 0h1m2 0h1m3 0h1M60 112h2m4 0h1m14 0h1m20 0h2m15 0h1m5 0h1M37 113h1m6 0h1m34 0h1m8 0h1m14 0h1m20 0h1m23 0h1m9 0h1M27 114h1m13 0h1m9 0h1m7 0h1m21 0h1m6 0h1m11 0h1m22 0h1m8 0h1m14 0h1M39 115h1m11 0h1m8 0h1m19 0h1m29 0h2m47 0h1M31 116h1m45 0h1m15 0h1m32 0h1M41 117h1m2 0h1m32 0h1m4 0h1m20 0h1m16 0h1M42 118h1m20 0h1m27 0h1m24 0h1m22 0h2M49 119h1m2 0h1m17 0h1m5 0h1m26 0h1M34 120h1m15 0h1m18 0h1m24 0h1m12 0h1m13 0h1m5 0h1M35 121h1m12 0h1m12 0h1m8 0h1m12 0h1m22 0h1m4 0h1m2 0h1m5 0h1M28 122h1m11 0h1m2 0h1m38 0h1m9 0h1m4 0h1m29 0h1M53 123h2m18 0h1m10 0h1m17 0h1M82 124h1m1 0h2m8 0h1m30 0h1m1 0h1M62 126h1m10 0h1m7 0h1m8 0h1m10 0h2m4 0h1M50 127h1m5 0h1m6 0h1m2 0h1m3 0h1m11 0h1m5 0h2M59 128h1m13 0h2m18 0h1m13 0h1m6 0h1m26 0h1M24 129h1m13 0h1m7 0h1m16 0h1m18 0h1m11 0h1m17 0h1M101 130h1m10 0h1m2 0h1m7 0h1M25 131h1m15 0h1m5 0h2m32 0h1m25 0h1M24 132h1m26 0h1m29 0h1m2 0h1M34 133h1m22 0h1m5 0h1m7 0h1m10 0h1m6 0h1m19 0h1M58 134h1m66 0h1M38 135h1m26 0h1m30 0h1m13 0h1M36 136h1m2 0h1m11 0h1m7 0h1m1 0h1m1 0h1m10 0h1m17 0h2m16 0h1M75 137h1m13 0h1m12 0h1M48 138h1m1 0h1m11 0h1m11 0h1m34 0h1m10 0h1M41 139h1m10 0h1m16 0h1m47 0h1M61 140h1m17 0h1m12 0h1M37 141h1m65 0h1M39 142h1M52 143h1m42 0h1m4 0h1M57 144h1m1 0h1m1 0h1M66 145h1M35 146h1m12 0h1m8 0h1M63 147h1M53 148h1M46 152h1"/>
<path stroke="#3F4889" d="M166 3h1m1 0h1M179 8h1M144 9h1M149 12h1m14 0h1M170 14h1M160 18h1M150 20h1M140 21h1M154 23h1M134 28h1M149 33h1m39 0h1M186 35h1M160 36h1M91 40h1m99 0h1M173 42h1M125 43h1M89 45h1m10 0h1M98 46h1m8 0h1M99 47h1m60 0h1M91 48h1M114 49h1m39 0h1M96 51h1m25 0h1m21 0h1m14 0h1m19 0h1M114 52h1m25 0h1m11 0h1m5 0h1m7 0h1M96 53h1m56 0h1m17 0h1M96 54h1m4 0h1M151 55h1m8 0h1m8 0h1M130 56h1m4 0h1m11 0h1M109 57h1m5 0h1m53 0h1M52 58h1m3 0h1M48 59h1M51 60h1m5 0h1m1 0h1m72 0h1M54 61h1m50 0h1m17 0h1M97 62h1m18 0h1m5 0h1M145 63h1m18 0h1M98 64h1m28 0h1m19 0h1m43 0h1M52 65h1m66 0h1m71 0h1m2 0h1M101 66h1m11 0h1m31 0h1m42 0h1M94 67h1m12 0h1m7 0h1M96 68h1m5 0h1m11 0h1m1 0h1m10 0h2m32 0h1M52 69h1m45 0h1m15 0h2m9 0h1m6 0h2M114 70h1m7 0h1M47 71h1m4 0h1m67 0h1m6 0h2m5 0h1M121 72h1m36 0h1M51 73h1m143 0h1M119 74h1m40 0h1m31 0h1M112 75h1m7 0h1m14 0h1m3 0h1m6 0h1M14 76h1m44 0h1m39 0h1m44 0h1M98 77h2m9 0h2m20 0h1M10 78h2m82 0h1m3 0h1m4 0h1m9 0h1m59 0h1M8 79h1m36 0h1m81 0h1m9 0h1m9 0h1m4 0h1M43 80h1m66 0h1m9 0h1m44 0h1M40 81h1m10 0h1m53 0h1m3 0h1m15 0h1M9 82h1m40 0h2m14 0h1m73 0h1m32 0h1m16 0h1M30 83h1m18 0h1m3 0h1m57 0h1m12 0h1m53 0h1m9 0h1M37 84h1m14 0h1m73 0h1m4 0h1M104 85h1m13 0h1m10 0h1M43 86h1m1 0h2m4 0h1m4 0h1m41 0h1m8 0h1m11 0h1m9 0h1m8 0h1m42 0h1M57 87h1m5 0h1m31 0h1m18 0h1M114 88h1M63 89h1m24 0h1m45 0h1M42 90h1m42 0h1m15 0h1m6 0h1M42 91h1m2 0h1m3 0h1m31 0h1m29 0h1m9 0h1m5 0h1m2 0h1M27 92h1m9 0h1m48 0h1m2 0h1m17 0h1m15 0h1M46 93h1m33 0h1m1 0h1m28 0h1m2 0h1m7 0h1m6 0h1M49 94h1m41 0h1m20 0h1m10 0h1m6 0h1M45 95h1m8 0h1m36 0h1m4 0h1m4 0h1m23 0h2M60 96h1m17 0h1m25 0h1m13 0h1M59 97h3m13 0h1m2 0h1m7 0h1m1 0h1m3 0h1m5 0h1m15 0h1m12 0h1m27 0h1m19 0h1M22 98h1m16 0h1m2 0h1m56 0h1m2 0h2m2 0h1m12 0h1M76 99h1m3 0h1m27 0h1M16 100h1m84 0h1M69 101h1m9 0h1m3 0h1m30 0h1M18 102h1m17 0h1m5 0h1m36 0h1m23 0h1m3 0h1m1 0h1m3 0h1m4 0h1m13 0h1m26 0h1M18 103h1m18 0h1m2 0h1m25 0h1m37 0h1m12 0h1m18 0h1M61 104h1m30 0h1m5 0h1m1 0h1m2 0h1m25 0h1m7 0h1M42 105h1m16 0h1m25 0h1m1 0h1M21 106h1m11 0h1m4 0h1m6 0h1m1 0h1m32 0h1m13 0h1m5 0h2m23 0h1m38 0h1M65 107h1m14 0h1m26 0h1M21 108h1m41 0h1m21 0h1m15 0h1m8 0h1m24 0h1m17 0h1M23 109h1m11 0h1m9 0h2m5 0h1m9 0h1m6 0h1m16 0h1m23 0h1m8 0h1m1 0h2m12 0h1m19 0h1m9 0h1M40 110h1m67 0h1m5 0h1m3 0h1m3 0h1M24 111h1m9 0h1m17 0h1m5 0h1m1 0h1m23 0h1m19 0h1m4 0h1m7 0h1M43 112h1m1 0h1m6 0h1m35 0h1m29 0h1m4 0h2M42 113h1m30 0h1m24 0h1m6 0h1m19 0h1m36 0h1M107 114h2m28 0h1M53 115h1m29 0h1m24 0h1m9 0h1m35 0h1M40 116h1m21 0h1m22 0h1M84 117h1m1 0h1m18 0h1m9 0h1m7 0h1m4 0h1m6 0h1M61 118h1m6 0h1m58 0h1M99 119h1M28 120h1m17 0h1m52 0h1m33 0h1M46 121h1m12 0h1m15 0h1m2 0h1m30 0h1M30 122h1m38 0h1m2 0h1m8 0h1m2 0h1m48 0h1M30 123h1m28 0h1m50 0h1M32 124h1M31 125h1m47 0h1m9 0h1m22 0h1m7 0h1M51 126h1m26 0h1m12 0h1m7 0h1m21 0h1M33 127h1m8 0h1m14 0h1m4 0h1M37 128h1m34 0h1m9 0h1m56 0h1m6 0h1M86 129h1m3 0h1m39 0h1M40 130h1m11 0h1m36 0h1m2 0h1m9 0h1M43 131h1m1 0h2m18 0h1m13 0h1m38 0h1m23 0h1M29 132h1m10 0h1m28 0h1m26 0h1m37 0h1M32 133h1m7 0h1m38 0h1m11 0h1m11 0h1m8 0h1M74 134h1m37 0h1M56 135h1m5 0h1m15 0h1M34 136h1m17 0h1m27 0h1m40 0h1M97 137h2m6 0h1m3 0h2M68 138h1m12 0h1M80 139h1m7 0h1m27 0h1M41 140h1m12 0h1M53 141h1m5 0h1m7 0h1M76 142h1m32 0h1M34 143h1m18 0h1m30 0h2M60 144h1m40 0h1M38 145h1m6 0h1m15 0h1M52 148h1"/>
<path stroke="#3A548C" d="M156 3h1M182 10h1M180 11h1M166 12h1M141 14h1M186 19h1M139 20h1m5 0h1m38 0h1M154 24h1M135 29h1m18 0h1m3 0h1M139 30h1m12 0h1M158 31h1m30 0h1M145 32h1m9 0h1M148 34h1M134 35h1M132 36h2M131 41h2M140 42h1m51 0h1M161 43h1M91 44h1m40 0h1m15 0h1M89 47h1m1 0h1m70 0h1M109 48h1m14 0h1m12 0h1m10 0h1M123 49h1M102 50h1m35 0h1m11 0h1m8 0h1m2 0h1M97 52h1m66 0h1M108 53h1m39 0h1m5 0h1m12 0h1M159 54h1M136 56h1m3 0h1M130 57h1M53 58h1m41 0h1m12 0h1m17 0h1m34 0h1M113 59h1m13 0h1m32 0h1M121 60h1M108 61h1m91 0h1M99 62h2m76 0h1m15 0h1M48 63h1m11 0h1m48 0h1m47 0h1m40 0h1M110 64h1m24 0h1m42 0h1m13 0h1M105 65h1M50 66h1m53 0h1m10 0h1m2 0h1m10 0h2m3 0h1m27 0h2m3 0h1M125 67h1M103 68h1m84 0h1M57 69h1M61 70h1m36 0h2m47 0h1m20 0h1m21 0h1M107 71h1m25 0h1m24 0h1M53 72h1m2 0h1m37 0h1m11 0h1m90 0h1M104 73h2m7 0h1m20 0h1m42 0h1M13 74h1m82 0h2m57 0h1m1 0h1M10 75h1m98 0h1m12 0h1m32 0h1m1 0h1m10 0h1M145 76h1m6 0h1M162 77h1m34 0h1M7 78h1m7 0h1m30 0h2m3 0h1m6 0h1M103 79h1m7 0h1m8 0h1m43 0h1m2 0h1m5 0h1M112 80h1m9 0h1m45 0h1M119 81h1M47 82h1m15 0h1m42 0h1m11 0h1m41 0h1M63 83h2m56 0h2M111 86h1M62 87h1m3 0h3m27 0h1m7 0h1M130 89h1m50 0h1M45 90h1m5 0h1m15 0h1m16 0h1m38 0h1m9 0h1M70 91h1m5 0h1m20 0h1m22 0h1m4 0h1m2 0h2M40 92h2m7 0h1m14 0h1m50 0h1m8 0h1M43 93h1m56 0h1m18 0h1m1 0h1m5 0h1M42 94h1m21 0h1m4 0h1m10 0h1m48 0h1M36 95h1m18 0h1m38 0h2m1 0h1m67 0h1M53 96h1m35 0h1m36 0h1m38 0h1m9 0h1M15 97h1m40 0h1m47 0h1m4 0h1m7 0h1m1 0h1m6 0h1m2 0h1M112 98h2m16 0h1m2 0h1m35 0h2M82 99h1m8 0h1M45 100h1m2 0h1m28 0h1m93 0h1M36 101h1m22 0h1m49 0h1m39 0h1M37 102h1m26 0h2m25 0h1m16 0h1m3 0h1m4 0h1m12 0h1m43 0h1M43 103h1m31 0h1m18 0h1m18 0h1m33 0h1m8 0h1M20 104h1m19 0h1m26 0h1m62 0h1m28 0h1M72 105h1m9 0h1m28 0h1M35 106h1m27 0h1m38 0h2m12 0h2m18 0h1m21 0h1m10 0h1M41 107h1m42 0h1m8 0h1m18 0h1M43 108h1m20 0h1m16 0h1m10 0h1m3 0h1m1 0h1m26 0h1m3 0h1m16 0h1M44 109h1m85 0h1m6 0h1M41 110h1m40 0h1m17 0h1m23 0h1m18 0h1M71 111h1m11 0h1m15 0h1m41 0h1M27 112h1m50 0h1m27 0h1m2 0h1m5 0h1m1 0h1m8 0h1m6 0h1m7 0h1M68 113h1m43 0h1m2 0h1M45 114h1m25 0h1m6 0h1m52 0h1M35 115h1m16 0h1m10 0h1m4 0h1m9 0h1m15 0h1M67 116h2m6 0h1m33 0h2M46 117h1m8 0h1m63 0h1M55 118h1m9 0h1m10 0h1m15 0h1m14 0h1M64 119h1m4 0h1m38 0h1m4 0h1m2 0h1m6 0h1m4 0h1m2 0h1M113 120h1m18 0h1M32 121h1m9 0h1m50 0h1m14 0h1M34 122h1m45 0h1m14 0h1M38 123h1M35 124h1m26 0h1m2 0h1m4 0h1m65 0h1M36 125h1m13 0h1m8 0h1m10 0h1m28 0h1M71 126h1m20 0h1M32 127h1m42 0h1m11 0h1m21 0h1M43 128h2m3 0h1m50 0h1m15 0h1M39 129h1m11 0h1m4 0h1m7 0h1M26 130h1m2 0h1m17 0h1m39 0h1M39 131h1m46 0h1m12 0h1m9 0h1m19 0h1M83 132h1M39 133h1m16 0h1m12 0h1m4 0h1m10 0h1m34 0h2M53 134h1m35 0h1m9 0h1m5 0h1m20 0h1M35 135h1m21 0h1m15 0h1m24 0h1m3 0h1m22 0h1M68 136h1m3 0h1m28 0h1M55 137h1m25 0h1m17 0h1M51 138h1m30 0h1M45 139h1m10 0h1m20 0h1M55 140h1M38 141h1M50 143h1M62 144h1M35 145h1m15 0h1M39 147h1m24 0h1M43 151h1"/>
<path stroke="#34608D" d="M160 7h1M168 18h1M150 19h1M140 27h1m19 0h1M155 34h1M154 39h1M91 41h1m50 0h1m49 0h1M124 43h1M94 44h1M171 45h1M147 46h1m33 0h1M93 47h1m31 0h1m21 0h1m18 0h1M123 48h1M97 49h1M169 52h1M99 53h1M109 54h1M119 56h1M55 57h1m67 0h1M58 58h1m139 0h1M110 59h1m1 0h1m7 0h1m1 0h1M125 60h1m5 0h1m23 0h1M148 61h1m16 0h1M112 62h1m6 0h2m7 0h1m50 0h1M105 63h2m6 0h1m7 0h1M56 65h1m105 0h2M52 66h1m90 0h1m10 0h1M134 67h1M50 68h1m2 0h1m4 0h1m36 0h1m22 0h1m14 0h1M124 69h1m69 0h1M60 71h1m58 0h1m5 0h1M49 72h1m48 0h1m88 0h1M53 73h1m38 0h1m58 0h1m15 0h1m4 0h1M52 74h1m58 0h1m30 0h1m15 0h1M14 75h1m33 0h1m15 0h1m48 0h1m1 0h1m78 0h1M95 76h1m17 0h1m7 0h1m15 0h1m12 0h1m23 0h1m18 0h1M51 77h1m7 0h1m35 0h1m43 0h1m4 0h1m16 0h1M108 78h1m39 0h1m46 0h1M121 79h1m16 0h1m5 0h1m8 0h1M7 80h1m49 0h1m4 0h1m39 0h1m21 0h1M113 81h1M119 82h1m1 0h1m16 0h2m30 0h1M53 84h1m41 0h1m21 0h1M48 85h1m139 0h1M125 86h1m6 0h1M55 87h1m9 0h1M97 88h1m12 0h1M44 89h1m10 0h1m41 0h1m7 0h1m18 0h1m39 0h1M62 90h1m51 0h1m1 0h1m17 0h1M112 91h1m2 0h1M45 92h1m41 0h1m23 0h1M38 93h1m6 0h1m4 0h1m14 0h1m50 0h1M78 94h1m3 0h1m41 0h2m1 0h1M47 95h1m13 0h1m14 0h1m28 0h2m21 0h2M40 96h1m49 0h1m31 0h1m2 0h1M43 97h1m1 0h1m1 0h1m17 0h1m49 0h1m15 0h1m2 0h1M34 98h1m41 0h1m5 0h2m5 0h1m24 0h1m57 0h1M36 99h1m26 0h1m8 0h1m28 0h1m16 0h1m2 0h1m48 0h1M69 100h1m2 0h1m40 0h2m3 0h1m9 0h1m28 0h1m12 0h1M55 101h1m10 0h1m34 0h1m2 0h1m16 0h1m3 0h1m7 0h1m37 0h1M47 102h1m18 0h1m61 0h1m19 0h1M35 103h1m43 0h1m48 0h1m20 0h1M19 104h1m13 0h1m24 0h1m21 0h1m24 0h1m5 0h1m10 0h1m25 0h1M48 105h1m37 0h1m21 0h1m4 0h1m5 0h1m11 0h1M50 106h1m68 0h2m7 0h1M32 107h1m3 0h1m34 0h1m7 0h1m37 0h1m12 0h1M79 108h1m31 0h1m2 0h1m2 0h1M75 109h2m5 0h1m6 0h1m25 0h1m17 0h1M42 110h1m13 0h1m22 0h1m29 0h1m56 0h1M38 111h1m5 0h1m33 0h1m2 0h1m10 0h1m12 0h1m7 0h1m9 0h1M55 112h1m17 0h1m31 0h1m56 0h1M39 113h1m10 0h1m6 0h1m1 0h1m21 0h1m9 0h1m3 0h1m25 0h1m7 0h1m1 0h1M50 114h1m31 0h1m21 0h1m19 0h1M47 115h1m1 0h1m34 0h1m19 0h1m2 0h1M33 116h1m7 0h1m15 0h1M54 117h1m66 0h1M28 118h1m6 0h1m9 0h1m18 0h1m13 0h1m7 0h1m22 0h1m25 0h1M61 119h1m1 0h1m22 0h1M48 120h1m16 0h1m9 0h1m32 0h1m8 0h2M51 121h1m2 0h1m55 0h1m19 0h1M29 122h1m6 0h1m21 0h1m56 0h2m4 0h1m22 0h1M33 123h1m36 0h1M29 124h1m38 0h1m82 0h1M29 125h1m15 0h1m22 0h1m11 0h1m14 0h1m9 0h1M28 126h1m38 0h1m29 0h1M28 127h1m10 0h1m12 0h1m21 0h1m22 0h1m1 0h1M63 128h1m15 0h1m21 0h1m24 0h1M49 129h1m15 0h1m42 0h1M54 131h1m2 0h1m10 0h1M25 132h1m64 0h1M76 133h1m1 0h1m14 0h1m4 0h1M109 134h1M28 135h1m35 0h1M57 136h1m42 0h1M74 137h1M52 138h1M42 140h1M29 141h1m24 0h1m20 0h1M54 142h2m16 0h1M36 143h1m19 0h1M87 144h1M65 145h1M63 146h1M50 147h1m14 0h1M50 149h1M49 151h1"/>
<path stroke="#2F6C8E" d="M156 13h1M167 16h1m16 0h1M186 18h1M181 24h1M160 28h1M121 32h1M134 33h1M144 39h1m39 0h1M140 43h1M95 44h1m19 0h1m23 0h1M122 45h1m33 0h1M90 46h2m56 0h1m23 0h1M164 47h1M112 49h1m56 0h1M135 51h1m34 0h1M98 52h1M133 53h1m4 0h1M101 55h1m64 0h1M104 56h1M158 57h1M115 58h1m30 0h1M50 59h1m1 0h1m58 0h1M100 60h1M133 61h1m4 0h1M106 62h1m51 0h1m35 0h1m2 0h1M107 63h1m71 0h1M193 64h1M47 65h1m7 0h1m80 0h1m24 0h1M198 66h1M55 67h1m4 0h1m59 0h1m58 0h1m16 0h1M100 68h1m68 0h1m17 0h1m7 0h1M48 69h1M48 70h1m84 0h1M54 71h1m55 0h1m7 0h1M113 72h1m1 0h1m9 0h1m63 0h1M54 73h2m72 0h1m9 0h1m3 0h1M54 74h1m3 0h1m74 0h1M53 75h1m52 0h1m81 0h1M15 76h1m44 0h1m2 0h1m56 0h1m4 0h1m5 0h1M170 77h1M60 78h1m51 0h1m19 0h1M49 80h1m57 0h1m20 0h1m13 0h1M95 81h1m30 0h1M52 82h1m74 0h1M123 83h1M129 84h1m59 0h1M55 85h1m41 0h1M183 86h1M51 87h1m128 0h1M64 88h1m57 0h1m8 0h1M111 89h1m15 0h1m4 0h1M99 90h1M43 91h1m19 0h1m20 0h1m18 0h1m19 0h1M39 92h1m28 0h1m52 0h1M39 93h1m12 0h1m2 0h1m3 0h2m17 0h1m45 0h1M54 94h1m6 0h1M37 95h1m41 0h1m30 0h1m9 0h1M117 96h1M16 98h1m114 0h1M39 99h1m24 0h1m9 0h1m9 0h1m19 0h1m24 0h1M115 100h1m10 0h2m3 0h1m2 0h1m16 0h1m4 0h1M46 101h1m15 0h1m28 0h1m19 0h1M40 102h1m16 0h1m32 0h1m9 0h1m21 0h1M115 103h1M85 104h2m3 0h1m71 0h1M46 105h1m27 0h1m16 0h1M46 106h1m4 0h1m25 0h1m26 0h1m2 0h1M33 107h1m14 0h1m9 0h1m32 0h2m13 0h1m9 0h1m12 0h1M48 108h1m5 0h1m14 0h1M57 109h1m62 0h1M61 110h1m18 0h1m12 0h1m10 0h1m14 0h1m10 0h1M112 111h1M35 112h1m23 0h1m11 0h1m24 0h2m30 0h1m17 0h1M110 113h1m5 0h1M38 114h1m14 0h1m15 0h1m5 0h1m19 0h1m19 0h1M38 115h1m16 0h1m69 0h1m10 0h1M59 116h1m21 0h1m8 0h1m5 0h1m15 0h1m4 0h1m6 0h1m2 0h1M32 117h1m7 0h1m17 0h1m50 0h1m4 0h1m3 0h1m21 0h1M56 118h1m3 0h1m42 0h1m10 0h1M60 119h1m21 0h1M58 120h1m12 0h1m5 0h1M79 121h1M39 122h1m13 0h1m19 0h1m1 0h1M32 123h1m46 0h1M79 124h1m25 0h1M51 125h1m4 0h1M86 126h1M51 127h1m9 0h1m28 0h1M29 128h1m22 0h1m7 0h1m62 0h1M28 129h1m88 0h1m5 0h1M54 130h1m12 0h1m6 0h1m10 0h1M52 131h1m6 0h1m4 0h1m7 0h1M53 132h1m23 0h1m32 0h1M111 133h1M111 134h1m1 0h1M76 135h1m32 0h1M29 136h1m45 0h1m1 0h1M54 137h1m1 0h1m1 0h1m33 0h1M55 138h1m29 0h1M80 140h1M51 143h1m8 0h1m12 0h1M37 145h1M47 146h1m16 0h1M49 147h1m1 0h1M39 148h1M47 149h1"/>
<path stroke="#2A768E" d="M153 10h1M150 16h1M174 26h1M163 41h1M95 43h1M160 44h1m15 0h1M185 45h1M131 46h1m21 0h1M154 47h1M91 49h1M117 50h1m53 0h1M94 51h1M134 52h1m32 0h1M121 53h1m37 0h1M163 54h1M114 55h1M133 57h2M120 58h1m41 0h1m37 0h1M97 60h1m10 0h1m13 0h1m1 0h1M143 61h1M48 62h1m56 0h1m64 0h1M137 63h1m59 0h1M116 64h1M101 65h1M119 67h1m13 0h1m33 0h1M108 70h1m3 0h1M108 71h1M107 73h1m24 0h1m63 0h1M47 74h1m59 0h1m12 0h1M47 75h1m9 0h1M11 76h1m35 0h1m8 0h1m71 0h1M47 77h1M55 78h1M125 79h1M55 81h1m45 0h1m90 0h1M58 83h1m3 0h1m42 0h1m2 0h1M135 85h1M94 86h1m15 0h1m5 0h1M118 87h1m1 0h1M57 88h1m60 0h1m1 0h2M114 89h1m1 0h1M70 90h1m26 0h1m11 0h1m5 0h1m12 0h1m2 0h1M40 91h2m33 0h1m9 0h1m1 0h1m25 0h1M120 92h1M40 93h2m49 0h1m10 0h1m15 0h1M52 94h1m36 0h1m17 0h1m1 0h1M58 95h1m7 0h1m96 0h1M48 96h1m32 0h1m4 0h1m22 0h1m2 0h1m20 0h1M64 97h1m2 0h1m26 0h1m23 0h1m9 0h1m4 0h1M68 98h1m39 0h1m14 0h1m2 0h1M66 99h1m2 0h1m47 0h1m7 0h2m4 0h1m40 0h1M71 100h1m8 0h1m24 0h1M71 101h1m79 0h1M41 102h1M74 103h1m52 0h1M65 104h1M39 105h1m35 0h1m1 0h2m25 0h1m1 0h1m10 0h1m6 0h1m1 0h1M57 106h1M49 107h1m38 0h1m1 0h1m13 0h1m14 0h1m7 0h1m27 0h1M37 108h1m14 0h1m73 0h1M47 109h1m20 0h1m8 0h1m45 0h1m4 0h2M48 110h1m13 0h1m39 0h1M47 111h1m22 0h1m15 0h1m39 0h1M80 112h1m40 0h1M27 113h1m26 0h1m25 0h1m13 0h1m25 0h1M48 114h1m28 0h1m47 0h1M27 115h1m9 0h1m12 0h1m11 0h1m29 0h1m26 0h1M32 116h1m88 0h1m12 0h1m3 0h1M67 117h1M37 118h1m28 0h1m23 0h1m3 0h1M31 119h1m11 0h2m1 0h1m9 0h1m65 0h1M64 120h1m19 0h1m15 0h1m3 0h1M71 121h2M31 122h1m3 0h1m25 0h1M45 123h1m29 0h2m12 0h1m15 0h1M59 124h1m16 0h2M87 125h1m21 0h1m30 0h1M31 126h1m47 0h2m4 0h1M61 128h1m4 0h1m27 0h1M32 129h1m36 0h1m21 0h1M25 130h1m40 0h1m1 0h2m7 0h1m20 0h1M27 131h1m33 0h1m4 0h1m2 0h1m22 0h1m17 0h1M43 132h1m38 0h1M48 133h1m1 0h1M48 135h1m32 0h1M78 136h1M29 137h1m27 0h1m20 0h1m3 0h1m24 0h2M88 138h1M58 140h1m1 0h1M56 141h1m13 0h1M32 143h1m15 0h1m26 0h1m37 0h1M56 144h1M36 146h1M37 147h1m19 0h1"/>
<path stroke="#26818E" d="M158 6h1M150 15h1M161 23h1M180 25h1M152 28h1m29 0h1M150 36h1M150 38h1M161 40h1M91 42h1M146 46h1M109 47h1M98 48h1m48 0h1m19 0h1M113 49h1M154 51h1M169 56h1M125 57h1M131 58h1m40 0h1M53 59h1m1 0h1m1 0h1M98 60h1m10 0h2M171 61h1M131 64h1m26 0h1M115 65h1m83 0h1M111 66h1m5 0h1M60 68h1m56 0h1M47 69h1m2 0h1m3 0h1m42 0h1m1 0h1m81 0h1M125 70h2m51 0h1M59 72h1m43 0h1m13 0h1M95 73h1m23 0h1M10 74h1M132 75h1M55 76h1M111 77h1m60 0h1M104 78h1m91 0h1M135 79h1M51 80h1m82 0h2M122 81h1m49 0h1M54 82h1m42 0h1M113 83h1m5 0h1M95 85h1m91 0h1M121 86h1m48 0h1m5 0h1m7 0h1M98 87h1M113 88h1m16 0h1M51 89h1m39 0h1m10 0h2m14 0h1m4 0h1m42 0h1M50 90h1m67 0h1M78 91h1m21 0h1m17 0h1m42 0h1M42 92h1m11 0h1m1 0h1M49 93h1m21 0h1m7 0h1m35 0h1m65 0h1M63 94h1m24 0h1m9 0h1m20 0h2M59 95h1m42 0h1m11 0h1m2 0h1m3 0h1M52 96h1m6 0h1m20 0h1m4 0h1m38 0h1m2 0h1M48 97h1m30 0h1M58 98h1m4 0h1M55 99h1m30 0h1m40 0h1m4 0h2M125 100h1m3 0h1M49 101h1m77 0h1m2 0h1M77 102h1m2 0h1m5 0h1m14 0h1m22 0h3m2 0h1m4 0h1M116 103h1m8 0h2m2 0h1m39 0h1M60 104h1m11 0h1m22 0h1m30 0h2M34 105h1m63 0h1m8 0h1m8 0h1m10 0h2m1 0h1m8 0h1M39 106h1m86 0h1M123 107h1m11 0h1M44 108h1m1 0h2m8 0h1m23 0h1m10 0h1m24 0h1M66 109h1m59 0h2M46 110h1m29 0h2m25 0h1m19 0h1m4 0h1m3 0h1m35 0h1M43 111h1m53 0h1m22 0h1m46 0h1M48 112h1m37 0h1M109 113h1m12 0h1M64 114h1m5 0h1m18 0h1m39 0h1M123 115h1M43 116h1m29 0h1m49 0h1M127 117h1M38 119h1m61 0h1m17 0h1M62 120h1m35 0h1m16 0h1M73 121h1m58 0h1M45 122h2m30 0h1m24 0h1m10 0h1M71 123h1M92 124h1M32 125h1m25 0h1m37 0h1m16 0h1m11 0h1M94 126h1m5 0h1M45 127h1m14 0h1m16 0h1m6 0h1m23 0h1m38 0h1M69 128h1M40 129h1m29 0h1M73 130h1m26 0h1m30 0h1m7 0h1M102 131h1M30 132h1m7 0h1m11 0h1M77 133h1M110 134h1M112 135h1M30 137h1M121 139h1m5 0h1M29 140h1m37 0h1M30 142h2M72 144h1M48 145h1M38 147h1m28 0h1M50 150h1"/>
<path stroke="#228B8D" d="M173 11h1M137 39h1m11 0h1M149 40h1M103 45h1m54 0h1M166 48h1M136 49h1M158 50h1M115 51h1m48 0h1M135 53h1M103 55h1M103 56h1m55 0h1M103 57h1M57 58h1m89 0h1m17 0h1m4 0h1m30 0h1M145 60h1M114 61h1M124 62h1M114 63h1m84 0h1M121 64h1m78 0h1M49 65h1m80 0h1m2 0h1m63 0h1M49 66h1m64 0h1M187 69h1M97 71h2m13 0h1M47 73h1m54 0h1m95 0h1M48 74h1m10 0h1m35 0h1m42 0h1m56 0h1M125 75h1M48 76h1m146 0h1M53 77h1M114 78h1m5 0h1m51 0h1M136 79h1M106 80h1m2 0h1M104 81h1m12 0h1M109 82h2m9 0h1m3 0h1m62 0h1m4 0h1M116 83h1M116 84h1m6 0h1M178 85h1M96 86h1m7 0h1m8 0h1M134 87h1M119 88h1M57 89h1m73 0h1M44 90h1m4 0h1m132 0h1M47 91h1m4 0h1M42 93h1m52 0h1m29 0h1M60 94h1m33 0h1m16 0h1m5 0h1m10 0h1M84 95h2m32 0h1m5 0h1m2 0h1m3 0h1M119 96h1m3 0h1m4 0h1M81 97h1m40 0h1M43 98h1m2 0h1m9 0h1m12 0h1m40 0h1m4 0h1m4 0h2m55 0h1M119 99h1m2 0h1m53 0h2M47 100h1m11 0h1m57 0h1M122 101h3m1 0h1m2 0h1M71 102h1m20 0h1m21 0h1m12 0h1m8 0h1M53 103h1m35 0h1m44 0h1M44 104h1m39 0h1m27 0h1m27 0h1M67 105h1m83 0h1M55 106h1m17 0h1m4 0h1m3 0h2m30 0h1M46 107h1m13 0h1m24 0h1m27 0h1m10 0h1M71 108h1m5 0h1m27 0h1m15 0h1m6 0h1m1 0h1M97 109h1M55 110h1m13 0h1m21 0h1m39 0h1M41 111h1m43 0h1m5 0h1m30 0h1m11 0h1M47 112h1m24 0h1m34 0h1m12 0h1m1 0h1m4 0h1M35 113h1m34 0h1m11 0h1m13 0h1m5 0h1M39 114h1m27 0h1m6 0h1M28 115h1m91 0h1M28 116h1m27 0h1m30 0h1m28 0h1m43 0h1M34 117h1m1 0h1m24 0h1m30 0h1M32 118h1m72 0h1m2 0h1m24 0h1m22 0h1M54 119h1m33 0h1M42 120h1M102 121h1M82 123h1m12 0h1M104 124h1m12 0h1M46 125h1m2 0h1m17 0h1m26 0h1M68 126h1M96 127h1M45 128h1m31 0h1M54 129h1M48 130h1m32 0h1M78 131h1m4 0h1m3 0h1M71 132h1m16 0h1M80 133h1m15 0h1m3 0h1M49 134h1m84 0h1M70 135h1m4 0h1m1 0h1m1 0h1m21 0h1m20 0h1M84 137h1M85 139h1M125 140h1M29 143h1m8 0h1m25 0h1M35 144h1M61 146h1"/>
<path stroke="#1F958B" d="M168 6h1M183 10h1M185 17h1M170 19h1M139 21h1M146 24h1M179 29h1M158 39h1M92 45h1m68 0h1M89 46h1m14 0h1m65 0h1M132 47h1M149 50h1M170 53h1M152 55h1M129 56h1M48 61h1m1 0h1m59 0h1m13 0h1M193 65h1M166 66h1M106 67h1M181 68h1m17 0h1M113 69h1m34 0h1m40 0h1M47 70h1m71 0h1m77 0h1M56 71h1m73 0h1M116 72h1M48 73h1m63 0h1m4 0h1m19 0h1M11 74h1m144 0h1M128 75h1M114 76h1m14 0h2m3 0h1m37 0h1M50 77h1m57 0h1M123 78h1M195 79h1M60 80h1M62 81h1m77 0h1m52 0h1M35 83h1m76 0h1m4 0h1M128 87h1m41 0h1M65 88h1m35 0h1m81 0h2M50 89h1m131 0h1M114 91h1m66 0h1M44 92h1m20 0h1m11 0h1m36 0h1m1 0h1m64 0h1M47 93h1m22 0h1m3 0h1m11 0h1M121 94h1m10 0h1M41 95h1m2 0h1m70 0h1m17 0h1M179 96h1M46 97h1m7 0h1m7 0h1m7 0h1m3 0h1m37 0h1M48 98h1m62 0h1m6 0h1M45 99h1m29 0h1m29 0h1m5 0h1m8 0h1m27 0h1M73 100h1m33 0h1m12 0h3m49 0h1M39 101h1m25 0h1m90 0h1m17 0h1M50 102h1m23 0h1m29 0h1m10 0h2M57 103h1m6 0h1m20 0h1m20 0h1m17 0h1M55 104h1m8 0h1m50 0h1m4 0h1m7 0h1m21 0h1M53 105h1m12 0h1m1 0h1m43 0h1m16 0h1M66 106h1m54 0h1M57 107h1m3 0h1m47 0h1m18 0h1m13 0h1M41 108h1m67 0h1m14 0h1m44 0h1M60 109h1m23 0h1m23 0h1M86 110h1m80 0h1M61 111h1m38 0h1m26 0h1M92 112h1m38 0h1M107 113h1m6 0h1M96 114h1m30 0h1M45 115h1m50 0h1m25 0h1M71 116h2M66 117h1m21 0h1m17 0h1m9 0h1m5 0h1M31 118h1m21 0h1m16 0h1m53 0h1M71 119h1m43 0h1m13 0h1M49 120h1m11 0h1m14 0h1m16 0h1m18 0h1m11 0h1M37 121h1m22 0h1m1 0h1M42 123h1m37 0h1m2 0h1M42 124h1m1 0h1m13 0h1m30 0h1m63 0h1M98 125h1m15 0h1M76 127h1m29 0h1M58 128h1m25 0h1m3 0h1m1 0h1M29 129h1m59 0h1m3 0h1m19 0h1M28 130h1m50 0h1m11 0h1M23 131h1m8 0h1m57 0h1M55 132h1m20 0h1m3 0h1M104 133h1M62 134h1m16 0h1M27 135h1m52 0h1M56 136h1M67 138h1m29 0h1M84 139h1m24 0h1M65 140h1M125 141h1M47 143h1M34 147h1M63 148h1M51 150h1"/>
<path stroke="#1FA088" d="M169 13h1M185 18h1M181 20h1M168 29h1M160 32h1M127 33h1M131 40h1M187 46h1M133 48h1M111 49h1m20 0h1M112 50h1m43 0h1M133 51h1M161 54h1M114 58h1m87 0h1M123 60h1m26 0h1M120 61h1M113 62h1m36 0h1M101 63h1M98 65h1m25 0h1M131 66h1m23 0h1M49 67h1m149 0h1M198 68h1M180 69h1m18 0h1M130 70h1m17 0h1M199 71h1M99 72h1M116 73h1m4 0h1M102 74h1m3 0h1m90 0h2M51 75h1m55 0h1m9 0h1m56 0h1m22 0h1M54 76h1m2 0h1m68 0h2M130 77h1m65 0h1M109 79h1m2 0h1m1 0h1m8 0h1m16 0h1M194 80h1M56 81h1m63 0h1M191 82h1M189 83h1M60 84h1m48 0h1M110 85h1m4 0h1m3 0h1m51 0h1M63 86h1m33 0h1m84 0h1M116 87h2m66 0h1M51 88h1m6 0h1m70 0h1M58 89h1m35 0h1M94 91h1M104 92h1m12 0h1M104 93h1m3 0h1M86 94h1m29 0h1M89 95h2m88 0h1M58 96h1m56 0h2m3 0h1m9 0h1M49 97h1m51 0h1m4 0h1m17 0h1m10 0h1M86 98h1m29 0h1m11 0h1m3 0h1m17 0h1M87 99h1m15 0h1m10 0h2M42 100h2m40 0h1m18 0h1m8 0h1m63 0h1M67 101h1m4 0h1m16 0h1m12 0h1m28 0h1m28 0h1M45 102h1m5 0h1m67 0h1m1 0h1M71 103h1m1 0h1m26 0h1m4 0h1m12 0h2m1 0h1M57 104h1m8 0h1m39 0h1m6 0h2m6 0h1m23 0h1M171 105h1M59 106h1m2 0h1m28 0h1m21 0h1m1 0h1m8 0h1M59 107h1m15 0h1m21 0h1m20 0h1m6 0h1M40 108h1m12 0h1m18 0h1m2 0h1m47 0h1m13 0h1M91 109h1m26 0h1M59 110h1M50 111h1m4 0h1m110 0h1M39 112h1m25 0h1m38 0h1M72 113h1m57 0h1m33 0h1M85 114h1m32 0h1M114 115h1m47 0h1M27 116h1m38 0h1m40 0h1M87 117h1m20 0h1m49 0h1M104 118h1M53 119h1m70 0h1m32 0h1M73 120h1m46 0h1M74 121h1m6 0h1m12 0h1M71 122h1m47 0h1m35 0h1M88 123h1m65 0h1M71 124h1M73 125h1m10 0h1M40 126h2m30 0h1M85 127h1m7 0h1M51 128h1m16 0h1m39 0h1M99 129h1M76 130h1M35 131h1m31 0h1m5 0h1m29 0h1M47 132h1m1 0h1m29 0h1M54 133h1M73 134h1m65 0h1M40 135h1m8 0h1M53 136h1m28 0h1m6 0h1m8 0h1M83 138h1M108 139h1M109 141h1M56 142h1m4 0h1m27 0h1M31 143h1M99 144h1M34 145h1m34 0h1M34 146h1M57 148h1"/>
<path stroke="#24AA83" d="M157 9h1M185 19h1M149 25h1M159 43h1M92 44h1M137 45h1M155 48h1m2 0h1M115 49h1m60 0h1M161 50h1M132 52h1M166 53h1M134 56h1M99 58h1m18 0h1m15 0h1M52 60h1m62 0h1m86 0h1M197 61h1m3 0h1M108 62h1m92 0h1M200 63h2M99 64h1m96 0h1M112 66h1m33 0h1m52 0h1M54 67h1m66 0h1m20 0h1M122 68h1m6 0h1M107 69h1m8 0h1M96 70h2m23 0h1m28 0h1M59 71h1M198 72h1M50 73h1M143 74h1M11 75h1m84 0h1m8 0h1m15 0h1m27 0h1M197 76h1M107 78h1m28 0h1M119 79h1m25 0h1m47 0h1M58 80h1m60 0h1m16 0h1m58 0h1M111 81h1M27 82h1m85 0h1M51 83h1m68 0h1m5 0h1M188 84h1M176 85h1M117 86h1m68 0h1M56 88h1m75 0h1M183 89h1M56 90h1m41 0h1M44 91h1m53 0h1M97 93h1M83 94h1m96 0h1M60 95h1m1 0h1m23 0h1m26 0h1m8 0h1M42 96h1m91 0h1m43 0h1M113 97h1M41 98h1m85 0h1m7 0h1M81 99h1m28 0h1M49 100h1m3 0h1m7 0h1m37 0h1M42 101h1m17 0h1m52 0h1M67 102h1m52 0h1m2 0h1M49 103h1m10 0h1m61 0h1M38 104h1m4 0h1m7 0h1m11 0h1m52 0h1m2 0h1M121 105h2m2 0h1M64 107h1m12 0h1m30 0h1m12 0h1M60 108h1m57 0h1M37 109h1m12 0h1m30 0h1m17 0h1m34 0h1m13 0h1M54 110h1m2 0h1m5 0h1m8 0h1m47 0h2M67 111h1m57 0h1M31 112h1m38 0h1m12 0h1M99 113h1m23 0h1m4 0h1m34 0h1M162 114h1M67 115h1m2 0h1m4 0h1M119 116h2M68 117h1m26 0h1m30 0h1M71 118h1m13 0h1m37 0h1M91 119h1m17 0h1M44 120h1m7 0h1m30 0h1m21 0h1M49 121h1m63 0h1m1 0h1M56 122h1m42 0h1m6 0h1m5 0h1m1 0h1M152 123h1M31 124h1M81 125h1m10 0h1M43 126h1m43 0h1m24 0h1M38 127h1M71 128h1M88 129h1m57 0h1M104 130h1M80 131h1m1 0h1M55 133h1m31 0h1m9 0h1m12 0h1M85 136h1M106 137h1M32 138h1M79 139h1m49 0h1M116 140h1M57 141h1m3 0h1m61 0h1M94 142h1M76 143h1m2 0h2M71 144h1M66 147h1m1 0h1M68 148h1"/>
<path stroke="#2FB47C" d="M162 41h1M93 45h1M138 49h1M130 51h1m19 0h1M155 52h1M174 54h1M113 57h1m31 0h1m19 0h1M49 58h1m86 0h1m7 0h1M202 61h1M143 62h1M137 64h1m7 0h1M196 65h1M54 66h1m66 0h1m78 0h1M198 67h1M105 68h1m83 0h1M57 70h1m53 0h1m87 0h1M113 71h1M124 72h1m10 0h1m20 0h1M108 73h1M114 74h1m10 0h1M100 75h1M122 76h1M127 77h1M146 78h1M118 81h1M38 82h1m73 0h1m24 0h1m4 0h1M191 83h1M54 84h1m41 0h1M118 86h1m66 0h1M116 88h1m10 0h1M62 89h1m1 0h1M112 90h1m53 0h1M48 91h1m5 0h1m41 0h1m20 0h1M43 92h1m13 0h1m15 0h1m6 0h1m27 0h1M58 93h1m14 0h1m18 0h1m87 0h1M97 94h1m12 0h1M107 95h1M47 96h1m36 0h1m36 0h1M51 97h1m71 0h1m50 0h1m3 0h1M50 98h1m4 0h1m8 0h1m29 0h1m22 0h1m6 0h1m4 0h1M35 99h1m25 0h1m26 0h1M58 100h1m28 0h1M84 101h1m27 0h1m3 0h1M53 102h1m51 0h1M42 103h1m12 0h2m1 0h1m36 0h1m24 0h1m52 0h1M70 104h1m100 0h2M49 105h1m44 0h1m28 0h1M67 106h1m3 0h1m16 0h1m33 0h1m47 0h1M66 107h1m29 0h1m73 0h1M57 108h1m41 0h1m8 0h1m13 0h1m4 0h1m3 0h1m4 0h1m33 0h1M43 109h1m4 0h1m12 0h1m8 0h1m98 0h1M21 110h1m15 0h1m9 0h1m5 0h1m42 0h1M48 111h1m2 0h1m56 0h1m6 0h2m2 0h1m10 0h1M56 112h1m12 0h1m21 0h1M41 113h1m44 0h1m3 0h1m74 0h1M111 114h1m10 0h1m3 0h1M72 115h1m9 0h1M86 116h1m4 0h1m14 0h1M37 117h1M87 118h1m69 0h1M73 119h1M33 120h1m123 0h1M31 121h1m13 0h1m54 0h1M63 122h1M28 123h1m2 0h1M98 124h1M151 125h1M82 126h1m21 0h1m5 0h1m39 0h1M86 127h1m5 0h1M147 128h1M27 129h1M39 130h1m44 0h1m60 0h1M84 131h1m59 0h1M97 132h1M81 133h1M56 134h1m27 0h1m18 0h1M97 135h1m6 0h1m6 0h1M60 136h1m4 0h1M74 139h1M57 140h1m45 0h1m22 0h1M33 143h1M39 144h1M58 147h1m12 0h1M39 149h1M49 152h1"/>
<path stroke="#42BE71" d="M163 10h1M156 27h1M143 46h1M100 47h1m22 0h1M177 50h1M157 51h1M168 52h1M105 55h1M52 61h1M110 63h1M48 65h1m53 0h1m97 0h1M55 66h1m41 0h1m18 0h1M188 67h1M108 68h1M52 70h1m1 0h1m74 0h1M198 71h1M115 73h1m4 0h1M51 74h1m4 0h1M58 75h1M53 76h1M57 77h1m2 0h1m51 0h2m21 0h1m1 0h1M115 79h2m79 0h1M39 80h1m16 0h1m102 0h1M6 81h1m32 0h1m14 0h1m139 0h1M34 82h1m25 0h1M109 83h1M178 84h1M186 85h1M53 86h1M185 87h1M63 88h1M104 89h1M46 91h1M97 92h1M109 93h1M41 94h1m6 0h1M81 95h1M54 96h2m58 0h1m16 0h1M58 97h1m66 0h1M109 98h1m15 0h1M58 99h1m24 0h1M81 100h1m27 0h1m14 0h1m11 0h1M70 101h1m3 0h1m42 0h1m14 0h1M60 102h1m34 0h1m6 0h1m35 0h1M86 103h1m46 0h1M49 104h1m74 0h1M58 105h1m4 0h1m108 0h1M48 106h1m82 0h1M55 107h1m66 0h1M86 108h1m10 0h1m22 0h1M40 109h1m127 0h1M22 110h1m48 0h1m9 0h1M80 111h1m37 0h1M23 112h1m50 0h1m91 0h1M111 113h1M42 114h1m36 0h1m6 0h1M87 115h1m25 0h1m12 0h1m1 0h1M76 116h1m7 0h1m4 0h1m4 0h1m13 0h1M72 117h1m86 0h1M36 118h1m11 0h1m5 0h1M77 119h1M30 120h1m39 0h1m3 0h1M128 121h1m8 0h1m17 0h1M72 124h1m8 0h1m4 0h1m15 0h1M102 125h1M65 126h1M79 127h1M56 128h1m32 0h1m59 0h1M71 129h1m68 0h1M50 130h1M70 132h1m22 0h1m5 0h1m3 0h1m38 0h2M69 134h1m26 0h1M137 135h1M124 136h1M55 139h1M78 143h1M28 144h1m78 0h1M72 145h1"/>
<path stroke="#58C765" d="M166 44h1M92 46h1M99 49h1m39 0h1M158 51h1M163 55h1M109 56h1m38 0h1M124 58h2m1 0h1m20 0h1M51 59h1m56 0h1m55 0h1M112 61h1M144 62h1M111 64h1M47 66h1M171 70h1M111 71h1M152 73h1M190 74h1M59 75h1M9 77h1M110 78h1M42 79h1m64 0h1M111 80h1M53 81h1m56 0h1M111 82h1M125 83h1M102 84h2m18 0h1m2 0h1M99 87h1M117 89h1M52 90h1m8 0h1m27 0h1M101 91h1M112 92h1M51 93h1m38 0h1M39 94h1m5 0h1m5 0h1m3 0h1M13 95h1m89 0h1m5 0h1m6 0h1m13 0h1M45 96h1m3 0h1m7 0h1m41 0h1M53 97h1M49 98h1M60 99h1m46 0h1m4 0h1m11 0h1M111 100h1m7 0h1M50 101h1m13 0h1m110 0h1M49 102h1m2 0h1m5 0h2m28 0h1m44 0h1M42 104h1m33 0h1m46 0h1m1 0h1m47 0h1M54 105h1m9 0h1m16 0h1m19 0h1m12 0h1m5 0h1M75 106h1m3 0h1m10 0h1m5 0h1m1 0h1m24 0h1M86 107h1M45 110h1m21 0h1m27 0h1m9 0h1M76 111h1m5 0h1M52 113h1m11 0h1m61 0h1m34 0h1M66 114h1m25 0h1m70 0h1M48 115h1m5 0h1m106 0h1M44 116h1m10 0h1m7 0h1M26 117h1m8 0h1M33 119h2m32 0h1m17 0h1M103 120h1m52 0h1M98 121h1m19 0h1M83 122h1M46 123h1m5 0h1M75 124h1m4 0h1M69 125h1m2 0h1m69 0h1M42 126h1m14 0h1m25 0h1m21 0h1m45 0h1M78 127h1M92 128h1m12 0h1m21 0h1M74 129h1m10 0h1m61 0h1M64 130h1m7 0h1m2 0h1M33 131h1m10 0h1m11 0h1m40 0h1M102 132h1M80 134h1m57 0h1m1 0h1M25 135h1m108 0h1M63 137h1m70 0h1M133 138h1M51 139h1M126 141h1M40 142h1m52 0h1M90 143h1m20 0h1M27 144h1m65 0h1M33 145h1m54 0h1M102 146h2M40 147h1m7 0h1m3 0h1M64 148h1M62 149h1"/>
<path stroke="#70CF57" d="M131 51h1M107 54h1m61 0h1M135 57h1M178 59h1M123 62h1m24 0h1m31 0h1M143 64h1M142 65h1M189 66h1M102 67h1m14 0h1M107 68h1M58 70h2M57 71h1M107 72h1M14 73h1m116 0h1M16 74h1m32 0h1m7 0h1M118 75h1m71 0h1M10 76h1m121 0h1m2 0h1M16 78h1m40 0h1M146 79h1M21 81h1M62 82h1M102 87h1M98 88h1M12 90h1m168 0h1M51 92h1m47 0h1m18 0h1M106 94h1M92 95h1m26 0h1m3 0h1M42 97h1m9 0h1m124 0h1M40 98h1m21 0h1M90 99h1M50 100h1m3 0h1m27 0h1m21 0h1m30 0h1M52 101h2m3 0h1m60 0h2m14 0h1M43 102h1M51 103h1m44 0h1M54 104h1m1 0h1m50 0h1M51 105h1m28 0h1M130 106h1m40 0h1M56 107h1m16 0h1m31 0h1m14 0h1M49 108h1m57 0h1m11 0h1M85 109h1M39 110h1m10 0h1m17 0h1m15 0h1m42 0h1M63 111h1m10 0h2m19 0h1m10 0h1m3 0h1M50 112h2m58 0h1m54 0h1M47 113h1m19 0h1m15 0h1m3 0h1M54 114h1m1 0h1m55 0h1M44 115h1m19 0h1m6 0h1m19 0h1m14 0h1M104 116h2m34 0h1m20 0h1M33 117h1m4 0h1M83 118h1M57 119h1m14 0h1m11 0h1M32 120h1M38 122h1m115 0h1M39 123h1m4 0h1m108 0h1M39 124h1m112 0h1M91 125h1m60 0h1M26 127h2M22 128h1m52 0h1m11 0h1M67 129h1m12 0h1m15 0h1M31 130h1M89 131h1m53 0h1M51 133h2m46 0h1M54 135h1M81 136h1m53 0h1M27 137h1M131 138h1M59 139h1m70 0h2M119 140h2m2 0h1m5 0h1M62 142h1M97 143h1M36 144h1m49 0h1m7 0h1m2 0h1m8 0h1m5 0h1M67 146h1M65 148h1M55 149h1M52 151h1M48 153h1"/>
<path stroke="#8BD646" d="M188 33h1M192 39h1M167 42h1m16 0h1M106 45h1M95 48h1m42 0h1M148 50h1M135 52h1M147 53h1M105 59h1M145 62h1M127 65h1M123 66h1m34 0h1M189 67h1M113 68h1M55 69h1M107 70h1m62 0h1M106 71h1M144 72h1M9 73h1m3 0h1m100 0h1M101 74h1m13 0h1m2 0h1m9 0h3m4 0h1M127 75h1M49 76h1m62 0h1m11 0h1m11 0h1m55 0h1M8 77h1m37 0h1m74 0h2M6 78h1M17 79h1m23 0h1m17 0h1M54 80h1m6 0h1m53 0h1m10 0h1M8 81h1m29 0h1m76 0h2m6 0h2m62 0h1M23 82h1m93 0h1M8 83h1m106 0h1m74 0h1M115 84h1m2 0h1M113 85h1M10 86h1M102 88h1m67 0h1M117 90h1M79 92h1m16 0h1M99 94h1m18 0h1M49 95h1m48 0h2m80 0h1M129 96h1M83 97h1m32 0h1M15 98h1m35 0h1m32 0h1m6 0h1m8 0h1M40 99h1m1 0h1m22 0h1m50 0h1m6 0h1M15 100h1m28 0h1m1 0h1m13 0h1m47 0h1M45 101h1m1 0h1m38 0h2M55 102h1m117 0h1M90 103h1M97 104h1M52 105h1M49 106h1m2 0h1m12 0h1m8 0h1m10 0h1m9 0h1M50 107h1m50 0h1M20 108h1m29 0h1m11 0h1m7 0h1m32 0h1m2 0h1m40 0h1M73 109h1M106 110h1M49 111h1m18 0h1M64 112h1m64 0h1M43 114h1m13 0h1m26 0h1m6 0h1M74 115h1M26 116h1m7 0h1m17 0h1m29 0h1m76 0h1M42 117h1m19 0h1m16 0h1M65 119h1M67 120h1m86 0h1M66 121h1m17 0h1m10 0h1m60 0h1M69 123h1m4 0h1M53 124h1M88 125h1m14 0h1M95 126h1M95 127h1M25 128h1m80 0h1m41 0h1M75 129h1m69 0h1M71 130h1m33 0h1m38 0h1M98 131h1M85 132h1m12 0h1M23 133h1m51 0h1m65 0h1M71 135h1m64 0h1M76 136h1M45 137h1M27 138h1m56 0h1M68 140h1m33 0h1M58 141h1m56 0h1M58 143h1m30 0h1M37 144h1m42 0h1M33 146h1m37 0h1m33 0h1M28 147h1M51 149h1m2 0h1m8 0h1M41 151h1M42 152h1"/>
<path stroke="#A8DB34" d="M130 43h1M155 50h1M168 51h1M102 55h1M107 60h1M144 63h1M55 64h1M51 67h1m46 0h1M47 68h1M55 70h1m57 0h1m6 0h1m48 0h1M53 71h1m55 0h1M12 72h2m108 0h1M52 73h1M50 74h1m62 0h1M9 75h1m120 0h1M9 76h1m105 0h1m7 0h1m17 0h1M16 77h1m31 0h1m67 0h1m15 0h1M43 78h1m74 0h1M113 79h1M17 80h1m1 0h1m93 0h1m4 0h1M29 82h1m85 0h2M99 86h1M56 87h1m48 0h1M11 88h1M75 92h1m88 0h1M12 93h1m41 0h1M90 94h1M48 95h1m2 0h1M14 96h1m28 0h1M14 97h1M53 98h1m6 0h2M47 99h1m1 0h1m2 0h1m4 0h1m31 0h1M63 100h1m52 0h1m15 0h1M48 101h1m51 0h1m19 0h1m14 0h1M44 102h1m25 0h1M16 103h1m29 0h1M50 104h1m37 0h1m12 0h1M50 105h1m9 0h1m4 0h1M58 106h1m5 0h1m19 0h1m14 0h1M51 108h1m7 0h1m35 0h1M21 109h1m85 0h1M49 110h1m20 0h1m26 0h2M62 111h1M67 112h1M25 113h1m19 0h1m25 0h1m3 0h1m30 0h1m1 0h1M80 114h1m28 0h1M42 115h1m96 0h1M118 116h1m6 0h1M117 117h1M67 118h1M43 120h1m9 0h1M47 121h1m53 0h1M44 122h1M72 123h1m30 0h1m7 0h1M95 124h1M149 127h1M24 128h1m1 0h1m1 0h1m13 0h1m70 0h1M26 129h1M86 130h1m8 0h1M70 131h1m4 0h1m12 0h1m11 0h1M102 133h1M55 134h1m46 0h1M55 135h1m39 0h1M25 136h1m1 0h1M28 137h1M118 140h1m2 0h1M116 141h1M28 143h1m64 0h1M30 144h1m57 0h1m6 0h1m17 0h1m1 0h2M67 145h1m2 0h1M28 146h1m41 0h1m2 0h1M33 147h1M36 148h1m30 0h1M37 149h1m2 0h1m17 0h1M39 151h1M45 153h1"/>
<path stroke="#C5E021" d="M180 21h1M190 23h1M165 47h1M121 51h1M169 53h1M128 54h1M153 55h1M120 60h1M121 61h1M121 62h1m3 0h1M117 63h1M50 65h1m48 0h1m11 0h1M48 68h1M106 69h1m5 0h1M48 71h1m68 0h1M112 72h1m14 0h1M49 73h1m56 0h1M112 74h1m13 0h1m4 0h1M50 75h1m1 0h1m63 0h1M118 76h1M115 77h1m3 0h1m8 0h1M5 78h1m38 0h1M118 79h1M116 80h1M22 81h1m89 0h1M26 82h1m1 0h1m1 0h2m1 0h1m1 0h2m86 0h1M110 83h1M111 84h2M120 85h1M11 90h1M12 92h1m45 0h1M50 94h1m6 0h1m1 0h1M100 95h1M56 96h1m43 0h2M50 97h1m49 0h1M57 98h1m1 0h1M50 99h1m8 0h1m25 0h1M41 100h1m9 0h1m38 0h1m11 0h1m3 0h1m3 0h1m64 0h1M43 101h1m7 0h1M54 102h1m41 0h1m1 0h1M45 103h1m2 0h1m1 0h1M46 104h1m1 0h1m3 0h2m5 0h1m78 0h1M56 105h1m5 0h1m25 0h1M19 106h1m36 0h1m32 0h1M47 107h1m47 0h1m2 0h1M20 109h1m21 0h1m13 0h1m23 0h1m14 0h2m9 0h1M52 110h1m54 0h1M38 112h1m45 0h1M74 113h1m38 0h1M83 114h1m35 0h2M26 115h1m16 0h1m29 0h1m16 0h1M54 116h1m37 0h1m46 0h1M80 117h1m75 0h1M57 118h1M31 120h1m6 0h1m42 0h1M94 123h1M37 124h1m16 0h1m55 0h1M82 125h1m2 0h1M110 127h1m39 0h1M86 128h1M92 129h1m14 0h1M22 130h1m65 0h1m10 0h1M85 131h1m15 0h1M101 132h1M24 133h1m42 0h1m24 0h1M68 135h1M105 136h1m3 0h1m26 0h1M101 137h1m33 0h1M28 138h1M28 140h1m88 0h1m4 0h1m5 0h1M28 141h1M115 142h1M81 143h1m25 0h2m1 0h1M32 144h2m42 0h1m1 0h1m5 0h1m11 0h1M29 145h1m43 0h1m13 0h1M68 146h1m3 0h1M37 148h1m23 0h1m4 0h1M57 149h1M43 152h1m4 0h1M43 153h1m2 0h1"/>
<path stroke="#E2E418" d="M169 22h1M102 45h1M99 48h1m1 0h1M108 55h1M108 56h1m1 0h1M202 59h1M198 65h1M53 67h1M51 68h1M105 69h1M53 70h1M123 71h1M11 72h1m108 0h1M10 73h1M14 74h1m89 0h1M99 75h1M58 76h1m57 0h1m2 0h1M44 77h1m73 0h1m28 0h1M117 78h1M6 80h1m13 0h1m96 0h1m9 0h1M23 81h1M8 82h1m23 0h1m81 0h1m10 0h1M54 83h1m59 0h1M110 84h1M111 85h1m5 0h1M120 86h1M115 87h1M117 88h1m10 0h1M133 93h1M58 94h1M50 95h1m1 0h1m3 0h2M13 96h1m36 0h2M63 97h1m39 0h1M54 98h1M15 99h1m37 0h2m51 0h1m2 0h1M52 100h1m4 0h1M16 101h1m24 0h1m12 0h1m1 0h1M46 102h1m9 0h1M44 103h1m7 0h1m6 0h1m7 0h1m20 0h1m2 0h1m5 0h1M47 104h1m41 0h1M18 105h1m38 0h1m21 0h1M53 106h1m39 0h1M104 108h1M49 109h1m8 0h2m93 0h1M22 111h1m31 0h1m24 0h1m27 0h1M68 112h1M51 113h1M73 114h1m39 0h2m6 0h1M121 115h1M74 116h1M157 117h1M27 118h1m130 0h1M126 119h1M27 120h1m7 0h1M43 121h1M74 122h1M81 123h1M65 125h1M27 126h1M46 128h1M22 129h1M90 130h1M22 132h2m63 0h1M24 134h2M138 135h1M26 136h1M60 137h1M132 138h1M28 139h1M78 140h1M124 141h1M92 143h1m22 0h1M29 144h1m4 0h1m23 0h1m15 0h2m1 0h1m20 0h1m15 0h1M36 145h1m46 0h1m16 0h2m4 0h1M59 146h1M35 147h1m33 0h2M34 148h2m22 0h1M40 150h1M50 152h1M44 153h1"/>
<path stroke="#FDE725" d="M166 32h1M10 72h1M9 74h1m5 0h1m101 0h1M16 75h1M16 76h1m100 0h1M6 77h2m37 0h1m71 0h1M42 78h1m73 0h1m2 0h1m13 0h1M5 79h2m9 0h1m100 0h1M18 80h1m21 0h2m72 0h1M7 81h1m12 0h1m93 0h1M24 82h2M36 83h3M8 84h1M8 85h3M10 87h1M10 88h1M11 89h1M12 91h1M53 92h1m5 0h1M13 93h1M13 94h1m73 0h1M44 96h1M14 98h1m37 0h1M48 99h1m2 0h1m4 0h1M55 100h2m7 0h1m24 0h1M15 101h1m45 0h1M16 102h1M17 103h1m29 0h1m6 0h1M17 104h2M19 105h1m75 0h1M19 107h2M71 109h1M58 110h1M22 112h1m1 0h1M24 113h1m31 0h1M25 114h2M27 117h1M27 119h1M27 121h1M27 122h1M27 123h1M27 124h1M27 125h1M23 128h1m67 0h1M22 131h1M100 132h1M142 133h1M78 134h1m62 0h1M134 138h1M127 140h1M117 141h1M28 142h1M91 143h1m17 0h1m2 0h1m3 0h1M31 144h1m41 0h1m5 0h1m1 0h3m1 0h1m3 0h1M27 145h2m57 0h1m12 0h1m2 0h1M29 146h1m39 0h1m34 0h1m1 0h1M29 147h1M29 148h1m3 0h1m25 0h2m1 0h1m6 0h2M38 149h1m14 0h1m2 0h1m7 0h1M52 150h2M40 151h1m1 0h1m7 0h2M47 153h1"/>
</g>
<rect x="1000.60" y="349.60" width="775.2" height="674.3" fill="url(#cg10)" clip-path="url(#mclip10)"/>
<rect x="131" y="1072" width="828" height="69" fill="#D9D9D9"/>
<text x="545.0" y="1118.7" font-size="37" fill="#1A1A1A" text-anchor="middle" textLength="80" lengthAdjust="spacingAndGlyphs">med</text>
<rect x="131" y="1141" width="828" height="728" fill="#EBEBEB"/>
<path d="M131 1169.6H959M131 1273.3H959M131 1377.1H959M131 1480.8H959M131 1584.6H959M131 1688.3H959M131 1792.0H959M332.0 1141V1869M560.0 1141V1869M788.0 1141V1869" stroke="#fff" stroke-width="4.3" fill="none"/>
<g transform="translate(149.60,1171.761) scale(3.8000,4.3225)" fill="none" stroke-width="1" shape-rendering="crispEdges">
<path stroke="#440154" d="M162 1h2M157 2h1m4 0h1m1 0h2m1 0h2M157 3h3m1 0h3m3 0h1m2 0h1m1 0h7m1 0h3M156 4h1m1 0h1m1 0h2m1 0h3m3 0h1m1 0h3m1 0h5m1 0h1m1 0h1M152 5h4m1 0h6m2 0h1m1 0h3m2 0h1m4 0h2m1 0h4M147 6h1m1 0h2m1 0h3m2 0h1m1 0h1m3 0h2m1 0h2m3 0h1m3 0h9M146 7h1m2 0h2m1 0h2m1 0h2m2 0h1m2 0h7m1 0h7m1 0h1m2 0h2m1 0h1M146 8h1m4 0h2m2 0h1m1 0h8m1 0h2m1 0h2m1 0h3m1 0h1m1 0h1m1 0h2m1 0h2M146 9h1m5 0h1m5 0h3m1 0h3m1 0h2m1 0h7m1 0h1m1 0h1m2 0h3M144 10h4m1 0h3m4 0h1m1 0h4m2 0h1m1 0h5m1 0h5m4 0h1M143 11h5m1 0h1m2 0h5m1 0h1m1 0h1m1 0h1m3 0h2m2 0h2m2 0h6m2 0h4M142 12h7m1 0h2m2 0h2m2 0h2m7 0h1m2 0h9m1 0h2m1 0h1m1 0h2M140 13h7m3 0h2m1 0h2m2 0h5m4 0h1m1 0h1m2 0h6m1 0h8M138 14h3m1 0h6m1 0h3m7 0h2m1 0h2m4 0h1m2 0h2m2 0h3m5 0h4M136 15h3m1 0h2m2 0h1m1 0h3m7 0h1m3 0h6m3 0h1m1 0h4m3 0h6m1 0h1M135 16h2m1 0h5m1 0h1m1 0h3m3 0h3m1 0h4m1 0h5m2 0h2m2 0h2m1 0h1m1 0h3m2 0h2m2 0h1M134 17h13m1 0h4m1 0h3m3 0h7m1 0h1m1 0h1m1 0h1m3 0h3m1 0h5m2 0h1M133 18h6m1 0h2m2 0h2m2 0h2m1 0h1m3 0h2m1 0h2m1 0h6m4 0h3m1 0h1m1 0h5m5 0h1M132 19h7m1 0h3m1 0h2m7 0h3m3 0h1m1 0h5m2 0h2m1 0h2m1 0h2m6 0h2m4 0h1M131 20h7m5 0h2m3 0h2m2 0h5m2 0h1m1 0h7m1 0h5m1 0h3m1 0h1m2 0h2m3 0h1M131 21h3m1 0h3m4 0h2m3 0h1m2 0h2m1 0h1m2 0h1m1 0h3m1 0h2m1 0h2m1 0h2m1 0h2m1 0h5m4 0h1m1 0h1m1 0h2M132 22h2m1 0h2m2 0h1m1 0h9m1 0h4m2 0h1m1 0h1m1 0h7m4 0h1m1 0h2m1 0h1m3 0h3m2 0h3M130 23h4m1 0h2m1 0h8m1 0h4m1 0h2m8 0h6m1 0h1m2 0h1m3 0h1m1 0h2m1 0h1m3 0h3m1 0h1M130 24h4m1 0h2m1 0h1m3 0h1m2 0h1m1 0h3m5 0h4m2 0h4m2 0h1m1 0h1m1 0h3m1 0h2m2 0h2m1 0h1m2 0h6M130 25h3m1 0h1m1 0h4m1 0h4m2 0h2m1 0h4m2 0h1m1 0h4m1 0h2m3 0h2m1 0h1m2 0h1m3 0h2m1 0h1m2 0h1m4 0h2M130 26h2m3 0h1m1 0h4m1 0h1m2 0h4m1 0h1m2 0h2m3 0h1m1 0h1m1 0h2m1 0h1m1 0h5m1 0h1m1 0h2m1 0h2m1 0h1m2 0h1m1 0h2m1 0h3M129 27h3m1 0h2m1 0h3m3 0h7m1 0h5m4 0h1m1 0h1m2 0h1m5 0h9m1 0h8m2 0h1M131 28h2m2 0h1m1 0h3m1 0h10m3 0h1m3 0h2m2 0h1m5 0h1m3 0h7m2 0h1m1 0h3m4 0h3M128 29h3m2 0h1m4 0h8m4 0h1m4 0h1m3 0h1m2 0h4m1 0h1m2 0h4m1 0h4m1 0h1m2 0h3m1 0h1m3 0h2M124 30h3m1 0h4m1 0h2m3 0h1m1 0h10m1 0h1m3 0h2m3 0h1m1 0h4m4 0h1m1 0h8m1 0h1m1 0h1m2 0h2m2 0h1m1 0h1M122 31h1m2 0h3m2 0h3m1 0h1m2 0h2m1 0h5m2 0h1m4 0h1m2 0h2m2 0h1m1 0h2m2 0h1m2 0h1m1 0h3m1 0h2m1 0h3m4 0h3m3 0h3M122 32h1m2 0h3m3 0h3m4 0h5m1 0h1m1 0h1m1 0h1m1 0h4m2 0h1m4 0h3m6 0h1m5 0h2m2 0h4m1 0h1m1 0h2m1 0h1m1 0h1M121 33h6m3 0h4m3 0h3m1 0h4m1 0h2m2 0h3m11 0h1m1 0h4m1 0h4m1 0h1m1 0h6m1 0h1m6 0h1M121 34h6m1 0h1m2 0h2m2 0h1m1 0h1m2 0h1m1 0h4m1 0h1m5 0h1m4 0h1m2 0h1m2 0h1m2 0h2m3 0h2m3 0h3m1 0h1m3 0h2m1 0h3M118 35h1m1 0h3m1 0h2m11 0h1m1 0h1m1 0h6m2 0h1m1 0h1m1 0h3m2 0h1m3 0h2m1 0h2m1 0h1m1 0h5m1 0h1m1 0h1m3 0h1m1 0h2m1 0h1m1 0h3M118 36h2m1 0h2m1 0h1m1 0h3m1 0h1m4 0h3m4 0h3m1 0h4m3 0h4m1 0h1m4 0h1m2 0h4m1 0h9m2 0h5m2 0h4M117 37h1m2 0h5m1 0h2m1 0h1m7 0h1m1 0h3m2 0h1m3 0h2m1 0h4m1 0h2m1 0h1m3 0h3m2 0h2m2 0h5m1 0h3m1 0h1m1 0h3m2 0h2m1 0h1M117 38h1m2 0h1m3 0h4m1 0h1m2 0h3m4 0h3m1 0h3m1 0h3m5 0h1m4 0h3m1 0h1m1 0h1m1 0h6m1 0h5m5 0h1m2 0h4M116 39h1m2 0h1m3 0h3m1 0h4m11 0h2m3 0h1m9 0h1m4 0h1m1 0h1m4 0h4m2 0h2m1 0h2m1 0h3m1 0h7M116 40h1m1 0h2m4 0h1m2 0h2m4 0h1m2 0h2m2 0h1m1 0h7m1 0h1m1 0h1m1 0h1m3 0h2m2 0h1m1 0h1m5 0h6m4 0h1m1 0h4m2 0h2M122 41h2m3 0h4m2 0h1m1 0h2m3 0h1m2 0h1m1 0h1m1 0h1m2 0h1m2 0h3m1 0h3m4 0h1m3 0h2m2 0h3m2 0h3m1 0h10M115 42h2m1 0h4m1 0h2m1 0h2m2 0h1m2 0h2m1 0h2m3 0h1m1 0h3m8 0h1m5 0h1m1 0h1m3 0h1m1 0h1m2 0h1m2 0h1m1 0h7m3 0h4M98 43h1m16 0h1m1 0h3m1 0h1m7 0h1m4 0h5m5 0h1m2 0h1m1 0h2m2 0h2m5 0h1m5 0h4m2 0h2m7 0h1m1 0h3m2 0h3M96 44h1m1 0h2m12 0h2m2 0h3m3 0h1m4 0h1m2 0h1m5 0h1m4 0h1m2 0h1m2 0h1m1 0h1m1 0h1m2 0h2m7 0h1m6 0h1m1 0h2m3 0h1m1 0h3m1 0h4m1 0h2M98 45h1m9 0h1m6 0h1m1 0h1m1 0h3m1 0h2m3 0h1m9 0h1m1 0h1m1 0h1m9 0h1m9 0h1m4 0h1m1 0h2m2 0h1m2 0h1m4 0h1m1 0h1m4 0h3M105 46h2m1 0h1m6 0h2m2 0h2m3 0h1m5 0h1m8 0h1m1 0h1m2 0h1m4 0h1m2 0h1m10 0h2m4 0h1m1 0h1m1 0h1m2 0h1m2 0h2m7 0h1m1 0h1M96 47h1m1 0h1m2 0h1m9 0h1m2 0h1m1 0h2m1 0h3m5 0h1m1 0h3m1 0h1m3 0h1m7 0h1m6 0h1m6 0h1m3 0h1m3 0h1m3 0h1m1 0h1m1 0h2m1 0h1m1 0h2m8 0h2M97 48h1m6 0h1m1 0h1m1 0h1m1 0h1m8 0h3m5 0h1m6 0h1m5 0h1m2 0h1m2 0h1m4 0h2m4 0h1m2 0h1m1 0h1m1 0h1m4 0h1m1 0h1m2 0h1m1 0h1m1 0h3M94 49h1m6 0h1m1 0h2m3 0h1m8 0h1m1 0h2m5 0h1m1 0h2m4 0h1m7 0h1m3 0h1m2 0h3m14 0h1m1 0h1m2 0h4m2 0h1m1 0h1M93 50h1m5 0h1m1 0h1m16 0h1m4 0h1m2 0h1m3 0h1m4 0h1m4 0h1m1 0h2m1 0h1m1 0h1m4 0h1m11 0h1m2 0h2m1 0h1m1 0h1m2 0h2M100 51h1m3 0h1m5 0h1m5 0h2m9 0h2m13 0h2m1 0h4m4 0h1m9 0h1m9 0h1m1 0h1M99 52h3m6 0h1m10 0h1m3 0h2m4 0h1m15 0h1m1 0h1m24 0h6M100 53h2m1 0h2m7 0h1m12 0h1m1 0h3m9 0h2m3 0h2m4 0h1m22 0h3m1 0h1M99 54h1m2 0h1m1 0h1m5 0h2m2 0h1m4 0h1m7 0h1m6 0h2m2 0h2m3 0h1m1 0h2m4 0h1m21 0h1m1 0h1M97 55h3m11 0h1m4 0h1m12 0h1m4 0h1m2 0h1m1 0h2m1 0h1m2 0h2m3 0h1m4 0h1M98 56h1m1 0h1m20 0h1m2 0h1m3 0h1m3 0h1m4 0h1m1 0h1m2 0h2m6 0h1m5 0h1m11 0h1m1 0h1m1 0h2m3 0h1M96 57h1m5 0h1m33 0h1m2 0h1m1 0h3m4 0h1m3 0h1m1 0h1m1 0h2m4 0h1m1 0h1m2 0h1m4 0h3m1 0h1m1 0h1m14 0h1M96 58h1m1 0h1m1 0h1m5 0h1m3 0h1m6 0h1m17 0h1m3 0h3m9 0h1m3 0h2m3 0h1m6 0h3m1 0h1m1 0h2m1 0h1m1 0h2m14 0h2M99 59h4m18 0h1m7 0h1m2 0h3m1 0h5m1 0h1m14 0h1m1 0h1m3 0h1m4 0h2m1 0h1m3 0h1m19 0h1M54 60h1m59 0h1m2 0h1m1 0h1m10 0h1m3 0h1m3 0h1m2 0h1m1 0h1m8 0h1m3 0h1m2 0h1m3 0h4m1 0h1m1 0h1m5 0h4m18 0h1M53 61h1m44 0h1m4 0h1m36 0h1m6 0h1m1 0h4m4 0h1m1 0h1m4 0h1m7 0h1m1 0h2m1 0h1m16 0h2M55 62h1m47 0h1m29 0h1m7 0h1m10 0h2m3 0h1m8 0h1m4 0h2m1 0h2m6 0h1M53 63h1m1 0h1m39 0h1m16 0h1m6 0h1m16 0h1m3 0h2m17 0h1m5 0h2m1 0h1m2 0h1m2 0h2m5 0h8m4 0h1M93 64h1m6 0h1m1 0h1m4 0h1m5 0h1m3 0h1m10 0h1m9 0h1m1 0h1m8 0h3m9 0h1m5 0h1m1 0h3m2 0h3m2 0h1m3 0h3m1 0h1M113 65h1m23 0h2m8 0h1m3 0h2m2 0h1m1 0h1m1 0h1m9 0h1m3 0h1m2 0h2m1 0h1m1 0h1m1 0h4m2 0h1M53 66h1m46 0h1m1 0h1m4 0h1m1 0h1m14 0h1m11 0h1m1 0h1m3 0h1m4 0h1m3 0h1m23 0h4m2 0h3m7 0h1m3 0h1M131 67h1m4 0h1m1 0h2m9 0h4m6 0h1m3 0h1m1 0h1m9 0h3m2 0h2m1 0h2M123 68h2m13 0h2m1 0h1m3 0h3m22 0h1m8 0h2m1 0h2m1 0h1m5 0h1m5 0h1M101 69h2m16 0h1m19 0h3m2 0h1m1 0h2m3 0h1m1 0h1m4 0h1m3 0h5m3 0h1m4 0h1m7 0h1m2 0h1M94 70h1m7 0h1m33 0h4m2 0h1m2 0h2m5 0h1m1 0h1m1 0h1m2 0h1m1 0h1m2 0h2m10 0h2m1 0h3m1 0h3m5 0h5M49 71h1m8 0h1m34 0h1m2 0h1m5 0h1m1 0h1m17 0h1m16 0h2m1 0h1m16 0h1m3 0h1m2 0h1m9 0h2m1 0h3m2 0h1m1 0h1m1 0h2m3 0h1M52 72h1m49 0h1m33 0h1m8 0h2m6 0h2m4 0h1m5 0h1m2 0h1m7 0h1m2 0h6m1 0h1m7 0h1M60 73h1m37 0h1m1 0h1m21 0h2m20 0h1m2 0h3m8 0h1m5 0h1m3 0h1m9 0h6m5 0h1m2 0h1M93 74h2m5 0h1m23 0h1m20 0h2m2 0h1m3 0h1m5 0h1m4 0h3m10 0h1m2 0h3m1 0h1m4 0h1m1 0h1m4 0h1M108 75h1m34 0h1m9 0h1m4 0h1m2 0h1m2 0h1m1 0h2m1 0h1m9 0h2m3 0h1m4 0h1M102 76h1m39 0h2m2 0h1m2 0h1m1 0h1m3 0h2m8 0h1m4 0h1m4 0h1m1 0h7M133 77h1m14 0h1m2 0h1m2 0h1m1 0h2m1 0h1m4 0h2m8 0h1m3 0h4m1 0h1m1 0h3m1 0h4m1 0h1M49 78h1m6 0h1m48 0h1m24 0h1m7 0h1m2 0h2m2 0h1m6 0h1m2 0h1m1 0h1m2 0h1m1 0h3m2 0h1m2 0h1m3 0h5m1 0h2m2 0h2m1 0h1M54 79h1m42 0h1m26 0h1m14 0h1m2 0h1m8 0h1m2 0h2m1 0h2m2 0h2m2 0h1m3 0h1m6 0h2m4 0h1m3 0h1M125 80h1m21 0h1m4 0h1m2 0h1m7 0h1m5 0h1m3 0h4m5 0h1m7 0h1M59 81h1m74 0h1m9 0h1m8 0h1m2 0h2m5 0h1m2 0h1m3 0h1m3 0h4m2 0h1m4 0h1m2 0h2m1 0h1M100 82h1m33 0h1m24 0h1m2 0h6m3 0h1m2 0h1m4 0h1m1 0h1M57 83h1m42 0h2m26 0h2m2 0h1m26 0h1m2 0h2m2 0h2m1 0h1m5 0h2m5 0h1m2 0h1M56 84h1m1 0h1m42 0h1m12 0h1m13 0h1m7 0h1m22 0h2m1 0h2m3 0h1m2 0h1m3 0h1m2 0h1m1 0h1m2 0h1m1 0h1M53 85h1m2 0h1m2 0h1m41 0h1m25 0h1m2 0h1m32 0h2m3 0h1m1 0h1m1 0h1m8 0h1M59 86h1m2 0h1m4 0h1m32 0h1m23 0h1m9 0h1m27 0h1m2 0h1m1 0h1m1 0h1m3 0h1m3 0h1M58 87h1m2 0h1m39 0h1m6 0h1m14 0h1m2 0h1m6 0h1m28 0h1m3 0h2m7 0h1m1 0h1m1 0h1m3 0h1M123 88h1m13 0h1m24 0h1m2 0h1m1 0h1m5 0h2m1 0h1m1 0h1m1 0h1M60 89h1m4 0h1m34 0h1m6 0h1m28 0h1m25 0h2m3 0h1m1 0h2m6 0h2M53 90h1m26 0h1m79 0h1m1 0h1m4 0h2m1 0h1m1 0h1m1 0h2m3 0h1M65 91h1m11 0h1m1 0h1m9 0h1m14 0h1m3 0h1m51 0h1m5 0h1m1 0h1m1 0h5m1 0h1m1 0h1M70 92h1m89 0h1m4 0h2m1 0h2m4 0h1m2 0h3M164 93h1m1 0h1m1 0h1m1 0h2m2 0h3m1 0h1M67 94h1m27 0h1m65 0h1m1 0h2m1 0h2m1 0h2m6 0h1M64 95h1m2 0h2m1 0h1m89 0h3m3 0h6m6 0h1M72 96h1m83 0h1m1 0h6m3 0h3m1 0h1m1 0h1m2 0h1M72 97h1m22 0h1m61 0h2m4 0h1m1 0h1m2 0h2M79 98h1m72 0h1m2 0h1m5 0h3m1 0h2m1 0h1m2 0h1M38 99h1m31 0h1m83 0h1m3 0h1m1 0h2m1 0h2m1 0h2M38 100h1m58 0h1m50 0h3m1 0h2m5 0h3m3 0h3M75 101h2m17 0h1m55 0h1m1 0h1m1 0h1m7 0h1m1 0h3M38 102h1m37 0h1m75 0h1m4 0h1m2 0h1m4 0h3M38 103h1m115 0h1m4 0h2m2 0h1m1 0h1m1 0h1m2 0h1M39 104h1m104 0h1m6 0h1m1 0h2m1 0h3m1 0h1m3 0h6M43 105h1m99 0h1m2 0h4m2 0h5m4 0h1m2 0h5M40 106h1m100 0h1m2 0h1m3 0h2m1 0h2m1 0h3m2 0h2m1 0h2m1 0h4M138 107h1m5 0h1m3 0h1m1 0h1m2 0h1m2 0h2m1 0h7m1 0h1M34 108h1m107 0h2m1 0h1m3 0h3m4 0h1m2 0h1m2 0h2m1 0h1M79 109h1m60 0h2m2 0h1m2 0h1m2 0h3m3 0h2m1 0h1m1 0h1m2 0h1M31 110h1m80 0h1m27 0h1m1 0h1m1 0h1m2 0h5m2 0h1m2 0h1m2 0h1m2 0h2M35 111h1m66 0h1m33 0h1m2 0h2m2 0h1m2 0h2m4 0h1m1 0h1m1 0h4m1 0h1m1 0h1M32 112h1m67 0h1m36 0h1m7 0h1m1 0h1m1 0h2m1 0h2m1 0h2m4 0h1M31 113h1m17 0h1m8 0h1m76 0h2m5 0h4m3 0h1m1 0h1m4 0h2m1 0h2M33 114h1m2 0h1m10 0h1m10 0h1m80 0h2m1 0h4m2 0h5m1 0h1m1 0h3M29 115h2m9 0h1m38 0h1m29 0h1m23 0h1m1 0h1m6 0h3m1 0h1m1 0h4m1 0h1m1 0h3m2 0h1M29 116h1m9 0h1m5 0h3m12 0h1m17 0h1m1 0h1m49 0h1m11 0h1m1 0h9m2 0h1M43 117h1m9 0h1m36 0h2m8 0h1m28 0h6m1 0h3m3 0h1m2 0h1m1 0h3m1 0h5M89 118h1m9 0h1m11 0h1m17 0h2m6 0h2m5 0h6m2 0h2m1 0h1M89 119h1m2 0h1m12 0h1m1 0h1m3 0h1m13 0h1m6 0h1m4 0h5m1 0h2m5 0h3M40 120h2m46 0h1m8 0h1m8 0h1m15 0h1m2 0h1m8 0h1m2 0h3m2 0h1m1 0h1m1 0h1m4 0h2M40 121h1m15 0h1m31 0h1m36 0h1m12 0h2m1 0h2m1 0h4m1 0h1m1 0h1M33 122h1m18 0h1m7 0h1m5 0h1m23 0h1m43 0h1m2 0h7m1 0h3m1 0h4M56 123h1m34 0h1m8 0h1m7 0h1m10 0h1m4 0h1m6 0h1m2 0h2m4 0h1m3 0h1m1 0h4M40 124h1m11 0h1m34 0h1m23 0h1m7 0h1m10 0h1m1 0h1m5 0h1m3 0h1m1 0h2m1 0h1m1 0h1M28 125h1m4 0h1m43 0h1m8 0h1m32 0h1m3 0h1m3 0h1m3 0h1m2 0h2m1 0h3m5 0h1m1 0h2M36 126h1m10 0h1m1 0h1m56 0h1m8 0h1m1 0h1m7 0h1m3 0h1m1 0h2m2 0h2m1 0h2m1 0h3m1 0h1M34 127h1m2 0h1m21 0h1m7 0h1m34 0h1m11 0h1m2 0h1m9 0h1m1 0h1m1 0h7m2 0h4m4 0h1M33 128h1m2 0h1m10 0h1m5 0h1m8 0h1m47 0h1m1 0h1m4 0h3m1 0h1m2 0h2m2 0h7m1 0h2m4 0h3M35 129h1m43 0h1m18 0h1m2 0h1m2 0h1m9 0h2m4 0h2m2 0h1m3 0h1m3 0h1m2 0h5m2 0h2M43 130h1m7 0h1m6 0h1m1 0h2m49 0h1m4 0h1m4 0h1m2 0h1m2 0h3m2 0h1m1 0h3m1 0h1m1 0h4M30 131h1m5 0h1m78 0h3m2 0h5m3 0h1m1 0h1m4 0h5m1 0h1M28 132h1m6 0h1m12 0h1m7 0h1m1 0h1m4 0h2m7 0h1m2 0h1m29 0h1m10 0h1m15 0h2m2 0h4m1 0h1M36 133h3m4 0h2m2 0h1m59 0h1m8 0h2m4 0h1m6 0h3m2 0h2m2 0h1M33 134h4m1 0h3m2 0h1m3 0h1m11 0h2m2 0h2m6 0h1m16 0h1m1 0h1m17 0h1m9 0h1m1 0h4m4 0h1m2 0h3M30 135h1m1 0h1m1 0h1m1 0h1m7 0h1m29 0h1m31 0h2m5 0h2m1 0h1m3 0h2m1 0h1m3 0h2m2 0h2M31 136h1m8 0h3m1 0h3m19 0h2m2 0h1m2 0h1m12 0h1m15 0h2m4 0h1m2 0h1m3 0h1m7 0h1m3 0h1m1 0h1m2 0h1M32 137h1m2 0h1m2 0h2m1 0h1m2 0h1m8 0h1m16 0h1m2 0h1m11 0h1m5 0h1m22 0h6m3 0h2m3 0h1M30 138h1m6 0h1m7 0h1m25 0h1m14 0h1m5 0h1m2 0h1m6 0h1m12 0h1m1 0h1m1 0h1m10 0h1M32 139h1m1 0h1m2 0h4m1 0h1m5 0h2m7 0h2m4 0h2m1 0h1m9 0h1m9 0h1m7 0h2m2 0h1m3 0h1m8 0h1m8 0h1M30 140h1m4 0h3m8 0h1m1 0h1m14 0h2m6 0h3m2 0h1m10 0h1m5 0h1m2 0h1m1 0h3m6 0h1m2 0h4m1 0h1M35 141h1m7 0h1m1 0h1m1 0h1m2 0h1m12 0h2m6 0h1m4 0h1m1 0h2m2 0h1m1 0h11m1 0h4m1 0h1m5 0h1m2 0h1m2 0h1M35 142h2m6 0h2m20 0h2m13 0h8m2 0h1m4 0h7m3 0h1m7 0h1M35 143h1m1 0h1m3 0h2m2 0h2m8 0h1m10 0h1m2 0h1m16 0h1m11 0h1m2 0h4m1 0h1M40 144h2m1 0h1m1 0h1m22 0h2m32 0h2M43 145h1m8 0h2m6 0h1m7 0h1m2 0h1M39 146h1m1 0h2m12 0h1M41 147h2m12 0h1M43 148h2m4 0h1m1 0h1m3 0h1M43 149h1M45 150h2M45 151h1"/>
<path stroke="#471164" d="M156 2h1m1 0h1m2 0h1M155 3h1m13 0h1m1 0h1M154 4h1m2 0h1m4 0h1m3 0h1m7 0h1m7 0h1M151 5h1m11 0h2m1 0h1m3 0h2m1 0h2M148 6h1m2 0h1m17 0h1M147 7h1m3 0h1m6 0h1m10 0h1m7 0h1m1 0h1m3 0h1M145 8h1m1 0h1m1 0h1m4 0h1m22 0h1M145 9h1m1 0h1m1 0h1m4 0h1m6 0h1m3 0h1m2 0h1m7 0h1m1 0h1M143 10h1m10 0h1m7 0h1m15 0h3M150 11h2m5 0h1m1 0h1m1 0h1m6 0h1m3 0h1m8 0h1M156 12h2m5 0h1m5 0h1m12 0h1M163 13h2m2 0h1m2 0h1m6 0h1m8 0h1M152 14h1m2 0h1m1 0h1m3 0h1m2 0h3m6 0h1m5 0h1m1 0h2M139 15h1m5 0h1m3 0h1m2 0h1m2 0h1m2 0h2m6 0h1m10 0h1m6 0h1m1 0h1M143 16h1m1 0h1m3 0h1m1 0h1m3 0h1m10 0h1m18 0h1M147 17h1m4 0h1m4 0h1m8 0h1M146 18h2m2 0h1m1 0h1m1 0h1m2 0h1m16 0h1m1 0h1m6 0h1M139 19h1m3 0h1m2 0h1m5 0h1m3 0h1m1 0h1m1 0h1m5 0h2m5 0h1M140 20h1m1 0h1m3 0h2m3 0h1m8 0h1m17 0h1m9 0h1M134 21h1m9 0h1m1 0h1m10 0h1m6 0h1m5 0h1m13 0h1M138 22h1m11 0h1m5 0h1m3 0h1m7 0h1m2 0h1m4 0h1m3 0h1m3 0h2M134 23h1m16 0h1m5 0h1m1 0h1m8 0h1m6 0h1m4 0h1m2 0h2m3 0h1M137 24h1m2 0h1m2 0h2m20 0h2m1 0h1m1 0h1m3 0h1m3 0h1M133 25h1m1 0h1m10 0h1m7 0h2m1 0h1m4 0h1m2 0h2m3 0h1m1 0h1m2 0h1m1 0h1m4 0h2m1 0h2M132 26h3m8 0h2m4 0h1m1 0h2m3 0h1m2 0h1m4 0h1m7 0h1m4 0h1m7 0h1M128 27h1m3 0h1m8 0h1m16 0h1m4 0h1m2 0h1m2 0h1m9 0h1m8 0h2M127 28h2m1 0h1m5 0h1m14 0h1m3 0h2m4 0h1m1 0h2m22 0h1m1 0h1M125 29h3m3 0h1m4 0h1m9 0h2m1 0h1m1 0h3m2 0h1m3 0h2m12 0h1m11 0h1m1 0h1m1 0h1M150 30h1m7 0h1m2 0h1m5 0h2m2 0h1m8 0h1m3 0h1m3 0h2M123 31h1m5 0h1m3 0h1m1 0h1m3 0h1m8 0h1m4 0h2m2 0h1m8 0h1m14 0h3m3 0h2M124 32h1m3 0h3m3 0h1m2 0h1m5 0h1m10 0h1m3 0h2m4 0h2m5 0h1m1 0h2m3 0h2m4 0h1m1 0h1m4 0h1M119 33h2m8 0h1m10 0h1m12 0h1m7 0h2m2 0h1m20 0h2m2 0h2M118 34h1m11 0h1m2 0h1m4 0h2m1 0h1m4 0h1m5 0h1m4 0h1m7 0h2m7 0h1m9 0h1M119 35h1m3 0h1m2 0h1m1 0h1m1 0h1m9 0h1m7 0h1m1 0h1m8 0h2m3 0h1m4 0h1m5 0h1m1 0h1m1 0h1m3 0h1m8 0h1M117 36h1m2 0h1m2 0h1m5 0h1m1 0h1m2 0h1m3 0h1m1 0h1m11 0h1m4 0h1m4 0h1m17 0h2m6 0h1M130 37h1m1 0h1m2 0h1m2 0h1m4 0h1m3 0h1m2 0h1m11 0h1m4 0h1m2 0h1m12 0h1m3 0h1M118 38h1m4 0h1m11 0h1m1 0h1m4 0h1m8 0h1m15 0h1m6 0h1m5 0h1m3 0h1m2 0h1M89 39h1m27 0h2m1 0h1m1 0h1m3 0h1m4 0h6m2 0h1m1 0h1m3 0h1m2 0h1m10 0h2m2 0h1m1 0h2m1 0h1m5 0h1m2 0h1m2 0h1M117 40h1m2 0h1m4 0h2m2 0h2m10 0h1m11 0h1m2 0h1m3 0h1m7 0h2m7 0h2m7 0h2m2 0h1M93 41h1m23 0h2m2 0h1m2 0h3m7 0h1m2 0h3m4 0h1m1 0h1m1 0h2m6 0h1m3 0h2m3 0h1m9 0h1m4 0h1m10 0h1M90 42h1m37 0h2m1 0h1m3 0h1m2 0h2m6 0h1m3 0h1m2 0h1m1 0h2m4 0h1m1 0h2m4 0h1m2 0h1m10 0h1m1 0h1M89 43h1m1 0h1m24 0h1m3 0h1m6 0h2m2 0h1m10 0h2m4 0h1m2 0h2m2 0h1m2 0h1m5 0h1m9 0h1m4 0h2m1 0h1M89 44h2m2 0h1m15 0h1m1 0h1m2 0h1m4 0h2m2 0h3m5 0h1m1 0h1m1 0h1m1 0h1m5 0h1m2 0h1m5 0h2m4 0h1m31 0h3M111 45h4m1 0h1m1 0h1m7 0h1m2 0h1m2 0h1m2 0h2m8 0h1m1 0h1m3 0h1m1 0h1m1 0h1m9 0h1m6 0h1m2 0h1m1 0h1m1 0h1M95 46h1m14 0h1m2 0h1m7 0h2m5 0h1m9 0h1m1 0h1m1 0h1m7 0h1m16 0h1m7 0h1m2 0h1m10 0h1M95 47h1m1 0h1m4 0h1m9 0h1m2 0h1m18 0h1m4 0h2m1 0h2m4 0h1m1 0h1m18 0h2m1 0h1m4 0h1m1 0h1M100 48h1m1 0h1m2 0h1m1 0h1m8 0h3m10 0h1m1 0h1m4 0h1m7 0h2m4 0h1m3 0h1m10 0h1m2 0h1m3 0h1M93 49h1m1 0h1m2 0h1m1 0h1m1 0h1m2 0h1m10 0h1m5 0h1m4 0h1m5 0h1m6 0h2m6 0h1m7 0h1m2 0h2m3 0h1m10 0h1m4 0h1M90 50h1m3 0h2m4 0h1m2 0h2m27 0h1m8 0h1m2 0h1m6 0h1m13 0h1m7 0h1m4 0h2M93 51h1m5 0h1m1 0h3m1 0h1m1 0h1m3 0h2m6 0h1m9 0h1m11 0h1m9 0h1m8 0h3m2 0h1m6 0h1m3 0h1m1 0h1M94 52h2m7 0h1m3 0h1m1 0h1m2 0h2m1 0h1m2 0h1m2 0h1m4 0h1m4 0h1m11 0h2m1 0h1m9 0h1m4 0h2m2 0h1M92 53h1m1 0h1m3 0h1m7 0h1m4 0h1m1 0h1m3 0h2m4 0h2m1 0h1m7 0h1m2 0h1m3 0h1m1 0h1m2 0h1m2 0h1m2 0h1m4 0h2m3 0h1M98 54h1m6 0h1m6 0h1m9 0h1m1 0h2m5 0h1m1 0h1m6 0h1m26 0h2m3 0h1m3 0h2M100 55h1m9 0h1m2 0h1m5 0h3m4 0h1m1 0h1m1 0h1m4 0h1m8 0h1m2 0h3m6 0h2m4 0h1m1 0h1m2 0h1m2 0h1m1 0h2m1 0h2M49 56h1m47 0h1m1 0h1m16 0h1m8 0h1m1 0h1m24 0h1m13 0h1m4 0h1m3 0h2M101 57h1m10 0h1m4 0h1m4 0h1m3 0h1m1 0h1m11 0h1m8 0h2m2 0h1m1 0h1m14 0h1m6 0h1M105 58h1m5 0h1m18 0h1m7 0h1m3 0h1m6 0h1m2 0h1m5 0h1m4 0h2m12 0h1m18 0h1M49 59h1m65 0h1m1 0h1m6 0h2m9 0h1m12 0h3m3 0h1m10 0h2m5 0h2m3 0h1m1 0h1m12 0h3m4 0h1M101 60h2m3 0h1m11 0h1m7 0h1m1 0h2m7 0h1m15 0h2m3 0h1m3 0h1m4 0h1m3 0h2m2 0h1m20 0h2M55 61h1m1 0h1m37 0h1m30 0h1m4 0h1m2 0h1m1 0h1m4 0h1m2 0h2m14 0h3m7 0h1m2 0h1m2 0h1m3 0h1m12 0h1m2 0h1M50 62h1m7 0h1m34 0h1m1 0h1m6 0h1m7 0h1m18 0h2m7 0h1m1 0h1m14 0h1m13 0h1m6 0h1m1 0h1m13 0h1m2 0h1M51 63h2m4 0h1m34 0h1m3 0h1m21 0h1m9 0h1m1 0h1m1 0h1m1 0h1m15 0h1m12 0h1m6 0h1m6 0h1m2 0h1m14 0h1M50 64h1m63 0h1m11 0h1m25 0h1m3 0h2m4 0h1m2 0h2m6 0h1m6 0h3m3 0h1m1 0h1m9 0h1M103 65h1m4 0h1m3 0h1m5 0h1m3 0h1m8 0h1m8 0h2m7 0h1m6 0h1m9 0h3m9 0h1m1 0h1m6 0h1M106 66h1m1 0h1m11 0h1m5 0h1m1 0h1m15 0h1m4 0h2m1 0h1m19 0h1m1 0h1m4 0h2m3 0h1m7 0h3m2 0h1M48 67h1m10 0h1m40 0h1m4 0h1m12 0h1m4 0h2m2 0h2m6 0h1m9 0h1m8 0h1m1 0h1m13 0h2m1 0h2m3 0h1m3 0h1m7 0h2m2 0h1M63 68h1m30 0h1m3 0h1m2 0h1m2 0h1m25 0h1m5 0h1m3 0h1m7 0h1m4 0h3m1 0h2m3 0h1m1 0h5m5 0h1m15 0h1m1 0h1M62 69h1m31 0h2m4 0h1m7 0h2m7 0h1m9 0h2m2 0h1m3 0h1m2 0h1m6 0h1m6 0h1m2 0h1m1 0h1m3 0h1m10 0h2m5 0h1m2 0h1m9 0h1m2 0h1M56 70h1m36 0h1m23 0h1m5 0h1m16 0h2m11 0h1m4 0h1m14 0h3m6 0h1m4 0h2m7 0h1M77 71h1m3 0h1m13 0h1m4 0h1m2 0h1m10 0h1m1 0h1m20 0h1m5 0h1m2 0h1m3 0h1m9 0h2m2 0h1m2 0h2m1 0h1m2 0h1m4 0h1m6 0h1m1 0h1m6 0h2M101 72h1m2 0h2m4 0h1m26 0h3m9 0h3m3 0h1m7 0h2m7 0h1m4 0h1m7 0h1m10 0h1M57 73h1m1 0h1m69 0h1m11 0h1m3 0h1m4 0h1m3 0h1m5 0h1m4 0h1m4 0h2m2 0h1m11 0h2m6 0h1M53 74h1m78 0h1m1 0h1m1 0h1m7 0h1m2 0h2m2 0h2m1 0h1m14 0h2m1 0h2m2 0h1m1 0h2m6 0h1m1 0h1M60 75h1m1 0h1m30 0h1m30 0h1m17 0h1m8 0h1m2 0h1m20 0h1m2 0h1m2 0h3m1 0h1m7 0h1M91 76h1m4 0h1m1 0h1m8 0h1m31 0h1m14 0h1m2 0h1m4 0h3m1 0h1m1 0h1m4 0h1m11 0h1m1 0h1m1 0h1m6 0h1M56 77h1m1 0h1m4 0h1m16 0h1m12 0h2m7 0h1m2 0h1m23 0h1m11 0h2m23 0h1m2 0h1m7 0h1m6 0h1m8 0h1M63 78h1m1 0h1m16 0h1m14 0h1m28 0h1m8 0h1m4 0h1m6 0h1m2 0h2m6 0h1m20 0h1m6 0h1m4 0h3M53 79h1m1 0h1m4 0h1m2 0h1m1 0h1m34 0h2m3 0h1m4 0h1m21 0h1m8 0h1m14 0h1m2 0h1m8 0h1m2 0h2m6 0h1m10 0h2M47 80h1m2 0h1m45 0h1m3 0h1m3 0h1m24 0h2m2 0h1m5 0h1m1 0h1m11 0h2m3 0h1m3 0h1m4 0h1m3 0h1m5 0h3m1 0h1m1 0h1m4 0h2m1 0h1M49 81h1m7 0h1m41 0h1m2 0h1m34 0h3m3 0h1m1 0h1m12 0h3m7 0h1m2 0h1m1 0h1m4 0h1m2 0h2M56 82h2m6 0h1m30 0h1m2 0h1m3 0h1m28 0h2m2 0h2m6 0h1m17 0h1m7 0h1m5 0h3m2 0h1m1 0h1m1 0h1m1 0h1M55 83h2m3 0h2m33 0h1m1 0h1m9 0h1m22 0h2m3 0h2m21 0h1m1 0h2m3 0h1m4 0h1m1 0h1m1 0h1m4 0h2m5 0h1M57 84h1m1 0h1m1 0h2m3 0h2m29 0h1m9 0h1m16 0h1m7 0h1m4 0h1m23 0h1m4 0h1m1 0h2m2 0h1m2 0h2m3 0h2m1 0h1M57 85h1m3 0h1m4 0h1m40 0h1m1 0h1m12 0h1m9 0h1m1 0h1m2 0h1m1 0h1m21 0h1m3 0h1m3 0h1m4 0h2m1 0h1m2 0h1m2 0h1m1 0h1M52 86h1m1 0h1m29 0h1m24 0h1m18 0h1m6 0h1m30 0h1m1 0h1m11 0h1M106 87h1m17 0h1m2 0h1m1 0h1m5 0h1m1 0h1m34 0h3M47 88h2m5 0h1m50 0h3m1 0h1m26 0h1m27 0h1m10 0h1m1 0h1M45 89h1m8 0h1m6 0h1m6 0h1m11 0h1m18 0h1m6 0h1m28 0h1m25 0h1m6 0h1m6 0h1M65 90h1m7 0h1m1 0h1m27 0h1m7 0h1m49 0h1m2 0h1m4 0h1m6 0h1M55 91h1m4 0h1m3 0h1m1 0h1m40 0h1m18 0h1m35 0h3m10 0h1m4 0h1M48 92h1m3 0h1m13 0h1m14 0h1m2 0h1m7 0h1m2 0h1m5 0h3m57 0h2m4 0h1m2 0h1m1 0h2m2 0h1M53 93h1m21 0h2m30 0h1m15 0h1m7 0h1m27 0h1m7 0h1m1 0h1M44 94h1m1 0h1m19 0h1m3 0h2m20 0h1m3 0h1m6 0h1m55 0h1m2 0h1m2 0h1m6 0h1m1 0h1m3 0h1M72 95h1m1 0h1m3 0h1m1 0h1m27 0h1M18 96h1m46 0h1m9 0h1m19 0h2m11 0h1m1 0h2m23 0h1m28 0h1m5 0h1M38 97h1m2 0h1m29 0h1m1 0h1m15 0h1m20 0h1m45 0h1m2 0h1m2 0h1m1 0h1m2 0h1m2 0h1m1 0h1m3 0h1M45 98h1m21 0h1m6 0h2m5 0h1m3 0h1m7 0h1m1 0h1m2 0h1m54 0h2m5 0h1m3 0h1m2 0h1M77 99h1m1 0h1m71 0h3m1 0h1m3 0h1m2 0h1m5 0h1m2 0h1m1 0h1M39 100h1m28 0h1m1 0h1m3 0h1m20 0h1m2 0h1m65 0h1m3 0h2M38 101h1m19 0h1m4 0h1m18 0h1m15 0h1m56 0h1m2 0h1m2 0h1m6 0h1m3 0h1M39 102h1m21 0h1m13 0h1m2 0h1m3 0h1m1 0h1m62 0h1m3 0h1m1 0h1m7 0h1m8 0h2M92 103h1m8 0h1m44 0h1m6 0h1m4 0h1m5 0h1M69 104h1m34 0h1m5 0h1m30 0h2m3 0h1m8 0h1m14 0h1M41 105h1m63 0h1m30 0h1m8 0h1m4 0h1m7 0h1m1 0h1m1 0h2M41 106h1m2 0h1m25 0h1m15 0h1m5 0h1m15 0h1m33 0h2m6 0h1m10 0h1M34 107h2m1 0h1m1 0h2m4 0h1m23 0h1m4 0h1m12 0h1m15 0h1m45 0h1m1 0h2m5 0h1m9 0h1M35 108h1m29 0h1m27 0h1m18 0h1m26 0h1m14 0h2m4 0h2m2 0h1M31 109h2m50 0h1m3 0h1m6 0h1m7 0h2m7 0h1m1 0h1m10 0h1m7 0h1m12 0h1m3 0h1m8 0h1m1 0h1m1 0h1M33 110h1m30 0h1m8 0h1m1 0h1m18 0h1m38 0h1m5 0h1m1 0h1m4 0h1m5 0h2m4 0h2M31 111h1m8 0h1m5 0h1m9 0h1m2 0h1m17 0h1m16 0h1m36 0h1m5 0h1m6 0h1m4 0h1m1 0h1m1 0h1m1 0h1m6 0h1m2 0h1M44 112h1m12 0h1m18 0h1m2 0h1m14 0h1m13 0h1m29 0h2m8 0h1m9 0h1m1 0h1M38 113h1m22 0h1m14 0h2m7 0h1m52 0h1m14 0h1m1 0h1M29 114h1m1 0h2m4 0h1m2 0h1m19 0h1m15 0h1m58 0h1m2 0h1m2 0h1m11 0h1m1 0h1M34 115h1m11 0h1m9 0h2m19 0h1m20 0h1m1 0h1m1 0h1m9 0h1m4 0h1m14 0h1m4 0h1m2 0h2m5 0h1m10 0h1M49 116h2m7 0h1m2 0h1m8 0h1m27 0h1m1 0h1m1 0h1m29 0h2m1 0h1m18 0h1M30 117h1m14 0h1m1 0h1m9 0h1m40 0h1m2 0h1m39 0h1M47 118h1m10 0h1m15 0h1m4 0h1m8 0h1m7 0h1m1 0h1m1 0h1m5 0h1m3 0h1m4 0h1m2 0h1m15 0h1m6 0h3m6 0h2M42 119h1m35 0h2m10 0h1m5 0h1m13 0h1m8 0h1m13 0h1m8 0h1m2 0h1m3 0h1m3 0h1M29 120h1m6 0h1m19 0h1m2 0h1m22 0h1m8 0h1m4 0h1m5 0h1m27 0h2m8 0h2m1 0h1m1 0h1M28 121h1m9 0h2m18 0h1m10 0h1m6 0h2m7 0h1m1 0h1m2 0h3m10 0h1m3 0h1m9 0h1m6 0h1m9 0h1m5 0h1m2 0h1m4 0h1m3 0h1m1 0h1M41 122h1m6 0h1m6 0h1m22 0h1m8 0h1m12 0h1m4 0h1m1 0h1m1 0h1m13 0h1m1 0h1m4 0h1m1 0h1M47 123h1m3 0h1m3 0h1m2 0h1m1 0h1m3 0h1m25 0h1m1 0h2m4 0h1m5 0h1m7 0h1m2 0h4m2 0h1m6 0h1m3 0h1m3 0h2m1 0h1m2 0h2m1 0h1m4 0h1M28 124h1m4 0h1m9 0h1m2 0h3m2 0h1m21 0h1m16 0h1m2 0h1m3 0h1m11 0h1m6 0h1m1 0h1m3 0h1m3 0h1m2 0h1m1 0h1m3 0h1m1 0h1m8 0h1m1 0h1m1 0h1M34 125h1m27 0h1m11 0h1m18 0h1m10 0h1m2 0h1m3 0h1m14 0h1m2 0h2m5 0h1m7 0h1m4 0h1M35 126h1m1 0h1m1 0h1m8 0h1m17 0h1m17 0h1m24 0h1m3 0h2m3 0h1m5 0h1m3 0h1m5 0h1m5 0h1m3 0h1m1 0h3M30 127h1m5 0h1m3 0h2m1 0h1m47 0h1m6 0h1m6 0h1m1 0h1m3 0h1m1 0h1m1 0h1m4 0h1m2 0h2m1 0h1m3 0h1m14 0h1M35 128h1m5 0h1m15 0h1m20 0h1m4 0h1m13 0h1m11 0h1m6 0h1m5 0h1m12 0h1m2 0h1m1 0h1M33 129h1m2 0h1m7 0h1m2 0h2m19 0h1m33 0h2m12 0h1m1 0h1m6 0h2m2 0h1m3 0h2m6 0h1M27 130h1m4 0h1m2 0h1m6 0h1m2 0h1m10 0h1m8 0h1m31 0h1m11 0h1m4 0h1m5 0h1m4 0h2m3 0h1m2 0h1M38 131h1m3 0h1m7 0h2m3 0h1m2 0h1m36 0h2m8 0h1m2 0h1m18 0h1M46 132h1m12 0h2m1 0h1m2 0h1m8 0h1m33 0h1m6 0h1m4 0h2m4 0h2m1 0h2M35 133h1m6 0h1m2 0h1m12 0h1m1 0h1m3 0h3m3 0h1m1 0h1m15 0h1m5 0h1m6 0h1m16 0h1m4 0h3m6 0h1m3 0h1m2 0h1M37 134h1m3 0h1m12 0h1m12 0h2m1 0h1m5 0h1m4 0h1m12 0h1m11 0h1m22 0h1M26 135h1m2 0h1m3 0h1m3 0h1m1 0h1m5 0h1m4 0h1m7 0h1m7 0h1m19 0h2m1 0h1m27 0h1m1 0h1m4 0h1m1 0h1m2 0h1M32 136h1m4 0h2m4 0h1m4 0h1m6 0h1m8 0h1m22 0h1m2 0h1m4 0h3m6 0h1m11 0h4m13 0h1M31 137h1m1 0h1m3 0h1m4 0h1m3 0h1m1 0h1m3 0h1m9 0h1m3 0h1m5 0h1m13 0h1m6 0h4m14 0h1m1 0h1m6 0h1m1 0h1M36 138h1m1 0h1m1 0h1m3 0h1m8 0h1m7 0h1m2 0h1m4 0h1m6 0h3m8 0h1m6 0h1m4 0h1m14 0h1m1 0h1m10 0h2M31 139h1m3 0h2m6 0h2m8 0h1m17 0h1m6 0h1m2 0h1m5 0h1m9 0h1m1 0h2m5 0h2m5 0h1m1 0h1m2 0h1M31 140h3m4 0h1m11 0h2m1 0h1m8 0h1m6 0h1m7 0h1m4 0h1m1 0h1m1 0h1m1 0h3m3 0h1M32 141h1m1 0h1m1 0h1m2 0h1m1 0h1m7 0h1m16 0h1m2 0h1m7 0h1m2 0h1m14 0h1m9 0h1m5 0h2M33 142h1m4 0h1m6 0h1m4 0h1m1 0h2m9 0h1m3 0h4m2 0h1m5 0h1m11 0h2m9 0h2m3 0h1m4 0h1M40 143h1m2 0h2m4 0h1m12 0h1m2 0h1m17 0h1m4 0h1m10 0h1M38 144h1m3 0h1m5 0h1m1 0h1m3 0h1m11 0h1m3 0h1M41 145h1m4 0h2m1 0h2m3 0h3m47 0h1M44 146h2m3 0h1m8 0h1M43 147h1m2 0h1M42 148h1m2 0h2m3 0h1m3 0h1M41 149h1m3 0h1M41 150h1m2 0h1m4 0h1M44 151h1m1 0h1"/>
<path stroke="#482071" d="M164 1h2M163 2h1m2 0h1M159 4h1m7 0h2m1 0h1m9 0h1M175 5h2m2 0h1M155 6h1m4 0h1m4 0h1m6 0h3M148 7h1m12 0h1M150 8h1m14 0h1m2 0h1m2 0h1m3 0h1M153 9h1m2 0h1m24 0h1M152 10h1m2 0h1m21 0h1M163 11h1m1 0h1m3 0h1M152 12h2m14 0h1m15 0h1M147 13h1M148 14h1m29 0h1M168 15h1M176 16h1m3 0h1M156 17h1m1 0h1m11 0h1m1 0h1m1 0h1M139 18h1m3 0h1m9 0h1m13 0h1m2 0h1M148 19h1m8 0h1m20 0h1m1 0h1M158 20h1M138 21h1m6 0h1m8 0h1m6 0h1m11 0h1m5 0h1m2 0h1M140 22h1m17 0h1m14 0h1m15 0h1M146 23h1m8 0h1m26 0h1M134 24h1m6 0h1m10 0h1m7 0h1m22 0h1M145 25h1m27 0h1m2 0h1m10 0h1M157 26h1m24 0h2M135 27h1m13 0h1m7 0h1m9 0h2M133 28h1m19 0h1m3 0h1m8 0h1m2 0h2m15 0h1M132 29h1m15 0h1m17 0h1m2 0h1M127 30h1m4 0h1m4 0h1m16 0h1m11 0h1m15 0h1M145 31h1m14 0h1m2 0h2m15 0h1M149 32h1m7 0h1m9 0h1m7 0h1m13 0h1M135 33h2m17 0h2m21 0h1M119 34h1m14 0h1m1 0h1m13 0h1m8 0h1m2 0h2m5 0h1m10 0h1m2 0h1m8 0h1M127 35h1m5 0h1m1 0h2m1 0h1m18 0h1m22 0h2M139 36h1m19 0h1m10 0h1m16 0h1M128 37h1m2 0h1m1 0h1m8 0h1m28 0h1m16 0h1M128 38h1m9 0h1m13 0h1m5 0h1m6 0h1m20 0h1M88 39h1m32 0h1m18 0h1m5 0h1m6 0h1m1 0h1m17 0h1M88 40h1m34 0h1m10 0h1m16 0h1m3 0h1m1 0h1m9 0h1m11 0h1m1 0h1M83 41h1m32 0h1m2 0h2m31 0h1m14 0h1m8 0h1M83 42h1m38 0h1m35 0h1m11 0h1m20 0h1M88 43h1m5 0h1m2 0h1m25 0h1m8 0h1m6 0h1m17 0h1m5 0h1m1 0h1m4 0h1m4 0h4m7 0h1m4 0h2M100 44h2m8 0h1m18 0h1m8 0h1m6 0h1m10 0h1m4 0h1m6 0h1m9 0h1m3 0h1M90 45h1m4 0h1m31 0h1m2 0h1m13 0h1m3 0h2m14 0h1m1 0h1m15 0h1m8 0h1M93 46h1m6 0h1m1 0h1m11 0h1m3 0h1m4 0h1m2 0h2m9 0h1m7 0h1m13 0h1m8 0h1m8 0h1M88 47h1m24 0h1m4 0h1m5 0h1m3 0h1m9 0h1m10 0h1m1 0h1m16 0h1m5 0h1M92 48h1m1 0h1m18 0h1m16 0h1m1 0h1m2 0h1m23 0h1m15 0h1m5 0h1M89 49h1m2 0h1m32 0h1m21 0h1m13 0h2M91 50h1m5 0h1m8 0h1m2 0h3m16 0h1m2 0h1m7 0h1m6 0h1m6 0h1m6 0h1m2 0h1M91 51h1m3 0h1m13 0h1m15 0h1m10 0h1m2 0h2m8 0h1m24 0h1m2 0h1M102 52h1m1 0h1m5 0h1m6 0h1m2 0h1m6 0h1m2 0h1m8 0h1m20 0h1M110 53h1m3 0h1m1 0h1m14 0h1m36 0h1M93 54h1m3 0h1m2 0h1m5 0h1m6 0h1m6 0h1m11 0h1m4 0h1m3 0h1m2 0h1m2 0h1m1 0h2m5 0h1M96 55h1m12 0h1m7 0h1m6 0h1m43 0h1m5 0h1M48 56h1m82 0h1m14 0h1m2 0h1m1 0h1m3 0h1m2 0h1m3 0h1m11 0h1M98 57h2m5 0h1m2 0h1m5 0h1m14 0h1m8 0h1m7 0h2m3 0h1m16 0h1M61 58h2m2 0h1m43 0h1m18 0h1m8 0h1m5 0h1m1 0h1m8 0h1m4 0h1M61 59h1m61 0h1m2 0h1m3 0h1m16 0h1m3 0h2m3 0h1m10 0h1m2 0h1m5 0h1m20 0h1M48 60h1m44 0h1m2 0h1m7 0h2m7 0h1m2 0h1m10 0h1m20 0h2m11 0h1m7 0h1m24 0h1M60 61h1m16 0h1m6 0h2m6 0h1m6 0h1m1 0h1m13 0h1m1 0h1m19 0h1m1 0h1m2 0h1m23 0h1m1 0h1m23 0h1M57 62h1m19 0h2m1 0h1m15 0h1m38 0h2m19 0h1m6 0h1m1 0h1M49 63h2m26 0h2m1 0h1m1 0h1m1 0h4m1 0h2m6 0h1m6 0h1m6 0h1m8 0h1m4 0h1m12 0h1m4 0h1m7 0h1m1 0h1m15 0h1m2 0h2m18 0h1m1 0h1M58 64h1m20 0h6m7 0h1m2 0h1m5 0h1m4 0h1m15 0h1m1 0h1m11 0h1m2 0h1m2 0h1m5 0h1m10 0h2m2 0h2m3 0h1m3 0h1m16 0h1M59 65h2m18 0h5m8 0h1m3 0h1m3 0h1m3 0h1m5 0h1m3 0h1m8 0h1m10 0h1m4 0h1m18 0h1m1 0h1m10 0h1m3 0h1m14 0h1m4 0h1M58 66h1m18 0h1m1 0h2m1 0h3m1 0h1m2 0h1m4 0h1m10 0h1m34 0h1m12 0h1m3 0h1m1 0h2m3 0h1m5 0h1M61 67h1m1 0h1m1 0h1m11 0h6m7 0h1m4 0h2m2 0h1m3 0h1m22 0h1m5 0h1m7 0h1m2 0h1m4 0h1m6 0h1m8 0h1m4 0h1m15 0h1m1 0h1m5 0h1M49 68h1m2 0h1m26 0h3m1 0h2m3 0h1m3 0h1m18 0h1m20 0h1m4 0h1m35 0h1m1 0h1M58 69h1m1 0h1m17 0h2m1 0h5m6 0h1m3 0h1m32 0h1m4 0h1m7 0h1m24 0h1m6 0h1m1 0h1m1 0h1m14 0h1M51 70h1m25 0h1m1 0h2m2 0h2m1 0h1m37 0h1m19 0h1m6 0h1m11 0h1m2 0h1m5 0h1m13 0h1M63 71h1m10 0h1m3 0h1m1 0h1m1 0h1m1 0h2m4 0h1m8 0h1m53 0h1m2 0h2m7 0h1m5 0h2m1 0h1m7 0h2m6 0h1M50 72h1m14 0h1m8 0h1m3 0h5m1 0h1m43 0h1m4 0h1m26 0h2m4 0h1m2 0h1m20 0h1M63 73h1m15 0h4m1 0h1m8 0h1m2 0h1m4 0h1m16 0h1m6 0h1m10 0h1m2 0h1m17 0h1m3 0h3m2 0h1m17 0h1m12 0h1M60 74h3m13 0h1m2 0h4m2 0h2m12 0h1m5 0h1m2 0h1m1 0h1m26 0h1m25 0h1m3 0h2m18 0h1M12 75h1m42 0h1m7 0h1m11 0h10m7 0h1m52 0h1m27 0h1m3 0h1m9 0h1M62 76h1m14 0h1m3 0h1m1 0h3m61 0h1m11 0h2m8 0h1m18 0h1M52 77h1m1 0h1m7 0h1m1 0h1m11 0h4m1 0h2m6 0h2m32 0h1m2 0h1m16 0h1m5 0h1m5 0h1m12 0h1m2 0h1m1 0h1m2 0h1m18 0h1M59 78h1m16 0h6m1 0h2m6 0h1m1 0h1m7 0h2m8 0h1m15 0h1m3 0h1m11 0h1m9 0h1m29 0h1M62 79h1m12 0h1m2 0h4m1 0h2m1 0h1m1 0h1m4 0h1m1 0h1m8 0h1m24 0h1m36 0h1m3 0h1m4 0h1m11 0h3M52 80h1m12 0h1m14 0h8m2 0h2m6 0h1m22 0h1m21 0h2m11 0h1m7 0h1m1 0h1m3 0h1m21 0h1M10 81h1m37 0h1m21 0h1m2 0h1m5 0h1m2 0h1m3 0h1m1 0h1m7 0h1m3 0h1m30 0h1m10 0h1m21 0h1m2 0h1m16 0h1m5 0h1M16 82h1m31 0h1m9 0h1m21 0h3m50 0h1m23 0h2m13 0h1m16 0h1M69 83h2m8 0h1m1 0h1m20 0h1m3 0h1m26 0h1m30 0h1m3 0h1m2 0h1m5 0h1m5 0h1M70 84h1m9 0h2m53 0h1m2 0h1M58 85h1m20 0h1m5 0h1m22 0h1m3 0h1m18 0h1m4 0h1m25 0h1M28 86h1m19 0h1m11 0h1m7 0h1m1 0h2m8 0h2m3 0h1m9 0h1m5 0h2m3 0h1m1 0h1m17 0h1m3 0h2m39 0h1m2 0h2M36 87h1m32 0h1m11 0h1m9 0h1m19 0h1m20 0h1m30 0h1m12 0h1m1 0h1M14 88h1m47 0h1m3 0h1m10 0h1m9 0h1m6 0h1m4 0h1m3 0h1m20 0h1m44 0h1m2 0h1M20 89h1m7 0h1m18 0h1m1 0h1m3 0h1m56 0h1m1 0h1m52 0h1m13 0h1M33 90h1m30 0h1m11 0h1m29 0h1m25 0h1m30 0h1m7 0h1m1 0h1M25 91h1m32 0h1m40 0h1m31 0h1m33 0h1m11 0h1M24 92h1m38 0h1m21 0h1m14 0h1m27 0h1m1 0h1m32 0h1m7 0h1m3 0h1M103 93h1m6 0h1m49 0h3m2 0h1m13 0h1M76 94h1m4 0h1m2 0h1m75 0h1m7 0h1m10 0h1M69 95h1m17 0h1m71 0h1m14 0h1m1 0h2M30 96h1m6 0h1m39 0h1m4 0h1M23 97h1m15 0h1m26 0h1m18 0h1m75 0h1M18 98h1m1 0h1m17 0h1m32 0h2m5 0h1m17 0h1m60 0h3m16 0h1M23 99h1m7 0h1m11 0h1m27 0h1m23 0h3m1 0h2m48 0h1m7 0h1m7 0h1M25 100h1m10 0h1m42 0h1m8 0h1m65 0h2m2 0h1m4 0h1M30 101h1m13 0h1m40 0h1m6 0h2m34 0h1m28 0h1m5 0h1m3 0h1M33 102h1m39 0h1m13 0h1m61 0h1m8 0h1m3 0h2M34 103h1m6 0h1m28 0h1m1 0h1m3 0h1m4 0h1m26 0h1m46 0h1m1 0h1m10 0h1M31 104h1m5 0h1m30 0h1m14 0h1m48 0h1m10 0h1m3 0h1m13 0h1m1 0h1M44 105h1m89 0h1m22 0h1m1 0h1M42 106h2m37 0h1m27 0h1m35 0h1m11 0h1M43 107h1m38 0h1m49 0h1m3 0h1m8 0h1m8 0h1m14 0h1M33 108h1m11 0h1m38 0h1m48 0h1m7 0h1m6 0h1m8 0h2m7 0h1m1 0h1M36 109h1m27 0h2m32 0h1m1 0h1m3 0h1m49 0h1M32 110h1m5 0h1m48 0h1m4 0h1m6 0h1m17 0h1m27 0h1m15 0h1M36 111h1m5 0h1m46 0h1m13 0h1m29 0h1m8 0h1m2 0h1M37 112h1m20 0h1m39 0h1m2 0h1m28 0h1m3 0h1m1 0h1m6 0h1m19 0h2M33 113h1m28 0h1m2 0h1m73 0h1m1 0h1m10 0h1M30 114h1m4 0h1m54 0h1m7 0h1m2 0h1m3 0h1m10 0h1m11 0h1m5 0h1m11 0h1m12 0h2M36 115h1m39 0h1m12 0h1m26 0h1m7 0h1m4 0h1m1 0h1m2 0h1m3 0h1m13 0h1M48 116h1m4 0h1m11 0h1m17 0h1m15 0h1m11 0h1m41 0h1m2 0h1M59 117h2m13 0h1m6 0h1m1 0h1m5 0h1m6 0h1m2 0h1m4 0h1m6 0h1m1 0h1m11 0h1m17 0h2m5 0h1M30 118h1m7 0h1m45 0h1m12 0h1m3 0h1m11 0h1m3 0h1m14 0h1m3 0h1m17 0h1M36 119h1m3 0h1m6 0h2m10 0h1m20 0h1m2 0h1m11 0h1m1 0h1m14 0h1m4 0h1m30 0h1M45 120h1m8 0h1m2 0h1m5 0h1m22 0h1m2 0h1m19 0h1m18 0h1m6 0h1m12 0h1M29 121h1m4 0h1m18 0h1m1 0h1m11 0h1m12 0h1m1 0h1m3 0h1m10 0h1m6 0h2m10 0h1m2 0h1m7 0h1m5 0h1m1 0h1m17 0h1M62 122h1m2 0h1m1 0h2m17 0h1m30 0h2m3 0h1m3 0h1m1 0h1m6 0h1m12 0h1M37 123h1m11 0h2m6 0h1m3 0h1m1 0h1m21 0h1m20 0h1m7 0h1m10 0h1m3 0h1m8 0h1M30 124h1m3 0h1m15 0h1m9 0h1m17 0h1m17 0h1m11 0h1m3 0h1m8 0h1m6 0h1m5 0h1m5 0h2M48 125h1m6 0h1m7 0h1m2 0h1m33 0h1m23 0h1m7 0h1m8 0h1M34 126h1m11 0h1m7 0h1m3 0h1m17 0h1m12 0h1m43 0h1m3 0h1M46 127h1m2 0h1m3 0h1m1 0h1m8 0h1m3 0h1m34 0h1m21 0h1m13 0h1M30 128h1m7 0h2m25 0h1m14 0h1m17 0h1M23 129h1m1 0h1m11 0h1m3 0h2m7 0h1m2 0h1m6 0h1m1 0h1m3 0h1m11 0h1m5 0h1m12 0h1m13 0h1m10 0h1m4 0h1M23 130h1m9 0h1m4 0h1m5 0h1m18 0h1m29 0h1m2 0h1M28 131h1m34 0h1m42 0h1m19 0h1m4 0h1m1 0h1m6 0h1M36 132h1m15 0h1m15 0h1m4 0h1m32 0h1m4 0h3m4 0h1m4 0h3m9 0h1m4 0h1M25 133h1m23 0h1m11 0h1m6 0h1m4 0h1m16 0h1m4 0h1m44 0h1M27 134h1m20 0h1m3 0h1m12 0h1m17 0h1m8 0h1m2 0h1m1 0h1m16 0h1m4 0h1m4 0h1m2 0h1m2 0h1m5 0h1M41 135h2m10 0h1m5 0h1m31 0h1m11 0h1m14 0h1m11 0h1M30 136h1m27 0h1m29 0h1m31 0h1m1 0h1m8 0h1M36 137h1m10 0h1m1 0h2m8 0h1m4 0h1m2 0h1m12 0h1m2 0h1m42 0h1M31 138h1m3 0h1m3 0h1m6 0h1m2 0h1m22 0h2m1 0h1m3 0h2m12 0h1m9 0h1m1 0h1m15 0h1m2 0h2M46 139h1m7 0h1m10 0h1m2 0h1m27 0h1m22 0h1m2 0h2M45 140h1m1 0h1m27 0h1m5 0h1m1 0h1m1 0h1m5 0h1m9 0h1m12 0h1M33 141h1m6 0h1m5 0h1m1 0h1m23 0h1m31 0h1m3 0h1M32 142h1m13 0h1m2 0h1m14 0h1m39 0h1m1 0h1M57 143h1m5 0h1m10 0h1M49 144h1m14 0h2m1 0h1m37 0h1M42 145h1m14 0h1m4 0h1m40 0h1M40 146h1M44 147h2m7 0h2m1 0h1m3 0h1m1 0h1M40 148h2M44 149h1m1 0h1M47 150h1M45 152h1m1 0h1"/>
<path stroke="#472E7C" d="M179 3h1M162 6h1m21 0h1M157 7h1M148 8h1m7 0h1M148 9h1M157 10h1m7 0h1m18 0h1M162 12h1M148 13h1m3 0h1m9 0h1M153 14h2m14 0h1m10 0h1M142 15h1m8 0h1m2 0h1m20 0h2M181 16h1M168 17h1M147 19h1m29 0h1m1 0h1m4 0h1M138 20h1m2 0h1m26 0h1m5 0h1m10 0h2M131 22h1m5 0h1m17 0h1M158 23h1m1 0h1m16 0h1M139 24h1m10 0h1m26 0h1m6 0h1M188 25h1M129 26h1m6 0h1m4 0h1M139 27h1M140 28h1m30 0h1m7 0h2M137 29h1m19 0h1m31 0h1M136 30h1m22 0h1m25 0h1M136 31h1m9 0h1m2 0h1m17 0h1m1 0h1M120 32h1m15 0h1M145 33h1m2 0h1m21 0h1M151 34h1m2 0h1m5 0h1m14 0h1m6 0h1m4 0h1m3 0h1M129 35h1m1 0h1m20 0h1M141 36h1m9 0h1M158 37h1m2 0h1m15 0h1m3 0h1M119 38h1m2 0h1m8 0h1m24 0h2m5 0h1m28 0h1M85 39h1m64 0h1m5 0h1M84 40h1m4 0h1m2 0h1m28 0h1m10 0h1m30 0h1m1 0h1m10 0h1M90 41h1m75 0h1m4 0h1M82 42h1m4 0h1m1 0h1m35 0h1m33 0h1M82 43h1m62 0h1m10 0h1M121 44h1m6 0h1m35 0h1m10 0h1M87 45h2m5 0h1m2 0h1m27 0h1m7 0h1m20 0h1m4 0h1m3 0h1m4 0h1m9 0h1M88 46h1m10 0h1m1 0h1m15 0h1m7 0h1m6 0h1m18 0h1m5 0h1m16 0h1M94 47h1m10 0h1m16 0h1m13 0h1M58 48h1m30 0h1m3 0h1m2 0h1m25 0h1m2 0h1m44 0h1m2 0h1m3 0h1M88 49h1m18 0h1m2 0h1m7 0h1m2 0h1m8 0h1m14 0h1m6 0h1M98 50h1m8 0h2m6 0h1m5 0h1m3 0h1m11 0h1m19 0h1m8 0h1M92 51h1m13 0h1m16 0h1m8 0h1m1 0h1m3 0h1m27 0h1m2 0h1m1 0h1M88 52h2m6 0h1m9 0h1m4 0h1m24 0h1m4 0h1m6 0h1m29 0h1M73 53h1m14 0h2m3 0h1m8 0h1m16 0h1m12 0h1m9 0h1m12 0h1m5 0h1m14 0h1M74 54h1m16 0h1m16 0h1m17 0h1M89 55h1m2 0h1m25 0h1m4 0h1m3 0h1m4 0h1m5 0h1m15 0h1M91 56h1m20 0h1m5 0h1m7 0h1m14 0h1m3 0h1m7 0h1m3 0h1m9 0h1M48 57h1m3 0h1m6 0h1m16 0h1m13 0h2m5 0h1m2 0h1m36 0h1m6 0h1m21 0h1m4 0h1M63 58h1m15 0h1m7 0h1m3 0h3m7 0h1m1 0h1m3 0h1m13 0h1m28 0h1m2 0h1m3 0h1m17 0h1m16 0h2M63 59h1m18 0h1m2 0h1m3 0h1m2 0h1m23 0h1m14 0h1m11 0h1m52 0h1M60 60h1m14 0h1m4 0h1m1 0h2m7 0h1m2 0h1m4 0h1m3 0h1m8 0h1m20 0h1m8 0h1m3 0h1M49 61h1m28 0h3m1 0h2m2 0h1m2 0h3m5 0h1m15 0h1m21 0h1m10 0h1m9 0h1m1 0h1m8 0h1m1 0h1M60 62h1m9 0h1m3 0h3m2 0h1m2 0h5m1 0h1m26 0h1m11 0h1m9 0h1m4 0h1m16 0h1m13 0h1M73 63h4m2 0h1m1 0h1m1 0h1m4 0h1m33 0h2m15 0h1m8 0h1m6 0h1m2 0h1M51 64h1m5 0h1m18 0h3m6 0h4m1 0h2m16 0h1m3 0h1m7 0h1m2 0h1m6 0h1m22 0h1m40 0h1m2 0h1M53 65h2m3 0h1m4 0h1m6 0h1m2 0h1m4 0h1m5 0h4m1 0h2m16 0h1m8 0h2m7 0h1m2 0h2m5 0h1m28 0h1m7 0h1m15 0h1M60 66h1m3 0h1m6 0h2m2 0h2m1 0h1m2 0h1m3 0h1m1 0h1m2 0h1m5 0h1m1 0h1m28 0h1m7 0h1m1 0h1m1 0h1m1 0h1m14 0h1m8 0h1m20 0h1M56 67h1m5 0h1m6 0h1m2 0h1m3 0h1m6 0h7m24 0h1m32 0h1m5 0h1m32 0h1m8 0h1m1 0h1M59 68h1m1 0h1m3 0h1m6 0h1m1 0h1m1 0h3m3 0h1m2 0h1m1 0h1m1 0h1m1 0h1m1 0h1m5 0h1m12 0h1m6 0h2m5 0h1m25 0h1m19 0h1m11 0h1M71 69h1m1 0h5m2 0h1m8 0h1m1 0h1m11 0h1m16 0h2m1 0h1m2 0h1m3 0h1m5 0h2m16 0h1m22 0h1m10 0h1m1 0h2m4 0h1M49 70h1m22 0h5m1 0h1m2 0h2m4 0h1m2 0h1m4 0h1m7 0h1m14 0h1m30 0h1m5 0h1M55 71h1m6 0h1m12 0h2m2 0h1m3 0h1m2 0h1m1 0h1m5 0h1m31 0h1m4 0h1m4 0h1m4 0h1m5 0h1m49 0h1M73 72h1m1 0h3m5 0h1m1 0h3m4 0h1m15 0h1m38 0h2m24 0h1m21 0h1M61 73h2m3 0h1m2 0h2m2 0h6m4 0h1m1 0h3m45 0h1m9 0h1m31 0h2m11 0h1m4 0h1M72 74h1m2 0h1m1 0h2m4 0h2m2 0h3m71 0h1M54 75h1m15 0h1m1 0h1m1 0h1m10 0h2m2 0h2m3 0h2m5 0h1m17 0h1m14 0h1m9 0h1m2 0h1m11 0h1m5 0h1m5 0h1m4 0h1m15 0h1M52 76h1m16 0h1m3 0h4m1 0h3m1 0h1m3 0h3m5 0h1m5 0h1m4 0h2m1 0h1m1 0h1m22 0h1m14 0h1m9 0h1m25 0h1m5 0h1M49 77h1m16 0h1m5 0h2m1 0h1m7 0h6m14 0h1m3 0h1m28 0h1m9 0h1m6 0h1m9 0h1m3 0h1M50 78h1m19 0h1m1 0h4m9 0h4m1 0h1m5 0h1m32 0h1m19 0h1m15 0h1m2 0h1m13 0h1m5 0h2M12 79h1m33 0h1m2 0h1m1 0h2m20 0h2m1 0h2m4 0h1m2 0h1m1 0h1m1 0h2m1 0h1m6 0h1m8 0h1m39 0h2m13 0h1m14 0h1m6 0h1M11 80h1m51 0h1m5 0h1m2 0h1m1 0h2m1 0h3m8 0h2m4 0h1m8 0h1m4 0h1m14 0h1m16 0h1m4 0h1m11 0h1m2 0h1m24 0h1M44 81h1m2 0h1m12 0h1m5 0h1m7 0h5m1 0h2m2 0h2m1 0h1m9 0h1m31 0h1m6 0h1m24 0h2m2 0h1m20 0h1M42 82h1m30 0h5m1 0h1m3 0h1m1 0h1m1 0h1m1 0h4m12 0h1m1 0h1m14 0h1m6 0h1m38 0h1M71 83h1m3 0h1m1 0h2m1 0h1m1 0h2m1 0h1m1 0h1m5 0h1m2 0h1m42 0h1m33 0h1m13 0h1M55 84h1m13 0h1m1 0h1m3 0h1m1 0h3m2 0h2m6 0h1m17 0h1m30 0h1m33 0h1M16 85h1m45 0h1m6 0h2m5 0h1m1 0h1m1 0h3m1 0h1m2 0h1m17 0h2m14 0h1m2 0h2m53 0h1M33 86h1m24 0h1m2 0h1m4 0h1m2 0h1m3 0h1m1 0h1m2 0h1m12 0h1m22 0h1m22 0h1M13 87h1m1 0h1m1 0h1m8 0h1m23 0h1m8 0h1m10 0h1m1 0h1m6 0h2m4 0h1m4 0h1m3 0h1m2 0h1m2 0h1m64 0h1m2 0h1M18 88h2m10 0h1m2 0h1m4 0h1m4 0h1m5 0h2m16 0h1m8 0h1m5 0h1m2 0h1m9 0h1m4 0h1m70 0h1m7 0h1m2 0h1M14 89h1m6 0h1m24 0h1m31 0h1m2 0h1m7 0h1m18 0h1m19 0h1m42 0h1m8 0h1M20 90h1m9 0h1m3 0h1m23 0h1m20 0h1m20 0h1m1 0h1m10 0h1m8 0h1m42 0h1M19 91h1m6 0h1m44 0h4m5 0h1m21 0h1m21 0h1m42 0h1m1 0h1M26 92h1m19 0h1m8 0h1m70 0h1M21 93h1m1 0h1m3 0h1m9 0h1m24 0h1m3 0h1m2 0h1m14 0h1m2 0h1m17 0h1m7 0h1m6 0h1m5 0h1m5 0h1M19 94h1m1 0h1m2 0h1m22 0h1m24 0h2m1 0h1m9 0h1m7 0h1m7 0h2m28 0h1m44 0h1M16 95h1m9 0h1m12 0h1m132 0h2M24 96h1m1 0h1m9 0h1m29 0h2m1 0h1m9 0h1m18 0h1m4 0h1m62 0h1M17 97h2m1 0h1m3 0h1m2 0h1m2 0h1m99 0h1m35 0h1m4 0h1M35 98h1m1 0h1m27 0h1m31 0h1m6 0h2m45 0h1m4 0h1m17 0h1M18 99h1m3 0h1m9 0h2m3 0h1m30 0h1m29 0h1m31 0h1m19 0h1M22 100h3m12 0h1m29 0h1m17 0h1m6 0h2m79 0h1M20 101h1m2 0h2m63 0h1m17 0h1m41 0h1M27 102h1m34 0h1m18 0h1m11 0h1m43 0h1m16 0h2m8 0h1M26 103h1m55 0h1m52 0h1m2 0h1m12 0h2m13 0h1M27 104h1m1 0h1m2 0h1m44 0h1m3 0h1m11 0h1m2 0h1m36 0h2M28 105h2m10 0h1m14 0h1m14 0h1m28 0h1m9 0h1m34 0h1m24 0h1M24 106h1m11 0h1m17 0h1m5 0h1m26 0h1m45 0h2m3 0h1M22 107h1m15 0h1m15 0h1m26 0h1m29 0h1m2 0h1m18 0h1m6 0h1m6 0h1m18 0h1M23 108h1m8 0h1m3 0h1m2 0h1m27 0h1m22 0h1m3 0h1m18 0h1m38 0h1M24 109h1m1 0h1m3 0h1m61 0h1m49 0h1m3 0h1m16 0h1m3 0h1M24 110h1m2 0h1m37 0h1m8 0h1m15 0h1m19 0h1m25 0h3M25 111h1m2 0h2m7 0h1m7 0h1m52 0h1m15 0h1m14 0h1m2 0h1M30 112h1m18 0h1m4 0h1m20 0h1m1 0h1m21 0h1m32 0h1M29 113h2m1 0h1m1 0h1m31 0h1m11 0h1m13 0h1m4 0h1m3 0h1m2 0h1m13 0h1m27 0h1m3 0h1m3 0h1M28 114h1m32 0h1m6 0h1m24 0h1m8 0h2m13 0h1m18 0h1M33 115h1m24 0h2m28 0h1m8 0h1m5 0h1m11 0h1M103 116h1m10 0h1m13 0h1m2 0h1m11 0h1M28 117h2m9 0h1m23 0h1m14 0h1M29 118h1m11 0h1m7 0h1m2 0h1m6 0h1m2 0h1m9 0h1m4 0h1m41 0h1M51 119h1m3 0h1m10 0h1m1 0h1m5 0h1m27 0h1m1 0h1m9 0h1m12 0h1m6 0h3M37 120h1m1 0h1m7 0h1m12 0h1m11 0h1m6 0h1m5 0h1m1 0h1m7 0h1m14 0h2m24 0h1m10 0h1m2 0h1M41 121h1m21 0h1m48 0h1m13 0h1m2 0h1m1 0h1m4 0h1m13 0h1M37 122h1m4 0h1m8 0h1m18 0h1m5 0h1m2 0h1m16 0h1m23 0h1M48 123h1m16 0h1m2 0h1m8 0h1m19 0h1m11 0h1m12 0h1m4 0h1m5 0h1m17 0h1M41 124h1m7 0h1m6 0h2m8 0h1m7 0h1m24 0h1m13 0h3m4 0h1m3 0h1m14 0h1M37 125h1m19 0h1m2 0h1m29 0h1m6 0h1m8 0h1m1 0h1m37 0h1M30 126h1m2 0h1m4 0h1m6 0h1m7 0h1m2 0h1m7 0h1m5 0h1m4 0h1m12 0h1m4 0h1M72 127h1m48 0h1M40 128h1m29 0h1m10 0h1m29 0h1M45 129h1m6 0h1m5 0h1M34 130h1m2 0h1m3 0h1m13 0h1m22 0h1m3 0h1m25 0h1m9 0h2M77 131h1m13 0h1m2 0h1m18 0h2m19 0h1M31 132h1m7 0h1m17 0h1m9 0h1m10 0h1m7 0h1m17 0h1m9 0h1m4 0h1m11 0h1M28 133h1m17 0h1m36 0h1m22 0h1m19 0h2M30 134h2m10 0h1m2 0h1m5 0h1m5 0h1m8 0h1m5 0h1m9 0h1m2 0h1m1 0h1m29 0h1m19 0h1M31 135h1m15 0h1m3 0h1m11 0h1m5 0h1m2 0h1m12 0h1m4 0h1m1 0h1m1 0h1m20 0h1m17 0h1m1 0h1M69 136h1m42 0h1m1 0h1M40 137h1m20 0h1m15 0h1m10 0h1m15 0h1m20 0h1m4 0h1M29 138h1m3 0h1m7 0h2m16 0h2m2 0h1m26 0h2m6 0h1m13 0h1M50 139h1m11 0h1m4 0h1m4 0h1m9 0h1m7 0h3m31 0h1m3 0h1M34 140h1m5 0h1m2 0h1m5 0h1m24 0h1m20 0h1m8 0h2m2 0h1m15 0h1M44 141h1m17 0h1m10 0h2m8 0h1m18 0h1m3 0h1M41 142h2m8 0h1m7 0h1M54 143h1m6 0h1M47 144h1m4 0h1m2 0h1m48 0h1M40 145h1m3 0h1m13 0h1m4 0h2M37 146h2m12 0h2M47 147h1M56 148h1M48 149h1m3 0h1M43 150h1"/>
<path stroke="#443B84" d="M165 3h1M156 6h1M182 8h1M185 9h1M148 10h1m36 0h1M160 12h1M149 13h1M157 15h1m9 0h1M170 16h1M173 17h1m4 0h1M182 18h1m1 0h1M141 21h1m7 0h1m5 0h1M137 23h1m18 0h1M159 24h1M155 26h1m10 0h1M162 27h1M129 28h1M135 30h1m33 0h1m21 0h1M124 31h1m48 0h1M123 32h1m45 0h1M156 33h1m2 0h2m2 0h1m20 0h1M127 34h1m1 0h1M161 35h1M161 36h1m3 0h1M125 37h1m8 0h1m1 0h1m18 0h1m4 0h1M121 38h1m61 0h1M48 39h1m38 0h1m50 0h1m13 0h1m8 0h1M48 40h1m86 0h1m2 0h1M86 41h1m1 0h2M86 42h1m61 0h2m1 0h2M48 43h1m47 0h1m25 0h1m3 0h1m14 0h1m20 0h1M48 44h1m32 0h1m15 0h1m28 0h1m13 0h1M82 45h3m6 0h1m18 0h1m20 0h1m11 0h1m2 0h1M80 46h2m12 0h1m1 0h1m15 0h1m16 0h1m3 0h1M82 47h4m20 0h2m18 0h1m19 0h1M57 48h1m29 0h1m27 0h1m10 0h1m1 0h1m10 0h1m21 0h1M55 49h1m2 0h1m20 0h2m50 0h1m5 0h1m6 0h1m25 0h1M78 50h1m1 0h1m11 0h1m3 0h1m23 0h1m6 0h1m8 0h1M57 51h1m20 0h4m26 0h1m4 0h1m6 0h1M48 52h1m6 0h1m24 0h1m2 0h1m21 0h1m10 0h1m8 0h1m11 0h1m4 0h1m16 0h1M49 53h1m27 0h1m3 0h1m2 0h1m10 0h1m26 0h1m40 0h1M75 54h1m1 0h1m4 0h2m11 0h1m19 0h1m2 0h1m34 0h1m4 0h1m7 0h1M50 55h1m3 0h1m18 0h2m6 0h1m2 0h1m3 0h1m2 0h1m3 0h1m19 0h1M51 56h1m18 0h4m3 0h2m4 0h1m2 0h1m1 0h2m4 0h1m6 0h1m20 0h1m41 0h1M50 57h1m18 0h1m1 0h1m1 0h2m2 0h1m3 0h1m2 0h1m2 0h2m6 0h1m10 0h1m3 0h1m8 0h2m40 0h1m13 0h1M50 58h1m18 0h1m1 0h2m2 0h4m1 0h2m1 0h3m3 0h2m6 0h1m21 0h1m12 0h1m33 0h1M56 59h1m1 0h1m8 0h1m2 0h1m1 0h1m3 0h3m1 0h2m1 0h2m2 0h1m2 0h2m1 0h1m1 0h2m1 0h1m20 0h1m21 0h1m20 0h1m38 0h1M53 60h1m1 0h1m5 0h1m6 0h1m2 0h2m3 0h4m4 0h5m1 0h1m1 0h1m46 0h1m4 0h1m12 0h1m16 0h1m17 0h1m2 0h1m5 0h1M59 61h1m1 0h1m8 0h1m1 0h1m1 0h1m1 0h1m4 0h1m5 0h2m11 0h1m18 0h1m7 0h3M51 62h2m1 0h1m11 0h1m1 0h1m3 0h2m7 0h1m5 0h1m1 0h2m1 0h1m21 0h1m2 0h2m7 0h1m12 0h1m22 0h1m1 0h1m3 0h1m29 0h2M59 63h1m2 0h1m7 0h3m21 0h1m38 0h1m1 0h1m6 0h1m9 0h1m8 0h2m13 0h1M59 64h1m1 0h1m1 0h1m5 0h1m1 0h5m13 0h1m13 0h1m29 0h1m20 0h2m43 0h1M67 65h2m3 0h1m1 0h4m10 0h1m17 0h1m2 0h1m33 0h1m2 0h1m6 0h1M66 66h1m3 0h1m2 0h2m13 0h1m2 0h1m3 0h1m72 0h2m3 0h1m13 0h1m8 0h1M57 67h1m8 0h2m2 0h2m1 0h3m54 0h1m6 0h1m19 0h1m2 0h1m1 0h1M56 68h1m11 0h1m1 0h2m1 0h1m1 0h1m10 0h1m10 0h1m36 0h1m8 0h1m5 0h1m9 0h2m32 0h1m2 0h1M63 69h1m5 0h2m1 0h1m13 0h1m24 0h1m6 0h1m31 0h1m5 0h1m27 0h1M62 70h1m5 0h4m13 0h1m5 0h2m13 0h1m21 0h1m14 0h1m18 0h1m26 0h1m8 0h1M50 71h2m9 0h1m4 0h1m4 0h3m13 0h1m1 0h1M47 72h2m6 0h1m12 0h1m1 0h3m15 0h1m8 0h1m2 0h1m29 0h1m9 0h1m11 0h1m9 0h1m12 0h1m2 0h1m12 0h1M12 73h1m59 0h1m15 0h1m2 0h1m64 0h1m12 0h1m3 0h1M63 74h1m1 0h1m2 0h4m1 0h2m34 0h1m17 0h1m43 0h1m2 0h1m18 0h1M61 75h1m5 0h1m1 0h1m3 0h1m13 0h2m22 0h1m29 0h1m8 0h1m5 0h1m6 0h1m22 0h1m9 0h1M67 76h1m2 0h2m17 0h1m13 0h1m36 0h1m53 0h1M11 77h1m57 0h3m2 0h1m17 0h1m3 0h2m40 0h1m13 0h1M8 78h1m4 0h1m54 0h2m1 0h1m17 0h1m19 0h1m15 0h1m18 0h1m11 0h1M10 79h1m36 0h1m19 0h1m2 0h3m18 0h1m14 0h1m19 0h1m33 0h1m33 0h1M10 80h1m33 0h1m14 0h1m4 0h1m1 0h1m6 0h1m2 0h1m16 0h1m44 0h1m33 0h1m11 0h1m1 0h1m6 0h1M16 81h1m54 0h2m10 0h1m8 0h1m10 0h1m3 0h1m61 0h1M15 82h1m1 0h2m26 0h1m3 0h1m3 0h1m17 0h2m5 0h1m5 0h1m1 0h1m1 0h1m14 0h1M14 83h1m1 0h1m1 0h2m32 0h1m6 0h1m7 0h1m5 0h2m1 0h1m7 0h1m1 0h1m1 0h2m1 0h1m11 0h1m33 0h1m2 0h1M21 84h1m18 0h1m31 0h2m10 0h6m3 0h1m4 0h1m6 0h1m24 0h1m33 0h1m6 0h1M12 85h1m7 0h1m1 0h1m12 0h1m9 0h3m4 0h1m7 0h1m6 0h2m4 0h1m9 0h1m2 0h1m16 0h1m22 0h1m11 0h1m45 0h1M12 86h1m7 0h1m8 0h2m33 0h2m10 0h1m5 0h2m2 0h2m2 0h1m2 0h1m11 0h1m30 0h1M14 87h1m4 0h1m2 0h3m9 0h1m10 0h1m3 0h1m32 0h1m5 0h2m17 0h1m4 0h1m8 0h1m14 0h1M16 88h2m10 0h1m2 0h2m2 0h1m4 0h1m3 0h1m1 0h1m22 0h1m21 0h1m16 0h1m16 0h1m7 0h1m1 0h1m30 0h1m1 0h1M16 89h1m6 0h1m8 0h1m1 0h1m1 0h1m2 0h1m3 0h1m8 0h1m3 0h1m9 0h1m2 0h1m2 0h1m4 0h1m4 0h1m18 0h1m7 0h1m5 0h1m4 0h1m12 0h1m42 0h1M26 90h1m27 0h2m15 0h1m9 0h1m12 0h1m32 0h1M16 91h1m1 0h1m9 0h2m26 0h1m29 0h1m3 0h1m2 0h1m11 0h1m73 0h1M25 92h1m3 0h1m1 0h1m40 0h1m3 0h1m1 0h1m4 0h1m35 0h1M16 93h1m1 0h2m5 0h2m2 0h1m3 0h1m30 0h1m7 0h1m8 0h1m6 0h2M15 94h1m4 0h1m1 0h2m6 0h1m3 0h1m33 0h1m10 0h1m20 0h1m3 0h1m21 0h1M17 95h3m4 0h1m5 0h1m3 0h1m3 0h1m24 0h1m11 0h1m6 0h1m5 0h1M23 96h1m14 0h2m22 0h1m1 0h1m3 0h1m2 0h1m15 0h1m4 0h1m1 0h1m18 0h1m18 0h1M21 97h1m22 0h1m35 0h1m1 0h1m10 0h1m2 0h1m10 0h2m64 0h1M17 98h1m5 0h2m5 0h2m55 0h1m85 0h1M93 99h1m41 0h1M19 100h2m12 0h1m41 0h2m17 0h1m67 0h1m11 0h1M25 101h1m2 0h1m61 0h1m5 0h1m39 0h1m22 0h1m9 0h1M21 102h2m2 0h1m105 0h1m36 0h2M22 103h1m1 0h1m2 0h1m2 0h1m8 0h1m28 0h1m8 0h1m29 0h1m6 0h1m16 0h1m16 0h1M22 104h1m68 0h1m43 0h1m13 0h1M21 105h1m3 0h1m1 0h1m2 0h1m1 0h1m5 0h1m44 0h1m8 0h1m49 0h1M25 106h2m5 0h1m1 0h1m70 0h1m5 0h1m15 0h1m7 0h1m4 0h1M44 107h1m6 0h1m1 0h1m13 0h1m2 0h1m5 0h1m60 0h1m1 0h1m3 0h1m2 0h1M27 108h1m1 0h1m8 0h1m29 0h1m4 0h1m9 0h1m18 0h1m12 0h1m24 0h1M33 109h1m5 0h1m14 0h1m23 0h1m9 0h1m16 0h1m6 0h1m1 0h1m51 0h1M51 110h1m26 0h1m32 0h1m13 0h1m9 0h1m19 0h2m5 0h1M39 111h1m56 0h1m53 0h1M33 112h1m2 0h1m16 0h1m31 0h1m7 0h1m1 0h1m20 0h1m40 0h1m1 0h1M46 113h1m53 0h1m16 0h1m14 0h2m13 0h1M46 114h1m47 0h1m38 0h1m27 0h1M32 115h1m36 0h1m15 0h1m44 0h1m14 0h1M36 116h1m64 0h1m27 0h1m7 0h1M31 117h1m16 0h1m3 0h1m3 0h1m8 0h1m5 0h1m1 0h1m1 0h2m8 0h1m16 0h1m21 0h1m14 0h1M51 118h1m21 0h1m6 0h1m12 0h1m26 0h1m5 0h1m4 0h1M41 119h1m16 0h1m3 0h1m31 0h1m3 0h1m21 0h1m26 0h1m6 0h3M66 120h1m25 0h1m23 0h1m38 0h1M52 121h1m4 0h1M57 122h1m35 0h2m29 0h1m11 0h1M29 123h1m4 0h1m1 0h1m49 0h2m11 0h1m1 0h1m5 0h1m5 0h1m27 0h1M36 124h1m8 0h1m15 0h1m26 0h1m2 0h1m14 0h1m26 0h1m9 0h1M35 125h1m4 0h1m1 0h2m3 0h1m16 0h1m6 0h1m4 0h1m24 0h1m13 0h1m27 0h1M32 126h1m26 0h1m14 0h1m2 0h1m25 0h1m12 0h1m3 0h1m6 0h1m2 0h1M29 127h1m17 0h2m16 0h1m34 0h1m18 0h1m2 0h1m15 0h1M32 128h1m31 0h1m35 0h1m1 0h1m17 0h1m24 0h1M31 129h1m25 0h1m1 0h1m16 0h1m28 0h1m4 0h1M46 130h1m12 0h1m20 0h1m41 0h1m14 0h1M37 131h1m33 0h1m53 0h1M37 132h1m4 0h1m11 0h1m11 0h1m24 0h1m2 0h2M26 133h1m3 0h1m28 0h1m2 0h1m21 0h1m23 0h1m4 0h1m1 0h1m12 0h1M28 134h1m15 0h1m41 0h1m6 0h1m21 0h1m19 0h1M28 136h1m6 0h1m14 0h1m40 0h1m14 0h1m6 0h1m14 0h1M65 137h1m3 0h1m17 0h1m15 0h1m8 0h1m8 0h1m9 0h2M34 138h1m30 0h1m23 0h1m6 0h1m4 0h1m9 0h1m10 0h1m3 0h1M61 139h1m31 0h1m7 0h1m2 0h1m20 0h1M44 140h1m7 0h1m53 0h1M42 141h1m71 0h1M34 142h1m2 0h1m33 0h1m42 0h1M70 143h1M44 144h1m1 0h1m4 0h1M59 145h1M53 146h1m11 0h1M44 152h1"/>
<path stroke="#3F4889" d="M164 3h1M156 5h1M161 6h1M154 7h1M180 9h1M148 11h1M179 12h1M156 14h1M143 15h1m26 0h1M137 16h1m33 0h1M184 17h1M142 18h1m26 0h1M149 19h1m1 0h1M180 20h1M148 21h1M170 22h1m7 0h2M171 23h1M180 26h1M165 27h1m25 0h1M182 29h1M153 30h1m3 0h1M150 31h2m24 0h1M172 32h1M48 33h1m109 0h1M171 34h1M50 35h2m95 0h1m19 0h1m20 0h1M48 36h2m2 0h1m72 0h1m38 0h1M118 37h2m26 0h1m44 0h1M49 38h1m109 0h1M84 39h1m66 0h1m15 0h1M49 40h1m72 0h1M49 41h1m2 0h1m3 0h1m28 0h1m6 0h1M49 42h1m35 0h1m71 0h1m17 0h1M51 43h1m2 0h1m29 0h2m1 0h1m83 0h1M80 44h1m2 0h1m2 0h2m69 0h1m1 0h1m2 0h1m2 0h1m1 0h1m6 0h1M51 45h1m28 0h1m28 0h1m24 0h1m25 0h1m19 0h1m6 0h1M49 46h1m1 0h2m3 0h1m25 0h1m1 0h1m1 0h2m46 0h1m1 0h1m45 0h1M48 47h1m1 0h2m28 0h1m5 0h1m16 0h1m4 0h1m32 0h1m11 0h1m2 0h1M52 48h1m2 0h1m47 0h1m10 0h1m38 0h1m9 0h1M51 49h1m5 0h1m24 0h2m1 0h1m1 0h1m2 0h1m15 0h1m48 0h1m1 0h1m5 0h1m14 0h1M81 50h2m1 0h2m1 0h1m17 0h1m7 0h1m2 0h1m2 0h1m2 0h1m10 0h1m20 0h1M53 51h1m22 0h1m5 0h4m1 0h1m9 0h2m15 0h1M50 52h1m25 0h4m1 0h2m3 0h2m5 0h1m56 0h1M78 53h3m1 0h2m2 0h1m33 0h1m35 0h1m7 0h1M50 54h2m2 0h1m17 0h1m3 0h1m1 0h2m4 0h1m1 0h1m1 0h2m13 0h1m12 0h1m19 0h1m15 0h1m2 0h1m1 0h1m13 0h1M48 55h1m21 0h1m1 0h1m2 0h1m1 0h1m2 0h1m2 0h1m3 0h1m2 0h1m2 0h1m10 0h1m2 0h1m23 0h1M50 56h1m1 0h1m2 0h1m13 0h1m4 0h3m2 0h3m3 0h1m4 0h1m20 0h1m8 0h1m12 0h1m10 0h1m20 0h1M65 57h1m4 0h1m1 0h1m2 0h1m2 0h2m2 0h2m1 0h2m2 0h1m3 0h1m27 0h1m10 0h1M54 58h1m5 0h1m3 0h1m1 0h1m3 0h1m2 0h2m7 0h1m3 0h1m1 0h1m23 0h1m9 0h1m6 0h1M64 59h2m2 0h1m4 0h3m3 0h1m6 0h1m1 0h1m5 0h1m2 0h1m5 0h1m3 0h1m1 0h1m48 0h1m2 0h1M65 60h3m1 0h2m3 0h1m6 0h1m7 0h1m5 0h1M63 61h7m1 0h1m1 0h1m1 0h1m18 0h1m7 0h1m50 0h1m9 0h1m14 0h2m19 0h1M49 62h1m11 0h1m1 0h1m3 0h1m23 0h1m39 0h1m19 0h1m8 0h1m39 0h1M58 63h1m4 0h6m22 0h1m8 0h1m15 0h1m9 0h1m2 0h1m24 0h1m41 0h1M66 64h1m3 0h1m58 0h1m4 0h1M61 65h1m3 0h2m2 0h1m1 0h1m19 0h1m3 0h1m1 0h1m28 0h1m18 0h1m4 0h1m3 0h1m19 0h1M57 66h1m1 0h1m9 0h1m33 0h1m86 0h1M50 67h1m17 0h1m53 0h1m6 0h1m14 0h1M57 68h1m63 0h1m3 0h1m5 0h1m19 0h1m11 0h1m13 0h2M49 69h1m3 0h1m5 0h1m5 0h4m18 0h2m1 0h1m2 0h1m10 0h1m17 0h1m20 0h1m27 0h1m26 0h1M50 70h1m14 0h3m20 0h1m16 0h1m9 0h1m11 0h1m4 0h1m27 0h1M64 71h2m2 0h3m30 0h1m13 0h1m33 0h1m5 0h1m6 0h1m12 0h1m16 0h1m3 0h1M58 72h1m2 0h1m1 0h1m2 0h1m2 0h1m19 0h1m6 0h1m14 0h1m19 0h1m2 0h1m6 0h1m1 0h1M11 73h1m44 0h1m1 0h1m5 0h1m3 0h1m2 0h1m17 0h2m18 0h3m15 0h1m62 0h1M67 74h1m22 0h1m1 0h1m5 0h1m41 0h1m21 0h1m31 0h1M56 75h1m11 0h1m2 0h1m61 0h1m18 0h1m9 0h1m28 0h1M64 76h1m3 0h1m3 0h1m19 0h1m8 0h1m69 0h1M68 77h1m22 0h1M53 78h2m37 0h1m6 0h1m22 0h1m16 0h1m21 0h1m4 0h1m2 0h1M7 79h1m1 0h1m4 0h1m41 0h1m4 0h1m66 0h1m1 0h2m51 0h1M42 80h1m2 0h1m7 0h1m13 0h2m32 0h1m44 0h1m14 0h1M15 81h1m25 0h1m8 0h1m7 0h1m2 0h1m6 0h1m20 0h2m2 0h2m3 0h1m42 0h1m41 0h1M13 82h1m79 0h1m7 0h1m39 0h1M13 83h1m31 0h1m26 0h1m17 0h1m3 0h1m4 0h1m4 0h1m22 0h1m6 0h1m3 0h1M11 84h1m14 0h1m1 0h1m35 0h1m9 0h1m1 0h1m14 0h2m7 0h1m5 0h1m6 0h1m20 0h1m50 0h2M14 85h1m3 0h1m6 0h1m4 0h2m6 0h1m2 0h1m2 0h1m4 0h1m1 0h1m2 0h1m10 0h1m5 0h1m2 0h1m2 0h1m10 0h2m6 0h1m76 0h1M16 86h1m7 0h1m11 0h1m1 0h1m33 0h1m6 0h1m23 0h1m11 0h1m7 0h1M20 87h2m5 0h1m9 0h1m4 0h1m10 0h1m6 0h1m12 0h3m7 0h1m2 0h1m5 0h1m71 0h1m17 0h1M20 88h1m3 0h1m4 0h1m4 0h1m1 0h2m7 0h1m13 0h1m8 0h1m2 0h4m5 0h1m3 0h1m41 0h1m54 0h1M26 89h1m13 0h1m7 0h1m18 0h1m7 0h1m3 0h1m3 0h1m11 0h1M16 90h1m2 0h1m11 0h1m31 0h1m5 0h1m4 0h1m8 0h1m20 0h1m2 0h1m11 0h1m1 0h1m3 0h1m54 0h1M17 91h1m2 0h1m9 0h1m36 0h1m14 0h1m5 0h1m3 0h1m26 0h1M16 92h1m1 0h2m1 0h3m6 0h1m1 0h2m26 0h1m1 0h1m42 0h1m19 0h1M32 93h1m15 0h1m18 0h1m26 0h1M17 94h2m6 0h2m4 0h1m1 0h1m88 0h1M14 95h1m8 0h1m1 0h1m1 0h3m2 0h2m6 0h1m63 0h1m6 0h1M25 96h1m6 0h1m2 0h1m25 0h1m1 0h1m10 0h1m1 0h1m11 0h1m13 0h1m2 0h1m51 0h1m14 0h1M25 97h1m7 0h1m3 0h1m46 0h1m5 0h1m11 0h1m8 0h1M28 98h1m51 0h1m7 0h1m3 0h1m14 0h1M16 99h1m2 0h1m9 0h2m42 0h1m4 0h1m13 0h1m35 0h1m27 0h1M27 100h1m3 0h1m64 0h1M22 101h1m3 0h1m4 0h1m1 0h2m2 0h1m30 0h1m9 0h1m18 0h1m17 0h1M23 102h1m2 0h1m3 0h2m36 0h2m2 0h1M25 103h1m7 0h1m27 0h1m21 0h2m26 0h1m27 0h1m22 0h1M26 104h1m1 0h1m5 0h1m6 0h1m29 0h1m30 0h1m28 0h1M22 105h1m24 0h1m21 0h1m20 0h1m5 0h1m6 0h1m34 0h1m1 0h1M28 106h2m7 0h1m74 0h1M42 107h1m9 0h1m15 0h1m31 0h1m9 0h1m23 0h1M24 108h1m107 0h1M27 109h2m12 0h1m13 0h1m11 0h1m6 0h1m26 0h1m36 0h1M26 110h1m2 0h2m12 0h1m72 0h1M27 111h1m2 0h1m22 0h1m10 0h1m4 0h1m3 0h1m13 0h2m46 0h1m2 0h1M41 112h1m21 0h1m26 0h1m60 0h1M43 113h1m40 0h1m49 0h1m5 0h1M49 114h1m5 0h1m6 0h1m2 0h1M31 115h1m29 0h1m3 0h1m33 0h1m27 0h1M35 116h1m2 0h1m25 0h1m14 0h1M49 117h2m13 0h1m28 0h2m17 0h1m33 0h1M34 118h1m4 0h1m6 0h1m22 0h1m58 0h1M28 119h1m1 0h1m6 0h1m7 0h1m41 0h1m58 0h1M68 120h1m50 0h1m3 0h1m5 0h1m19 0h1m3 0h1M33 121h1m2 0h1m27 0h2m30 0h1m24 0h1m1 0h1M32 122h1m16 0h2m8 0h1m29 0h1m11 0h1m2 0h1m5 0h1m42 0h1M35 123h1m5 0h1m25 0h1m58 0h1m3 0h1M100 124h1M30 125h1m10 0h1m2 0h1m8 0h1m7 0h1m16 0h1m37 0h2m10 0h1m4 0h1m16 0h1M52 126h1m2 0h1m40 0h1m11 0h1m2 0h1M44 127h1m24 0h1m10 0h1m47 0h1m15 0h1M55 128h1m29 0h1m10 0h1M34 129h1m52 0h1m7 0h1m4 0h1m8 0h1m21 0h1M36 130h1m57 0h1m12 0h1m5 0h1m3 0h1M24 131h1m4 0h1m23 0h1m6 0h1m32 0h1m10 0h1M32 132h1m1 0h1m54 0h1m32 0h1m5 0h1M41 133h1m11 0h1m51 0h1m8 0h1m4 0h1m17 0h1M32 134h1m13 0h1m3 0h1m40 0h1m6 0h1m8 0h1M61 135h1m20 0h1m5 0h1m19 0h1M47 136h1m1 0h1m33 0h2m14 0h1m30 0h1M51 137h1m24 0h1m2 0h1m49 0h1M47 138h1m10 0h1m7 0h1m40 0h1M30 139h1m16 0h1m35 0h1m5 0h1m15 0h1M97 140h1M52 141h1m7 0h1m4 0h1m2 0h1m31 0h1M77 142h1m30 0h1M59 143h1m7 0h1m3 0h2m4 0h1m9 0h1m26 0h1M105 145h1M43 146h1m2 0h1m13 0h1m5 0h1M47 148h1M48 151h1"/>
<path stroke="#3A548C" d="M159 2h2M170 6h1M150 9h2M164 11h1M161 12h1M165 13h1M160 16h1m13 0h1M176 19h1m4 0h1m5 0h1M157 20h1M173 23h1M140 25h1M155 27h1M165 28h1m22 0h1M181 29h1M128 31h1M135 32h1M50 34h1m69 0h1m55 0h1M132 35h1m23 0h1M51 38h2m77 0h1m5 0h1m44 0h1M49 39h1m3 0h1m1 0h1m34 0h1M51 40h2m1 0h2m27 0h1m1 0h1m53 0h1m26 0h1m25 0h1M55 41h1m31 0h1m53 0h1m9 0h1M50 42h1m1 0h5m27 0h1m7 0h1m39 0h1m9 0h1m22 0h1m24 0h1M52 43h2m1 0h2m24 0h1m1 0h1M54 44h2m1 0h1m24 0h1m1 0h1m49 0h1m7 0h1m7 0h1m36 0h1M49 45h2m4 0h2m24 0h1m17 0h1m7 0h1m31 0h1m1 0h1M53 46h3m1 0h2m50 0h1m50 0h2m4 0h1m24 0h1M49 47h1m3 0h1m1 0h1m1 0h1m23 0h1m8 0h1m67 0h1M50 48h2m2 0h1m25 0h6M52 49h3m1 0h1m27 0h1m39 0h1m18 0h1M49 50h1m1 0h1m1 0h1m1 0h3m18 0h2m5 0h1m4 0h2M48 51h1m2 0h1m3 0h2m33 0h1m27 0h1m5 0h1m1 0h1M49 52h1m1 0h2m1 0h1m19 0h2m9 0h1m4 0h2m30 0h1m5 0h1m9 0h1m12 0h1M48 53h1m1 0h1m23 0h3m10 0h1m3 0h1m5 0h1m17 0h1m35 0h1M53 54h1m26 0h2m3 0h1m6 0h1m36 0h2m11 0h1M76 55h1m1 0h2m2 0h1m2 0h2m19 0h1m18 0h1m7 0h1m2 0h1m21 0h1m6 0h1m5 0h1M53 56h1m28 0h1m1 0h1m11 0h1m5 0h1m2 0h1m1 0h1m6 0h1m2 0h1m20 0h1M51 57h1m1 0h1m3 0h2m21 0h1m11 0h1m25 0h1m8 0h1m32 0h1m2 0h1M48 58h1m10 0h1m7 0h2m25 0h1M59 59h2m10 0h1m32 0h1m9 0h1m59 0h1M50 60h1m13 0h1m8 0h1m61 0h2m10 0h1m25 0h1M58 61h1m34 0h1m2 0h1m10 0h1m1 0h1m6 0h1m5 0h1m2 0h1m4 0h1m23 0h2M53 62h1m5 0h1m4 0h2m3 0h1m1 0h1m26 0h1m33 0h1m1 0h1m12 0h1m1 0h1m17 0h1M61 63h1m7 0h1m32 0h1m24 0h1m19 0h1m8 0h1m10 0h1M48 64h1m15 0h2m1 0h2m36 0h1m12 0h1m6 0h1m6 0h1m11 0h1m32 0h1M57 65h1m6 0h1m29 0h1m26 0h1m43 0h1m4 0h1M48 66h1m12 0h1m1 0h1m1 0h1m1 0h1m93 0h1m23 0h1M52 67h1m40 0h1m16 0h1m50 0h1m4 0h1m5 0h1m19 0h1M55 68h1m8 0h1m1 0h2m1 0h1m36 0h1m2 0h1m34 0h1m5 0h1m20 0h1m4 0h1M60 70h1m3 0h1m24 0h1m26 0h1m18 0h1m31 0h1M67 71h1m23 0h1m62 0h1M67 72h1m23 0h1m1 0h1m35 0h1m2 0h1m9 0h1m27 0h1M65 73h1m1 0h1m91 0h1M91 74h1m11 0h1m71 0h1m9 0h1M97 75h1m16 0h1m11 0h1m43 0h1m24 0h1M12 76h1m48 0h1m28 0h1m13 0h1m4 0h1m43 0h1m13 0h1M55 77h1m44 0h1m5 0h1m33 0h1m9 0h1m9 0h1m21 0h1m5 0h1M61 78h1m2 0h1m1 0h2m38 0h1m27 0h1m2 0h1M48 79h1m132 0h1M13 80h1m32 0h1m23 0h2m20 0h1M12 81h3m48 0h3m25 0h1m36 0h1m6 0h1M10 82h1m1 0h1m27 0h1m5 0h1m21 0h1m1 0h1m33 0h1M20 83h1m11 0h1m8 0h1m23 0h1m32 0h1M13 84h2m2 0h1m4 0h1m2 0h1m3 0h1m2 0h1m9 0h1m8 0h1m16 0h1m52 0h1m5 0h1m59 0h1M13 85h1m1 0h1m7 0h2m2 0h1m6 0h1m8 0h1m6 0h1m13 0h1m7 0h1m17 0h2m8 0h1m65 0h2m14 0h1M15 86h1m3 0h1m14 0h2m6 0h1m12 0h1m18 0h1m14 0h1m2 0h1m40 0h1m38 0h1M16 87h1m11 0h3m2 0h1m18 0h1m11 0h1m11 0h1m7 0h1m2 0h1m21 0h1m9 0h1m10 0h1M15 88h1m5 0h1m4 0h2m13 0h1m11 0h1m7 0h1m16 0h1m4 0h1m2 0h1m3 0h1m2 0h1m10 0h1m6 0h2m21 0h1M12 89h1m2 0h1m2 0h2m9 0h1m43 0h1m10 0h1m2 0h1m10 0h1M14 90h1m2 0h1m7 0h1m3 0h1m2 0h1m4 0h1m48 0h3m2 0h1m4 0h1m23 0h1m3 0h1m1 0h1m3 0h1m46 0h1M14 91h2m5 0h2m1 0h1m10 0h1m23 0h1m2 0h1m6 0h1m36 0h1m15 0h1M15 92h1m72 0h1m4 0h1m4 0h1m7 0h1m3 0h1m20 0h1M24 93h1m3 0h1m1 0h1m46 0h1m18 0h1m2 0h1m6 0h1m23 0h1m41 0h2m3 0h1M16 94h1m12 0h1m2 0h1m5 0h1m4 0h1m30 0h1m40 0h1m55 0h1m1 0h1M43 95h1m29 0h1m3 0h1m54 0h1m42 0h1M17 96h1m9 0h1m1 0h1m3 0h2m35 0h1m26 0h1m79 0h1M16 97h1m12 0h1m4 0h1m41 0h2m9 0h1m72 0h1M27 98h1m5 0h1m13 0h1m22 0h1m6 0h1m12 0h1m10 0h1M17 99h1m2 0h2m3 0h1m18 0h1m49 0h1m39 0h1m39 0h1M18 100h1m2 0h1m7 0h1m10 0h1m25 0h1m16 0h1m7 0h1M40 101h1m32 0h1m7 0h1m23 0h1M28 102h2m55 0h1m8 0h1m2 0h1m12 0h2M32 103h1m47 0h1m28 0h1m2 0h1m17 0h1m41 0h1M24 104h1m5 0h1m68 0h1m9 0h1m26 0h1M23 105h1m7 0h1m13 0h1m27 0h1m26 0h1m32 0h1m1 0h1M72 106h1m59 0h1m4 0h1m15 0h1M24 107h2m2 0h2m42 0h1m10 0h1m15 0h1m31 0h1M28 108h1m1 0h1m47 0h1m8 0h1m1 0h1m44 0h1m9 0h1m22 0h1M25 109h1m27 0h1m18 0h1m20 0h1m22 0h2m7 0h1m17 0h1M36 110h1m7 0h1m15 0h1m5 0h1m16 0h1m17 0h1m11 0h1M57 111h1m7 0h1m45 0h1m36 0h1m11 0h1m3 0h1M40 112h1m5 0h1m35 0h1m31 0h1m25 0h1m1 0h1m1 0h1M28 113h1m26 0h1m71 0h1M52 114h1m19 0h1m14 0h1m9 0h1m8 0h1m3 0h1M66 115h1m26 0h1m1 0h1M42 116h1m52 0h1m1 0h1m24 0h1m13 0h1m4 0h1m15 0h1M51 117h1m18 0h1M40 118h1m2 0h1m37 0h1m30 0h1m12 0h1M35 119h1m3 0h1m10 0h1m30 0h1m11 0h1m36 0h1M51 120h1m26 0h1m35 0h1M44 121h1m44 0h1M54 122h1m9 0h1m20 0h1m22 0h1m22 0h1M40 123h1m2 0h1m18 0h1m3 0h1m29 0h1M38 124h1m44 0h1M75 125h1m7 0h1m34 0h1m2 0h2M44 126h1m15 0h1m8 0h1m28 0h1m23 0h2m2 0h1M31 127h1m39 0h1m1 0h1m7 0h1m12 0h1m6 0h1m14 0h1m1 0h1M27 128h1m3 0h1m35 0h1m27 0h1m8 0h1M43 129h1m17 0h1m11 0h1m7 0h1m1 0h1M49 130h1M26 131h1m13 0h1m21 0h1m11 0h1m37 0h1m19 0h1M27 133h1m1 0h1m3 0h1m52 0h1m46 0h1M26 134h1m2 0h1m31 0h1m13 0h1m24 0h1m15 0h1M43 135h1m8 0h1m7 0h1m6 0h1m15 0h1m9 0h1m6 0h1M54 136h1m24 0h1m14 0h1m12 0h1M34 137h1m33 0h1m2 0h1M56 138h1m13 0h1m33 0h1m1 0h1m1 0h1m4 0h1M33 139h1m26 0h1m12 0h1m36 0h1m1 0h1m13 0h1M59 140h1m49 0h1M30 141h1m20 0h1m29 0h1M29 142h1m44 0h1m3 0h1M30 143h1m8 0h1m54 0h1M36 147h1m24 0h1M48 148h1M42 150h1M47 151h1"/>
<path stroke="#34608D" d="M155 4h1M180 7h1M153 8h1M155 13h1M158 14h1m8 0h1m6 0h1M153 15h1M152 21h1m28 0h1m4 0h1M134 22h1M170 23h1m3 0h1M151 24h1m1 0h1M188 26h1M167 28h1M134 29h1M147 32h1m20 0h1M175 33h1M156 34h1m13 0h1M49 35h1M50 36h2m93 0h1M49 37h1m1 0h3m91 0h1m20 0h1M48 38h1m4 0h1m99 0h2M50 39h3m1 0h1M50 40h1m2 0h1m33 0h1m2 0h1M48 41h1m1 0h2m2 0h1m27 0h1m87 0h1M81 42h1m65 0h1M49 43h2m6 0h1m88 0h1m40 0h1M49 44h2m1 0h1m3 0h1m51 0h1m62 0h1M53 45h1m103 0h1m16 0h1M50 46h1M52 47h1m1 0h1m1 0h1m30 0h1m4 0h1m17 0h1M48 48h2m29 0h1m8 0h1M81 49h1m4 0h1m80 0h1M52 50h1m1 0h1m24 0h1m34 0h1m14 0h1M49 51h1m2 0h1m24 0h1m8 0h1m2 0h1m62 0h1m14 0h1M53 52h1m30 0h1m7 0h1m70 0h1M51 53h1m33 0h1m44 0h1M71 54h1m1 0h1m13 0h1m2 0h1m3 0h1m28 0h1m30 0h1m15 0h1M51 55h2m2 0h1m38 0h1m17 0h1m9 0h1m36 0h1M87 56h1m5 0h1m1 0h1m58 0h1m5 0h1M49 57h1m18 0h1m25 0h1m21 0h1m14 0h1M51 58h1m50 0h1m10 0h1m85 0h1M66 59h1m2 0h1m36 0h1m91 0h1M56 60h1m5 0h2m47 0h1m39 0h1m47 0h1M62 61h1m41 0h1m27 0h1M56 62h1m37 0h1m6 0h1m44 0h1m49 0h1M103 63h1m4 0h1m51 0h1m17 0h1M53 64h1m6 0h1m33 0h1m20 0h1m74 0h1M93 65h1m88 0h1M51 66h1m16 0h1m23 0h1M109 67h1m2 0h1m33 0h1m11 0h1M90 68h1m24 0h1m19 0h1m50 0h1M51 69h1m58 0h1M100 70h1m3 0h1M129 71h1m2 0h1m5 0h1m13 0h1M57 72h1m2 0h1m3 0h1m25 0h1m4 0h1m13 0h1m8 0h1m4 0h1m33 0h1M97 73h1m55 0h1m1 0h1M55 74h1m67 0h1m26 0h1M91 75h1m6 0h1m5 0h1m5 0h1m12 0h1m7 0h1m8 0h1M93 76h1m82 0h1M67 77h1m33 0h1m23 0h1m8 0h1m10 0h1M124 78h1m34 0h1m34 0h1M11 79h1m31 0h2m12 0h1m10 0h1m29 0h1m34 0h1m40 0h1M55 80h1m41 0h1m7 0h1m25 0h2m54 0h1M9 81h1m1 0h1m5 0h1m27 0h1m23 0h1m36 0h1m1 0h1m18 0h1m2 0h1m1 0h1m46 0h1M11 82h1m29 0h1m13 0h1m9 0h1m62 0h1m1 0h1m54 0h1M21 83h1m4 0h1m17 0h1m139 0h1M10 84h1m5 0h1m1 0h3m9 0h1m2 0h1m4 0h1m2 0h1m1 0h1m1 0h2m52 0h1M17 85h1m1 0h1m1 0h1m7 0h1m2 0h1m4 0h1m1 0h1m2 0h1m32 0h1m22 0h2m14 0h1m1 0h1M17 86h1m32 0h1m6 0h1m19 0h1m10 0h1m89 0h2M39 87h2m5 0h1m30 0h1m32 0h1m20 0h1m37 0h1M13 88h1m8 0h2m36 0h1M25 89h1m1 0h1m2 0h2m1 0h1m25 0h1m11 0h1m49 0h2m6 0h1m42 0h3M24 90h1m3 0h1m9 0h1m9 0h1m17 0h1m5 0h1m19 0h1m2 0h1m9 0h1m4 0h1M23 91h1m7 0h1m4 0h1m24 0h1m48 0h1m5 0h1m15 0h1M17 92h1m49 0h1m3 0h1m2 0h1m16 0h1m37 0h1M20 93h1m23 0h1m16 0h1m31 0h1m4 0h1m29 0h1M35 94h1m29 0h1m48 0h1m60 0h1M20 95h1m50 0h1m11 0h1m9 0h1M16 96h1m2 0h2m10 0h1m41 0h1m33 0h1m66 0h1M35 97h2m31 0h1m28 0h1m7 0h1m14 0h2M25 98h1m3 0h1m2 0h1M24 99h1m9 0h1m27 0h1m4 0h1m45 0h1m61 0h1M30 100h1m69 0h1m29 0h1M80 101h1m29 0h1m59 0h1M19 102h2m3 0h1m9 0h1m48 0h1m15 0h1m6 0h1m49 0h1M20 103h2m6 0h1m2 0h1m4 0h1m25 0h1m15 0h1m14 0h1m4 0h2m10 0h1m26 0h1m12 0h1m10 0h1M74 104h2m18 0h1m57 0h1M24 105h1m11 0h1m34 0h1m25 0h1m4 0h1m7 0h1m4 0h1m16 0h1M20 106h1m6 0h1m2 0h2m29 0h1m14 0h1m33 0h1m35 0h2M23 107h1m38 0h2m38 0h1M26 108h1m34 0h1m4 0h1m9 0h1m11 0h1M29 109h1m33 0h1m67 0h1m4 0h1M23 110h1m1 0h1m62 0h1m40 0h1M26 111h1m5 0h1m33 0h1m5 0h1M34 112h1m7 0h1m19 0h1m24 0h1m1 0h1m21 0h1m1 0h1m40 0h1M40 113h1m7 0h1m4 0h1m6 0h1m2 0h1m5 0h1m19 0h1m3 0h1m43 0h1M63 114h1m35 0h1m30 0h1M86 115h1m14 0h1M69 116h1m18 0h1m24 0h1m1 0h1M69 117h1m27 0h1m12 0h1M33 118h1m10 0h1m5 0h1m24 0h1m19 0h1m25 0h1m18 0h1M29 119h1m2 0h1m42 0h1m25 0h1m19 0h1M90 120h1m10 0h1M30 121h1m19 0h1m17 0h1m30 0h1m22 0h1M47 122h1m40 0h1m9 0h1m4 0h1m7 0h1M78 123h1m41 0h1M55 124h1m7 0h1m3 0h1m1 0h1m31 0h1m1 0h1M38 125h2m14 0h1m55 0h1M29 126h1m119 0h1M35 127h1m18 0h1m3 0h1m24 0h1m20 0h1m7 0h1M34 128h1m14 0h2m3 0h1m21 0h1m26 0h1m37 0h1M72 129h1m4 0h1m28 0h1M30 130h1m22 0h1m3 0h1m4 0h1m7 0h1m12 0h1m19 0h1m2 0h1m3 0h1M49 131h1m26 0h1m34 0h1M44 132h1m47 0h1m16 0h1m7 0h1M101 134h1m2 0h1M46 135h1m37 0h1m14 0h1M62 136h1m62 0h2M90 137h1m9 0h1m26 0h1M57 138h1m71 0h1M29 139h1m40 0h1M55 141h1m47 0h1M48 142h1m8 0h2m1 0h1m14 0h1m12 0h1m22 0h1M68 143h1m27 0h1M50 146h1m5 0h1m5 0h1M59 147h1M38 148h1M42 149h1M48 150h1"/>
<path stroke="#2F6C8E" d="M160 3h1M155 9h1M171 10h1M165 12h1M167 21h1M167 25h1M161 26h1M128 33h1m28 0h1M149 34h1M48 37h1M50 38h1m95 0h1m35 0h1M86 40h1M84 41h1M48 42h1m2 0h1m41 0h1M92 43h1m40 0h1M51 44h1m1 0h1m31 0h1m83 0h1M52 45h1m1 0h1m30 0h1m10 0h1m8 0h1m80 0h1M83 46h1m1 0h1m11 0h1m56 0h1m1 0h1m1 0h1m3 0h1M58 47h1m76 0h1m19 0h1M53 48h1m2 0h1m33 0h1m20 0h1m30 0h1M50 49h1m26 0h2m86 0h1M48 50h1m1 0h1m7 0h1m27 0h1m37 0h1m44 0h1m4 0h1M54 51h1m33 0h1M133 52h1m15 0h1m7 0h1m13 0h1M52 53h4m34 0h1m69 0h1M48 54h1m99 0h1m15 0h2M71 55h1m69 0h1m1 0h1m33 0h1M92 56h1m30 0h1m39 0h1M104 57h1M104 58h1m11 0h1m6 0h1M118 59h1m9 0h1m17 0h1m53 0h1M49 60h1m90 0h1m59 0h1M198 61h1M181 62h1M93 63h1m4 0h1m25 0h1M49 64h1m2 0h1m1 0h1m42 0h1m6 0h1m4 0h1m9 0h1m26 0h1M51 65h1m68 0h1m11 0h1m15 0h1M93 66h1m5 0h1m10 0h1m8 0h1m28 0h1M58 67h1m5 0h1m26 0h2m4 0h1m6 0h1m3 0h1m2 0h1m4 0h1M110 68h1m45 0h1M61 69h1m2 0h1m95 0h1m24 0h1M101 70h1m7 0h2m20 0h1m2 0h1m22 0h1M92 71h1m12 0h1m29 0h1m9 0h1M51 72h1m2 0h1m7 0h1m56 0h1m6 0h1m47 0h1M99 73h1m24 0h1m1 0h1m13 0h1m44 0h1m5 0h1M64 74h1m56 0h2m60 0h1M13 75h1m52 0h1m35 0h1m35 0h1M51 76h1m14 0h1m30 0h1m93 0h1M13 77h2m46 0h1m62 0h1m33 0h1M12 78h1m1 0h1m33 0h1m3 0h1m42 0h1m19 0h1M13 79h1m50 0h1m31 0h1m37 0h1m45 0h1m11 0h1M12 80h1m167 0h1M19 81h1m23 0h1m8 0h1m14 0h1m53 0h1M20 82h1m73 0h1m13 0h1m74 0h1m4 0h1M10 83h1m1 0h1m4 0h1m13 0h1M31 84h1m2 0h1m1 0h1m11 0h2m13 0h1M36 85h1m56 0h2m33 0h1M18 86h1m3 0h2m3 0h1m3 0h1m5 0h1m1 0h1m4 0h1m67 0h1m9 0h1m4 0h1m35 0h2M12 87h1m28 0h1m1 0h1m4 0h1m5 0h1m16 0h1m6 0h1m43 0h1m2 0h1m12 0h1m32 0h1m9 0h1M25 88h1m13 0h1m15 0h1m14 0h1m8 0h1m1 0h1m33 0h1m47 0h1M85 89h2m6 0h1m2 0h1m16 0h1m5 0h1m6 0h1M15 90h1m2 0h1m3 0h2m17 0h1m1 0h1m2 0h1m10 0h1m1 0h2m7 0h1m8 0h1m15 0h1m35 0h1M32 91h1m4 0h2m11 0h2m1 0h1m14 0h1m22 0h1M13 92h1m6 0h1m13 0h1m55 0h1m3 0h1m14 0h1m3 0h1m8 0h1m4 0h1M31 93h1m3 0h1m32 0h1m43 0h1M14 94h1m21 0h1m3 0h1m64 0h1m2 0h1m4 0h1m19 0h1M35 95h1m29 0h1m46 0h1m12 0h1m32 0h1m5 0h1M15 96h1m12 0h1m17 0h1m46 0h1M28 97h1m11 0h1m28 0h1m21 0h1m7 0h1m32 0h1M26 98h1m9 0h1m7 0h1m21 0h1m55 0h1m11 0h1m14 0h1M27 99h2m17 0h1m122 0h1M17 100h1m44 0h1m2 0h1m12 0h1m54 0h1M17 101h1m77 0h1m3 0h1m3 0h1m4 0h1m44 0h1m19 0h1M89 102h1M19 103h1m9 0h1m33 0h1m1 0h1m3 0h1m17 0h1m15 0h1m28 0h1M21 104h1m1 0h1m1 0h1m9 0h2m8 0h1m16 0h1m10 0h1m4 0h2m2 0h1m4 0h1M33 105h1m3 0h1m23 0h1m27 0h1M68 106h2m27 0h1m20 0h1m10 0h1M27 107h1m2 0h1m47 0h1m10 0h1m25 0h1m10 0h1M74 108h1m7 0h1M139 109h1M85 110h1m3 0h1m25 0h1m10 0h1m7 0h1M23 111h1m97 0h1m2 0h1m3 0h1M25 112h1m35 0h1m4 0h1m35 0h2m8 0h1m6 0h1m5 0h1M36 113h1m51 0h1m14 0h1m15 0h1m4 0h1m23 0h1m9 0h1M34 114h1m9 0h1m14 0h1m63 0h1m23 0h1M41 115h1m9 0h1m29 0h1m23 0h1m5 0h1M30 116h1m6 0h1m13 0h1m25 0h1m80 0h1M107 117h1M63 118h1m18 0h1m19 0h1m19 0h1m16 0h1M49 119h1m20 0h1m5 0h1m29 0h1M50 120h1m4 0h1m13 0h1m10 0h1M70 121h1M91 122h2m36 0h1M53 123h1M64 124h1m17 0h1m24 0h1m15 0h1M52 125h1M50 126h1m10 0h1m1 0h1m9 0h1m7 0h1m8 0h1m10 0h2m4 0h1M70 127h1m11 0h1m6 0h1M73 128h1m19 0h1M24 129h1m5 0h1m24 0h1m26 0h1m47 0h1M24 130h1M31 131h1m49 0h1m37 0h1M24 132h1m1 0h2m33 0h1m45 0h1M82 133h1M77 134h1M105 135h1M33 136h1m37 0h1m20 0h1m41 0h1M43 137h1m89 0h1M43 138h1m10 0h1m45 0h1m9 0h1m12 0h1M75 139h1m27 0h1m10 0h1M39 140h1m16 0h1m9 0h1m25 0h1M31 141h1M47 142h1m62 0h1M82 143h1m22 0h1M63 144h1m36 0h1M39 145h1M54 146h1M63 147h1M49 149h1"/>
<path stroke="#2A768E" d="M166 3h1M164 12h1M170 14h1M160 18h1M150 20h1M140 21h1M154 23h1M134 28h1M149 33h1m39 0h1M49 34h1M48 35h1m137 0h1M160 36h1M50 37h1M54 38h1M191 40h1M53 41h1M88 42h1m5 0h1m22 0h1m55 0h1M86 43h1m38 0h1M48 45h1m52 0h1m2 0h1M48 46h1m54 0h1m7 0h1m23 0h1m19 0h1m9 0h1M104 47h1m39 0h1m16 0h1M86 48h1m54 0h1m7 0h1M48 49h1m47 0h1m12 0h1m25 0h1m17 0h1m4 0h1M155 51h1m23 0h1M154 52h1M105 53h1m1 0h1m28 0h1m28 0h1m6 0h1M49 54h1m110 0h1M49 55h1M54 56h1m51 0h1m6 0h1m47 0h1M107 57h1m3 0h1m12 0h1M55 58h1M54 59h1m7 0h1m81 0h2m9 0h1M58 60h1m134 0h1M51 61h1m4 0h1m54 0h1m6 0h1M62 62h1m98 0h1M54 63h1m1 0h1m42 0h1m15 0h1m15 0h1M195 64h1M62 65h1m129 0h1M125 66h1m45 0h1m16 0h1M47 67h1m53 0h1m11 0h1M54 68h1m7 0h1m131 0h1M159 69h1m37 0h1M63 70h1M120 71h2m2 0h1m19 0h1m3 0h1M114 72h1m52 0h1m20 0h1m3 0h1M94 73h1m35 0h1m4 0h1m10 0h1M12 74h1m53 0h1m74 0h1M49 75h1m79 0h1m6 0h2m22 0h1m11 0h1M13 76h1m97 0h1m49 0h1m24 0h1M10 77h1m1 0h1m91 0h1m70 0h1M45 78h1m54 0h1m27 0h1m42 0h1m18 0h1M15 79h1m34 0h1m7 0h1m7 0h1m2 0h1m73 0h1m40 0h1M14 80h1m33 0h1m46 0h1m41 0h1M43 82h2m14 0h1m1 0h1m37 0h1m26 0h1m51 0h1M22 83h1m6 0h1m9 0h2m2 0h1m22 0h1m25 0h1m88 0h1M9 84h1m2 0h1m10 0h2m25 0h1m14 0h1m28 0h1m9 0h1m28 0h1m31 0h1M26 85h1m36 0h1m28 0h1m9 0h1m20 0h1m9 0h1M14 86h1m6 0h1m3 0h2m13 0h2m7 0h1M32 87h1m5 0h1m8 0h1m45 0h1m9 0h1m9 0h2M52 88h1m22 0h1m12 0h1m25 0h1M17 89h1m19 0h1m38 0h1m13 0h1m1 0h1m32 0h1M13 90h1m13 0h1m7 0h1m3 0h2m6 0h1m34 0h1m7 0h1M34 91h1m22 0h1m51 0h1m11 0h1M14 92h1m20 0h1m11 0h1m13 0h1m61 0h1m8 0h1m47 0h1M15 93h1m18 0h1m21 0h2m25 0h1m1 0h1m15 0h1m9 0h1m2 0h1m2 0h1m45 0h1M62 94h1M31 95h1m10 0h1m53 0h1M41 96h1m41 0h1m7 0h1m14 0h1m11 0h1M26 97h1m5 0h1m81 0h1m40 0h1M21 98h1m20 0h1m30 0h1m28 0h1m72 0h1M41 99h1m60 0h1M34 100h1m51 0h1m36 0h1M77 101h1m1 0h1m3 0h1m23 0h1m6 0h1M17 102h1m45 0h1m71 0h1m14 0h1m8 0h1m12 0h1M23 103h1m78 0h1m20 0h1m47 0h1M92 104h1m15 0h1m8 0h2m10 0h1M20 105h1m5 0h1m8 0h1m40 0h1m7 0h1m8 0h1m24 0h1m18 0h1m32 0h1M22 106h2m21 0h1m60 0h1m32 0h1m24 0h1M26 107h1m4 0h1m33 0h1m28 0h1m12 0h1M31 108h1m10 0h1m12 0h1m2 0h1m41 0h1m52 0h1M34 109h1m3 0h1m6 0h1m23 0h1m20 0h1m18 0h1m9 0h1m1 0h1m43 0h1M28 110h1m6 0h1m129 0h1M90 111h1m2 0h1m7 0h1M26 112h1m1 0h2m30 0h1m20 0h1m6 0h1m34 0h1m11 0h1M26 113h1m17 0h1m34 0h1M41 114h1m9 0h1m29 0h1m6 0h1m11 0h1M39 115h1m20 0h1m19 0h1m29 0h1m43 0h1M31 116h1m61 0h1m32 0h1M41 117h1m2 0h1m32 0h1m4 0h1m20 0h1m16 0h1M68 118h1m22 0h1m24 0h1M52 119h1m50 0h1M34 120h1m72 0h1m13 0h1m4 0h1M35 121h1m12 0h1m12 0h1m21 0h1m30 0h1M28 122h1m11 0h1m2 0h1m25 0h1m12 0h1m14 0h1M54 123h1m18 0h1m10 0h1m17 0h1m20 0h1M84 124h2m8 0h1m32 0h1M62 126h1m56 0h1M56 127h1m9 0h1m21 0h1m57 0h1M59 128h1m14 0h1m32 0h1M63 129h1m30 0h1m24 0h1m24 0h1M101 130h2m9 0h1m10 0h1M25 131h1m8 0h1m12 0h2m30 0h1m27 0h1M33 132h1m7 0h1m3 0h1m5 0h1m29 0h1m2 0h1m11 0h1m37 0h1M31 133h1m25 0h1m5 0h1m7 0h1m17 0h1m19 0h1M125 134h1M65 135h1M59 136h1m3 0h1m10 0h1m35 0h1M75 137h1m26 0h1M62 138h1m11 0h1m43 0h1M52 139h1m16 0h1m47 0h1M61 140h1m8 0h1m8 0h1M37 141h1M39 142h1m36 0h1M95 143h1M53 144h1m3 0h1m1 0h1m1 0h1M66 145h1M48 146h1m8 0h1M46 152h1"/>
<path stroke="#26818E" d="M156 3h1m11 0h1M179 8h1M144 9h1M180 11h1M149 12h1M141 14h1M154 24h1M154 29h1m3 0h1M139 30h1M158 31h1m30 0h1M155 32h1M49 33h1M48 34h1m99 0h1M134 35h1M132 36h1M131 41h1M90 43h1m2 0h1M57 45h1m28 0h1m63 0h1M98 46h1m8 0h1M157 47h1M112 48h1M134 50h1M50 51h1m24 0h1m61 0h1m18 0h1M153 52h1m16 0h1M171 53h1M52 54h1m64 0h1m3 0h1m40 0h1M115 56h1m14 0h1M54 57h1m104 0h1M133 58h1m63 0h1M153 59h1M160 60h1M54 61h1M104 62h1m2 0h1m1 0h1m1 0h1m42 0h1m22 0h1M146 63h1m2 0h1M56 64h1m5 0h1m33 0h1m44 0h1m49 0h1M119 65h1m24 0h1m46 0h1M56 66h1m65 0h1m9 0h1M107 67h1m33 0h1m26 0h1M102 68h1m13 0h1m10 0h1m60 0h1M52 69h1m3 0h1m57 0h2m33 0h1m18 0h2M114 70h1m7 0h1M47 71h1m4 0h1m74 0h2m22 0h1m17 0h1m21 0h1M171 72h1m21 0h1M51 73h1m51 0h1m91 0h1M116 74h1M15 75h1m49 0h1m37 0h1m8 0h1m35 0h1M50 76h1m14 0h1m72 0h1M109 77h2m9 0h1M62 78h1m40 0h1m50 0h1m18 0h1M94 79h1m7 0h1m19 0h1m4 0h1m19 0h1m4 0h1m11 0h1M99 80h1m10 0h1m54 0h1M18 81h1m90 0h1m15 0h1m7 0h1M19 82h1m2 0h1m44 0h1m28 0h1m76 0h1M9 83h1m17 0h2m4 0h1m8 0h1m4 0h2m1 0h1m2 0h1m14 0h1m42 0h1m12 0h1m53 0h1M27 84h1m11 0h1m7 0h1m4 0h1m66 0h2m5 0h1M33 85h1m6 0h1m63 0h1m13 0h1m10 0h1M13 86h1m33 0h1m71 0h1M11 87h1m6 0h1m12 0h1m3 0h1m21 0h1M42 88h1m46 0h1m6 0h1M13 89h1m8 0h1m1 0h1m10 0h1m6 0h1m20 0h1m6 0h1m3 0h1M21 90h1m14 0h1m71 0h1m69 0h1M27 91h1m17 0h1m37 0h1m11 0h1m15 0h1m15 0h1m2 0h1M38 92h1m30 0h1m12 0h1m3 0h1m2 0h1m17 0h1m25 0h1M17 93h1m4 0h1m23 0h1m16 0h1m55 0h1m2 0h1m6 0h1M27 94h2m24 0h1m2 0h1m20 0h1m13 0h1m20 0h1m10 0h1m5 0h2M21 95h1m24 0h1m44 0h1m9 0h1m24 0h1m38 0h1M21 96h2m37 0h1m17 0h1m25 0h1m21 0h1m38 0h1M31 97h1m23 0h1m5 0h1m16 0h1m7 0h1m1 0h1m9 0h1m18 0h1m8 0h2M19 98h1m79 0h1m3 0h1m2 0h1m5 0h1m6 0h1m10 0h1m38 0h2M26 99h1m49 0h1m3 0h1m27 0h1M28 100h1m6 0h1m65 0h1M29 101h1m2 0h1m36 0h1M32 102h1m9 0h1m36 0h1m23 0h1m3 0h1m1 0h1m2 0h2m4 0h1m13 0h1M40 103h1m25 0h1m37 0h1m12 0h1m18 0h1M61 104h1m36 0h1m1 0h1m2 0h1m33 0h1m1 0h1M42 105h1m16 0h1m27 0h1m53 0h1M80 106h1m13 0h1m5 0h2m23 0h1M21 107h1m58 0h1m60 0h1M25 108h1m37 0h1m17 0h1m3 0h1m15 0h1m8 0h1m14 0h1m9 0h1m2 0h1M46 109h1m4 0h2m9 0h1m23 0h1m23 0h1m11 0h1m32 0h1M34 110h1m73 0h1m5 0h1m3 0h1m3 0h1M33 111h1m18 0h1m5 0h1m1 0h1m23 0h1m19 0h1m4 0h1m7 0h1M52 112h1m65 0h1m5 0h1M37 113h1m35 0h1m24 0h1m26 0h1m36 0h1M27 114h1m43 0h1m35 0h1m24 0h1M53 115h1m29 0h1m34 0h1m40 0h1M62 116h1m22 0h1M84 117h1M42 118h1m18 0h1M99 119h1M28 120h1m17 0h1m47 0h1m38 0h1M46 121h1m12 0h1m18 0h1m27 0h1m2 0h1m1 0h1m8 0h1M84 122h1m42 0h1m5 0h1M59 123h1m50 0h1M125 124h1m10 0h1M31 125h1m57 0h1m22 0h1M51 126h1m26 0h1m12 0h1m7 0h1M42 127h1m7 0h1m11 0h2M72 128h1m9 0h1m31 0h1m24 0h1M38 129h1m7 0h1m39 0h1m3 0h1m21 0h1M89 130h1m2 0h1m22 0h1M41 131h1m87 0h1M34 133h1m44 0h1m11 0h1m11 0h1M58 134h1M38 135h1m17 0h1m21 0h1m17 0h1m13 0h1M36 136h1m2 0h1m11 0h1m9 0h1m31 0h1M89 137h1m7 0h2m6 0h1m3 0h1M48 138h1m1 0h1m58 0h1m10 0h1M41 139h1m74 0h1M53 141h1M109 142h1M34 143h1m17 0h1m47 0h1M60 144h1M45 145h1m15 0h1M35 146h1M52 148h2"/>
<path stroke="#228B8D" d="M160 7h1M182 10h1M166 12h1M186 19h1M139 20h1m5 0h1m38 0h1M140 27h1M135 29h1M152 30h1M145 32h1M133 36h1M86 39h1M91 40h1M132 41h1m9 0h1m49 0h1M140 42h1m51 0h1M88 44h1m43 0h1m15 0h1M100 45h1M181 46h1M99 47h1M124 48h1m31 0h1M123 49h1M102 50h1M96 51h1m25 0h1M140 52h1m11 0h1M109 53h1m43 0h1M55 54h1M53 55h1m97 0h1m9 0h1M135 56h1m11 0h1M64 57h1m44 0h1m59 0h1M52 58h1M48 59h1M51 60h1m80 0h1M105 61h2m16 0h1m76 0h1M97 62h1m18 0h1m5 0h1m56 0h1M48 63h1m96 0h1m18 0h1M98 64h1m28 0h1m19 0h1m30 0h1M52 65h1M101 66h1m11 0h1m4 0h1m14 0h1m11 0h1M115 67h1M114 68h1m13 0h1m13 0h1m18 0h1M125 69h1m6 0h2M121 72h1m75 0h1M177 73h1M139 74h1m20 0h1m31 0h1M109 75h1m12 0h1m12 0h1m3 0h1m6 0h1M59 76h1m39 0h1m44 0h1M15 77h1m49 0h1m33 0h1m31 0h1M121 78h1M167 79h1m5 0h1M8 80h2m5 0h1m152 0h1M42 81h1m3 0h1m4 0h1m53 0h1M14 82h1m24 0h1m11 0h1m108 0h1m29 0h1M24 83h1m9 0h1m14 0h1m68 0h1m3 0h1m65 0h1M44 84h1M28 85h1M11 86h1m39 0h1m4 0h1m41 0h1m8 0h1m3 0h1m17 0h1m51 0h1M25 87h1m37 0h1m32 0h1M92 88h1M134 89h1M42 90h1m8 0h1m26 0h1m22 0h1m21 0h1M39 91h1m2 0h1m6 0h1m31 0h1m38 0h1m4 0h1m2 0h1M50 92h1m64 0h1m8 0h1M36 93h1m6 0h1m36 0h1m19 0h1m20 0h1m5 0h1M37 94h1m86 0h1m2 0h1M15 95h1m37 0h1m75 0h1M125 96h1M19 97h1m37 0h1m1 0h2m14 0h1m16 0h1m11 0h1m4 0h1m9 0h1m9 0h1m45 0h1M39 98h1m73 0h1m19 0h1M82 99h1m8 0h1M26 100h1m101 0h1m42 0h1M18 101h2m7 0h1m7 0h1m73 0h1m39 0h1M35 102h2m11 0h1m15 0h2m25 0h1m16 0h1m8 0h1m12 0h1M37 103h1m5 0h1m31 0h1m18 0h1m18 0h1m33 0h1m8 0h1M67 104h1m62 0h1m28 0h1M72 105h1m9 0h1m2 0h1m25 0h1m19 0h1M33 106h1m4 0h1m8 0h1m15 0h1m38 0h1m13 0h2m10 0h1m29 0h1M93 107h1m18 0h1M43 108h1m20 0h1m27 0h1m5 0h1m30 0h1m16 0h1M22 109h1m12 0h1m94 0h1m4 0h1M40 110h1m41 0h1m17 0h1m23 0h1m18 0h1M71 111h1m11 0h1m15 0h1m23 0h1m17 0h1M43 112h1m1 0h1m32 0h1m27 0h1m8 0h1m1 0h1m8 0h1m14 0h1M42 113h1m25 0h1m36 0h1m9 0h1M45 114h1m32 0h1m29 0h1m28 0h1M52 115h1m10 0h1m14 0h1m15 0h1m13 0h1M40 116h1m26 0h2m6 0h1m33 0h1M46 117h1m8 0h1m30 0h1m18 0h1m9 0h1m7 0h1m4 0h1m6 0h1M65 118h1m26 0h1m34 0h1M64 119h1m4 0h1M99 120h1m27 0h1M75 121h1M30 122h1m41 0h1m8 0h1m13 0h1m48 0h1M30 123h1M32 124h1m32 0h1m4 0h1M70 125h1m8 0h1m19 0h1m20 0h1M71 126h1m20 0h1M33 127h1m23 0h1m17 0h1m11 0h1M37 128h1m61 0h1m46 0h1M40 130h1m11 0h1m34 0h1M43 131h1m1 0h2m18 0h1m20 0h1m12 0h1m42 0h1M29 132h1m10 0h1m28 0h1m13 0h1M32 133h1m41 0h1m37 0h1M74 134h1m30 0h1m6 0h1m13 0h1M62 135h1m35 0h1M34 136h1m17 0h1m27 0h1m20 0h1M110 137h1M68 138h1m12 0h1M88 139h1M54 140h1M38 141h1m20 0h1m7 0h1M53 143h1M101 144h1M38 145h1M64 147h1"/>
<path stroke="#1F958B" d="M168 18h1m17 0h1M150 19h1M160 27h1M155 34h1M154 39h1m29 0h1M124 43h1m36 0h1M91 44h1M89 45h1m32 0h1m48 0h1M125 47h1m34 0h1M91 48h1m17 0h1m13 0h1m13 0h1M49 49h1m64 0h1m39 0h1M138 50h1m20 0h1m2 0h1M144 51h1m14 0h1M158 52h1m7 0h1M96 53h1m51 0h1m5 0h1M96 54h1m4 0h1M160 55h1m8 0h1M136 56h1m3 0h1M115 57h1m14 0h1M56 58h1M57 60h1m1 0h1M108 61h1M100 62h1m92 0h1M198 63h1M192 64h1M105 65h1m88 0h1M50 66h1m11 0h1m41 0h1m10 0h1m46 0h1M94 67h1m30 0h1M50 68h1m2 0h1m42 0h1m6 0h1m14 0h1M57 69h1m40 0h1M107 71h1m11 0h1m13 0h2m23 0h1M49 72h1m3 0h1m2 0h1m49 0h1m51 0h1M104 73h2m7 0h1m20 0h1M13 74h1m82 0h1m22 0h1M168 75h1M14 76h1m130 0h1m6 0h1m21 0h1M98 77h1m15 0h1m47 0h1M9 78h1m36 0h2m3 0h1m6 0h1m35 0h1m3 0h1m9 0h1m4 0h1m81 0h1M45 79h1m65 0h1m25 0h1M112 80h1m9 0h1m1 0h1M21 82h1m28 0h1m15 0h1m2 0h1m36 0h1m33 0h1m29 0h1M15 83h1m9 0h1m20 0h1m16 0h2m56 0h1M15 84h1m115 0h1M11 85h1M138 86h1M44 87h1m10 0h1m6 0h1m32 0h1m8 0h1M12 88h1M38 89h1m2 0h1m13 0h1m49 0h1m24 0h1m33 0h1m16 0h1M45 90h1m21 0h1m17 0h1m30 0h1m16 0h1M13 91h1m19 0h1m36 0h1m26 0h1m14 0h1m2 0h1m13 0h1M28 92h1m7 0h1m3 0h2m22 0h1m46 0h1M14 93h1m67 0h1m33 0h1M42 94h1m6 0h1m14 0h1m4 0h1m10 0h1m44 0h1M22 95h1m22 0h1m8 0h1m39 0h2m1 0h1m30 0h1M89 96h1m32 0h1m52 0h1M22 97h1m92 0h1m18 0h1M82 98h2m5 0h1m24 0h1M63 99h1m37 0h1m19 0h1m7 0h1m40 0h1M16 100h1m15 0h1m36 0h1m2 0h1m4 0h1m35 0h2m3 0h1m38 0h1m12 0h1M21 101h1m14 0h1m22 0h1m41 0h1m2 0h1m20 0h1m7 0h1m37 0h1M37 102h1m28 0h1m61 0h1m19 0h1M79 103h1m48 0h1m20 0h1M40 104h1m39 0h1m24 0h1m5 0h1m36 0h1M86 105h1m21 0h1m4 0h1M103 106h1m15 0h1m16 0h1m32 0h1M41 107h1m42 0h1m32 0h1m12 0h1M22 108h1m56 0h1m16 0h1m14 0h1m2 0h1m2 0h1M44 109h1m30 0h2m5 0h1m32 0h1m17 0h1M41 110h1m14 0h1m22 0h1m29 0h1M34 111h1m43 0h1m2 0h1m10 0h1m12 0h1m7 0h1M55 112h1m17 0h1m35 0h1m23 0h1m12 0h1M57 113h1m23 0h1m9 0h1m3 0h1m16 0h1m16 0h1M50 114h1m31 0h1m48 0h1M35 115h1m13 0h1m18 0h1m35 0h1m2 0h1M110 116h1M119 117h1m20 0h1M28 118h1m26 0h1m8 0h1m11 0h1m30 0h1M61 119h1m46 0h1m4 0h1m2 0h1m6 0h1M65 120h1m9 0h1m37 0h1m18 0h1M32 121h1m9 0h1m8 0h1m41 0h1m14 0h1M34 122h1m23 0h1m21 0h1M70 123h1M35 124h1m26 0h1M36 125h1m13 0h1m8 0h1m45 0h1M28 126h1m92 0h1M28 127h1m3 0h1m41 0h1m22 0h1m1 0h1m9 0h1M43 128h1m4 0h1m30 0h1m35 0h1m10 0h1M39 129h1m11 0h1m4 0h1M26 130h1m20 0h1M109 131h1m8 0h1M25 132h1M40 133h1m15 0h1m12 0h1m6 0h1m8 0h1m7 0h1m26 0h2M53 134h1m35 0h1m9 0h1M35 135h1m37 0h1m28 0h1m22 0h1M68 136h1m3 0h1m48 0h1M55 137h1m25 0h1m17 0h1M51 138h1M56 139h1m23 0h1M41 140h1m13 0h1M50 143h1m33 0h1M62 144h1M39 147h1m25 0h1M43 151h1"/>
<path stroke="#1FA088" d="M156 13h1M167 16h1m16 0h1M181 24h1M160 28h1M121 32h1M134 33h1M144 39h1M140 43h1M115 44h1m23 0h1M172 46h1M91 47h1m70 0h1M148 48h1M97 49h1M97 52h1m16 0h1m49 0h1M108 53h1m58 0h1M159 54h1M53 58h1m54 0h1m17 0h1m34 0h1M112 59h2m13 0h1m32 0h1M121 60h1M148 61h1m16 0h1M99 62h1m19 0h2M60 63h1m48 0h1m3 0h1m7 0h1m35 0h1m21 0h1M110 64h1m24 0h1M56 65h1M52 66h1m76 0h2m3 0h1m28 0h1m3 0h1M179 67h1M58 68h1m128 0h1M48 69h1m75 0h1M61 70h1m36 0h2m47 0h1m20 0h1m21 0h1M118 71h1m6 0h1M94 72h1m3 0h1m16 0h1m71 0h1M53 73h1m113 0h1m4 0h1M52 74h1m44 0h1m13 0h1m43 0h1m1 0h1M10 75h1m37 0h1m4 0h1m59 0h1m6 0h1m34 0h1m1 0h1m36 0h1M125 76h1M51 77h1m7 0h1m101 0h1M11 78h1m136 0h1M8 79h1m94 0h1m40 0h1m8 0h1M16 80h1m26 0h1m18 0h1m57 0h1M40 81h1m85 0h1M47 82h1m15 0h1m57 0h1M11 83h1m11 0h1m99 0h1M35 84h1m1 0h1M32 86h1m12 0h2m78 0h1m6 0h1M65 87h4M97 88h1m12 0h1m11 0h1M88 89h1m8 0h1m26 0h1M62 90h1m21 0h1m29 0h1m19 0h1M123 91h1M37 92h1m7 0h1m3 0h1m37 0h1m33 0h1M45 93h1m13 0h2m4 0h1m58 0h1M82 94h1M61 95h1m14 0h1m28 0h2m13 0h1m42 0h1M40 96h1m49 0h1m26 0h1M43 97h1m21 0h1m62 0h1m2 0h1M76 98h1m54 0h1m40 0h1M64 99h1m7 0h1m1 0h1m9 0h1m19 0h1m13 0h1M115 100h1m10 0h2m3 0h1m19 0h1m4 0h1M66 101h1m24 0h1m19 0h1m9 0h1M18 102h1m21 0h1m49 0h1m9 0h1M18 103h1m16 0h1M85 104h2m3 0h1m31 0h1m39 0h1M74 105h1m16 0h1m27 0h1M35 106h1m10 0h1m30 0h1m26 0h1m2 0h1m12 0h1M36 107h1m34 0h1m7 0h1m11 0h1m14 0h1m9 0h1m12 0h1M21 108h1m26 0h1m20 0h1m56 0h1M23 109h1m65 0h1m30 0h1m8 0h1m7 0h1M42 110h1m18 0h1m18 0h1m12 0h1m25 0h1m10 0h1m35 0h1M24 111h1m19 0h1m67 0h1m13 0h1M59 112h1m11 0h1m24 0h1m8 0h1m22 0h1m33 0h1M50 113h1m8 0h1m50 0h1m5 0h1m4 0h1m9 0h1M53 114h1m15 0h1m5 0h1m19 0h1m8 0h1m19 0h1M47 115h1m36 0h1M41 116h1m15 0h1m32 0h1M54 117h1m66 0h1M35 118h1m9 0h1m32 0h1m7 0h1m22 0h1m25 0h1M63 119h1m22 0h1m41 0h1m2 0h1M48 120h1m9 0h1m49 0h1m9 0h1M54 121h1m24 0h1m30 0h1M29 122h1m86 0h1m4 0h1M33 123h1m4 0h1m40 0h1M68 124h1m10 0h1M29 125h1m15 0h1m22 0h1m11 0h1m14 0h1M67 126h1m18 0h1m10 0h1M39 127h1m12 0h1M44 128h1m18 0h1m37 0h1M49 129h1m14 0h2m42 0h1M29 130h1m44 0h1m10 0h1M39 131h1m14 0h1m2 0h1m10 0h1m3 0h1M90 132h1M78 133h1m19 0h1M28 135h1m28 0h1m6 0h1M57 136h1m42 0h1M52 138h1m29 0h1M45 139h1m31 0h1M80 140h1M29 141h1m24 0h1M54 142h2m16 0h1M85 143h1M35 145h1m15 0h1m13 0h1M47 146h1m15 0h1M49 151h1"/>
<path stroke="#24AA83" d="M153 10h1M150 16h1M174 26h1M94 44h1m81 0h1M156 45h1m28 0h1M131 46h1m15 0h2M89 47h1m3 0h1m53 0h1m18 0h1M112 49h1M150 50h1M135 51h1M98 52h1m70 0h1M99 53h1M109 54h1M119 56h1M55 57h1m67 0h1M58 58h1m36 0h1m19 0h1m30 0h1m51 0h1M50 59h1m59 0h1m9 0h1m1 0h1M125 60h1m5 0h1m23 0h1M112 62h1m15 0h1m41 0h1M105 63h2M47 65h1m7 0h1m106 0h2M143 66h1m10 0h1m43 0h1M55 67h1m63 0h2m13 0h1m61 0h1M95 68h1m37 0h1M194 69h1M48 70h1m63 0h1m65 0h1M54 71h1m5 0h1m49 0h1M113 72h1m11 0h1m63 0h1M54 73h2m36 0h1m35 0h1m22 0h1M54 74h1m3 0h1m83 0h1m15 0h1M14 75h1M95 76h1m17 0h1m7 0h1m9 0h1m5 0h1m12 0h1m42 0h1M95 77h1m43 0h1m4 0h1m25 0h1M7 78h1m2 0h1m4 0h1m44 0h1m71 0h1M120 79h1m4 0h1m12 0h1M57 80h1m44 0h1m4 0h1m34 0h1M113 81h1m5 0h1M9 82h1m42 0h1m65 0h1m8 0h1m10 0h2M30 83h1m77 0h1M53 84h1m41 0h1m21 0h1m11 0h1M48 85h1m6 0h1m41 0h1M43 86h1M51 87h1m66 0h1m1 0h1m59 0h1M57 88h1m6 0h1m53 0h1m1 0h2m9 0h1M44 89h1m66 0h1m2 0h1m1 0h1m10 0h1M99 90h1m9 0h1m5 0h1m2 0h1M43 91h1m19 0h1m12 0h1m26 0h1m9 0h1M27 92h1m40 0h1m51 0h1M38 93h1m39 0h1m39 0h1M61 94h1m16 0h1m30 0h1m10 0h1M36 95h1m18 0h1m10 0h1m12 0h1m30 0h1m6 0h1m3 0h1M109 96h1m2 0h1m11 0h1m2 0h1m5 0h1M15 97h1m40 0h1m10 0h1m50 0h1M22 98h1m45 0h1m39 0h1m14 0h1m2 0h1M36 99h1m2 0h1m26 0h1m50 0h1m7 0h2m4 0h1M45 100h1m2 0h1m56 0h1m23 0h1m4 0h1M62 101h1m8 0h1m79 0h1M122 102h1m6 0h1M115 103h1m11 0h1m41 0h1M19 104h2m37 0h1M46 105h1m1 0h1m26 0h1m2 0h1m25 0h1m19 0h1m1 0h1m3 0h1M21 106h1M32 107h1m15 0h1m9 0h1m29 0h1m1 0h1m1 0h1m11 0h1m14 0h1m7 0h1m27 0h1M54 108h1M47 109h1m9 0h1m10 0h1m8 0h1m45 0h1m2 0h1m1 0h1M62 110h1m39 0h1m1 0h1M38 111h1m8 0h1m22 0h1m15 0h1m33 0h1M35 112h1m44 0h1m16 0h1m23 0h1M39 113h1m14 0h1m25 0h1m39 0h1M115 114h1m9 0h1M55 115h1m36 0h1m26 0h1m5 0h1m10 0h1M33 116h1m25 0h1m21 0h1m14 0h1m15 0h1m4 0h1m6 0h1m2 0h1M32 117h1m7 0h1m17 0h1m50 0h1m4 0h1m3 0h1M56 118h1m3 0h1m29 0h1m3 0h1m8 0h1m10 0h1M56 119h1m3 0h1m21 0h1M71 120h1m5 0h1m39 0h1M71 121h1m58 0h1M36 122h1m2 0h1m13 0h1m7 0h1m11 0h1m1 0h1m39 0h1M32 123h1m12 0h1M29 124h1m46 0h2m27 0h1m45 0h1M51 125h1m4 0h1m30 0h1m52 0h1M51 127h1m9 0h1m28 0h1M52 128h1m7 0h1m33 0h1m28 0h1M28 129h1m62 0h1M54 130h1m12 0h1m9 0h1m20 0h1M52 131h1m16 0h1m22 0h1M53 132h1m23 0h1m32 0h1M39 133h1m71 0h1M109 134h1m1 0h1M76 135h1M75 136h1m1 0h1M58 137h1m15 0h1m17 0h1M55 138h1M75 141h1M36 143h1m19 0h1m16 0h1M87 144h1M64 146h1M47 149h1m2 0h1"/>
<path stroke="#2FB47C" d="M158 6h1M150 15h1M161 23h1M180 25h1M152 28h1m29 0h1M150 36h1M150 38h1M137 39h1M161 40h1M91 41h1m71 0h1M160 44h1M90 46h2m61 0h1M164 47h1M169 49h1M171 50h1M170 51h1M134 52h1M133 53h1m4 0h1M101 55h1m64 0h1M104 56h1M158 57h1M120 58h1m79 0h1M52 59h1m58 0h1M100 60h1M133 61h1m4 0h1M48 62h1m57 0h1m51 0h1m35 0h1M107 63h1M116 64h1m76 0h1M161 65h1m37 0h1M117 66h1M60 67h1m106 0h1M100 68h1m68 0h1m25 0h1M47 69h1m133 0h1M108 70h1m16 0h1m7 0h1M108 71h1M107 73h1m24 0h1m5 0h1m3 0h1m53 0h1M47 74h1m59 0h1m25 0h1M47 75h1m9 0h1m6 0h1m41 0h1m8 0h1m72 0h1M15 76h1m31 0h1m8 0h1m3 0h1m2 0h1m64 0h1M47 77h1m63 0h1M55 78h1m56 0h1M121 79h1M7 80h1m41 0h1m78 0h1M55 81h1m39 0h1m5 0h1m70 0h1M119 82h1M58 83h1m3 0h1m42 0h1M110 86h1m5 0h1m4 0h1m48 0h1m5 0h1m6 0h1M113 88h1M51 89h1m66 0h1m4 0h1m8 0h1m33 0h1M50 90h1m46 0h1m30 0h1m2 0h1M84 91h2m1 0h1m12 0h1m17 0h1m42 0h1M39 93h3m8 0h1m4 0h1m35 0h1m10 0h1m12 0h1M54 94h1m8 0h1m25 0h1m17 0h1m11 0h1M37 95h1m9 0h1m66 0h1m12 0h1M53 96h1m5 0h1m21 0h1m3 0h2m32 0h1m3 0h1m4 0h1M45 97h1m1 0h1m16 0h1m14 0h1m14 0h1m27 0h1m10 0h1M34 98h1m28 0h1M69 99h1m16 0h1m40 0h1m4 0h1m39 0h1M71 100h1m8 0h1m44 0h1M46 101h1m8 0h1m71 0h1m2 0h1M41 102h1m5 0h1m29 0h1m2 0h1m5 0h1m37 0h3M74 103h1m51 0h1m2 0h1M33 104h1m31 0h1m6 0h1m22 0h1m30 0h2M77 105h1m20 0h1m7 0h2m8 0h2m9 0h2M50 106h1m75 0h1M33 107h1M37 108h1m6 0h1m2 0h1m32 0h1m35 0h1m11 0h1M66 109h1m60 0h1M46 110h1m1 0h1m27 0h2m25 0h1m19 0h1m4 0h1m3 0h1M97 111h1m24 0h1M27 112h1m20 0h1m71 0h1M94 113h1m14 0h1m12 0h1M38 114h1m9 0h1m15 0h1m5 0h1m6 0h1m11 0h1M37 115h2m11 0h1m11 0h1m60 0h1M32 116h1m40 0h1m47 0h1m12 0h1m3 0h1M67 117h1M66 118h1M31 119h1m11 0h2m1 0h1m75 0h1M62 120h1m1 0h1m19 0h1m15 0h1m3 0h1M72 121h2m58 0h1M31 122h1m3 0h1m41 0h1M71 123h1m3 0h2m12 0h1m15 0h1M59 124h1m32 0h1M96 125h1M31 126h1m47 0h2m4 0h1m8 0h1m5 0h1M77 127h1m6 0h1M29 128h1m31 0h1m4 0h1M69 129h1m53 0h1M25 130h1m40 0h1m1 0h2m3 0h1m57 0h1m7 0h1M59 131h1m1 0h1m2 0h1m1 0h1m35 0h1m7 0h1M82 132h1M48 133h1m1 0h1m26 0h1M113 134h1M48 135h1m32 0h1m27 0h1M29 136h1m48 0h1M29 137h1m24 0h1m1 0h2m20 0h1m3 0h1m24 0h1M85 138h1M42 140h1m15 0h1m1 0h1M56 141h1M32 143h1m18 0h1m8 0h1m14 0h1m37 0h1M56 144h1m15 0h1M37 145h1M37 147h1m11 0h2m6 0h1m9 0h1M39 148h1"/>
<path stroke="#42BE71" d="M183 10h1M173 11h1M170 19h1M139 21h1M146 24h1M149 39h1M149 40h1M95 44h1M146 46h1M109 47h1m44 0h1M98 48h1m48 0h1M91 49h1M117 50h1M167 52h1M121 53h1m37 0h1M163 54h1M114 55h1M133 57h2M162 58h1m9 0h1M53 59h1m1 0h1M97 60h1m10 0h1m13 0h1m1 0h1M143 61h1m27 0h1M105 62h1m91 0h1M137 63h1m59 0h1m1 0h1M49 65h1m51 0h1m13 0h1m20 0h1M111 66h1M133 67h1M60 68h1m56 0h1M50 69h1m3 0h1m132 0h1M126 70h1M112 71h1M59 72h1m43 0h1m13 0h1M47 73h1m71 0h1M10 74h1m109 0h1m74 0h1M125 75h1m6 0h1M11 76h1m43 0h1m64 0h1m74 0h1M172 77h1M104 78h1M51 80h1m57 0h1m24 0h1M122 81h1M54 82h1m42 0h1m11 0h2m13 0h1M113 83h1M123 84h1M95 85h1m39 0h1m42 0h1M94 86h1m18 0h1m70 0h1M98 87h1M119 88h1M57 89h1m44 0h2M49 90h1m20 0h1M40 91h2m5 0h1m27 0h1M39 92h1m2 0h1m13 0h1m59 0h1M42 93h1m9 0h1m18 0h1m7 0h1m45 0h1M60 94h1m27 0h1m5 0h1m3 0h1m12 0h1m5 0h1m10 0h1M58 95h2m24 0h2m16 0h1m12 0h1m2 0h1m5 0h1m6 0h1M80 96h1M62 97h1m18 0h1m30 0h1M16 98h1m26 0h1m25 0h1m40 0h1m4 0h1m4 0h2M105 99h1m13 0h1m2 0h1m10 0h1m14 0h1M117 100h1M123 101h2m1 0h1m2 0h1m26 0h1M57 102h1m13 0h1m20 0h1m8 0h1m12 0h1m12 0h1m6 0h1M64 103h1m24 0h1m16 0h1m9 0h1m8 0h1m8 0h1M44 104h1m15 0h1m3 0h1m19 0h1m27 0h1M39 105h1m26 0h3m60 0h1m21 0h1M39 106h1m11 0h1m5 0h1m8 0h1m6 0h1m4 0h1m3 0h2m30 0h1M46 107h1m2 0h1m10 0h1m24 0h1m27 0h1m9 0h2m3 0h1m6 0h1M46 108h1m5 0h1m3 0h1m14 0h1m5 0h1m13 0h1m13 0h1m15 0h1m2 0h1m5 0h1M60 109h1m36 0h1M55 110h1m13 0h1m21 0h1M43 111h1m17 0h1m23 0h1M47 112h1m24 0h1m13 0h1m20 0h1m14 0h1m4 0h1M27 113h1m42 0h1m11 0h1m13 0h1m5 0h1M67 114h1m6 0h1m54 0h1M27 115h1m92 0h1M43 116h1m12 0h1m30 0h1m28 0h1m6 0h1M61 117h1m65 0h1M37 118h1M38 119h1m15 0h1m33 0h1m11 0h1m17 0h1M98 120h1M45 122h2m55 0h1m10 0h1M82 123h1m12 0h1M104 124h1M32 125h1m25 0h1m8 0h1m26 0h1m14 0h1m3 0h1M68 126h1M45 127h1m14 0h1m35 0h1m11 0h1M69 128h1m7 0h1M32 129h1m7 0h1m29 0h1m22 0h1m23 0h1M81 130h1m18 0h1M27 131h1m50 0h1m4 0h1m3 0h1M43 132h1m6 0h1m20 0h1m16 0h1M80 133h1m15 0h1m3 0h1M110 134h1m23 0h1M101 135h1m10 0h1M108 137h1M88 138h1M121 139h1m5 0h1M29 140h1m37 0h1M70 141h1M48 143h1M36 146h1M38 147h1m12 0h1M63 148h1M50 150h1"/>
<path stroke="#58C765" d="M168 6h1M185 17h1M185 18h1M181 20h1M168 29h1m10 0h1M160 32h1M127 33h1M158 39h1M131 40h1M91 42h1M95 43h1M103 45h1m54 0h1M104 46h1m65 0h1m16 0h1M132 47h1M167 48h1M113 49h1m22 0h1M158 50h1M94 51h1m20 0h1m38 0h1M135 53h1M103 56h1m25 0h1m39 0h1M125 57h1M131 58h1m15 0h1m17 0h1m4 0h1m30 0h2M57 59h1M98 60h1m10 0h2m34 0h1M48 61h1m1 0h1m63 0h1M114 63h1M121 64h1m9 0h1m26 0h1M197 65h1M49 66h1m64 0h1M106 67h1M181 68h1m16 0h1M97 69h1m1 0h1m13 0h1m75 0h1M47 70h1m71 0h1m77 0h1M56 71h1m41 0h1m31 0h1M48 73h1m46 0h1m6 0h1m9 0h1M11 74h1m36 0h1m10 0h1M128 75h1M48 76h1m78 0h1m1 0h1m42 0h1M53 77h1m54 0h1M123 78h1m48 0h1M135 79h2M106 80h1m28 0h1M104 81h1M187 82h1M112 83h1m6 0h1M96 86h1m7 0h1M116 87h2m10 0h1m5 0h1m35 0h1M130 88h1M50 89h1m40 0h1m39 0h1M44 90h1M52 91h1m25 0h1m35 0h1M44 92h1m9 0h1m10 0h1m48 0h1M49 93h1m36 0h1m8 0h1M52 94h1m63 0h1m4 0h1m10 0h1M41 95h1m2 0h1m45 0h1m42 0h1M48 96h1m66 0h2m3 0h1m9 0h1M70 97h1m3 0h1m31 0h1m17 0h1M58 98h1m27 0h1m24 0h1m6 0h1m9 0h1m3 0h1m17 0h1M75 99h1m11 0h1m23 0h1m2 0h2m4 0h1M42 100h1m16 0h1m13 0h1m10 0h1m18 0h1m3 0h1m4 0h1m7 0h3m49 0h1M39 101h1m25 0h1m23 0h1m32 0h1m8 0h1m28 0h1M74 102h1m29 0h1m10 0h2m19 0h1M71 103h1m1 0h1m11 0h1m14 0h1m23 0h1M66 104h1m39 0h1m6 0h3m4 0h1m7 0h1m11 0h1m9 0h1M34 105h1m77 0h1m26 0h1M62 106h1m28 0h1m29 0h1M61 107h1m13 0h1m21 0h1m11 0h1m8 0h1m6 0h1m16 0h1M41 108h1m33 0h1m33 0h1M84 109h1m23 0h1m9 0h1M59 110h1m26 0h1m33 0h1m10 0h1M41 111h1m13 0h1m35 0h1m8 0h1m26 0h1m6 0h1M92 112h1m38 0h1M35 113h1m71 0h1m6 0h1M39 114h1m56 0h1m21 0h1m8 0h1M45 115h1m50 0h1m25 0h1M28 116h1m42 0h2M34 117h1m1 0h1m29 0h1m20 0h2m3 0h1m23 0h1M32 118h1m20 0h1m16 0h1m34 0h1m2 0h1m47 0h1M53 119h1m17 0h1m43 0h1M42 120h1m6 0h1m11 0h1m11 0h1m2 0h1m16 0h1m18 0h1m2 0h1M60 121h1m1 0h1m31 0h1m7 0h1M80 123h1m2 0h1m4 0h1M44 124h1m13 0h1m30 0h1m27 0h1M46 125h1m2 0h1m34 0h1m13 0h1m26 0h1M72 126h1M76 127h1m8 0h1m7 0h1m12 0h1m40 0h1M45 128h1m38 0h1m3 0h1m1 0h1M54 129h1m34 0h1M48 130h1m30 0h1m11 0h1M23 131h1m66 0h1m12 0h1M30 132h1m7 0h1m16 0h1m20 0h1m3 0h1M104 133h1M49 134h1M27 135h1m42 0h1m4 0h1m1 0h1m1 0h1m42 0h1M56 136h1M30 137h1m53 0h1M85 139h1M125 140h1M109 141h1M30 142h2M29 143h1m8 0h1m25 0h1M34 145h1m13 0h1M61 146h1M34 147h1M57 148h1M51 150h1"/>
<path stroke="#70CF57" d="M157 9h1M169 13h1M185 19h1M149 25h1M92 45h1m68 0h1M133 48h1m32 0h1M111 49h1m20 0h1m43 0h1M149 50h1M133 51h1m30 0h1M170 53h1M103 55h1m48 0h1M159 56h1M103 57h1M57 58h1M110 61h1m9 0h1m3 0h1M113 62h1m10 0h1m25 0h1M124 65h1m5 0h1m2 0h1m59 0h1M166 66h1M49 67h1m4 0h1m66 0h1M116 69h1m31 0h1m31 0h1M121 70h1m8 0h1m17 0h1M97 71h1M116 72h1M50 73h1m70 0h1m15 0h1M95 74h1m6 0h1m3 0h1m31 0h1m17 0h1M51 75h1m55 0h1m66 0h1M54 76h1m2 0h1m68 0h1m3 0h1m3 0h1M50 77h1m79 0h1M107 78h1m6 0h1m5 0h1M109 79h1m2 0h1m10 0h1m16 0h1M60 80h1M56 81h1m5 0h1m48 0h1m28 0h1M120 82h1M116 83h1m9 0h1M60 84h1m48 0h1m6 0h1M110 85h1m4 0h1m3 0h1m51 0h1m4 0h1M63 86h1m33 0h1m19 0h1m64 0h1M51 88h1m4 0h1m1 0h1m6 0h1m35 0h1m27 0h1M58 89h1m35 0h1M56 90h1M94 91h1m3 0h1M77 92h1m26 0h1m12 0h1M47 93h1m22 0h1m3 0h1m22 0h1m6 0h1m3 0h1M86 94h1M60 95h1m1 0h1m23 0h1m2 0h1m23 0h1m8 0h1M42 96h1m9 0h1m5 0h1m62 0h1M46 97h1m1 0h1m52 0h1m11 0h1m9 0h1m11 0h1M41 98h1m4 0h1m9 0h1m59 0h1m10 0h1m7 0h1M55 99h1m25 0h1m21 0h1m6 0h1M43 100h1m3 0h1m13 0h1m37 0h1M42 101h1m6 0h1m17 0h1m4 0h1m29 0h1m10 0h1M67 102h1m51 0h1m1 0h1m1 0h1M53 103h1m51 0h1m12 0h2m1 0h2M43 104h1m19 0h1m52 0h1m2 0h1m1 0h1m23 0h1M122 105h1m2 0h1M55 106h1m3 0h1m53 0h1m1 0h1m8 0h1M57 107h1m1 0h1m4 0h1m12 0h1m30 0h1m12 0h1M40 108h1m12 0h1m6 0h1m11 0h1m45 0h1m3 0h2m3 0h1M48 109h1m32 0h1m9 0h1m7 0h1m34 0h1m13 0h1M54 110h1m2 0h1m5 0h1m8 0h1m23 0h1m24 0h1M50 111h1m16 0h1m57 0h1M39 112h1m25 0h1m4 0h1m12 0h1m20 0h1M72 113h1m50 0h1m4 0h1m1 0h1M85 114h1M28 115h1m38 0h1m2 0h1m4 0h1m38 0h1M27 116h1m38 0h1m40 0h1M68 117h1m26 0h1m10 0h1m1 0h1m13 0h1M31 118h1m39 0h1m13 0h1m18 0h1m19 0h1m8 0h1M91 119h1m37 0h1M52 120h1m30 0h1m36 0h1m3 0h1M37 121h1m11 0h1m24 0h1m6 0h1M71 122h1m27 0h1M42 123h1M42 124h1m28 0h1M73 125h1m7 0h1m32 0h1M40 126h2m45 0h1M51 128h1m6 0h1m9 0h1m2 0h1m36 0h1M29 129h1m69 0h1m13 0h1M28 130h1m47 0h1m27 0h1M67 131h1m5 0h1m6 0h1m1 0h1M47 132h1m1 0h1m29 0h1M54 133h1M62 134h1m10 0h1m5 0h1M40 135h1m8 0h1m30 0h1M53 136h1m28 0h1m6 0h1m8 0h1M67 138h1m29 0h1M84 139h1m24 0h1M65 140h1M56 142h1m4 0h1M31 143h1m15 0h1M35 144h1M69 145h1M34 146h1M66 147h1m1 0h1"/>
<path stroke="#8BD646" d="M163 10h1M156 27h1M162 41h1M159 43h1M92 44h1M137 45h1M89 46h1M123 47h1M115 49h1M112 50h1m43 0h1m4 0h1m15 0h1M130 51h1M132 52h1M166 53h1M161 54h1m12 0h1M134 56h1M99 58h1m14 0h1m3 0h1M52 60h1m62 0h1m7 0h1m26 0h1M52 61h1m144 0h1M108 62h1M101 63h1M99 64h1m96 0h1M98 65h1M54 66h1m57 0h1m3 0h1m4 0h1m9 0h1m14 0h1m8 0h1M142 67h1m45 0h1m9 0h1M122 68h1m6 0h1m59 0h1M107 69h1M54 70h1m2 0h1m38 0h2m13 0h1m38 0h1M59 71h1m53 0h1M99 72h1m24 0h1M108 73h1m7 0h2M51 74h1m4 0h1m68 0h1M11 75h1m84 0h1m3 0h1m4 0h1m15 0h1m27 0h1M114 76h1M127 77h1M146 78h1M145 79h1m47 0h1M58 80h1m77 0h1M117 81h1m2 0h1M112 82h2m28 0h1M35 83h1m15 0h1m65 0h1m2 0h1M54 84h1m123 0h1M118 86h1M116 88h1m10 0h1m4 0h1M62 89h1m1 0h1M98 90h1m13 0h1m53 0h1M44 91h1m1 0h1m1 0h1m5 0h1m41 0h1m20 0h1M43 92h1m13 0h1m15 0h1m34 0h1M58 93h1m33 0h1m16 0h1M83 94h1m13 0h1m12 0h1M107 95h1M84 96h1m29 0h1m16 0h1m2 0h1M49 97h1m4 0h1m70 0h1m48 0h1M48 98h1m15 0h1m29 0h1m22 0h1m6 0h2m3 0h1M45 99h1m15 0h1m21 0h1m4 0h1M87 100h1m36 0h1M60 101h1m23 0h1m27 0h1m3 0h2M45 102h1m4 0h2m43 0h1m6 0h1m2 0h1m14 0h1M42 103h1m14 0h1m2 0h1m25 0h1m8 0h1m24 0h1m12 0h1M38 104h1m16 0h1m1 0h1m12 0h1m100 0h1M53 105h1m9 0h1m30 0h1m26 0h1m1 0h1M67 106h1m3 0h1m16 0h1m33 0h1m8 0h1M66 107h1m29 0h1M57 108h1m28 0h1m10 0h1m1 0h1m8 0h1m11 0h1m10 0h1m4 0h2M37 109h1m5 0h1m6 0h1m10 0h1m8 0h1M47 110h1m5 0h1m17 0h1m9 0h1M48 111h1m2 0h1m28 0h1m27 0h1m6 0h2m1 0h2m10 0h1M31 112h1m24 0h1m12 0h1m21 0h1M41 113h1m44 0h1m3 0h1m8 0h1M111 114h1m10 0h1m3 0h1M72 115h1m9 0h1M76 116h1m9 0h1m4 0h1m14 0h1m1 0h1m10 0h2M37 117h1m34 0h1m53 0h1M87 118h1m35 0h1M73 119h1m35 0h1m14 0h1M33 120h1m10 0h1m29 0h1m30 0h1M31 121h1m13 0h1m54 0h1m12 0h1m1 0h1m21 0h1M56 122h1m6 0h1m42 0h1m5 0h1m1 0h1m4 0h1M28 123h1m2 0h1M31 124h1m66 0h1M92 125h1M43 126h1m21 0h1m16 0h1m21 0h1m7 0h1M38 127h1m47 0h1m5 0h1M27 129h1m60 0h1M39 130h1m44 0h1M32 131h1m2 0h1m48 0h1M70 132h1m26 0h1m1 0h1M55 133h1m25 0h1m5 0h1m9 0h1m12 0h1M56 134h1m27 0h1m18 0h1M97 135h1m6 0h1m6 0h1M60 136h1m4 0h1m19 0h1M106 137h1M32 138h1m50 0h1M108 139h1M116 140h1M57 141h1m3 0h1M89 142h1m4 0h1M33 143h1m42 0h1m2 0h2M71 144h1M58 147h1"/>
<path stroke="#A8DB34" d="M166 44h1M93 45h1M143 46h1M100 47h1M155 48h1m2 0h1M99 49h1m38 0h2M150 51h1m6 0h1M155 52h1m12 0h1M148 56h1M113 57h1m31 0h1m19 0h1M49 58h1m84 0h1m1 0h1m7 0h1M164 59h1M143 62h1M110 63h1M111 64h1m25 0h1m7 0h1M48 65h1m53 0h1m93 0h1M47 66h1m7 0h1m41 0h1m91 0h1M105 68h1m2 0h1M52 70h1m76 0h1M111 71h1M135 72h1m20 0h1M115 73h1m4 0h1M57 74h1m56 0h1m28 0h1M58 75h2m57 0h1M53 76h1m68 0h1M57 77h1m2 0h1m51 0h2m21 0h1m61 0h1M110 78h1m25 0h1M107 79h1m6 0h1m4 0h1M56 80h1m54 0h1m7 0h1m39 0h1M54 81h1m55 0h1m7 0h1M27 82h1m10 0h1m21 0h1m50 0h1m25 0h1M109 83h1m15 0h1M96 84h1m5 0h2m18 0h1m2 0h1M188 85h1M53 86h1M99 87h1M63 88h1M104 89h1m12 0h1M52 90h1m36 0h1M101 91h1M80 92h1m16 0h1m14 0h1M73 93h1m16 0h1M39 94h1m1 0h1m3 0h1m2 0h1M81 95h1m10 0h1m10 0h1m5 0h1m6 0h1m2 0h1m3 0h1m6 0h1M47 96h1m51 0h1M42 97h1m8 0h1m6 0h1M40 98h1m14 0h1m53 0h1M35 99h1m71 0h1m4 0h1m11 0h1M49 100h1m3 0h1m4 0h1m22 0h1m22 0h1m4 0h1m1 0h1m7 0h1m16 0h1M64 101h1m5 0h1m3 0h1m57 0h1M43 102h1m16 0h1m27 0h1m44 0h1m4 0h1m35 0h1M49 103h1m5 0h2m1 0h1m37 0h1M42 104h1m8 0h1m24 0h1m30 0h1m15 0h2M49 105h1m8 0h1m5 0h1m15 0h2m19 0h1m12 0h1m5 0h1M48 106h1m26 0h1m3 0h1m10 0h1m5 0h1m1 0h1m24 0h1m6 0h1M55 107h1m30 0h1m35 0h1M119 108h1M40 109h1m44 0h1M21 110h1m15 0h1m7 0h1m21 0h1m16 0h1m10 0h1m9 0h1m21 0h1M76 111h1m5 0h1m12 0h1m14 0h1m56 0h1M74 112h1M52 113h1m11 0h1m2 0h1m15 0h1m3 0h1m23 0h1m14 0h1M42 114h1m13 0h1m9 0h1m12 0h1m6 0h1m5 0h1M48 115h1m5 0h1m16 0h1m15 0h1m25 0h1m12 0h1m1 0h1M55 116h1m7 0h1m20 0h1m4 0h1m4 0h1M36 118h1m11 0h1m5 0h1m28 0h1M33 119h2m22 0h1m9 0h1m9 0h1m6 0h2M30 120h1m39 0h1m32 0h1M98 121h1M83 122h1M46 123h1m105 0h1M72 124h1m2 0h1m4 0h2m4 0h1m15 0h1M69 125h1m2 0h1m18 0h1m10 0h1m39 0h1M57 126h1m25 0h1m21 0h1m4 0h1M78 127h2M56 128h1m18 0h1m13 0h1m2 0h1m12 0h1m21 0h1M71 129h1m2 0h1m10 0h1m10 0h1m43 0h1M50 130h1m13 0h1m7 0h1m2 0h1M97 131h1M93 132h1m8 0h2M69 134h1m10 0h1m15 0h1M124 136h1M51 139h1m3 0h1m18 0h1m4 0h1M57 140h1m45 0h1M125 141h1M40 142h1M78 143h1M39 144h1m59 0h1M72 145h1M40 147h1m7 0h1m22 0h1M68 148h1M39 149h1M49 152h1"/>
<path stroke="#C5E021" d="M188 33h1M192 39h1M167 42h1m16 0h1M130 43h1M106 45h1M92 46h1M138 48h1M131 51h1m26 0h1M135 52h1M107 54h1m61 0h1M105 55h1m57 0h1M109 56h1M135 57h1M124 58h2m1 0h1m20 0h1M51 59h1m56 0h1m69 0h1M112 61h1M123 62h1m20 0h1m3 0h1m31 0h1M143 64h1M127 65h1m14 0h1M123 66h1m34 0h1M102 67h1m14 0h1m71 0h1M107 68h1m5 0h1M55 69h1M55 70h1m2 0h2m47 0h1m62 0h2M53 71h1m3 0h1m48 0h1M107 72h1M14 73h1m99 0h1m16 0h1m20 0h1m45 0h1M16 74h1m32 0h1m79 0h2m59 0h1M127 75h1m62 0h1M10 76h1m38 0h1m62 0h1m11 0h1m7 0h1m2 0h1M8 77h2m111 0h2m14 0h1M16 78h1m40 0h1m138 0h1M42 79h1m16 0h1m55 0h1m30 0h1M39 80h1m14 0h1m6 0h1m64 0h1M6 81h1m14 0h1m17 0h1m13 0h1m69 0h2m67 0h1M34 82h1m27 0h1M115 84h1m73 0h1M113 85h1m73 0h1M102 87h1M98 88h1m3 0h1m67 0h1M12 90h1m48 0h1m55 0h1m64 0h1M51 92h1m27 0h1m16 0h1m2 0h1m18 0h1m45 0h1M51 93h1m129 0h1M51 94h1m3 0h1m43 0h1m6 0h1m11 0h1M13 95h1m84 0h2M45 96h1m3 0h1m4 0h2m1 0h1m71 0h1M52 97h2m29 0h1m32 0h1M49 98h2m11 0h1m21 0h1m6 0h1m8 0h1m76 0h1M40 99h1m1 0h1m15 0h1m1 0h1m4 0h1m24 0h1m25 0h1m6 0h1m52 0h2M15 100h1m28 0h1m9 0h1m5 0h1m21 0h1m25 0h1m7 0h1m15 0h1m2 0h1M50 101h1m1 0h2m3 0h1m28 0h2m30 0h2m14 0h2M49 102h1m2 0h2m4 0h2M51 103h1m38 0h1M49 104h1m4 0h1m1 0h1m31 0h1m8 0h1m3 0h1m23 0h1M51 105h1m2 0h1m10 0h1M65 106h1m8 0h1m9 0h2m9 0h1m3 0h1M56 107h1m16 0h1m27 0h1m3 0h1m14 0h1M20 108h1m28 0h1m12 0h1m7 0h1m32 0h1m2 0h2m39 0h1m21 0h1M73 109h1m33 0h1M22 110h1m16 0h1m10 0h1m17 0h1m28 0h1m8 0h1m60 0h2M49 111h1m12 0h2m4 0h1m5 0h2m30 0h1m59 0h1M23 112h1m26 0h2m12 0h1m45 0h1m18 0h1M47 113h1m23 0h1m89 0h1m2 0h1M43 114h1m10 0h1m2 0h1m26 0h1m6 0h1m20 0h1M44 115h1m19 0h1m9 0h1m16 0h1m14 0h1m55 0h1M44 116h1m7 0h1m29 0h1m21 0h2m34 0h1m19 0h1M26 117h1m6 0h1m1 0h1m2 0h1m3 0h1m19 0h1m16 0h1m78 0h1M65 119h1m6 0h1m84 0h1M32 120h1m34 0h1m86 0h1M66 121h1m17 0h1m10 0h1m22 0h1m9 0h1M38 122h1m116 0h1M39 123h1m4 0h1m7 0h1m16 0h1m4 0h1m28 0h1m50 0h1M39 124h1m13 0h1m99 0h1M88 125h1m14 0h1M42 126h1m52 0h1M26 127h2m67 0h1M22 128h1m64 0h1m18 0h1M26 129h1m40 0h1m7 0h1m4 0h1m65 0h1M31 130h1m39 0h1m14 0h1m18 0h1m39 0h1M33 131h1m10 0h1m11 0h1m13 0h1m17 0h2m8 0h1m1 0h1M85 132h1m12 0h1M23 133h1m27 0h2m22 0h1m23 0h1M139 134h1M25 135h1m28 0h1m79 0h1M76 136h1m4 0h1M27 137h1m35 0h1M59 139h1m69 0h1M68 140h1m33 0h1m23 0h1M58 141h1m64 0h1M62 142h1m30 0h1M90 143h1m6 0h1m13 0h1M27 144h2m7 0h1m49 0h1m6 0h2m2 0h1m8 0h2m4 0h1M33 145h1m54 0h1M33 146h1m33 0h1m3 0h1m30 0h2M52 147h1M64 148h2M51 149h1m3 0h1m6 0h1M52 151h1M48 153h1"/>
<path stroke="#E2E418" d="M180 21h1M190 23h1M165 47h1M95 48h1M148 50h1m6 0h1M121 51h1m46 0h1M147 53h1m21 0h1M128 54h1M102 55h1m50 0h1M105 59h1M107 60h1m12 0h1M121 61h1m79 0h1M121 62h1m3 0h1m19 0h1M117 63h1m26 0h1M55 64h1m144 0h1M50 65h1m48 0h1m11 0h1M51 67h1m1 0h1m44 0h1m100 0h1M47 68h2m2 0h1m147 0h1M105 69h2m5 0h1m86 0h1M113 70h1m6 0h1m48 0h1M48 71h1m60 0h1m7 0h1m5 0h1m75 0h1M12 72h2m98 0h1m9 0h1m4 0h1m16 0h1M9 73h2m2 0h1m35 0h1m2 0h1m53 0h1M50 74h1m50 0h1m10 0h2m1 0h1m2 0h1m7 0h1m1 0h1m2 0h1m3 0h1m61 0h2M9 75h1m40 0h1m1 0h1m46 0h1m18 0h1m11 0h1m66 0h1M9 76h1m105 0h1m7 0h1m12 0h1m4 0h1m50 0h1M16 77h1m29 0h1m1 0h1m66 0h2m2 0h1m8 0h1m3 0h1m63 0h1M5 78h2m36 0h2m73 0h1M17 79h1m23 0h1m71 0h1m81 0h1M6 80h1m10 0h1m1 0h1m93 0h1m1 0h1m2 0h1m8 0h1m66 0h1M8 81h1m13 0h1m15 0h1m73 0h1m2 0h2m70 0h1m5 0h1M23 82h1m2 0h1m1 0h4m1 0h1m1 0h2m78 0h3m5 0h1m67 0h2M8 83h1m101 0h1m4 0h1m73 0h1M111 84h2m5 0h1M120 85h1M10 86h1m88 0h1m20 0h1m65 0h1M56 87h1m48 0h1m9 0h1m68 0h1M11 88h1m171 0h2M182 89h1M11 90h1M181 91h1M12 92h1m45 0h1m16 0h1m105 0h1M12 93h1m41 0h1M50 94h1m6 0h3m30 0h1M48 95h2m1 0h1m48 0h1m78 0h1M14 96h1m28 0h1m56 0h2m76 0h2M14 97h1m35 0h1m49 0h1M15 98h1m35 0h1m1 0h1m3 0h1m1 0h3M47 99h1m1 0h1m2 0h1m4 0h1m1 0h1m25 0h1m3 0h1m19 0h1M41 100h1m4 0h1m3 0h1m12 0h1m26 0h1m11 0h1m3 0h1m3 0h1m65 0h1M16 101h1m24 0h1m1 0h1m1 0h1m1 0h2m2 0h1m48 0h1m19 0h1m53 0h1M44 102h1m9 0h2m14 0h1m25 0h1m1 0h1M16 103h1m28 0h2m1 0h1m1 0h1m37 0h1m2 0h1m5 0h1m75 0h1M46 104h1m1 0h1m1 0h1m1 0h2m5 0h1m78 0h1m33 0h1M50 105h1m1 0h1m3 0h1m3 0h1m1 0h1m16 0h1m8 0h1m82 0h1M19 106h1m29 0h1m2 0h1m3 0h1m1 0h1m5 0h1m24 0h1m3 0h1m76 0h1M47 107h1m2 0h1m44 0h1m2 0h1m71 0h1M50 108h2m7 0h1m35 0h1m8 0h1M20 109h2m20 0h1m13 0h1m1 0h1m21 0h1m14 0h2m9 0h1m46 0h1m15 0h1M49 110h1m2 0h1m17 0h1m27 0h1m8 0h1M38 112h1m28 0h1m16 0h1M25 113h1m19 0h1m28 0h2m30 0h1m1 0h1m4 0h1m49 0h1m1 0h1M80 114h1m2 0h1m25 0h1m3 0h2m4 0h2m41 0h1M26 115h1m15 0h2m29 0h1m16 0h1m30 0h1m17 0h1M26 116h1m7 0h1m19 0h1m37 0h1m25 0h1m6 0h1m13 0h1M80 117h1m36 0h1m38 0h2m1 0h1M57 118h1m9 0h1m89 0h1M31 120h1m3 0h1m2 0h1m4 0h1m9 0h1m27 0h1m75 0h1M43 121h1m3 0h1m53 0h1m53 0h1M44 122h1m29 0h1M72 123h1m21 0h1m16 0h1M37 124h1m16 0h1m40 0h1m14 0h1M65 125h1m16 0h1m2 0h1m65 0h1M150 126h1M110 127h1M24 128h3m1 0h1m13 0h1m3 0h1m39 0h1m26 0h1m33 0h1m1 0h1M22 129h1m69 0h1m14 0h1m39 0h1M22 130h1m65 0h1m6 0h1m3 0h1M75 131h1m9 0h1m15 0h1m42 0h1M22 132h1m78 0h1m40 0h2M24 133h1m42 0h1m24 0h1m9 0h1M55 134h1m46 0h1m35 0h1m1 0h1M55 135h1m12 0h1m2 0h1m23 0h1m40 0h2M25 136h1m1 0h1m77 0h1m3 0h1m25 0h1M28 137h1m16 0h1m55 0h1m32 0h1M27 138h2m55 0h1m46 0h1m1 0h1M130 139h2M28 140h1m49 0h1m39 0h4m1 0h1m5 0h1M28 141h1m86 0h2m9 0h1M28 143h1m29 0h1m22 0h1m7 0h1m3 0h1m13 0h2m1 0h1M30 144h1m1 0h2m3 0h1m38 0h1m1 0h1m1 0h1m3 0h1m3 0h1m6 0h2m16 0h1m1 0h2M29 145h1m37 0h1m2 0h1m2 0h1m13 0h1m13 0h1M28 146h1m39 0h1m1 0h1m1 0h2m31 0h1M28 147h1m4 0h1m35 0h2M36 148h2m23 0h1m4 0h2M37 149h1m2 0h1m13 0h1m2 0h2m4 0h1M39 151h1m1 0h1M42 152h2m4 0h1M43 153h4"/>
<path stroke="#FDE725" d="M169 22h1M166 32h1M102 45h1M99 48h1m1 0h1M108 55h1M108 56h1m1 0h1M202 59h1M202 60h1M202 61h1M201 62h1M200 63h2M198 65h1m1 0h1M199 66h2M53 70h1m145 0h1M198 71h1M10 72h2m108 0h1m77 0h1M9 74h1m4 0h2m88 0h1m12 0h1M16 75h1m99 0h1M16 76h1m41 0h1m57 0h4m77 0h1M6 77h2m36 0h2m71 0h2m28 0h1M42 78h1m73 0h2m1 0h1m13 0h1M5 79h2m9 0h1m99 0h3m77 0h1M18 80h1m1 0h1m19 0h2m72 0h1m1 0h2m77 0h1M7 81h1m12 0h1m2 0h1m90 0h1m79 0h1M8 82h1m15 0h2m6 0h1m81 0h1m10 0h1M36 83h3m15 0h1m59 0h1m75 0h2M8 84h1m101 0h1m77 0h1M8 85h3m100 0h1m5 0h1m68 0h1M185 86h1M10 87h1m174 0h1M10 88h1m106 0h1m10 0h1M11 89h1m171 0h1M181 90h1M12 91h1M53 92h1m5 0h1M13 93h1m119 0h1m46 0h1M13 94h1m73 0h1m92 0h1M50 95h1m1 0h1m3 0h2m122 0h1M13 96h1m30 0h1m5 0h2m4 0h1M63 97h1m39 0h1m73 0h2M14 98h1m37 0h1m1 0h1M15 99h1m32 0h1m1 0h2m1 0h2m1 0h1m49 0h1M51 100h2m2 0h3m6 0h1m24 0h1m85 0h1M15 101h1m38 0h1m1 0h1m4 0h1m113 0h1M16 102h1m29 0h1m9 0h1m116 0h1M17 103h1m26 0h1m2 0h1m4 0h1m1 0h1m4 0h1m7 0h1M17 104h2m28 0h1m41 0h1m83 0h1M18 105h2m37 0h1m37 0h1m76 0h1M53 106h1m117 0h1M19 107h2M170 108h1M49 109h1m9 0h1m11 0h1m96 0h1M58 110h1M22 111h1m31 0h1m24 0h1m27 0h1M22 112h1m1 0h1m43 0h1m96 0h2M24 113h1m26 0h1m4 0h1M25 114h2m46 0h1m47 0h1m41 0h1M161 115h1M74 116h1m84 0h1m1 0h1M27 117h1M27 118h1m130 0h1M27 119h1m98 0h1M27 120h1m128 0h1M27 121h1m128 0h1M27 122h1m126 0h1M27 123h1m53 0h1m71 0h1M27 124h1m124 0h1M27 125h1m124 0h1M27 126h1m123 0h1M149 127h2M23 128h1m67 0h1m56 0h1M145 129h1M90 130h1m53 0h1M22 131h1m120 0h1M23 132h1m63 0h1m12 0h1M141 133h2M24 134h2m52 0h1m62 0h1M138 135h1M26 136h1m109 0h1M60 137h1m74 0h1M132 138h1m1 0h1M28 139h1M117 140h1m4 0h1m4 0h2M117 141h1m6 0h1M28 142h1m86 0h1M91 143h2m16 0h1m2 0h1m2 0h2M29 144h1m1 0h1m2 0h1m23 0h1m14 0h3m1 0h1m1 0h1m1 0h3m1 0h1m3 0h1m8 0h1m15 0h1M27 145h2m7 0h1m46 0h1m2 0h1m12 0h2m1 0h1m3 0h1M29 146h1m29 0h1m9 0h1m34 0h1m1 0h1M29 147h1m5 0h1M29 148h1m3 0h3m22 0h3m1 0h1m6 0h2M38 149h1m14 0h1m2 0h1m7 0h1M40 150h1m11 0h2M40 151h1m1 0h1m7 0h2M50 152h1M47 153h1"/>
</g>
<rect x="149.60" y="1169.60" width="775.2" height="674.3" fill="url(#cg01)" clip-path="url(#mclip01)"/>
<rect x="982" y="1072" width="827" height="69" fill="#D9D9D9"/>
<text x="1395.5" y="1118.7" font-size="37" fill="#1A1A1A" text-anchor="middle" textLength="45.7" lengthAdjust="spacingAndGlyphs">ub</text>
<rect x="982" y="1141" width="827" height="728" fill="#EBEBEB"/>
<path d="M982 1169.6H1809M982 1273.3H1809M982 1377.1H1809M982 1480.8H1809M982 1584.6H1809M982 1688.3H1809M982 1792.0H1809M1183.0 1141V1869M1411.0 1141V1869M1639.0 1141V1869" stroke="#fff" stroke-width="4.3" fill="none"/>
<g transform="translate(1000.60,1171.761) scale(3.8000,4.3225)" fill="none" stroke-width="1" shape-rendering="crispEdges">
<path stroke="#440154" d="M162 1h2M157 2h1m4 0h1m2 0h1m1 0h1M157 3h1m3 0h1m5 0h1m4 0h5m1 0h1m1 0h3M156 4h1m1 0h1m1 0h2m3 0h1m9 0h3m1 0h1m1 0h1m1 0h1M152 5h1m1 0h2m1 0h2m1 0h2m3 0h1m1 0h3m2 0h1m7 0h1m1 0h2M147 6h1m1 0h1m2 0h2m3 0h1m1 0h1m4 0h1m1 0h2m3 0h1m3 0h2m1 0h2m1 0h3M146 7h1m5 0h2m8 0h1m2 0h1m2 0h1m1 0h7m1 0h1m2 0h2m1 0h1M146 8h1m5 0h1m2 0h1m1 0h6m1 0h1m1 0h2m2 0h1m1 0h2m2 0h1M146 9h1m12 0h2m1 0h2m3 0h1m2 0h3m1 0h1m4 0h1m3 0h2M144 10h4m1 0h1m8 0h4m5 0h1m2 0h1m1 0h1m2 0h1m5 0h1M144 11h4m1 0h1m2 0h1m3 0h1m10 0h1m3 0h1m2 0h1m2 0h1m7 0h1M143 12h6m1 0h1m3 0h1m3 0h2m10 0h1m4 0h2m3 0h2m3 0h2M142 13h2m1 0h2m3 0h1m6 0h4m10 0h6m2 0h3m1 0h1m1 0h1M138 14h3m1 0h4m1 0h1m12 0h1m1 0h1m5 0h1m2 0h2m2 0h1m7 0h4M137 15h2m5 0h1m2 0h1m12 0h3m2 0h1m5 0h3m4 0h3m1 0h1M135 16h2m1 0h5m1 0h1m1 0h3m4 0h2m1 0h2m1 0h1m1 0h5m3 0h1m2 0h2m5 0h1m2 0h2m2 0h1M134 17h8m2 0h3m1 0h1m1 0h1m2 0h3m3 0h2m1 0h4m5 0h1m5 0h1m3 0h2M133 18h3m2 0h1m1 0h2m3 0h1m3 0h1m5 0h1m2 0h1m2 0h1m1 0h1m1 0h1m6 0h1m2 0h1m1 0h5m5 0h1M134 19h3m1 0h1m5 0h2m8 0h2m8 0h2m5 0h2m1 0h2m7 0h1m4 0h1M131 20h4m8 0h1m8 0h2m1 0h2m2 0h1m2 0h1m1 0h4m1 0h3m3 0h3m4 0h1M131 21h3m1 0h3m4 0h1m8 0h1m1 0h1m2 0h1m1 0h1m1 0h1m2 0h1m1 0h2m1 0h1m2 0h2m1 0h1m1 0h3m4 0h1M132 22h1m2 0h2m2 0h1m1 0h5m1 0h3m1 0h4m2 0h1m1 0h1m1 0h1m2 0h1m1 0h2m4 0h1m1 0h2m1 0h1m4 0h2m4 0h1M130 23h2m1 0h1m1 0h2m1 0h4m2 0h2m1 0h4m1 0h2m8 0h1m2 0h2m9 0h1m1 0h2m6 0h2M130 24h4m4 0h1m3 0h1m5 0h2m5 0h1m1 0h1m3 0h2m1 0h1m2 0h1m3 0h2m6 0h2m4 0h1m2 0h2M131 25h1m2 0h1m1 0h1m1 0h1m2 0h1m2 0h1m2 0h2m2 0h2m3 0h1m1 0h3m2 0h2m3 0h1m2 0h1m6 0h2m1 0h1m7 0h1M130 26h2m3 0h1m1 0h3m2 0h1m2 0h4m1 0h1m3 0h1m7 0h2m1 0h1m1 0h1m1 0h2m5 0h1m1 0h1m2 0h1m4 0h2m1 0h3M130 27h2m1 0h2m1 0h1m5 0h5m5 0h1m1 0h1m4 0h1m10 0h1m1 0h1m1 0h5m1 0h1m1 0h5m3 0h1M135 28h1m2 0h2m1 0h8m5 0h1m4 0h1m8 0h1m3 0h2m1 0h3m3 0h1m1 0h1m1 0h1m6 0h1M130 29h1m8 0h1m3 0h3m9 0h1m3 0h1m2 0h2m1 0h1m4 0h3m2 0h4m1 0h1m2 0h3m6 0h1M124 30h1m1 0h1m1 0h2m1 0h1m1 0h1m6 0h2m1 0h1m5 0h1m1 0h1m4 0h1m3 0h1m1 0h1m1 0h2m6 0h1m1 0h3m1 0h2m7 0h1m2 0h1m1 0h1M125 31h3m2 0h3m4 0h1m2 0h4m8 0h1m6 0h1m2 0h1m2 0h1m2 0h1m6 0h1m1 0h3m5 0h2m3 0h3M125 32h1m5 0h3m5 0h1m1 0h2m1 0h1m1 0h1m3 0h1m2 0h1m7 0h3m12 0h2m2 0h1m2 0h1m3 0h1m2 0h1M121 33h2m2 0h2m3 0h2m1 0h1m3 0h2m2 0h2m7 0h1m13 0h1m1 0h1m1 0h2m1 0h2m1 0h1m3 0h1m3 0h1M121 34h1m1 0h1m2 0h1m1 0h1m2 0h2m4 0h1m2 0h1m1 0h4m7 0h1m4 0h1m8 0h1m4 0h1m4 0h1m1 0h1m1 0h1m3 0h2m1 0h1M120 35h2m2 0h2m11 0h1m1 0h1m1 0h2m1 0h1m1 0h1m7 0h1m7 0h2m4 0h1m2 0h1m1 0h2m1 0h1m5 0h1m1 0h2m3 0h1M118 36h2m1 0h2m1 0h1m2 0h1m7 0h3m4 0h3m1 0h1m6 0h1m1 0h1m7 0h1m3 0h1m1 0h1m1 0h2m1 0h4m1 0h1m2 0h5m2 0h1m2 0h1M120 37h1m1 0h3m2 0h1m9 0h1m1 0h1m1 0h1m6 0h2m4 0h1m1 0h2m1 0h1m3 0h1m1 0h1m2 0h2m2 0h3m1 0h1m1 0h3m1 0h1m2 0h2m2 0h1m2 0h1M120 38h1m3 0h2m1 0h1m1 0h1m2 0h2m5 0h3m1 0h2m2 0h3m5 0h1m10 0h1m4 0h3m1 0h3m1 0h1m5 0h1m2 0h4M119 39h1m3 0h3m1 0h1m1 0h2m16 0h1m21 0h1m2 0h1m3 0h1m1 0h1m7 0h1m1 0h1m1 0h2M116 40h1m1 0h2m7 0h2m4 0h1m9 0h2m3 0h1m3 0h1m1 0h1m3 0h2m2 0h1m7 0h1m1 0h1m1 0h1m5 0h1m3 0h1m3 0h1M128 41h2m5 0h1m4 0h1m2 0h1m1 0h1m4 0h1m2 0h1m4 0h2m8 0h2m2 0h3m3 0h1m3 0h1m1 0h2m1 0h1m2 0h1M115 42h2m3 0h2m1 0h2m2 0h1m2 0h1m2 0h2m1 0h2m3 0h1m1 0h1m1 0h1m8 0h1m7 0h1m3 0h1m1 0h1m2 0h1m2 0h1m1 0h1m2 0h4m4 0h3M98 43h1m16 0h1m18 0h4m6 0h1m8 0h1m6 0h1m6 0h3m2 0h2m7 0h1m1 0h3m3 0h1M116 44h3m3 0h1m4 0h1m2 0h1m10 0h1m2 0h1m4 0h1m1 0h1m3 0h1m14 0h1m2 0h1m3 0h1m1 0h3m2 0h3m2 0h1M117 45h1m3 0h1m1 0h2m3 0h1m23 0h1m17 0h1m2 0h1m2 0h1m6 0h1m4 0h1m1 0h1M105 46h2m1 0h1m10 0h2m3 0h1m5 0h1m8 0h1m4 0h1m18 0h1m7 0h1m7 0h2m9 0h1M96 47h1m4 0h1m14 0h2m1 0h2m6 0h1m2 0h1m2 0h1m3 0h1m7 0h1m6 0h1m18 0h1m3 0h1m2 0h1m1 0h1m9 0h2M97 48h1m6 0h1m3 0h1m10 0h3m18 0h1m2 0h1m2 0h1m10 0h1m4 0h1m1 0h1m4 0h1m1 0h1m2 0h1m1 0h1m1 0h3M101 49h1m1 0h2m3 0h1m8 0h1m1 0h1m6 0h1m1 0h1m5 0h1m31 0h1m4 0h3m3 0h1m1 0h1M101 50h1m21 0h1m2 0h1m3 0h1m4 0h1m4 0h1m1 0h1m4 0h1m22 0h1m4 0h1M100 51h1m3 0h1m12 0h1m9 0h2m13 0h2m2 0h3m24 0h1M100 52h2m21 0h1m5 0h1m17 0h1m24 0h1m1 0h4M112 53h1m14 0h2m10 0h2m3 0h1m5 0h1m22 0h3m1 0h1M99 54h1m4 0h1m5 0h1m3 0h1m4 0h1m14 0h2m2 0h2m3 0h1m29 0h1m1 0h1M98 55h1m35 0h1m5 0h1m1 0h1m2 0h1m4 0h1m4 0h1M121 56h1m2 0h1m3 0h1m10 0h1m2 0h2m6 0h1m17 0h1m1 0h1m1 0h2m3 0h1M136 57h1m4 0h2m11 0h1m1 0h2m9 0h1m4 0h3m1 0h1m1 0h1m14 0h1M98 58h1m1 0h1m5 0h1m10 0h1m17 0h1m3 0h1m1 0h1m9 0h1m3 0h1m11 0h2m2 0h1m4 0h1m2 0h1m15 0h1M129 59h1m4 0h1m1 0h1m3 0h1m18 0h1m3 0h1m4 0h2m1 0h1m3 0h1m19 0h1M134 60h1m3 0h1m2 0h1m1 0h1m15 0h1m6 0h1m3 0h1m5 0h2M98 61h1m4 0h1m36 0h1m8 0h1m1 0h2m4 0h1m1 0h1m12 0h1m2 0h1m18 0h1M153 62h1m12 0h1m5 0h1m1 0h2M112 63h1m27 0h2m17 0h1m5 0h1m5 0h1m2 0h2m5 0h1m2 0h2m1 0h1M138 64h1m1 0h1m8 0h1m1 0h1m15 0h1m1 0h3m3 0h1m9 0h1m1 0h1M113 65h1m23 0h1m13 0h1m5 0h1m1 0h1m9 0h1m6 0h2m5 0h4m2 0h1M142 66h1m8 0h1m30 0h2m7 0h1m3 0h1M139 67h1m9 0h1m2 0h1m10 0h1m11 0h2m3 0h2m1 0h1M123 68h1m14 0h1m6 0h2m23 0h1m9 0h1m1 0h2m1 0h1M102 69h1m36 0h1m1 0h1m2 0h1m1 0h1m11 0h1m3 0h5m3 0h1M102 70h1m35 0h2m6 0h1m7 0h1m4 0h1m1 0h1m3 0h1m10 0h2m1 0h1m1 0h1m3 0h1m5 0h3m1 0h1M140 71h1m1 0h1m20 0h1m12 0h2m1 0h2m3 0h1m3 0h2m3 0h1M165 72h1m2 0h1m11 0h2m1 0h1m2 0h1m7 0h1M158 73h1m9 0h1m11 0h2m10 0h1M94 74h1m69 0h2m11 0h1m2 0h3m6 0h1M143 75h1m20 0h1m1 0h1m2 0h1m9 0h2m3 0h1m4 0h1M143 76h1m2 0h1m8 0h1m9 0h1m4 0h1m4 0h1m2 0h1m1 0h4M148 77h1m5 0h1m1 0h2m6 0h2m8 0h1m3 0h1m2 0h1m1 0h1m1 0h2m3 0h1M142 78h1m12 0h1m1 0h1m4 0h3m11 0h1m1 0h1m2 0h1m2 0h1m2 0h1M151 79h1m5 0h1m4 0h1m2 0h1m3 0h1M155 80h1m13 0h1m3 0h1m1 0h2m5 0h1m7 0h1M59 81h1m84 0h1m11 0h1m9 0h1m7 0h2m1 0h1m10 0h2M134 82h1m24 0h1m2 0h3m1 0h2m3 0h1m2 0h1m6 0h1M101 83h1m26 0h1m30 0h1m3 0h1m2 0h2m1 0h1m5 0h2M159 84h2m1 0h2m6 0h1m3 0h1m2 0h1m1 0h1m2 0h1M53 85h1m109 0h2m3 0h1m1 0h1M100 86h1m33 0h1m27 0h1m10 0h1m3 0h1M162 87h1m3 0h1m8 0h1m3 0h1M137 88h1m24 0h1m2 0h1m1 0h1m5 0h2m1 0h1m1 0h1m1 0h1M163 89h1m3 0h1m1 0h2M162 90h1m9 0h1m1 0h2M160 91h1m10 0h2m1 0h1m1 0h1M160 92h1m4 0h2m1 0h2m7 0h1M164 93h1m5 0h1m3 0h3m1 0h1M161 94h1m1 0h2m1 0h2m9 0h1M160 95h3m3 0h4m1 0h1M72 96h1m85 0h2m2 0h1m4 0h2M157 97h1m10 0h2M152 98h1m8 0h1M158 99h1m1 0h1m2 0h2m1 0h1M38 100h1m109 0h1m1 0h1m1 0h2m6 0h1m4 0h2M152 101h1m1 0h1m9 0h3M166 102h2M154 103h1m5 0h1m4 0h1m4 0h1M151 104h1m2 0h1m2 0h2m1 0h1m5 0h2m1 0h1M147 105h1m5 0h3m8 0h1m1 0h1M141 106h1m2 0h1m3 0h2m1 0h2m1 0h2m4 0h1m4 0h1m1 0h2M150 107h1m2 0h1m3 0h1m1 0h1m2 0h1m1 0h2m1 0h1M34 108h1m108 0h1m1 0h1m3 0h2m5 0h1m2 0h1m2 0h1m2 0h1M141 109h1m2 0h1m2 0h1m2 0h3m4 0h1m1 0h1M140 110h1m1 0h1m1 0h1m3 0h3m6 0h1m5 0h2M139 111h2m2 0h1m2 0h2m6 0h1m4 0h1m1 0h1m1 0h1M32 112h1m104 0h1m7 0h1m4 0h1m1 0h1m2 0h2M31 113h1m110 0h1m6 0h1m7 0h1m1 0h1M140 114h1m1 0h3m3 0h3m1 0h1m3 0h1M133 115h1m1 0h1m6 0h2m2 0h1m3 0h2m3 0h2M130 116h1m11 0h1m1 0h2m1 0h6m2 0h1M100 117h1m28 0h1m1 0h4m1 0h2m4 0h1m2 0h1m1 0h3m3 0h2M111 118h1m18 0h1m16 0h3m2 0h2m1 0h1M137 119h2m1 0h1m2 0h1m6 0h1M125 120h1m11 0h1m1 0h1m2 0h1m3 0h1m4 0h1M138 121h2m1 0h2m2 0h2m4 0h1M52 122h1m7 0h1m73 0h1m2 0h3m1 0h2m2 0h1m3 0h3M100 123h1m34 0h1m10 0h3M130 124h1m1 0h1m5 0h1m5 0h2m3 0h1M33 125h1m85 0h1m11 0h1m2 0h1m2 0h2m8 0h2M117 126h1m7 0h1m3 0h1m1 0h2m3 0h1m2 0h1m2 0h2M127 127h1m3 0h1m2 0h2m1 0h1m3 0h1m1 0h1m4 0h1M36 128h1m75 0h1m4 0h1m3 0h1m2 0h1m3 0h3m2 0h2m1 0h2m4 0h3M35 129h1m79 0h1m12 0h1m7 0h4m2 0h1M116 130h1m4 0h1m2 0h1m4 0h1m8 0h1m1 0h2m1 0h1M36 131h1m78 0h3m4 0h2m4 0h1m1 0h1m4 0h5M28 132h1m6 0h1m20 0h1m1 0h1m5 0h1m67 0h1m3 0h1m1 0h2m1 0h1M37 133h2m4 0h2m2 0h1m68 0h2m4 0h1m6 0h1m1 0h1M33 134h4m6 0h1m15 0h1m28 0h1m29 0h1m1 0h1m1 0h1m5 0h1m2 0h2M30 135h1m5 0h1m84 0h1m1 0h1m3 0h2m2 0h2M31 136h1m9 0h2m1 0h1m70 0h1m11 0h1m1 0h1M35 137h1m2 0h2m13 0h1m37 0h1m22 0h1m2 0h2m4 0h2m3 0h1M30 138h1m6 0h1m7 0h1m40 0h1m5 0h1m24 0h1m1 0h1m10 0h1M32 139h1m4 0h1m1 0h1m46 0h1m7 0h2m2 0h1M35 140h3m8 0h1m1 0h1m14 0h2m6 0h1m1 0h1m13 0h1m5 0h1m2 0h1m2 0h2m6 0h1m2 0h1M35 141h1m9 0h1m4 0h1m20 0h1m4 0h1m2 0h1m4 0h1m4 0h5m2 0h1m1 0h2m7 0h1m2 0h1M35 142h1m7 0h2m38 0h2m2 0h1m7 0h1m1 0h1m1 0h1m1 0h1M35 143h1m6 0h1m2 0h2m8 0h1m10 0h1m34 0h1m1 0h2M41 144h1m1 0h1m24 0h1M43 145h1m9 0h1M42 146h1M41 147h2m12 0h1M43 148h2m4 0h1m1 0h1m3 0h1M45 150h1M45 151h1"/>
<path stroke="#471164" d="M164 2h1m3 0h1M158 3h2m2 0h2m6 0h1m6 0h1M163 4h2m4 0h1m1 0h3m4 0h1M153 5h1m5 0h1m2 0h1m7 0h1m6 0h2m2 0h1M150 6h1m3 0h1m8 0h1m13 0h1m2 0h1M150 7h1m4 0h1m3 0h1m3 0h2m1 0h2m15 0h1M151 8h1m11 0h1m10 0h1m3 0h1m1 0h2m1 0h2M152 9h1m5 0h1m5 0h1m1 0h1m2 0h1m3 0h1m1 0h1m1 0h1m4 0h1M150 10h2m4 0h1m7 0h1m1 0h1m1 0h2m3 0h2m1 0h1M153 11h3m2 0h1m1 0h1m1 0h1m3 0h1m3 0h1m4 0h2m1 0h2m2 0h3M142 12h1m8 0h1m15 0h1m3 0h3m3 0h2m4 0h1M140 13h2m2 0h1m6 0h1m1 0h2m6 0h1m4 0h1m1 0h1m9 0h1m3 0h1m1 0h1M146 14h1m2 0h3m7 0h1m3 0h1m12 0h2M136 15h1m3 0h2m4 0h1m1 0h1m7 0h1m6 0h2m4 0h1m4 0h1m6 0h1m1 0h1m1 0h1M152 16h1m5 0h1m9 0h1m6 0h1m1 0h2M142 17h1m6 0h1m1 0h1m9 0h1m5 0h1m1 0h1m5 0h2m2 0h2m2 0h1m2 0h1M136 18h2m6 0h1m3 0h1m2 0h1m4 0h1m2 0h1m2 0h1m1 0h1m1 0h1m4 0h1m1 0h1m9 0h1M133 19h1m3 0h1m2 0h3m10 0h1m5 0h1m1 0h3m4 0h2m12 0h1M135 20h3m6 0h1m3 0h2m4 0h1m6 0h1m1 0h1m8 0h2m4 0h2m3 0h1m3 0h1M143 21h1m3 0h1m2 0h1m8 0h1m2 0h1m6 0h1m5 0h1m9 0h1m1 0h2M133 22h1m12 0h1m15 0h2m16 0h2m4 0h2M132 23h1m9 0h2m19 0h2m2 0h1m1 0h1m2 0h1m8 0h1m3 0h1m3 0h1M135 24h2m8 0h1m1 0h1m8 0h1m1 0h1m4 0h1m5 0h1m3 0h1m1 0h2m5 0h1m3 0h2m2 0h1M130 25h1m1 0h1m4 0h1m1 0h1m3 0h1m6 0h1m2 0h1m7 0h1m7 0h1m4 0h1m9 0h1m5 0h1M153 26h1m4 0h1m1 0h1m7 0h1m2 0h1m1 0h1m1 0h1m3 0h1m4 0h1M129 27h1m8 0h1m8 0h2m1 0h2m1 0h1m7 0h1m2 0h1m6 0h1m1 0h1m7 0h1m5 0h1M131 28h2m4 0h1m11 0h2m7 0h1m3 0h1m1 0h1m9 0h1m3 0h1m5 0h1m5 0h2M128 29h2m3 0h1m4 0h1m1 0h3m7 0h1m13 0h1m2 0h1m5 0h1m13 0h1m2 0h2M125 30h1m4 0h1m3 0h1m3 0h1m3 0h1m1 0h5m6 0h1m7 0h1m6 0h1m2 0h1m3 0h1m3 0h1m1 0h1m2 0h1M134 31h1m3 0h1m5 0h1m2 0h1m6 0h3m4 0h1m8 0h3m1 0h1m6 0h1m2 0h1m2 0h1M122 32h1m3 0h3m9 0h1m1 0h1m7 0h1m2 0h2m3 0h1m13 0h1m10 0h2m2 0h2m1 0h1m3 0h1M124 33h1m7 0h1m6 0h1m3 0h2m1 0h2m3 0h2m14 0h1m5 0h1m2 0h1m2 0h3m1 0h1m1 0h2m5 0h1M122 34h1m1 0h2m9 0h1m2 0h1m8 0h1m13 0h1m2 0h1m3 0h1m4 0h1m4 0h1m10 0h2M118 35h2m2 0h1m3 0h1m3 0h1m12 0h1m1 0h1m3 0h1m1 0h1m1 0h1m1 0h1m2 0h1m6 0h2m3 0h1m1 0h1m5 0h1m8 0h1m2 0h2M126 36h1m1 0h1m1 0h1m16 0h3m4 0h1m1 0h1m1 0h1m7 0h1m1 0h1m4 0h1m4 0h1m11 0h2M117 37h1m3 0h1m4 0h1m2 0h1m5 0h1m4 0h1m3 0h1m6 0h3m8 0h1m1 0h1m10 0h1m8 0h1m5 0h1M117 38h1m8 0h1m7 0h1m2 0h1m4 0h1m2 0h1m14 0h3m1 0h1m3 0h3m7 0h1M116 39h1m11 0h1m2 0h1m1 0h1m5 0h1m2 0h2m13 0h1m2 0h1m1 0h1m1 0h1m5 0h2m3 0h1m3 0h1m1 0h3m1 0h1m1 0h1m1 0h1M124 40h1m4 0h1m6 0h2m2 0h1m1 0h1m2 0h3m2 0h1m9 0h1m3 0h1m6 0h1m1 0h1m1 0h1m6 0h2m1 0h1m3 0h1M122 41h4m1 0h1m2 0h1m2 0h2m1 0h1m7 0h1m2 0h1m6 0h4m2 0h1m3 0h1m12 0h1m1 0h1m1 0h1m1 0h1m2 0h1m1 0h2M118 42h2m6 0h1m4 0h1m6 0h2m4 0h1m15 0h1m2 0h2m7 0h1m4 0h2m7 0h1M117 43h3m1 0h1m5 0h1m1 0h1m8 0h1m4 0h1m3 0h1m1 0h4m1 0h2m10 0h1m21 0h1m1 0h1M93 44h1m2 0h1m1 0h2m11 0h3m10 0h1m11 0h2m5 0h1m3 0h1m5 0h2m8 0h1m8 0h1m10 0h1m4 0h1M98 45h1m9 0h1m2 0h1m2 0h3m2 0h2m8 0h1m6 0h1m1 0h1m1 0h1m1 0h1m2 0h1m16 0h1m4 0h1m1 0h1m2 0h1m2 0h1m5 0h1m7 0h1M110 46h1m2 0h1m1 0h2m4 0h1m18 0h3m6 0h1m2 0h1m11 0h1m2 0h1m1 0h1m3 0h1m2 0h1m11 0h1M98 47h1m3 0h1m8 0h1m2 0h1m6 0h1m7 0h1m1 0h1m2 0h1m7 0h1m7 0h1m8 0h1m3 0h1m3 0h1m5 0h1m2 0h1m4 0h1M106 48h1m3 0h1m16 0h1m6 0h1m9 0h1m6 0h2m7 0h1m11 0h1M94 49h1m10 0h1m14 0h1m8 0h1m12 0h1m3 0h1m2 0h3m16 0h1m5 0h1M93 50h1m5 0h1m4 0h1m13 0h1m24 0h1m1 0h1m6 0h1m11 0h2m1 0h2m3 0h1m3 0h1M101 51h1m5 0h1m2 0h2m4 0h1m28 0h1m7 0h1m9 0h1m8 0h1m2 0h1M95 52h1m3 0h1m8 0h1m4 0h1m5 0h1m4 0h1m19 0h3m26 0h1M100 53h2m1 0h2m1 0h1m6 0h1m11 0h2m2 0h1m15 0h1M102 54h1m8 0h1m15 0h1m3 0h1m8 0h1m4 0h2m4 0h1m16 0h1m3 0h1m3 0h1M97 55h1m1 0h1m11 0h1m4 0h1m2 0h1m1 0h1m7 0h1m7 0h1m1 0h1m4 0h1m1 0h1m15 0h1m10 0h1M98 56h1m1 0h1m31 0h1m4 0h1m18 0h1m14 0h1m3 0h1M96 57h1m5 0h1m25 0h1m10 0h2m2 0h1m4 0h1m3 0h1m9 0h1m1 0h1m5 0h1M110 58h1m29 0h1m15 0h1m3 0h1m8 0h1m3 0h2m3 0h1m15 0h1M99 59h4m18 0h1m10 0h2m3 0h3m2 0h1m14 0h1m8 0h1m25 0h2M54 60h1m59 0h1m2 0h1m1 0h1m8 0h1m1 0h1m21 0h1m3 0h1m1 0h1m3 0h4m2 0h1m2 0h1m6 0h2m18 0h1M136 61h1m10 0h1m2 0h1m9 0h1m3 0h1m5 0h1m3 0h1m2 0h1m15 0h1m1 0h1M55 62h1m77 0h1m7 0h1m10 0h1m4 0h1m13 0h1m4 0h1m5 0h1m9 0h1M55 63h1m39 0h2m22 0h1m10 0h1m1 0h1m1 0h1m1 0h1m29 0h1m1 0h1m13 0h2m2 0h1m1 0h1m4 0h1M93 64h1m6 0h1m1 0h1m4 0h1m5 0h1m14 0h1m21 0h1m6 0h1m3 0h1m12 0h1m1 0h1m2 0h1m3 0h2M138 65h1m8 0h1m4 0h1m2 0h2m9 0h2m5 0h1m4 0h2m1 0h1M100 66h1m1 0h1m4 0h1m1 0h1m14 0h1m11 0h1m1 0h1m8 0h1m27 0h4m2 0h1m11 0h1M131 67h1m4 0h1m1 0h1m11 0h2m7 0h1m5 0h1m4 0h1m6 0h1m6 0h1m5 0h1M139 68h3m5 0h1m10 0h1m3 0h1m5 0h1m10 0h1m11 0h1m5 0h1M101 69h1m36 0h1m1 0h1m4 0h1m1 0h1m3 0h1m1 0h1m21 0h1m7 0h1m2 0h1m5 0h1M94 70h1m41 0h2m2 0h1m1 0h1m2 0h1m6 0h2m2 0h1m7 0h1m15 0h1m2 0h2m3 0h1m5 0h1M49 71h1m8 0h1m34 0h1m2 0h1m5 0h1m1 0h1m34 0h1m19 0h1m1 0h1m4 0h1m6 0h1m7 0h1m4 0h2M102 72h1m33 0h1m2 0h1m5 0h2m6 0h3m3 0h1m16 0h2m1 0h1m2 0h1m1 0h2M98 73h1m1 0h1m21 0h1m21 0h2m1 0h3m14 0h1m5 0h2m2 0h1m3 0h2m2 0h2m5 0h1M93 74h1m6 0h1m43 0h4m1 0h1m1 0h1m1 0h2m4 0h1m6 0h1m3 0h1m1 0h2m5 0h1m4 0h1m6 0h1M151 75h1m1 0h1m4 0h1m2 0h1m5 0h1m7 0h1m2 0h1M102 76h1m36 0h1m2 0h1m6 0h1m1 0h1m4 0h1m11 0h1m8 0h1m1 0h1M133 77h1m17 0h1m7 0h1m19 0h2m6 0h1m1 0h1m1 0h4M56 78h1m40 0h1m7 0h1m24 0h1m7 0h1m2 0h1m3 0h1m1 0h1m2 0h1m1 0h1m5 0h1m1 0h1m6 0h1m2 0h1m3 0h2m1 0h1m2 0h1m4 0h1M54 79h1m42 0h1m41 0h1m1 0h2m11 0h2m2 0h1m2 0h1m6 0h1m3 0h1m3 0h2m1 0h1m2 0h1m3 0h1m4 0h1M139 80h1m7 0h1m4 0h2m4 0h1m4 0h1m10 0h1m4 0h1m3 0h1M134 81h1m2 0h2m14 0h1m3 0h1m5 0h1m6 0h2m4 0h1m3 0h1m1 0h1m2 0h1m5 0h1M100 82h1m64 0h1m13 0h2M57 83h1m42 0h1m28 0h1m2 0h1m29 0h1m11 0h1m5 0h1m1 0h1m2 0h1M58 84h1m73 0h1m3 0h1m24 0h1m5 0h1m1 0h1m2 0h1m2 0h1m4 0h2m2 0h1M59 85h1m70 0h1m3 0h1m26 0h1m10 0h1m1 0h1m6 0h1M62 86h1m4 0h1m56 0h1m10 0h1m29 0h1m1 0h1m1 0h1M61 87h1m46 0h1m17 0h1m6 0h1m33 0h1m4 0h1m4 0h1M164 88h1m10 0h1M60 89h1m4 0h1m70 0h1m24 0h2m14 0h2M80 90h1m79 0h1m3 0h1m2 0h2m1 0h1m8 0h1M65 91h1m11 0h1m1 0h1m83 0h2m1 0h1m1 0h1m1 0h1m2 0h1m4 0h1M70 92h1m103 0h1m3 0h2M166 93h1m1 0h1m2 0h1M67 94h1m91 0h1m2 0h1m6 0h2m3 0h1M68 95h1m1 0h1m99 0h1M156 96h1m3 0h2m1 0h2m4 0h1m1 0h1m1 0h1m2 0h1M72 97h1m85 0h1m4 0h1m1 0h1m4 0h1M153 98h3m6 0h2m1 0h2m1 0h1m2 0h1M154 99h1m6 0h1m5 0h1M149 100h1m9 0h1m1 0h1m5 0h1M150 101h1m4 0h1m6 0h1M38 102h1m112 0h2m4 0h1m2 0h1m4 0h1M146 103h1m6 0h1m5 0h1m3 0h1m3 0h1M144 104h1m8 0h1m2 0h1m7 0h2m2 0h1M143 105h1m1 0h2m1 0h3m1 0h1m3 0h1m4 0h1m1 0h1m1 0h1m1 0h2M143 106h1m6 0h1m5 0h1m2 0h1m1 0h3m2 0h1M138 107h1m5 0h1m3 0h1m2 0h2m3 0h1m3 0h2m1 0h1M142 108h1m8 0h1m8 0h2m1 0h1M140 109h1m15 0h1m4 0h1m2 0h1M112 110h1m26 0h1m1 0h1m4 0h2m3 0h2m1 0h1m4 0h2M35 111h1m100 0h1m15 0h1m3 0h3M147 112h1m1 0h1m3 0h1m4 0h1m1 0h2M135 113h2m6 0h3m5 0h1m1 0h1m2 0h1m3 0h1M36 114h1m21 0h1m76 0h1m3 0h1m5 0h1m5 0h1m2 0h1m2 0h2M29 115h2m9 0h1m68 0h1m30 0h1m3 0h1m3 0h2m3 0h1m3 0h1m2 0h1M47 116h1m85 0h1m12 0h1M130 117h1m7 0h1m12 0h2m2 0h1M129 118h1m7 0h2m4 0h4M89 119h1m17 0h1m3 0h1m13 0h1m6 0h2m5 0h1m1 0h1m2 0h1m6 0h2M41 120h1m46 0h1m33 0h1m7 0h2m2 0h1m3 0h1m5 0h1m7 0h1M56 121h1m68 0h1m8 0h1m9 0h1m2 0h1m1 0h1M66 122h1m23 0h1m34 0h1m6 0h1m7 0h1m2 0h1m2 0h2m4 0h1M119 123h1m1 0h1m2 0h1m6 0h1m2 0h1m5 0h1m3 0h1m4 0h1M52 124h1m58 0h1m7 0h1m6 0h1m2 0h1m12 0h1m4 0h1M123 125h1m3 0h1m17 0h1M36 126h1m10 0h1m67 0h1m8 0h1m3 0h1m6 0h1m2 0h1m2 0h1m3 0h1M34 127h1m2 0h1m21 0h1m54 0h1m2 0h1m5 0h1m5 0h1m3 0h1m6 0h1m1 0h1M33 128h1m13 0h1m62 0h1m5 0h1m1 0h2m2 0h1m2 0h1m5 0h2M114 129h1m5 0h2m2 0h2m9 0h1m7 0h1M43 130h1m14 0h1m52 0h1m13 0h4m3 0h1m1 0h3m5 0h1M30 131h1m89 0h2m2 0h1m2 0h1m13 0h1M48 132h1m26 0h1m40 0h1m16 0h1m3 0h1M35 133h2m81 0h1m11 0h1m3 0h2m2 0h1M38 134h3m6 0h1m15 0h2m25 0h1m17 0h1m12 0h1m1 0h1m9 0h1M29 135h1m2 0h3m9 0h1m29 0h1m38 0h2m1 0h2m1 0h2m3 0h1M40 136h1m4 0h2m19 0h2m5 0h1m12 0h1m16 0h1m4 0h1m2 0h1m7 0h1m3 0h1m8 0h1M32 137h1m8 0h1m2 0h1m25 0h1m2 0h1m11 0h1m29 0h2m2 0h2m1 0h1M38 138h1m5 0h1m26 0h1m23 0h1m6 0h1m12 0h1M34 139h2m2 0h1m1 0h1m1 0h2m4 0h2m8 0h1m7 0h1m9 0h1m10 0h1m14 0h1m8 0h1m8 0h1M30 140h1m41 0h1m3 0h1m17 0h1m3 0h1m12 0h3m1 0h1M34 141h1m6 0h1m1 0h1m3 0h1m15 0h2m13 0h1m8 0h2m5 0h1m2 0h1m3 0h1m3 0h1m7 0h1M33 142h1m2 0h1m8 0h1m19 0h2m3 0h1m9 0h1m1 0h1m2 0h2m3 0h1m5 0h1m1 0h1m1 0h1m4 0h1m7 0h1M37 143h1m3 0h1m1 0h2m24 0h1m16 0h1m11 0h1m3 0h1m3 0h1M38 144h1m1 0h1m4 0h1m23 0h1m32 0h2M41 145h1m10 0h1m7 0h1m7 0h1M39 146h1m1 0h1m13 0h1M46 147h1M42 148h1m2 0h1M43 149h1M44 150h1m1 0h1"/>
<path stroke="#482071" d="M171 3h1M154 4h1m2 0h1m24 0h1M151 5h1m11 0h1m9 0h1M148 6h1m2 0h1m17 0h1M147 7h1m1 0h1m1 0h1m4 0h1m1 0h1m10 0h1m7 0h1M145 8h1m3 0h1m4 0h1m14 0h1M149 9h1m11 0h1m16 0h1M178 10h2M143 11h1M155 12h3m11 0h1m4 0h1M164 13h1m5 0h1m15 0h1M152 14h1m12 0h2m6 0h1m5 0h1m1 0h2M145 15h1m3 0h1m5 0h1m3 0h1m17 0h1m8 0h1M143 16h1m5 0h1m16 0h1m18 0h1M143 17h1m3 0h1m18 0h1M146 18h1m3 0h1m23 0h1m1 0h1M132 19h1m10 0h1m14 0h1m1 0h1m12 0h1M146 20h2m3 0h1m8 0h1m27 0h1M134 21h1m29 0h1m19 0h1M150 22h1m9 0h1m4 0h1m2 0h1m2 0h1m4 0h1m7 0h2M151 23h1m5 0h1m10 0h1m11 0h1m2 0h1M143 24h2m20 0h1m2 0h1m1 0h1m7 0h1M133 25h1m1 0h1m6 0h1m3 0h1m7 0h1m7 0h1m2 0h1m4 0h1m11 0h1m2 0h2M132 26h1m7 0h1m2 0h2m4 0h1m1 0h2m11 0h1m7 0h1m4 0h1m7 0h1M132 27h1m4 0h1m31 0h1m9 0h1m8 0h2M127 28h2m1 0h1m5 0h1m14 0h1m3 0h1m5 0h1m1 0h1M149 29h1m2 0h2m34 0h1M150 30h1m10 0h1m5 0h2m20 0h1M122 31h1m12 0h1m3 0h1m8 0h1m4 0h1m12 0h1m16 0h1m4 0h1M124 32h1m4 0h1m4 0h1m8 0h1m10 0h1m3 0h2m4 0h2m5 0h1m1 0h1m10 0h1m6 0h1M119 33h1m3 0h1m37 0h2m2 0h1m21 0h1m2 0h1M130 34h1m8 0h1m1 0h1m10 0h1m31 0h1M123 35h1m4 0h1m11 0h1m9 0h1m18 0h1m7 0h1m1 0h1M117 36h1m5 0h1m16 0h1m16 0h1m23 0h1m6 0h1M130 37h1m1 0h1m5 0h1m4 0h1m3 0h1m2 0h1m16 0h1m2 0h1m16 0h1M151 38h1m22 0h1m5 0h1m6 0h1M117 39h2m1 0h1m1 0h1m9 0h1m1 0h3m4 0h1m3 0h1m2 0h1m10 0h1m3 0h1m2 0h1m1 0h1m5 0h1m2 0h1m2 0h1M120 40h1m4 0h2m3 0h1m10 0h1m11 0h1m2 0h1m12 0h1m8 0h1m8 0h1M93 41h1m24 0h1m18 0h1m1 0h1m8 0h2m11 0h1m3 0h1m14 0h1M128 42h1m6 0h1m10 0h1m3 0h1m2 0h1m2 0h1m4 0h1m7 0h1m13 0h1m1 0h1M120 43h1m7 0h1m2 0h1m10 0h1m5 0h1m15 0h1m14 0h1m2 0h1M109 44h1m4 0h1m4 0h2m2 0h1m7 0h1m1 0h1m1 0h1m10 0h1m5 0h1m38 0h2M112 45h2m4 0h1m7 0h1m5 0h1m2 0h1m11 0h1m3 0h1m1 0h1m1 0h1m9 0h1m13 0h1M95 46h1m32 0h1m9 0h1m11 0h1m24 0h1m2 0h1m10 0h1M95 47h1m16 0h1m2 0h1m23 0h2m2 0h1m4 0h1m20 0h2m1 0h1m6 0h1M100 48h1m4 0h1m1 0h1m8 0h1m1 0h1m12 0h1m4 0h1m13 0h1m3 0h1m10 0h1M98 49h1m3 0h1m13 0h1m16 0h1m6 0h2m6 0h1m10 0h1m4 0h1m10 0h1m4 0h1M95 50h1m4 0h1m2 0h1m37 0h1m2 0h1m6 0h1m26 0h2M99 51h1m2 0h2m1 0h1m13 0h1m9 0h1m11 0h1m9 0h1m8 0h2m3 0h1m10 0h1M94 52h1m8 0h1m5 0h1m2 0h1m5 0h1m2 0h1m4 0h1m4 0h1m24 0h1m4 0h1m3 0h1M98 53h1m19 0h1m5 0h1m9 0h1m2 0h1m3 0h1m16 0h1M105 54h1m16 0h1m1 0h1m8 0h1m33 0h1m9 0h1M120 55h1m5 0h1m1 0h1m1 0h1m16 0h2m15 0h1m5 0h1m1 0h1m2 0h1M116 56h1m8 0h1m50 0h1M122 57h1m3 0h1m22 0h2m26 0h1M96 58h1m33 0h1m11 0h1m9 0h1m5 0h1m5 0h1m12 0h1m18 0h1M124 59h2m9 0h1m12 0h3m14 0h1m6 0h2m3 0h1m1 0h1m14 0h1m4 0h1M101 60h1m24 0h1m26 0h1m18 0h1m2 0h1M53 61h1m77 0h1m30 0h1m10 0h1m2 0h1m3 0h1M103 62h1m6 0h1m18 0h1m8 0h1m1 0h1m37 0h1m16 0h1M128 63h1m21 0h1m12 0h1m6 0h1m6 0h1M117 64h1m8 0h1m35 0h1m2 0h2m6 0h1M112 65h1m36 0h1m18 0h1m11 0h1m6 0h1M126 66h1m17 0h1m4 0h1m2 0h1m19 0h1m6 0h1m4 0h1m7 0h1M59 67h1m40 0h1m34 0h1m9 0h1m25 0h1m2 0h1m16 0h1m2 0h1M98 68h1m2 0h1m2 0h1m19 0h1m5 0h1m5 0h1m11 0h1m4 0h1m1 0h1m10 0h2m22 0h1M135 69h1m16 0h1m2 0h1m1 0h1m3 0h1m10 0h2m8 0h1M158 70h1m14 0h1m1 0h1m6 0h1m4 0h1M95 71h1m4 0h1m2 0h1m33 0h1m5 0h1m2 0h1m3 0h1m9 0h1m6 0h2m1 0h1m7 0h1m6 0h1m8 0h2M52 72h1m48 0h1m47 0h3m12 0h1m31 0h1M60 73h1m80 0h1m8 0h1m9 0h1m4 0h1m20 0h2M124 74h1m23 0h1m3 0h1m16 0h1m6 0h1m1 0h1m7 0h1M108 75h1m33 0h1m38 0h1m11 0h1M154 76h1m7 0h3m1 0h1m6 0h1m11 0h1m1 0h1M93 77h2m10 0h1m36 0h1m23 0h1m2 0h1M49 78h1m13 0h1m71 0h1m4 0h1m10 0h1m27 0h1m6 0h1m4 0h2M63 79h1m41 0h1m26 0h1m23 0h1m2 0h1m30 0h1M96 80h1m7 0h1m36 0h1m12 0h1m12 0h1m3 0h1m6 0h1m2 0h1m6 0h1M99 81h1m2 0h1m36 0h1m3 0h1m1 0h1m12 0h1m9 0h1m9 0h1m2 0h1M102 82h1m29 0h1m2 0h2m24 0h1m7 0h1m5 0h3m4 0h1m3 0h1M56 83h1m3 0h2m35 0h1m37 0h1m22 0h1m1 0h2m3 0h1m4 0h1m1 0h1m6 0h1m6 0h1M56 84h1m4 0h1m5 0h1m33 0h1m26 0h1m8 0h1m28 0h1m9 0h1m6 0h1M56 85h1m9 0h1m34 0h1m25 0h1m4 0h1m4 0h1m1 0h1m29 0h1m5 0h1m1 0h1m2 0h1m2 0h1M59 86h1m68 0h1m37 0h1m1 0h1m11 0h1M58 87h1m42 0h1m21 0h1m11 0h1m1 0h1m35 0h2m8 0h1M123 88h1M135 89h1m32 0h1m6 0h1M169 90h1m6 0h1M89 91h1m14 0h1m3 0h1M161 92h2m7 0h1m1 0h2m2 0h1M75 93h2m82 0h1m7 0h1m1 0h1M71 94h1m23 0h1M64 95h1m2 0h1m110 0h1M95 97h1m60 0h1m2 0h1m2 0h1m1 0h1m7 0h1M160 98h1m3 0h1m2 0h1M38 99h1m31 0h1m80 0h3m1 0h1m3 0h1m2 0h1m5 0h1m4 0h1M164 100h1m4 0h1M75 101h1m82 0h1m9 0h1m3 0h1M170 102h1M38 103h1m119 0h1M39 104h1m101 0h2m3 0h1m8 0h1M43 105h1m114 0h1m3 0h1M142 106h1M35 107h1m1 0h1m111 0h1M139 108h1m14 0h2m8 0h1M31 109h1m113 0h1m3 0h1m8 0h1m1 0h1M31 110h1m121 0h1m4 0h1M137 111h1m6 0h1m4 0h1m1 0h1M139 112h1M58 113h1m79 0h1M33 114h1m104 0h1m2 0h1m13 0h1M79 115h1m57 0h1m3 0h1m5 0h1M29 116h1m9 0h1m5 0h1m89 0h1M43 117h1m46 0h2m49 0h1M115 118h1m2 0h1m31 0h1M92 119h1m49 0h1m2 0h1m3 0h1m3 0h1M40 120h1m56 0h1m42 0h1m2 0h1m1 0h1M40 121h1m47 0h1m28 0h1m6 0h1m15 0h1m2 0h1m8 0h1m1 0h1M33 122h1m89 0h1m6 0h1M56 123h1m34 0h1m16 0h1m6 0h1m12 0h1m8 0h1m1 0h1m3 0h1m6 0h1M33 124h1m6 0h1m77 0h1m16 0h1m10 0h1M34 125h1m95 0h1m4 0h2m2 0h1M49 126h1m56 0h1m37 0h1m1 0h2M36 127h1m30 0h1m45 0h1m10 0h1m1 0h1m5 0h1m3 0h1m8 0h1M35 128h1m17 0h1m84 0h1m1 0h1M36 129h1m10 0h1m31 0h1m38 0h1m10 0h1m2 0h2m7 0h1M32 130h1m12 0h1m5 0h1m8 0h2m58 0h1m9 0h1m2 0h1M38 131h1m3 0h1m7 0h1M46 132h1m13 0h1m1 0h2m8 0h1m42 0h1m4 0h1m5 0h2m1 0h2M42 133h1m2 0h1m14 0h1m62 0h3m10 0h1m2 0h1M37 134h1m3 0h1m18 0h1m10 0h1m57 0h1M37 135h1m1 0h1m10 0h1m55 0h1m22 0h1M32 136h1m4 0h1m5 0h1m26 0h1m46 0h1M31 137h1m5 0h1m4 0h1m5 0h1m23 0h1m13 0h1m6 0h1m1 0h1m17 0h1M36 138h1m3 0h1m37 0h1m8 0h1m6 0h1m4 0h1m14 0h1m12 0h1M31 139h1m4 0h1m20 0h1m5 0h2m13 0h1m2 0h1m15 0h1m2 0h1m5 0h2m7 0h1m2 0h1M32 140h2m4 0h1m11 0h2m25 0h1m4 0h1m3 0h1m2 0h1M39 141h1m37 0h1m2 0h1m1 0h1m12 0h1m16 0h1M38 142h1m11 0h1m16 0h3m11 0h1m9 0h2m10 0h1m3 0h1M40 143h1m8 0h1m38 0h1M42 144h1m7 0h1m19 0h1M46 145h2m1 0h2m4 0h2M44 146h1m4 0h1M46 148h1m3 0h1M45 149h1M46 151h1"/>
<path stroke="#472E7C" d="M156 2h1m1 0h1m2 0h1M169 3h1M162 4h1m3 0h1m7 0h1M164 5h1m1 0h1M179 7h1M154 9h1m10 0h1m10 0h1M143 10h1m36 0h1M157 11h1m1 0h1m21 0h1M163 12h1m18 0h1M167 13h1m9 0h1M157 14h1m6 0h1M139 15h1m26 0h1m17 0h1M145 16h1m5 0h1m3 0h1M152 17h1m4 0h1M152 18h1m1 0h1m2 0h1M146 19h1m9 0h1m10 0h1M144 21h1m12 0h1m12 0h1M138 22h1m17 0h1m32 0h1M134 23h1m40 0h1m8 0h1m3 0h1M137 24h1m2 0h1m33 0h1M155 25h1m10 0h1m5 0h1m2 0h1m1 0h1m5 0h1M156 26h1m2 0h1M128 27h1m12 0h1m16 0h1M156 28h1m30 0h1M125 29h3m3 0h1m4 0h1m9 0h2m3 0h1m4 0h1m3 0h2m12 0h1m11 0h1M171 30h1m8 0h1M123 31h1m5 0h1m3 0h1m23 0h1M130 32h1m6 0h1m36 0h1m3 0h1M120 33h1m8 0h1m10 0h1m12 0h1m37 0h1M118 34h1m14 0h1m23 0h1m7 0h1m8 0h1M148 35h1m10 0h2m3 0h1m10 0h1m7 0h1m8 0h1M120 36h1m8 0h1m1 0h1m2 0h1m3 0h1m13 0h1m9 0h1m17 0h1M183 37h1M118 38h1m4 0h1m11 0h1m31 0h1M126 39h1m38 0h1M117 40h1m37 0h1m12 0h1m8 0h1m8 0h1M117 41h1m3 0h1m4 0h1m11 0h1m7 0h1M129 42h1m25 0h1M91 43h1m24 0h1m22 0h1m18 0h1m6 0h1m4 0h1m3 0h1M89 44h2m10 0h1m23 0h1m3 0h1m15 0h1m12 0h1m2 0h1m28 0h1M95 45h1m31 0h1m16 0h1m4 0h1m14 0h1m12 0h1M102 46h1m19 0h2m2 0h1m41 0h1M97 47h1m15 0h1m10 0h1m49 0h1m2 0h1M102 48h1m10 0h1m3 0h1m11 0h1m2 0h1m12 0h1m22 0h1M93 49h1m1 0h1m4 0h1m21 0h1m4 0h1m28 0h1m3 0h1M90 50h1m3 0h1m11 0h1m2 0h2m17 0h1m3 0h1m40 0h1M93 51h1m18 0h1m23 0h1m3 0h1m21 0h1M107 52h1m7 0h1m27 0h1m18 0h1M94 53h1m16 0h1m5 0h1m5 0h1m19 0h1m2 0h1m2 0h1m2 0h1m4 0h1m4 0h1M98 54h1m7 0h1m5 0h2m11 0h1m6 0h1m8 0h1M100 55h1m8 0h2m2 0h1m21 0h1m31 0h1M97 56h1m29 0h1m24 0h1m13 0h1m7 0h1M112 57h1m4 0h1m37 0h1M105 58h1m5 0h1m16 0h1m9 0h1m10 0h1m13 0h1M115 59h1m1 0h1m8 0h1m27 0h1m15 0h1M102 60h1m3 0h1m11 0h1m10 0h1m7 0h1m29 0h1m28 0h2M55 61h1m1 0h1m37 0h1m30 0h1m7 0h1m4 0h1m1 0h1m2 0h2m15 0h1m4 0h1m1 0h1m23 0h1m3 0h1M58 62h1m34 0h1m8 0h1m27 0h1m4 0h1m19 0h1m9 0h1m3 0h1M53 63h1m115 0h1m2 0h1m7 0h1m14 0h1M152 64h1m3 0h1m3 0h1m3 0h1m3 0h1m3 0h1m7 0h1m1 0h1m3 0h1m1 0h1m9 0h1M108 65h1m22 0h1m2 0h1m5 0h2M53 66h1m52 0h1m21 0h1m11 0h1m9 0h1m23 0h1m5 0h1m13 0h1M95 67h1m9 0h1m17 0h1m3 0h2m25 0h3m12 0h1m3 0h1m4 0h1m3 0h1M94 68h1m59 0h1m2 0h1m6 0h2m8 0h2m16 0h1M94 69h2m23 0h1m7 0h2m2 0h1m42 0h1m4 0h1m15 0h1M93 70h1m47 0h1m24 0h1m7 0h1m21 0h1M164 71h1m6 0h1M105 72h1m31 0h2m21 0h1m2 0h1m2 0h1m5 0h1M123 73h1m5 0h1m24 0h1m6 0h2m21 0h1m9 0h1M134 74h1m33 0h1m19 0h1M154 75h1m27 0h2m1 0h1M96 76h1m1 0h1m58 0h1m1 0h1m28 0h2M102 77h1m38 0h1m1 0h1m11 0h1m12 0h1m8 0h1m6 0h1M143 78h1m9 0h1m39 0h1M53 79h1m1 0h1m44 0h2m22 0h1m41 0h1m4 0h1m3 0h1m11 0h1M47 80h1m52 0h1m28 0h1m3 0h1m10 0h1m17 0h1m3 0h1m10 0h1m11 0h1M57 81h1m101 0h2m12 0h1m10 0h1M95 82h1m35 0h1m11 0h1m13 0h1m26 0h1M55 83h1m39 0h1m35 0h1m4 0h1m27 0h1m3 0h1M57 84h1m1 0h1m6 0h1m30 0h1m16 0h1m20 0h1m2 0h1m29 0h1M61 85h1m103 0h1m19 0h1M127 87h1m48 0h1m1 0h1M105 88h1m30 0h1m35 0h1m4 0h1M68 89h1m31 0h1m6 0h1M53 90h1m19 0h1m1 0h1m85 0h1m1 0h1M162 91h1m12 0h1m1 0h1m2 0h1M66 92h1m14 0h1m2 0h1m10 0h1m71 0h1m3 0h1M66 94h1m3 0h1m94 0h1m6 0h1M72 95h1m7 0h1m78 0h1m14 0h1M170 96h1M167 97h1m8 0h1M79 98h1M171 99h1M39 100h1m128 0h1M76 101h1m84 0h1M147 102h1m5 0h1m7 0h1m9 0h1M155 103h1m1 0h1m6 0h1M170 104h1M136 105h1m23 0h1M40 106h1m104 0h1M40 107h1m117 0h1m9 0h1M141 108h1m16 0h1M79 109h1m74 0h1m7 0h1M33 110h1M31 111h1m70 0h1m50 0h1m1 0h1m6 0h1M44 112h1m55 0h1m35 0h1m1 0h1m9 0h1M38 113h1m10 0h1m105 0h1M29 114h1m1 0h2m14 0h1m105 0h1M34 115h1m11 0h1m85 0h1m25 0h1M46 116h1m13 0h1m17 0h1m53 0h1m21 0h1M30 117h1m22 0h1M89 118h1m9 0h1m34 0h1m1 0h1m4 0h2m8 0h1M105 119h1m4 0h1M59 120h1m36 0h1m9 0h1m34 0h1M127 121h1m5 0h1m14 0h1M126 122h1M55 123h1m60 0h3m6 0h1m3 0h1m2 0h1m3 0h1m5 0h1m2 0h1M116 124h1m5 0h1m8 0h1m5 0h1m10 0h1m1 0h1M111 125h1m14 0h1m2 0h1m14 0h1M35 126h1m77 0h1m4 0h1m21 0h1M40 127h2m60 0h1m8 0h1m8 0h1m9 0h1M62 128h1m72 0h1M44 129h1m53 0h1m17 0h1m9 0h1M35 130h1m6 0h1m22 0h1m48 0h1M126 131h1M65 132h1m39 0h1m15 0h1m1 0h2M58 133h1m48 0h1m24 0h1M124 134h1M26 135h1m18 0h1m20 0h1m20 0h1m19 0h1m18 0h1M38 136h1m9 0h1m15 0h1m30 0h1m6 0h1m13 0h1m1 0h1M33 137h1m2 0h1m9 0h1m5 0h1m9 0h1m3 0h1m27 0h1m1 0h1m14 0h1M31 138h1m3 0h1m3 0h1m36 0h2m38 0h1m11 0h1M44 139h1m54 0h1m13 0h1M31 140h1m21 0h1m15 0h1m5 0h1m8 0h1m3 0h1m1 0h1M32 141h1m3 0h1m12 0h1m16 0h1m2 0h1m2 0h1m13 0h1m21 0h1m2 0h1M46 142h1m2 0h1m2 0h2m19 0h1m5 0h1m22 0h1M62 143h1m2 0h1m17 0h1m15 0h1M48 144h2m16 0h1M45 146h1M43 147h1M41 149h1M41 150h1m7 0h1"/>
<path stroke="#443B84" d="M164 1h1M155 3h1M159 4h1M171 5h1m2 0h1M155 6h1m9 0h1M147 8h1m29 0h1M145 9h1m1 0h1m20 0h1M154 10h1m7 0h1M150 11h2m9 0h1m1 0h1m4 0h1m3 0h1M163 13h1M148 14h1m6 0h1m5 0h1M152 15h1m5 0h1M176 16h1m3 0h1M170 17h1m1 0h1M147 18h1m22 0h1M139 19h1m12 0h1m13 0h1m13 0h1M140 20h1m1 0h1M146 21h1m26 0h1M158 22h1M155 23h1m3 0h1m22 0h1M166 24h1M157 25h1m18 0h1m10 0h1M133 26h2M149 27h1m13 0h1m2 0h1M153 28h1m35 0h1M169 29h1M158 30h1m23 0h1m1 0h1m3 0h1M145 31h1m18 0h1m17 0h1M175 32h1m3 0h1m9 0h1M135 33h2m18 0h1m21 0h1M119 34h1m16 0h1m9 0h1m15 0h1m3 0h1m16 0h1M127 35h1m5 0h1m1 0h2m1 0h1m18 0h1M139 36h1M131 37h1m1 0h1m54 0h1M128 38h1m23 0h1m5 0h1m6 0h1m18 0h1M89 39h1m50 0h1m5 0h1m6 0h1m19 0h1M123 40h1m10 0h1m16 0h1m5 0h1m9 0h1m13 0h1m8 0h1M152 41h1m14 0h1m7 0h1m15 0h1M90 42h1m31 0h1m35 0h1m11 0h1M89 43h1m4 0h1m2 0h1m65 0h1m14 0h1m1 0h1m10 0h1M100 44h1m37 0h1m29 0h1m9 0h1m3 0h1M130 45h1m17 0h1m17 0h1M93 46h1m6 0h1m13 0h1m12 0h1m9 0h1m7 0h1m13 0h1M118 47h1m9 0h1m9 0h1m10 0h1m1 0h1m16 0h1M92 48h1m42 0h1m23 0h1m15 0h1M125 49h1m21 0h1m14 0h1M97 50h1m13 0h1m27 0h1m6 0h1m6 0h1M125 51h1m13 0h1m9 0h1m24 0h1m2 0h2M104 52h1m5 0h1m6 0h1m9 0h1m2 0h1m8 0h1m20 0h1M92 53h1m17 0h1m3 0h1m1 0h1m14 0h1m36 0h1M97 54h1m2 0h1m19 0h1m16 0h1m9 0h1m1 0h1M149 55h1m6 0h2m10 0h1m7 0h1M49 56h1m49 0h1m31 0h1m23 0h1m6 0h1M101 57h1m27 0h1m8 0h1m14 0h1m14 0h1M137 58h1m5 0h1m10 0h1m4 0h1M123 59h1m6 0h1m16 0h1m3 0h1m4 0h1m10 0h1m8 0h1m20 0h1M96 60h1m8 0h1m21 0h1m26 0h1m6 0h1m7 0h1m24 0h1M101 61h1m40 0h1M50 62h1m44 0h1m40 0h1m19 0h1m6 0h1M51 63h1m5 0h1m34 0h1m4 0h1m20 0h1m19 0h1m12 0h1m1 0h1m19 0h1m20 0h1M114 64h1m21 0h1m2 0h1m2 0h1m16 0h1m3 0h1m17 0h1m7 0h1M96 65h1m6 0h1m14 0h1m3 0h1m16 0h1m18 0h1m1 0h1m10 0h1m3 0h1m14 0h1M108 66h1m11 0h1m38 0h2m3 0h1m5 0h1m26 0h1M99 67h1m18 0h1m21 0h1m2 0h1m4 0h1m15 0h1m20 0h1m1 0h1m5 0h1M137 68h1m35 0h1M62 69h1m33 0h1m3 0h1m8 0h1m24 0h1m7 0h1m24 0h1m8 0h1m1 0h1m14 0h1M144 70h1m6 0h1m11 0h1m8 0h1m13 0h1M122 71h1m30 0h1m2 0h1m8 0h1m6 0h1m10 0h1m6 0h1M104 72h1m5 0h1m22 0h1m27 0h1m7 0h1m20 0h1M93 73h1m45 0h1m17 0h1m8 0h1M99 74h1m32 0h1m3 0h2m49 0h1m8 0h1M62 75h1m30 0h1m51 0h1m27 0h1m3 0h1m9 0h1M91 76h1m55 0h1m12 0h1M56 77h1m1 0h1m90 0h1m21 0h1M60 79h1m4 0h1m29 0h1m74 0h1m17 0h2M50 80h1m47 0h1m26 0h1m4 0h1m12 0h1m12 0h1m13 0h1M49 81h1m46 0h1m45 0h1m21 0h1m2 0h1M56 82h2m6 0h1m33 0h1m34 0h1m24 0h1m13 0h1M130 83h1m2 0h1m37 0h1m5 0h1m5 0h1M62 84h1m44 0h1M57 85h1m49 0h1m28 0h1m25 0h1M174 86h2M106 87h1m22 0h1m2 0h1m30 0h1M169 88h1M80 89h1m84 0h1m13 0h1M65 90h1m10 0h1m96 0h1M66 91h1m40 0h1M92 92h1m70 0h1m11 0h1M161 93h2m2 0h1M160 94h1m7 0h1M108 95h1m67 0h1M135 96h1M71 97h1m1 0h1m87 0h1M74 98h1m82 0h1m1 0h1M149 99h1m7 0h1m7 0h1M97 100h1m60 0h1M94 101h1m62 0h1m5 0h1M149 102h1m8 0h1M168 103h1M143 104h1m3 0h1m15 0h1M157 105h1M157 106h1M34 107h1m101 0h1m8 0h1M35 108h1m112 0h1m8 0h1m10 0h1M32 109h1M133 110h1m11 0h1M36 111h1m3 0h1m90 0h1m10 0h1m2 0h1m19 0h1M139 113h1m1 0h1m10 0h1M37 114h1m96 0h1m11 0h1m12 0h1M98 115h1m3 0h1m31 0h1m3 0h1M49 116h1m30 0h1m19 0h1M45 117h1m52 0h1m44 0h1M58 118h1m47 0h1m25 0h1M42 119h1m76 0h1m28 0h1M29 120h1m26 0h1m71 0h1m19 0h1M39 121h1m50 0h1m1 0h1m10 0h1m3 0h1M87 122h1m12 0h1m8 0h1m18 0h1m19 0h1M47 123h1m56 0h1m7 0h1M87 124h1m21 0h1m11 0h1m6 0h1M28 125h1m57 0h1m37 0h1m24 0h1M37 126h1m1 0h1m26 0h1m47 0h1m18 0h2m13 0h1M30 127h1m12 0h1m71 0h1m9 0h1M41 128h1m15 0h1m51 0h1M33 129h1m14 0h1m52 0h1m2 0h1m17 0h1m11 0h1M27 130h1m5 0h1m22 0h1m52 0h1M51 131h1m53 0h1m25 0h1M36 132h1m22 0h1m48 0h1m9 0h1m21 0h1M64 133h2M67 134h1m46 0h1m4 0h1m7 0h1m8 0h1M41 135h2m15 0h1m27 0h1m43 0h1M30 136h1m24 0h1m31 0h1m2 0h1m29 0h1m1 0h1m10 0h1M126 137h1M49 138h1m3 0h1m10 0h1m4 0h1m9 0h1m13 0h1m27 0h1m3 0h1M71 139h1M45 140h1m16 0h1m18 0h1m9 0h1M33 141h1m6 0h1m7 0h1m55 0h1M32 142h1m30 0h2m47 0h1M54 144h1m12 0h1M42 145h1m11 0h1m49 0h1M40 146h1m17 0h1M44 147h1m9 0h1m1 0h1M44 149h1m1 0h1M47 150h1M44 151h1"/>
<path stroke="#3F4889" d="M165 1h1M163 2h1m2 0h1M167 4h1m2 0h1m9 0h1M175 5h1m3 0h1M160 6h1m12 0h2M148 7h1m12 0h1M150 8h1m14 0h1m5 0h1m3 0h1M153 9h1M152 10h1m24 0h1M169 11h1M152 12h2m14 0h1m15 0h1M147 13h1M168 15h1M174 17h1M153 18h1M157 19h1m20 0h1m5 0h1M158 20h1m26 0h1M145 21h1m8 0h1m6 0h1m17 0h1m2 0h1M140 22h1m32 0h1M146 23h1M141 24h1m10 0h1m7 0h1m22 0h1M145 25h1m27 0h1m14 0h1M157 26h1m24 0h2M167 27h1M133 28h1m23 0h1m8 0h1m2 0h2M132 29h1m15 0h1m17 0h1M127 30h1m4 0h1m4 0h1m16 0h1m11 0h1M160 31h1m2 0h1m16 0h1M149 32h1m7 0h1m9 0h1M154 33h1M134 34h1m15 0h1m8 0h2m2 0h1m5 0h1m10 0h1m11 0h1M180 35h2M141 36h1m17 0h1m10 0h1m16 0h1M128 37h1m13 0h1m28 0h1M138 38h1m47 0h1M155 39h2M132 40h1m30 0h1m15 0h1M116 41h1m2 0h2m55 0h1M191 42h1M123 43h1m8 0h1m12 0h1m11 0h1m17 0h3m8 0h1m5 0h1M110 44h1m17 0h1m27 0h1m18 0h1M90 45h1m3 0h1m2 0h1m35 0h1m29 0h1m18 0h1m8 0h1M99 46h1m17 0h2m6 0h1m6 0h1m24 0h1m19 0h1M105 47h1M94 48h1m30 0h1m4 0h1m39 0h1m2 0h1m7 0h1M110 49h1m7 0h1m11 0h1m30 0h1M91 50h1m29 0h1m9 0h1m5 0h1m22 0h1m2 0h1M95 51h1m13 0h1m13 0h1m14 0h1m27 0h1M96 52h1m5 0h1m3 0h1m13 0h1m15 0h1M102 53h1m16 0h1M93 54h1m32 0h1m17 0h1m5 0h1m5 0h1M96 55h1m20 0h1m5 0h2m2 0h1m4 0h1m5 0h1m35 0h1M126 56h1m14 0h1m4 0h1m4 0h1m6 0h1m8 0h1M105 57h1m2 0h1m5 0h1m22 0h1m8 0h2m3 0h1M109 58h1m35 0h1m47 0h1M152 59h1M104 60h1m8 0h1m2 0h1m16 0h1m8 0h1m5 0h1M99 61h1m15 0h1m1 0h1m19 0h1m20 0h1m8 0h1m1 0h1M137 62h1M52 63h1m51 0h1m6 0h1m27 0h1m3 0h1m14 0h1m33 0h1M50 64h1m44 0h1m5 0h1m4 0h1m41 0h1M110 65h1m12 0h1m40 0h1m30 0h1M58 66h1m35 0h1m10 0h1m31 0h1m1 0h1m1 0h1m11 0h1m3 0h1M61 67h1m34 0h1m6 0h1m20 0h1m1 0h1m5 0h1m14 0h1M92 68h1m39 0h1M58 69h1m1 0h1m47 0h1m20 0h1m7 0h1m50 0h1M149 70h1m5 0h1M99 71h1m41 0h1m5 0h1m9 0h1m16 0h1m7 0h1M147 72h2m24 0h1M59 73h1m41 0h1m34 0h1m26 0h1m12 0h1M53 74h1m7 0h1m43 0h1m57 0h1m3 0h1M60 75h1m31 0h1m51 0h1m2 0h1m11 0h1m5 0h1M169 76h1m20 0h1M62 77h2m16 0h1m48 0h1m33 0h1m3 0h1m5 0h1m2 0h1M65 78h1m35 0h2m23 0h1m22 0h1m32 0h2m4 0h1M62 79h1m30 0h1m91 0h1M140 80h1m16 0h1m2 0h1m3 0h1m20 0h1m5 0h1M100 81h1m30 0h1m29 0h2M168 82h1m20 0h1M102 83h1M124 84h1m14 0h1m33 0h1M58 85h1m63 0h1m8 0h1m47 0h1M68 86h1m61 0h2m39 0h1M81 87h1m42 0h1m43 0h1M66 88h1m42 0h1m61 0h1m7 0h1M54 89h1m44 0h1m71 0h1M171 90h1M60 91h1m3 0h1m100 0h1M123 93h1m36 0h1M176 94h1m1 0h2M74 95h1m98 0h1M65 96h1m42 0h1m1 0h2M171 97h1M67 98h1m27 0h1m55 0h1m6 0h1m17 0h1M150 99h1M68 100h1m85 0h2m7 0h1M38 101h1m128 0h1M39 102h1m36 0h1m77 0h2m6 0h2M151 103h1M161 104h1M159 105h1M138 106h1M39 107h1m63 0h1m36 0h1m13 0h1m14 0h1M152 108h1m13 0h1M87 109h1m54 0h1M32 110h1m103 0h1m24 0h1M133 111h1M94 112h1m39 0h1m8 0h1m19 0h2M150 113h1M35 114h1m4 0h1m95 0h1m23 0h1M56 115h1m43 0h1m28 0h1m1 0h1M98 116h1m3 0h1m50 0h1m2 0h1M101 117h1m42 0h1m5 0h1M88 118h1m21 0h1m43 0h1M90 119h1m36 0h1m6 0h3M36 120h1m45 0h1m8 0h1m43 0h1M29 121h1m8 0h1m19 0h1m28 0h1m3 0h1m24 0h1m14 0h1m3 0h1M48 122h1m6 0h1m51 0h1m10 0h1m3 0h1m12 0h1M37 123h1M43 124h1m2 0h1m50 0h1m14 0h1m7 0h1m3 0h1m9 0h1m6 0h1M62 125h1m11 0h1m2 0h1m29 0h1m24 0h1M109 126h1M91 127h1m15 0h1m13 0h1m17 0h1M30 128h1m7 0h1M37 129h1m3 0h1m8 0h1m17 0h1m58 0h1M44 130h1m73 0h2M28 131h1m26 0h1m2 0h1m49 0h1m24 0h1m6 0h1M111 132h1m1 0h1m11 0h1m9 0h1M49 133h1m11 0h1m4 0h1m5 0h1m21 0h1m31 0h1M27 134h1m26 0h1m10 0h1m2 0h1m12 0h1m48 0h1M31 135h1m86 0h1M88 136h1m8 0h1m33 0h1M40 137h1m6 0h1m2 0h1m13 0h1m15 0h1m44 0h1M33 138h1m12 0h1m14 0h1m10 0h2m1 0h1m4 0h1m22 0h1m1 0h1m18 0h1M46 139h1m6 0h1m28 0h1m7 0h1m1 0h1m3 0h1m25 0h2M34 140h1m5 0h1m2 0h1m39 0h1m1 0h1m9 0h1m5 0h1M46 141h1m26 0h1m11 0h1M41 142h2m61 0h1m1 0h1M63 143h1M47 144h1m17 0h1M40 145h1m3 0h1m12 0h1m13 0h1M38 146h1m12 0h1M45 147h1m1 0h1m5 0h1M41 148h1M48 149h1M45 152h1"/>
<path stroke="#3A548C" d="M179 3h1M168 4h1M176 5h1M162 6h1m9 0h1M168 8h1M156 9h1m24 0h1M155 10h1m28 0h1M165 11h1M178 14h1M181 16h1M156 17h1m1 0h1m9 0h1M139 18h1m3 0h1m23 0h1M148 19h1m30 0h1M186 20h1M138 21h1M155 22h1M134 24h1m49 0h1M135 27h1m21 0h1m10 0h1M140 28h1m45 0h1M189 29h1M159 30h1m25 0h1M149 31h1m17 0h1M148 33h1m21 0h1M154 34h1m20 0h1m15 0h1M129 35h1m1 0h1m20 0h1M158 37h1m18 0h1m3 0h1M131 38h1m24 0h2m5 0h1m28 0h1M121 39h1m28 0h1M121 40h1M166 41h1m4 0h1M125 42h1m33 0h1M156 43h1M121 44h1m42 0h1M125 45h1m5 0h1m22 0h1m4 0h1m8 0h1m9 0h1M101 46h1m27 0h1m3 0h1m17 0h1M94 47h1m27 0h1m13 0h1M93 48h1m2 0h1m25 0h1M92 49h1m14 0h1m13 0h1m23 0h1m6 0h1M98 50h1m8 0h2m6 0h1m9 0h1m31 0h1m8 0h1M91 51h1m14 0h1m25 0h1m1 0h1m34 0h1m1 0h1M105 52h1m5 0h1m29 0h1m6 0h1M93 53h1m38 0h1m9 0h1m18 0h1m14 0h1M108 54h1M118 55h1M112 56h1m5 0h1m26 0h1m3 0h1M98 57h2m44 0h1m21 0h1m4 0h1M101 58h1m5 0h1m49 0h1m34 0h1M49 59h1m81 0h1m11 0h1m18 0h1m33 0h1M93 60h1m9 0h1m45 0h1m45 0h1M135 61h1m20 0h1M96 62h1m45 0h1m16 0h1m13 0h1M120 63h1m2 0h1m1 0h1m29 0h1M58 64h1m63 0h1m1 0h1m28 0h1m40 0h1M59 65h2m39 0h1m3 0h1m2 0h1m20 0h2m5 0h1m36 0h1M98 66h1m36 0h1m20 0h1m8 0h1m2 0h1M153 67h1m41 0h1M63 68h1m35 0h1m52 0h1m6 0h1m12 0h1m11 0h1M82 69h1m9 0h1m43 0h1m17 0h1m22 0h1m12 0h2M56 70h1m23 0h1m14 0h1M77 71h1m3 0h1m8 0h1m3 0h1m41 0h1M81 72h1m46 0h1M57 73h1m5 0h1m15 0h1m16 0h1m46 0h1m31 0h1m12 0h1M62 74h1m17 0h1m80 0h1M79 75h1m3 0h1m79 0h1m7 0h1m4 0h1m15 0h1M94 76h1m12 0h1m40 0h1m9 0h1m25 0h1M146 77h1m5 0h2M59 78h1m18 0h1m3 0h1m10 0h1m37 0h1m33 0h1m2 0h1m20 0h1M81 79h1m22 0h1m5 0h1m18 0h1m18 0h2m13 0h1m14 0h1M52 80h1m12 0h1m17 0h2m9 0h1m50 0h1m38 0h1M97 81h1m38 0h1m28 0h1m20 0h1M58 82h1M69 83h1m69 0h1m33 0h1M62 85h1m46 0h1M52 86h1m1 0h1m5 0h1m10 0h1m12 0h1m10 0h1m5 0h1m7 0h1m27 0h1M69 87h1m95 0h1M48 88h1m18 0h1m38 0h2M61 89h1m44 0h1M64 90h1m38 0h1m28 0h1m32 0h1M55 91h1m75 0h1m35 0h1m1 0h1M48 92h1m52 0h3M53 93h1m77 0h1M92 94h1m3 0h1M78 95h1m93 0h1m4 0h1M18 96h1m56 0h1m19 0h1m70 0h1M38 97h1m2 0h1m47 0h1M45 98h1m29 0h1m5 0h1m74 0h1m17 0h1M77 99h1M74 100h1M98 101h1m49 0h1M33 102h1m103 0h1m26 0h1M34 103h1m103 0h1m13 0h1m13 0h1M37 104h1M41 105h1m63 0h1m38 0h1M44 106h1m63 0h1M147 107h1m18 0h1M33 108h1M36 109h1m57 0h1m37 0h1m13 0h1m16 0h1M38 110h1m34 0h1m20 0h1m42 0h2M46 111h1M37 112h1M33 113h1m27 0h1m84 0h1M30 114h1m29 0h1m67 0h1M36 115h1m40 0h1m34 0h1m4 0h1m34 0h1M50 116h1m80 0h1m11 0h1M113 117h1m11 0h1M30 118h1m65 0h1m1 0h1m14 0h1m3 0h1M36 119h1m59 0h1m15 0h1m4 0h1M102 120h1m6 0h1m26 0h1M34 121h1m34 0h1m15 0h1m33 0h1m6 0h1m2 0h1m6 0h1m13 0h1m2 0h1M41 122h1m36 0h1m26 0h1m11 0h1m6 0h1M58 123h1m1 0h1m53 0h1m7 0h1m4 0h1m10 0h1M28 124h1m1 0h1m3 0h1m12 0h1m42 0h1m2 0h1m46 0h1M93 125h1m10 0h1m36 0h1M34 126h1m13 0h1m35 0h1m52 0h1M49 127h1m5 0h1m42 0h1M39 128h1M42 129h1m10 0h1m8 0h1m39 0h2m7 0h1M34 130h1m2 0h2m2 0h1M96 131h1m17 0h1M31 132h1m7 0h1m12 0h1m21 0h1m37 0h1m1 0h1m4 0h1m11 0h1M28 133h1m17 0h1m23 0h1m17 0h1m38 0h1m12 0h1M30 134h2m10 0h1m2 0h1m2 0h1m3 0h1m17 0h1m5 0h1m29 0h1m10 0h1M59 135h1m29 0h1m25 0h1m17 0h1M96 136h1m7 0h1m9 0h1M49 137h1m9 0h1m23 0h1m37 0h1M41 138h2m48 0h1M54 139h1m10 0h1m2 0h1m22 0h1m27 0h1M47 140h1m26 0h1m29 0h2m2 0h1m5 0h1M44 141h1m29 0h1m27 0h1m3 0h1M51 142h1m7 0h1M57 143h1M52 144h1m11 0h1m39 0h2M62 145h1M37 146h1m14 0h1M40 148h1"/>
<path stroke="#34608D" d="M184 6h1M157 7h1M148 8h1M148 9h1m36 0h1M162 12h1M148 13h1m3 0h1m9 0h1M153 14h1m15 0h1m10 0h1M142 15h1m8 0h1m2 0h1m20 0h2M184 18h1M177 19h1M138 20h1m2 0h1m26 0h1m5 0h1M131 22h1m5 0h1M158 23h1m18 0h1M150 24h1m26 0h1M129 26h1m6 0h1m4 0h1M139 27h1M171 28h1m8 0h1M137 29h1M136 30h1M136 31h1m9 0h1M136 32h1M145 33h1M151 34h1m30 0h1m4 0h1M161 35h1M151 36h1M136 37h1m18 0h1m5 0h1M119 38h1m2 0h1M88 39h1m49 0h1M88 40h1m46 0h1m2 0h1m26 0h1m10 0h1M89 42h1m58 0h2m2 0h1M88 43h1m7 0h1m29 0h1m35 0h1M140 44h1M110 45h1m32 0h1M94 46h1m1 0h1m15 0h1m61 0h1M88 47h1m17 0h1m19 0h1m19 0h1M115 48h1m10 0h1m1 0h1m10 0h1m21 0h1m15 0h1M89 49h1m41 0h1m5 0h1m6 0h1m25 0h1M96 50h1m23 0h1m6 0h1m8 0h1M92 51h1m15 0h1m4 0h1m6 0h1M116 52h1m8 0h1m11 0h1m4 0h1m35 0h1M95 53h1m26 0h1m32 0h1m7 0h1M118 54h1m47 0h1M154 55h1M122 56h1m30 0h1m3 0h1m6 0h1M100 57h1m60 0h1M103 58h1m17 0h1m28 0h1m2 0h1m12 0h1m8 0h1M141 59h1M94 60h1m4 0h1m12 0h1m33 0h1m10 0h1m16 0h1m17 0h1M113 61h1m13 0h2m17 0h1M57 62h1m69 0h1m36 0h1m3 0h1M84 63h1m1 0h1m35 0h1m10 0h1m1 0h1m6 0h1m5 0h1m12 0h2M80 64h1m11 0h1m15 0h1m3 0h1m17 0h1m66 0h1M81 65h3m8 0h1m21 0h1m28 0h1m9 0h1m34 0h1M79 66h1m3 0h2m10 0h2m89 0h1M81 67h1m8 0h1m69 0h1m1 0h1m23 0h1m10 0h1M81 68h1m1 0h2m8 0h1m40 0h1m8 0h1m5 0h1m10 0h1m32 0h1M78 69h1m24 0h1m26 0h1m19 0h1m5 0h1m27 0h1m11 0h1M79 70h1m63 0h1m18 0h1M63 71h1m18 0h1m2 0h1M79 72h2m59 0h1m11 0h1m9 0h1m12 0h1m15 0h1M81 73h1m51 0h1m22 0h1m12 0h1m23 0h1M60 74h1m20 0h2m88 0h1M55 75h1m7 0h1m16 0h1m13 0h2m5 0h1m39 0h1m8 0h1m35 0h1M62 76h1m18 0h1m1 0h1m16 0h1m32 0h1m6 0h1M64 77h1m12 0h3m2 0h1m13 0h1m39 0h1m1 0h1M79 78h3m9 0h1m4 0h1m30 0h1m16 0h1m11 0h1M51 79h1m28 0h1m5 0h1m5 0h1m6 0h1m60 0h1M63 80h1m17 0h2m7 0h1m12 0h1m68 0h1m13 0h1M66 81h1m3 0h1m8 0h1M48 82h1m31 0h1m24 0h1M70 83h1m25 0h1m9 0h2m29 0h1M164 84h1M79 85h1m58 0h1M48 86h1m12 0h1m4 0h1m2 0h2m9 0h2m20 0h1m23 0h1m9 0h1M136 87h1M62 88h1m24 0h1m6 0h1m4 0h1m35 0h1m30 0h1m1 0h1M45 89h1M79 90h1m31 0h1M73 91h1m6 0h1m45 0h1m52 0h1M85 92h1M69 93h1m37 0h1m71 0h1M46 94h1m25 0h1m3 0h1m4 0h1m2 0h1m18 0h1M166 97h1M38 98h1m54 0h1m79 0h1M31 99h1m47 0h1M70 100h1m91 0h1M58 101h1m100 0h1m9 0h1M168 102h1M148 103h1M31 104h1m78 0h1m38 0h1M142 105h1m26 0h1M36 106h1m4 0h1M38 107h1m35 0h1m64 0h1m6 0h1M32 108h1m32 0h1m46 0h1m20 0h1M111 109h1m1 0h1M64 110h1m70 0h1m19 0h1M37 111h1M76 112h1m2 0h1m77 0h1m1 0h1M32 113h1m1 0h1m41 0h1m77 0h1M76 114h1m56 0h1M57 115h1m66 0h1M111 116h1m16 0h1m8 0h1M47 117h1m9 0h1m46 0h1m34 0h1M47 118h1m52 0h2m17 0h1M40 119h1m7 0h1m29 0h2m34 0h1M54 120h1m2 0h1m89 0h1m2 0h1M76 121h2m34 0h1M120 122h1M51 123h1m5 0h1m32 0h1m1 0h2m4 0h1m34 0h1m17 0h1M48 124h1m2 0h1m21 0h1m34 0h1m4 0h2M37 125h1m10 0h1m6 0h1M33 126h1m24 0h1m61 0h1m6 0h1M46 127h1m6 0h1m51 0h1m13 0h1m2 0h1M65 128h1m45 0h1m8 0h1M45 129h1m14 0h1M63 130h1m58 0h1M63 131h1m31 0h1m17 0h1m11 0h1M37 132h1m35 0h1M101 133h1m13 0h1m12 0h1M44 134h1m49 0h1m20 0h1m21 0h1M47 135h1m3 0h1m1 0h1m9 0h1m27 0h1m43 0h1M35 136h1m22 0h1m53 0h1m15 0h1M67 137h1m9 0h1m10 0h1m41 0h1M34 138h1m28 0h1m25 0h2m7 0h1m13 0h1m9 0h1m3 0h1M67 139h1m4 0h1m51 0h1M49 140h1M42 141h1m19 0h1M37 142h1m33 0h1M54 143h1m6 0h1m8 0h1m3 0h1M46 144h1M58 145h1M54 148h1M43 150h1M47 152h1"/>
<path stroke="#2F6C8E" d="M165 3h1M156 8h1m25 0h1M157 10h1m7 0h1m19 0h1M154 14h1M157 15h1m9 0h1M173 17h1m4 0h1M182 18h1M147 19h1M149 21h1M160 23h1M139 24h1m19 0h1M155 26h1m10 0h1M162 27h1M179 28h1M157 29h1M135 30h1m55 0h1M169 31h1M120 32h1M159 33h1m3 0h1m20 0h1M129 34h1M161 36h1m3 0h1M134 37h1m25 0h1M121 38h1m61 0h1M152 39h1m8 0h1M89 40h1m2 0h1M83 41h1M151 42h1M122 43h1m18 0h1M97 44h1m28 0h1m30 0h1m4 0h1M88 45h1m2 0h1m17 0h1m24 0h1m11 0h1M107 47h1m48 0h1M89 48h1m13 0h1m10 0h1m38 0h1M106 49h1M113 50h1m5 0h1m34 0h1M97 51h2M159 52h1M120 53h1M95 54h1m7 0h1m11 0h1m37 0h1m4 0h1M92 55h1m2 0h1m8 0h1m2 0h1m7 0h1m15 0h1M101 56h1m63 0h1M97 57h1m8 0h1m3 0h1m8 0h2m54 0h1M62 58h1m2 0h1m27 0h1m38 0h1M61 59h1m54 0h1m2 0h1m38 0h1m2 0h1M139 60h1M60 61h1m31 0h1m4 0h1m2 0h1m28 0h1M78 62h1m36 0h1m10 0h1m4 0h1m7 0h1m20 0h1m1 0h1M77 63h2m1 0h1m1 0h1m2 0h1m1 0h1m1 0h2m3 0h1m57 0h1m23 0h1M57 64h1m21 0h1m1 0h4m18 0h1m16 0h1m2 0h1m9 0h1m20 0h2M58 65h1m20 0h2m44 0h1m28 0h1m19 0h1M77 66h1m2 0h1m1 0h1m3 0h1m40 0h1m41 0h1m3 0h1m13 0h1m8 0h1M62 67h1m15 0h3m1 0h1m54 0h1m19 0h1M61 68h1m17 0h2m10 0h1m5 0h1m13 0h1m39 0h1m11 0h1m32 0h1M79 69h1m1 0h1m1 0h3m31 0h1m25 0h1m27 0h1M77 70h1m5 0h2m18 0h1m85 0h1M78 71h1m1 0h1m3 0h1m46 0h1m17 0h1m5 0h1m19 0h1M65 72h1m12 0h1m3 0h1m1 0h1m7 0h1m4 0h1m80 0h1m16 0h1M61 73h2m17 0h1m1 0h1m90 0h1m16 0h1M76 74h1m2 0h1m5 0h2m87 0h1m18 0h1M12 75h1m63 0h1m1 0h1m2 0h2m51 0h1m21 0h1m5 0h1m28 0h1M77 76h1m6 0h1m20 0h2m87 0h1m1 0h1M52 77h1m23 0h1m4 0h1m7 0h2m6 0h1m5 0h1M76 78h1m6 0h2m44 0h1m9 0h1m21 0h1m4 0h1M52 79h1m25 0h2m3 0h2m3 0h1M59 80h1m20 0h1m4 0h3m3 0h1m1 0h1m44 0h1m22 0h1m30 0h1M48 81h1m11 0h1m12 0h1m8 0h1m3 0h1m1 0h1m40 0h1m11 0h1m27 0h1m20 0h1M81 82h2m9 0h1m36 0h1m11 0h1M59 83h1m21 0h1m11 0h1m46 0h1m46 0h1M55 84h1m24 0h2m89 0h1M67 85h1m40 0h1M58 86h1m6 0h1m19 0h1M70 87h1m8 0h2m13 0h1m2 0h1m66 0h1M14 88h1m39 0h1m14 0h1m7 0h1m4 0h1m20 0h1m20 0h1m8 0h1M78 89h1m2 0h1m94 0h1M71 90h1m9 0h1m24 0h1M71 91h2m1 0h1m24 0h1M24 92h1m27 0h1m10 0h1m66 0h1M66 93h1M44 94h1m28 0h1m1 0h1M69 95h1M96 96h1M173 97h1M18 98h1m66 0h1m12 0h1M156 99h1M36 100h1m136 0h1M30 101h1M169 102h1M135 103h1M134 105h1m3 0h1m1 0h1M140 106h1M45 107h1m86 0h1m4 0h1m5 0h1M36 108h1m56 0h1m46 0h1M33 109h1m104 0h1m27 0h2M156 110h1m5 0h1M29 111h1m12 0h1m13 0h1m20 0h1m54 0h1m17 0h1M30 112h1m2 0h1m2 0h1m93 0h1m1 0h1m18 0h1M29 113h2m102 0h1m6 0h1m6 0h1M98 114h1m2 0h1m59 0h1M33 115h1m82 0h1m28 0h1M48 116h1m12 0h1M96 117h1m14 0h1M29 118h1m8 0h1m35 0h1m4 0h1m51 0h1M59 119h1m20 0h1m16 0h1m56 0h2M37 120h1m7 0h1m43 0h1m21 0h1m43 0h1M53 121h1m26 0h1m1 0h1m14 0h1m7 0h1M86 122h1m49 0h1M61 123h1m2 0h1m41 0h1m2 0h1m16 0h1m3 0h1M60 124h1m54 0h1m23 0h1M35 125h1m27 0h1m64 0h1m17 0h1M30 126h1m1 0h1m5 0h1m15 0h1m61 0h1m13 0h1M64 127h1m63 0h1M32 128h1m7 0h1m104 0h1M31 129h1M46 130h1m50 0h1m19 0h1M37 131h1m96 0h1M32 132h1m1 0h1m33 0h1m53 0h1M30 133h1m10 0h1m31 0h1m39 0h1m5 0h1M28 134h1m3 0h1m18 0h1m14 0h1m16 0h1M103 135h1M113 136h1M61 137h1m50 0h1m16 0h1M111 138h1M50 139h1m11 0h1m26 0h1m3 0h1m7 0h1m2 0h1m23 0h1M44 140h1m52 0h1m8 0h1m17 0h1M100 141h1M34 142h1M71 143h1m15 0h1M44 144h1m6 0h1m3 0h1M63 145h1M53 146h1M47 148h1"/>
<path stroke="#2A768E" d="M164 3h1M156 6h1M160 12h1M170 16h1M184 17h1M155 21h1M179 22h1M156 23h1m14 0h1M191 27h1M129 28h1M169 30h1M173 31h1M123 32h1m45 0h1M156 33h1m3 0h1M127 34h1m43 0h1M147 35h1m19 0h1M125 36h1m38 0h1M125 37h1M159 38h1M167 39h1M84 40h1m37 0h1M90 41h1M83 42h1m73 0h1m17 0h1M171 43h1M134 44h1m24 0h1m5 0h1m1 0h1m6 0h1M160 45h1M88 46h1m45 0h1m1 0h1m24 0h1M103 47h1m4 0h1m32 0h1m11 0h1M163 48h1M88 49h1m54 0h1m11 0h1m1 0h1m5 0h1m14 0h1M92 50h1m12 0h1m10 0h1m5 0h1m10 0h1M114 51h1m3 0h1M150 52h1M156 53h1m7 0h1M91 54h1m44 0h1m18 0h1m1 0h1m13 0h1M125 55h1m10 0h1m34 0h1M48 56h1m62 0h1m21 0h1m4 0h1M121 57h1m10 0h1M61 58h1m35 0h1m14 0h1m6 0h1m2 0h1m6 0h1M96 59h1m1 0h1m10 0h1M48 60h1m95 0h1M77 61h1m6 0h2m16 0h1m16 0h1m43 0h1m15 0h1M77 62h1m2 0h1m2 0h1m1 0h2m27 0h1m2 0h1m80 0h1M79 63h1m1 0h1m1 0h1m4 0h1m40 0h1m24 0h1m41 0h1M129 64h1m4 0h1M78 65h1m5 0h3m10 0h1m8 0h1m38 0h2m3 0h1M60 66h1m20 0h1m7 0h1m100 0h1M48 67h1m14 0h1m12 0h2m6 0h1m45 0h1m13 0h1m16 0h1M52 68h1m6 0h1m22 0h1m2 0h1m2 0h1m42 0h1m44 0h3M75 69h1m13 0h1m1 0h1m34 0h1M62 70h1m15 0h1m2 0h2m3 0h1m3 0h2m25 0h1m5 0h2m3 0h1m31 0h1m6 0h1M62 71h1m11 0h1m4 0h1m6 0h1m27 0h1m1 0h1m45 0h1m29 0h1M74 72h1m2 0h1m18 0h1m3 0h1m29 0h1m3 0h1m6 0h1m1 0h1M75 73h1m2 0h1m5 0h1m33 0h1m40 0h1M78 74h1m4 0h2m3 0h2m18 0h1m31 0h1m21 0h1M75 75h1m1 0h1m6 0h1m5 0h1m61 0h1m17 0h1M73 76h1m1 0h1m3 0h1m2 0h1m2 0h1m81 0h1m3 0h1M54 77h1m11 0h1m16 0h3m1 0h1m52 0h1m47 0h1M50 78h1m26 0h1m7 0h4m80 0h1M49 79h1m25 0h3m4 0h1m2 0h1m4 0h1m92 0h1M64 80h1m24 0h1m56 0h1M10 81h1m64 0h1m1 0h1m2 0h2m2 0h2m12 0h1m4 0h1m79 0h1M16 82h1m36 0h1m36 0h1m12 0h1M79 83h1m54 0h1m3 0h1M69 84h2m59 0h1m3 0h1M68 85h3m9 0h1m1 0h1m1 0h2m19 0h2m59 0h1m6 0h1m10 0h1M64 86h1m13 0h1m27 0h1m1 0h1M72 87h1m18 0h1M47 88h1m28 0h1m8 0h1m9 0h1m86 0h1M20 89h1m45 0h1m2 0h1m7 0h1m4 0h1m45 0h1m4 0h1m46 0h1M86 91h1M76 92h1m1 0h1m4 0h1m44 0h1M72 93h1m11 0h1m2 0h1m15 0h1m28 0h1M68 94h1m102 0h1m1 0h1M37 96h1m39 0h1m79 0h1m14 0h1M23 97h1m86 0h1M20 98h1m14 0h1m1 0h1m33 0h1M23 99h1m8 0h2m37 0h1m63 0h1M25 100h1m11 0h1m57 0h1m2 0h1M128 101h1M75 102h1m6 0h1m1 0h1M92 103h1m8 0h1m37 0h1m22 0h1M32 104h1m71 0h1M38 105h1M34 106h1m7 0h2m26 0h1m63 0h1M87 107h1m45 0h1M38 108h2M30 109h1m8 0h1m43 0h1m18 0h2m20 0h1m18 0h1M39 111h1m19 0h1m34 0h1m40 0h1m2 0h1M57 112h1m50 0h1m31 0h1M77 113h1m54 0h1m1 0h1M28 114h1m76 0h1m10 0h1M130 115h1M36 116h1m21 0h1m40 0h1m29 0h1M29 117h1m1 0h1m7 0h1m49 0h1m9 0h1m24 0h1m21 0h1M97 118h1m28 0h1m1 0h1M47 119h1m35 0h1m11 0h1m24 0h1m26 0h1m8 0h1M39 120h1m46 0h1m23 0h1m18 0h1M55 121h1m48 0h1m18 0h1M37 122h1m27 0h1m65 0h1M29 123h1m19 0h2m62 0h1m27 0h1M36 124h1m13 0h1m5 0h1m76 0h1M60 125h1m54 0h1m1 0h1m25 0h1m6 0h1M45 126h2m9 0h1m69 0h1M29 127h1m73 0h1m34 0h1M78 128h1m4 0h1M52 129h1m5 0h1m51 0h1M36 130h1m18 0h1m52 0h1m28 0h1M42 132h1m14 0h1m70 0h1M59 133h1m2 0h1m5 0h1m21 0h1m4 0h1m18 0h1M46 134h1m10 0h1m34 0h1m2 0h1m39 0h1M72 135h1m12 0h1M50 136h1m18 0h1m60 0h1M87 137h1m43 0h2M47 138h1m11 0h2m35 0h1m4 0h1M30 139h1m2 0h1m13 0h1m35 0h1m41 0h1M30 141h1m34 0h1m2 0h1m45 0h1M77 142h1m36 0h1M64 145h1m38 0h1M43 146h1M44 152h1"/>
<path stroke="#26818E" d="M156 5h1M154 7h1M180 9h1M148 10h1M179 12h1M149 13h1M156 14h1M170 15h1M171 16h1M169 18h1M149 19h1m1 0h1m29 0h1m5 0h1M180 20h1M141 21h1M170 22h1m7 0h1M137 23h1M180 26h1M165 27h1M182 29h1M153 30h1m3 0h1M124 31h1m25 0h2m24 0h1M158 33h1M156 35h1m31 0h1M118 37h2m26 0h1m44 0h1M130 38h1m5 0h1M85 39h1m1 0h1m63 0h1M139 40h1m26 0h1M89 41h1m2 0h1m48 0h1m9 0h1M82 42h1m49 0h1m9 0h1m22 0h1M142 44h1m7 0h1M87 45h1m11 0h1m7 0h1m31 0h1m1 0h1m38 0h1m6 0h1M109 46h1m50 0h1m5 0h1m15 0h1M158 47h1M124 49h1M124 51h1m1 0h1M89 52h1m3 0h1m28 0h1m5 0h1m9 0h1M97 53h1m17 0h1M116 54h1m12 0h2m11 0h1m9 0h1M89 55h1m16 0h1m15 0h1m10 0h1m31 0h1M94 56h1m12 0h1m12 0h1m23 0h1M48 57h1m42 0h1m3 0h1m31 0h1m32 0h1m2 0h1M91 58h1M85 59h1m6 0h1m2 0h1m1 0h1m5 0h2m2 0h1M82 60h1m8 0h1m3 0h1m39 0h2M78 61h3m1 0h2m5 0h1m40 0h1m1 0h1m20 0h1m1 0h1m22 0h1M60 62h1m13 0h3m2 0h1m2 0h1m1 0h1m3 0h1m3 0h1m25 0h1m13 0h1m1 0h1m16 0h1m15 0h1M49 63h2m8 0h1m14 0h2m24 0h1m25 0h2m28 0h1m10 0h1M59 64h1m17 0h1m7 0h4m2 0h1m40 0h1m11 0h1m32 0h1M54 65h1m34 0h2m4 0h1m13 0h1m6 0h1m9 0h1m38 0h1M72 66h1m3 0h1m1 0h1m6 0h1m1 0h1m2 0h1m12 0h1m57 0h1m23 0h1M56 67h1m8 0h1m3 0h1m13 0h1m2 0h2m41 0h1m36 0h1m5 0h1m19 0h1M76 68h3m33 0h1m13 0h1m17 0h1m5 0h1m20 0h1M63 69h1m9 0h2m1 0h2m2 0h1m12 0h1M72 70h2m1 0h1m11 0h1m4 0h1m13 0h1m25 0h1m2 0h1M61 71h1m13 0h2m6 0h1m17 0h1m24 0h1m27 0h1M50 72h1m22 0h1m1 0h2m6 0h1m1 0h3m20 0h1m22 0h1m10 0h1m14 0h1m12 0h1M73 73h2m1 0h2m5 0h1m1 0h3m3 0h1m33 0h1M72 74h1m2 0h1m1 0h1m9 0h1m10 0h1m76 0h1m9 0h1M61 75h1m23 0h1m3 0h1m34 0h1m8 0h1M52 76h1m21 0h1m1 0h1m1 0h1m1 0h1m5 0h3m12 0h1m1 0h1m49 0h1M49 77h1m23 0h1m12 0h1m1 0h1m3 0h1m14 0h1m42 0h1m9 0h1m21 0h1M74 78h2m14 0h1m8 0h1m37 0h1M73 79h1m17 0h1m14 0h1m24 0h1m49 0h1M66 80h1m7 0h1m2 0h3m8 0h1m12 0h1m19 0h1M47 81h1m10 0h1m2 0h1m14 0h1m1 0h1m8 0h1m5 0h2m40 0h1M76 82h2m1 0h1m5 0h1m3 0h1m1 0h1m9 0h1m5 0h1M52 83h1m14 0h1m3 0h1m5 0h2m1 0h1m1 0h1m2 0h1m13 0h1m3 0h1M64 84h1m14 0h1m2 0h1m7 0h1m2 0h1m4 0h1m1 0h1m4 0h1M52 85h1m7 0h1m4 0h1m37 0h1m21 0h1m41 0h1m14 0h1M75 86h1m96 0h1M50 87h1m8 0h1m22 0h1m2 0h1m14 0h1M68 88h1m31 0h1M28 89h1m20 0h1m22 0h1m6 0h1m9 0h1m22 0h1M94 90h1m5 0h1m1 0h1m74 0h1M19 91h1m5 0h1m56 0h1m7 0h1m2 0h1m30 0h1M72 92h1m27 0h1M21 93h1m59 0h1m28 0h1m61 0h2m3 0h1M79 94h1m13 0h1m37 0h1M16 95h1m70 0h1m87 0h1M30 96h1m36 0h1m14 0h1M17 97h1m21 0h1m45 0h1m74 0h1M72 98h1M18 99h1m18 0h1m58 0h1m2 0h1M22 100h1m10 0h1m140 0h1M20 101h1m23 0h1m18 0h1m18 0h1m53 0h1M61 102h1m11 0h1m4 0h1M108 103h1M27 104h1m1 0h1m39 0h1m62 0h1m1 0h1M28 105h2m2 0h1M24 106h1m7 0h1m4 0h1m16 0h1m31 0h1m5 0h1m40 0h1m1 0h1m17 0h1M22 107h1m20 0h1m25 0h1M24 110h1m2 0h1m47 0h1M28 111h1m119 0h1m11 0h1M142 112h1M85 113h1m51 0h1M117 114h1M32 115h1m82 0h1M35 116h1m34 0h1m12 0h1m30 0h1m21 0h1m4 0h1M81 117h1M41 118h1m7 0h1m70 0h1M55 119h1m46 0h1m1 0h1m25 0h1m15 0h1M87 120h1m28 0h1m2 0h1m3 0h1m25 0h1m3 0h1M28 121h1m12 0h1m44 0h1m34 0h1M42 122h1m19 0h1m5 0h1m84 0h1M34 123h1m1 0h1m26 0h1m21 0h1M41 124h1m7 0h1m7 0h1m20 0h1m17 0h1m46 0h1M40 125h1m16 0h1m8 0h1m41 0h1m7 0h1m4 0h2m10 0h1M53 126h1m10 0h1m57 0h2M47 127h1m70 0h1M97 128h1M34 129h1m22 0h1m8 0h1m17 0h1m46 0h1M59 130h1m53 0h1M29 131h1m76 0h1M54 132h1m12 0h1m38 0h1M25 133h1m1 0h1m5 0h1m72 0h1m30 0h1M29 134h1m42 0h1m9 0h1m2 0h1m1 0h1m9 0h1m18 0h1M43 135h1m17 0h1m7 0h1m20 0h1m1 0h1M47 136h1m36 0h1m6 0h1M34 137h1m30 0h1m3 0h1m9 0h1m24 0h1M29 138h1m35 0h1m41 0h1M61 139h1m43 0h1m4 0h1m1 0h1M52 140h1m56 0h1M52 141h1M88 142h1m19 0h1M39 143h1m19 0h1m7 0h1m26 0h1M59 145h1M46 146h1m13 0h1M48 148h1M48 150h1"/>
<path stroke="#228B8D" d="M159 2h2M161 6h1m8 0h1M148 11h1M161 12h1M165 13h1M143 15h1M137 16h1m22 0h1m13 0h1M142 18h1M176 19h1M148 21h1m32 0h1m4 0h1M173 23h1M155 27h1M188 28h1M181 29h1M128 31h1M135 32h1m36 0h1M120 34h1M132 35h1M181 38h1M192 40h1M88 41h1M87 42h1m4 0h1m54 0h1m42 0h1M82 43h1m63 0h1M81 44h1m26 0h1m62 0h1M157 45h1M191 46h1M92 47h1m17 0h1M87 48h1M90 49h1m76 0h1M114 50h1m14 0h1M152 51h1m14 0h1M151 52h1m11 0h1M73 53h1m56 0h1m20 0h1M123 54h1m46 0h1M91 55h1m1 0h1m64 0h1M91 56h1m4 0h1m5 0h1m2 0h1m8 0h1M52 57h1m6 0h1m30 0h1m2 0h1m37 0h1M63 58h1m15 0h1m12 0h1M58 59h1m4 0h1m18 0h1m6 0h1m3 0h2m79 0h1m23 0h1M55 60h1m4 0h1m14 0h1m4 0h1m2 0h1m8 0h1m54 0h1m25 0h1M49 61h1m9 0h1m1 0h1m24 0h2m2 0h2m2 0h1m9 0h1m2 0h1m1 0h1m12 0h1m2 0h1m28 0h1m44 0h1M81 62h1m5 0h1m61 0h1m46 0h1M73 63h1m2 0h1m25 0h1m57 0h1M61 64h1m14 0h1m1 0h1m11 0h1m14 0h1m19 0h1m64 0h1M53 65h1m9 0h1m9 0h1m2 0h2m9 0h1m6 0h1m22 0h1m52 0h1M59 66h1m11 0h1m3 0h1m12 0h1m2 0h1M57 67h1m14 0h1m12 0h1m2 0h2m24 0h1m31 0h1m11 0h1M56 68h1m8 0h1m6 0h1m1 0h1m12 0h1m1 0h1m45 0h1m50 0h1M59 69h1m11 0h1m32 0h1m18 0h1M51 70h1m22 0h1m1 0h1m8 0h1m19 0h1M55 71h1m31 0h2m49 0h1m13 0h1m43 0h1M61 72h1m31 0h1m38 0h1M66 73h1m3 0h1m82 0h1m1 0h1m41 0h1M63 74h1m1 0h1m8 0h1m17 0h1m17 0h1m39 0h1m43 0h1M54 75h1m15 0h1m1 0h1m1 0h1m11 0h1m10 0h1m21 0h1m20 0h1M89 76h1m2 0h1m15 0h1m67 0h1M72 77h1m1 0h2m24 0h1m44 0h1m49 0h1M70 78h1m1 0h2m15 0h1m2 0h1m18 0h1m47 0h1M12 79h1m33 0h1m9 0h1m4 0h1m5 0h1m6 0h1m12 0h1m1 0h1m18 0h1m21 0h1m43 0h1M11 80h1m41 0h1m13 0h1m1 0h1m2 0h1m2 0h2m31 0h1m78 0h1M44 81h1m5 0h1m13 0h1m9 0h1m8 0h1m8 0h1m86 0h1M49 82h1m23 0h3m7 0h2m1 0h3m4 0h1M65 83h1m9 0h1m7 0h2m1 0h3m2 0h1m2 0h1m3 0h1m5 0h1m79 0h1M71 84h1m5 0h2m4 0h2m7 0h1M16 85h1m47 0h1m11 0h1m1 0h1m2 0h1m5 0h1m8 0h1m29 0h1M28 86h1m44 0h1m9 0h1m2 0h1m4 0h1m1 0h1m39 0h1m45 0h1M13 87h1m1 0h1m1 0h1m42 0h1m29 0h1m20 0h1m18 0h1M18 88h1m52 0h2m1 0h1m5 0h1m53 0h1M14 89h1m52 0h1m7 0h1m32 0h1m1 0h1m61 0h3M20 90h1m12 0h1m29 0h1m5 0h1m4 0h1m8 0h1m38 0h1m4 0h1M58 91h1m8 0h1m1 0h1M26 92h1m99 0h1M62 93h1m1 0h1m2 0h1m20 0h1M19 94h1m4 0h1m60 0h1m89 0h1M26 95h1m48 0h1M24 96h1m1 0h1m9 0h1m32 0h1m9 0h1m52 0h1m41 0h1M18 97h1m5 0h1m2 0h1m2 0h1m35 0h1M78 98h1m17 0h1M95 99h1m1 0h1M23 100h1m55 0h1M24 101h1m145 0h1M27 102h1m128 0h1M26 103h1m3 0h1m8 0h1m1 0h1m34 0h1m95 0h1M34 104h1m98 0h1m1 0h1M21 105h1m8 0h1m9 0h1M81 106h1m55 0h1m8 0h2M134 107h1M23 108h1m3 0h1m1 0h1m54 0h1m59 0h1M24 109h1m1 0h1m38 0h1M92 110h1m24 0h1M30 111h1m14 0h1m43 0h1m13 0h1M58 112h1m42 0h1m42 0h1m9 0h1M103 114h1M31 115h1m57 0h1m7 0h1m5 0h1m23 0h1M53 116h1m49 0h1m53 0h1M83 117h1M34 118h1m49 0h1m40 0h1M30 119h1m10 0h1m9 0h1M60 120h1m2 0h1m15 0h1m5 0h1m9 0h1M96 122h1m13 0h1M48 123h1M30 125h1m11 0h1m57 0h1m5 0h1m11 0h1M59 126h1m29 0h1m21 0h1M31 127h1m16 0h1m19 0h1m47 0h1m27 0h1M31 128h1m66 0h1M23 129h1m35 0h1M23 130h1m72 0h1M40 131h1m19 0h1m51 0h1m19 0h1M66 132h1m50 0h1M29 133h1m103 0h1M50 134h1M94 135h1M49 136h1m33 0h1m41 0h2M51 137h1m24 0h1m50 0h1M66 138h1m46 0h1M73 139h1M60 141h1M48 142h1m25 0h2m2 0h1M77 143h1m36 0h1M50 146h1m14 0h1M48 151h1"/>
<path stroke="#1F958B" d="M155 4h1M180 7h1M150 9h2M164 11h1M153 15h1M157 20h1M170 23h1M151 24h1M140 25h1M188 26h1M165 28h1M147 32h1M156 34h1m13 0h1m5 0h1M145 36h1M145 37h1M153 38h2M84 39h1m5 0h1M170 41h1M87 43h1M80 44h1m6 0h1m99 0h1M80 45h1m15 0h1m8 0h1m68 0h1M80 46h1m6 0h1m9 0h1m56 0h1m1 0h1m1 0h1m3 0h1M90 47h1m64 0h1M58 48h1m52 0h1M165 49h1M124 50h1m44 0h1m4 0h1M88 52h1m44 0h1m15 0h1m21 0h1M88 53h2M94 54h1m59 0h1m9 0h2M112 55h1m28 0h1m1 0h1m15 0h1M95 56h1m21 0h1m5 0h1m36 0h1m2 0h1M76 57h1m41 0h1M80 58h1m6 0h1m1 0h1m33 0h1m75 0h1M56 59h1m19 0h1m10 0h1m3 0h1m14 0h1m7 0h1m13 0h1M53 60h1m22 0h4m4 0h2m2 0h1m1 0h1m20 0h1m28 0h1m10 0h1m47 0h1M70 61h1m3 0h1m6 0h1m14 0h1m19 0h1M52 62h1m1 0h1m15 0h1m1 0h1m16 0h2m7 0h1m2 0h1m45 0h1M58 63h1m44 0h1m4 0h1m7 0h1m30 0h1M71 64h5m13 0h1M70 65h1m4 0h1m12 0h1m4 0h1m54 0h1M57 66h1m6 0h1m8 0h2M71 67h1m1 0h3m17 0h1M49 68h1m7 0h1m13 0h1m1 0h1m1 0h1m10 0h1m19 0h1m12 0h2m35 0h1M72 69h1m13 0h1m3 0h1m20 0h1m48 0h1m24 0h1M60 70h1m9 0h1m29 0h1m56 0h1M71 71h3m15 0h1m55 0h1M55 72h1m2 0h1m4 0h1m6 0h1m1 0h1m15 0h1m6 0h1m33 0h1m44 0h1M64 73h1m4 0h1m2 0h1m17 0h1m6 0h1m42 0h1m44 0h1m5 0h1M73 74h1m17 0h1m11 0h1m79 0h1M69 75h1m3 0h1m13 0h2m9 0h1m96 0h1M64 76h1m2 0h1m1 0h1m1 0h1m21 0h1m10 0h1m86 0h1M11 77h1m79 0h1m31 0h1m2 0h1m31 0h1M53 78h2m6 0h1m2 0h1m3 0h1m2 0h1m62 0h1M47 79h1m24 0h1m25 0h1m81 0h1m11 0h1m1 0h1M10 80h1m33 0h1m23 0h1m4 0h1m23 0h1m34 0h1m47 0h1m12 0h1M63 81h1m1 0h1m2 0h1m3 0h1M15 82h1m29 0h1m26 0h1m5 0h1m104 0h1m1 0h1M73 83h1M75 84h1m10 0h3m19 0h1m76 0h3M73 85h1m38 0h1m11 0h1M12 86h1m63 0h1m5 0h1m7 0h1m12 0h1m1 0h1m57 0h2m13 0h1M19 87h1m16 0h1m12 0h1m14 0h1m18 0h1m4 0h2m48 0h1m30 0h1m11 0h2M16 88h1m2 0h1m10 0h1m7 0h1m34 0h1m10 0h1m40 0h1m55 0h1M21 89h1m25 0h1m5 0h1m19 0h1m9 0h2m10 0h1m5 0h1M34 90h1m52 0h1m25 0h1m66 0h1M16 91h1m9 0h1m61 0h1m3 0h1m9 0h1M25 92h1M16 93h1m1 0h1m4 0h1m1 0h1m1 0h1m49 0h1m11 0h1m15 0h1m7 0h1m6 0h1m5 0h1M15 94h1m5 0h1m1 0h1m23 0h1m26 0h1m26 0h1M17 95h2m139 0h1m5 0h1M23 96h1m42 0h1m4 0h1M20 97h1M17 98h1m6 0h1m6 0h1M22 99h1m20 0h1m86 0h1m38 0h1m4 0h1M19 100h2m3 0h1m63 0h1M23 101h1m9 0h2m2 0h1m47 0h1m6 0h1m60 0h1M21 102h1M22 103h1m4 0h1m5 0h1m38 0h1m8 0h1m55 0h1m12 0h1m10 0h1M22 104h1m45 0h1m14 0h1m52 0h1m15 0h1M55 105h1M29 106h1m79 0h1M51 107h1M45 108h1m88 0h1m32 0h1M27 109h1m70 0h1m5 0h1m31 0h1m2 0h1M29 110h2m5 0h1m50 0h1m11 0h1M27 111h1m86 0h1m14 0h1m34 0h1M41 112h1m56 0h1M101 113h1m2 0h1M46 114h1m43 0h1m11 0h1m27 0h1M76 115h1M38 116h1m26 0h1M59 117h2m13 0h1m27 0h1M39 118h1m12 0h1m86 0h2M37 119h1m60 0h1m22 0h1M47 120h1m66 0h1M33 121h1m2 0h1M32 122h1m18 0h1m5 0h1m9 0h1m8 0h1m2 0h1m49 0h1M35 123h1m29 0h1m11 0h1m19 0h1m9 0h1m12 0h1M45 124h1m15 0h1m37 0h1m6 0h1m16 0h1M41 125h1m1 0h1m3 0h1M55 126h1m20 0h1m72 0h1M35 127h1m8 0h1m20 0h1M34 128h1m20 0h1m8 0h1m5 0h1M25 129h1m17 0h1m53 0h1m11 0h1M30 130h1m18 0h1M26 131h1m26 0h1m8 0h1m56 0h1M44 132h1m33 0h1m25 0h1M53 133h1m54 0h1M61 134h1m31 0h1M46 135h1m5 0h1m7 0h1m47 0h1M28 136h1m4 0h1m72 0h1M71 137h1m31 0h1M43 138h1m14 0h1m11 0h1m35 0h1m1 0h1m14 0h1M70 139h1m43 0h1m11 0h1M39 140h1m52 0h1M31 141h1m19 0h1m29 0h1m21 0h1M47 142h1M68 143h1m27 0h1M39 145h1M66 146h1M60 147h1m1 0h1M56 148h1M42 149h1m6 0h1m2 0h1M42 150h1"/>
<path stroke="#1FA088" d="M160 3h1M153 8h1M165 12h1M155 13h1M158 14h1m8 0h1m6 0h1M152 21h1M134 22h1M174 23h1M153 24h1M167 25h1M167 28h1M134 29h1M168 32h1M128 33h1m28 0h1m17 0h1M149 34h1M160 36h1M166 37h1M146 38h1M90 40h1M86 41h1M86 42h1m6 0h1m23 0h1M81 43h1m10 0h1m40 0h1m53 0h1M169 44h1M82 45h1m18 0h1m2 0h1M81 46h1m21 0h1m7 0h1m23 0h1m19 0h1m9 0h1M85 47h2m17 0h1m30 0h1m8 0h1m12 0h1m3 0h1M141 48h2m6 0h1M79 49h1m7 0h1m8 0h1m38 0h1m17 0h1m4 0h1M89 50h1M57 51h1m22 0h1M91 52h2m64 0h1M91 53h1m13 0h1m1 0h1m28 0h1m23 0h1m4 0h1m6 0h1M74 54h1m17 0h1m55 0h1m11 0h1M90 55h1m3 0h1m82 0h1M51 56h1m18 0h1m15 0h1m3 0h1m63 0h1m6 0h1M50 57h1m14 0h1m15 0h1m5 0h2m15 0h1m11 0h1m7 0h1M50 58h1m3 0h1m5 0h1m14 0h2m1 0h1m2 0h1m1 0h1m1 0h1m4 0h1m3 0h1m7 0h1m1 0h1m8 0h1M67 59h1m2 0h1m1 0h1m4 0h1m2 0h2m1 0h2m5 0h1M61 60h1m10 0h1m13 0h2m105 0h1M58 61h1m16 0h2m11 0h1m4 0h1M51 62h1m9 0h1m11 0h1m17 0h1m2 0h1m51 0h1m14 0h1m19 0h1M62 63h1m7 0h3m18 0h1m32 0h1m53 0h1M51 64h1m11 0h1m30 0h1m9 0h1m90 0h1M57 65h1m3 0h1m10 0h1m1 0h1m16 0h1m40 0h1m49 0h1m9 0h1M61 66h1m8 0h1m28 0h1m48 0h1M67 67h1m2 0h1m26 0h1m11 0h2M70 68h1m38 0h1m15 0h1m68 0h1M70 69h1m16 0h2m32 0h1m37 0h1M68 70h2m1 0h1m29 0h1m2 0h1m22 0h1m6 0h1M64 71h1m1 0h1m24 0h1m40 0h1m2 0h1m8 0h1m3 0h1m48 0h1M47 72h1m20 0h1m2 0h1m17 0h1m1 0h1m75 0h1m24 0h1M58 73h1m29 0h2m56 0h1M68 74h1m1 0h2m18 0h1m36 0h1m13 0h1M67 75h1m36 0h1m26 0h1m6 0h1m33 0h1M61 76h1m8 0h1m1 0h1m24 0h1m12 0h1m75 0h1M68 77h4m29 0h1m4 0h1m27 0h1m40 0h1M13 78h1m52 0h1m2 0h1m25 0h1m75 0h1m18 0h1M10 79h1m46 0h1m12 0h2m24 0h1m31 0h1m4 0h1m9 0h1m40 0h1M55 80h1m36 0h1m2 0h1m35 0h1m5 0h1M71 81h1m17 0h1m17 0h1m20 0h1m1 0h1m1 0h1M13 82h1m4 0h1m23 0h1m12 0h1m9 0h1m2 0h1m2 0h1m22 0h1m9 0h1m25 0h1m47 0h1M14 83h1m1 0h1m1 0h1m55 0h1m1 0h1m12 0h2m36 0h1m53 0h1M68 84h1m3 0h2m2 0h1m8 0h1m3 0h1m1 0h1m14 0h1m58 0h1M12 85h1m7 0h1m1 0h1m24 0h1m1 0h1m1 0h1m2 0h1m16 0h1m11 0h1m2 0h1m13 0h1M20 86h1m12 0h1m38 0h1m6 0h1m7 0h1M14 87h1m7 0h1m3 0h1m46 0h3m16 0h1m14 0h1m23 0h1m39 0h1M17 88h1m2 0h1m22 0h1m5 0h2m8 0h1m1 0h1m16 0h1m4 0h1m7 0h1m1 0h1m69 0h1M16 89h1m6 0h1m47 0h1m15 0h1M30 90h1m35 0h1m10 0h1m8 0h1m1 0h1m2 0h1m38 0h1M18 91h1m9 0h1m76 0h1m26 0h1M21 92h1m1 0h1m43 0h1m3 0h1m2 0h1m13 0h1M19 93h1m6 0h1m2 0h1m7 0h1m125 0h1M17 94h1m2 0h1m1 0h1m2 0h1m76 0h1M19 95h1m4 0h1m9 0h1m4 0h1m42 0h1m5 0h1M25 96h1m12 0h1m29 0h1m5 0h1m23 0h1m4 0h1m73 0h1M21 97h1m58 0h1m49 0h1M23 98h1m6 0h1m34 0h1m83 0h1M19 99h1m10 0h1m69 0h1m33 0h1m40 0h1M31 100h1m60 0h1M25 101h1m2 0h1m2 0h1m61 0h1M22 102h1m2 0h2m3 0h2m30 0h1m24 0h1m62 0h1M24 103h2m6 0h1m3 0h1m33 0h1M25 105h1m1 0h1m3 0h1m12 0h1m90 0h1M25 106h2m1 0h1m2 0h1m107 0h1M24 108h1m5 0h1m63 0h1m18 0h1m18 0h1M28 109h1m12 0h1m50 0h1m7 0h1M26 110h1m47 0h1m35 0h1m23 0h1M32 111h1M34 112h1m5 0h1m8 0h1m49 0h1m35 0h1M28 113h1m14 0h1m2 0h1m15 0h1m2 0h1m12 0h1m38 0h2m29 0h1m9 0h1M147 114h1M59 115h1m28 0h1m10 0h1M42 116h1m58 0h1m56 0h1M48 117h1m29 0h1m33 0h1M33 118h1m25 0h1m17 0h1m2 0h1m31 0h1m8 0h1M29 119h1m2 0h1m2 0h1m3 0h1M92 120h1m33 0h1M52 121h1m4 0h1m9 0h1m54 0h1M70 122h1m23 0h1m13 0h1m2 0h1M40 123h2m26 0h1m18 0h1m11 0h1m1 0h1m21 0h1M38 124h1m27 0h1m58 0h1m1 0h1M44 125h1m8 0h1m10 0h1m25 0h1M52 126h1m17 0h1m37 0h1m10 0h1M72 127h1m39 0h1M80 128h1m60 0h1M30 129h1m47 0h1m40 0h1M93 130h1m13 0h1m2 0h1M31 131h1m2 0h1m14 0h1m21 0h1m5 0h1m33 0h1M26 132h2m5 0h1m52 0h1M31 133h1m51 0h2M86 134h1m20 0h1m17 0h1M67 135h1m20 0h1M54 136h1m7 0h1m16 0h1m14 0h1m12 0h1m26 0h1M43 137h1m24 0h1m21 0h1m42 0h1M104 138h1m5 0h1m7 0h1m10 0h1M60 139h1m14 0h1M59 140h1M37 141h1m45 0h1M39 142h1m17 0h1m2 0h1m50 0h1M72 143h1m9 0h1m22 0h1M105 145h1M54 146h1m1 0h1M47 151h1"/>
<path stroke="#24AA83" d="M166 3h1M171 10h1M160 18h1M150 20h1M167 21h1M154 23h1M161 26h1M149 33h1m39 0h1M186 35h1M182 38h1M48 40h1m34 0h1m107 0h1M82 41h1m4 0h1M81 42h1m12 0h1m78 0h1M48 43h1m36 0h1m39 0h1M86 44h1M83 45h2m65 0h1m35 0h1M86 46h1m20 0h1M82 47h1m1 0h1M88 48h1m1 0h1m21 0h1m43 0h1M58 49h1m21 0h1m4 0h1m23 0h1M78 50h1m8 0h1m46 0h1M78 51h2m10 0h1m46 0h1m17 0h1m23 0h1M80 52h1m2 0h1m6 0h1m63 0h1m15 0h1M49 53h1m27 0h1m3 0h1M75 54h1m1 0h1m4 0h2m5 0h1m31 0h1m40 0h1M54 55h1m15 0h1m2 0h2m6 0h1m2 0h1m3 0h1M69 56h1m1 0h3m3 0h2m4 0h1m4 0h2m3 0h1m12 0h1m6 0h1M69 57h1m1 0h1m1 0h2m2 0h1m6 0h1m9 0h1m12 0h1m3 0h1M59 58h1m4 0h1m1 0h1m2 0h1m1 0h2m4 0h1m6 0h1m1 0h1m1 0h1m27 0h1m16 0h1m63 0h1M64 59h1m9 0h1m3 0h2m6 0h1m31 0h1m25 0h1m1 0h1m8 0h1m44 0h1M68 60h1m2 0h1m2 0h1m6 0h1m7 0h1m70 0h1M63 61h1m5 0h1m1 0h3m37 0h1m86 0h1M53 62h1m5 0h1m6 0h1m1 0h1m40 0h1m44 0h1M61 63h1m1 0h2m28 0h1m4 0h1m32 0h1M69 64h2m25 0h2m11 0h1m5 0h1m2 0h1m22 0h1m4 0h1M67 65h2m2 0h1m49 0h1m22 0h1M66 66h1m2 0h1m22 0h2m16 0h1m60 0h1m16 0h1M58 67h1m7 0h1m1 0h1m23 0h1m8 0h1m2 0h1m3 0h1m13 0h1m18 0h1m26 0h1M68 68h1m73 0h1M66 69h1m2 0h1m50 0h1m28 0h1m18 0h2M49 70h1m15 0h1m22 0h1m29 0h1m12 0h1M69 71h2m21 0h1m12 0h1m23 0h1m21 0h1m39 0h1M48 72h1m11 0h1m8 0h1m101 0h1m16 0h1M68 73h1m2 0h1m27 0h1m9 0h2m16 0h1m7 0h1M69 74h1m39 0h1M56 75h1m11 0h1m2 0h1m19 0h1m10 0h1m33 0h2m10 0h1m11 0h1M12 76h1m55 0h1m21 0h1m47 0h1m22 0h1M55 77h1M106 78h1m2 0h1m44 0h1M9 79h1m4 0h1m33 0h1m15 0h1m29 0h1m39 0h1m12 0h1M45 80h1m25 0h1m33 0h1m59 0h1M15 81h1m36 0h1m37 0h2M17 82h1m52 0h1m51 0h1m5 0h1m44 0h1M13 83h1m5 0h1m52 0h1M21 84h1m29 0h1m11 0h1m1 0h1m8 0h1m24 0h1m27 0h1m5 0h1M14 85h1m3 0h1m16 0h1m9 0h2m3 0h1m23 0h1m2 0h1m11 0h1m1 0h1m2 0h1m3 0h2m21 0h1m11 0h1M16 86h1m38 0h1m36 0h1M16 87h1m3 0h2m1 0h2m9 0h1m10 0h1m7 0h1m22 0h1m7 0h1m1 0h2m24 0h1m8 0h1M28 88h1m2 0h3m1 0h1m4 0h1m29 0h1m15 0h1m17 0h1m3 0h1m17 0h1M32 89h1m1 0h1m1 0h1m2 0h1m3 0h1m2 0h1m62 0h1m19 0h1M14 90h1m1 0h1m2 0h1m6 0h1m31 0h1m9 0h1m3 0h1m19 0h1m11 0h1m20 0h1m52 0h1M17 91h1m2 0h1m8 0h1m38 0h1M16 92h1m1 0h2m2 0h1m6 0h1m1 0h1m14 0h1m8 0h1m6 0h1m28 0h1m1 0h1m25 0h1m11 0h1M33 93h1m34 0h1m25 0h1M18 94h1m7 0h1m3 0h1m3 0h1m91 0h1M23 95h1m1 0h1m1 0h1m1 0h2m7 0h1m24 0h1m7 0h1m1 0h1m3 0h1m54 0h1M17 96h1m14 0h1m2 0h1m3 0h1m24 0h1m11 0h1m10 0h1m4 0h1m1 0h1m18 0h1M25 97h1m7 0h1m3 0h1m44 0h1m10 0h1m61 0h1M28 98h1m4 0h1m63 0h1m6 0h2m63 0h1M17 99h1m11 0h1m38 0h1m29 0h1M27 100h1m1 0h1m37 0h1m7 0h1m17 0h1M22 101h1m3 0h1m61 0h1m17 0h1m66 0h1M23 102h1m5 0h1m4 0h1m58 0h1m37 0h1m27 0h1M82 103h1m31 0h1m16 0h1M26 104h1m1 0h1m1 0h1m4 0h2m4 0h1m39 0h1m11 0h1m2 0h1m42 0h1M22 105h1m10 0h1m2 0h2m71 0h1m31 0h1M30 106h1m29 0h1m66 0h1m36 0h1M29 107h1m12 0h1m10 0h2m27 0h1m28 0h1m2 0h1m26 0h1M28 108h1m61 0h1m24 0h1m22 0h1m14 0h1M25 109h1m8 0h1m29 0h1m47 0h1m1 0h1m40 0h1m9 0h1M35 110h1m7 0h1m21 0h1m99 0h1M25 111h1m72 0h1M42 112h1m32 0h1m1 0h1m38 0h1M36 113h1m3 0h1m25 0h1m30 0h1M34 114h1m26 0h1m31 0h1M58 115h1m95 0h1M30 116h1m91 0h1M28 117h1m23 0h1m3 0h1m6 0h1m21 0h1m8 0h1m15 0h1M40 118h1m2 0h1m2 0h1m4 0h1m10 0h1m30 0h1m28 0h1M45 119h1m12 0h1m3 0h1m3 0h1m1 0h1m5 0h1m19 0h1M72 120h1m48 0h1m11 0h1M30 121h1m32 0h1m32 0h1M49 122h1m9 0h1m33 0h1m7 0h1m2 0h1m22 0h1M43 123h1m42 0h1M74 124h1m16 0h1m8 0h1M38 125h2m21 0h1m35 0h1m12 0h1M29 126h1m14 0h1m15 0h1m14 0h1m12 0h1m14 0h1M58 127h1m87 0h1M49 128h2m3 0h1M61 129h1m68 0h1m13 0h1M24 130h1m28 0h1m3 0h1m4 0h1m15 0h1m3 0h1m40 0h1M94 131h1M41 132h1m3 0h1m15 0h1m32 0h2m13 0h1m24 0h1M26 133h1m7 0h1M75 134h1m15 0h1M38 135h1m43 0h2M36 136h1m2 0h1M56 138h1m63 0h1M41 139h1m61 0h1M66 140h1m3 0h1m8 0h1M55 141h1M29 142h1m28 0h1m17 0h1m33 0h1M95 143h1M53 144h1m9 0h1M45 145h1M48 146h1m13 0h1"/>
<path stroke="#2FB47C" d="M156 3h1m11 0h1M179 8h1M155 9h1M164 12h1M170 14h1M186 19h1M184 20h1M140 21h1M154 24h1M134 28h1M158 29h1M139 30h1M158 31h1m30 0h1M155 32h1M48 33h1M134 35h1M48 36h1m83 0h1M48 39h1M85 40h1m1 0h1M85 41h1m45 0h2M85 42h1m54 0h1M84 43h1m8 0h1M48 44h1m34 0h1m48 0h1m15 0h1M81 45h1m18 0h1M82 46h1m15 0h1M48 47h1m31 0h1m2 0h1m3 0h1M57 48h1m66 0h1M55 49h1m1 0h1M76 50h1m3 0h3m1 0h2m2 0h1m13 0h1M76 51h1m4 0h2m2 0h1m1 0h1m1 0h1m6 0h1m25 0h1m33 0h1M48 52h1m6 0h1m20 0h1m1 0h1m2 0h1m4 0h2m52 0h1m12 0h1M79 53h1m4 0h1m1 0h1m22 0h1m61 0h1M72 54h1m6 0h1m4 0h1m3 0h1m1 0h1m10 0h1m15 0h1M48 55h1m1 0h1m21 0h1m2 0h1m1 0h1m2 0h1m2 0h1m77 0h1m7 0h1M50 56h1m1 0h1m2 0h1m18 0h3m2 0h2m4 0h1m29 0h1m14 0h1m4 0h1M53 57h1m3 0h2m11 0h1m1 0h1m2 0h1m2 0h2m2 0h2m1 0h2m2 0h1m2 0h1m16 0h1m49 0h1m9 0h1M48 58h1m18 0h1m2 0h1m2 0h2m7 0h1M59 59h2m4 0h1m2 0h1m4 0h1m1 0h1m12 0h1m56 0h1m55 0h1M56 60h1m8 0h3m1 0h2m61 0h1m68 0h1M65 61h4m36 0h2m11 0h1M49 62h1m6 0h1m6 0h1m3 0h1m3 0h1m32 0h1m2 0h1m3 0h1m65 0h1m21 0h1M65 63h4m30 0h1m49 0h1m14 0h1M60 64h1m5 0h1m52 0h1m71 0h1M64 65h3m2 0h1m121 0h1M63 66h1m68 0h2m11 0h1M111 67h2M55 68h1m8 0h1m4 0h1m20 0h1m30 0h1m39 0h1m26 0h1M53 69h1m7 0h1m3 0h1m1 0h2m49 0h1m14 0h1m63 0h1M64 70h1m1 0h2m21 0h1m108 0h1M50 71h2m13 0h1m2 0h1m100 0h1M57 72h1m4 0h1m1 0h1m1 0h1m23 0h1m20 0h1m46 0h1m34 0h1M12 73h1m43 0h1m8 0h1m28 0h1m35 0h1m46 0h1M64 74h1m2 0h1m71 0h1m20 0h1M111 75h1m27 0h1m6 0h1m49 0h1M144 76h1M61 77h1m42 0h1M8 78h1m43 0h1m14 0h1m32 0h1m14 0h1m57 0h1M58 79h1m7 0h1m35 0h1m23 0h1m25 0h1m11 0h1m2 0h1m5 0h1M13 80h1m32 0h1m23 0h1m28 0h1m23 0h1m44 0h1M12 81h3m1 0h1m50 0h1m38 0h1m26 0h1M10 82h1m1 0h1m33 0h1m12 0h1m1 0h1m34 0h1m2 0h1m60 0h1m27 0h1M45 83h1m20 0h1m111 0h1M13 84h2m2 0h1m8 0h1m1 0h1m11 0h1m53 0h1M13 85h1m1 0h1m9 0h1m12 0h1m2 0h1m2 0h1m18 0h1m8 0h1m15 0h1m1 0h1m2 0h1m34 0h1M15 86h1m3 0h1m4 0h1m4 0h2m5 0h1m1 0h1m18 0h1m16 0h1m14 0h1m24 0h1m8 0h1m3 0h1m10 0h1m42 0h1M52 87h1m18 0h1m5 0h1M15 88h1m5 0h1m2 0h1m4 0h1m4 0h1m1 0h1m7 0h1m1 0h1m32 0h1m1 0h1m8 0h1M15 89h1m2 0h2m6 0h1m13 0h1m11 0h1m23 0h1m8 0h1m7 0h1m4 0h1m16 0h1m4 0h1M17 90h1m36 0h2m26 0h1m10 0h1m1 0h2m10 0h1m11 0h1m1 0h1m2 0h1m1 0h1M14 91h2m5 0h2m1 0h1m37 0h1m20 0h1m7 0h1M15 92h1m14 0h1m1 0h2m56 0h1m14 0h1m19 0h1m54 0h1M24 93h1m3 0h1m3 0h1m50 0h1m9 0h1m36 0h1M16 94h1m12 0h1m3 0h1m66 0h1m3 0h1m17 0h1M28 95h1m3 0h2m49 0h1m81 0h1M27 96h1m1 0h1m3 0h2m27 0h2m6 0h1m2 0h1m14 0h1m76 0h1M29 97h1m4 0h1m41 0h2m18 0h1m10 0h2M27 98h1m19 0h1m86 0h1m35 0h1M20 99h2m3 0h1m8 0h1m93 0h1M18 100h1m2 0h1m8 0h1m45 0h1m8 0h1m85 0h1M96 101h1m18 0h1m33 0h1M19 102h2m7 0h1m52 0h1m90 0h1M21 103h1m9 0h1m115 0h1m8 0h1m14 0h1M24 104h1m52 0h1m81 0h1M23 105h1m11 0h1m34 0h1m12 0h1m8 0h1m6 0h1m33 0h1m3 0h1m32 0h1M87 106h1m44 0h1m25 0h1M24 107h2m2 0h1m23 0h1m28 0h1M67 108h1m67 0h1m10 0h1M29 109h1m8 0h1M25 110h1m8 0h1m9 0h1m6 0h1m38 0h1m20 0h1m13 0h1M26 111h1m6 0h1m107 0h1M29 112h1m24 0h1m86 0h1M92 113h1m7 0h1m26 0h1M68 114h1m25 0h1m15 0h1m21 0h1m4 0h1M85 115h1M31 116h1m5 0h1m75 0h1m12 0h1M49 117h2m24 0h1m59 0h1M72 118h2M87 119h1M34 120h1m31 0h1m60 0h1M44 121h1m69 0h1m5 0h1M50 122h1m3 0h1m34 0h1m43 0h1M88 124h1M54 125h1m16 0h1m4 0h1m24 0h1m18 0h1M77 126h1m15 0h1M54 127h1m45 0h1M67 128h1m13 0h1m18 0h1m1 0h1m11 0h1m31 0h1M38 129h1m16 0h1m49 0h1m6 0h1M112 130h1m2 0h1M25 131h1m15 0h1m5 0h2m42 0h1m12 0h1m13 0h1m10 0h1m12 0h1M91 132h1M32 133h1m30 0h1M126 134h1M65 135h1m18 0h1m8 0h1M59 136h1m3 0h1m7 0h1m20 0h1m6 0h1m10 0h1M75 137h1m24 0h1M54 138h1m2 0h1m16 0h1m25 0h1m8 0h1M29 139h1m22 0h1m16 0h1m18 0h1M67 141h1M30 143h1m21 0h1m47 0h1M57 144h1m1 0h1m1 0h1m38 0h1M38 145h1m27 0h1M35 146h1m21 0h1M36 147h1M38 148h1M46 152h1"/>
<path stroke="#42BE71" d="M144 9h1M182 10h1M180 11h1M149 12h1m16 0h1M141 14h1M145 20h1M135 29h1m18 0h1M152 30h1M145 32h1M148 34h1M49 36h1m83 0h1M49 38h1M154 39h1M49 41h1m6 0h1m85 0h1m49 0h1M49 42h1m34 0h1m3 0h1m103 0h1M83 43h1m6 0h1m33 0h1m36 0h1M82 44h1m1 0h1M171 45h1M49 46h1m6 0h1m27 0h1m96 0h1M81 47h1m17 0h1m25 0h1m34 0h1M79 48h7m5 0h1m17 0h1m13 0h1m13 0h1M82 49h3m1 0h1m27 0h1m8 0h1m30 0h1M57 50h1m19 0h1m60 0h1m23 0h1M83 51h2m59 0h1m14 0h1M74 52h2m1 0h1m1 0h1m2 0h1m2 0h1m28 0h1m37 0h1m13 0h1M74 53h2m2 0h1m1 0h1m1 0h2m3 0h1m2 0h1m5 0h1m11 0h1m44 0h1m13 0h1M50 54h2m24 0h1m1 0h1m1 0h2m4 0h1m9 0h1M78 55h2m2 0h1m2 0h3m63 0h1m8 0h1M53 56h1m27 0h2m1 0h1m7 0h1m43 0h1m3 0h1M49 57h1m1 0h1m28 0h1m49 0h1M51 58h1m16 0h1m92 0h1M71 59h1m81 0h1m6 0h1M50 60h1m7 0h1m3 0h1m1 0h1m8 0h1M56 61h1m5 0h1m1 0h1m58 0h1M64 62h1m4 0h1m27 0h1m81 0h1m13 0h1M115 63h1m29 0h2m10 0h1M48 64h1m15 0h2m1 0h2m58 0h1m19 0h1m30 0h1m13 0h1m6 0h1M120 65h1m73 0h1M65 66h1m35 0h1m23 0h1m36 0h2M50 67h1m1 0h1m38 0h1m2 0h1m12 0h1M62 68h1m3 0h2m28 0h1m5 0h1m7 0h1M49 69h1m14 0h1m33 0h1m11 0h1m11 0h1m9 0h1m65 0h1M50 70h1m12 0h1m45 0h1m5 0h1m31 0h1M67 71h1m66 0h1m23 0h1M67 72h1m41 0h1M11 73h1m55 0h1m35 0h1m7 0h1m83 0h1M192 74h1M103 75h1m10 0h1m20 0h1m32 0h1M66 76h1m32 0h1m9 0h1m35 0h1m6 0h1m21 0h1M13 77h2m52 0h1m30 0h2m62 0h1M48 78h1m13 0h1m35 0h1m4 0h1m18 0h1m2 0h1M7 79h1m3 0h1m38 0h1m17 0h1m68 0h1M42 80h1m5 0h1M11 81h1m29 0h1m3 0h1m23 0h1m57 0h1M11 82h1m55 0h1m72 0h1m29 0h1M12 83h1m19 0h1m59 0h1M16 84h1m2 0h1m5 0h1m3 0h1m2 0h1m13 0h1m2 0h2m53 0h1M17 85h1m1 0h1m7 0h1m2 0h2m60 0h1m9 0h1m26 0h1M17 86h1m32 0h1m26 0h1m10 0h1M27 87h1m9 0h1m4 0h1m3 0h1m31 0h1m14 0h1m15 0h1m15 0h1M13 88h1m8 0h2m2 0h2m9 0h1m7 0h1m14 0h1m14 0h1M48 89h1m7 0h1m6 0h1m6 0h1m15 0h1m5 0h1m3 0h1m29 0h1m7 0h1m29 0h1M24 90h2m3 0h1m1 0h1m5 0h1m40 0h1m11 0h1m14 0h1m23 0h1M23 91h1m6 0h1m4 0h1m20 0h1m4 0h1m19 0h1m24 0h1m12 0h1m2 0h1M17 92h1m42 0h1m8 0h1m12 0h1m11 0h1m3 0h1m7 0h1m3 0h1m18 0h1m2 0h2M20 93h1m9 0h1m17 0h1m31 0h1m4 0h1m10 0h1m2 0h1m28 0h1M31 94h1m6 0h1m26 0h1m11 0h1m55 0h1M14 95h1m5 0h1m19 0h1m63 0h1m6 0h1M16 96h1m2 0h2m81 0h1m72 0h1M35 97h2m7 0h1m39 0h1m5 0h1m11 0h1m8 0h1m63 0h1M25 98h1m3 0h1m2 0h1m3 0h1m33 0h1m9 0h1m6 0h2m3 0h1m82 0h1M24 99h1m48 0h1m4 0h1m13 0h2m76 0h1M34 100h1m5 0h1m53 0h1m38 0h1m23 0h1M40 101h1m49 0h1m80 0h1M24 102h1m110 0h1m12 0h1M20 103h1m7 0h2m31 0h1m6 0h1m8 0h1m29 0h1m28 0h1m12 0h1M21 104h1m69 0h1m39 0h1m5 0h1m10 0h1M24 105h1M27 106h1m77 0h1m5 0h1M23 107h1m6 0h2m12 0h1m25 0h1m5 0h1m54 0h1M26 108h1m4 0h1m36 0h1m4 0h1m9 0h1m18 0h1M54 109h1m23 0h1m9 0h1m16 0h1m19 0h1m5 0h1m3 0h1M28 110h1m49 0h1m37 0h1m26 0h1M73 111h1M28 112h1m17 0h1m6 0h1m31 0h1m7 0h1m1 0h1m18 0h1M37 113h1m124 0h1M41 114h1m2 0h1m10 0h1m50 0h1M39 115h1m1 0h1m19 0h1m7 0h1m31 0h1m9 0h1m47 0h1M79 116h1m15 0h1m1 0h1m17 0h1M65 117h1m5 0h1m1 0h1m2 0h1m16 0h1m13 0h1m12 0h1m7 0h1M44 118h1m36 0h1m34 0h1m10 0h1M28 119h1m21 0h1m30 0h1m11 0h1m7 0h1m4 0h1M51 120h1m49 0h1m5 0h1m24 0h1M35 121h1m14 0h1m13 0h2m23 0h1m9 0h1m11 0h1M40 122h1m6 0h1m37 0h1m12 0h1m4 0h1M62 123h1m4 0h1m28 0h1m13 0h1M55 124h1m51 0h1m28 0h1M31 125h1m46 0h1m33 0h1M50 126h1m10 0h1m12 0h1m21 0h1m24 0h1M33 127h1m8 0h1m26 0h1M59 128h1m25 0h1m40 0h1m12 0h1M46 129h1m16 0h1m12 0h1m10 0h1m18 0h1M40 130h1m39 0h1m25 0h1M43 131h1M29 132h1m10 0h1m10 0h1m55 0h1M40 133h1m16 0h1m47 0h1m3 0h1m2 0h1m7 0h2M26 134h1m31 0h1m39 0h1m13 0h1M35 135h1m64 0h1m9 0h1m14 0h1M34 136h1m16 0h1m9 0h1m12 0h1m18 0h1m27 0h1M89 137h1m19 0h1M48 138h1m1 0h1m11 0h1m18 0h1M80 139h1m35 0h2M41 140h1m14 0h1m4 0h1M38 141h1m14 0h1M109 142h1M50 143h1m2 0h1m30 0h2M60 144h1M61 145h1M39 147h1"/>
<path stroke="#58C765" d="M160 7h1M184 16h1M168 18h1m17 0h1M150 19h1M139 20h1M181 24h1M140 27h1m19 0h1M50 34h1m104 0h1M50 35h2M52 36h1M51 38h1M144 39h1m39 0h1M49 40h1m36 0h1m4 0h1M48 41h1m3 0h1m31 0h1M50 42h1m3 0h1M51 43h1m2 0h1m85 0h1M57 44h1m27 0h1m2 0h1m2 0h1m2 0h1m20 0h1m23 0h1M49 45h1m1 0h1m33 0h1m3 0h1m32 0h1M51 46h2m5 0h1m26 0h1m61 0h1m24 0h1M49 47h3m5 0h1m33 0h1m55 0h1m14 0h1m3 0h1M48 48h1m3 0h1m2 0h1m92 0h1M51 49h1m4 0h1m20 0h1m3 0h1m15 0h1M55 50h2m22 0h1m3 0h1m2 0h1m63 0h1m8 0h1M48 51h1m4 0h1m1 0h2m20 0h1m8 0h1m1 0h1M50 52h1m46 0h1m60 0h1m5 0h1m4 0h1M48 53h1m27 0h1m8 0h1m13 0h1m48 0h1m5 0h1M53 54h2m16 0h1m1 0h1m11 0h1m1 0h1m71 0h1M51 55h1m19 0h1m4 0h1M147 56h1M68 57h1m46 0h1m7 0h1M55 58h1m52 0h1m17 0h1m71 0h1M54 59h1m11 0h1m2 0h1m42 0h2m13 0h1M49 60h1m13 0h1m57 0h1m3 0h1m5 0h1M108 61h1m56 0h1M65 62h1m34 0h1m15 0h1m5 0h1m77 0h1M54 63h1m1 0h1m12 0h1m39 0h1M53 64h2m43 0h1m36 0h1M62 65h1m42 0h1m56 0h2M48 66h1m7 0h1m10 0h2m35 0h1m14 0h1m9 0h2m3 0h1m19 0h1m12 0h1M64 67h1m48 0h1m65 0h1M103 68h1m11 0h1m11 0h2m58 0h1M98 70h2m10 0h1m57 0h1m21 0h1M115 71h1m12 0h1m4 0h1M54 72h1m71 0h1m60 0h1M105 73h1m28 0h1m16 0h1m15 0h1m4 0h1M55 74h1m40 0h1m45 0h1m12 0h1m1 0h2M65 75h2m59 0h1m2 0h1m25 0h1m1 0h1M13 76h1m37 0h1m13 0h1M12 77h1m118 0h1m7 0h1m4 0h1m16 0h1M12 78h1m1 0h1m79 0h1m33 0h1m19 0h1m45 0h1M13 79h1m55 0h1m74 0h1m8 0h1M12 80h1m1 0h1M51 81h1m53 0h1m2 0h1M40 82h2m24 0h1m71 0h2m50 0h1M10 83h1m6 0h1m2 0h2m19 0h1m2 0h1m5 0h1m2 0h1m9 0h2m3 0h1m119 0h1M11 84h2m5 0h1m1 0h1m1 0h1m7 0h1m10 0h3m1 0h1m2 0h1m3 0h1m60 0h1m17 0h1M21 85h1m1 0h2m7 0h1m1 0h1m4 0h1m2 0h2m31 0h1m28 0h1M14 86h1m3 0h1m3 0h1m11 0h2m6 0h1m55 0h1m16 0h1m13 0h1M28 87h3m2 0h1m5 0h1m8 0h1m5 0h1m8 0h1m2 0h1m36 0h1m6 0h1m8 0h1M41 88h1m11 0h1m34 0h1m7 0h1m14 0h2M12 89h1m4 0h1m7 0h1m3 0h1m29 0h1m14 0h1m15 0h1m30 0h2m2 0h1M15 90h1m2 0h1m3 0h2m4 0h1m3 0h1m34 0h1m42 0h1m9 0h1m12 0h1M59 91h1m10 0h1m39 0h1m19 0h1M20 92h1m65 0h1m2 0h1m37 0h1M15 93h1m66 0h1m15 0h1m7 0h1M32 94h1m2 0h1m7 0h1m71 0h1M35 95h1m29 0h1m27 0h1m69 0h1M28 96h1m2 0h1m29 0h1m35 0h1m7 0h1M16 97h1m9 0h1m1 0h1m3 0h1m35 0h2m17 0h1m32 0h2m10 0h1M21 98h1m4 0h1m50 0h1m12 0h1m16 0h1m14 0h1m49 0h1M16 99h1m10 0h2m15 0h1m1 0h1m47 0h1M35 100h1m30 0h1m29 0h1m33 0h1m20 0h1m4 0h1m13 0h1M32 101h1m2 0h1m32 0h1m4 0h1m4 0h1m18 0h1M32 102h1m2 0h2m31 0h2m2 0h1M23 103h1m13 0h1m45 0h1m27 0h1m18 0h1M23 104h1m1 0h1m45 0h1m30 0h1m6 0h1m52 0h1M26 105h1m20 0h1m42 0h1m5 0h1m6 0h1m28 0h1M22 106h1m10 0h1m4 0h1m73 0h1m23 0h1m32 0h1M26 107h2m39 0h2m41 0h1M35 109h1m19 0h1m11 0h1m6 0h1m26 0h1m14 0h2m19 0h1M40 110h1m72 0h1m15 0h1M34 111h1m18 0h1m10 0h1m4 0h1m17 0h1m8 0h1m14 0h1M63 112h1m26 0h1m20 0h3m19 0h1m12 0h1M44 113h1m39 0h1M49 114h1m2 0h1m9 0h1m2 0h1m31 0h1m1 0h1m31 0h1M35 115h1m29 0h1m29 0h1m9 0h1m4 0h1M64 116h1M41 117h1m2 0h1m6 0h1m12 0h1m32 0h1m5 0h1m19 0h1m16 0h1M42 118h1m7 0h1m18 0h1m25 0h1m6 0h1m32 0h1M103 119h1m19 0h1m4 0h1m2 0h1M55 120h1m12 0h1m9 0h1m11 0h1M109 121h1m20 0h1M30 122h1m12 0h1m20 0h1m23 0h1m32 0h1m22 0h1M30 123h1m22 0h2m11 0h1m11 0h1M32 124h1m30 0h1m19 0h1m17 0h1m1 0h1M52 125h1m22 0h1m7 0h1M62 126h2m5 0h1m37 0h1M32 127h1m17 0h1m5 0h1m14 0h1m8 0h1m20 0h1m2 0h1M27 128h1m9 0h1m58 0h1m7 0h1m10 0h1m7 0h1M73 129h1m21 0h1m4 0h1M47 130h1m4 0h1m17 0h1m23 0h1M24 131h1m14 0h1m5 0h2m27 0h1m18 0h1M89 132h1M39 133h1m31 0h1m14 0h1M77 134h1m22 0h1m3 0h1M56 135h1m5 0h1m36 0h1M52 136h1m27 0h1M81 137h1m15 0h2m3 0h1m2 0h1m4 0h1M68 138h1M45 139h1m31 0h1M54 140h1m25 0h1M59 141h1m15 0h1M72 142h1M36 143h1M101 144h1M35 145h1m15 0h1M47 146h1M47 149h1m2 0h1"/>
<path stroke="#70CF57" d="M156 13h1M167 16h1M160 28h1M121 32h1M134 33h1M49 35h1M49 37h1m1 0h1M48 38h1m3 0h2M49 39h2m2 0h1m1 0h1m30 0h1M50 40h3m1 0h2M55 41h1m107 0h1M48 42h1m3 0h2m1 0h2M49 43h2m1 0h2m1 0h3m28 0h1M49 44h1m2 0h1m1 0h2m104 0h1m15 0h1M50 45h1m2 0h1m1 0h2m29 0h1m69 0h1m28 0h1M50 46h1m2 0h3m1 0h1m25 0h1m47 0h1m16 0h1m4 0h1M52 47h2m1 0h2m1 0h1m30 0h1m3 0h1m70 0h1M49 48h3m2 0h1m31 0h1M52 49h3m23 0h1m33 0h1m56 0h1M49 50h1m1 0h1m1 0h2m3 0h1M49 51h1m1 0h2m22 0h1m59 0h1m34 0h1M49 52h1m1 0h2m1 0h1m29 0h1m13 0h1M50 53h2m81 0h1m4 0h1M48 54h1m60 0h1M49 55h1m2 0h1m2 0h1m110 0h1M87 56h1m16 0h1m14 0h1M54 57h1m9 0h1m69 0h1M95 58h1M62 59h1m47 0h1m9 0h1m1 0h1M57 60h1m97 0h1m44 0h1M51 61h1m2 0h1m78 0h1m4 0h1m9 0h1M62 62h1m36 0h1m6 0h1m5 0h1m6 0h2m7 0h1m29 0h1m11 0h1m23 0h1M105 63h2m6 0h1m7 0h1m57 0h1m18 0h1M49 64h1m2 0h1m3 0h1m5 0h1m47 0h1m82 0h1M51 65h1m67 0h1m41 0h1M51 66h1m10 0h1m50 0h1m8 0h1m20 0h1M116 67h1m8 0h1m8 0h1m61 0h1M54 68h1m3 0h1m36 0h1m4 0h1m32 0h1m35 0h1m25 0h1M51 69h1m4 0h1m137 0h1M61 70h1m54 0h1m61 0h1M107 71h1m19 0h1M51 72h1m42 0h1m3 0h1m7 0h1m11 0h1m4 0h1m65 0h1M104 73h1m21 0h1m11 0h1m3 0h1M66 74h1m30 0h1m18 0h1m6 0h1M49 75h1m60 0h1m12 0h1m64 0h1m5 0h1M50 76h1m8 0h1m35 0h1m41 0h1m12 0h1m42 0h1M59 77h1m5 0h1m29 0h1m24 0h1m4 0h1m44 0h1M51 78h1m6 0h1M43 79h2m58 0h1m23 0h1m10 0h1M57 80h1m4 0h1m39 0h1m39 0h1M9 81h1m7 0h1m25 0h1m2 0h1m74 0h1m50 0h1M50 82h2m11 0h1m44 0h1m17 0h1M26 83h1m4 0h1m8 0h1m6 0h3M10 84h1m20 0h1m1 0h2m1 0h1m1 0h1m8 0h1m47 0h1m25 0h1m4 0h1M29 85h1m6 0h2m78 0h1M13 86h1m7 0h1m1 0h1m3 0h1m3 0h1m5 0h1m1 0h2m3 0h1m2 0h1m1 0h1m6 0h1m55 0h1m9 0h1m9 0h1M12 87h1m5 0h1m19 0h1m1 0h2m1 0h1m3 0h1m9 0h1m4 0h1m2 0h1m1 0h2m26 0h2m25 0h1m57 0h1M25 88h1m13 0h1m15 0h1m33 0h1m2 0h1M22 89h1m4 0h1m2 0h2m1 0h1m96 0h1m50 0h1M21 90h1m5 0h1m10 0h1m2 0h1m18 0h1m23 0h2m48 0h1M31 91h2m3 0h3m37 0h1m18 0h1m20 0h1m10 0h2m32 0h1M34 92h1m26 0h1m2 0h1m44 0h1m3 0h1m8 0h2M17 93h1m4 0h1m8 0h1m3 0h1m25 0h1m1 0h1m48 0h1m16 0h1M27 94h2m7 0h1m3 0h1m12 0h1m15 0h1m10 0h1m10 0h1m13 0h1m2 0h1m4 0h2m15 0h1M21 95h1m9 0h1m11 0h1m68 0h1m12 0h1M21 96h2m23 0h1m31 0h1m4 0h1m9 0h1m13 0h1M31 97h1m23 0h1m35 0h1m5 0h1m7 0h1m28 0h1M19 98h1m81 0h1M26 99h1m40 0h1m45 0h1m58 0h1M17 100h1m8 0h1m1 0h1m54 0h1m7 0h1m31 0h1M18 101h2m7 0h1m1 0h1m6 0h1m44 0h1m23 0h1m45 0h1M37 102h1m47 0h1m8 0h1m2 0h1m12 0h2M40 103h1m39 0h1m3 0h1m24 0h1m2 0h1m10 0h1m8 0h1m36 0h1M74 104h1m24 0h1m18 0h1M45 105h1m23 0h1m3 0h1m26 0h1m1 0h1m7 0h1m4 0h1m2 0h1M20 106h1m2 0h1m11 0h1m36 0h1m45 0h1M36 107h1m25 0h1m9 0h1m10 0h1m15 0h2m25 0h1m28 0h1M25 108h1m16 0h1m33 0h1m1 0h1m8 0h1m1 0h1M53 109h1m18 0h1m20 0h1m39 0h1M23 110h1m17 0h1m18 0h1m5 0h1m16 0h1m4 0h1m12 0h1m13 0h1m50 0h1M57 111h1m7 0h1m6 0h1m15 0h1m35 0h1m3 0h1M43 112h1m18 0h1m19 0h1m6 0h1m29 0h1m5 0h1m36 0h1M42 113h1m5 0h1m6 0h1m13 0h1m33 0h1m15 0h1m4 0h2m5 0h1M63 114h1m8 0h1m14 0h1m12 0h1m22 0h1M66 115h1m14 0h1m4 0h1m6 0h1m24 0h1m17 0h1M40 116h1m10 0h1m36 0h1m38 0h1m6 0h1M70 117h1m34 0h1m9 0h1m3 0h1m1 0h1M35 118h1m39 0h1m6 0h1M49 119h1m2 0h1m22 0h1m23 0h1m8 0h1m4 0h1m2 0h1M50 120h1m29 0h1m32 0h1m3 0h2M32 121h1m13 0h1m1 0h1m19 0h1m14 0h1m22 0h1m1 0h1m1 0h1M34 122h1m47 0h1m8 0h2m4 0h1m18 0h1M33 123h1m4 0h1m20 0h1m24 0h1m17 0h1M35 124h1m28 0h1m2 0h1m1 0h1m12 0h1m68 0h1M29 125h1m6 0h1M51 126h1m46 0h1m2 0h2M57 127h1m4 0h2m2 0h1m6 0h1m7 0h1m12 0h1m14 0h1M43 128h2m3 0h1m27 0h1m18 0h1m7 0h1m3 0h1M39 129h1m9 0h1m1 0h1m4 0h1m15 0h1m8 0h1m1 0h1m39 0h1M26 130h1m2 0h1m73 0h1M65 131h1m10 0h1m30 0h1m1 0h1M92 132h1M56 133h1m25 0h1M53 134h1m47 0h1m11 0h1M57 135h1m6 0h1m13 0h1m17 0h1m8 0h1M29 136h1m38 0h1m3 0h1M55 137h1M51 138h2m29 0h1m2 0h1M42 140h1m12 0h1M54 141h1M54 142h2M34 143h1m21 0h1M62 144h1m24 0h1M37 145h1M49 147h2m8 0h1m1 0h1M52 148h2M43 151h1"/>
<path stroke="#8BD646" d="M158 6h1M153 10h1M150 15h1M150 16h1M161 23h1M180 25h1M174 26h1M152 28h1m29 0h1M49 33h1M48 34h2M48 35h1M50 36h2m98 0h1M48 37h1m3 0h2M50 38h1m99 0h1M51 39h2m1 0h1m82 0h1m11 0h1M53 40h1m95 0h1m11 0h1M50 41h2m2 0h1m36 0h1M51 42h1M95 43h1M50 44h2m1 0h1m2 0h1m38 0h1M48 45h1m3 0h1m1 0h1m103 0h1M48 46h1m41 0h2m54 0h1M54 47h1m54 0h1m44 0h1M53 48h1m2 0h1m41 0h1m48 0h1m19 0h1M48 49h1m42 0h1m21 0h1M48 50h1m1 0h1m1 0h1m64 0h1m53 0h1M54 51h1m39 0h1M53 52h1m80 0h1m32 0h1M52 53h4m65 0h1m37 0h1M49 54h1m113 0h1M101 55h1m12 0h1M54 56h1m114 0h1M125 57h1m7 0h1m24 0h1M52 58h1m3 0h1m58 0h1m4 0h1m25 0h1m15 0h1m9 0h1m27 0h1M48 59h1m62 0h1M51 60h1m7 0h1m40 0h1m7 0h1m13 0h1m1 0h1M143 61h1m27 0h1M105 62h1m91 0h1M60 63h1m46 0h1m29 0h1m59 0h1M131 64h1m26 0h1M56 65h1m44 0h1m34 0h1M115 66h1m2 0h1M47 67h1m12 0h1m54 0h1m17 0h1m33 0h1M114 68h1M57 69h1m39 0h1m16 0h1m10 0h1m55 0h1m5 0h1M133 70h1M47 71h1m4 0h1m7 0h1m63 0h1M56 72h1m62 0h1M51 73h1m40 0h1m31 0h1m7 0h1M12 74h1m108 0h2m10 0h1M13 75h1m92 0h1m2 0h1M14 76h1m45 0h1m2 0h1m67 0h1M10 77h1m40 0h1m57 0h1m4 0h1m9 0h1m47 0h1M60 78h1m60 0h1m2 0h1m7 0h1M8 79h1m6 0h1M134 80h1M19 81h1m75 0h1m5 0h1M14 82h1m5 0h1m22 0h2m7 0h1m16 0h1m27 0h1m8 0h1M15 83h1m6 0h1m6 0h1m9 0h1m2 0h2m2 0h1m15 0h1m61 0h1M9 84h1m5 0h1m7 0h2m2 0h1m11 0h1m4 0h1m8 0h1m75 0h1M26 85h1m6 0h1m6 0h1m14 0h1m41 0h1m16 0h1m8 0h1m11 0h1m42 0h1M25 86h2m14 0h1m9 0h1m55 0h1m62 0h1m5 0h1m6 0h1M11 87h1m13 0h1m5 0h2m2 0h1m68 0h1m8 0h1M42 88h1m9 0h1m11 0h1m32 0h1m17 0h1m15 0h1M24 89h1m10 0h1m1 0h1m4 0h1m45 0h1m8 0h1m15 0h1m5 0h1m12 0h1m33 0h1M13 90h1m21 0h2m2 0h2m2 0h1m2 0h3m8 0h1m1 0h1m2 0h1m7 0h1m30 0h1m6 0h1m14 0h1m7 0h1M27 91h1m6 0h1m15 0h2m1 0h1m9 0h1m20 0h1m12 0h1m11 0h1m11 0h1m3 0h1m3 0h1M13 92h2m13 0h1m6 0h1m2 0h1m29 0h1m18 0h1m19 0h1m16 0h1M34 93h1m9 0h1m11 0h1m8 0h1m12 0h1m22 0h1m9 0h1m2 0h1m2 0h1m1 0h1m1 0h2m4 0h1M14 94h1m22 0h1m24 0h1m1 0h1m13 0h1m3 0h1m40 0h1m5 0h1M22 95h1m23 0h1m6 0h1m22 0h1m14 0h1m4 0h1m4 0h1m24 0h1M15 96h1m25 0h1m49 0h1m14 0h1m11 0h1m7 0h1M19 97h1m2 0h1m17 0h1m34 0h1m2 0h1m7 0h1m1 0h1m10 0h1m14 0h1m4 0h1m6 0h2M39 98h1m4 0h1m21 0h1m6 0h1m45 0h1m10 0h1m2 0h1M36 99h1m4 0h1m20 0h1m39 0h1m45 0h1M32 100h1m29 0h1m2 0h1m12 0h1m21 0h1m33 0h1M17 101h1m3 0h1m55 0h1m2 0h1m14 0h1m3 0h1m3 0h1m4 0h1m1 0h1m3 0h1m18 0h1m22 0h1M17 102h1m30 0h1m34 0h1m5 0h1m9 0h1m6 0h1m11 0h1m13 0h1M19 103h1m15 0h1m26 0h1m2 0h1m3 0h1m8 0h1m8 0h1m5 0h1m4 0h2m3 0h1m6 0h1m6 0h1M33 104h1m6 0h1m4 0h1m16 0h1m10 0h1m1 0h1m2 0h2m2 0h1m11 0h1m22 0h1m11 0h1m20 0h1M20 105h1m21 0h1m18 0h1m9 0h1m17 0h1m7 0h1m41 0h1m11 0h1M61 106h1m6 0h2m6 0h1m33 0h1m14 0h1m3 0h1M21 107h1m10 0h2m7 0h1m21 0h1m14 0h1m23 0h1m12 0h1M37 108h1m17 0h1m5 0h1m4 0h1m7 0h1m13 0h1m36 0h1M45 109h1m17 0h1m45 0h1m9 0h1m1 0h2m7 0h1M42 110h1m42 0h1m3 0h1m36 0h1M23 111h1m14 0h1m5 0h1m21 0h1m34 0h1m7 0h1m7 0h1m3 0h1M25 112h2m8 0h1m9 0h1m15 0h1m4 0h1m14 0h1m5 0h1m14 0h2m14 0h1m4 0h2M26 113h1m12 0h1m13 0h1m6 0h1m2 0h1m15 0h1m8 0h2m3 0h1m18 0h1m2 0h1m13 0h1M27 114h1m10 0h1m6 0h1m5 0h1m7 0h1m21 0h1m6 0h1m18 0h2M38 115h1m12 0h1m8 0h1m19 0h1m27 0h1M32 116h2m7 0h1m27 0h1m7 0h1m15 0h1m15 0h2m13 0h1m13 0h1M32 117h1m13 0h1m22 0h1m7 0h1m4 0h1m1 0h1m33 0h1m8 0h1M63 118h1m27 0h1m15 0h1m1 0h1M31 119h1m38 0h1m5 0h1m45 0h1M46 120h1m22 0h1m24 0h1m4 0h1m8 0h1M42 121h1m16 0h1m1 0h1m8 0h1m7 0h1m53 0h1M28 122h2m6 0h1m2 0h1m18 0h1m22 0h1m2 0h1m30 0h1M32 123h1m40 0h1M29 124h1m32 0h1m21 0h2m8 0h1M50 125h1m8 0h1m65 0h1m14 0h1M31 126h1m41 0h1m7 0h1m8 0h1M39 127h1m11 0h2m17 0h1m11 0h2M29 128h1m22 0h1m10 0h1m9 0h2m18 0h1M24 129h1m3 0h1m3 0h1m31 0h1m12 0h1m4 0h1m34 0h1M54 130h1m28 0h1m17 0h2m28 0h1m7 0h1M52 131h1m1 0h1m2 0h1m1 0h1m19 0h1m1 0h1M24 132h1m18 0h1m9 0h1m15 0h1m11 0h1m2 0h1m11 0h1m13 0h1M48 133h1m1 0h1m18 0h1m4 0h1m4 0h1m9 0h1m1 0h1m11 0h1m7 0h1M74 134h1m34 0h1m1 0h1m22 0h1M48 135h1m24 0h1m35 0h1M57 136h1m17 0h1m1 0h1m23 0h1M30 137h1m23 0h1m3 0h1m15 0h1m7 0h1m9 0h1m6 0h1M88 138h1M56 139h1M29 141h1m40 0h1M48 143h1m2 0h1m8 0h1M56 144h1M65 145h1M36 146h1m26 0h1M51 147h1m11 0h1M39 148h1M49 151h1"/>
<path stroke="#A8DB34" d="M168 6h1M183 10h1M173 11h1M169 13h1M185 17h1M185 18h1M170 19h1m14 0h1M181 20h1M139 21h1M146 24h1M149 25h1M168 29h1m10 0h1M160 32h1M127 33h1M50 37h1M54 38h1M158 39h1M131 40h1M53 41h1M91 42h1M57 45h1m34 0h1m10 0h1m57 0h1M104 46h1m65 0h1m16 0h1M132 47h1M133 48h1m32 0h1M50 49h1m81 0h1m3 0h1m39 0h1M149 50h1m8 0h1M50 51h1m64 0h1m17 0h1m20 0h1m9 0h1M135 53h1m34 0h1M52 54h1M53 55h1m49 0h1M103 56h1m25 0h1m29 0h1M55 57h1m47 0h1M53 58h1m4 0h1m72 0h1m15 0h1m17 0h1m4 0h1M52 59h1M97 60h2m10 0h2m34 0h1M110 61h1m3 0h1m85 0h1M124 62h1M48 63h1m65 0h1M116 64h1M52 65h1m2 0h1m74 0h1m2 0h1m59 0h1m3 0h1M50 66h1m1 0h1m58 0h1m43 0h1m10 0h1M55 67h1m50 0h1m13 0h1M53 68h1m6 0h1m55 0h1m1 0h1m62 0h1M52 69h1m46 0h1m15 0h1m8 0h1m23 0h1m31 0h1m8 0h1M108 70h1m5 0h1m7 0h1m25 0h1M97 71h2m9 0h1m1 0h1m9 0h2m3 0h1M49 72h1m3 0h1m5 0h1m43 0h1m10 0h1m82 0h1M53 73h1m41 0h1m6 0h1m4 0h1m20 0h1m8 0h1M58 74h1m36 0h1m11 0h1m11 0h1m18 0h1m17 0h1m38 0h1M15 75h1m31 0h2m4 0h1m10 0h1m47 0h1m2 0h1m4 0h1m11 0h1M56 76h1m54 0h1m22 0h1m37 0h1M15 77h1m94 0h1m86 0h1M11 78h1m33 0h1m9 0h1m48 0h1m3 0h1m4 0h1m58 0h1m22 0h1M45 79h1m74 0h1m1 0h1m12 0h2M8 80h2m5 0h1m33 0h1m1 0h1m55 0h1m2 0h1m9 0h1m7 0h1m6 0h1M18 81h1m23 0h1m12 0h1m48 0h1m4 0h1m9 0h1m5 0h2m13 0h1M19 82h1m2 0h1m4 0h1m10 0h2m7 0h1m6 0h1m63 0h1m8 0h1m59 0h1M9 83h1m1 0h1m12 0h2m1 0h2m4 0h2m23 0h1m46 0h1m5 0h1m6 0h1M119 84h2M11 85h1m16 0h1m19 0h1m46 0h1m22 0h1m52 0h1m4 0h1m11 0h1M11 86h1m20 0h1m12 0h2m47 0h1m1 0h1m14 0h1m7 0h1m5 0h1m56 0h1m1 0h1M44 87h1m10 0h1m42 0h1m15 0h1m19 0h1m35 0h1M12 88h1m97 0h1m3 0h1m7 0h1m7 0h1M13 89h1m24 0h1m2 0h1m63 0h1m18 0h1m2 0h1m3 0h1M42 90h1m54 0h1m1 0h1m16 0h1m11 0h1M13 91h1m19 0h1m5 0h1m2 0h1m2 0h1m3 0h1m7 0h1m17 0h1m2 0h1m6 0h1m1 0h1m23 0h2m2 0h1m4 0h1m2 0h1M27 92h1m8 0h2m9 0h1m2 0h1m26 0h1m33 0h1m3 0h1m5 0h1M14 93h1m21 0h1m9 0h1m10 0h1m13 0h1m7 0h1m11 0h1m8 0h1m15 0h1m7 0h1M49 94h1m6 0h1m55 0h1m11 0h2m1 0h1M15 95h1m26 0h1m11 0h1m11 0h1m12 0h1m14 0h2m1 0h1m30 0h2M53 96h1m6 0h1m28 0h2m13 0h1m17 0h1m2 0h1m7 0h1M56 97h2m1 0h3m30 0h1m5 0h1m5 0h1m4 0h1m5 0h1m1 0h1m11 0h1m1 0h1m1 0h1M22 98h1m11 0h1m7 0h1m33 0h1m22 0h1m2 0h2m2 0h1m5 0h2m17 0h1m18 0h1M39 99h1m36 0h1m3 0h1m1 0h1m8 0h1m16 0h1m9 0h1m2 0h1m7 0h1M16 100h1m31 0h1m20 0h1m7 0h1m8 0h1m14 0h1m16 0h1m7 0h3m2 0h1m40 0h1M69 101h1m9 0h1m3 0h1m23 0h1m1 0h1m11 0h1m3 0h1m34 0h1M40 102h1m1 0h1m20 0h1m15 0h1m23 0h1m3 0h1m1 0h1m2 0h2m3 0h1m4 0h1m5 0h1m1 0h1m3 0h1m1 0h1m37 0h1M43 103h1m19 0h1m2 0h1m8 0h1m26 0h1m1 0h1m8 0h1m14 0h1M61 104h1m25 0h1m4 0h1m5 0h1m1 0h1m2 0h1m4 0h1m13 0h1m7 0h1m9 0h1m4 0h1M34 105h1m4 0h1m19 0h1m12 0h1m3 0h1m7 0h2m1 0h1m5 0h1m17 0h1m1 0h1m5 0h1m11 0h1M39 106h1m5 0h1m1 0h1m32 0h1m13 0h1m2 0h1m2 0h2m4 0h1m9 0h2m1 0h2m7 0h1M65 107h1m14 0h1m8 0h1m4 0h1m12 0h1m4 0h1m4 0h1m12 0h1m4 0h1m6 0h1M43 108h1m14 0h1m4 0h1m17 0h2m2 0h1m14 0h2m8 0h1m18 0h1M22 109h1m21 0h1m1 0h1m4 0h2m9 0h1m6 0h1m16 0h1m3 0h1m19 0h1m4 0h1m32 0h1M21 110h1m78 0h1m7 0h1m5 0h1m3 0h1m3 0h1m1 0h1m5 0h1m1 0h1M52 111h1m5 0h1m1 0h1m22 0h2m5 0h1m2 0h1m5 0h1m4 0h1m8 0h1m9 0h1m10 0h1m32 0h1M27 112h1m24 0h1m7 0h1m17 0h1m9 0h1m17 0h1m2 0h1m5 0h1m1 0h1m8 0h1m1 0h1M35 113h1m37 0h1m24 0h1m6 0h1m4 0h1m5 0h1m4 0h1M71 114h1m6 0h1m25 0h1m10 0h1m8 0h2m3 0h1M37 115h1m9 0h1m1 0h1m2 0h2m9 0h1m14 0h1m4 0h1m10 0h1m9 0h1m2 0h1m11 0h1m5 0h1M62 116h1m22 0h1m26 0h1m4 0h1m3 0h1m1 0h1M34 117h1m1 0h1m3 0h1m13 0h2m30 0h1m22 0h1m4 0h1M32 118h1m4 0h1m7 0h1m9 0h1m5 0h1m3 0h1m2 0h1m7 0h1m15 0h1m10 0h1m10 0h1m18 0h1m22 0h1M38 119h1m4 0h2m16 0h1m2 0h1m21 0h1m31 0h1m10 0h1M28 120h1m19 0h1m9 0h1m41 0h1m3 0h1m10 0h1m8 0h1M51 121h1m2 0h1m20 0h1m3 0h1m13 0h1M31 122h1m3 0h1m17 0h1m15 0h1m2 0h1m7 0h1m14 0h1m17 0h1M79 123h1m25 0h1M59 124h1m5 0h1m4 0h1m34 0h1m11 0h1M32 125h1m12 0h1m5 0h1m4 0h1m13 0h1m8 0h1m9 0h1m9 0h1m5 0h1m3 0h1m3 0h1M71 126h1m6 0h1m12 0h1m7 0h1M45 127h1m15 0h1m13 0h1m12 0h2m9 0h1m47 0h1M45 128h1m14 0h2m10 0h1m9 0h1m16 0h1M40 129h1m24 0h1m20 0h1m3 0h1m3 0h1m13 0h1M25 130h1m22 0h1m17 0h2m21 0h1m2 0h1M27 131h1m33 0h1m2 0h1m1 0h1m1 0h1m30 0h1m10 0h1M25 132h1m4 0h1m7 0h1m11 0h1m32 0h1M76 133h1m1 0h1m6 0h1m7 0h1M49 134h1m39 0h1m9 0h1m5 0h1m4 0h1M28 135h1m11 0h1m35 0h1m4 0h1m16 0h1m3 0h1m9 0h1m9 0h1M78 136h1m21 0h1M29 137h1m26 0h2m20 0h1m5 0h1m22 0h2M55 138h1M84 139h2m35 0h1m5 0h1M29 140h1m28 0h1m1 0h1m6 0h1m57 0h1M56 141h1m52 0h1m15 0h1M30 142h2m57 0h1M32 143h1m5 0h1m8 0h1m16 0h1m8 0h1m1 0h1m37 0h1M35 144h1m63 0h1M48 145h1M61 146h1m2 0h1M37 147h2m32 0h1M68 148h1M39 149h1M49 152h1"/>
<path stroke="#C5E021" d="M157 9h1M163 10h1M156 27h1M162 41h1M159 43h1M92 44h1M137 45h1M89 46h1m53 0h1M100 47h1m22 0h1M155 48h1m2 0h1M49 49h1m61 0h1m3 0h1m22 0h1M112 50h1m43 0h1m4 0h1m15 0h1M130 51h1m19 0h1M132 52h1m22 0h1m12 0h1M166 53h1M55 54h1m105 0h1m12 0h1M152 55h1M134 56h1M113 57h1m51 0h1M57 58h1m41 0h1m14 0h1m3 0h1m15 0h1m1 0h1m7 0h1M50 59h1m2 0h1m1 0h1m1 0h1M115 60h1m7 0h1m26 0h1M120 61h1m3 0h1m72 0h1M48 62h1m59 0h1m4 0h1m29 0h1m6 0h1M101 63h1M99 64h1m21 0h1m15 0h1m7 0h1m50 0h1M47 65h1m50 0h1m16 0h1m8 0h1m74 0h1M112 66h1m1 0h1m2 0h1m13 0h1m14 0h1m51 0h1M119 67h1m22 0h1m45 0h1M50 68h1m66 0h1m11 0h1m59 0h1M47 69h2m5 0h1m52 0h1M48 70h1m47 0h2m14 0h1m12 0h2m3 0h1m19 0h1M54 71h1m1 0h1m2 0h1m58 0h2m10 0h1M99 72h1m13 0h1m1 0h1m5 0h1m3 0h1m9 0h1m20 0h1M14 73h1m32 0h1m6 0h2m57 0h1m82 0h1m1 0h1M13 74h1m2 0h1m30 0h2m3 0h1m1 0h1m4 0h1m42 0h1m3 0h1m4 0h1m31 0h1M10 75h1m3 0h1m42 0h1m38 0h1m3 0h1m4 0h1m1 0h1m5 0h1m8 0h1m5 0h1m20 0h1m24 0h1M11 76h1m3 0h1m32 0h1m6 0h1m1 0h1m55 0h1m6 0h2m3 0h1m2 0h3M8 77h2m40 0h1m2 0h1m76 0h1M7 78h1m1 0h2m4 0h2m29 0h2m88 0h1m9 0h1m49 0h1M42 79h1m68 0h1m9 0h1m3 0h1m14 0h1m4 0h1M7 80h1m8 0h1m22 0h1m3 0h1m14 0h1m1 0h1m45 0h1m5 0h1m9 0h1m1 0h1m11 0h1m22 0h1M6 81h1m14 0h1m17 0h2m15 0h1m5 0h1m50 0h1m78 0h1M9 82h1m11 0h1m12 0h1m84 0h1m1 0h1m15 0h1m4 0h1M23 83h1m6 0h1m20 0h1m56 0h1m12 0h3M35 84h1m1 0h1m22 0h1m35 0h1m20 0h1m5 0h1m54 0h1m10 0h1M187 85h1M43 86h1m19 0h1m33 0h1m6 0h1m5 0h1m10 0h1M51 87h1m68 0h1m7 0h1M57 88h1m7 0h1m35 0h1m16 0h1m1 0h2m7 0h1m2 0h1M44 89h1m10 0h1m6 0h1m1 0h1m26 0h1m2 0h1m7 0h2m7 0h1m2 0h1m1 0h1m1 0h1m4 0h1M12 90h1m32 0h1m5 0h1m57 0h1m4 0h2m2 0h1m47 0h1m15 0h1M43 91h1m50 0h1m5 0h1m2 0h1m9 0h1m4 0h1M39 92h3m3 0h1m3 0h1m15 0h1m7 0h1m6 0h1m39 0h1M38 93h2m3 0h1m1 0h1m4 0h1m1 0h1m6 0h2m9 0h1m3 0h1m11 0h1m8 0h1m6 0h1m12 0h1m2 0h1m6 0h1m55 0h1M42 94h1m9 0h1m1 0h1m6 0h1m1 0h1m24 0h2m4 0h1m3 0h1m8 0h1m1 0h1m9 0h2m7 0h1m3 0h1M13 95h1m22 0h2m7 0h1m1 0h1m7 0h1m5 0h1m22 0h2m19 0h2m3 0h1m3 0h1m2 0h1m2 0h2m2 0h1m2 0h1m3 0h1m1 0h1M40 96h1m7 0h1m3 0h1m27 0h2m3 0h2m22 0h1m2 0h1m4 0h1m1 0h1m3 0h2m2 0h2m5 0h1M15 97h1m27 0h1m1 0h1m1 0h1m16 0h2m1 0h1m2 0h1m3 0h1m4 0h1m14 0h1m23 0h1m3 0h1m5 0h1m6 0h1m38 0h1M68 98h1m13 0h2m5 0h1m18 0h1m5 0h1m5 0h2m1 0h1m2 0h1m5 0h1m2 0h1m41 0h1M55 99h1m7 0h2m1 0h1m2 0h1m2 0h1m1 0h1m9 0h1m16 0h1m2 0h1m12 0h1m1 0h2m1 0h1m2 0h3m3 0h3m42 0h2M15 100h1m29 0h1m25 0h2m7 0h1m24 0h1m7 0h3m1 0h1m7 0h1m3 0h1M39 101h1m6 0h1m2 0h1m5 0h1m3 0h1m2 0h1m3 0h1m4 0h1m19 0h1m9 0h1m2 0h1m6 0h1m10 0h3m1 0h2m1 0h2M18 102h1m22 0h1m5 0h1m9 0h1m6 0h3m23 0h2m8 0h1m7 0h1m15 0h4m1 0h1M18 103h1m55 0h1m4 0h1m14 0h1m20 0h2m7 0h4m1 0h1m4 0h1M19 104h2m17 0h1m19 0h1m8 0h1m12 0h1m4 0h2m3 0h1m14 0h1m5 0h1m14 0h2m43 0h1M46 105h1m1 0h1m25 0h2m6 0h1m3 0h1m4 0h1m16 0h1m7 0h2m6 0h1m1 0h3m1 0h1M21 106h1m24 0h1m3 0h2m11 0h1m13 0h1m24 0h3m2 0h1m18 0h1M48 107h1m22 0h1m7 0h1m4 0h1m5 0h4m12 0h1m9 0h1m2 0h1m3 0h2m2 0h1m1 0h1M20 108h3m17 0h2m2 0h1m3 0h1m5 0h1m9 0h1m4 0h1m9 0h1m12 0h1m3 0h1m1 0h1m12 0h1m2 0h1m1 0h2m8 0h1m1 0h1m1 0h1m5 0h2m31 0h1M23 109h1m13 0h1m9 0h1m9 0h1m10 0h1m6 0h3m4 0h1m6 0h1m30 0h1m2 0h1m2 0h4m4 0h1M22 110h1m23 0h1m9 0h1m4 0h1m17 0h2m1 0h1m10 0h1m8 0h1m1 0h1m4 0h1m9 0h1m3 0h1m4 0h1m2 0h1m35 0h2M24 111h1m16 0h1m1 0h1m3 0h1m22 0h2m6 0h1m2 0h1m10 0h1m12 0h1m6 0h1m7 0h1m1 0h1m3 0h1m39 0h1M23 112h1m7 0h1m7 0h1m8 0h1m6 0h1m3 0h1m11 0h1m1 0h1m6 0h1m15 0h2m7 0h1m14 0h2m5 0h1m3 0h1M50 113h1m3 0h1m2 0h1m1 0h1m8 0h1m11 0h2m9 0h1m3 0h1m13 0h1m4 0h1m5 0h1m1 0h1m7 0h1m33 0h1M39 114h1m8 0h1m1 0h1m2 0h1m15 0h1m5 0h1m1 0h1m4 0h1m12 0h1m31 0h1M28 115h1m16 0h1m4 0h1m4 0h1m6 0h1m5 0h1m15 0h1m7 0h1m21 0h1m5 0h1m1 0h2m38 0h1M43 116h1m12 0h2m1 0h1m7 0h2m6 0h1m5 0h1m8 0h1m5 0h1m10 0h1m8 0h1m43 0h1M26 117h1m31 0h1m47 0h1m1 0h1m7 0h1m5 0h1m3 0h1m31 0h1M28 118h1m2 0h1m24 0h1m3 0h1m3 0h1m13 0h1m7 0h1m3 0h1m3 0h1m9 0h2m2 0h1m14 0h2M46 119h1m7 0h1m1 0h1m3 0h1m2 0h1m5 0h1m12 0h1m17 0h1m8 0h1m5 0h1m8 0h1m32 0h1M33 120h1m8 0h1m19 0h1m1 0h2m5 0h1m3 0h1m1 0h1m6 0h1m13 0h1m13 0h1m7 0h1M31 121h1m5 0h1m33 0h3m28 0h1m10 0h1m1 0h1m21 0h1M45 122h2m14 0h1m11 0h1m1 0h1m1 0h1m24 0h1m9 0h1m1 0h1m4 0h1m35 0h1M31 123h1m10 0h1m2 0h1m24 0h2m3 0h2m5 0h1m6 0h1m62 0h1m1 0h1M31 124h1m10 0h1m1 0h1m13 0h1m9 0h1m7 0h2m1 0h1m12 0h1m11 0h1m48 0h1M46 125h1m2 0h1m8 0h1m9 0h1m11 0h1m6 0h1m7 0h2m17 0h1M28 126h1m11 0h2m1 0h1m23 0h1m11 0h2m5 0h1m5 0h1m4 0h1m2 0h1m11 0h1M26 127h3m9 0h1m21 0h1m13 0h1m2 0h1m9 0h1m2 0h1m6 0h1m10 0h1M22 128h1m28 0h1m6 0h1m7 0h1m2 0h1m9 0h1m21 0h1m6 0h1m18 0h1M29 129h1m24 0h1m14 0h2m42 0h1m32 0h1M28 130h1m10 0h1m28 0h2m3 0h2m2 0h1m7 0h1m1 0h1m10 0h1m46 0h1M32 131h1m2 0h1m33 0h1m2 0h1m13 0h1m5 0h1m9 0h1M47 132h1m1 0h1m5 0h1m15 0h1m5 0h1m4 0h1m7 0h1M23 133h1m30 0h2m21 0h1m2 0h1m17 0h1m11 0h1M62 134h1m16 0h1m59 0h1M25 135h1m1 0h1m21 0h1m20 0h1m4 0h1m1 0h1m1 0h2m30 0h1M53 136h1m2 0h1m25 0h1m2 0h1m3 0h1M27 137h1m78 0h1M32 138h1m34 0h1m15 0h1m13 0h1M74 139h1m4 0h1m28 0h2m19 0h1M65 140h1m37 0h1m12 0h1m9 0h1M57 141h1m3 0h1m61 0h1M56 142h1m4 0h1m32 0h1M29 143h1m1 0h1m44 0h1m2 0h2m9 0h1m20 0h1M27 144h2m10 0h1m31 0h2m13 0h1m6 0h2m2 0h1m8 0h2m4 0h1M33 145h1m35 0h1m18 0h1M33 146h1m37 0h1m30 0h2M57 147h1m6 0h2M64 148h2M55 149h1m6 0h1M50 150h2M52 151h1M48 153h1"/>
<path stroke="#E2E418" d="M180 21h1M190 23h1M188 33h1M192 39h1M167 42h1m16 0h1M130 43h1M166 44h1M93 45h1m12 0h1M92 46h1M95 48h1m42 0h1M99 49h1m39 0h1M148 50h1M131 51h1m25 0h2m9 0h1M135 52h1M147 53h1M107 54h1m61 0h1M105 55h1m57 0h1M109 56h1m38 0h1M135 57h1m9 0h1M49 58h1m74 0h2m1 0h1m20 0h1m52 0h2M51 59h1m53 0h1m2 0h1m55 0h1m13 0h1M52 60h1m54 0h1M48 61h1m1 0h1m1 0h1m59 0h1m88 0h1M123 62h1m20 0h2m2 0h1m31 0h1M110 63h1m33 0h1m54 0h1M111 64h1m31 0h1m56 0h1M48 65h2m52 0h1m24 0h1m14 0h1m53 0h1M47 66h1m1 0h1m4 0h2m41 0h1m18 0h1m4 0h1m1 0h1m34 0h1m30 0h1M49 67h1m4 0h1m47 0h1m18 0h1m67 0h1m8 0h2M105 68h1m1 0h2m13 0h1m75 0h2M50 69h1m62 0h1m2 0h1m82 0h1M47 70h1m4 0h1m1 0h1m2 0h3m47 0h1m3 0h1m7 0h1m1 0h1m7 0h1m39 0h3m25 0h1M57 71h1m48 0h1m4 0h3m85 0h1M12 72h2m93 0h1m8 0h2m6 0h1m19 0h1M9 73h2m2 0h1m34 0h1m1 0h1m57 0h1m3 0h1m3 0h2m1 0h1m1 0h1m9 0h1m20 0h1M10 74h2m39 0h1m4 0h2m43 0h1m12 0h1m5 0h1m4 0h1m3 0h2m4 0h1m54 0h1m6 0h2M9 75h1m1 0h1m39 0h1m6 0h2m57 0h1m3 0h1m3 0h1m64 0h1m6 0h1M9 76h1m37 0h1m5 0h2m59 0h1m11 0h2m4 0h1m2 0h2m4 0h1m50 0h1m2 0h1M16 77h1m29 0h2m9 0h1m2 0h1m47 0h1m2 0h1m15 0h1m4 0h1m2 0h1m1 0h1m58 0h1M5 78h2m36 0h2m12 0h1m49 0h1m4 0h1m1 0h1m5 0h1m2 0h1M17 79h1m23 0h1m17 0h1m47 0h1m1 0h1m2 0h1m1 0h2m3 0h1m3 0h1m22 0h1m46 0h1m1 0h1M6 80h1m10 0h1m1 0h1m34 0h1m1 0h1m4 0h1m47 0h1m9 0h1m74 0h1M8 81h1m13 0h1m15 0h1m14 0h2m55 0h2m5 0h2m1 0h1m1 0h1m64 0h1m5 0h1M23 82h1m2 0h1m1 0h4m1 0h1m1 0h2m23 0h1m1 0h1m46 0h2m1 0h2m6 0h1m3 0h1m66 0h2M8 83h1m26 0h1m73 0h1m2 0h2m2 0h2m1 0h2m4 0h2m62 0h1M54 84h1m47 0h2m5 0h1m6 0h1m8 0h1M110 85h1m4 0h1m3 0h1M10 86h1m42 0h1m59 0h1m2 0h3m67 0h1M99 87h1m2 0h1m13 0h3m65 0h1M11 88h1m39 0h1m4 0h1m1 0h1m4 0h1m34 0h1m3 0h1m10 0h1m2 0h1m2 0h1m7 0h1m42 0h1m12 0h2M50 89h2m5 0h2m45 0h1m12 0h1m64 0h1M11 90h1m32 0h1m4 0h2m5 0h1m4 0h1m27 0h1m8 0h1m13 0h1M40 91h2m2 0h1m2 0h2m3 0h1m1 0h1m41 0h1m1 0h1m2 0h1m12 0h1m2 0h1m63 0h1M12 92h1m29 0h3m9 0h1m1 0h2m17 0h1m3 0h1m16 0h2m6 0h1m3 0h1m3 0h1m1 0h1m1 0h3m45 0h1m16 0h1M12 93h1m27 0h3m4 0h1m1 0h1m5 0h1m2 0h1m14 0h1m16 0h1m1 0h1m4 0h1m6 0h1m3 0h2M41 94h1m6 0h1m11 0h1m22 0h1m2 0h1m10 0h1m12 0h2m4 0h2m3 0h1M41 95h1m2 0h1m13 0h3m1 0h1m18 0h1m4 0h1m2 0h2m1 0h1m9 0h2m3 0h1m1 0h1m3 0h1m1 0h2m1 0h1m3 0h1m7 0h1m48 0h1M14 96h1m27 0h1m4 0h1m6 0h2m2 0h2m24 0h1m14 0h1m14 0h3m3 0h2m8 0h2m46 0h2M14 97h1m31 0h1m1 0h2m1 0h1m1 0h2m7 0h1m18 0h1m19 0h1m4 0h1m5 0h2m9 0h3M15 98h2m24 0h1m1 0h1m2 0h1m1 0h1m1 0h1m4 0h2m1 0h1m4 0h2m4 0h1m16 0h1m7 0h1m14 0h3m3 0h4m5 0h2m1 0h3M35 99h1m9 0h1m15 0h1m13 0h1m5 0h1m1 0h1m2 0h3m14 0h1m1 0h1m1 0h1m2 0h3m1 0h2m8 0h1M42 100h2m3 0h1m1 0h1m3 0h1m4 0h2m1 0h1m11 0h1m7 0h1m2 0h1m2 0h1m11 0h1m3 0h1m3 0h1m1 0h1m1 0h2m6 0h4m1 0h1m10 0h2m39 0h1M16 101h1m25 0h1m7 0h1m9 0h1m4 0h1m1 0h1m2 0h1m1 0h1m1 0h1m9 0h1m4 0h1m12 0h1m9 0h2m2 0h4m11 0h2m1 0h2m38 0h1M45 102h1m3 0h5m13 0h1m3 0h1m2 0h1m2 0h1m2 0h1m5 0h1m5 0h1m2 0h1m5 0h2m1 0h2m8 0h3m2 0h3m1 0h1m9 0h1m4 0h1M16 103h1m25 0h1m6 0h1m3 0h1m1 0h4m1 0h1m3 0h1m6 0h1m1 0h1m11 0h2m2 0h1m5 0h1m4 0h1m4 0h2m11 0h5m10 0h1m39 0h1M42 104h3m4 0h1m1 0h1m3 0h1m1 0h1m2 0h1m2 0h4m3 0h1m1 0h1m11 0h1m10 0h1m10 0h1m5 0h5m2 0h3m1 0h3m2 0h1m43 0h1M49 105h1m3 0h1m9 0h1m2 0h3m8 0h2m15 0h1m3 0h1m5 0h1m1 0h2m4 0h1m7 0h4m1 0h1m3 0h1m41 0h1M19 106h1m35 0h1m1 0h1m1 0h1m2 0h1m3 0h2m3 0h1m1 0h1m1 0h1m2 0h1m3 0h2m4 0h1m2 0h1m21 0h3m5 0h4m5 0h2m38 0h1M46 107h1m2 0h1m7 0h5m2 0h1m1 0h1m8 0h1m1 0h1m7 0h1m2 0h1m7 0h2m6 0h1m3 0h2m3 0h1m4 0h1m2 0h2m2 0h1m2 0h1m41 0h1M46 108h2m4 0h2m2 0h2m2 0h1m10 0h2m2 0h1m1 0h1m2 0h1m10 0h1m5 0h1m1 0h1m5 0h1m2 0h2m8 0h7m2 0h1m3 0h1m15 0h1M20 109h2m18 0h1m2 0h1m4 0h1m1 0h1m9 0h2m4 0h1m3 0h1m10 0h1m2 0h1m6 0h1m5 0h1m1 0h1m8 0h1m9 0h1m50 0h1M37 110h1m1 0h1m5 0h1m1 0h2m4 0h3m1 0h1m1 0h1m2 0h2m5 0h1m1 0h2m3 0h2m3 0h1m4 0h1m4 0h1m4 0h1m6 0h1m16 0h2m5 0h1M48 111h1m1 0h2m3 0h1m5 0h1m5 0h1m12 0h1m4 0h2m4 0h1m5 0h1m2 0h1m7 0h1m1 0h1m4 0h2m1 0h2m5 0h1m1 0h1m2 0h1M47 112h1m8 0h1m8 0h1m3 0h2m1 0h1m1 0h1m8 0h1m2 0h1m4 0h2m11 0h1m2 0h1m2 0h1m11 0h1m6 0h1M25 113h1m1 0h1m13 0h1m5 0h1m22 0h1m1 0h1m9 0h1m3 0h1m3 0h1m3 0h1m1 0h1m2 0h1m2 0h1m4 0h1m3 0h1m11 0h1m2 0h1m1 0h1m32 0h1m1 0h1m1 0h1M42 114h2m20 0h1m2 0h1m2 0h1m3 0h1m4 0h1m5 0h2m2 0h1m6 0h1m14 0h2m5 0h1m3 0h1m3 0h1m35 0h1M26 115h2m16 0h1m3 0h1m5 0h1m12 0h1m2 0h1m1 0h1m2 0h1m6 0h1m4 0h1m8 0h1m9 0h1m6 0h1m12 0h1m1 0h1M26 116h3m5 0h1m9 0h1m10 0h1m7 0h1m2 0h1m4 0h3m2 0h1m7 0h1m1 0h2m1 0h1m1 0h1m2 0h1m9 0h3m1 0h1m10 0h2m19 0h1M33 117h1m1 0h1m1 0h2m3 0h1m18 0h1m4 0h3m3 0h1m14 0h2m3 0h1m2 0h1m63 0h1M36 118h1m11 0h1m4 0h2m11 0h1m3 0h2m11 0h1m1 0h1m1 0h1m69 0h1M33 119h2m18 0h1m3 0h1m9 0h1m3 0h1m1 0h1m3 0h1m6 0h2m2 0h1m2 0h1M30 120h1m1 0h1m11 0h1m4 0h1m2 0h1m8 0h1m8 0h1m2 0h2m1 0h1m6 0h1m9 0h1m9 0h1m1 0h1m48 0h1m2 0h1M45 121h1m3 0h1m10 0h1m1 0h1m11 0h1m6 0h1m12 0h1m3 0h1m1 0h1m17 0h1m9 0h1m26 0h1M38 122h1m17 0h1m6 0h1m7 0h1m11 0h1m15 0h1m6 0h1M28 123h1m10 0h1m4 0h1m1 0h1m5 0h1m27 0h1m2 0h1m4 0h1m6 0h1m15 0h1M39 124h1m13 0h1m17 0h2m2 0h1m4 0h2m4 0h1m2 0h1m8 0h1m3 0h1M67 125h1m1 0h1m2 0h2m7 0h1m2 0h1m7 0h1m1 0h1m3 0h1m3 0h1m39 0h1m8 0h1M42 126h1m14 0h1m7 0h1m2 0h1m3 0h1m9 0h2m1 0h1m1 0h1m6 0h1m9 0h2m4 0h1m39 0h1M76 127h1m1 0h2m4 0h3m5 0h2m2 0h1m9 0h1M24 128h3m29 0h1m11 0h1m2 0h1m5 0h1m6 0h1m3 0h1m1 0h1m3 0h1m10 0h1m7 0h1m33 0h1m1 0h1M22 129h1m4 0h1m39 0h1m3 0h1m16 0h2m1 0h1m1 0h1m5 0h1m40 0h1m6 0h1M22 130h1m8 0h1m18 0h1m13 0h1m7 0h1m2 0h2m2 0h1m1 0h1m2 0h1m6 0h1m8 0h1m3 0h1M23 131h1m9 0h1m10 0h1m11 0h1m10 0h1m5 0h1m4 0h1m1 0h1m1 0h3m2 0h1m2 0h1m6 0h1m5 0h1m40 0h1M22 132h1m47 0h1m5 0h1m2 0h2m7 0h1m4 0h1m3 0h1m1 0h1m2 0h2m38 0h2M24 133h1m26 0h2m28 0h1m5 0h1m8 0h2m2 0h1m3 0h1M56 134h1m12 0h1m3 0h1m6 0h1m3 0h1m11 0h1m6 0h1m34 0h1m1 0h1M54 135h1m16 0h1m25 0h1m3 0h1m2 0h1m29 0h1m1 0h2M25 136h1m1 0h1m32 0h1m4 0h1m10 0h1m4 0h1m16 0h1m25 0h1m10 0h1M45 137h1m17 0h1m70 0h1M27 138h2m55 0h1m46 0h1m1 0h1M51 139h1m3 0h1m3 0h1m70 0h2M28 140h1m28 0h1m10 0h1m33 0h1m15 0h4m1 0h1m5 0h1M28 141h1m29 0h1m56 0h2m9 0h1M40 142h1m21 0h1m30 0h1M28 143h1m4 0h1m24 0h1m19 0h1m10 0h1m3 0h1m3 0h1m9 0h2m1 0h1M30 144h1m1 0h2m2 0h2m38 0h1m1 0h1m1 0h1m3 0h1m3 0h1m6 0h2m16 0h1m1 0h2M29 145h1m4 0h1m32 0h1m4 0h2m13 0h1m13 0h1M28 146h1m5 0h1m32 0h1m4 0h2m31 0h1M28 147h1m4 0h2m5 0h1m7 0h1m3 0h1m5 0h1m7 0h3m1 0h1M36 148h2m19 0h1m3 0h1m1 0h1m2 0h2M37 149h1m2 0h1m13 0h1m2 0h2m4 0h1M39 151h1m1 0h1M42 152h2m4 0h1M43 153h4"/>
<path stroke="#FDE725" d="M169 22h1M166 32h1M102 45h1M165 47h1M99 48h1m1 0h1M155 50h1M121 51h1M169 53h1M128 54h1M102 55h1m5 0h1m44 0h1M108 56h1m1 0h1M202 59h1M120 60h1m81 0h1M121 61h1m80 0h1M121 62h1m3 0h1m75 0h1M117 63h1m82 0h2M55 64h1M50 65h1m48 0h1m11 0h1m86 0h1m1 0h1M199 66h2M51 67h1m1 0h1m44 0h1m18 0h1M47 68h2m2 0h1m61 0h1M55 69h1m49 0h2m5 0h1M53 70h1m1 0h1m57 0h1m6 0h1m78 0h1M48 71h1m4 0h1m55 0h1m7 0h1m5 0h1m74 0h1M10 72h2m100 0h1m7 0h1m1 0h1m4 0h1m70 0h1M49 73h1m2 0h1m53 0h1m7 0h2m4 0h1M9 74h1m4 0h2m33 0h2m53 0h1m7 0h2m1 0h1m1 0h2m7 0h1m1 0h1m2 0h1M16 75h1m33 0h1m1 0h1m46 0h1m16 0h1m1 0h1m8 0h1m2 0h1M10 76h1m5 0h1m32 0h1m8 0h1m53 0h1m2 0h5m2 0h3m72 0h1M6 77h2m36 0h2m2 0h1m63 0h2m1 0h5m1 0h2m5 0h1m18 0h1M42 78h1m67 0h1m5 0h4m13 0h1M5 79h2m9 0h1m96 0h1m2 0h3m77 0h1M18 80h1m1 0h1m19 0h2m69 0h1m1 0h6m7 0h2m67 0h1M7 81h1m12 0h1m2 0h1m88 0h1m1 0h3m6 0h2m69 0h1M8 82h1m15 0h2m6 0h1m78 0h1m2 0h4m5 0h1m1 0h1M36 83h3m15 0h1m55 0h1m3 0h2m74 0h2M8 84h1m101 0h3m2 0h1m2 0h1m3 0h1m65 0h1M8 85h3m100 0h1m1 0h1m3 0h1m2 0h1m65 0h1M99 86h1m20 0h1m64 0h1M10 87h1m45 0h1m48 0h1m9 0h1m69 0h1M10 88h1m106 0h1m10 0h1M11 89h1m171 0h1M52 90h1m64 0h1m63 0h1M12 91h1m33 0h1M51 92h1m1 0h1m4 0h2m39 0h1M13 93h1m37 0h1m2 0h1m78 0h1m46 0h1M13 94h1m25 0h1m5 0h1m4 0h2m3 0h1m1 0h3m27 0h1m2 0h1m8 0h1m6 0h1m11 0h1m61 0h1M48 95h5m3 0h2m40 0h3m18 0h1m3 0h1m56 0h1M13 96h1m29 0h3m3 0h3m4 0h2m42 0h2m27 0h1M42 97h1m7 0h1m1 0h1m5 0h1m4 0h1m19 0h1m16 0h1m2 0h1m12 0h1m60 0h2M14 98h1m25 0h1m8 0h1m1 0h4m2 0h1m1 0h4m21 0h1m6 0h1m8 0h1M15 99h1m24 0h1m1 0h1m4 0h8m1 0h5m4 0h1m19 0h1m3 0h2m15 0h1m2 0h1m6 0h1m6 0h1M41 100h1m2 0h1m1 0h1m3 0h3m1 0h4m2 0h1m2 0h2m17 0h1m6 0h2m11 0h1m1 0h1m1 0h1m1 0h1m1 0h1m5 0h1m15 0h1m42 0h1M15 101h1m25 0h1m1 0h1m1 0h1m1 0h2m2 0h4m1 0h2m3 0h1m2 0h1m21 0h2m12 0h1m19 0h1m54 0h1M16 102h1m26 0h2m1 0h1m7 0h3m1 0h3m9 0h1m17 0h1m7 0h1m1 0h1m74 0h1M17 103h1m26 0h5m1 0h3m1 0h1m4 0h1m7 0h1m20 0h1m1 0h2m4 0h2M17 104h2m27 0h3m1 0h1m1 0h3m1 0h1m2 0h1m16 0h1m11 0h2m7 0h1m3 0h1m5 0h1m30 0h1m34 0h1M18 105h2m30 0h3m1 0h1m1 0h3m1 0h1m1 0h1m1 0h2m13 0h3m6 0h1m6 0h1m5 0h1m12 0h1m57 0h1M48 106h2m2 0h2m2 0h1m1 0h1m5 0h2m8 0h1m4 0h1m4 0h2m3 0h2m2 0h1m1 0h2m1 0h2m71 0h1M19 107h2m26 0h1m2 0h1m4 0h2m16 0h1m12 0h1m8 0h1m2 0h1m2 0h1m3 0h1m14 0h1M49 108h3m7 0h1m2 0h1m7 0h1m15 0h1m8 0h1m7 0h2m1 0h2m62 0h1M42 109h1m6 0h1m6 0h1m1 0h2m11 0h1m1 0h1m6 0h1m4 0h1m9 0h2m9 0h2m45 0h1m14 0h1M49 110h2m1 0h1m5 0h1m8 0h2m1 0h1m13 0h1m10 0h1m1 0h2m6 0h3M22 111h1m26 0h1m4 0h1m7 0h2m4 0h1m5 0h3m2 0h1m2 0h1m12 0h1m10 0h2M22 112h1m1 0h1m13 0h1m11 0h2m12 0h1m2 0h2m15 0h1m80 0h2M24 113h1m20 0h1m5 0h2m3 0h1m7 0h1m2 0h1m3 0h1m2 0h2m7 0h1m3 0h1m18 0h1m1 0h1m4 0h1M25 114h2m27 0h1m1 0h2m8 0h1m6 0h1m6 0h1m2 0h2m6 0h2m16 0h1m3 0h2m4 0h3m41 0h1M42 115h2m20 0h1m6 0h1m1 0h2m15 0h2m29 0h1m17 0h1m21 0h1M52 116h1m1 0h1m19 0h1m7 0h1m9 0h1m25 0h1m6 0h1m13 0h1m19 0h1m1 0h1M27 117h1m34 0h1m16 0h2m36 0h1m38 0h2M27 118h1m29 0h1m9 0h1m90 0h1M27 119h1m37 0h1m6 0h1m53 0h1M27 120h1m3 0h1m3 0h1m2 0h1m4 0h1m9 0h1m13 0h1m13 0h1m74 0h1M27 121h1m15 0h1m3 0h1m18 0h1m17 0h1m10 0h1m5 0h1m54 0h1M27 122h1m16 0h1m29 0h1m79 0h1M27 123h1m41 0h1m2 0h1m1 0h1m6 0h1m12 0h1m8 0h1m49 0h1M27 124h1m9 0h1m16 0h1m40 0h1m14 0h1m41 0h1M27 125h1m37 0h1m16 0h1m2 0h1m2 0h1m2 0h1m11 0h1m48 0h1M27 126h1m67 0h1m55 0h1M95 127h1m14 0h1m38 0h2M23 128h1m4 0h1m13 0h1m3 0h1m28 0h1m10 0h2m1 0h1m1 0h2m13 0h1m41 0h1M26 129h1m47 0h2m4 0h1m4 0h1m6 0h1m3 0h1m10 0h1m37 0h1M71 130h1m14 0h1m1 0h1m1 0h1m4 0h1m3 0h1m5 0h1m38 0h1M22 131h1m47 0h1m4 0h1m9 0h1m2 0h2m8 0h1m1 0h2m41 0h1M23 132h1m61 0h1m1 0h1m10 0h1m1 0h2M67 133h1m7 0h1m16 0h1m6 0h1m2 0h1m38 0h2M24 134h2m29 0h1m22 0h1m23 0h1m38 0h1M55 135h1m12 0h1m26 0h1m42 0h1M26 136h1m78 0h1m3 0h1m26 0h1M28 137h1m31 0h1m40 0h1m33 0h1M132 138h1m1 0h1M28 139h1M78 140h1m38 0h1m4 0h1m4 0h2M117 141h1m6 0h1M28 142h1m86 0h1M81 143h1m9 0h2m16 0h1m2 0h1m2 0h2M29 144h1m1 0h1m2 0h1m23 0h1m14 0h3m1 0h1m1 0h1m1 0h3m1 0h1m3 0h1m8 0h1m15 0h1M27 145h2m7 0h1m33 0h1m12 0h1m2 0h1m12 0h2m1 0h1m3 0h1M29 146h1m29 0h1m8 0h3m33 0h1m1 0h1M29 147h1m5 0h1m33 0h1M29 148h1m3 0h3m22 0h3m1 0h1m6 0h2M38 149h1m12 0h1m1 0h1m2 0h1m7 0h1M40 150h1m11 0h2M40 151h1m1 0h1m7 0h2M50 152h1M47 153h1"/>
</g>
<rect x="1000.60" y="1169.60" width="775.2" height="674.3" fill="url(#cg11)" clip-path="url(#mclip11)"/>
<text x="109.4" y="362.8" font-size="37" fill="#4D4D4D" text-anchor="end" textLength="86.5" lengthAdjust="spacingAndGlyphs">22°S</text>
<text x="109.4" y="466.5" font-size="37" fill="#4D4D4D" text-anchor="end" textLength="86.5" lengthAdjust="spacingAndGlyphs">24°S</text>
<text x="109.4" y="570.3" font-size="37" fill="#4D4D4D" text-anchor="end" textLength="86.5" lengthAdjust="spacingAndGlyphs">26°S</text>
<text x="109.4" y="674.0" font-size="37" fill="#4D4D4D" text-anchor="end" textLength="86.5" lengthAdjust="spacingAndGlyphs">28°S</text>
<text x="109.4" y="777.8" font-size="37" fill="#4D4D4D" text-anchor="end" textLength="86.5" lengthAdjust="spacingAndGlyphs">30°S</text>
<text x="109.4" y="881.5" font-size="37" fill="#4D4D4D" text-anchor="end" textLength="86.5" lengthAdjust="spacingAndGlyphs">32°S</text>
<text x="109.4" y="985.2" font-size="37" fill="#4D4D4D" text-anchor="end" textLength="86.5" lengthAdjust="spacingAndGlyphs">34°S</text>
<path d="M119.4 349.6H131M119.4 453.3H131M119.4 557.1H131M119.4 660.8H131M119.4 764.6H131M119.4 868.3H131M119.4 972.0H131" stroke="#333" stroke-width="4.3"/>
<text x="109.4" y="1182.8" font-size="37" fill="#4D4D4D" text-anchor="end" textLength="86.5" lengthAdjust="spacingAndGlyphs">22°S</text>
<text x="109.4" y="1286.5" font-size="37" fill="#4D4D4D" text-anchor="end" textLength="86.5" lengthAdjust="spacingAndGlyphs">24°S</text>
<text x="109.4" y="1390.3" font-size="37" fill="#4D4D4D" text-anchor="end" textLength="86.5" lengthAdjust="spacingAndGlyphs">26°S</text>
<text x="109.4" y="1494.0" font-size="37" fill="#4D4D4D" text-anchor="end" textLength="86.5" lengthAdjust="spacingAndGlyphs">28°S</text>
<text x="109.4" y="1597.8" font-size="37" fill="#4D4D4D" text-anchor="end" textLength="86.5" lengthAdjust="spacingAndGlyphs">30°S</text>
<text x="109.4" y="1701.5" font-size="37" fill="#4D4D4D" text-anchor="end" textLength="86.5" lengthAdjust="spacingAndGlyphs">32°S</text>
<text x="109.4" y="1805.2" font-size="37" fill="#4D4D4D" text-anchor="end" textLength="86.5" lengthAdjust="spacingAndGlyphs">34°S</text>
<path d="M119.4 1169.6H131M119.4 1273.3H131M119.4 1377.1H131M119.4 1480.8H131M119.4 1584.6H131M119.4 1688.3H131M119.4 1792.0H131" stroke="#333" stroke-width="4.3"/>
<text x="332.0" y="1915.2" font-size="37" fill="#4D4D4D" text-anchor="middle" textLength="89.4" lengthAdjust="spacingAndGlyphs">20°E</text>
<text x="560.0" y="1915.2" font-size="37" fill="#4D4D4D" text-anchor="middle" textLength="89.4" lengthAdjust="spacingAndGlyphs">25°E</text>
<text x="788.0" y="1915.2" font-size="37" fill="#4D4D4D" text-anchor="middle" textLength="89.4" lengthAdjust="spacingAndGlyphs">30°E</text>
<text x="1183.0" y="1915.2" font-size="37" fill="#4D4D4D" text-anchor="middle" textLength="89.4" lengthAdjust="spacingAndGlyphs">20°E</text>
<text x="1411.0" y="1915.2" font-size="37" fill="#4D4D4D" text-anchor="middle" textLength="89.4" lengthAdjust="spacingAndGlyphs">25°E</text>
<text x="1639.0" y="1915.2" font-size="37" fill="#4D4D4D" text-anchor="middle" textLength="89.4" lengthAdjust="spacingAndGlyphs">30°E</text>
<path d="M332.0 1868.5V1880M560.0 1868.5V1880M788.0 1868.5V1880M1183.0 1868.5V1880M1411.0 1868.5V1880M1639.0 1868.5V1880" stroke="#333" stroke-width="4.3"/>
<defs><linearGradient id="vg" x1="0" y1="1" x2="0" y2="0"><stop offset="0.000" stop-color="#440154"/><stop offset="0.091" stop-color="#482173"/><stop offset="0.182" stop-color="#433E85"/><stop offset="0.273" stop-color="#38598C"/><stop offset="0.364" stop-color="#2D708E"/><stop offset="0.455" stop-color="#25858E"/><stop offset="0.545" stop-color="#1E9B8A"/><stop offset="0.636" stop-color="#2BB07F"/><stop offset="0.727" stop-color="#51C56A"/><stop offset="0.818" stop-color="#85D54A"/><stop offset="0.909" stop-color="#C2DF23"/><stop offset="1.000" stop-color="#FDE725"/></linearGradient></defs>
<rect x="1878" y="947.5" width="72" height="359" fill="url(#vg)"/>
<text x="1974" y="1319.7" font-size="37" fill="#000" textLength="78.6" lengthAdjust="spacingAndGlyphs">0.00</text>
<text x="1974" y="1230.0" font-size="37" fill="#000" textLength="78.6" lengthAdjust="spacingAndGlyphs">0.25</text>
<text x="1974" y="1140.2" font-size="37" fill="#000" textLength="78.6" lengthAdjust="spacingAndGlyphs">0.50</text>
<text x="1974" y="1050.5" font-size="37" fill="#000" textLength="78.6" lengthAdjust="spacingAndGlyphs">0.75</text>
<text x="1974" y="960.7" font-size="37" fill="#000" textLength="78.6" lengthAdjust="spacingAndGlyphs">1.00</text>
<path d="M1878 1306.50h14.4M1935.6 1306.50h14.4M1878 1216.75h14.4M1935.6 1216.75h14.4M1878 1127.00h14.4M1935.6 1127.00h14.4M1878 1037.25h14.4M1935.6 1037.25h14.4M1878 947.50h14.4M1935.6 947.50h14.4" stroke="#F2F2F2" stroke-width="1.6"/>
<text x="1878" y="920" font-size="46" fill="#000" textLength="65" lengthAdjust="spacingAndGlyphs">psi</text>
<defs><pattern id="cg00" patternUnits="userSpaceOnUse" x="149.60" y="349.600" width="3.8000" height="4.3225"><path d="M0 0H3.8000M0 0V4.3225" stroke="#EBEBEB" stroke-opacity="0.4" stroke-width="1.0" fill="none"/></pattern><clipPath id="mclip00"><path transform="translate(0,0)" d="M765.4 354.3L780.4 354.3L780.4 358.6L791.8 358.6L791.8 363.0L845.0 363.0L845.0 367.2L849.0 367.2L849.0 376.2L852.8 376.2L852.8 389.0L856.5 389.0L856.5 402.1L860.4 402.1L860.4 427.7L864.0 427.7L864.0 432.4L867.9 432.4L867.9 444.8L871.7 444.8L871.7 449.5L875.6 449.5L875.6 461.9L879.5 461.9L879.5 471.0L883.0 471.0L883.0 544.3L879.4 544.3L879.4 557.0L872.2 557.0L872.2 552.8L860.2 552.8L860.2 549.0L853.0 549.0L853.0 544.3L848.9 544.3L848.9 549.0L845.2 549.0L845.2 552.8L841.1 552.8L841.1 561.0L837.5 561.0L837.5 565.7L833.9 565.7L833.9 574.5L829.7 574.5L829.7 579.0L826.1 579.0L826.1 596.3L829.7 596.3L829.7 600.4L833.9 600.4L833.9 613.9L837.5 613.9L837.5 618.0L845.2 618.0L845.2 622.0L868.0 622.0L868.0 626.3L879.4 626.3L879.4 601.0L883.0 601.0L883.0 596.3L887.0 596.3L887.0 601.0L920.8 601.0L920.8 618.0L917.0 618.0L917.0 626.3L913.5 626.3L913.5 639.7L909.9 639.7L909.9 661.0L905.8 661.0L905.8 674.0L902.1 674.0L902.1 686.3L898.0 686.3L898.0 695.6L886.8 703.7L882.9 708.3L864.3 720.7L856.5 726.2L848.8 734.7L841.0 747.1L837.1 764.2L825.5 776.6L821.6 786.0L814.6 793.7L802.2 812.4L787.4 834.1L768.0 848.1L750.9 866.7L738.4 884.7L734.5 889.3L730.6 894.0L726.7 898.6L722.8 902.5L715.1 907.2L708.1 911.1L700.3 915.7L697.2 924.3L689.4 928.9L685.6 932.8L670.0 937.5L666.1 946.0L658.4 950.7L647.5 954.5L639.8 958.4L632.0 959.2L632.0 963.9L617.2 963.9L617.2 959.2L597.8 959.2L597.8 963.9L590.1 963.9L590.1 967.7L593.9 967.7L593.9 976.3L575.3 976.3L575.3 972.4L559.8 972.4L559.8 976.3L555.9 976.3L555.9 984.8L537.3 984.8L537.3 980.9L525.6 980.9L525.6 976.3L503.1 976.3L503.1 972.4L491.7 973.2L491.7 976.3L487.9 977.0L487.9 980.9L476.2 980.9L476.2 977.0L469.2 977.0L469.2 980.9L465.3 980.9L465.3 977.0L430.4 977.0L430.4 984.8L423.4 985.6L423.4 988.7L419.5 989.5L419.5 994.1L397.0 994.1L397.0 998.0L385.4 998.0L385.4 994.1L373.7 994.1L373.7 998.0L355.1 998.0L351.2 1002.7L351.2 1006.6L343.4 1007.3L343.4 1011.2L335.7 1011.2L335.7 1015.9L313.2 1015.9L313.2 1011.2L309.3 1011.2L309.3 1007.3L298.4 1006.6L298.4 1002.7L301.5 1002.7L301.5 998.0L290.7 998.0L290.7 994.1L275.1 993.4L275.1 976.3L264.3 977.8L264.3 993.4L260.4 993.4L256.5 989.5L256.5 980.9L252.6 980.2L252.6 972.4L255.7 971.6L256.5 959.2L256.5 951.4L252.6 950.7L252.6 942.1L244.8 941.3L244.8 933.6L241.0 928.9L237.1 925.0L233.2 924.3L233.2 903.3L248.7 903.3L252.6 894.8L252.6 858.9L248.5 858.9L248.5 850.4L244.6 846.5L240.7 841.9L236.9 838.0L233.0 834.1L233.0 829.4L229.9 825.6L226.0 824.8L226.0 817.0L222.1 812.4L218.2 807.7L214.3 799.9L210.5 799.2L210.5 790.6L206.6 789.8L206.6 778.2L202.7 777.4L202.7 768.9L198.8 768.1L198.8 756.5L195.7 755.7L195.7 743.3L191.8 742.5L191.8 734.7L188.0 733.9L188.0 722.3L184.1 722.3L180.2 716.9L180.2 708.3L176.3 704.4L172.4 703.7L172.4 695.9L168.5 695.1L168.5 687.4L176.3 683.5L184.1 682.7L184.1 669.5L188.0 661.0L202.7 661.0L206.6 666.4L213.6 670.3L214.3 687.4L217.5 695.9L229.1 695.9L229.1 699.8L240.7 700.6L240.7 704.4L289.7 704.4L289.7 708.3L293.5 708.3L294.3 700.6L298.2 695.9L305.2 695.9L305.2 692.8L309.1 692.0L309.8 687.4L316.8 687.4L317.6 683.5L328.5 682.7L328.0 631.1L332.1 631.1L332.1 492.4L339.3 492.4L343.5 496.6L350.7 505.9L354.9 510.0L362.1 522.4L366.3 527.6L369.4 544.2L373.5 552.5L373.5 570.0L366.3 574.2L362.1 579.0L362.1 600.1L366.3 600.1L366.3 596.4L377.6 596.4L377.6 600.1L393.2 600.1L393.2 596.4L400.4 596.4L400.4 600.1L407.7 600.1L411.8 592.2L419.0 587.2L423.2 583.1L427.3 579.0L431.5 574.8L438.7 565.9L446.0 561.8L453.2 556.6L454.2 544.2L457.3 531.8L461.5 526.6L465.6 522.4L469.4 518.3L494.6 518.3L499.8 522.9L507.0 527.6L511.2 535.9L525.7 535.9L525.7 540.0L537.1 540.0L537.1 544.2L559.8 544.2L559.8 540.0L586.7 540.0L586.7 531.8L590.9 527.6L590.9 518.3L594.0 514.2L594.0 510.0L598.1 500.7L602.3 492.4L609.5 488.3L617.1 483.6L628.7 475.1L636.2 470.9L640.0 461.9L643.8 458.0L647.4 436.3L651.2 432.4L655.1 427.7L659.0 423.1L662.9 419.2L678.1 410.7L685.4 406.0L689.3 402.1L693.2 397.5L697.0 389.0L701.0 385.0L704.5 380.4L712.0 376.2L731.2 371.8L738.7 363.0L742.5 358.6L765.4 358.6ZM654.7 743.3L666.3 739.4L670.2 734.7L678.0 726.2L681.8 713.0L689.6 709.1L701.2 704.4L705.1 699.8L716.8 695.9L723.8 691.2L727.6 699.8L731.5 703.7L739.3 699.8L743.2 703.7L747.0 708.3L750.9 713.0L758.7 716.9L761.8 721.5L765.7 721.5L765.7 734.0L761.8 734.7L757.9 739.4L757.9 747.1L754.0 751.8L750.2 755.7L754.0 756.5L754.0 760.3L750.2 761.1L750.2 764.2L746.3 765.0L739.3 768.9L739.3 772.8L716.8 773.5L712.1 778.2L712.1 790.6L708.2 790.6L704.3 795.3L704.3 799.2L681.8 799.2L678.0 794.5L674.1 790.6L670.2 786.7L666.3 773.5L666.3 766.6L662.4 764.2L658.5 760.3L658.5 747.9Z" clip-rule="evenodd"/></clipPath><pattern id="cg10" patternUnits="userSpaceOnUse" x="1000.60" y="349.600" width="3.8000" height="4.3225"><path d="M0 0H3.8000M0 0V4.3225" stroke="#EBEBEB" stroke-opacity="0.4" stroke-width="1.0" fill="none"/></pattern><clipPath id="mclip10"><path transform="translate(851,0)" d="M765.4 354.3L780.4 354.3L780.4 358.6L791.8 358.6L791.8 363.0L845.0 363.0L845.0 367.2L849.0 367.2L849.0 376.2L852.8 376.2L852.8 389.0L856.5 389.0L856.5 402.1L860.4 402.1L860.4 427.7L864.0 427.7L864.0 432.4L867.9 432.4L867.9 444.8L871.7 444.8L871.7 449.5L875.6 449.5L875.6 461.9L879.5 461.9L879.5 471.0L883.0 471.0L883.0 544.3L879.4 544.3L879.4 557.0L872.2 557.0L872.2 552.8L860.2 552.8L860.2 549.0L853.0 549.0L853.0 544.3L848.9 544.3L848.9 549.0L845.2 549.0L845.2 552.8L841.1 552.8L841.1 561.0L837.5 561.0L837.5 565.7L833.9 565.7L833.9 574.5L829.7 574.5L829.7 579.0L826.1 579.0L826.1 596.3L829.7 596.3L829.7 600.4L833.9 600.4L833.9 613.9L837.5 613.9L837.5 618.0L845.2 618.0L845.2 622.0L868.0 622.0L868.0 626.3L879.4 626.3L879.4 601.0L883.0 601.0L883.0 596.3L887.0 596.3L887.0 601.0L920.8 601.0L920.8 618.0L917.0 618.0L917.0 626.3L913.5 626.3L913.5 639.7L909.9 639.7L909.9 661.0L905.8 661.0L905.8 674.0L902.1 674.0L902.1 686.3L898.0 686.3L898.0 695.6L886.8 703.7L882.9 708.3L864.3 720.7L856.5 726.2L848.8 734.7L841.0 747.1L837.1 764.2L825.5 776.6L821.6 786.0L814.6 793.7L802.2 812.4L787.4 834.1L768.0 848.1L750.9 866.7L738.4 884.7L734.5 889.3L730.6 894.0L726.7 898.6L722.8 902.5L715.1 907.2L708.1 911.1L700.3 915.7L697.2 924.3L689.4 928.9L685.6 932.8L670.0 937.5L666.1 946.0L658.4 950.7L647.5 954.5L639.8 958.4L632.0 959.2L632.0 963.9L617.2 963.9L617.2 959.2L597.8 959.2L597.8 963.9L590.1 963.9L590.1 967.7L593.9 967.7L593.9 976.3L575.3 976.3L575.3 972.4L559.8 972.4L559.8 976.3L555.9 976.3L555.9 984.8L537.3 984.8L537.3 980.9L525.6 980.9L525.6 976.3L503.1 976.3L503.1 972.4L491.7 973.2L491.7 976.3L487.9 977.0L487.9 980.9L476.2 980.9L476.2 977.0L469.2 977.0L469.2 980.9L465.3 980.9L465.3 977.0L430.4 977.0L430.4 984.8L423.4 985.6L423.4 988.7L419.5 989.5L419.5 994.1L397.0 994.1L397.0 998.0L385.4 998.0L385.4 994.1L373.7 994.1L373.7 998.0L355.1 998.0L351.2 1002.7L351.2 1006.6L343.4 1007.3L343.4 1011.2L335.7 1011.2L335.7 1015.9L313.2 1015.9L313.2 1011.2L309.3 1011.2L309.3 1007.3L298.4 1006.6L298.4 1002.7L301.5 1002.7L301.5 998.0L290.7 998.0L290.7 994.1L275.1 993.4L275.1 976.3L264.3 977.8L264.3 993.4L260.4 993.4L256.5 989.5L256.5 980.9L252.6 980.2L252.6 972.4L255.7 971.6L256.5 959.2L256.5 951.4L252.6 950.7L252.6 942.1L244.8 941.3L244.8 933.6L241.0 928.9L237.1 925.0L233.2 924.3L233.2 903.3L248.7 903.3L252.6 894.8L252.6 858.9L248.5 858.9L248.5 850.4L244.6 846.5L240.7 841.9L236.9 838.0L233.0 834.1L233.0 829.4L229.9 825.6L226.0 824.8L226.0 817.0L222.1 812.4L218.2 807.7L214.3 799.9L210.5 799.2L210.5 790.6L206.6 789.8L206.6 778.2L202.7 777.4L202.7 768.9L198.8 768.1L198.8 756.5L195.7 755.7L195.7 743.3L191.8 742.5L191.8 734.7L188.0 733.9L188.0 722.3L184.1 722.3L180.2 716.9L180.2 708.3L176.3 704.4L172.4 703.7L172.4 695.9L168.5 695.1L168.5 687.4L176.3 683.5L184.1 682.7L184.1 669.5L188.0 661.0L202.7 661.0L206.6 666.4L213.6 670.3L214.3 687.4L217.5 695.9L229.1 695.9L229.1 699.8L240.7 700.6L240.7 704.4L289.7 704.4L289.7 708.3L293.5 708.3L294.3 700.6L298.2 695.9L305.2 695.9L305.2 692.8L309.1 692.0L309.8 687.4L316.8 687.4L317.6 683.5L328.5 682.7L328.0 631.1L332.1 631.1L332.1 492.4L339.3 492.4L343.5 496.6L350.7 505.9L354.9 510.0L362.1 522.4L366.3 527.6L369.4 544.2L373.5 552.5L373.5 570.0L366.3 574.2L362.1 579.0L362.1 600.1L366.3 600.1L366.3 596.4L377.6 596.4L377.6 600.1L393.2 600.1L393.2 596.4L400.4 596.4L400.4 600.1L407.7 600.1L411.8 592.2L419.0 587.2L423.2 583.1L427.3 579.0L431.5 574.8L438.7 565.9L446.0 561.8L453.2 556.6L454.2 544.2L457.3 531.8L461.5 526.6L465.6 522.4L469.4 518.3L494.6 518.3L499.8 522.9L507.0 527.6L511.2 535.9L525.7 535.9L525.7 540.0L537.1 540.0L537.1 544.2L559.8 544.2L559.8 540.0L586.7 540.0L586.7 531.8L590.9 527.6L590.9 518.3L594.0 514.2L594.0 510.0L598.1 500.7L602.3 492.4L609.5 488.3L617.1 483.6L628.7 475.1L636.2 470.9L640.0 461.9L643.8 458.0L647.4 436.3L651.2 432.4L655.1 427.7L659.0 423.1L662.9 419.2L678.1 410.7L685.4 406.0L689.3 402.1L693.2 397.5L697.0 389.0L701.0 385.0L704.5 380.4L712.0 376.2L731.2 371.8L738.7 363.0L742.5 358.6L765.4 358.6ZM654.7 743.3L666.3 739.4L670.2 734.7L678.0 726.2L681.8 713.0L689.6 709.1L701.2 704.4L705.1 699.8L716.8 695.9L723.8 691.2L727.6 699.8L731.5 703.7L739.3 699.8L743.2 703.7L747.0 708.3L750.9 713.0L758.7 716.9L761.8 721.5L765.7 721.5L765.7 734.0L761.8 734.7L757.9 739.4L757.9 747.1L754.0 751.8L750.2 755.7L754.0 756.5L754.0 760.3L750.2 761.1L750.2 764.2L746.3 765.0L739.3 768.9L739.3 772.8L716.8 773.5L712.1 778.2L712.1 790.6L708.2 790.6L704.3 795.3L704.3 799.2L681.8 799.2L678.0 794.5L674.1 790.6L670.2 786.7L666.3 773.5L666.3 766.6L662.4 764.2L658.5 760.3L658.5 747.9Z" clip-rule="evenodd"/></clipPath><pattern id="cg01" patternUnits="userSpaceOnUse" x="149.60" y="1169.600" width="3.8000" height="4.3225"><path d="M0 0H3.8000M0 0V4.3225" stroke="#EBEBEB" stroke-opacity="0.4" stroke-width="1.0" fill="none"/></pattern><clipPath id="mclip01"><path transform="translate(0,820)" d="M765.4 354.3L780.4 354.3L780.4 358.6L791.8 358.6L791.8 363.0L845.0 363.0L845.0 367.2L849.0 367.2L849.0 376.2L852.8 376.2L852.8 389.0L856.5 389.0L856.5 402.1L860.4 402.1L860.4 427.7L864.0 427.7L864.0 432.4L867.9 432.4L867.9 444.8L871.7 444.8L871.7 449.5L875.6 449.5L875.6 461.9L879.5 461.9L879.5 471.0L883.0 471.0L883.0 544.3L879.4 544.3L879.4 557.0L872.2 557.0L872.2 552.8L860.2 552.8L860.2 549.0L853.0 549.0L853.0 544.3L848.9 544.3L848.9 549.0L845.2 549.0L845.2 552.8L841.1 552.8L841.1 561.0L837.5 561.0L837.5 565.7L833.9 565.7L833.9 574.5L829.7 574.5L829.7 579.0L826.1 579.0L826.1 596.3L829.7 596.3L829.7 600.4L833.9 600.4L833.9 613.9L837.5 613.9L837.5 618.0L845.2 618.0L845.2 622.0L868.0 622.0L868.0 626.3L879.4 626.3L879.4 601.0L883.0 601.0L883.0 596.3L887.0 596.3L887.0 601.0L920.8 601.0L920.8 618.0L917.0 618.0L917.0 626.3L913.5 626.3L913.5 639.7L909.9 639.7L909.9 661.0L905.8 661.0L905.8 674.0L902.1 674.0L902.1 686.3L898.0 686.3L898.0 695.6L886.8 703.7L882.9 708.3L864.3 720.7L856.5 726.2L848.8 734.7L841.0 747.1L837.1 764.2L825.5 776.6L821.6 786.0L814.6 793.7L802.2 812.4L787.4 834.1L768.0 848.1L750.9 866.7L738.4 884.7L734.5 889.3L730.6 894.0L726.7 898.6L722.8 902.5L715.1 907.2L708.1 911.1L700.3 915.7L697.2 924.3L689.4 928.9L685.6 932.8L670.0 937.5L666.1 946.0L658.4 950.7L647.5 954.5L639.8 958.4L632.0 959.2L632.0 963.9L617.2 963.9L617.2 959.2L597.8 959.2L597.8 963.9L590.1 963.9L590.1 967.7L593.9 967.7L593.9 976.3L575.3 976.3L575.3 972.4L559.8 972.4L559.8 976.3L555.9 976.3L555.9 984.8L537.3 984.8L537.3 980.9L525.6 980.9L525.6 976.3L503.1 976.3L503.1 972.4L491.7 973.2L491.7 976.3L487.9 977.0L487.9 980.9L476.2 980.9L476.2 977.0L469.2 977.0L469.2 980.9L465.3 980.9L465.3 977.0L430.4 977.0L430.4 984.8L423.4 985.6L423.4 988.7L419.5 989.5L419.5 994.1L397.0 994.1L397.0 998.0L385.4 998.0L385.4 994.1L373.7 994.1L373.7 998.0L355.1 998.0L351.2 1002.7L351.2 1006.6L343.4 1007.3L343.4 1011.2L335.7 1011.2L335.7 1015.9L313.2 1015.9L313.2 1011.2L309.3 1011.2L309.3 1007.3L298.4 1006.6L298.4 1002.7L301.5 1002.7L301.5 998.0L290.7 998.0L290.7 994.1L275.1 993.4L275.1 976.3L264.3 977.8L264.3 993.4L260.4 993.4L256.5 989.5L256.5 980.9L252.6 980.2L252.6 972.4L255.7 971.6L256.5 959.2L256.5 951.4L252.6 950.7L252.6 942.1L244.8 941.3L244.8 933.6L241.0 928.9L237.1 925.0L233.2 924.3L233.2 903.3L248.7 903.3L252.6 894.8L252.6 858.9L248.5 858.9L248.5 850.4L244.6 846.5L240.7 841.9L236.9 838.0L233.0 834.1L233.0 829.4L229.9 825.6L226.0 824.8L226.0 817.0L222.1 812.4L218.2 807.7L214.3 799.9L210.5 799.2L210.5 790.6L206.6 789.8L206.6 778.2L202.7 777.4L202.7 768.9L198.8 768.1L198.8 756.5L195.7 755.7L195.7 743.3L191.8 742.5L191.8 734.7L188.0 733.9L188.0 722.3L184.1 722.3L180.2 716.9L180.2 708.3L176.3 704.4L172.4 703.7L172.4 695.9L168.5 695.1L168.5 687.4L176.3 683.5L184.1 682.7L184.1 669.5L188.0 661.0L202.7 661.0L206.6 666.4L213.6 670.3L214.3 687.4L217.5 695.9L229.1 695.9L229.1 699.8L240.7 700.6L240.7 704.4L289.7 704.4L289.7 708.3L293.5 708.3L294.3 700.6L298.2 695.9L305.2 695.9L305.2 692.8L309.1 692.0L309.8 687.4L316.8 687.4L317.6 683.5L328.5 682.7L328.0 631.1L332.1 631.1L332.1 492.4L339.3 492.4L343.5 496.6L350.7 505.9L354.9 510.0L362.1 522.4L366.3 527.6L369.4 544.2L373.5 552.5L373.5 570.0L366.3 574.2L362.1 579.0L362.1 600.1L366.3 600.1L366.3 596.4L377.6 596.4L377.6 600.1L393.2 600.1L393.2 596.4L400.4 596.4L400.4 600.1L407.7 600.1L411.8 592.2L419.0 587.2L423.2 583.1L427.3 579.0L431.5 574.8L438.7 565.9L446.0 561.8L453.2 556.6L454.2 544.2L457.3 531.8L461.5 526.6L465.6 522.4L469.4 518.3L494.6 518.3L499.8 522.9L507.0 527.6L511.2 535.9L525.7 535.9L525.7 540.0L537.1 540.0L537.1 544.2L559.8 544.2L559.8 540.0L586.7 540.0L586.7 531.8L590.9 527.6L590.9 518.3L594.0 514.2L594.0 510.0L598.1 500.7L602.3 492.4L609.5 488.3L617.1 483.6L628.7 475.1L636.2 470.9L640.0 461.9L643.8 458.0L647.4 436.3L651.2 432.4L655.1 427.7L659.0 423.1L662.9 419.2L678.1 410.7L685.4 406.0L689.3 402.1L693.2 397.5L697.0 389.0L701.0 385.0L704.5 380.4L712.0 376.2L731.2 371.8L738.7 363.0L742.5 358.6L765.4 358.6ZM654.7 743.3L666.3 739.4L670.2 734.7L678.0 726.2L681.8 713.0L689.6 709.1L701.2 704.4L705.1 699.8L716.8 695.9L723.8 691.2L727.6 699.8L731.5 703.7L739.3 699.8L743.2 703.7L747.0 708.3L750.9 713.0L758.7 716.9L761.8 721.5L765.7 721.5L765.7 734.0L761.8 734.7L757.9 739.4L757.9 747.1L754.0 751.8L750.2 755.7L754.0 756.5L754.0 760.3L750.2 761.1L750.2 764.2L746.3 765.0L739.3 768.9L739.3 772.8L716.8 773.5L712.1 778.2L712.1 790.6L708.2 790.6L704.3 795.3L704.3 799.2L681.8 799.2L678.0 794.5L674.1 790.6L670.2 786.7L666.3 773.5L666.3 766.6L662.4 764.2L658.5 760.3L658.5 747.9Z" clip-rule="evenodd"/></clipPath><pattern id="cg11" patternUnits="userSpaceOnUse" x="1000.60" y="1169.600" width="3.8000" height="4.3225"><path d="M0 0H3.8000M0 0V4.3225" stroke="#EBEBEB" stroke-opacity="0.4" stroke-width="1.0" fill="none"/></pattern><clipPath id="mclip11"><path transform="translate(851,820)" d="M765.4 354.3L780.4 354.3L780.4 358.6L791.8 358.6L791.8 363.0L845.0 363.0L845.0 367.2L849.0 367.2L849.0 376.2L852.8 376.2L852.8 389.0L856.5 389.0L856.5 402.1L860.4 402.1L860.4 427.7L864.0 427.7L864.0 432.4L867.9 432.4L867.9 444.8L871.7 444.8L871.7 449.5L875.6 449.5L875.6 461.9L879.5 461.9L879.5 471.0L883.0 471.0L883.0 544.3L879.4 544.3L879.4 557.0L872.2 557.0L872.2 552.8L860.2 552.8L860.2 549.0L853.0 549.0L853.0 544.3L848.9 544.3L848.9 549.0L845.2 549.0L845.2 552.8L841.1 552.8L841.1 561.0L837.5 561.0L837.5 565.7L833.9 565.7L833.9 574.5L829.7 574.5L829.7 579.0L826.1 579.0L826.1 596.3L829.7 596.3L829.7 600.4L833.9 600.4L833.9 613.9L837.5 613.9L837.5 618.0L845.2 618.0L845.2 622.0L868.0 622.0L868.0 626.3L879.4 626.3L879.4 601.0L883.0 601.0L883.0 596.3L887.0 596.3L887.0 601.0L920.8 601.0L920.8 618.0L917.0 618.0L917.0 626.3L913.5 626.3L913.5 639.7L909.9 639.7L909.9 661.0L905.8 661.0L905.8 674.0L902.1 674.0L902.1 686.3L898.0 686.3L898.0 695.6L886.8 703.7L882.9 708.3L864.3 720.7L856.5 726.2L848.8 734.7L841.0 747.1L837.1 764.2L825.5 776.6L821.6 786.0L814.6 793.7L802.2 812.4L787.4 834.1L768.0 848.1L750.9 866.7L738.4 884.7L734.5 889.3L730.6 894.0L726.7 898.6L722.8 902.5L715.1 907.2L708.1 911.1L700.3 915.7L697.2 924.3L689.4 928.9L685.6 932.8L670.0 937.5L666.1 946.0L658.4 950.7L647.5 954.5L639.8 958.4L632.0 959.2L632.0 963.9L617.2 963.9L617.2 959.2L597.8 959.2L597.8 963.9L590.1 963.9L590.1 967.7L593.9 967.7L593.9 976.3L575.3 976.3L575.3 972.4L559.8 972.4L559.8 976.3L555.9 976.3L555.9 984.8L537.3 984.8L537.3 980.9L525.6 980.9L525.6 976.3L503.1 976.3L503.1 972.4L491.7 973.2L491.7 976.3L487.9 977.0L487.9 980.9L476.2 980.9L476.2 977.0L469.2 977.0L469.2 980.9L465.3 980.9L465.3 977.0L430.4 977.0L430.4 984.8L423.4 985.6L423.4 988.7L419.5 989.5L419.5 994.1L397.0 994.1L397.0 998.0L385.4 998.0L385.4 994.1L373.7 994.1L373.7 998.0L355.1 998.0L351.2 1002.7L351.2 1006.6L343.4 1007.3L343.4 1011.2L335.7 1011.2L335.7 1015.9L313.2 1015.9L313.2 1011.2L309.3 1011.2L309.3 1007.3L298.4 1006.6L298.4 1002.7L301.5 1002.7L301.5 998.0L290.7 998.0L290.7 994.1L275.1 993.4L275.1 976.3L264.3 977.8L264.3 993.4L260.4 993.4L256.5 989.5L256.5 980.9L252.6 980.2L252.6 972.4L255.7 971.6L256.5 959.2L256.5 951.4L252.6 950.7L252.6 942.1L244.8 941.3L244.8 933.6L241.0 928.9L237.1 925.0L233.2 924.3L233.2 903.3L248.7 903.3L252.6 894.8L252.6 858.9L248.5 858.9L248.5 850.4L244.6 846.5L240.7 841.9L236.9 838.0L233.0 834.1L233.0 829.4L229.9 825.6L226.0 824.8L226.0 817.0L222.1 812.4L218.2 807.7L214.3 799.9L210.5 799.2L210.5 790.6L206.6 789.8L206.6 778.2L202.7 777.4L202.7 768.9L198.8 768.1L198.8 756.5L195.7 755.7L195.7 743.3L191.8 742.5L191.8 734.7L188.0 733.9L188.0 722.3L184.1 722.3L180.2 716.9L180.2 708.3L176.3 704.4L172.4 703.7L172.4 695.9L168.5 695.1L168.5 687.4L176.3 683.5L184.1 682.7L184.1 669.5L188.0 661.0L202.7 661.0L206.6 666.4L213.6 670.3L214.3 687.4L217.5 695.9L229.1 695.9L229.1 699.8L240.7 700.6L240.7 704.4L289.7 704.4L289.7 708.3L293.5 708.3L294.3 700.6L298.2 695.9L305.2 695.9L305.2 692.8L309.1 692.0L309.8 687.4L316.8 687.4L317.6 683.5L328.5 682.7L328.0 631.1L332.1 631.1L332.1 492.4L339.3 492.4L343.5 496.6L350.7 505.9L354.9 510.0L362.1 522.4L366.3 527.6L369.4 544.2L373.5 552.5L373.5 570.0L366.3 574.2L362.1 579.0L362.1 600.1L366.3 600.1L366.3 596.4L377.6 596.4L377.6 600.1L393.2 600.1L393.2 596.4L400.4 596.4L400.4 600.1L407.7 600.1L411.8 592.2L419.0 587.2L423.2 583.1L427.3 579.0L431.5 574.8L438.7 565.9L446.0 561.8L453.2 556.6L454.2 544.2L457.3 531.8L461.5 526.6L465.6 522.4L469.4 518.3L494.6 518.3L499.8 522.9L507.0 527.6L511.2 535.9L525.7 535.9L525.7 540.0L537.1 540.0L537.1 544.2L559.8 544.2L559.8 540.0L586.7 540.0L586.7 531.8L590.9 527.6L590.9 518.3L594.0 514.2L594.0 510.0L598.1 500.7L602.3 492.4L609.5 488.3L617.1 483.6L628.7 475.1L636.2 470.9L640.0 461.9L643.8 458.0L647.4 436.3L651.2 432.4L655.1 427.7L659.0 423.1L662.9 419.2L678.1 410.7L685.4 406.0L689.3 402.1L693.2 397.5L697.0 389.0L701.0 385.0L704.5 380.4L712.0 376.2L731.2 371.8L738.7 363.0L742.5 358.6L765.4 358.6ZM654.7 743.3L666.3 739.4L670.2 734.7L678.0 726.2L681.8 713.0L689.6 709.1L701.2 704.4L705.1 699.8L716.8 695.9L723.8 691.2L727.6 699.8L731.5 703.7L739.3 699.8L743.2 703.7L747.0 708.3L750.9 713.0L758.7 716.9L761.8 721.5L765.7 721.5L765.7 734.0L761.8 734.7L757.9 739.4L757.9 747.1L754.0 751.8L750.2 755.7L754.0 756.5L754.0 760.3L750.2 761.1L750.2 764.2L746.3 765.0L739.3 768.9L739.3 772.8L716.8 773.5L712.1 778.2L712.1 790.6L708.2 790.6L704.3 795.3L704.3 799.2L681.8 799.2L678.0 794.5L674.1 790.6L670.2 786.7L666.3 773.5L666.3 766.6L662.4 764.2L658.5 760.3L658.5 747.9Z" clip-rule="evenodd"/></clipPath></defs>
</svg></body></html>
